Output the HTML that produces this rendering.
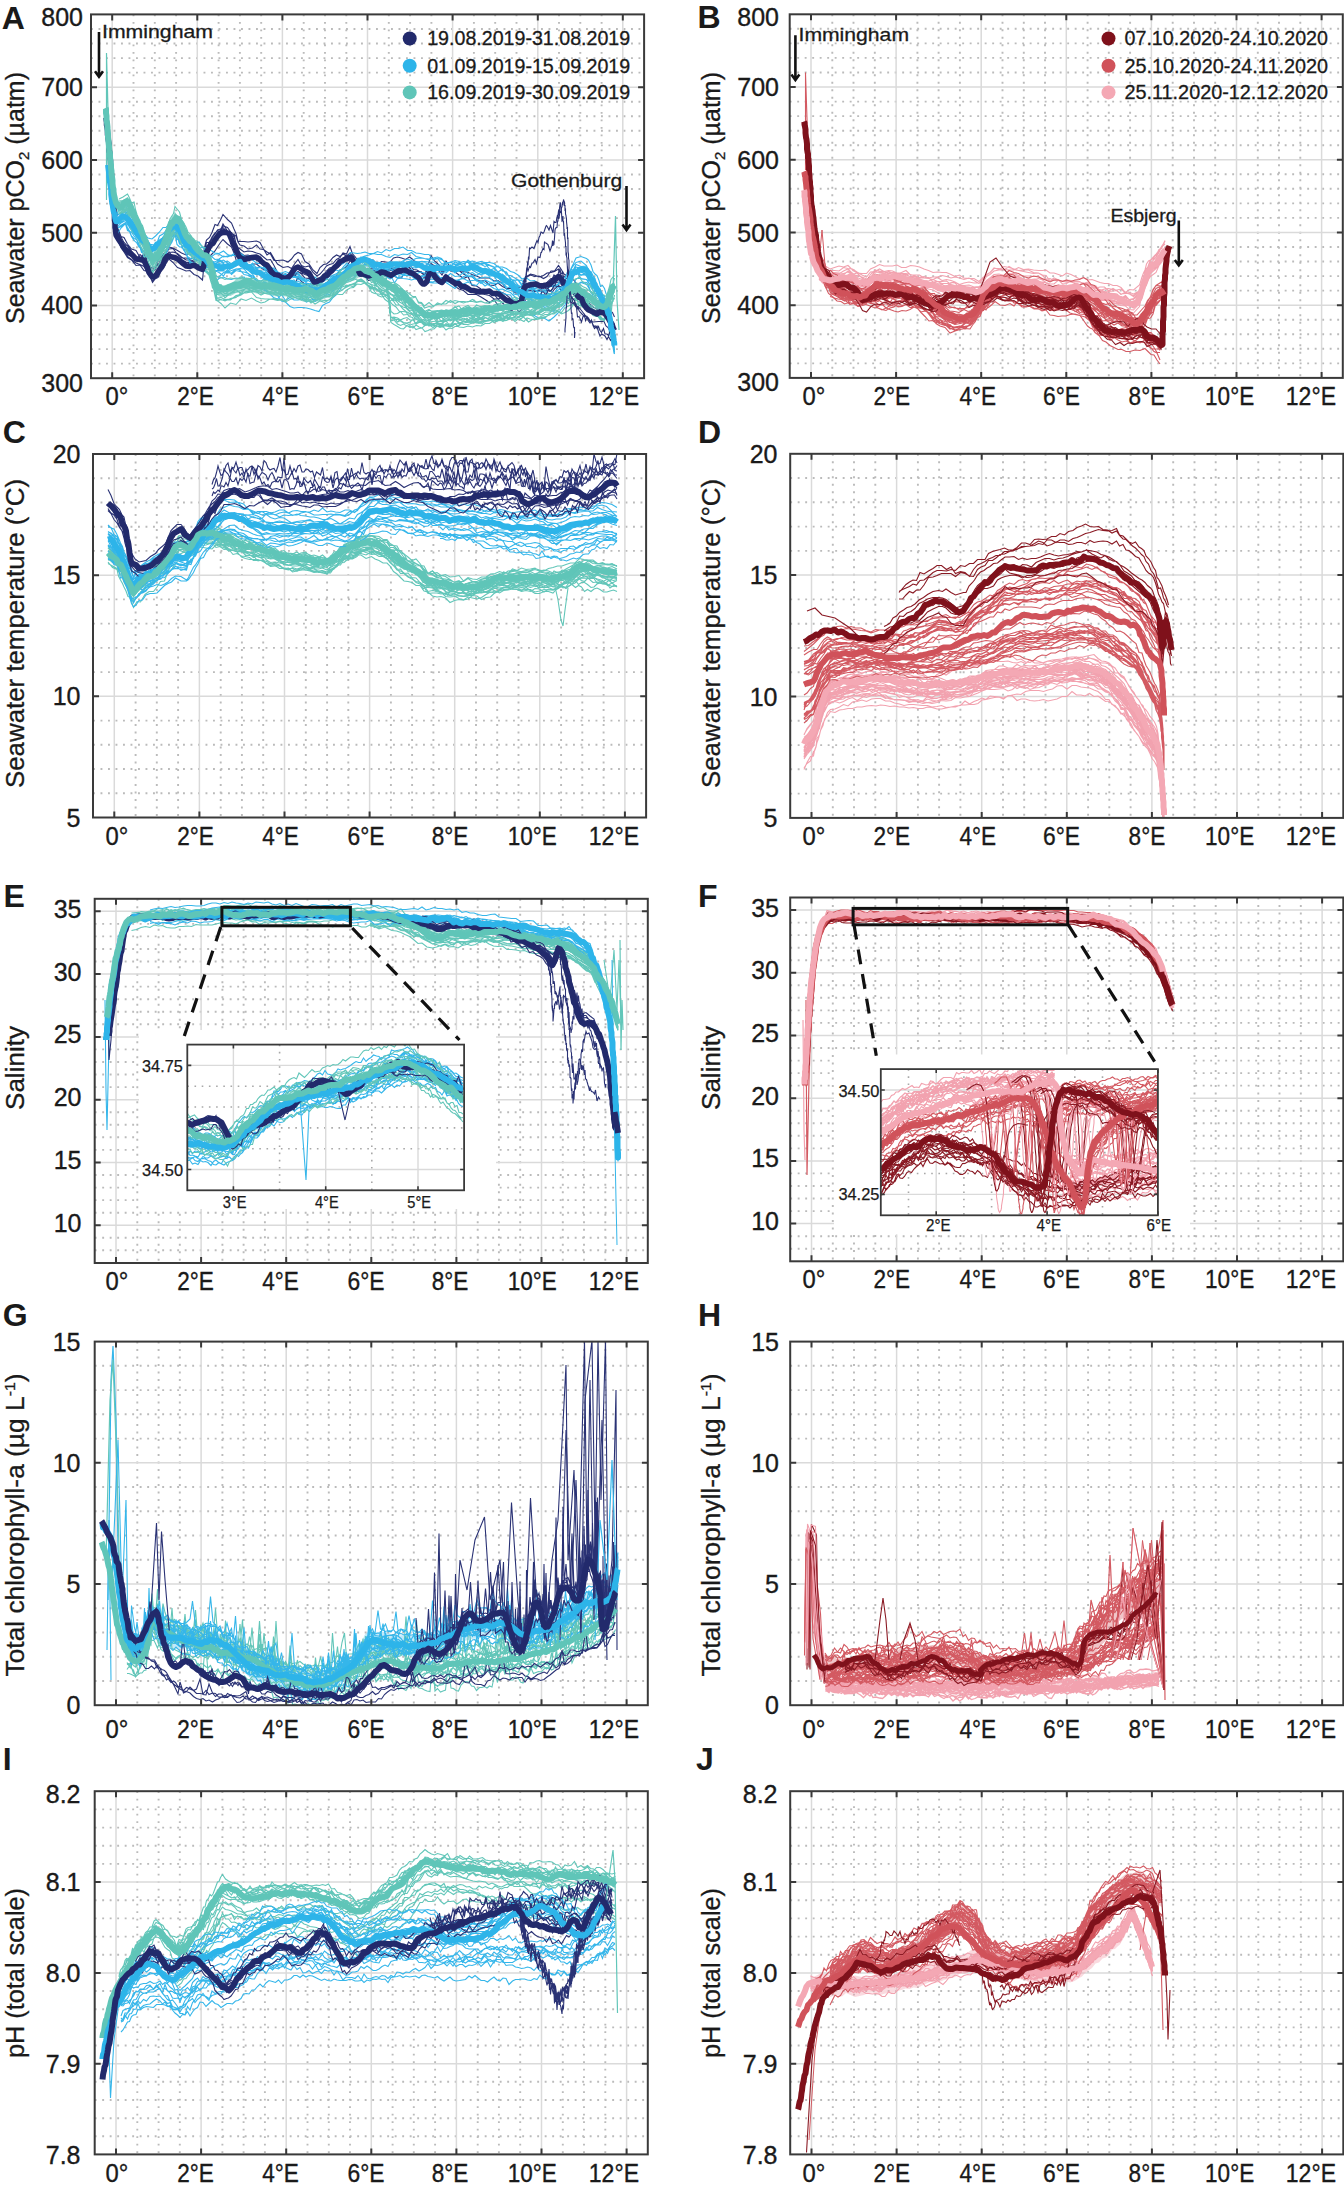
<!DOCTYPE html><html><head><meta charset="utf-8"><style>html,body{margin:0;padding:0;background:#fff;}svg{display:block;}</style></head><body>
<svg width="1344" height="2190" viewBox="0 0 1344 2190" font-family='"Liberation Sans", sans-serif' fill="#1a1a1a">
<rect width="1344" height="2190" fill="#fff"/>
<clipPath id="cA"><rect x="91" y="14.4" width="553.1" height="363.8"/></clipPath>
<g><path d="M133.5 14.4V378.2M154.8 14.4V378.2M176.1 14.4V378.2M218.6 14.4V378.2M239.9 14.4V378.2M261.2 14.4V378.2M303.7 14.4V378.2M325 14.4V378.2M346.3 14.4V378.2M388.8 14.4V378.2M410.1 14.4V378.2M431.4 14.4V378.2M473.9 14.4V378.2M495.2 14.4V378.2M516.5 14.4V378.2M559 14.4V378.2M580.3 14.4V378.2M601.6 14.4V378.2M91 363.6H644.1M91 349.1H644.1M91 334.5H644.1M91 320H644.1M91 290.9H644.1M91 276.3H644.1M91 261.8H644.1M91 247.2H644.1M91 218.1H644.1M91 203.6H644.1M91 189H644.1M91 174.5H644.1M91 145.4H644.1M91 130.8H644.1M91 116.3H644.1M91 101.7H644.1M91 72.6H644.1M91 58.1H644.1M91 43.5H644.1M91 29H644.1" stroke="#bbbbbb" stroke-width="1.9" stroke-dasharray="1.9 5.6" fill="none"/><path d="M112.2 14.4V378.2M197.3 14.4V378.2M282.4 14.4V378.2M367.5 14.4V378.2M452.6 14.4V378.2M537.8 14.4V378.2M622.8 14.4V378.2M91 305.4H644.1M91 232.7H644.1M91 159.9H644.1M91 87.2H644.1" stroke="#dadada" stroke-width="1.5" fill="none"/></g>
<g clip-path="url(#cA)"><path d="M232 471l5 14 5 5 6 13 7 6 8 3 9 4 8-2 8 4 4 8 4 4 5 10 4 3 6-11 5-13 6-6 5 2 6-7 5-3 8-1 9 3 8 7 9 6 8 0 8 4 8-7 9 7 2-12 2-11 2-6 2-10 6 0 5-11 6-8 5-4 6 0 5-7 9 9 8 13 5-8 4 18 4 10 4 11 8 4 8 8 9-7 8 8 7 1 7 9 7 3 7 11 7-1 7 12 11 6 10-1 7-9 6 2 7-10 7 2 7 3 8 3 8 6 8 5 6-8 7-6 6-7 6-6 7-2 7-2 7-10 6-3 7-3 7-6 5 8 5 6 5 12 5 5 9-3 8 7 9-3 9 0 8 4 8-5 8 1 8-3 8-2 8 1 8-4 8 2 8 10 7 11 8 5 7-8 5 2 4-9 4-12 7 8 8 11 7 8 8-11 9 9 8 7 9 3 9 5 9 2 8 3 9-1 9 8 8 2 9 2 9 7 8 0 9 8 8 7 9-4 9-3 8 4 4-9 3-8 3-4 3-7 9-1 8 3 9-4 9-3 7-5 8-2 7-4 8-2 5 4 6 5 8 2 8 10 8 3 5 0 6 5 6 7 6 9 5 5 6 11 11-6 11 9 4 7 4 1 5 13 4 3 4 7M232 456l5 9 5 9 6 11 7 7 8 13 9 13 8-9 8 7 4 6 4 4 5 8 4 2 6 0 5-15 6-4 5-6 6-13 5-4 8 2 9 5 8 5 9 4 8-5 8 0 8 1 9 2 2-2 2-10 2-9 2-7 6-5 5-10 6-16 5 2 6-11 5-11 9 10 8 7 5 12 4 9 4 16 4 0 8 0 8 1 9-1 8-1 7 3 7 13 7 12 7-5 7 12 7 11 11 7 10-2 7 4 6-9 7-9 7 12 7 3 8-2 8 13 8 7 6-4 7-8 6-8 6-3 7-2 7-8 7-4 6-9 7 2 7-15 5 15 5 5 5 7 5 6 9-5 8 2 9-3 9 10 8-7 8 1 8 1 8-9 8-2 8 2 8 3 8-5 8 6 7 10 8 3 7 5 5-9 4-4 4-14 7 11 8 7 7 9 8-16 9 12 8 5 9 2 9 7 9 5 8 0 9 8 9 1 8-1 9 9 9 1 8-5 9 7 8 4 9 0 9 9 8-1 4-7 3-3 3-8 3-12 9-5 8 3 9-1 9 5 7-4 8-11 7 0 8-11 5 7 6 10 8 5 8 3 8 10 5 5 6 10 6 7 6 8 5 0 6 7 11 0 11-6 4 16 4 0 5 9 4 3 4 9M232 471l5 11 5 13 6 9 7 11 8 5 9 11 8-1 8 11 4 1 4 6 5 7 4 7 6-8 5-9 6-9 5-10 6-4 5-12 8 2 9 1 8 6 9 6 8 3 8-1 8 2 9 1 2-14 2-9 2-3 2-10 6 0 5-9 6-1 5-9 6-8 5-8 9 4 8 13 5 6 4 10 4 7 4 6 8 6 8-1 9 4 8-1 7 8 7 10 7 7 7 0 7 12 7 6 11-1 10 6 7-8 6-3 7-7 7 5 7 8 8 1 8 8 8 6 6-6 7-7 6-3 6-11 7-1 7-7 7-5 6-5 7-12 7-2 5 10 5 4 5 4 5 10 9-1 8 9 9-1 9-2 8 3 8 4 8-3 8 2 8 5 8 0 8-14 8 0 8 13 7 3 8 3 7 10 5-14 4 0 4-8 7 3 8 14 7 3 8-13 9 9 8 4 9 3 9 6 9 0 8 4 9-4 9 1 8 2 9 0 9 8 8 9 9-4 8 5 9 4 9 1 8 6 4-9 3-6 3-11 3-8 9-1 8 7 9 0 9 0 7-1 8 1 7-9 8 0 5 0 6 7 8-3 8 9 8 7 5 3 6 8 6 0 6 7 5 0 6 11 11-3 11-6 4 8 4 11 5 6 4 5 4 6M232 475l5 7 5 10 6 2 7 19 8 6 9 7 8 3 8 4 4 8 4 5 5 9 4 10 6-8 5-2 6-12 5-6 6-12 5-7 8 7 9 10 8 3 9 4 8-1 8 8 8 3 9 8 2-20 2-4 2-10 2-1 6-12 5-5 6-6 5-8 6-9 5-6 9 9 8 6 5 12 4 13 4 10 4 1 8 2 8 4 9-8 8 0 7 6 7 5 7 2 7 9 7 11 7 9 11 2 10 3 7-6 6-1 7-13 7 8 7 5 8 2 8 13 8 6 6-9 7-8 6-5 6-8 7 3 7-11 7-10 6-4 7-3 7-12 5 2 5 12 5 7 5 10 9-2 8 10 9-2 9-3 8-6 8-1 8-4 8 4 8-3 8-8 8 3 8 4 8 2 7 10 8 6 7 0 5-9 4-7 4-2 7 8 8 9 7 7 8-12 9 4 8 11 9 6 9 3 9 8 8 0 9 0 9 5 8 5 9 6 9-6 8 12 9 1 8 3 9 7 9-6 8 8 4-5 3-4 3-12 3-5 9-4 8-3 9 3 9-1 7 0 8-5 7-10 8-7 5 10 6 11 8 3 8 11 8 6 5 2 6 7 6 8 6 8 5 5 6 2 11-1 11 0 4 9 4 3 5 9 4 1 4 6M232 458l5 11 5 11 6 10 7 1 8 11 9 12 8 4 8-11 4 16 4 8 5 6 4 7 6-6 5-16 6-6 5-8 6-4 5-6 8-1 9 12 8 7 9 0 8 2 8-4 8-3 9 6 2-7 2-4 2-11 2-2 6-6 5-8 6-5 5-8 6-5 5-13 9 14 8 3 5 9 4 12 4 9 4 3 8 6 8-2 9 1 8 3 7 2 7 6 7 6 7-1 7 12 7 14 11 3 10 1 7 1 6-10 7-6 7-1 7 7 8 7 8 11 8 5 6 1 7-12 6-10 6-2 7-3 7-4 7-8 6-9 7-4 7-2 5 9 5 7 5 7 5-2 9 8 8 1 9 0 9 4 8-2 8 2 8-2 8-4 8-5 8-1 8 1 8-3 8 9 7 1 8 5 7 6 5-9 4-7 4-6 7 2 8 4 7 10 8-11 9 8 8 1 9 7 9 7 9-4 8 18 9 1 9 6 8 1 9 3 9 3 8 0 9 0 8 5 9 8 9 7 8 6 4-12 3-8 3-11 3-11 9-1 8 0 9 4 9 1 7-8 8-8 7 0 8-6 5 11 6 9 8 5 8 8 8 3 5 8 6 2 6 8 6 8 5 4 6 10 11-7 11 7 4 3 4 4 5 6 4 9 4 5M232 452l5 8 5 13 6 2 7 13 8 10 9 3 8 14 8-1 4 0 4 15 5 3 4 11 6-10 5-3 6-10 5 0 6-7 5-9 8 10 9 2 8 3 9 5 8 1 8-6 8 1 9 3 2-12 2-7 2-6 2-2 6-13 5-7 6-8 5-8 6-2 5-6 9 3 8 11 5 4 4 2 4 12 4 6 8 2 8 6 9-2 8-6 7 8 7 1 7 5 7 4 7 13 7 0 11-1 10 4 7-6 6-8 7-5 7 3 7 15 8 5 8 12 8 7 6-12 7-6 6-1 6-5 7-8 7-5 7 3 6-5 7 4 7-6 5 6 5 9 5 13 5 6 9 1 8-4 9-1 9 3 8 5 8-3 8-3 8-2 8-2 8 4 8-8 8 5 8 9 7-1 8 0 7 7 5-13 4-3 4-7 7 5 8 9 7 9 8-14 9 4 8-3 9 3 9 3 9 2 8 4 9 3 9 4 8 0 9 0 9 6 8-1 9 6 8 11 9-5 9 5 8-3 4-1 3-8 3-9 3-3 9-6 8 2 9 4 9-3 7-5 8-1 7-2 8-5 5 13 6 2 8 6 8 9 8 8 5 4 6 8 6 6 6 12 5 2 6 6 11 5 11 1 4 11 4 7 5 4 4 0 4 10" stroke="#2a3275" stroke-width="2.2" fill="none" transform="scale(.5)"/><path d="M234 469l8-13 9-9 4 8 4 7 4 10 5 5 5 2 5 12 5 5 5 7 8 13 8 11 7-5 8-15 7 3 6-2 6-14 6-10 6-16 4 21 5 5 4 0 4 5 5 9 4 9 7 15 7-6 8 8 7 3 8 6 9 6 8 4 8 1 9-9 8 1 8 0 9-8 8 2 8 9 9 2 8 5 8 5 9 6 8 12 8 5 9 4 8 3 8 11 8 2 9 9 8 3 8-1 8 0 9 1 8 2 9 3 8 2 7-12 7-4 7-3 7-9 7-6 7-9 7-14 7-4 7-3 7-4 7-10 7-5 8 6 8-3 9 8 8 0 8 4 9 3 8-10 9 18 8-12 9 3 9 1 8 2 9-3 9 7 8-1 9 2 8 1 9 0 8-2 9 1 9 6 9 6 8-11 9 2 9-4 9 5 8 2 9-10 8 5 9 5 9 6 8 3 9 6 8 3 8 1 7 12 8 10 8 0 8 16 9 1 8 2 9 6 10-1 10 6 10-8 7-7 8-9 7-8 4-13 5-3 4-14 4 0 5-9 10-7 11 1 4 5 5 16 4 2 4-1 4 22 4 8 3 12 4-6 4 7 3 7 4 2 2 16 1 13 2 5 2 7 1 10 2 4 2 12 1 2M234 435l8 3 9-11 4 0 4 11 4 13 5 3 5 6 5 18 5 2 5 7 8 11 8-1 7-9 8 4 7-13 6-3 6 2 6-13 6-11 4 16 5 6 4 2 4 0 5 17 4-1 7-1 7-2 8 6 7 7 8 3 9 12 8 10 8-6 9-3 8 6 8 6 9-7 8 0 8 8 9 3 8 4 8 7 9-3 8 4 8 3 9-1 8 3 8 4 8-2 9-2 8-1 8 7 8-1 9 8 8 2 9-1 8 2 7-6 7-6 7-4 7-2 7-4 7 0 7 1 7-8 7-7 7-5 7 0 7-5 8-1 8-5 9 4 8 6 8-1 9 10 8-9 9 1 8-1 9-5 9 8 8-6 9 0 9-1 8 0 9 1 8 0 9 6 8 0 9 0 9 3 9 2 8 1 9 0 9-4 9 5 8 1 9 1 8 4 9-2 9 8 8-3 9 9 8 2 8 8 7-4 8-1 8 12 8 1 9 0 8 14 9 5 10-13 10 9 10 0 7-2 8-5 7-9 4-4 5 0 4-7 4-13 5-9 10 11 11-5 4 2 5 18 4 6 4 8 4 8 4 7 3 2 4 8 4 11 3 14 4 1 2 10 1 5 2 7 2 3 1 11 2 0 2 23 1-1M234 458l8-7 9-6 4 11 4 7 4 1 5 8 5 6 5 10 5 17 5-3 8 12 8 9 7-5 8-15 7-4 6-10 6-8 6-6 6-11 4 8 5 13 4 5 4 3 5 1 4 8 7 9 7 7 8 4 7 7 8 7 9-1 8 9 8-6 9 3 8 4 8-4 9-3 8-1 8 1 9 10 8 4 8 10 9 4 8-1 8 5 9 6 8-1 8 10 8-4 9 7 8-4 8 0 8 8 9 3 8-1 9 9 8-5 7-2 7-10 7 4 7-9 7-7 7-9 7-8 7-1 7-11 7-7 7-6 7-1 8-2 8 0 9 5 8 6 8-1 9 0 8-2 9 7 8 6 9-1 9-4 8 7 9 3 9-2 8-3 9 13 8 1 9-4 8-5 9 0 9 4 9 1 8 1 9-8 9-1 9-1 8 8 9-3 8-2 9 1 9 9 8-2 9 6 8 0 8 3 7 17 8 2 8 12 8-5 9-1 8 13 9 0 10 5 10 7 10 2 7-12 8-8 7-3 4-4 5 0 4-15 4-10 5 2 10-8 11 4 4 6 5 9 4 8 4 1 4 14 4-3 3 12 4 5 4 1 3 1 4 19 2 1 1 9 2 8 2 9 1 7 2 0 2 19 1 9M234 431l8-5 9-2 4 6 4 9 4 2 5 17 5 3 5 2 5 10 5 9 8 10 8 6 7-4 8-9 7-3 6-7 6-9 6-2 6-17 4 7 5 4 4 13 4 3 5 13 4 0 7 4 7 6 8 6 7 5 8 4 9 10 8 2 8-5 9 6 8-3 8 6 9-5 8-7 8 7 9 6 8 0 8 6 9-1 8 5 8 3 9 1 8 1 8 4 8 10 9 4 8 3 8-3 8 5 9 0 8 9 9-9 8-1 7 9 7-8 7 1 7-13 7 0 7-7 7 0 7 1 7-9 7-11 7-2 7 5 8 0 8 0 9 5 8 0 8-3 9 6 8-3 9-11 8 0 9 0 9 0 8 3 9 3 9-4 8-3 9 3 8 3 9 1 8 5 9-1 9-6 9 4 8-4 9-3 9 9 9-10 8 1 9 0 8 0 9 4 9 4 8-3 9 10 8 2 8 15 7 1 8 10 8 7 8 1 9 1 8 0 9 9 10 1 10 3 10 2 7-4 8-10 7-4 4-11 5-3 4-9 4-10 5-9 10 4 11 4 4 9 5 5 4 7 4 9 4 2 4 14 3 11 4 2 4 8 3 5 4 4 2 7 1 10 2 2 2 9 1 14 2 4 2 16 1 8M234 449l8-5 9-7 4 4 4 15 4 0 5 11 5 7 5 0 5 7 5 3 8 5 8 15 7-9 8-1 7-12 6 3 6-10 6-7 6-12 4 9 5-5 4 8 4 8 5 12 4 1 7 7 7 8 8 8 7 2 8 3 9 3 8 15 8-8 9 2 8 0 8 4 9-1 8-4 8 9 9-1 8 3 8 3 9 4 8 4 8 2 9 4 8 5 8-5 8 2 9-6 8 1 8-1 8 6 9 8 8 2 9 0 8-1 7 1 7 2 7-7 7-1 7-7 7 0 7-3 7 2 7-8 7 5 7-10 7-8 8 11 8-5 9 5 8 1 8-5 9 4 8-9 9 1 8-10 9-4 9-4 8 3 9-4 9-1 8 1 9 3 8-4 9-2 8 3 9 11 9-4 9 6 8-1 9-2 9-3 9 16 8-9 9 8 8-3 9 5 9-4 8 7 9 7 8 7 8 0 7 3 8-2 8 10 8-3 9 7 8 3 9 3 10 1 10-1 10 8 7-11 8-2 7 0 4-7 5-5 4-5 4-15 5-1 10 4 11 1 4 13 5 5 4 8 4 11 4-1 4 6 3 17 4 2 4 0 3 5 4 15 2 8 1 8 2 12 2 10 1 5 2 11 2 7 1 12M234 445l8-7 9 1 4 10 4 5 4 3 5 4 5 5 5 11 5 6 5 3 8 5 8 9 7-8 8-8 7-10 6-1 6-16 6 2 6-11 4 9 5 4 4 9 4 7 5 9 4 13 7 6 7-4 8 4 7 2 8 3 9 2 8 7 8-1 9-6 8 2 8-3 9-1 8-4 8 11 9 13 8 2 8 8 9 5 8 4 8 12 9 5 8 1 8 9 8-5 9 3 8 4 8-5 8 8 9-10 8-4 9 6 8 6 7-4 7 0 7-11 7-6 7-2 7-2 7-10 7-9 7 1 7 3 7-13 7-12 8 10 8 5 9 2 8 1 8 6 9 8 8-6 9-3 8-2 9-4 9 3 8-5 9 5 9-6 8-3 9 4 8 4 9-3 8 0 9 0 9 3 9-9 8 3 9-4 9 1 9 3 8 4 9-2 8-2 9 11 9 6 8 6 9-2 8 8 8 7 7 3 8 7 8-1 8 11 9-7 8 3 9 4 10 0 10 8 10-4 7-6 8-5 7-10 4-5 5-17 4-4 4-1 5-10 10 4 11-1 4 12 5-1 4 8 4 6 4 14 4 6 3 4 4 8 4 4 3 15 4 11 2 5 1 4 2 9 2 9 1 8 2 6 2 8 1 6M234 455l8-9 9-5 4 6 4 5 4 1 5 11 5 6 5 5 5 13 5 1 8 18 8 8 7-6 8-3 7-7 6-5 6-3 6-10 6-10 4 8 5-3 4 14 4 8 5 8 4 12 7 7 7 1 8 6 7 9 8 3 9 6 8 14 8-7 9-3 8 4 8 1 9-3 8 1 8-3 9 12 8-1 8 12 9 1 8 3 8 5 9 9 8 3 8-9 8 12 9-6 8 5 8 0 8-2 9 6 8-4 9-1 8-1 7-4 7-3 7-10 7 2 7-8 7-4 7-10 7-1 7-6 7-6 7-4 7-3 8-2 8 6 9-6 8 1 8 11 9 1 8 6 9-7 8-4 9-3 9-2 8-3 9 9 9-4 8 2 9-1 8 11 9-7 8 10 9-4 9-8 9 6 8-1 9-7 9 8 9 1 8 8 9 2 8 8 9-6 9 2 8 11 9-1 8 4 8 3 7 7 8 9 8 0 8 3 9-5 8 7 9 6 10-1 10 3 10 7 7-11 8-11 7-1 4-8 5-12 4 0 4-6 5-15 10 0 11 2 4 4 5 12 4 6 4 5 4 1 4 10 3 5 4 5 4 5 3 11 4 10 2 9 1 5 2 8 2 11 1 9 2 4 2 15 1 0M234 457l8-4 9-5 4 13 4 2 4 10 5 8 5 4 5 9 5 3 5 17 8-4 8 7 7-9 8 6 7-14 6-11 6-2 6-6 6-12 4 2 5 17 4 1 4 11 5-3 4 11 7 3 7 7 8-2 7 8 8 9 9 4 8 4 8 0 9-2 8-3 8-6 9 2 8-11 8 13 9 7 8 7 8 12 9 2 8-4 8 5 9 3 8 5 8 2 8 11 9-10 8 10 8-6 8 7 9 4 8-2 9 1 8-3 7-1 7-14 7 7 7-6 7-9 7-4 7-7 7-5 7 2 7-10 7 0 7-8 8 9 8 6 9-3 8 4 8 3 9 1 8 1 9 0 8 6 9-6 9 0 8 1 9 7 9-1 8-1 9 2 8-1 9 1 8-1 9 4 9 4 9-3 8-4 9-2 9 5 9-1 8-1 9 7 8-7 9 4 9 3 8-1 9 0 8 12 8 3 7-5 8 12 8 1 8 4 9 5 8 3 9-4 10 8 10-4 10 5 7-4 8-11 7 4 4-18 5-14 4-6 4-10 5-1 10 4 11 0 4 11 5-2 4 14 4 1 4 13 4 6 3-3 4 18 4-3 3 10 4 3 2 10 1 10 2 9 2 15 1 8 2 9 2 15 1 9M234 440l8 0 9-11 4 9 4 3 4 5 5 12 5 3 5 12 5 0 5 6 8 3 8 12 7-4 8-10 7-5 6 0 6-1 6-14 6-10 4 7 5-4 4 10 4 11 5 8 4 3 7 11 7 7 8 4 7 12 8-1 9 6 8 10 8 1 9 2 8-11 8 5 9-4 8 0 8 0 9 7 8 0 8 3 9-2 8 1 8 6 9-2 8 10 8-4 8-3 9 4 8-3 8 1 8 11 9 7 8-5 9 7 8 3 7-4 7-5 7-8 7-8 7-3 7 3 7-10 7-7 7 9 7-3 7-11 7-1 8 4 8 3 9 1 8 9 8 3 9-6 8-1 9-3 8 2 9-4 9 6 8-5 9-3 9 4 8 1 9-3 8 11 9-6 8 3 9 1 9-7 9 11 8-5 9 1 9-3 9 6 8 5 9 5 8-4 9 6 9 0 8 12 9 2 8 8 8 1 7 6 8 5 8 4 8-6 9 13 8-3 9 5 10 2 10-4 10 6 7-5 8 1 7-12 4-7 5-6 4-12 4-11 5-8 10 8 11-3 4-1 5 6 4 19 4 2 4 8 4 5 3-1 4 14 4 10 3-3 4 12 2 6 1 8 2 14 2 9 1 2 2 8 2 9 1 12M234 439l8-7 9-5 4 14 4 3 4 7 5 5 5 11 5 7 5 0 5 4 8 12 8-1 7 2 8-1 7-7 6-2 6-12 6-8 6-12 4 14 5 2 4 14 4 3 5 9 4 13 7 1 7 2 8 12 7 5 8 3 9 4 8-2 8-8 9 6 8 10 8-5 9-5 8-8 8 1 9 14 8-8 8 11 9 9 8-1 8 4 9 11 8 4 8 5 8 0 9 5 8 5 8 4 8-8 9 1 8 3 9 2 8 2 7-9 7 6 7-10 7-3 7-12 7-2 7 6 7-9 7-19 7 0 7-9 7-2 8 6 8 2 9-5 8 7 8-2 9-1 8-4 9 5 8 2 9-2 9 7 8-5 9 3 9-1 8 2 9 12 8 0 9-9 8 4 9-2 9-5 9 3 8-3 9-1 9 1 9 4 8 2 9 1 8-3 9 9 9 4 8 5 9 2 8 6 8 11 7 0 8 9 8 5 8 7 9 3 8 4 9 1 10-5 10 6 10 0 7-5 8-7 7-10 4-7 5-1 4-15 4-11 5-7 10-1 11 1 4 6 5 11 4-2 4 8 4 11 4 14 3 6 4 6 4 9 3 6 4 9 2 13 1 11 2 9 2 2 1 3 2 9 2 5 1 6M234 439l8-5 9 1 4 5 4 8 4-5 5 6 5 17 5-3 5 20 5 2 8 3 8 1 7 4 8-7 7-6 6-5 6-5 6-10 6-16 4 10 5 12 4 10 4 5 5 15 4 5 7 0 7 5 8 4 7 11 8 3 9 0 8 4 8 14 9 0 8 1 8-7 9-7 8-5 8 1 9 13 8-1 8 8 9-2 8-2 8 8 9 8 8 2 8-8 8 4 9 10 8-2 8 4 8-1 9 6 8 0 9 3 8-4 7-2 7-3 7-4 7 6 7-10 7-7 7-4 7-1 7-14 7-2 7-13 7 2 8 10 8 0 9 7 8-8 8 8 9-5 8 1 9 6 8-6 9-1 9-5 8 9 9 1 9-3 8 0 9-4 8 4 9 1 8 2 9-7 9 3 9 1 8-8 9-2 9 2 9 5 8-4 9-3 8 3 9 4 9 5 8-2 9 7 8 6 8 10 7 9 8 11 8-1 8 8 9 1 8 1 9 9 10 17 10-10 10-1 7 0 8-5 7-3 4-12 5-5 4-11 4-11 5-7 10-4 11 10 4 3 5 7 4 14 4-3 4 8 4 3 3 6 4 7 4 3 3 10 4 1 2 13 1 5 2 11 2 13 1 6 2 10 2 0 1 21M234 451l8-12 9-2 4 8 4 9 4 7 5 5 5 3 5 6 5 4 5 13 8 10 8-2 7 1 8-9 7-5 6-5 6-1 6-6 6-9 4 8 5 4 4 12 4 8 5 9 4 7 7 4 7-4 8 7 7 8 8 4 9-1 8 9 8 4 9 7 8-13 8 10 9-8 8 2 8 1 9 3 8 9 8 4 9 8 8-4 8 5 9 1 8-7 8 1 8-2 9 1 8-3 8 12 8-2 9 1 8-2 9 10 8-9 7 5 7-5 7 0 7 0 7-5 7-7 7-11 7 8 7-3 7-5 7 0 7-7 8-1 8 5 9 0 8-3 8 0 9 12 8-8 9 8 8-9 9 5 9 1 8 0 9-4 9 10 8-5 9-5 8-2 9 2 8-1 9 1 9-8 9 8 8-8 9-4 9 14 9-3 8 6 9-6 8 1 9 3 9 2 8 4 9 9 8 2 8 6 7 3 8 6 8 4 8 6 9-1 8 1 9-1 10 0 10 7 10-1 7-7 8-8 7-2 4-9 5-1 4-3 4-13 5-12 10 17 11 1 4 7 5 2 4 13 4 5 4 6 4 2 3 7 4 6 4 11 3 9 4 3 2 8 1 6 2 14 2 6 1 9 2 11 2 15 1 8M234 427l8-15 9-6 4 18 4 1 4 7 5 16 5 1 5 11 5 6 5 1 8 9 8 2 7-6 8-8 7-9 6 0 6-7 6-5 6-3 4 1 5 7 4 13 4 7 5 5 4 2 7 19 7-5 8 5 7 1 8 9 9 10 8-6 8 0 9 6 8-2 8-2 9 1 8 5 8-1 9-3 8 8 8 6 9 1 8 3 8 8 9-2 8 7 8 9 8-5 9 9 8-1 8-1 8 8 9-1 8-3 9-4 8 8 7-10 7-5 7-3 7-3 7-7 7-5 7-2 7-9 7-13 7 1 7 1 7-1 8-2 8 3 9 0 8 2 8 0 9 4 8 2 9-6 8 2 9-3 9 1 8-4 9 8 9 2 8 2 9 1 8-2 9 1 8 10 9 1 9-3 9 3 8-1 9-4 9 1 9-2 8 3 9-2 8 2 9 0 9 2 8 7 9 0 8 3 8 6 7 2 8 5 8 8 8-3 9 7 8-1 9 8 10 5 10-2 10 2 7-4 8-5 7-2 4-17 5 5 4-14 4-6 5-6 10-3 11 9 4 9 5 4 4 8 4 9 4 6 4 17 3-5 4 21 4 10 3 2 4 4 2 11 1 0 2 10 2 5 1 14 2 6 2-1 1 16M234 428l8 0 9-6 4 6 4 7 4 9 5 9 5 1 5 16 5 1 5 8 8 7 8 16 7-8 8-22 7-4 6-7 6-6 6-12 6-2 4 8 5 4 4 8 4 11 5 3 4 9 7-4 7 7 8-3 7 10 8 2 9 5 8 5 8 1 9-5 8 7 8 3 9-10 8 4 8 6 9 5 8 2 8 8 9-1 8 10 8 0 9 1 8 10 8 3 8 0 9-1 8-2 8 2 8 6 9 4 8 5 9-4 8 9 7-11 7 1 7-1 7-8 7-2 7-9 7-1 7-8 7-1 7-3 7-9 7-2 8-3 8-2 9-3 8-4 8 3 9-7 8 3 9-5 8 0 9-3 9 7 8 0 9 5 9 1 8 2 9 0 8 11 9-3 8 2 9 6 9 0 9-4 8 2 9 10 9-13 9 8 8 2 9-1 8 4 9-3 9 4 8 10 9-6 8 12 8 1 7 4 8 5 8 1 8 12 9-2 8 7 9-8 10 4 10 1 10-5 7-1 8-13 7-1 4-7 5-4 4-9 4-8 5-11 10-3 11 4 4 3 5 10 4 13 4 5 4 3 4 10 3 12 4-2 4 6 3 10 4 7 2 7 1 6 2 10 2 17 1 12 2 8 2 11 1 13" stroke="#35b6ea" stroke-width="2.2" fill="none" transform="scale(.5)"/><path d="M220 299l0 7 1 7 1 5 1 6 1 11 1 10 1 10 1 9 1 8 3 15 3 9 4 8 8-2 9-8 4 5 4 8 5 13 2 1 4 10 3 5 4 4 4 13 3 12 4 8 3 9 3 10 3 9 4 5 5-4 5-5 5-12 6-13 3-4 4-8 3-7 3-12 4-7 3-5 4 3 4 2 5 6 4 8 4 8 5 13 4 7 6 4 7 9 6 5 5 4 9 8 9 5 2 7 2 12 3 4 2 7 2 10 3 6 2 7 8 7 8-1 11-2 11-9 10-8 10 6 9 0 12 4 7-1 9 0 8 4 9 2 9 1 8-4 9 3 8 0 8 1 8 2 9 2 9-1 8 1 8-1 10-2 9-2 10-6 7-1 6-2 7-12 7-3 6-3 8-8 9 0 8 1 5-3 0 24-5 2-8 6-9 2-8 4-6 7-7 2-7 8-6 4-7 3-10 7-9 2-10-1-8-4-8 0-9 2-9 1-8-2-8 0-8-3-9-1-8 1-9-1-9-2-8-3-9-2-7 2-12-4-9 1-10 1-10 1-11 6-11 0-8 4-8-7-2-2-3-5-2-11-2-7-3-7-2-8-2-13-9-8-9-5-5-3-6-6-7-7-6-12-4-7-5-9-4-10-4-6-5-7-4-7-4 4-3 8-4 10-3 9-3 9-4 12-3 8-6 11-5 4-5 5-5 2-4-1-3-12-3-8-3-10-4-11-3-2-4-7-4-12-3-10-4-7-2-6-5-14-4-7-4 0-9 3-8 2-4-6-3-4-3-15-1-9-1-8-1-10-1-9-1-10-1-12-1-11-1-3 0-6z" fill="#62c6b9" opacity="0.6" transform="scale(.5)"/><path d="M238 427l8-3 9-4 4 10 4 5 5 5 3 14 3 12 4 10 3 7 4 6 3 10 3 5 4 12 3 10 4 9 3 10 5-12 6-1 5-10 5-8 3-8 4-9 3-13 4-1 3-17 4-2 3-8 4 5 5 7 4 4 4 6 5 8 4 9 6 11 6 6 6 2 6 1 9 14 9 6 2-1 2 11 3 9 2 11 2 9 3 6 2 3 8-3 8 8 11-8 11-6 10 0 10-2 11 3 10 5 9 2 8 5 8-3 9-3 8 6 8 2 8 1 9 3 8 1 8 4 8 3 9 2 9-2 8 7 10-6 9 3 10-6 7-8 6-4 7-4 6-3 7-7 8-4 7 1 7-8 8-4 7 5 7 9 7 6 6-4 7 6 7 9 7 1 7 3 8 5 7-5 7 9 7-5 6 3 6 10 7 6 6 11 6 4 6 7 6 11 9 0 8 6 9-6 8 0 9 1 9 0 9-13 8 8 9 4 9 0 9-3 8-3 9-5 8 4 9-1 9-5 8-1 9 3 8-3 9-9 9 3 8-5 9 1 9 0 8-3 9-6 8 3 9-3 8 1 9-1 7-3 8-5 7-5 7 4 7-11 8 5 6 2 7 10 7 4 7 7 7 0 7 5 8 11 7-3 4-8 3-2 4-12 3-9 4-5 3-4M238 420l8-1 9-2 4 9 4 3 5 11 3 1 3 10 4 8 3 6 4 12 3 10 3 0 4 12 3 5 4 10 3 3 5-1 6-1 5-9 5-6 3-7 4-5 3-17 4-5 3-7 4-7 3-13 4 11 5 8 4 4 4 7 5 9 4 6 6 2 6 7 6 8 6 8 9 5 9 10 2 6 2 5 3 5 2 6 2 15 3 4 2 7 8 3 8 8 11-5 11-8 10 5 10-4 11-2 10 8 9-4 8 3 8 8 9 4 8 3 8-3 8-3 9 5 8 4 8 4 8-3 9 8 9-5 8-3 10-4 9-3 10-4 7-7 6 0 7-1 6-9 7-9 8 0 7-1 7-7 8-5 7-1 7 6 7 7 6 4 7 5 7-4 7 11 7 1 8 1 7 8 7 9 7 7 6-5 6 2 7 16 6 1 6 5 6 7 6 5 9 1 8-4 9 2 8 1 9 2 9-6 9 2 8 5 9-2 9-5 9 7 8-5 9 1 8-1 9-2 9-9 8 2 9-1 8-6 9-1 9-3 8 4 9-1 9 1 8 2 9-10 8 2 9-3 8 0 9-6 7-4 8-5 7-8 7-7 7-5 8 2 6 5 7 13 7 1 7 3 7 11 7-3 8 13 7 5 4-4 3-11 4 2 3-19 4 3 3-11M238 405l8-2 9-5 4 1 4 8 5 11 3 5 3 13 4 10 3 7 4 5 3 9 3 3 4 10 3 7 4 9 3 2 5 2 6-6 5-11 5-3 3-7 4-13 3-8 4-14 3-5 4-6 3-14 4 5 5 6 4 15 4 6 5 9 4 10 6 7 6 10 6 1 6 7 9 7 9 11 2 5 2 6 3 6 2 3 2 8 3 15 2 3 8 2 8 4 11-3 11 2 10-2 10 2 11-1 10 0 9 10 8 4 8-6 9 1 8-8 8 12 8-4 9-2 8 5 8-2 8 1 9 2 9-2 8 2 10-2 9-9 10 1 7-4 6-1 7-12 6-5 7-1 8-5 7-12 7 3 8-3 7 5 7 4 7 14 6 0 7 4 7 6 7 6 7 11 8 3 7 13 7-6 7 15 6-2 6 2 7 1 6-2 6 10 6 1 6 7 9-7 8 7 9-3 8-1 9 0 9-7 9 6 8-4 9 3 9-3 9 0 8 2 9-2 8 3 9 1 9-7 8 2 9 3 8-4 9 3 9-6 8-1 9 0 9 3 8-6 9 5 8-8 9 1 8-5 9-1 7-2 8-2 7-6 7-12 7-6 8 1 6-5 7 9 7 5 7 1 7 12 7 10 8-2 7 1 4 3 3-7 4-13 3-14 4-5 3-3M238 422l8-5 9 1 4 0 4 11 5 5 3 5 3 8 4 7 3 13 4 10 3 8 3 10 4 3 3 7 4 6 3-1 5-4 6-3 5-10 5-9 3-8 4-4 3-12 4-9 3-5 4-6 3-8 4 5 5 8 4 8 4 8 5 4 4 6 6 3 6 6 6 6 6 9 9 12 9 11 2 14 2 3 3 6 2 13 2 4 3 12 2-3 8 4 8 7 11-1 11-4 10-2 10-1 11 7 10-6 9 7 8-4 8 1 9 7 8-1 8 1 8 3 9-6 8 1 8 6 8-4 9 3 9 2 8-1 10-13 9 5 10-6 7-4 6-1 7-10 6 2 7-4 8-4 7-2 7-3 8-8 7 4 7 5 7 6 6 4 7 7 7 7 7 2 7 4 8 3 7 5 7 6 7 3 6 8 6 1 7 9 6 0 6 8 6 0 6 3 9-4 8 6 9-2 8 1 9 0 9-2 9 6 8 1 9-5 9 2 9 1 8-6 9 8 8 0 9 1 9-3 8-1 9 1 8-4 9 1 9 3 8-1 9 0 9-4 8 5 9-9 8-4 9 6 8-4 9-6 7-11 8 3 7-8 7-5 7-3 8-6 6 2 7 2 7 8 7-2 7 15 7-1 8-3 7 17 4-8 3-5 4-8 3-6 4-9 3-6M238 407l8 3 9-8 4 9 4 10 5 8 3 5 3 10 4 12 3 3 4 4 3 11 3 5 4 12 3 4 4 4 3 13 5-9 6-9 5-8 5 4 3-12 4-10 3-7 4 0 3-10 4-4 3-6 4 12 5 1 4 7 4 16 5 2 4 8 6 8 6 7 6 11 6 8 9 5 9 10 2 4 2 7 3 7 2 8 2 11 3 9 2 7 8-2 8 5 11-5 11-3 10-3 10-4 11-2 10 2 9 1 8-2 8-1 9-4 8 7 8 1 8 8 9-1 8 0 8 2 8 1 9 3 9-4 8 9 10-4 9-5 10-3 7 1 6-8 7-12 6 5 7-6 8-2 7-4 7-9 8 0 7 5 7-3 7 13 6-2 7 11 7 5 7 3 7 6 8 1 7 8 7 2 7 1 6 12 6 2 7 4 6 3 6 15 6 5 6-3 9 4 8 1 9-1 8 1 9-12 9 9 9-9 8 1 9-3 9-2 9-8 8 3 9-4 8 0 9 6 9-14 8 12 9-2 8 4 9-6 9-1 8-1 9-2 9-3 8 4 9-1 8 1 9 2 8-3 9 6 7-12 8-7 7-8 7-4 7-1 8-4 6 9 7 6 7 5 7 8 7 6 7 5 8 7 7-5 4-11 3 0 4-12 3-5 4-10 3-3M238 411l8-1 9-2 4 6 4 10 5 14 3 8 3 0 4 10 3 8 4 11 3 8 3 13 4 9 3 9 4 4 3 8 5-7 6-11 5-4 5-5 3-7 4-13 3-4 4-10 3-2 4-15 3-1 4 4 5 6 4 3 4 9 5 6 4 3 6 4 6 7 6 11 6 7 9 7 9 8 2 8 2 6 3 9 2 8 2 8 3 6 2 12 8-4 8 4 11-2 11-2 10 2 10-4 11 9 10-8 9-1 8 0 8 3 9-5 8 1 8 8 8-9 9 0 8 2 8 10 8-11 9 10 9 2 8-2 10-2 9-5 10 2 7-11 6-5 7-2 6-1 7-11 8-6 7 3 7-3 8 0 7 2 7 6 7 8 6 9 7 2 7 7 7 4 7 5 8 6 7 0 7 6 7 3 6 3 6 7 7 5 6-1 6 11 6 4 6 2 9 10 8-3 9 0 8-6 9-2 9 4 9-4 8 2 9 2 9-2 9-4 8 0 9-3 8-4 9-6 9 3 8 1 9-6 8 1 9 5 9-4 8 2 9-1 9-1 8-2 9-2 8 2 9-5 8 4 9-6 7 1 8-3 7-2 7-7 7-13 8-2 6 7 7 10 7 5 7 8 7 4 7 4 8 4 7 5 4 1 3-10 4-17 3-1 4-11 3-6M238 445l8-8 9 4 4 6 4 14 5 6 3-2 3 11 4 6 3 9 4 9 3 11 3 8 4 11 3 2 4 9 3 6 5-10 6-1 5-12 5-9 3-4 4-11 3-4 4-10 3-11 4-8 3-10 4 8 5 11 4 5 4 7 5 6 4 12 6 1 6 12 6 12 6 6 9 4 9 9 2 7 2 7 3 8 2 6 2 9 3 14 2 0 8 6 8 9 11-10 11 3 10-11 10 3 11-5 10 6 9 4 8-2 8-5 9-2 8 2 8-1 8 4 9-14 8 6 8 4 8 0 9-1 9 9 8-5 10 1 9-1 10-1 7-6 6-6 7 1 6 0 7-8 8-5 7-1 7-7 8 1 7-3 7 5 7 13 6 3 7 1 7 1 7 10 7 5 8-5 7 11 7 0 7 4 6 2 6 6 7 5 6 3 6 7 6 6 6 1 9 0 8 6 9-5 8 7 9 0 9 2 9-7 8 7 9 1 9-3 9 2 8-3 9 1 8-5 9 0 9-6 8-2 9 0 8 2 9-12 9 1 8-5 9-2 9 1 8 1 9-1 8 1 9-6 8 0 9-5 7 1 8-2 7-8 7-4 7 1 8-8 6 17 7 2 7 1 7 5 7 6 7-1 8 12 7 6 4-8 3-13 4-11 3-6 4-1 3-13M238 427l8-6 9-2 4 4 4 12 5 7 3 9 3 0 4 11 3 5 4 8 3 7 3 13 4 1 3 8 4 10 3 7 5-7 6-8 5-4 5-6 3-17 4-4 3-8 4-6 3-12 4-4 3-8 4 7 5 3 4 6 4 15 5 6 4 6 6 4 6 1 6 12 6 9 9 7 9 6 2 11 2 8 3 5 2 10 2 10 3 7 2 4 8 9 8 0 11-5 11 0 10-3 10 0 11 2 10 1 9-5 8 4 8 7 9 2 8 1 8-1 8 3 9-7 8 1 8-2 8-2 9 10 9-3 8-7 10-1 9-6 10-1 7-6 6-7 7-1 6-9 7-4 8 2 7 1 7-2 8-3 7 7 7 17 7 3 6 2 7 3 7 15 7-6 7 4 8 4 7 10 7-6 7 11 6-2 6 0 7 9 6 1 6 4 6 8 6 9 9 1 8-3 9-2 8 2 9-6 9 4 9 2 8 0 9-3 9 1 9-5 8 4 9-1 8-2 9 1 9 4 8-2 9 7 8-6 9-3 9 2 8-2 9 4 9-3 8 2 9-6 8 5 9-6 8 0 9-7 7-3 8-6 7-3 7-5 7-5 8-8 6 5 7-5 7 7 7 3 7-4 7 11 8 7 7 0 4-3 3-5 4-6 3-4 4-15 3-1M238 398l8-4 9-6 4 8 4 10 5-2 3 15 3 10 4 9 3 8 4 5 3 10 3 11 4 7 3 9 4 10 3 4 5-5 6 1 5-10 5-3 3-12 4-2 3-7 4-12 3-6 4-7 3-12 4 13 5 1 4 14 4 8 5 9 4 6 6 4 6 9 6 9 6 1 9 10 9 10 2 2 2 9 3 4 2 9 2 10 3 12 2 4 8 3 8-1 11-2 11-5 10-4 10-3 11 2 10 1 9 5 8-6 8 1 9 0 8-2 8 4 8-1 9 6 8-5 8 4 8-2 9 9 9 3 8 0 10 2 9-11 10 0 7-6 6-7 7-2 6-2 7 2 8-7 7-5 7-3 8 0 7 7 7 1 7 5 6 1 7 0 7 7 7 3 7 1 8 1 7 2 7 5 7 8 6 3 6 4 7 6 6 0 6 13 6 1 6 9 9-3 8 1 9-8 8 3 9-8 9 4 9-4 8 2 9 0 9 1 9-5 8 5 9-2 8 4 9-3 9 0 8-3 9 5 8-2 9-5 9-4 8 4 9 0 9-1 8 1 9 5 8-5 9 0 8 4 9-5 7 0 8-8 7 1 7-9 7-4 8-4 6 3 7 3 7 1 7 1 7 4 7 16 8 1 7-1 4-5 3-6 4-2 3-13 4-6 3-13M238 417l8-1 9-8 4 9 4 13 5 8 3 5 3 12 4 6 3 2 4 8 3 11 3 5 4 8 3 9 4 12 3 14 5-11 6-10 5-12 5-3 3-3 4-10 3-16 4-13 3 1 4-12 3 1 4 4 5 4 4 7 4 8 5 7 4 4 6 10 6 12 6 0 6 3 9 8 9 14 2 1 2 10 3 9 2 9 2 4 3 8 2 12 8 4 8 3 11-1 11-6 10-2 10-5 11 0 10 7 9 2 8-2 8 2 9-1 8 10 8-3 8-4 9-2 8 6 8 2 8-2 9 4 9 5 8-3 10-7 9 4 10-10 7-1 6-10 7-2 6-9 7-3 8-2 7-3 7-5 8-12 7 8 7-2 7 7 6 3 7 7 7 4 7-1 7 16 8-3 7 5 7 4 7 9 6 7 6 4 7 4 6 12 6 4 6 1 6 7 9 0 8-2 9-2 8 1 9 5 9 3 9 0 8-1 9 2 9-1 9-1 8 10 9-2 8-7 9 1 9 3 8-2 9-6 8 1 9 2 9-5 8-5 9-1 9 5 8-6 9-3 8-1 9-4 8-5 9 1 7-5 8 0 7-3 7-7 7-7 8-13 6 3 7 12 7 2 7 3 7 10 7 4 8 6 7 10 4-12 3 1 4-9 3-13 4-7 3-3M238 413l8 1 9-11 4 14 4 7 5 3 3 10 3 3 4 11 3 9 4 6 3 4 3 10 4 10 3 8 4 1 3 18 5-14 6-8 5-1 5-8 3-11 4-6 3-9 4-7 3-5 4-7 3-5 4 5 5 5 4 6 4 6 5 12 4 6 6 2 6 8 6 5 6 8 9 8 9 7 2 12 2 11 3 8 2 8 2 3 3 8 2 7 8-2 8 9 11-7 11 9 10-15 10 1 11 3 10 5 9-4 8 1 8 8 9 1 8-2 8 0 8-1 9-2 8 0 8 0 8 2 9 1 9 1 8 1 10-5 9 1 10 1 7-10 6-10 7-2 6-3 7-9 8 6 7-4 7-9 8 0 7 1 7 10 7 1 6 7 7 1 7 8 7 2 7 4 8 4 7 7 7 6 7 5 6 5 6 4 7 6 6 7 6 0 6 1 6 7 9 6 8-1 9 4 8 0 9 2 9-3 9-2 8-3 9-2 9-2 9-4 8-6 9 2 8-2 9 3 9-3 8-1 9-6 8-1 9-2 9 0 8 0 9 5 9-2 8 5 9-12 8 5 9-4 8 3 9 0 7-5 8-5 7-6 7 4 7-7 8-3 6 6 7 6 7 1 7 12 7 4 7 5 8 4 7 9 4-4 3-17 4-11 3-7 4-9 3-9M238 413l8-4 9-2 4 4 4-3 5 23 3 9 3 6 4 5 3 9 4 5 3 11 3 9 4 6 3 7 4 6 3 13 5-10 6-4 5-4 5-7 3-6 4-16 3-2 4-11 3-11 4-5 3-9 4 4 5-1 4 10 4 9 5 7 4 8 6 10 6 2 6 6 6 9 9 10 9 7 2 5 2 17 3 3 2 6 2 8 3 9 2 10 8 8 8 2 11-6 11-5 10-5 10 3 11-3 10 13 9-3 8 2 8 1 9 1 8 1 8 1 8-4 9-1 8 6 8-7 8 10 9 2 9-4 8 5 10-5 9-4 10 0 7-3 6-4 7-3 6-1 7-12 8-2 7-3 7-7 8-3 7 0 7 9 7 5 6 8 7 2 7-1 7 7 7 8 8 1 7 11 7-1 7 6 6 4 6 11 7 3 6-1 6 9 6 2 6 3 9-6 8 1 9-1 8 1 9 0 9-2 9-5 8-3 9 11 9-8 9 2 8-2 9 1 8-4 9 7 9-9 8-3 9 4 8-3 9-2 9 3 8 3 9 4 9 0 8-3 9-7 8 5 9-2 8-5 9-1 7-3 8-9 7-7 7 4 7-3 8-3 6 4 7 2 7 10 7 5 7 6 7-1 8 8 7 7 4-8 3-14 4-4 3-9 4-5 3-13M238 402l8-1 9-5 4 6 4 8 5 17 3 3 3 12 4 6 3 6 4 5 3 16 3 3 4 16 3 4 4 6 3 9 5-2 6-12 5-10 5-4 3-5 4-9 3 0 4-14 3-9 4 0 3-21 4 4 5 13 4 7 4 7 5 13 4 7 6 6 6 6 6 1 6 18 9-1 9 7 2 13 2 8 3 10 2 12 2 5 3 8 2 4 8 5 8 1 11 0 11-12 10 7 10-13 11 2 10 3 9-5 8-6 8 6 9-1 8 1 8 3 8 0 9-1 8 4 8-2 8 8 9 3 9 5 8 1 10 0 9-6 10 0 7-11 6 0 7-6 6-3 7-9 8-1 7 0 7 1 8-15 7 11 7 6 7-1 6 10 7 4 7 1 7 0 7 10 8-1 7 4 7 5 7 1 6 10 6 8 7-1 6 9 6 2 6 10 6 0 9 8 8-2 9 2 8-6 9-4 9 2 9 4 8-5 9 5 9 0 9-3 8-5 9 0 8 3 9-4 9-1 8 1 9-3 8 0 9-2 9 6 8-4 9-2 9-3 8 0 9-3 8-2 9-1 8-4 9-4 7-7 8-5 7 0 7-7 7-9 8-1 6 1 7 6 7 3 7 6 7 6 7 7 8 10 7-4 4-3 3-5 4-16 3-7 4-2 3-2M238 411l8 2 9 3 4 0 4 6 5 6 3 11 3 18 4 0 3 10 4 10 3 5 3 5 4 15 3 2 4 9 3 6 5 3 6-7 5-12 5-2 3-8 4-17 3 0 4-6 3-6 4-12 3-6 4 9 5 7 4 9 4 5 5 8 4 8 6 4 6 15 6-1 6 9 9 4 9 14 2 5 2 4 3 6 2 5 2 11 3 7 2 7 8 0 8 5 11 1 11-9 10 8 10-11 11 6 10-6 9 3 8-2 8 1 9-1 8 3 8 3 8-3 9 2 8-1 8 3 8 2 9 2 9-11 8 13 10-12 9-2 10-6 7 2 6-9 7-6 6-2 7-6 8 2 7-7 7-3 8-5 7 4 7 7 7 5 6 3 7 3 7 13 7-3 7 5 8 6 7 4 7 4 7 7 6 10 6 4 7 5 6 4 6 5 6 8 6 6 9-2 8-1 9-1 8 3 9-5 9-2 9 1 8 0 9 2 9-2 9 4 8-5 9-3 8 2 9-4 9-3 8 3 9-7 8-2 9 3 9-3 8 0 9-7 9 4 8-8 9 1 8-6 9-2 8 3 9-6 7-3 8 5 7-13 7 0 7-4 8-3 6 2 7 10 7 1 7 11 7 2 7 8 8 10 7 2 4-12 3-6 4-8 3-2 4-7 3-11M238 414l8-6 9 5 4 2 4 5 5 15 3 13 3 7 4 10 3 7 4 4 3 11 3 5 4 16 3 5 4 5 3 6 5-5 6-4 5-8 5-7 3-8 4-11 3 1 4-11 3-5 4-10 3-12 4 16 5 7 4 2 4 5 5 9 4 1 6 10 6 9 6 5 6 9 9 8 9 4 2 11 2 9 3 5 2 5 2 13 3-2 2 10 8 3 8-1 11 0 11-9 10-1 10-4 11 0 10 2 9-2 8 8 8-6 9 6 8 2 8 2 8 2 9 5 8 1 8 1 8 2 9 5 9-11 8 9 10-6 9-4 10-3 7-3 6-3 7-7 6-3 7-9 8-3 7-7 7-4 8 7 7-1 7 1 7 1 6 7 7 4 7 8 7 2 7 7 8 5 7 5 7 6 7 0 6 12 6-5 7 4 6 8 6 1 6 4 6 7 9 3 8-2 9-4 8-2 9 2 9 0 9-9 8 8 9-6 9-4 9 8 8-9 9 4 8-1 9 10 9-9 8 0 9 4 8 0 9 0 9 2 8-3 9 0 9 2 8 4 9-6 8-5 9-2 8 5 9-6 7-7 8-4 7-5 7-3 7-2 8-7 6 2 7-2 7 10 7 6 7 3 7 1 8 4 7 6 4-4 3-9 4-4 3-10 4-3 3-11M238 414l8-3 9-4 4 9 4-6 5 11 3 9 3 4 4 8 3 13 4 8 3 7 3 2 4 12 3 9 4 9 3 10 5-9 6-9 5-9 5-1 3-6 4-8 3-6 4-10 3-9 4-7 3-9 4 2 5 7 4 10 4 6 5 6 4 9 6 4 6 5 6 9 6 10 9 9 9 10 2 3 2 11 3 8 2 9 2 6 3 9 2 6 8 7 8 3 11-9 11 0 10 1 10-1 11 2 10 1 9 0 8-3 8-3 9 8 8 4 8-2 8 1 9-5 8 2 8-2 8 6 9-3 9 0 8 4 10-6 9-4 10-5 7-2 6-3 7-14 6 0 7-5 8-4 7-10 7 2 8-4 7 8 7-2 7 14 6 0 7 9 7-4 7 12 7 5 8 4 7 4 7 5 7 9 6 5 6 8 7 8 6 3 6 2 6 9 6 1 9 6 8-4 9 1 8-2 9 1 9 1 9 2 8-4 9 6 9-9 9-2 8 4 9-7 8 3 9 3 9-11 8 2 9-2 8 2 9-2 9-3 8-2 9-1 9-2 8-2 9-4 8-1 9-6 8 4 9-5 7-2 8-6 7 0 7 1 7-2 8-1 6 2 7 2 7 9 7 2 7 8 7 3 8 10 7-2 4-3 3-12 4-6 3-7 4-6 3-6M238 423l8-11 9 0 4 10 4 6 5 5 3 14 3 5 4 14 3-4 4 12 3 7 3 5 4 9 3 7 4 14 3 3 5-3 6-5 5-12 5-4 3-5 4-5 3-9 4-6 3-9 4-4 3-16 4 11 5 4 4 12 4 8 5 6 4 3 6 7 6 5 6 7 6 8 9-1 9 15 2 10 2 5 3 5 2 13 2 4 3 12 2 10 8 0 8 11 11-10 11-8 10-2 10-4 11 0 10 11 9-2 8-5 8-1 9 0 8-3 8 5 8 6 9 0 8 2 8-4 8 5 9-1 9 3 8-6 10-2 9-10 10 6 7-1 6-9 7-7 6-5 7-4 8-3 7-5 7-3 8 3 7 3 7 10 7 3 6 10 7 5 7 8 7 1 7 1 8 8 7 0 7 6 7 3 6 9 6 7 7 3 6 10 6 2 6 0 6 6 9-2 8 1 9-3 8 10 9-6 9-2 9-2 8 3 9-5 9-5 9 0 8 7 9 3 8-7 9-5 9 2 8 1 9 2 8-7 9 1 9 4 8-1 9-3 9 7 8-6 9-6 8-3 9-6 8 2 9-7 7 1 8-1 7-8 7-6 7-5 8-8 6 11 7 3 7 3 7 1 7 8 7 9 8-6 7 10 4-14 3-2 4-9 3-9 4-3 3-11M238 434l8-2 9-6 4 8 4 9 5 15 3 0 3 11 4 4 3 11 4 8 3 7 3 12 4 5 3 12 4 10 3 10 5-18 6-7 5-9 5-11 3-2 4-3 3-12 4 3 3-10 4-2 3-11 4 4 5 9 4 11 4 1 5 11 4 5 6 5 6 7 6 4 6 6 9 8 9 2 2 17 2 5 3 4 2 9 2 6 3 7 2 14 8-2 8 3 11-5 11-3 10-4 10-7 11-2 10 3 9 6 8-4 8 2 9 0 8 2 8-1 8 1 9-4 8 3 8 5 8 0 9 6 9-7 8 1 10 6 9-8 10-1 7-2 6 0 7-14 6-1 7-3 8-1 7-3 7-3 8-4 7 5 7 1 7 4 6 10 7 0 7 3 7 8 7-1 8 11 7-2 7 5 7 4 6 6 6 6 7 1 6 11 6 3 6 8 6 2 9 7 8-5 9 0 8 3 9-10 9-2 9-3 8-2 9 0 9 0 9 5 8-9 9 11 8-5 9 4 9-4 8-5 9 2 8 4 9 1 9 2 8-7 9 3 9 9 8-5 9 0 8-2 9-2 8-7 9 0 7-5 8 5 7-3 7-4 7-7 8-17 6 7 7 10 7 3 7 0 7 12 7-2 8 11 7-1 4-3 3-12 4 0 3-10 4-11 3-5M238 427l8 0 9-9 4 5 4 8 5 12 3 11 3 5 4 6 3 8 4 14 3 3 3 17 4 0 3 6 4 10 3 11 5-11 6-7 5-4 5-9 3-13 4-1 3-9 4-14 3-1 4-8 3 1 4-3 5 14 4 6 4 11 5 5 4 3 6 12 6 4 6 4 6 7 9 2 9 14 2 4 2 16 3 3 2 7 2 15 3 2 2 12 8-1 8 4 11-1 11-3 10-9 10 0 11-2 10-2 9 4 8 1 8 1 9-3 8 1 8-7 8 6 9-3 8 4 8 2 8 0 9-3 9 7 8 4 10 0 9-4 10 0 7-13 6 0 7-4 6-6 7-7 8-4 7-1 7 3 8-1 7 7 7 6 7 5 6-1 7 6 7 4 7 2 7 5 8 5 7 4 7 8 7 8 6 5 6 3 7 3 6 9 6 3 6 4 6 6 9-4 8 1 9-2 8 1 9-7 9 2 9-5 8 3 9-2 9 3 9-1 8 2 9 1 8 1 9-6 9 7 8-5 9 2 8-1 9-4 9 1 8-4 9-5 9 0 8-3 9-2 8-3 9 0 8-2 9-4 7-7 8 3 7-13 7-5 7 1 8-5 6 0 7 11 7-1 7 6 7 1 7 9 8-1 7 7 4-4 3-8 4-10 3-4 4-11 3-2M238 438l8-3 9-10 4 13 4 4 5 9 3 7 3 2 4 10 3 7 4 4 3 5 3 13 4 6 3 9 4 14 3 4 5 3 6-13 5-4 5-6 3-2 4-12 3-6 4-14 3-7 4-9 3-12 4 7 5 16 4 12 4 1 5 2 4 10 6 2 6 10 6 7 6 9 9 7 9 15 2 6 2 7 3 15 2 1 2 9 3 11 2-1 8 4 8 0 11 0 11-9 10-2 10-6 11 1 10 11 9 2 8 1 8 0 9 1 8 2 8-1 8 4 9-5 8-3 8-4 8 1 9 0 9 10 8-3 10-3 9-3 10 0 7-6 6-4 7-7 6 2 7-4 8-4 7 3 7-11 8 0 7 2 7 5 7 4 6 9 7 8 7 3 7-2 7 7 8 10 7 5 7 9 7 0 6 1 6 9 7 2 6 12 6-5 6 3 6 6 9-1 8-1 9-5 8-3 9 1 9 11 9-14 8 8 9-5 9 2 9 0 8 2 9-1 8-3 9-3 9-2 8-6 9 6 8-1 9 2 9 0 8-6 9 0 9-3 8 3 9 7 8-4 9-2 8-3 9-5 7-3 8 3 7-10 7-3 7-3 8-3 6 4 7 3 7 0 7 6 7 12 7 2 8 0 7 7 4-12 3-7 4-11 3 1 4-11 3-9" stroke="#62c6b9" stroke-width="2.2" fill="none" transform="scale(.5)"/><path d="M740 552l6 7 7 2 6 2 7-3 6 9 1 2 1 5 2 9 1 7 1 5 1 5 0 12 1 4 1 5 0 8 1 4 6-1 7 2 6 4 6-3 7-2 6 5 6 0 6-5 6 6 6 3 6-3 6-1 6-3 6-3 6 5 6-9 6 8 6-6 6 1 6-3 6 7 6-1 6 5 6-1 6-4 6 8 6-6 6 5 6-6 6-1 6 7 6-1 6-1 6 0 6 2 6-6 6 6 6-9 6 1 6 1 6-3 6-8 6 4 6-2 6-1 6-1 6 0 6-1 6 2 6-7 6-1 6 0 6 4 6-13 6 3 6-2M740 559l6 1 7 3 6-3 7 4 6 8 1 10 1 0 2 9 1 0 1 12 1 7 0 13 1 3 1 7 0 9 1 3 6 4 7 4 6 4 6 1 7-7 6 4 6-3 6 7 6-2 6-1 6 7 6-2 6-3 6 0 6-6 6 3 6-2 6 7 6-4 6 1 6-4 6 0 6-5 6-2 6-3 6 2 6 1 6-2 6 3 6-3 6-9 6 2 6-5 6 0 6 0 6 3 6 3 6-6 6 4 6-7 6 5 6 0 6-4 6-2 6 2 6-2 6-1 6-1 6-4 6-6 6 5 6-5 6 2 6 4 6-1 6 3M740 554l6 8 7-3 6 4 7 11 6 0 1 4 1 10 2 7 1 4 1 11 1 2 0 13 1 3 1 1 0 10 1 3 6-2 7 8 6 3 6-3 7 4 6 0 6 4 6-6 6 4 6 2 6-5 6-3 6 3 6-1 6 2 6 1 6-3 6 1 6-3 6 0 6 0 6-1 6-2 6 1 6-1 6-8 6 2 6 0 6-5 6 4 6-3 6 3 6 2 6-3 6 5 6-1 6-5 6-1 6 3 6-1 6 6 6-5 6 2 6 3 6-7 6 2 6 1 6-2 6-2 6-3 6-3 6 0 6-5 6-6 6 3 6-3M740 544l6 0 7 11 6-3 7-1 6 2 1 5 1 11 2 10 1 10 1 1 1 3 0 8 1 4 1 8 0 5 1 5 6 5 7-1 6-4 6 7 7-1 6-2 6 3 6 3 6-4 6 2 6 2 6-5 6 1 6 0 6-1 6 0 6 4 6 2 6-5 6 4 6 5 6-3 6 0 6-3 6-3 6 1 6 7 6-7 6 1 6-2 6 1 6 0 6-2 6-2 6 1 6 1 6 0 6-1 6-1 6-2 6 3 6 0 6-4 6-5 6 1 6-6 6-4 6 3 6 0 6-4 6-1 6 3 6-2 6-2 6 2 6-3M740 547l6 5 7 4 6 11 7-8 6 5 1 7 1 8 2 3 1 10 1 3 1 8 0 10 1 6 1 1 0 10 1 4 6 1 7 9 6-3 6 4 7 1 6-2 6-5 6 9 6-3 6-1 6-4 6 7 6-8 6-2 6 7 6-2 6 1 6 0 6-3 6 0 6-4 6 1 6 1 6-2 6 5 6-3 6-4 6 4 6-5 6-4 6 1 6-1 6-1 6-1 6 2 6 0 6-6 6 3 6-2 6-1 6 0 6 3 6 1 6-3 6 0 6 1 6 2 6 1 6 1 6-8 6-4 6-1 6 1 6-3 6-2 6 2M740 550l6 4 7 4 6-2 7 7 6 3 1 6 1 5 2 6 1 5 1 8 1 6 0 2 1 12 1 6 0 10 1 3 6 3 7 1 6 3 6 4 7 1 6 3 6-2 6-1 6-3 6 1 6 2 6 2 6-2 6 5 6-3 6 2 6 3 6-7 6 5 6 1 6-5 6 4 6-7 6-3 6 3 6-1 6-1 6-1 6 3 6 3 6-7 6 1 6-6 6-3 6 4 6-3 6-4 6 6 6 0 6-1 6 0 6-2 6 5 6-6 6-5 6 4 6-2 6 0 6-7 6 1 6-3 6 1 6-6 6 3 6-2 6-4" stroke="#62c6b9" stroke-width="2.2" fill="none" transform="scale(.5)"/><path d="M1048 585l1 0 0-13 1-9 0 1 1-2 1 1 0-10 1-8 0-1 1-4 1-12 0-2 1-3 0 8 1-18 1 6 0-3 1-18 0-3 1 3 4-4 4 3 4-11 2-5 2 4 2-10 2-4 2-7 2 1 2 2 2-3 2-6 2-6 1-1 2 3 3 6 3-9 2 6 3 9 2-23 2 2 2 0 1-5 2-10 2 7 1-1 1-6 1-7 2 2 1-10 1-1 1-8 1 2 1-9 1 4 1 1 0 8 1-2 0 10 1-1 0 9 1 3 0 1 1 5 0 6 1 9 0 2 0 4 0-1 1-3 0 9 0 13 0-11 0 12 1 2 0-4 0 5 0 10 0 15 0-10 0 7 1 8 0-3 0 7 0 2 1 5 0 5 0 6 0 3 0 2 0-1-1 13 0-10 0 12-1-1 0 13 0 2 0 3 0 12-1-4 0-2 0 10-1 3 0 8 0 7 0 5 0-10-1 14 0 6 0-2-1 2 0 18 0 2 0-1 0-2-1 13 0 1-1 10 0 6 0 1" stroke="#2a3275" stroke-width="2.2" fill="none" transform="scale(.5)"/><path d="M1040 598l1 0 1-3 1-9 1-9 1-6 1 5 1-9 0 1 1-4 1-7 1 8 1-13 1 6 1-18 1-5 2 7 3-9 2 2 3-9 2 0 4-7 3 8 3-13 4 1 2-10 1 0 1-3 2-5 2 2 1-16 1 3 2 0 4 3 4 13 4-11 1-10 1 11 1-7 1 2 1-11 1-16 1-4 1 0 1-1 1 0 1-13 0-1 1 2 0-13 1-8 1-3 0 12 1-7 0-8 1-8 1-3 1 13 1 7 1 17 1-1 1-9 0 8 1 6 0-4 1 24 0-8 0 12 1 2 0-6 1 13 0-4 0 2 1 9 0 8 1-2 0 6 0 13 1-3 0-3 0 8 1 3 0 9 0-3 1 17 0 9 0-15 1 15 0 7 0-5 0 4 1 5 0-1 1 4 0 11 0-5 1 13 0 4 0 2 1 10 1 7 0-1 1 4 0 9 1 12 1-3 0 14 1-3 0 3 1 1 0-3 1 15 1 4 0-2 1 1 0 21 1-12" stroke="#2a3275" stroke-width="2.2" fill="none" transform="scale(.5)"/><path d="M1080 598l3-14 4 0 3 4 3 0 4-9 3 4 2-2 3-4 3-6 2 0 2-6 3-4 3-7 2 3 2-1 2-1 1 16 2-6 2 9 2-1 2-2 2 4 1 9 2 3 2 0 2 4 2 8 1 4 2 4 2-2 2 8 2 2 2 19 1 0 2-1 2 4 3 7 3-11 3-4 2 12 3-7 3 8 3 4 3-6 3 11 3 6 2-2 3-3 3 12 3 8 3-4 4 2 3 2 4 7 3-6 4 8 3-4M1080 570l3 7 4-3 3 2 3 2 4-2 3-11 2 9 3-17 3-7 2 2 2 0 3 0 3-10 2-4 2 10 2-1 1-5 2 16 2 3 2-1 2 6 2-2 1 20 2-5 2 1 2 13 2 2 1 1 2 3 2 2 2 6 2 3 2 9 1-6 2 8 2 3 3 3 3 3 3 4 2-2 3 1 3 3 3 6 3 2 3 5 3 4 2-1 3 5 3-4 3 8 3 4 4-8 3 11 4 0 3 3 4-10 3-1" stroke="#2a3275" stroke-width="2.2" fill="none" transform="scale(.5)"/><path d="M1220 660l6-80 5-148 3 168 4 60" stroke="#62c6b9" stroke-width="2.4" fill="none" transform="scale(.5)"/><path d="M213 400l0-294 3 114" stroke="#62c6b9" stroke-width="2.4" fill="none" transform="scale(.5)"/><path d="M212 236l0 1 1 7 0 6 1 4 1 7 0 8 1 7 1 6 1 6 0 7 1 8 1 6 0 6 1 6 0 8 1 9 0 6 1 3 0 9 1 3 0 9 1 10 0 4 1 4 0 8 1 12 0 3 1 6 0 8 1 5 0 4 0 8 1 6 0 9 1 4 0 3 1 8 3 5 3 5 4 6 4 7 4 5 5 4 5 4 6 5 6 7 8 1 8 2 3 7 4 7 3 10 4 6 3 3 4-1 4-4 4-7 5-7 4-6 4-11 4-5 4-1 6 2 5 1 6 3 6 5 5 4 6 5 8 1 8-3 9 6 8 3 2-5 2-11 1-6 1-8 2-4 4-8 4-7 5-3 4-7 4-6 4-5 4-3 4-1 6 0 6 2 5 12 3 9 3 4 3 9 3 5 2 5 3 4 8 4 8-2 8-2 9-1 5 3 5 6 6 5 5 2 5 7 5 8 6 5 5 0 7 4 7 3 7-2 5-5 5-8 5-6 5-2 5 3 6 4 5 2 6 3 5 9 5 9 6-1 4-3 3 0 4-1 4-7 5-1 5-6 5-4 5-6 5-4 6-8 6-2 5-3 5-1 4-2 4 1 3 6 3 8 2 3 4 7 4 8 5 0 5 1 6 3 7-2 6-1 7-1 7-4 6 1 6 3 7 3 7-5 6-3 7-1 6-3 6 3 5 3 7 2 6 5 5 3 5 9 4 4 3 0 5-5 2-9 3-8 3 0 4 1 5 8 5 5 4 3 4 2 4-5 4-6 4 4 5 2 5 4 6 3 6 0 5 6 6 0 7 4 6 4 6 0 5 2 7 1 7-1 6 0 6-1 6 5 6 0 7 1 7 6 7 6 7 2 8 5 7 1 5-3 4-4 2-9 1-5 2-9 4-6 6-2 7-1 7-1 8 4 7-1 6-1 7-2 7-7 5-4 5-4 7 7 4 10" stroke="#222a6c" stroke-width="11.0" fill="none" stroke-linejoin="round" transform="scale(.5)"/><path d="M1152 588l2 2 4 5 5 2 4 11 5 7 5 5 5 2 4 2 8 4 7-5 7 3 4 4 4 6 4 7 4 5 3 9 2 4" stroke="#222a6c" stroke-width="11.0" fill="none" stroke-linejoin="round" transform="scale(.5)"/><path d="M216 330l0 3 1 7 1 8 0 5 1 8 1 6 1 6 1 8 0 8 1 8 1 10 1 3 1 7 1 6 2 5 1 8 2 7 2 0 5-5 6-6 6 2 3 3 3 2 3 4 3 6 4 5 4 8 4 7 5 6 4 5 4 3 6 5 5 10 5 1 5-3 5-8 6-2 6-4 5-5 4-12 5-7 5-4 5-1 3 0 3 6 3 2 4 8 3 9 3 7 4 6 3 1 6 7 6 5 6 4 5 4 6 4 6 3 6 8 6 2 7 2 6 2 8 2 7-2 7 0 5-1 7-4 4-3 6-2 4 7 6 1 5 4 6 1 6 7 6 2 6 0 6 5 6 4 6 1 6 3 6 2 6 1 7 5 7-2 6 0 7 1 7 5 7 1 6 6 6-1 6 5 6-3 6 2 6 0 6 1 5-4 5-3 6-5 5 0 5-7 6-6 5 0 5-1 5-3 6-6 5-6 5-6 5-3 6-3 5-5 5-2 7-3 7 3 7 4 6 5 7-1 7 2 6 1 6 0 6-3 7-1 6 0 6 1 6 1 6-1 6-2 7 0 6 0 6 2 6 3 6 4 7 1 6-1 6 3 6-3 6 1 6 0 6 1 6-2 6 1 7 2 6-1 6-2 7 2 6 0 6-4 7 0 6 3 6 3 6 3 6-1 6 3 6 1 6 3 6 2 6 4 5 4 5 3 6 3 5 5 4 5 5 5 5 2 6 2 6 4 7 3 7 0 7 1 7 1 6 2 7 2 6-1 6 2 5-3 6-3 6 0 5-8 5-6 3-3 3-7 3-7 3-8 3-6 4-3 3 1 7-6 7-1 7 2 4 6 3 8 4 7 3 5 3 5 4 6 3 6 3 6 3 7 2 5 3 8 3 5 3 4 2 9 2-1 1 6 2 10 1 10 1 7 2 2 1 7 1 6 1 7 1 6 0 4" stroke="#2db4e9" stroke-width="11.0" fill="none" stroke-linejoin="round" transform="scale(.5)"/><path d="M211 216l1 2 0 5 0 3 1 6 0 7 1 6 1 9 0 6 1 8 0 6 1 9 1 9 0 3 1 7 1 6 0 6 1 9 1 7 0 6 1 6 0 6 1 6 1 7 0 6 1 9 1 2 0 5 1 7 2 8 2 7 3 6 3 3 5 1 6-10 6-1 3 3 3 5 3 9 4 10 2 4 2 4 3 6 2 5 3 5 3 9 3 6 2 7 3 5 2 7 2 9 3 7 2 3 2 5 3 4 4 0 4-1 4-8 5-10 4-6 3-8 2-5 3-8 2-8 3-8 3-9 2 2 3-5 3-5 3-1 3 0 4 7 3 4 3 9 4 11 3 6 3 3 5 6 5 3 5 9 5 6 4 3 6 6 6 1 6 8 1 5 2 5 2 8 2 11 2 7 2 6 1 1 2 5 2 5 8 6 8 0 7-4 8-3 7-2 7 1 6-4 7-5 6 1 7 5 8 3 6 2 7 0 7-1 7 1 8-1 7 2 7 2 7 3 7 0 7 0 7 2 6 0 7 0 7-2 7 2 7 2 6 5 6-1 6-4 5-2 6-1 6-4 5-2 6-2 6-5 5-6 6-6 5-2 6-6 6-3 5-5 6-2 7-1 5 3 4 4 6 2 5 1 5 5 6 3 5 6 5 2 5 5 6 0 5 4 5 4 6 0 5 7 6 0 5 6 5 4 5 9 4 2 5 6 5 5 5 4 5 5 5 3 4 5 7 0 6 1 6-2 6 4 6-3 6-3 6-2 6 1 6-1 7-1 6 3 6-5 7 0 6-3 6 2 6 1 6 0 7 2 6-3 6-4 6-1 6 4 6-2 6-2 7 0 6-2 6 0 6 1 6-2 6 0 7-4 6-1 6 2 6-4 6 2 7 3 6-4 7-3 6-2 6 2 6-2 5-4 7-3 5-3 5-4 5-1 5-8 5-3 5-4 7 0 4 4 5 6 5 1 5 6 6 3 5 4 4 4 6 5 6 5 5 3 5 1 3-2 3-4 3-8 3-10 3-8 2-5 3-6 1-1" stroke="#5fc5b8" stroke-width="12" fill="none" stroke-linejoin="round" transform="scale(.5)"/></g>
<g><path d="M112.2 14.4v6M112.2 378.2v-6M197.3 14.4v6M197.3 378.2v-6M282.4 14.4v6M282.4 378.2v-6M367.5 14.4v6M367.5 378.2v-6M452.6 14.4v6M452.6 378.2v-6M537.8 14.4v6M537.8 378.2v-6M622.8 14.4v6M622.8 378.2v-6M91 305.4h6M644.1 305.4h-6M91 232.7h6M644.1 232.7h-6M91 159.9h6M644.1 159.9h-6M91 87.2h6M644.1 87.2h-6" stroke="#3a3a3a" stroke-width="2" fill="none"/><rect x="91" y="14.4" width="553.1" height="363.8" fill="none" stroke="#3a3a3a" stroke-width="2"/><text x="83" y="391.7" text-anchor="end" font-size="25" stroke="#1a1a1a" stroke-width="0.35">300</text><text x="83" y="314.4" text-anchor="end" font-size="25" stroke="#1a1a1a" stroke-width="0.35">400</text><text x="83" y="241.7" text-anchor="end" font-size="25" stroke="#1a1a1a" stroke-width="0.35">500</text><text x="83" y="168.9" text-anchor="end" font-size="25" stroke="#1a1a1a" stroke-width="0.35">600</text><text x="83" y="96.2" text-anchor="end" font-size="25" stroke="#1a1a1a" stroke-width="0.35">700</text><text x="83" y="25.9" text-anchor="end" font-size="25" stroke="#1a1a1a" stroke-width="0.35">800</text><text x="105.4" y="405.2" font-size="25" textLength="22.8" lengthAdjust="spacingAndGlyphs" stroke="#1a1a1a" stroke-width="0.35">0°</text><text x="177.3" y="405.2" font-size="25" textLength="36.6" lengthAdjust="spacingAndGlyphs" stroke="#1a1a1a" stroke-width="0.35">2°E</text><text x="262.2" y="405.2" font-size="25" textLength="36.6" lengthAdjust="spacingAndGlyphs" stroke="#1a1a1a" stroke-width="0.35">4°E</text><text x="347.5" y="405.2" font-size="25" textLength="37" lengthAdjust="spacingAndGlyphs" stroke="#1a1a1a" stroke-width="0.35">6°E</text><text x="431.8" y="405.2" font-size="25" textLength="36.6" lengthAdjust="spacingAndGlyphs" stroke="#1a1a1a" stroke-width="0.35">8°E</text><text x="507.7" y="405.2" font-size="25" textLength="49.1" lengthAdjust="spacingAndGlyphs" stroke="#1a1a1a" stroke-width="0.35">10°E</text><text x="588.8" y="405.2" font-size="25" textLength="50.2" lengthAdjust="spacingAndGlyphs" stroke="#1a1a1a" stroke-width="0.35">12°E</text><text x="1.8" y="28.6" font-size="32" font-weight="bold">A</text><text transform="translate(23.7 198) rotate(-90)" x="-126" font-size="25" textLength="252" lengthAdjust="spacingAndGlyphs" stroke="#1a1a1a" stroke-width="0.3">Seawater pCO<tspan font-size="15" dy="5">2</tspan><tspan dy="-5"> (µatm)</tspan></text></g>
<clipPath id="cB"><rect x="789.7" y="14.3" width="553.1" height="363.6"/></clipPath>
<g><path d="M832.3 14.3V377.9M853.5 14.3V377.9M874.8 14.3V377.9M917.4 14.3V377.9M938.6 14.3V377.9M959.9 14.3V377.9M1002.5 14.3V377.9M1023.8 14.3V377.9M1045 14.3V377.9M1087.6 14.3V377.9M1108.8 14.3V377.9M1130.1 14.3V377.9M1172.7 14.3V377.9M1194 14.3V377.9M1215.2 14.3V377.9M1257.8 14.3V377.9M1279 14.3V377.9M1300.3 14.3V377.9M789.7 363.4H1342.9M789.7 348.8H1342.9M789.7 334.3H1342.9M789.7 319.7H1342.9M789.7 290.6H1342.9M789.7 276.1H1342.9M789.7 261.5H1342.9M789.7 247H1342.9M789.7 217.9H1342.9M789.7 203.4H1342.9M789.7 188.8H1342.9M789.7 174.3H1342.9M789.7 145.2H1342.9M789.7 130.7H1342.9M789.7 116.1H1342.9M789.7 101.6H1342.9M789.7 72.5H1342.9M789.7 57.9H1342.9M789.7 43.4H1342.9M789.7 28.8H1342.9" stroke="#bbbbbb" stroke-width="1.9" stroke-dasharray="1.9 5.6" fill="none"/><path d="M811 14.3V377.9M896.1 14.3V377.9M981.2 14.3V377.9M1066.3 14.3V377.9M1151.4 14.3V377.9M1236.5 14.3V377.9M1321.6 14.3V377.9M789.7 305.2H1342.9M789.7 232.5H1342.9M789.7 159.7H1342.9M789.7 87H1342.9" stroke="#dadada" stroke-width="1.5" fill="none"/></g>
<g clip-path="url(#cB)"><path d="M1638 558l7 7 7 0 8 8 9-6 9-1 9-4 9 1 9 4 9 3 10 0 9 6 8-8 9-5 9-3 9 2 9 3 8 0 9-1 9 4 9-2 9-4 9 6 9 3 9 4 9-4 9 3 9 7 9 1 9 0 9-5 8 2 9 4 9 1 10 4 10-1 10 5 8-3 7-2 7-9 8-9 10 2 10-12 10 10 10-1 9-4 10 4 10 2 10-1 10-2 8 2 7 4 8 6 8 4 9-7 8-1 8 2 9 5 8 2 9-1 8-4 8 7 9-1 8 4 8 1 9 4 8-2 9 2 8 0 8 11 9 3 8 4 8 4 12-11 2-11 3-8 3-7 3-11 3-4 4-8 4-9 11-10 6-7 5-10 7-10M1638 557l7 5 7 4 8 6 9-4 9-5 9 7 9-6 9 11 9 6 10 7 9-1 8-4 9-12 9 1 9-3 9-1 8 0 9 1 9 3 9-4 9 3 9 1 9-6 9 8 9-1 9 2 9 0 9 0 9 2 9 10 8-2 9-2 9 7 10 4 10 0 10 0 8-1 7-13 7 3 8-10 10 2 10-5 10 2 10 4 9 0 10 1 10-1 10-1 10 0 8 3 7 2 8 8 8 0 9 1 8 4 8 3 9-2 8 5 9 3 8-2 8 1 9-1 8 6 8 5 9-2 8 0 9 7 8 6 8 5 9-4 8 5 8-2 12-13 2-10 3-6 3-10 3-12 3-5 4-11 4-6 11-8 6-14 5-6 7-12M1638 539l7 3 7 3 8 7 9-2 9-1 9 1 9-8 9 7 9-3 10 10 9 6 8-13 9-9 9 2 9 1 9 3 8-1 9 1 9 1 9 0 9 2 9 3 9 4 9 0 9-1 9 9 9-1 9 4 9 0 9-1 8-2 9 5 9-3 10-2 10 2 10 0 8-1 7-12 7-4 8-7 10-2 10 0 10-7 10 6 9 2 10-1 10 0 10 5 10 1 8 5 7 7 8-1 8 4 9-1 8 2 8-2 9 1 8 3 9 0 8 2 8 1 9 7 8 3 8 5 9 5 8 1 9 4 8 1 8 2 9-2 8 7 8-3 12-12 2-7 3-13 3-6 3-4 3-11 4-9 4-4 11-9 6-9 5-8 7-11M1638 557l7 3 7 4 8 7 9-5 9 1 9-3 9-7 9 4 9 8 10 5 9 0 8-8 9-9 9 1 9 0 9 2 8-2 9 4 9-4 9 4 9 1 9 3 9-2 9 7 9 4 9-1 9 1 9-1 9-3 9 1 8 5 9 1 9 6 10-3 10 2 10 1 8-6 7-8 7-6 8-3 10-5 10 0 10 6 10-2 9-2 10-1 10 6 10 4 10 3 8 2 7 0 8 8 8-6 9 0 8 5 8 5 9-2 8 5 9 1 8 0 8 1 9 3 8 0 8 4 9 4 8 2 9-2 8 3 8 3 9-4 8 7 8 0 12-15 2-3 3-10 3-13 3-3 3-9 4-6 4-9 11-10 6-11 5-9 7-10M1638 545l7 3 7 12 8 1 9-3 9-3 9 5 9 2 9-3 9 10 10-2 9 8 8-10 9-13 9 6 9 4 9-1 8-1 9-1 9 6 9 0 9-3 9 1 9-1 9 6 9 2 9 3 9 0 9 1 9 1 9 5 8 1 9 0 9 1 10 4 10-7 10 4 8-9 7-8 7-6 8-6 10 6 10-1 10 0 10 0 9-1 10 3 10 3 10 3 10 2 8-1 7 3 8 9 8-3 9-1 8 4 8-2 9 2 8-2 9-1 8 2 8 0 9-4 8 6 8 0 9 4 8 1 9 1 8 1 8 8 9 6 8 2 8 5 12-12 2-10 3-12 3-7 3-10 3-7 4-8 4-11 11-4 6-4 5-7 7-12M1638 545l7 6 7 3 8 2 9 3 9 0 9-3 9-2 9 3 9 9 10 6 9 6 8-11 9-7 9-1 9-1 9 3 8 4 9-4 9 4 9-3 9 2 9 2 9-4 9 7 9-2 9 8 9 4 9 1 9-1 9-2 8 4 9-2 9 0 10 0 10 6 10 0 8-5 7-6 7-8 8-9 10-2 10 3 10 4 10 5 9-4 10 1 10 1 10 2 10-2 8 5 7 10 8-4 8 4 9-7 8 3 8 1 9 1 8 2 9 1 8 4 8 2 9 1 8 4 8-1 9 4 8 2 9 5 8-5 8 9 9 1 8-1 8-4 12-3 2-12 3-8 3-8 3-12 3 0 4-13 4-5 11-6 6-10 5-11 7-12M1638 557l7 9 7-1 8 5 9-2 9-2 9-4 9-1 9 3 9 1 10 4 9 4 8-6 9-9 9 4 9-9 9 4 8-1 9-4 9 7 9 0 9 2 9 0 9 2 9 0 9 8 9-5 9 4 9 6 9-3 9-8 8 1 9 10 9-3 10 1 10 2 10 7 8-6 7-6 7-4 8-5 10 3 10-2 10 1 10-2 9 5 10 5 10-4 10 6 10 2 8 2 7 2 8-1 8 2 9-3 8 5 8-2 9 0 8 3 9-2 8 2 8 0 9 12 8 0 8 5 9 0 8-1 9 4 8 0 8 4 9-1 8 1 8-2 12-8 2-14 3-11 3-4 3-8 3-3 4-9 4-6 11-11 6-7 5-13 7-10M1638 556l7 2 7 5 8 6 9-5 9-1 9-1 9-1 9-1 9 6 10 6 9 3 8-7 9-9 9 0 9 3 9-6 8 3 9 1 9 5 9 6 9-4 9 3 9 7 9-4 9 5 9 2 9 5 9 5 9-1 9 0 8 2 9 3 9-1 10 9 10-5 10-7 8-6 7-11 7-6 8-9 10 0 10-6 10-3 10 6 9-2 10 6 10 6 10 1 10 3 8-4 7 8 8 3 8-2 9 5 8-3 8 3 9 7 8 2 9 3 8-1 8 2 9 2 8 2 8-1 9 1 8 5 9 1 8 1 8 1 9 1 8 2 8 4 12-12 2-13 3-8 3-7 3-10 3-8 4-8 4-9 11-13 6 1 5-11 7-7M1638 551l7 5 7 3 8 4 9-2 9 4 9-7 9 0 9 6 9 10 10-8 9 7 8-14 9-7 9 1 9 5 9-4 8 2 9 0 9 2 9 5 9-4 9 0 9 1 9 4 9 2 9 3 9 3 9-3 9 4 9-4 8 6 9 6 9-2 10-1 10 3 10 1 8-11 7 3 7-7 8-3 10 0 10-2 10-4 10 8 9-2 10 0 10 1 10 2 10 1 8-2 7 8 8 4 8-2 9 5 8-3 8 2 9 4 8-5 9 5 8-3 8-2 9 5 8 4 8 1 9 0 8-1 9-1 8 8 8-2 9 3 8 3 8-2 12-8 2-1 3-13 3-4 3-14 3-7 4-7 4-10 11-6 6-8 5-15 7-7M1638 544l7 7 7 8 8 7 9-13 9 6 9-6 9 4 9 0 9 7 10 1 9 2 8-11 9-14 9 4 9 1 9-4 8 3 9 2 9-3 9-4 9 9 9 0 9 0 9 6 9 1 9 2 9 4 9 0 9-1 9 7 8 2 9 1 9 0 10 4 10 8 10-7 8-5 7-6 7-10 8-3 10 7 10-5 10-2 10-1 9 1 10 7 10-3 10 4 10 3 8 0 7 2 8 5 8 3 9 4 8-4 8 1 9 2 8 3 9 1 8-2 8 3 9 0 8 0 8-3 9 4 8 7 9 3 8-2 8 6 9-6 8 9 8-1 12-10 2-8 3-8 3-8 3-3 3-11 4-4 4-6 11-7 6-11 5-12 7-13M1638 526l7 4 7 3 8 5 9-3 9-3 9 2 9-3 9 9 9 6 10 1 9 0 8-9 9-4 9-5 9 3 9 0 8 0 9-2 9 5 9 0 9-4 9 1 9 2 9 4 9 3 9 4 9-1 9 1 9 0 9 4 8 4 9-3 9 6 10 1 10 0 10 6 8-8 7-5 7-5 8-8 10 0 10 2 10 1 10 0 9-5 10 4 10-1 10 2 10 1 8 0 7-1 8 6 8 0 9 3 8 3 8-6 9 3 8 4 9 5 8-3 8 5 9-1 8 3 8 3 9 2 8 0 9 4 8 0 8 4 9 10 8-6 8 1 12-10 2-6 3-10 3-8 3-6 3-12 4-6 4-2 11-12 6-7 5-8 7-10M1638 532l7 2 7 9 8 5 9-3 9 1 9 1 9-3 9 5 9 2 10 3 9 4 8-3 9-11 9 1 9 1 9 5 8 1 9-5 9 1 9 1 9 6 9-1 9 4 9 3 9 1 9-3 9-4 9 6 9-2 9 2 8 3 9 6 9 1 10-1 10 4 10-1 8-4 7-8 7-5 8-7 10 3 10 3 10-5 10 5 9-1 10 5 10 0 10 1 10-3 8 3 7 5 8 3 8 0 9-8 8 2 8 1 9 1 8 3 9 3 8-3 8 1 9 3 8 1 8 9 9-3 8-1 9 2 8 1 8-2 9 8 8 2 8 3 12-8 2-7 3-8 3-12 3-5 3-10 4-10 4-5 11-11 6-12 5-8 7-14M1638 528l7 10 7 6 8-3 9 0 9 1 9-7 9 2 9 1 9 6 10 6 9 4 8-10 9-1 9-5 9 5 9-2 8 1 9 4 9 0 9 6 9 1 9-1 9 3 9-2 9 3 9-2 9 0 9-3 9 2 9 3 8-2 9 2 9 3 10-3 10 5 10 6 8-9 7-9 7-4 8-9 10 3 10-6 10 2 10 3 9 3 10 2 10 2 10 2 10-1 8 4 7 1 8 11 8-6 9 4 8 8 8-1 9-5 8 0 9 1 8 5 8 3 9 1 8 4 8-2 9 0 8 8 9-5 8 5 8 6 9-1 8-2 8 3 12-6 2-11 3-6 3-6 3-15 3-7 4-4 4-13 11-9 6-12 5-2 7-15M1638 532l7 6 7 6 8 7 9-4 9 1 9-6 9-4 9 9 9 8 10 4 9 0 8-5 9-10 9 0 9-1 9 5 8-2 9 1 9 4 9-4 9 9 9 1 9 1 9 3 9 4 9-1 9 3 9 1 9 9 9-5 8 1 9 1 9 1 10 3 10-3 10 0 8-2 7-9 7-8 8-7 10-1 10 3 10-3 10-1 9 4 10 1 10 0 10 1 10-1 8 7 7 0 8 3 8-2 9 0 8 3 8 1 9-1 8 4 9 3 8-3 8-3 9 7 8 4 8 5 9 4 8-1 9-1 8-1 8 8 9-5 8 4 8 5 12-11 2-9 3-10 3-9 3-6 3-6 4-12 4-10 11-5 6-10 5-11 7-6M1638 560l7 1 7 15 8-1 9 1 9 0 9-2 9-6 9 9 9 1 10 4 9 1 8-10 9-4 9 1 9-5 9-1 8 4 9-10 9 3 9 0 9 5 9 1 9 2 9 5 9-1 9 2 9 2 9 6 9 4 9-2 8 1 9-4 9 8 10 4 10-3 10 0 8-1 7-11 7 1 8-12 10 9 10-2 10-5 10-2 9-3 10 5 10-1 10 4 10-5 8 8 7 1 8 0 8 6 9-2 8-2 8-3 9 0 8 1 9 7 8 3 8 3 9-1 8 3 8 5 9 2 8 0 9 7 8 2 8 3 9 1 8 7 8 1 12-13 2-4 3-15 3-7 3-7 3-12 4-11 4-11 11-7 6-8 5-10 7-8M1638 548l7 9 7 5 8 3 9 1 9-2 9 5 9-5 9 9 9 2 10 3 9 4 8-14 9-5 9 2 9 1 9-4 8-3 9 0 9 6 9 2 9 0 9 4 9-4 9 4 9 0 9 2 9 0 9 6 9 0 9 0 8-4 9 5 9 1 10 3 10 0 10 2 8-5 7-10 7-6 8-8 10-3 10 6 10 0 10 6 9-3 10 12 10-7 10-2 10 6 8 1 7 2 8 3 8 4 9 2 8 1 8 3 9-1 8 6 9-2 8 2 8-1 9 4 8 2 8 1 9 1 8 1 9-1 8 6 8 2 9 2 8 0 8-3 12-11 2-6 3-10 3-10 3-4 3-10 4-11 4-6 11-10 6-5 5-7 7-13" stroke="#f2a2af" stroke-width="2.2" fill="none" transform="scale(.5)"/><path d="M1660 577l7 2 7 5 8 3 7-4 9 1 9 0 9 4 9-3 6 0 7-5 6-7 6-10 10-1 10 5 10 8 9 1 10 1 10 4 9 6 9-6 9 2 9 9 8 2 8 10 8 7 7 7 8 12 7 0 8 5 10 11 9-4 10 3 8-9 8-5 8-2 5-12 5-6 5-8 7-11 7 2 7-9 10-9 10 6 10-10 10 6 9 5 10-6 10 7 10-1 10 4 12 1 11 11 8-5 9 2 8 3 8-2 9-2 8-2 9 8 8-6 7 4 8 6 7 3 8 11 7 3 8 7 7 2 8 5 7 0 11 1 11 4 9 7 9 1 8-8 8-13 5-11 6-4 5-12 6-2 11-6 5-3M1660 585l7 2 7 1 8 10 7 4 9-3 9 3 9 5 9 2 6-12 7 1 6-8 6-7 10 7 10-7 10 3 9 4 10-4 10 2 9-3 9 8 9-2 9 4 8 6 8 10 8 11 7 4 8 6 7 4 8 9 10-2 9-1 10-1 8-1 8 3 8-8 5-5 5-8 5-1 7-10 7-9 7-8 10 0 10-4 10-2 10 6 9-1 10 6 10 1 10 4 10-3 12-1 11-1 8 1 9 3 8-10 8 7 9-6 8-1 9-9 8 6 7 1 8 4 7 4 8 13 7 5 8 5 7-2 8 6 7 3 11 5 11 7 9 5 9 14 8-9 8-10 5-10 6-3 5-15 6-5 11-10 5 8M1660 568l7 7 7 6 8 7 7-5 9 5 9-1 9 7 9 5 6-6 7 1 6-2 6-7 10-7 10 7 10-9 9 8 10 1 10-2 9 6 9-1 9 10 9-4 8 10 8 9 8 4 7 9 8 0 7 9 8 5 10-1 9 0 10 2 8-5 8-6 8-9 5-10 5-11 5-11 7-1 7-10 7-5 10-2 10-2 10-1 10-5 9 7 10 7 10 2 10 2 10 6 12 1 11 5 8-2 9 1 8 7 8 1 9-5 8-5 9 8 8-7 7 1 8 8 7 5 8 7 7 8 8 4 7 1 8 5 7 1 11 5 11 3 9 5 9 11 8-12 8-2 5-16 6-7 5-7 6-12 11-3 5-3M1660 582l7 2 7 9 8 5 7 3 9-4 9-1 9 0 9 3 6-5 7-10 6-6 6-3 10-5 10 1 10-3 9-4 10 0 10 4 9-1 9 6 9 7 9 1 8 12 8 3 8 11 7 5 8 9 7 4 8 7 10 4 9 0 10 4 8-12 8 0 8 4 5-9 5-13 5-4 7-8 7-17 7 2 10 1 10-9 10 2 10 1 9-2 10-1 10 5 10-1 10 2 12 2 11-6 8 5 9 6 8-5 8 1 9-2 8-2 9 4 8-4 7 12 8 1 7 11 8 8 7 7 8 12 7 0 8-1 7 6 11 4 11 7 9 8 9 2 8-12 8-4 5-11 6-5 5-19 6-13 11-3 5 4M1660 569l7 4 7 1 8 7 7 4 9 4 9-2 9 0 9 3 6-4 7-8 6-7 6-3 10 3 10-1 10-2 9 9 10 6 10-5 9 0 9 10 9 3 9 1 8 5 8 4 8 9 7 11 8 7 7 0 8 9 10-2 9 7 10-6 8 1 8-11 8-8 5-1 5-13 5-10 7 1 7-7 7-13 10 3 10-6 10 0 10-1 9 5 10 2 10 1 10 3 10-2 12 1 11-3 8 5 9 1 8 0 8 7 9 0 8-4 9 1 8 2 7 2 8 3 7 7 8 2 7 12 8 8 7 6 8-1 7 5 11 13 11 3 9 5 9 9 8-6 8-7 5-14 6-1 5-8 6-22 11-8 5 3M1660 593l7 2 7 7 8 1 7 5 9-3 9 2 9 6 9-2 6-2 7-11 6 1 6-4 10-9 10 9 10-7 9 6 10-4 10 1 9-1 9 2 9 9 9 5 8-1 8 13 8 11 7 1 8 4 7 7 8 10 10 4 9-2 10 0 8-1 8-5 8-13 5-2 5-10 5-4 7-8 7-11 7-7 10 1 10-2 10-5 10 3 9 1 10 4 10-4 10 9 10 1 12-4 11 4 8-1 9 2 8-8 8 2 9 1 8-1 9 3 8-4 7 13 8 1 7 6 8 7 7 9 8-3 7 9 8 7 7-2 11 9 11 2 9 7 9 8 8-14 8-8 5-13 6-15 5-5 6-1 11-13 5 3M1660 588l7 1 7 4 8 3 7 2 9 1 9-1 9-1 9 8 6-9 7-7 6 0 6-9 10-5 10-3 10 1 9 7 10 1 10 5 9 2 9-4 9 5 9 4 8 8 8 3 8 10 7 8 8 7 7 10 8 2 10-1 9 3 10 0 8 3 8-8 8-12 5-8 5-7 5-7 7-7 7-7 7-3 10-1 10-5 10 0 10 3 9 10 10-6 10 8 10 4 10-1 12 0 11 4 8-1 9 6 8-3 8 0 9 0 8-4 9-1 8-4 7 6 8 13 7 6 8 6 7-1 8 9 7-5 8 4 7 1 11 6 11 2 9 12 9 9 8-13 8-10 5-12 6-13 5-6 6-8 11-14 5 9M1660 575l7 6 7 8 8 8 7 5 9-9 9 12 9 2 9 2 6-5 7-4 6-10 6-2 10 1 10 2 10-10 9 5 10-2 10 0 9 5 9 7 9-8 9 2 8 12 8 9 8 7 7 3 8 4 7 7 8 8 10 0 9-4 10 9 8-1 8-8 8-4 5-5 5-7 5-4 7-6 7-13 7-3 10-8 10-6 10-8 10 9 9 2 10 0 10 1 10 4 10 3 12-1 11 0 8 6 9 2 8 0 8 4 9 0 8-3 9-3 8 2 7 7 8 10 7 3 8 11 7 4 8 6 7-2 8 1 7-1 11 4 11 7 9 2 9 6 8-14 8-6 5-13 6-12 5-12 6-2 11-13 5 8M1660 574l7 5 7 1 8 9 7 1 9 0 9 4 9 3 9-4 6-7 7-7 6-7 6-7 10 1 10-1 10 0 9 1 10 4 10-2 9 13 9-5 9 5 9-2 8 6 8 6 8 10 7 9 8 11 7 4 8 1 10 5 9 5 10 0 8 0 8-2 8-2 5-10 5-8 5-6 7-10 7-10 7-6 10-2 10-5 10 0 10 5 9 0 10 3 10 6 10-7 10 8 12-6 11 3 8-2 9 8 8-5 8-5 9-3 8 2 9-4 8-2 7 7 8 9 7 5 8 9 7 2 8 9 7 7 8 3 7 2 11 0 11-1 9 7 9 1 8-2 8-9 5-8 6-7 5-10 6-8 11-10 5 11M1660 568l7 12 7 0 8 3 7 10 9-7 9 6 9 1 9 3 6-3 7-9 6-4 6-7 10 3 10 2 10-4 9 5 10 4 10 0 9-1 9 12 9-4 9 3 8 4 8 4 8 10 7 11 8 3 7 5 8 8 10-2 9 9 10-1 8-6 8 7 8-6 5-10 5-9 5-10 7-8 7-4 7-9 10-3 10-9 10-4 10 8 9 0 10-2 10 9 10 0 10-5 12 1 11-1 8-5 9 7 8 1 8-2 9-2 8-8 9 7 8 4 7-1 8 8 7 3 8 7 7 9 8 6 7 6 8 1 7-3 11 5 11 7 9 10 9 11 8-17 8-12 5-3 6-19 5-6 6-7 11-8 5 2M1660 569l7 3 7 0 8 10 7 3 9-6 9 7 9 6 9 6 6-6 7-5 6-3 6-3 10 3 10 0 10-9 9 3 10 7 10 6 9-5 9 5 9 0 9 8 8 6 8 9 8 2 7 4 8 7 7 6 8 4 10-1 9 2 10-2 8-4 8-3 8-6 5-10 5-8 5-7 7-5 7-5 7-2 10-5 10-7 10 1 10-8 9 10 10 8 10-8 10 4 10 5 12-2 11 4 8 2 9 1 8 0 8 2 9-1 8-6 9 2 8 4 7 4 8 8 7 5 8-1 7 14 8 9 7 4 8-2 7 7 11-1 11 11 9 0 9 12 8-8 8-16 5-8 6-5 5-12 6-12 11-8 5-1M1660 566l7 7 7-5 8 4 7 7 9-4 9 4 9 9 9-3 6-4 7 2 6-7 6 1 10-1 10-3 10 2 9-2 10 6 10-2 9 8 9-3 9 3 9 3 8 2 8 7 8 7 7 3 8 9 7 8 8 8 10-3 9-1 10 3 8 0 8-9 8-4 5-11 5-7 5-14 7-1 7-12 7-8 10 1 10-7 10-3 10 6 9 1 10 4 10 3 10-2 10 5 12 3 11 2 8-5 9 10 8-1 8 4 9 4 8-8 9 5 8-5 7-2 8 17 7 6 8 9 7 5 8 7 7 4 8-5 7 4 11 3 11 4 9 6 9 4 8-7 8-7 5-9 6-13 5-9 6-9 11-7 5 6M1660 571l7 2 7 15 8-4 7 4 9-2 9 5 9 4 9-1 6 8 7-8 6-11 6-9 10 6 10-4 10-2 9 5 10 4 10-6 9 3 9 1 9-1 9 1 8 10 8 4 8 9 7 9 8-2 7 4 8 7 10 1 9 2 10-6 8 4 8-2 8-10 5-5 5-10 5-11 7-5 7 1 7-7 10-5 10 4 10-5 10 8 9 1 10 1 10 4 10 0 10 3 12-1 11 6 8-4 9-1 8 4 8 4 9-2 8 1 9-1 8-2 7 6 8 5 7 3 8 11 7 4 8 7 7 5 8 6 7-8 11 3 11 3 9 3 9 6 8-14 8-6 5-2 6-11 5-9 6-10 11-10 5 4M1660 540l7 7 7 3 8 8 7 3 9 2 9 4 9-1 9 2 6 0 7-13 6 1 6-2 10-2 10 6 10 2 9-4 10 1 10 4 9-5 9 5 9 10 9-3 8 11 8 9 8 4 7 9 8 6 7 5 8 4 10-2 9 6 10-1 8-8 8-10 8-6 5-4 5-5 5-9 7-9 7-8 7-7 10-1 10-1 10-10 10 4 9 2 10 6 10 3 10-4 10 2 12 5 11 5 8-4 9 0 8 3 8-3 9 3 8-3 9-1 8-4 7 4 8 10 7 2 8 10 7 7 8 4 7 9 8 8 7 5 11 3 11 5 9 4 9 14 8-12 8-8 5-10 6-11 5-11 6-11 11-5 5 0M1660 548l7 5 7 4 8 2 7 0 9 5 9 0 9 8 9-2 6-7 7 2 6-11 6-6 10 3 10-1 10 1 9 10 10 1 10 5 9-3 9 11 9-5 9 1 8 10 8 6 8 7 7-1 8 7 7 7 8-2 10-2 9 1 10 3 8-1 8-4 8-4 5-6 5-13 5-3 7-10 7 4 7-13 10 1 10 0 10-1 10 4 9 6 10 3 10 1 10-3 10 9 12 0 11 5 8-10 9-2 8 2 8 1 9-1 8 0 9-2 8-3 7 9 8 4 7 13 8 5 7 8 8 3 7-3 8 11 7 5 11 2 11-2 9 13 9 3 8-6 8-14 5-14 6-11 5-12 6-10 11-7 5 5M1660 567l7 7 7 2 8 4 7 2 9 5 9 0 9 2 9 3 6-3 7-7 6-11 6-6 10-3 10 7 10 1 9 5 10 3 10 1 9 1 9 3 9 7 9-4 8 6 8 13 8 10 7 0 8 9 7 4 8 7 10-3 9 2 10-4 8-2 8-9 8-3 5-22 5 4 5-14 7-9 7-8 7-3 10-4 10-7 10 1 10 8 9 1 10 3 10 0 10 7 10 4 12 0 11 10 8 1 9 1 8-5 8 2 9-2 8 0 9 6 8-2 7 3 8 1 7 6 8 6 7 8 8 10 7-2 8 3 7-1 11 11 11 11 9-1 9 8 8-12 8-10 5-13 6-6 5-13 6-9 11-17 5 12M1660 583l7-5 7 3 8 5 7 4 9 3 9 0 9 3 9-5 6 0 7-8 6-6 6-1 10-2 10-1 10-2 9 8 10-1 10 6 9 1 9-1 9 6 9 2 8 10 8 8 8 12 7 8 8 2 7 6 8 6 10 4 9-5 10-3 8 5 8-7 8-11 5-7 5-8 5-4 7-14 7-6 7-6 10-6 10 2 10 3 10-2 9 6 10 1 10 4 10 0 10-1 12 6 11-1 8 4 9-5 8 4 8 1 9-5 8 0 9 1 8 2 7 8 8 5 7 7 8 6 7 3 8 16 7-1 8 5 7-3 11 4 11 11 9-3 9 13 8-9 8-17 5-4 6-9 5-4 6-24 11-9 5 10M1660 561l7 6 7 0 8 1 7 5 9 2 9-2 9 1 9 4 6-3 7-15 6-5 6 0 10-5 10 3 10 4 9 1 10 5 10-4 9 2 9 12 9 4 9-1 8 9 8 2 8 0 7 12 8 1 7 3 8 10 10 3 9 1 10 0 8-2 8-5 8-7 5-9 5-4 5-6 7-4 7-8 7-13 10-1 10-3 10-7 10 2 9 13 10 1 10 4 10 5 10 2 12-5 11 3 8 3 9 0 8-1 8 2 9-5 8-4 9 1 8-2 7 2 8 8 7 7 8 5 7 4 8 8 7 10 8 2 7 1 11 8 11-3 9 11 9 0 8-9 8-9 5-11 6-7 5-15 6-8 11 1 5 7" stroke="#d35a62" stroke-width="2.2" fill="none" transform="scale(.5)"/><path d="M1636 525l3 8 4 10 3 10 4 11 3 6 4 2 3 12 8 6 8-1 8 7 8 3 8-1 8 4 8 0 8 4 8 3 8 3 8 3 8 1 8 4 8-4 8 3 8 3 8 2 8-3 8 1 8-3 8-5 7 3 7 8 8 8 8 9 7-1 7 5 8-7 10 10 10 4 10 2 10-3 10 6 10-10 5-7 5-9 5-3 5-2 6-11 6 4 6-12 6-7 6-7 10 2 10 6 10-5 8 9 8 1 8 7 8 0 8-2 8 4 8 1 8 5 8-2 8 10 8 1 8 2 8-1 8 0 8-3 10-1 10 3 10 14 5 7 5 4 5 2 5 7 8 6 7 10 7 3 8 7 8 4 8 4 8 0 8 4 8 0 10-3 10 1 10-4 6 6 6 6 6 1 6 10 6 8M1636 522l3 8 4 19 3 2 4 11 3 13 4 1 3 2 8 5 8 4 8 7 8 3 8 5 8-4 8 2 8 4 8-7 8 10 8 1 8 5 8-5 8 8 8-5 8 1 8 0 8 1 8-5 8 2 8 4 7-1 7 1 8 8 8 3 7 1 7 12 8 6 10 2 10 5 10 5 10-2 10-8 10 1 5-10 5-11 5-8 5-3 6-3 6-6 6-12 6-4 6-3 10-2 10-2 10 1 8 5 8 0 8 6 8-4 8 7 8 6 8 11 8 0 8-1 8 7 8 0 8-8 8-2 8 10 8-3 10 4 10 6 10 1 5 9 5 4 5 8 5 7 8 13 7 1 7-4 8 4 8 2 8-5 8 3 8 0 8 6 10-11 10-1 10-3 6 3 6 0 6 7 6 14 6 1M1636 535l3 3 4 16 3 6 4 12 3 6 4 9 3 2 8 7 8 2 8 1 8 3 8 7 8-2 8-1 8 1 8-5 8 3 8 3 8 8 8 3 8 2 8-5 8-2 8-7 8 4 8-2 8-2 8 1 7 7 7 0 8 2 8 11 7 7 7 12 8 5 10 3 10 11 10-4 10-3 10-2 10 1 5-8 5-6 5-9 5-2 6-16 6-5 6-7 6-7 6-9 10 6 10 0 10 6 8 2 8 4 8 4 8 2 8 0 8 5 8 0 8 2 8 0 8-4 8 5 8-4 8-1 8-3 8-2 10 12 10-4 10 9 5 4 5 11 5 10 5 3 8 7 7 1 7 4 8 6 8 1 8 5 8 4 8-2 8 4 10-1 10-1 10 1 6 7 6 4 6 7 6 3 6 14M1636 512l3 8 4 8 3 11 4 9 3 8 4 6 3 7 8 3 8 8 8 5 8-4 8 9 8 2 8 2 8 1 8-5 8 2 8 4 8-3 8 3 8 6 8 4 8-2 8-2 8 0 8-2 8 2 8 8 7 5 7 2 8 2 8 10 7 9 7 4 8 6 10 3 10-2 10 11 10-4 10-9 10-2 5-2 5-1 5-11 5-11 6-3 6-12 6-12 6-6 6-7 10 3 10 2 10-2 8 4 8 4 8-4 8 4 8 3 8-1 8 2 8 6 8 4 8-1 8 6 8 1 8-2 8-3 8 4 10 2 10 5 10 4 5 4 5 6 5 7 5 7 8 3 7 4 7 7 8 2 8 6 8 4 8 2 8-1 8-1 10-7 10 2 10 0 6 8 6 0 6 13 6 4 6 10M1636 517l3 16 4-1 3 4 4 8 3 14 4 4 3 9 8 3 8 7 8 4 8 11 8-5 8 12 8 3 8-7 8 7 8-4 8 2 8-5 8 6 8-1 8 1 8 2 8-1 8-7 8 5 8-2 8 7 7 3 7 0 8 8 8 0 7 4 7 9 8 7 10 3 10 1 10 5 10-2 10-2 10-6 5-3 5-14 5-3 5-4 6-8 6-10 6-6 6-7 6-3 10-7 10 5 10 6 8 5 8 3 8 2 8 0 8 8 8-1 8 2 8 9 8 0 8-2 8 1 8 3 8 2 8 3 8 6 10 3 10 2 10 3 5 4 5 4 5 12 5 4 8 5 7 5 7 3 8 9 8-4 8-2 8 4 8 0 8 8 10-4 10 4 10-6 6 6 6 11 6 1 6 0 6 0M1636 505l3 8 4 15 3 6 4 9 3 12 4 3 3 9 8 4 8 1 8 4 8 3 8 10 8 2 8 1 8-2 8-1 8 5 8-6 8 1 8 3 8 2 8-4 8-6 8 5 8 1 8-4 8 2 8 8 7-3 7 8 8 5 8-5 7 12 7 11 8 8 10-3 10 6 10 1 10-2 10 0 10-4 5-10 5-2 5-13 5-9 6-1 6-5 6-10 6-3 6-4 10 6 10-3 10 2 8 9 8-1 8 5 8-3 8 3 8-4 8 6 8 1 8 8 8-6 8 2 8-3 8 0 8-3 8 1 10-3 10 6 10 4 5 5 5 7 5 9 5 11 8-1 7 11 7-1 8 4 8 5 8-4 8 6 8 0 8-5 10 5 10 3 10 3 6 8 6 3 6 7 6 5 6 7M1636 514l3 7 4 10 3 12 4 2 3 12 4 1 3 15 8 4 8 7 8 5 8 6 8 3 8-9 8 8 8-2 8 5 8 0 8 0 8 3 8-9 8 4 8 7 8-12 8 2 8 2 8 4 8-6 8 10 7-1 7 9 8 7 8 6 7 7 7 6 8 9 10 1 10 9 10-4 10-2 10 4 10-7 5-3 5-7 5-12 5-9 6-4 6-11 6-5 6-5 6-5 10-5 10 1 10 6 8-2 8-2 8 9 8-2 8 3 8-1 8-1 8-2 8 4 8 2 8 1 8 4 8 6 8 2 8-3 10 9 10 8 10-2 5 7 5 13 5 0 5 19 8-7 7 2 7 9 8 4 8 1 8-3 8-9 8 1 8 5 10-1 10-2 10-1 6 7 6 8 6 0 6-1 6 5M1636 497l3 11 4 11 3 8 4 6 3 9 4 9 3 6 8 9 8 2 8-6 8 11 8-2 8 1 8 1 8 8 8 6 8 7 8-1 8 0 8 1 8 6 8-5 8 4 8 5 8-1 8-2 8-5 8 4 7 5 7 3 8-3 8 8 7 4 7 0 8 15 10-2 10 2 10-3 10 1 10 1 10-6 5-3 5-8 5-6 5-9 6 0 6-9 6-8 6-3 6 2 10-6 10-4 10 7 8 4 8-6 8 0 8 0 8 3 8 1 8 5 8-2 8 3 8 5 8-6 8 0 8 2 8-2 8 1 10 4 10 4 10 3 5 14 5 7 5 6 5 13 8 2 7 7 7 6 8-3 8 12 8-1 8 5 8 2 8-3 10 6 10-7 10 2 6 6 6 1 6 4 6 6 6 2M1636 518l3 9 4 10 3 6 4 9 3 10 4 4 3 13 8 6 8 6 8 2 8 0 8 16 8-4 8 7 8-4 8-3 8 1 8-5 8 8 8 1 8-3 8 5 8-4 8 6 8-1 8-4 8 6 8-1 7 3 7 7 8-2 8 4 7 8 7 4 8 7 10 3 10 8 10 5 10-5 10-3 10-2 5-5 5-13 5-2 5-5 6-7 6-1 6-4 6-5 6-6 10 7 10 1 10-4 8 5 8-11 8 2 8-3 8 2 8 9 8-8 8 7 8 0 8 2 8 6 8 2 8-7 8-1 8 5 10 1 10 1 10 5 5-2 5 16 5 9 5 0 8 15 7 3 7 3 8 9 8-6 8 0 8 0 8 6 8-1 10 6 10-8 10 5 6 0 6 7 6 9 6 10 6 0M1636 494l3 16 4 4 3 5 4 9 3 12 4 10 3 7 8 4 8 4 8 8 8 2 8-3 8 9 8-3 8-1 8 2 8-2 8 9 8 2 8 6 8-6 8 8 8-5 8-2 8 5 8 5 8-1 8 1 7 4 7 1 8 5 8 5 7 12 7 8 8-1 10 7 10-1 10 8 10-6 10-8 10-8 5-6 5-3 5-9 5-4 6-14 6-8 6-3 6-5 6-5 10-3 10 3 10 4 8 0 8 3 8 4 8 4 8 1 8-3 8 7 8-1 8 3 8 1 8 4 8-2 8 2 8 2 8 3 10 8 10 8 10-7 5 10 5 7 5 14 5 7 8 4 7 1 7 0 8 11 8-5 8 7 8 4 8 0 8-4 10 2 10-2 10 4 6 3 6 3 6-4 6 10 6 7M1636 511l3-1 4 16 3 5 4 5 3 16 4 1 3 12 8 2 8 7 8-1 8 12 8 2 8 6 8-5 8 7 8-5 8-2 8 5 8-5 8 7 8 3 8-2 8 0 8-2 8-2 8-2 8-2 8 6 7-5 7 11 8 3 8 11 7 9 7 0 8 2 10 12 10 0 10 1 10 0 10-4 10-10 5-3 5-12 5-6 5-6 6-8 6-6 6-2 6-7 6-4 10 6 10 3 10 1 8 5 8 5 8 6 8 1 8-2 8 1 8 11 8 1 8 1 8 5 8-1 8-1 8 0 8 1 8-4 10-1 10 9 10 2 5 5 5 4 5 10 5 6 8-1 7 6 7 9 8 0 8 3 8-1 8-3 8-2 8 8 10-1 10 0 10 3 6 1 6 7 6 3 6 4 6 6M1636 515l3 7 4 8 3 6 4 17 3 3 4 9 3 1 8 2 8 7 8 3 8 6 8 1 8 4 8 3 8 1 8 6 8-2 8 0 8-1 8 0 8 0 8-4 8 7 8-2 8-1 8-4 8 3 8 4 7 0 7 4 8 7 8 0 7 0 7 13 8 1 10 6 10 7 10 3 10-2 10-5 10 4 5-10 5-7 5-4 5-3 6-10 6-6 6-5 6-3 6-5 10-1 10 1 10 5 8 0 8 5 8-2 8 4 8-1 8 2 8-2 8 2 8 2 8-2 8 3 8-5 8 5 8 0 8-5 10 7 10 3 10 7 5 4 5 10 5 6 5 11 8 4 7 5 7 3 8 5 8 5 8-3 8-2 8 3 8 2 10 8 10-3 10-3 6 7 6 9 6 4 6-6 6 10" stroke="#d35a62" stroke-width="2.2" fill="none" transform="scale(.5)"/><path d="M1652 541l6 13 6 8 7 8 9-6 9 9 7-3 7 9 8 0 7 18 7 6 8-6 9-4 8 3 10-10 10 6 10-4 9 4 10-6 10 0 10 1 10 4 10 0 8 10 8-6 8 13 10-9 11-3 7-1 7-3 8-10 7 2 9 0 8 4 8-1 8 0 11-2 10 13 9-13 9-11 9-4 12 4 12 2 10 9 9-3 10 2 10 5 10-2 10 3 12 5 11 0 8 3 9 3 8 1 8-1 8-7 7 2 8-2 11 2 4 15 5 4 4 7 5 7 4 9 6 3 5 5 8 1 7 9 8 0 8-1 9 7 8-1 8 7 9 0 9-1 9-3 5 4 6 9 9 3 9 1 11 15M1652 539l6 12 6 8 7 2 9 4 9 2 7 5 7 0 8 7 7 13 7 4 8-2 9-6 8-4 10-4 10 4 10 1 9 7 10-4 10 6 10-3 10 8 10 8 8 0 8 0 8 10 10-12 11-2 7-3 7-7 8-3 7-7 9 3 8 2 8 2 8 7 11 1 10 1 9-15 9 3 9-9 12 2 12-1 10 1 9 2 10 1 10 1 10 7 10 7 12-4 11 1 8-2 9 2 8 5 8 3 8-10 7 1 8-9 11 19 4 7 5-6 4 10 5 15 4 1 6 2 5 7 8 9 7 5 8-1 8 6 9 4 8-2 8 0 9-5 9 0 9 0 5 4 6 14 9 0 9 5 11 2M1652 553l6 9 6 7 7 10 9 6 9 1 7 1 7 8 8 2 7-4 7 8 8-5 9 1 8-5 10 3 10-6 10 2 9 0 10-2 10 9 10 8 10-4 10-5 8 10 8 5 8 11 10-18 11 5 7 1 7-5 8 2 7-9 9 2 8 5 8-3 8 1 11 6 10-4 9-3 9 1 9-8 12 5 12 1 10-1 9 6 10 0 10 5 10-2 10 5 12 4 11-4 8 7 9-3 8 2 8-2 8 0 7-7 8-5 11 14 4 8 5 5 4 1 5 8 4 8 6 4 5 0 8 7 7 2 8 4 8 3 9 3 8-1 8-3 9 7 9-7 9-1 5 5 6 10 9 5 9-3 11 11M1652 540l6 8 6 8 7 8 9 1 9 7 7 5 7 0 8 3 7 16 7 8 8-12 9-2 8 9 10-7 10 6 10-7 9-1 10 4 10-3 10 2 10 3 10 5 8-3 8 8 8-2 10-10 11-2 7-8 7 3 8-6 7-6 9 3 8 1 8 2 8 5 11 5 10 1 9-4 9 1 9-6 12 1 12 5 10-7 9 7 10 6 10-5 10 2 10 13 12-4 11 3 8-3 9 7 8-7 8 9 8-14 7-1 8-1 11 3 4 14 5 7 4 7 5 13 4 6 6 9 5 6 8 7 7 1 8 7 8 0 9-3 8-1 8 1 9-2 9-4 9 1 5 5 6 12 9-5 9 4 11 10M1652 556l6 8 6-2 7 10 9 2 9-3 7 4 7 5 8 6 7 4 7 10 8 0 9-1 8-10 10 0 10-2 10 2 9 4 10 1 10-3 10 2 10 5 10-3 8 12 8 6 8 0 10-5 11-4 7-7 7 6 8-7 7-1 9 2 8 0 8-1 8 0 11 2 10 1 9-3 9-7 9 4 12 1 12 3 10-8 9 9 10 7 10-1 10-1 10-1 12 5 11 0 8 4 9-3 8 2 8 0 8-9 7 6 8-4 11 10 4 6 5 8 4 2 5 5 4 11 6 4 5 13 8-9 7 12 8-4 8 10 9-2 8 6 8 3 9 1 9-9 9 5 5 0 6 11 9-2 9 4 11 6M1652 553l6 9 6 7 7 5 9 0 9-2 7 5 7 1 8 9 7 7 7 11 8-1 9-5 8 2 10-4 10 3 10 4 9 1 10 2 10-5 10 7 10-4 10 6 8 7 8 1 8 0 10-8 11-9 7-7 7 0 8 1 7-9 9 5 8 2 8 2 8-5 11-1 10 0 9-4 9-6 9-8 12-2 12 10 10 0 9 3 10 4 10 9 10 10 10 1 12 3 11-1 8 1 9 4 8-2 8 2 8-5 7-5 8-9 11 16 4 0 5 16 4 4 5 7 4 6 6 16 5-1 8 1 7 10 8-5 8-1 9 2 8 1 8 6 9-9 9 3 9-7 5 11 6 4 9 5 9 2 11 16M1652 559l6 5 6 5 7 8 9 1 9 0 7 7 7-1 8 3 7 6 7 13 8-4 9 1 8-10 10 1 10-1 10-6 9 1 10 3 10 1 10 3 10 8 10-2 8 5 8 5 8-2 10-5 11-4 7-6 7-3 8 2 7-5 9-1 8 2 8 8 8 3 11 4 10 0 9-14 9 0 9-7 12 5 12 0 10-1 9 15 10-7 10 12 10-3 10 9 12-1 11 4 8-3 9 4 8 0 8 2 8-3 7 1 8-6 11 7 4 4 5 4 4 12 5 11 4 3 6 5 5 11 8 4 7 1 8 2 8 0 9 2 8 0 8 3 9-4 9 1 9-8 5 9 6 3 9 0 9 4 11 11M1652 559l6 9 6 9 7 11 9-5 9 0 7 5 7 9 8 1 7 10 7 13 8 3 9-11 8-5 10 1 10-5 10 5 9-5 10-2 10 5 10 4 10-4 10 2 8 6 8 4 8 4 10-1 11-15 7 2 7-2 8-3 7-6 9 8 8 0 8 9 8-4 11-1 10-1 9-4 9-7 9-7 12 9 12 0 10-4 9 2 10 10 10-2 10 4 10 2 12 1 11-1 8 2 9 2 8 0 8-2 8-4 7 4 8-7 11 9 4 6 5 11 4 8 5 7 4 6 6 5 5 6 8 7 7 7 8 1 8 9 9-4 8 6 8-5 9 1 9-3 9-1 5 1 6 9 9-4 9-1 11 12M1652 538l6 3 6 15 7 7 9-1 9 0 7 11 7-1 8 1 7 12 7 6 8-2 9-9 8-1 10-8 10 3 10-5 9 3 10 0 10 13 10-5 10 13 10-8 8 3 8 5 8 5 10-8 11 2 7-6 7 2 8-7 7 8 9-4 8-1 8 4 8 1 11 1 10 2 9-8 9-11 9 3 12 4 12-7 10 2 9 1 10 7 10 2 10 5 10 2 12 3 11 5 8-1 9 4 8-6 8-1 8-4 7-3 8-2 11 10 4 5 5 2 4 5 5 26 4 0 6 6 5-3 8 11 7 1 8-4 8-2 9-1 8 1 8 9 9-11 9-5 9 4 5 8 6 5 9 4 9 0 11 13M1652 549l6 1 6 18 7 3 9 10 9-2 7 8 7-1 8 1 7 10 7 3 8-1 9-7 8-4 10-1 10-1 10-1 9 4 10 0 10 2 10 0 10 6 10-3 8 7 8 4 8 4 10-4 11-7 7-7 7-2 8 3 7-7 9 2 8 7 8 4 8 2 11 2 10-6 9-6 9 9 9-10 12-3 12 8 10-3 9 4 10 8 10 3 10 5 10 1 12 2 11 7 8-9 9 2 8-5 8 12 8-9 7 1 8-10 11 13 4 0 5 3 4 10 5 6 4 8 6 2 5 6 8 1 7 1 8 7 8 2 9 2 8 1 8 2 9-8 9-3 9-2 5 9 6 13 9 0 9-2 11 9" stroke="#8a1a24" stroke-width="2.2" fill="none" transform="scale(.5)"/><path d="M1611 340l0-195 5 155 4 160" stroke="#d35a62" stroke-width="2.2" fill="none" transform="scale(.5)"/><path d="M1636 544l8-84 6 70" stroke="#d35a62" stroke-width="2.0" fill="none" transform="scale(.5)"/><path d="M1960 580l20-56 12-8 14 20 14 16 30 12 30 4 40 8" stroke="#8a1a24" stroke-width="2.2" fill="none" transform="scale(.5)"/><path d="M1608 243l1 3 0 3 1 4 1 6 0 7 1 9 1 4 1 9 0 10 1 6 1 4 0 8 1 2 0 6 1 8 0 6 0 5 1 8 0 6 1 7 0 5 1 6 0 8 1 9 0 9 1 9 1 4 0 2 1 5 1 10 1 5 0 2 1 10 1 9 1 7 1 3 1 4 0 4 1 8 1 6 1 7 1 7 1 6 1 4 2 9 2 10 3 8 2 0 2 4 3 3 4 7 5 5 5 6 5 4 6 1 5-1 7-1 5 1 6 6 6 0 5 4 5 6 4 8 5 7 6-2 6-2 6-3 7-4 7-1 7-1 8 0 8 0 6 1 5 2 6-2 6 0 6 2 6 5 6-1 7 1 5 3 6 3 6 3 6 3 6 1 6 3 7 0 6-4 8-3 5-5 6-6 6-2 6-2 6 2 7-1 7 4 7 0 6 5 6-2 8-2 6 2 7-2 5-2 6-3 5-1 6-4 5-3 8-6 7 1 9 3 5-1 6 4 6 5 6 2 6 0 6 1 7 6 6 3 6 0 5-2 8 1 7 4 8 2 6 0 7 5 7 2 7-2 6 0 7-3 6-6 5-4 5-2 5 1 6 9 3 6 4 5 4 6 4 5 4 9 3 1 6 7 5 7 5 4 5 6 6 0 7 3 6-1 7 1 7 0 7 1 6-2 8-3 7 0 7-3 5 1 6 5 5 9 6 4 6-1 6 3 7 7 4 5 2-1 0-7 0-16 1-4 0-4 0-11 0-2 0-3 1-8 0-5 0-8 0-7 1-4 0-8 0-8 1-8 0-9 0-7 0-5 1-7 0-7 1-5 0-8 1-9 1-7 0-5 1-7 1-5 1-4 0-3 1-1 2-5" stroke="#7f111b" stroke-width="12" fill="none" stroke-linejoin="round" transform="scale(.5)"/><path d="M1608 343l1 2 0 1 1 6 1 1 0 6 1 7 1 11 1 5 0 8 1 6 1 11 1 8 1 4 1 6 1 7 1 7 0 5 1 7 1 6 1 7 1 8 1 3 2 9 1 5 1 6 1 5 1 10 1 4 2 4 1 5 2 10 2 4 3 4 3 7 3 9 4 3 3 6 4 5 5 2 5 7 6 2 6 4 7 1 6 0 6 5 6 1 7-1 6 3 5-3 6-1 5-8 4-3 5-4 5-4 7-2 7 0 8 1 8 2 5-1 6 1 6 3 6 1 6 2 6-1 6 3 6-4 7 3 6 5 5 2 5 3 5 8 4 2 5 4 5 5 4 2 5 2 5 4 5 7 6 3 5 2 7 2 8 5 7 1 7 1 7-7 6-1 6-3 5-6 4-6 4-7 3-9 4-10 5-6 5-5 5-1 6-3 5-4 6-5 6 3 7-2 6 3 6 2 6 3 5 2 6 0 6 0 6-3 7 3 6 2 6-1 5 2 8 2 7 1 8 1 6 0 7 3 7 0 7 1 6-1 7-2 7-3 7 2 7 0 6-1 6 1 6 4 5 8 5 2 6 5 5 9 6 5 6 2 5 5 6 4 5 0 6 1 8 3 7 4 7 3 7 3 5 6 6 1 6-5 5-7 5-9 4-4 3-7 4-6 4-6 3-3 4-11 6-6 5-2 5 8" stroke="#d0525a" stroke-width="12" fill="none" stroke-linejoin="round" transform="scale(.5)"/><path d="M1608 380l1 4 0 9 1 4 0 5 1 7 1 7 0 9 1 7 1 5 0 7 1 7 1 7 1 6 0 6 1 12 1 4 0 2 1 6 1 6 1 7 1-1 2 11 2 7 2 4 3 5 3 8 3 4 4 6 5 7 6 1 7 2 5-1 6-2 7-1 7-3 6 2 5-1 7-4 6 6 5 7 7 2 6-2 6 2 4-2 5-5 8-5 5 1 6 2 6-5 7 2 7 1 7-3 6 2 7 1 6 1 7 4 6 0 6 4 7 1 6 0 6 2 7 0 6 3 6 0 7 3 6 2 7 2 6 0 7-1 7 0 6 1 7-1 6 2 5 1 9 2 8 1 7 3 6-2 6-3 5-5 4-3 4-5 5-6 6 1 6-3 8-1 8 3 8 2 7 0 7-1 8-2 7 3 8 3 8-2 7-1 7 4 6 4 5 4 6 1 6 2 6 2 7-2 7-2 7-1 6 2 7-2 7-1 7-2 6 5 7 4 7-2 6 5 7 6 7-1 6 2 7 2 7-1 7 2 6-2 7 3 7 4 7 3 8 4 6 2 5 0 7-2 5-12 1-5 2-6 2-4 2-6 2-6 2-5 3-8 2-7 3-6 3-3 5-9 6-1 4-7 4-6 3-4 4-7 3-4" stroke="#f4a8b4" stroke-width="12" fill="none" stroke-linejoin="round" transform="scale(.5)"/></g>
<g><path d="M811 14.3v6M811 377.9v-6M896.1 14.3v6M896.1 377.9v-6M981.2 14.3v6M981.2 377.9v-6M1066.3 14.3v6M1066.3 377.9v-6M1151.4 14.3v6M1151.4 377.9v-6M1236.5 14.3v6M1236.5 377.9v-6M1321.6 14.3v6M1321.6 377.9v-6M789.7 305.2h6M1342.9 305.2h-6M789.7 232.5h6M1342.9 232.5h-6M789.7 159.7h6M1342.9 159.7h-6M789.7 87h6M1342.9 87h-6" stroke="#3a3a3a" stroke-width="2" fill="none"/><rect x="789.7" y="14.3" width="553.1" height="363.6" fill="none" stroke="#3a3a3a" stroke-width="2"/><text x="779" y="391.4" text-anchor="end" font-size="25" stroke="#1a1a1a" stroke-width="0.35">300</text><text x="779" y="314.2" text-anchor="end" font-size="25" stroke="#1a1a1a" stroke-width="0.35">400</text><text x="779" y="241.5" text-anchor="end" font-size="25" stroke="#1a1a1a" stroke-width="0.35">500</text><text x="779" y="168.7" text-anchor="end" font-size="25" stroke="#1a1a1a" stroke-width="0.35">600</text><text x="779" y="96" text-anchor="end" font-size="25" stroke="#1a1a1a" stroke-width="0.35">700</text><text x="779" y="25.8" text-anchor="end" font-size="25" stroke="#1a1a1a" stroke-width="0.35">800</text><text x="802.5" y="404.9" font-size="25" textLength="22.8" lengthAdjust="spacingAndGlyphs" stroke="#1a1a1a" stroke-width="0.35">0°</text><text x="873.4" y="404.9" font-size="25" textLength="36.6" lengthAdjust="spacingAndGlyphs" stroke="#1a1a1a" stroke-width="0.35">2°E</text><text x="959.4" y="404.9" font-size="25" textLength="36.6" lengthAdjust="spacingAndGlyphs" stroke="#1a1a1a" stroke-width="0.35">4°E</text><text x="1043" y="404.9" font-size="25" textLength="37" lengthAdjust="spacingAndGlyphs" stroke="#1a1a1a" stroke-width="0.35">6°E</text><text x="1128.6" y="404.9" font-size="25" textLength="36.6" lengthAdjust="spacingAndGlyphs" stroke="#1a1a1a" stroke-width="0.35">8°E</text><text x="1205.1" y="404.9" font-size="25" textLength="49.1" lengthAdjust="spacingAndGlyphs" stroke="#1a1a1a" stroke-width="0.35">10°E</text><text x="1285.8" y="404.9" font-size="25" textLength="50.2" lengthAdjust="spacingAndGlyphs" stroke="#1a1a1a" stroke-width="0.35">12°E</text><text x="697.4" y="28.3" font-size="32" font-weight="bold">B</text><text transform="translate(720 198) rotate(-90)" x="-126" font-size="25" textLength="252" lengthAdjust="spacingAndGlyphs" stroke="#1a1a1a" stroke-width="0.3">Seawater pCO<tspan font-size="15" dy="5">2</tspan><tspan dy="-5"> (µatm)</tspan></text></g>
<clipPath id="cC"><rect x="93" y="454" width="553.1" height="363.5"/></clipPath>
<g><path d="M135.6 454V817.5M156.8 454V817.5M178.1 454V817.5M220.7 454V817.5M241.9 454V817.5M263.2 454V817.5M305.8 454V817.5M327.1 454V817.5M348.3 454V817.5M390.9 454V817.5M412.1 454V817.5M433.4 454V817.5M476 454V817.5M497.2 454V817.5M518.5 454V817.5M561.1 454V817.5M582.3 454V817.5M603.6 454V817.5M93 793.3H646.2M93 769H646.2M93 744.8H646.2M93 720.6H646.2M93 672.1H646.2M93 647.9H646.2M93 623.6H646.2M93 599.4H646.2M93 550.9H646.2M93 526.7H646.2M93 502.5H646.2M93 478.2H646.2" stroke="#bbbbbb" stroke-width="1.9" stroke-dasharray="1.9 5.6" fill="none"/><path d="M114.3 454V817.5M199.4 454V817.5M284.5 454V817.5M369.6 454V817.5M454.7 454V817.5M539.8 454V817.5M624.9 454V817.5M93 696.3H646.2M93 575.2H646.2" stroke="#dadada" stroke-width="1.5" fill="none"/></g>
<g clip-path="url(#cC)"><path d="M216 1096l9 9 9 4 3 8 4 10 4 5 3 12 4 0 4 7 3 6 4 9 4 10 7-14 7-6 9-7 8-6 9 2 7-13 7-12 8-6 5-6 5-8 4-6 5-10 5-6 5-7 11 2 11 1 7-8 7-5 7-10 11 1 12 1 8-1 8 5 8 7 9 5 9 4 8 8 9-2 8 7 8 5 8 4 9 0 8 3 9 1 8 5 9 2 9 3 9 7 9-6 8 3 9 4 8-5 9 2 9-2 8 6 9-4 8 7 9-3 7-4 7-4 6-5 7-4 7-12 8-3 9-3 9-4 8-7 10 1 11-1 7 1 8 11 8-1 8 2 6 10 7 0 7 6 7 0 7 7 8 15 8 3 8 1 8 4 8 1 8 15 9-5 9 10 8-1 9 2 9 6 9 6 9-2 9 0 9-6 9 6 9 0 9-5 9-2 9-8 9-1 9-4 8 3 9 1 9-9 9 3 9 3 9 2 9-5 9-4 9 3 9 2 9-5 9-2 9-3 9 0 8-3 9-3 9 0 9-9 9 2 9 1 9 0 9 7 10 0 10 3 9 0 10 1M216 1095l9 7 9 6 3 9 4 5 4 10 3 2 4 5 4 10 3 5 4 9 4 11 7-15 7-4 9-8 8-3 9-7 7-10 7-8 8 1 5-7 5-10 4-4 5-11 5-2 5-12 11 4 11 2 7-8 7-4 7-9 11-3 12 1 8 6 8 4 8 6 9 4 9-3 8 5 9 7 8-1 8 11 8-1 9 1 8 0 9 3 8 4 9 3 9-2 9 2 9 0 8 4 9 4 8 1 9-4 9 3 8 5 9-2 8 1 9 4 7-10 7-4 6-4 7-5 7-6 8-8 9-3 9-6 8 0 10-6 11 1 7 5 8 1 8 7 8 8 6 9 7-1 7 10 7 3 7 4 8 5 8 5 8 5 8-1 8 12 8 5 9 1 9 5 8 3 9 1 9 2 9 5 9-1 9 7 9 5 9-6 9-1 9-6 9-3 9-7 9 4 9-7 8 3 9-3 9-1 9-4 9 1 9-2 9 3 9 4 9-8 9 3 9 2 9-1 9-2 9-3 8-1 9-3 9-12 9 0 9-5 9 0 9 2 9 5 10-3 10 5 9-3 10 6M216 1109l9 7 9 10 3 7 4 5 4 4 3 13 4 6 4 9 3 7 4 10 4 2 7-5 7-6 9-7 8-2 9-6 7-5 7-10 8-2 5-3 5-9 4-12 5-3 5-14 5-4 11 3 11-4 7-10 7-8 7-9 11-3 12 1 8 2 8 3 8 5 9-2 9 6 8 4 9 0 8 4 8-1 8 5 9 2 8 11 9-1 8 3 9 5 9 3 9 6 9-2 8 1 9 4 8 2 9-2 9 1 8-2 9-1 8 3 9-4 7-8 7-2 6-11 7 0 7-6 8-6 9-3 9-3 8-3 10 4 11 0 7 1 8 4 8 8 8 5 6 9 7 2 7 4 7 4 7 13 8-1 8 6 8 5 8 8 8 9 8 5 9 1 9 4 8 2 9-3 9 6 9-2 9-4 9 5 9-3 9-3 9-1 9-3 9-2 9-4 9-1 9 3 8-6 9 2 9 0 9-1 9 0 9-1 9-1 9-5 9 5 9-1 9 3 9-4 9 1 9-3 8 5 9-3 9-8 9-7 9-4 9 3 9 1 9 2 10 1 10 2 9 3 10 0M216 1120l9 1 9 0 3 8 4 13 4 4 3 7 4 13 4-1 3 11 4 8 4 1 7-3 7-7 9-8 8-12 9 1 7-4 7-7 8-8 5-2 5-9 4-7 5-5 5-7 5-7 11 5 11 2 7-9 7-2 7-10 11 1 12-2 8 3 8 3 8-2 9 1 9 8 8 2 9 2 8 9 8 0 8 0 9 3 8 1 9 1 8 2 9-1 9 5 9 1 9 2 8 2 9-4 8 6 9-3 9 5 8 2 9 0 8 2 9-1 7-8 7-2 6-7 7-5 7-5 8-6 9 1 9-2 8-3 10-3 11 0 7 10 8 2 8 6 8 6 6 5 7 1 7 15 7-1 7 9 8-1 8 9 8 1 8 9 8 9 8 1 9 1 9 4 8 4 9 9 9 1 9-1 9-2 9 1 9-1 9 0 9-5 9-6 9-1 9-5 9 0 9-3 8-5 9-2 9-3 9-1 9-1 9 3 9 0 9-4 9 0 9 0 9 0 9 5 9-7 9-2 8-2 9-2 9-11 9-4 9 4 9 4 9 6 9 0 10 5 10-1 9 3 10 0M216 1124l9 11 9 4 3 13 4 8 4 7 3 7 4 8 4 11 3 1 4 9 4 12 7-12 7 1 9-15 8-6 9 0 7-9 7-11 8-1 5-14 5-4 4-5 5-8 5-5 5-12 11-1 11-1 7-6 7-7 7-8 11-1 12-4 8 9 8-2 8 6 9-1 9 11 8-2 9 5 8 1 8 2 8 6 9 0 8 0 9 6 8 4 9-2 9 3 9 6 9-1 8 0 9 5 8-6 9 4 9 1 8 1 9 0 8-1 9 7 7-9 7-2 6-4 7-8 7-8 8 0 9 0 9-7 8 0 10 7 11-4 7 5 8 3 8 5 8 0 6 6 7 11 7 5 7 7 7 7 8 1 8 2 8 6 8 0 8 11 8 2 9 8 9 2 8-1 9 3 9 9 9-4 9-2 9 1 9-6 9 2 9 2 9-3 9-6 9-5 9 2 9-5 8-7 9 1 9 3 9 1 9 1 9-1 9 0 9 5 9-2 9-3 9 1 9 0 9-2 9-6 8 3 9-5 9-4 9-9 9-1 9 1 9 8 9-1 10 4 10 1 9 4 10-1M216 1102l9 3 9 4 3 11 4 9 4 4 3 6 4 10 4 6 3 9 4 3 4 10 7-13 7 0 9-15 8-2 9-5 7-7 7-5 8-6 5-8 5-7 4-4 5-8 5-6 5-4 11-2 11 4 7-6 7-6 7-5 11-3 12 2 8 3 8 3 8 6 9 4 9-6 8 8 9 2 8 0 8 3 8 4 9-2 8 3 9 6 8 1 9 1 9 4 9-1 9 4 8 0 9-3 8-2 9-3 9 4 8 4 9 1 8-5 9 8 7-1 7-9 6-5 7-8 7-1 8-4 9-4 9-2 8 2 10 1 11-2 7 11 8 0 8 6 8 0 6 6 7 5 7 9 7 1 7 6 8 2 8 5 8 10 8 1 8 8 8 1 9 5 9 0 8 2 9 5 9 7 9 1 9 2 9-1 9-3 9-5 9-2 9-6 9 2 9-9 9 1 9-6 8 1 9 1 9-1 9 0 9 0 9-1 9-1 9 5 9-1 9 2 9 1 9 4 9-7 9 2 8-7 9-3 9-2 9-11 9 9 9-4 9 5 9-1 10 3 10 1 9 1 10 0M216 1114l9 10 9-1 3 14 4 4 4 8 3 4 4 7 4 6 3 7 4 7 4 5 7-5 7-4 9-8 8-8 9-8 7-10 7-7 8-9 5-1 5-11 4-9 5-1 5-6 5 2 11-4 11 9 7-7 7-9 7-3 11-1 12 3 8-1 8 2 8-1 9 5 9-3 8 9 9 1 8-1 8 0 8 1 9 2 8 0 9 0 8 4 9-5 9 10 9 1 9-6 8 11 9 0 8 5 9 2 9-1 8 1 9 5 8-1 9 4 7-1 7-7 6 0 7-6 7-8 8 2 9-13 9-1 8-5 10 2 11-1 7-1 8 0 8 4 8 9 6 3 7 9 7 2 7 6 7 5 8 5 8 2 8 6 8 5 8 8 8 10 9 0 9 8 8 1 9 1 9 6 9-1 9 5 9-1 9 0 9 2 9-3 9 0 9-2 9-3 9-8 9-7 8-2 9-5 9 4 9 1 9-2 9 3 9-3 9 4 9-5 9 6 9 3 9-2 9 1 9 2 8-6 9-7 9-7 9-7 9 6 9-3 9 0 9-4 10-1 10-3 9 5 10 5M216 1112l9 11 9-1 3 13 4 1 4 14 3 9 4 9 4 10 3 4 4 12 4 7 7-6 7-8 9-9 8-7 9-5 7-5 7-12 8-6 5-7 5-4 4-7 5-10 5-3 5-3 11-5 11 8 7-10 7-5 7-19 11 4 12 0 8 7 8-1 8-6 9 7 9 0 8 3 9 0 8 4 8-1 8 2 9 5 8 4 9 0 8 4 9 3 9 1 9 1 9 6 8 2 9-4 8 5 9 1 9-3 8 7 9-3 8 5 9 4 7-8 7-3 6-1 7-1 7-9 8 0 9-9 9 3 8-2 10-7 11 0 7 5 8 3 8 1 8-3 6 10 7 4 7 5 7 6 7 6 8 2 8 9 8-2 8 8 8 9 8-3 9 7 9-3 8 9 9 0 9 2 9-4 9 5 9 3 9 1 9 1 9 0 9-1 9-6 9 0 9-4 9-3 8 2 9-2 9 4 9-5 9 5 9-1 9-3 9-7 9 3 9 2 9-1 9 5 9-4 9-6 8-2 9-2 9-7 9-8 9 5 9-2 9 0 9 4 10 1 10 4 9 4 10-4M216 1111l9 8 9 5 3 8 4 10 4 8 3-1 4 8 4 3 3 6 4 11 4 2 7-3 7-8 9-1 8-12 9-5 7-1 7-10 8-8 5-9 5-5 4-9 5-9 5-4 5-6 11 0 11-3 7-8 7-8 7-7 11 2 12-1 8 1 8 9 8 1 9 3 9 13 8 2 9 1 8-1 8-2 8 2 9 4 8-3 9 8 8 6 9-3 9 4 9-4 9 4 8-1 9 2 8-4 9-2 9 8 8-2 9 3 8 2 9 2 7-2 7-5 6-3 7-7 7-3 8-1 9 0 9-3 8-2 10-1 11 0 7 3 8-1 8 10 8 11 6-3 7 8 7 0 7 9 7 5 8 2 8 10 8 2 8 5 8 7 8 13 9-7 9 10 8 2 9 2 9 3 9-2 9-3 9 1 9 3 9-4 9-3 9 0 9-6 9-1 9-5 9-4 8-1 9 5 9-3 9-2 9 3 9-8 9 5 9 0 9 4 9 1 9 1 9 2 9-2 9-1 8-4 9-2 9-4 9-8 9-2 9-2 9 3 9 5 10-6 10 1 9 4 10 1M216 1090l9 7 9 4 3 8 4 9 4 13 3 6 4 3 4 6 3 10 4 11 4 2 7-1 7-10 9-4 8-5 9-7 7-7 7 1 8-13 5-12 5-6 4-4 5-11 5-4 5-9 11 7 11-2 7-9 7-6 7-8 11 5 12-3 8 2 8-6 8 6 9 7 9 9 8-1 9 8 8-7 8 7 8 2 9 2 8 1 9 2 8 2 9 6 9 4 9 2 9-1 8 1 9 5 8 4 9-7 9 8 8-2 9 4 8 4 9 2 7-10 7-1 6-10 7-7 7-2 8-5 9-5 9-4 8-5 10 0 11 1 7 2 8 2 8 0 8 0 6 10 7 0 7 7 7 7 7 10 8 7 8 0 8 5 8 5 8 10 8 5 9 3 9 6 8 0 9 8 9-3 9 3 9-3 9 8 9-3 9-3 9 0 9-4 9-2 9-4 9 0 9-6 8 2 9-7 9-1 9 0 9-5 9 3 9-1 9-2 9 6 9-2 9 2 9 4 9-1 9-2 8-5 9-5 9-5 9-5 9 5 9-6 9 5 9 1 10 0 10 0 9 2 10 2M216 1117l9 8 9 2 3 6 4 7 4 10 3 6 4 5 4 4 3 8 4 11 4 10 7-12 7-5 9-7 8-12 9-5 7-7 7-1 8-9 5-7 5-10 4-5 5-8 5-2 5-3 11-4 11 4 7-7 7-11 7-5 11 2 12-3 8 4 8 3 8 0 9 2 9 6 8 7 9 3 8 8 8 1 8 1 9 10 8-2 9 3 8 5 9-2 9 4 9 8 9 2 8-5 9 3 8-3 9 5 9 2 8 3 9-1 8 0 9-1 7-4 7-4 6-4 7-6 7-7 8-2 9-2 9-9 8-1 10-7 11-1 7 0 8 4 8 2 8 7 6 1 7 6 7 7 7 2 7 10 8-2 8 4 8 1 8 13 8 3 8 4 9 6 9-1 8 7 9 2 9 2 9 4 9 2 9-1 9-2 9 2 9 1 9 2 9-5 9-3 9-3 9 1 8-2 9 2 9-5 9 5 9 0 9 1 9-4 9 3 9-1 9 3 9-6 9 6 9-1 9-6 8-3 9-5 9-6 9-9 9-5 9 8 9 5 9-1 10 0 10 3 9 0 10-4M216 1101l9 6 9 5 3 9 4 8 4 1 3 13 4 2 4 7 3 12 4 10 4 7 7-10 7-12 9-6 8 2 9-6 7-8 7-7 8-6 5-8 5-5 4-5 5-7 5-5 5-8 11-2 11 5 7-13 7-8 7-10 11 0 12-1 8 3 8 1 8 2 9 1 9 1 8 5 9-1 8 0 8 9 8-1 9 12 8-6 9 7 8 3 9-1 9 8 9-3 9 8 8-1 9 1 8 1 9 4 9 2 8-1 9 8 8-1 9 2 7-6 7-4 6-4 7-1 7-12 8-5 9-4 9-5 8 0 10-1 11-4 7 4 8 0 8 11 8 1 6 5 7 1 7 1 7 11 7 7 8 2 8 2 8 5 8 3 8 8 8 7 9 1 9-2 8 6 9-2 9 5 9-1 9-2 9 11 9-7 9 3 9 1 9-5 9 0 9-6 9 3 9 0 8-5 9 0 9-3 9-1 9 1 9 1 9-1 9 5 9-4 9 2 9 2 9-1 9-3 9 1 8-4 9 3 9-7 9-10 9 2 9 6 9-1 9-3 10 3 10 2 9-3 10 5M216 1113l9 0 9 11 3 5 4 7 4 11 3 2 4 8 4 8 3 3 4 9 4 5 7-6 7-6 9-11 8-7 9-1 7-8 7-10 8-6 5-5 5-15 4-4 5-6 5-4 5-2 11-4 11 0 7-3 7-3 7-7 11-3 12 4 8 3 8 2 8 6 9 4 9 7 8 2 9 5 8-1 8 1 8 4 9 3 8 1 9-1 8 5 9-2 9 7 9 9 9 0 8 2 9 0 8-1 9 4 9 2 8-6 9-5 8 5 9-1 7-7 7-4 6-6 7-8 7-5 8-3 9-7 9-2 8-3 10 0 11-2 7 5 8 4 8 2 8 0 6 4 7 6 7 7 7 6 7 4 8 12 8 0 8 4 8 7 8 6 8 5 9 3 9 3 8 9 9 1 9 2 9 4 9-2 9 3 9-2 9 1 9-3 9 1 9-4 9 0 9 1 9-6 8-3 9 3 9 1 9-3 9 3 9-2 9 2 9-1 9 2 9-3 9 1 9 4 9-3 9-12 8-1 9-2 9-9 9-9 9 6 9-1 9 5 9 0 10-1 10 5 9-2 10-1M216 1127l9 5 9 5 3 6 4 5 4 8 3 8 4 8 4 7 3 7 4 7 4 8 7-7 7-10 9-6 8-9 9-7 7-4 7-8 8-9 5-10 5-6 4-9 5-10 5-1 5-7 11 2 11 4 7-13 7-4 7-10 11-4 12 3 8 9 8 1 8 4 9 7 9 4 8 3 9 10 8 3 8 2 8 0 9 0 8 3 9 5 8 6 9-1 9 0 9 4 9 2 8 4 9-4 8 2 9-5 9 5 8 3 9-1 8-1 9 3 7-9 7-4 6-2 7-8 7-5 8-2 9-3 9-2 8-8 10 4 11 4 7-1 8 5 8 0 8 4 6 7 7 7 7 6 7 10 7 0 8 7 8 4 8 5 8 2 8 6 8 12 9-2 9 2 8 3 9 1 9-4 9 1 9 1 9 2 9 3 9-7 9-1 9 0 9-5 9 1 9-4 9 2 8-1 9 1 9 1 9-6 9-1 9 2 9 3 9-3 9 3 9 0 9 0 9 4 9-4 9-6 8-2 9-2 9-10 9-7 9 3 9 5 9-3 9 7 10 4 10-6 9 8 10-5M216 1113l9 6 9 6 3 16 4 2 4 1 3 13 4 6 4 8 3 5 4 9 4 8 7-9 7-11 9-6 8-10 9-3 7-8 7-10 8-4 5-7 5-6 4-4 5-3 5 0 5-12 11-3 11 3 7-9 7-5 7-9 11 3 12-2 8 2 8 7 8 6 9 7 9 1 8 2 9 1 8 1 8 4 8 6 9-4 8-1 9 10 8 5 9-1 9 2 9 1 9 3 8-1 9-2 8 4 9 4 9 1 8-2 9 1 8-2 9 1 7-5 7-1 6-8 7-2 7-4 8-14 9 5 9-2 8-4 10 1 11-4 7 6 8 3 8 1 8 6 6 2 7 7 7 10 7 1 7 0 8 11 8 1 8 3 8 6 8 7 8 3 9 11 9 3 8-3 9 9 9 3 9 1 9 4 9 2 9-1 9-5 9-5 9 0 9-7 9-2 9-1 9-4 8 1 9-3 9-3 9 0 9-5 9 1 9-4 9 7 9-3 9 0 9 3 9-1 9 1 9-5 8-1 9-5 9-2 9-12 9 4 9 5 9 3 9-3 10 6 10 1 9 1 10 0M216 1107l9 5 9 5 3 7 4 5 4 7 3 10 4 4 4 3 3 10 4 11 4 6 7-11 7-9 9-7 8-5 9-2 7-8 7-2 8-12 5-2 5-8 4-6 5-7 5-9 5-10 11 1 11 1 7-8 7-4 7-18 11 0 12 0 8 5 8-2 8 12 9 0 9 6 8 3 9 5 8-2 8 3 8 1 9 1 8 1 9 8 8-1 9 6 9 6 9 1 9 0 8 1 9-4 8 7 9 4 9 2 8 0 9 6 8-2 9 4 7-8 7-8 6 0 7-11 7-8 8 2 9-5 9-1 8-5 10-2 11-1 7 3 8 14 8-4 8 7 6 2 7 9 7 6 7 1 7 2 8 3 8 7 8 13 8 1 8 6 8 9 9-1 9 4 8 2 9 4 9 1 9 1 9 3 9 5 9-6 9-2 9 1 9-5 9-3 9-2 9-7 9 1 8-9 9 3 9 1 9-2 9 3 9 0 9 2 9 1 9-3 9 7 9 1 9 0 9-8 9 0 8-2 9 1 9-5 9-6 9-3 9 1 9 1 9 4 10-5 10 3 9 1 10 2" stroke="#62c6b9" stroke-width="2.2" fill="none" transform="scale(.5)"/><path d="M401 1094l11 2 12 2 8-8 8 3 8 2 9 7 9-2 8 3 9 0 8 2 8 1 8-2 9 2 8 6 9-11 8 9 9 4 9 4 9 1 9 5 8 1 9-1 8 4 9 3 9 6 8 1 9 5 8 3 9 0 7 0 7-10 6-6 7 0 7-11 8 1 9-5 9-7 8-1 10 3 11-6 7 4 8 0 8 2 8 1 6 7 7 5 7 3 7 8 7 4 8 1 8 1 8 6 8 5 8 11 8 11 9 2 9 6 8 3 9 5 9 2 9 1 9 5 9 3 9-2 9-7 9 1 9 7 9-4 9-1 9-9 9-3 8-3 9-1 9-3 9 1 9-1 9 1 9-10 9-2 9 1 9 11 9-4 9 1 9-3 9-1 8-10 9 2 9-5 9-9 9 7 9-2 9 3 9 3 10 3 10 10 9-5 10 8M401 1072l11 3 12 4 8 1 8 3 8 2 9 2 9 8 8 2 9 2 8 7 8 0 8 3 9 4 8 4 9 11 8-1 9 4 9 6 9 0 9-1 8 8 9-2 8-2 9 0 9-3 8 1 9 0 8-2 9 4 7-6 7-7 6-3 7-9 7-5 8-6 9 1 9-1 8-3 10-3 11 9 7-4 8 6 8 3 8 5 6 8 7 6 7 9 7 2 7 4 8 7 8 3 8 9 8 3 8 6 8 13 9-1 9 0 8 2 9-2 9 4 9-2 9 4 9 1 9-2 9-3 9-7 9-3 9-5 9 0 9-9 9 7 8 0 9 2 9-1 9 3 9 6 9-6 9 6 9 6 9 0 9-4 9 0 9 3 9-10 9-4 8 5 9-7 9-8 9-6 9-2 9-2 9 4 9-7 10 7 10 0 9 0 10-1M401 1062l11 1 12 1 8-2 8 3 8 2 9 5 9 8 8 12 9-1 8 2 8 2 8-3 9 10 8-4 9 5 8 5 9-1 9 4 9-4 9 4 8 2 9-2 8-1 9-1 9 5 8 2 9-2 8 2 9 2 7-4 7-10 6-1 7-10 7 0 8-6 9-4 9-10 8 0 10 1 11-3 7 1 8 1 8 6 8 0 6 8 7 4 7 1 7 13 7 3 8 6 8 7 8-3 8 9 8 12 8 8 9-5 9 8 8 4 9 11 9 0 9 3 9 1 9 10 9-3 9-4 9 3 9 0 9-3 9 2 9-9 9-3 8 4 9 0 9-3 9 0 9 2 9 0 9-5 9 2 9-1 9-4 9 1 9 0 9-4 9-4 8-2 9-5 9-7 9-9 9 2 9-3 9 8 9-2 10-2 10-1 9-1 10 4M401 1067l11 0 12-1 8 10 8 2 8 2 9 0 9 9 8 4 9 4 8 7 8 1 8-2 9 4 8 6 9 1 8 2 9 1 9 3 9 6 9-2 8 2 9 0 8 4 9 2 9 4 8-1 9 10 8 0 9 3 7-6 7-4 6-9 7-3 7-1 8-7 9 0 9-5 8-10 10-1 11 0 7 2 8 4 8-7 8 11 6 3 7 6 7 2 7 8 7 5 8 2 8 1 8 3 8 7 8 6 8 6 9 6 9 1 8-1 9 6 9 5 9-3 9 4 9 3 9-4 9 0 9-5 9-1 9-2 9-4 9-1 9 4 8-1 9-4 9 0 9-5 9 2 9 3 9-3 9 0 9 0 9 0 9 5 9 0 9-2 9-6 8-4 9 0 9-4 9-6 9-1 9 7 9 1 9 0 10 2 10 1 9-2 10 3M401 1078l11-2 12-5 8 8 8 1 8 2 9 2 9 5 8 3 9 9 8 0 8 5 8 0 9 5 8-1 9 2 8 1 9 5 9 6 9 4 9 3 8-3 9 0 8 4 9 4 9 3 8 4 9 1 8 2 9 2 7-7 7-5 6-7 7-10 7 0 8-6 9-5 9-2 8-6 10 0 11-2 7 4 8 2 8 7 8 5 6 1 7 7 7 4 7 5 7 5 8 2 8 3 8 7 8-2 8 6 8 9 9 7 9 2 8 3 9 3 9-1 9 6 9 5 9-4 9 6 9-2 9-2 9 0 9-2 9 1 9-3 9 4 8-5 9-1 9-2 9 1 9 4 9-2 9 2 9-6 9 1 9 6 9-6 9 2 9-3 9-6 8-7 9-2 9-6 9-11 9-4 9-5 9 0 9 6 10-5 10 4 9 5 10-5M401 1068l11 3 12-1 8 3 8-1 8 3 9 8 9 4 8-1 9 5 8 1 8 2 8 2 9 2 8 2 9 9 8-5 9 4 9 3 9 3 9-2 8 2 9 2 8 4 9 0 9-2 8 4 9 1 8 0 9 0 7-5 7-7 6-6 7-11 7-1 8-2 9-6 9-3 8-4 10 0 11-1 7 4 8 3 8 6 8 8 6 2 7 2 7 8 7 10 7 6 8 11 8 2 8 7 8-1 8 12 8 4 9 0 9 6 8 0 9 6 9 2 9 2 9 2 9-4 9 6 9-6 9 4 9-6 9-5 9-3 9-4 9-1 8-1 9-10 9-1 9-2 9-3 9-2 9 1 9-3 9 3 9 2 9 1 9 3 9 2 9-10 8 2 9 2 9-8 9-7 9 4 9-2 9 8 9 3 10 4 10 3 9 0 10-1" stroke="#62c6b9" stroke-width="2.2" fill="none" transform="scale(.5)"/><path d="M216 1064l6 2 6 6 6 1 3 10 4 10 4 11 3 7 4 4 4 11 3 11 4 4 4 14 5-13 6-7 7-6 7-5 8-4 7-6 7-4 8-4 7-5 7-5 7-8 8-3 11 4 11 2 4-2 5-5 5-11 4-3 5-7 5 0 6-5 5-3 6-8 6-1 8-8 8-11 8-7 11 6 10-1 9 4 9 0 9 1 10-1 9 3 9 5 9-10 8-2 9 5 9-4 9-2 9 2 8 5 9-3 8 3 9 1 9 2 8 0 9 2 8 3 9 0 8-2 9 5 9 6 10-6 9-6 10 2 6-9 6-3 6-4 6-6 6-7 9-11 8 1 9-2 9 3 8-7 9 3 8-1 9-2 8 1 8 5 8-1 8 4 8 0 8 2 9-2 9 2 8 2 9 3 9 1 9 6 9 4 9 2 9 6 9 0 9 2 9 6 9-3 9 3 9-3 9 2 8-2 9 0 9-2 9 2 9-1 9-1 9-2 9-2 9-6 8 8 9 0 8 3 9-2 9-7 10-5 9-1 9 2 9-1 9 3 9 1 9 0 9-7 9 4 9 3 11 2 10 9M216 1090l6 5 6 8 6 4 3 14 4 5 4 6 3 7 4 8 4 9 3 11 4 7 4 12 5-7 6-2 7-4 7-8 8-2 7-3 7-5 8-4 7-2 7-15 7-1 8-6 11 5 11-6 4-11 5-7 5-7 4-14 5-2 5-7 6-3 5-14 6-4 6-8 8-9 8-3 8-9 11 5 10-2 9 8 9 5 9 9 10 4 9 7 9 6 9-2 8 0 9 0 9 3 9 1 9-2 8 2 9 0 8-3 9-2 9 1 8-4 9-4 8-1 9 3 8-3 9 2 9-1 10-4 9-7 10-1 6-3 6-4 6-6 6-9 6 1 9-5 8 0 9 1 9 3 8 2 9 5 8 0 9 2 8 6 8 1 8 3 8 3 8 5 8-1 9-7 9 5 8-2 9 4 9 0 9-1 9-3 9 2 9-3 9-2 9-1 9 0 9 4 9 0 9 4 9-4 8 1 9 3 9 3 9 4 9-1 9-4 9 7 9-3 9 4 8-1 9 5 8 6 9 3 9-2 10-4 9-2 9 3 9-7 9 3 9-8 9-6 9-5 9-2 9-4 11 4 10-1M216 1112l6 1 6 12 6 4 3 6 4 5 4 12 3 7 4 9 4 9 3 10 4 9 4 1 5-3 6-3 7-11 7-5 8-3 7-11 7 1 8-10 7-5 7-5 7-11 8-4 11 1 11 3 4-4 5-9 5-1 4-10 5-2 5-3 6-10 5-7 6-6 6-2 8-6 8-7 8-3 11-3 10 1 9 9 9 4 9 4 10 6 9 6 9 4 9 5 8-6 9 3 9-2 9-4 9 4 8-1 9-3 8-3 9-5 9 5 8-4 9-2 8 2 9-4 8 5 9-2 9 1 10 3 9-2 10-1 6-15 6-3 6 6 6-14 6-7 9-3 8 3 9 0 9 1 8 3 9 2 8-1 9 0 8 3 8-2 8 7 8-2 8 4 8 3 9-2 9 3 8 1 9 2 9 1 9-3 9 2 9 3 9-2 9 3 9-2 9-3 9-4 9 3 9-4 9 0 8 0 9 3 9 0 9 1 9-3 9 2 9 0 9 3 9 4 8 2 9 4 8 0 9 2 9-2 10 0 9 1 9-3 9 3 9-7 9-4 9 0 9-6 9-1 9 2 11-2 10 7M216 1102l6 9 6 6 6 4 3 12 4 5 4 11 3 8 4 1 4 11 3 16 4 15 4 4 5-8 6-6 7-6 7-4 8-6 7-2 7-3 8 2 7-3 7-4 7-7 8-5 11 1 11 7 4-5 5-11 5-10 4-4 5-8 5-8 6-10 5-5 6-4 6-8 8-8 8-3 8-10 11 0 10 1 9 2 9 4 9 5 10-1 9 0 9 5 9-3 8 1 9 3 9-1 9-2 9-1 8-2 9-3 8 0 9 6 9-4 8-5 9 8 8 1 9-4 8-3 9 0 9 5 10 4 9-3 10-8 6 5 6-3 6-12 6-3 6-4 9-6 8 5 9-5 9 4 8 0 9 8 8-2 9 4 8 5 8-1 8 6 8-2 8 1 8 2 9-3 9 0 8 3 9-2 9-1 9 1 9 5 9-4 9-1 9 0 9 0 9 0 9-2 9 1 9-3 9 3 8 3 9-3 9 10 9-6 9 3 9 2 9-7 9 0 9 4 8 0 9 4 8 7 9 0 9-5 10-3 9-8 9 0 9-1 9-3 9 3 9-3 9 0 9 1 9 1 11 0 10 7M216 1054l6 1 6 14 6 4 3 11 4 6 4 6 3 13 4 5 4 7 3 7 4 10 4 7 5-4 6-7 7-2 7-5 8-1 7-9 7-3 8-7 7-2 7-6 7-10 8 4 11-4 11-5 4-1 5-11 5-8 4-9 5-7 5-8 6-3 5-6 6-9 6-4 8-4 8-9 8-6 11 0 10 1 9 7 9 10 9 0 10 11 9-5 9 0 9 6 8-1 9 1 9 5 9-4 9 1 8-1 9 0 8-4 9-2 9 0 8-4 9 3 8-7 9 8 8-2 9 2 9 1 10-5 9 0 10 5 6-5 6-6 6-3 6-4 6-6 9 1 8-2 9 4 9-1 8 4 9-1 8-2 9 1 8 3 8-1 8 1 8 2 8 0 8-2 9 0 9 2 8-2 9 3 9 4 9-6 9 2 9-3 9 3 9-4 9 4 9 2 9 1 9 6 9 6 9-2 8 7 9 4 9-2 9 1 9 1 9 3 9-1 9-6 9 6 8-1 9 3 8 1 9-2 9 0 10-4 9-9 9 0 9-5 9 1 9-5 9 1 9-9 9-3 9 1 11 3 10 6M216 1081l6 12 6 7 6 4 3 10 4 12 4 7 3 8 4 9 4 7 3 13 4 13 4 6 5-6 6-10 7-4 7-2 8-6 7-2 7-3 8-9 7-5 7-9 7-8 8-4 11 1 11-2 4-8 5-11 5-5 4-7 5-12 5-10 6-2 5-13 6 2 6-7 8-7 8-5 8-4 11-3 10 3 9 11 9 0 9 7 10 7 9 4 9 8 9-3 8 3 9 0 9-1 9 1 9-1 8-1 9-4 8 1 9 0 9-9 8 2 9-1 8 0 9 0 8-2 9 0 9 0 10-2 9-1 10 6 6-6 6-5 6-5 6-5 6 0 9 5 8-3 9 2 9 4 8-3 9 3 8-2 9 1 8 1 8 2 8 3 8-5 8 3 8 1 9-5 9 3 8-4 9-6 9 3 9-3 9 4 9 1 9-1 9 4 9-3 9 0 9 6 9 0 9 5 9-1 8 5 9 4 9 5 9 0 9 6 9-3 9 2 9-1 9 0 8 3 9 1 8-1 9 4 9-7 10-5 9-7 9-1 9-4 9-6 9 1 9-10 9 3 9-1 9-3 11 4 10 7M216 1092l6 7 6 7 6 6 3 13 4 4 4 9 3 9 4 9 4 5 3 10 4 8 4 8 5-8 6-4 7-5 7-2 8-1 7-12 7 2 8-4 7-7 7 0 7-6 8-7 11 2 11 1 4-9 5-3 5-11 4-6 5-8 5-8 6-6 5-6 6-9 6-8 8-5 8-9 8-8 11-4 10-2 9 9 9-1 9 8 10 1 9 2 9-1 9 6 8 3 9-5 9 5 9 3 9-3 8 6 9 0 8 1 9-7 9 3 8 4 9-4 8 8 9-3 8-7 9 5 9-1 10-2 9 9 10-4 6-6 6-9 6 0 6-10 6-1 9-2 8-1 9-3 9 0 8 4 9 2 8-4 9 1 8 1 8 2 8-5 8 0 8 1 8 5 9 2 9-6 8 0 9-1 9 1 9 3 9-5 9-5 9-1 9 7 9 1 9-1 9 4 9-7 9 8 9 4 8 0 9 7 9 0 9 1 9 1 9-4 9 3 9 1 9 4 8 5 9 1 8 8 9 1 9-1 10-4 9-4 9 1 9 2 9-5 9 0 9 2 9-3 9-1 9-2 11 4 10 2M216 1118l6 3 6 4 6 7 3 6 4 18 4-1 3 8 4 8 4 11 3 11 4 14 4 7 5-4 6-9 7-1 7-10 8-3 7 0 7-1 8-8 7-7 7-4 7-3 8-8 11 6 11 0 4-3 5-7 5-7 4-9 5-8 5-11 6-2 5-10 6-7 6-6 8-13 8-11 8-7 11-2 10 3 9 3 9 2 9 7 10 3 9 1 9 1 9-1 8-2 9 1 9 7 9-1 9-4 8 3 9-2 8-2 9 5 9 2 8 2 9 4 8 0 9-5 8 2 9 4 9 2 10-2 9 7 10-3 6-6 6-9 6-2 6-5 6-7 9 0 8-2 9-3 9 1 8 5 9 1 8-9 9 0 8 6 8 2 8-4 8-4 8 10 8-4 9-2 9 3 8 0 9 0 9 4 9-2 9 1 9 0 9-1 9-1 9 1 9 4 9 0 9-1 9 2 9 6 8 1 9 2 9 0 9 7 9 3 9-5 9-1 9-2 9 2 8 7 9 0 8 4 9 2 9-3 10 0 9 0 9 2 9-8 9-1 9-2 9-3 9-8 9 1 9 1 11 1 10 4M216 1068l6 7 6 4 6 13 3 8 4 5 4 11 3 9 4 8 4 10 3 1 4 11 4 4 5-5 6-6 7-1 7-2 8-6 7 1 7-3 8-5 7-3 7-4 7-7 8-2 11-2 11 7 4-14 5-8 5-3 4-6 5-11 5-2 6-5 5-9 6-6 6-7 8-4 8-8 8-12 11 2 10-3 9 3 9 3 9-1 10 5 9 1 9 5 9 4 8 4 9-5 9-2 9 2 9 2 8-1 9-2 8-1 9-1 9-2 8 5 9-1 8 6 9-3 8 4 9-3 9 1 10 0 9-5 10 3 6-6 6-6 6-5 6 0 6-6 9-1 8 3 9 4 9 0 8-1 9 0 8-1 9 1 8 0 8 1 8-1 8 2 8 5 8-9 9 2 9 1 8-2 9-4 9 4 9 1 9-1 9-5 9-1 9 2 9 1 9 1 9-4 9-3 9 2 9 2 8 3 9-2 9 4 9 9 9-2 9 0 9 1 9-2 9 6 8 0 9 6 8 1 9 1 9 7 10-5 9 4 9-6 9 1 9-4 9 2 9-8 9-3 9 1 9-5 11 4 10 2M216 1063l6 4 6 7 6 7 3 6 4 9 4 2 3 12 4 5 4 11 3 9 4 6 4 15 5-9 6-4 7-5 7-7 8-7 7-7 7-3 8-6 7-6 7-5 7-7 8-6 11-1 11 2 4-10 5-6 5-9 4-2 5-15 5-6 6-3 5-3 6-7 6-8 8-2 8-12 8-2 11 5 10-1 9 1 9 3 9 10 10 4 9 4 9 4 9-1 8 6 9 3 9-3 9 1 9 6 8 5 9-3 8 2 9-4 9-1 8 3 9-1 8 0 9-5 8-5 9-5 9 1 10 2 9-8 10 1 6-3 6-10 6-7 6-2 6-8 9 0 8-4 9-2 9 0 8 1 9 0 8 2 9 2 8 0 8 5 8 1 8 2 8 4 8 3 9 4 9-1 8 3 9 0 9 1 9 6 9-2 9 2 9 2 9-2 9 4 9 2 9 0 9 2 9-5 9 3 8 3 9 3 9 3 9 4 9-4 9-7 9 0 9 3 9-3 8 5 9-4 8-1 9 0 9 0 10-5 9-5 9-3 9-2 9 1 9 3 9-6 9 0 9-2 9 3 11 10 10 1M216 1067l6 4 6 2 6 5 3 8 4 11 4 15 3 6 4 7 4 17 3 3 4 11 4 11 5-11 6-3 7-6 7 2 8-4 7-2 7-4 8-5 7 1 7-6 7-2 8-10 11 3 11-1 4-3 5-10 5-8 4-1 5-10 5-7 6-8 5-7 6-4 6-11 8-13 8-3 8-6 11 0 10-1 9 0 9 1 9 10 10-5 9 4 9 0 9 9 8 1 9 2 9 5 9 1 9 0 8 3 9-1 8 0 9 5 9-2 8 1 9-2 8 6 9-3 8 3 9-6 9 4 10-5 9-10 10 0 6-9 6-6 6-11 6-4 6-5 9 0 8-8 9 4 9 0 8 2 9-1 8 4 9 1 8 8 8-3 8 5 8 6 8 5 8 2 9 4 9-1 8 5 9-2 9-3 9 1 9 3 9-5 9-1 9 0 9 3 9-1 9-5 9 1 9 0 9 2 8 1 9-5 9 5 9 7 9-8 9 3 9-1 9-3 9 4 8 2 9 8 8-3 9 7 9 2 10-3 9-5 9-3 9 2 9-2 9-3 9-4 9-6 9 4 9-6 11 0 10 8M216 1069l6 4 6 4 6 9 3 14 4 2 4 12 3 7 4 6 4 14 3 4 4 10 4 10 5-4 6-11 7-2 7-6 8 3 7-5 7-2 8-8 7-4 7 0 7-3 8-3 11 4 11 4 4-10 5-6 5-3 4-8 5-11 5-8 6-2 5-10 6-8 6-6 8-10 8-13 8-4 11 1 10-1 9 9 9 0 9 1 10 3 9 3 9-2 9 1 8 1 9 0 9 0 9 0 9 2 8 0 9 3 8-1 9 0 9 6 8 0 9 0 8 5 9-7 8 1 9 5 9-6 10 0 9-4 10 3 6-4 6-5 6-12 6-3 6-6 9-4 8 6 9-6 9 1 8-3 9 5 8-6 9 3 8-3 8 2 8-3 8 9 8-2 8 1 9-2 9 5 8 3 9-4 9 5 9 4 9-1 9 4 9 1 9 4 9 7 9-2 9 1 9 6 9 6 9 1 8 0 9-2 9-2 9 2 9 0 9-2 9 0 9-8 9 2 8-1 9 1 8-3 9 0 9-2 10-4 9-6 9-2 9 1 9-3 9 1 9-6 9-2 9 3 9 3 11 9 10 4M216 1050l6 6 6 2 6 11 3 7 4 10 4 7 3 11 4 7 4 8 3 8 4 18 4 11 5-14 6-7 7 0 7-2 8-5 7-7 7 0 8-6 7-5 7-1 7-9 8-2 11-5 11 5 4 0 5-10 5-7 4-7 5-6 5-6 6-5 5-6 6-4 6-8 8-7 8-13 8-4 11-5 10 3 9 1 9 5 9-1 10 7 9 2 9-4 9 0 8 3 9-2 9-4 9 0 9 6 8-4 9-1 8 2 9 0 9 3 8 4 9 0 8-1 9 0 8-1 9 2 9 0 10 3 9-4 10-9 6-2 6-7 6-5 6-7 6-4 9 2 8 6 9-1 9-4 8-1 9 7 8 0 9 7 8 4 8-2 8 7 8 0 8 2 8-4 9 7 9-4 8 3 9-2 9-1 9 2 9-2 9 0 9 3 9-2 9 2 9-5 9 5 9-2 9 2 9-5 8 1 9 3 9 3 9-2 9-1 9 1 9-2 9-2 9 6 8 3 9 3 8 1 9 0 9-1 10-6 9-1 9 2 9-3 9-1 9-1 9 7 9-1 9-3 9 0 11 5 10 3M216 1081l6 3 6 9 6 10 3 10 4 7 4 9 3 8 4 6 4 9 3 11 4 7 4 6 5-3 6-8 7-7 7-2 8-6 7 0 7-4 8-2 7-10 7-1 7-5 8-4 11 6 11 3 4-10 5-3 5-6 4-12 5-7 5-7 6-3 5-6 6-6 6-3 8-4 8-4 8-4 11-7 10-1 9 8 9 3 9 2 10 5 9 3 9 1 9 9 8-8 9-2 9 4 9-3 9 2 8-6 9-5 8 2 9-2 9-1 8-1 9 1 8-5 9-1 8 7 9-5 9-4 10 0 9 1 10-2 6-5 6-3 6-8 6-3 6-5 9-1 8-4 9-2 9-2 8 3 9 3 8 4 9 5 8 0 8-2 8 6 8 3 8 3 8-4 9 10 9 0 8-1 9 2 9 4 9 1 9 1 9 3 9-2 9-4 9 11 9-3 9 1 9 1 9 0 9 0 8 2 9 2 9 1 9 1 9 3 9 0 9-8 9 2 9-5 8 4 9 3 8-4 9 5 9-7 10 0 9-5 9-7 9 2 9-3 9-5 9-4 9 5 9-6 9 2 11 5 10 3M216 1081l6 12 6 3 6 10 3 4 4 7 4 9 3 11 4 8 4 13 3 12 4 12 4 6 5-3 6-9 7 4 7-8 8-4 7-3 7-4 8-5 7-1 7-8 7-8 8-2 11 1 11 2 4-14 5-5 5-7 4-2 5-11 5-14 6-5 5-5 6-5 6-6 8-10 8-5 8-14 11 0 10 0 9 1 9 6 9 6 10 0 9 1 9 6 9 1 8-6 9 2 9 5 9 1 9-1 8-1 9 0 8 9 9 0 9 1 8-2 9 2 8-1 9-2 8 5 9 4 9-4 10-5 9 6 10 1 6-10 6-3 6-6 6-8 6-5 9 0 8-8 9 3 9 0 8-2 9-2 8-3 9-3 8-1 8 2 8 3 8 0 8 3 8 5 9-6 9 4 8 4 9-2 9 9 9-2 9 4 9-1 9 0 9 8 9 2 9-2 9 6 9 4 9-6 9 6 8-1 9 2 9 4 9 3 9-4 9-3 9 6 9-3 9 3 8 0 9 3 8 2 9 2 9-7 10-1 9-5 9-5 9 1 9-4 9-1 9 0 9-8 9-3 9-7 11 4 10-2M216 1117l6 3 6 9 6 2 3 4 4 7 4 5 3 12 4 8 4 7 3 13 4 10 4 9 5-10 6-9 7-1 7-4 8-10 7-4 7-8 8-2 7-9 7-4 7-6 8-7 11 9 11-4 4-9 5 1 5-14 4-8 5-9 5-4 6-8 5-6 6-4 6-3 8-1 8-5 8-6 11 1 10 6 9 8 9 2 9 0 10 4 9 4 9-3 9 8 8-5 9 1 9 2 9-2 9-3 8 1 9-3 8-2 9 1 9 1 8 2 9-2 8-2 9 0 8-1 9-5 9-4 10 4 9-8 10 3 6-3 6-7 6-3 6-4 6-7 9-2 8-1 9 1 9 2 8-1 9 7 8-2 9 4 8 3 8-3 8 9 8 3 8-1 8 2 9-3 9 2 8 8 9 2 9-8 9 7 9-3 9-1 9 5 9-1 9-5 9 5 9 1 9-7 9-1 9-3 8 3 9 6 9 3 9-2 9-4 9-9 9 11 9-5 9 2 8 5 9 7 8 0 9 9 9-8 10-3 9 2 9-4 9 0 9 1 9 2 9-3 9-3 9-2 9 0 11 4 10 6" stroke="#35b6ea" stroke-width="2.2" fill="none" transform="scale(.5)"/><path d="M424 978l3-2 3-8 3-11 3 15 3 0 3-8 3-9 3-17 4 6 4 4 4 8 4-21 4 6 4 5 4-10 4 15 4-5 4 9 4-17 4 13 4 1 4-19 4 16 4-10 4 19 4-7 4-6 4 2 4 3 4 10 4-10 4-5 4 8 4 10 4-9 4 1 4 0 4-39 4 40 4 3 4-7 4-8 4 14 4-1 4 8 4-2 4 8 4-15 4 6 4 4 5-5 4 11 4-14 4 7 4 7 4 3 4-21 4 5 5-3 4 3 4-2 4 19 4-16 4-4 4 3 4 2 5-7 4 7 4-24 4 18 4-3 5-3 4-3 4 9 4 3 4-2 4 2 4 0 4-5 4-8 4 16 4-19 4 3 4-1 4-1 4-6 4 11 4-8 4 0 4-1 4-1 4 17 4-4 4-7 4 7 4-13 4 6 4-21 4 15 4 3 4-6 4-5 4 8 4 13 4-19 4 3 4 2 4 1 4-2 4-6 4 8 4 3 4-20 4 9 4 1 4-13 4 13 4 8 4-6 4 2 4 10 4-17 4-7 4 15 4-10 4 1 4-9 4 26 4 0 4-21 4 3 4 1 4 6 4 5 4-10 4-3 4 7 4-14 4 8 4 11 4-7 4-6 4 19 4-11 4-8 4 12 4 1 4 3 4-8 4-3 4-4 4 6 4 15 4-1 4-12 3 11 3 6 3-11 2-3 3 10 3 15 3-9 3-1 3-11 3 16 2 15 3-11 3 21 3 8 4-3 4-3 4-19 4 3 4 14 4-10 4-6 4 5 4 8 4-4 4-1 4-10 4-2 4 5 4 5 4-16 4 1 4 15 4-16 4-2 4 15 4-8 4-3 4 2 4 2 4-12 4 8 4-21 4 15 4-4 4-4 4 2 5 3 4 5 4-14 5 5 4 6 4 0M424 992l3-8 3 3 3-3 3-4 3 3 3-11 3 0 3 2 4-9 4 7 4-16 4 7 4 0 4-7 4 13 4-12 4 4 4-5 4 8 4-18 4 21 4-2 4-1 4-16 4 4 4 4 4 12 4-4 4 8 4-3 4 5 4-9 4-2 4-1 4 2 4-5 4 17 4-16 4-1 4 5 4 15 4-2 4 1 4-8 4-19 4 22 4-1 4-7 4 14 4 9 5-13 4 0 4-6 4 14 4-10 4 8 4-7 4 0 5 13 4-7 4 9 4-7 4-1 4 2 4-8 4 3 5-11 4 5 4-16 4 15 4 6 5-5 4-3 4-3 4 4 4 10 4-14 4-10 4 4 4-12 4 22 4-21 4 8 4-6 4 0 4 18 4-17 4 3 4-7 4 0 4 8 4-8 4-4 4 11 4-13 4 13 4-4 4 1 4-9 4-8 4 8 4 8 4-8 4 7 4 3 4 5 4 0 4 5 4-5 4-15 4 0 4 5 4 6 4-2 4 3 4-17 4 17 4 11 4-20 4 15 4-5 4-13 4 30 4-39 4 31 4-8 4-21 4 13 4 19 4-10 4 3 4-2 4-28 4 30 4-13 4 0 4 1 4 4 4 4 4 1 4 0 4-2 4 7 4-5 4-5 4-9 4 7 4 8 4 6 4 13 4-42 4 20 4 9 4-9 4-2 3 18 3 1 3-15 2 12 3-14 3 2 3 23 3-18 3 21 3 5 2-13 3 4 3-3 3 15 4 2 4 8 4-14 4 5 4-4 4-13 4-1 4 9 4-11 4 6 4 0 4-25 4 24 4-12 4 1 4 4 4-2 4-12 4 16 4-12 4 11 4-5 4-1 4-6 4-3 4-15 4 3 4 5 4-3 4 1 4 2 4-11 5-5 4 4 4-4 5-8 4 15 4 1M424 969l3-10 3-3 3-11 3-13 3 10 3 9 3-2 3-6 4-12 4-5 4 18 4-9 4 1 4-12 4 14 4-3 4 0 4 12 4-5 4-3 4-5 4-2 4 4 4 12 4-17 4 3 4 8 4-21 4 4 4 11 4 4 4-2 4-1 4 7 4-12 4-17 4 26 4-1 4 10 4-2 4-16 4 15 4-10 4 7 4-12 4-2 4 14 4 0 4-6 4 1 5 5 4-2 4 13 4-11 4 3 4 3 4-15 4 26 5 4 4-1 4-12 4 14 4-21 4-2 4 25 4-11 5-5 4-6 4 13 4 0 4-23 5 22 4-8 4-7 4 5 4-23 4 20 4 3 4-3 4 1 4-7 4 8 4 2 4-13 4-5 4 12 4-3 4-1 4 5 4-13 4 15 4-7 4 5 4-14 4-10 4 5 4 5 4-6 4 18 4 1 4-14 4-3 4 18 4-16 4 6 4-3 4 5 4-18 4 20 4-17 4-9 4 15 4 0 4 8 4-7 4-5 4 10 4-2 4 12 4-21 4-7 4 0 4 13 4-2 4-5 4 0 4 15 4-22 4 16 4-8 4-4 4 18 4-9 4-2 4 12 4-2 4-8 4 12 4-12 4 3 4 10 4-22 4 11 4 13 4 2 4-11 4 9 4 2 4-12 4 13 4-2 4-5 4 14 4-14 4-3 3-4 3 9 3 2 2 12 3-11 3 5 3 5 3 13 3 2 3-8 2 13 3 5 3-7 3-3 4-4 4 13 4-44 4 23 4 16 4-4 4-7 4-1 4 4 4-11 4 2 4-14 4 4 4-4 4 14 4-17 4 7 4 1 4 6 4-6 4 7 4-13 4 4 4 2 4-13 4 11 4-36 4 15 4 5 4-1 4-13 4 17 5-3 4 4 4 1 5-4 4 0 4-22" stroke="#2a3275" stroke-width="2.2" fill="none" transform="scale(.5)"/><path d="M840 945l4 9 4-1 4-2 4 7 4 2 4-4 4 2 4-2 4 7 4-1 4 0 4 7 4-29 4 27 4-16 4 14 4-10 4 3 4-14 4 10 4 8 4 7 4-1 4-7 4-11 4 5 4-16 4 17 4 13 4-11 4 2 4 1 4-13 4 14 4-16 4 13 4 2 4-3 4-3 4 0 4-9 4 14 4-10 4 12 4-7 4-14 4 11 4-6 4 0 4 9 3-15 4-1 3 7 3 1 4 10 3 1 3-8 4 27 3 7 3-2 4-17 3 18 4-6 4-6 4 6 4 0 4 1 4-15 4 2 4-6 4 7 4 0 4-1 4-7 4 8 4-10 4 7 4-14 4-5 4 12 4-13 4-12 4 19 4-5 4-17 4 21 4-11 4-3 4 5 4-7 4-12 4 22 4-8 4 3 3-5 4-3 4-2 4 0 3-3 4-8 4 9M840 966l4 6 4 3 4-3 4-6 4 16 4-21 4 3 4 4 4 3 4-5 4 2 4 11 4-5 4-11 4 5 4 10 4-16 4 8 4-3 4 6 4 1 4 4 4-24 4 12 4-3 4 8 4 5 4-9 4 2 4 4 4-6 4-10 4 12 4-8 4 1 4 14 4-13 4 3 4-14 4 2 4 3 4 7 4 7 4-11 4-2 4-4 4 2 4 11 4-2 4-1 3-5 4 13 3 1 3-14 4 18 3 0 3-7 4 14 3-11 3 6 4-1 3 12 4-24 4 15 4-4 4 9 4-14 4-1 4 3 4 3 4-3 4 0 4 4 4-6 4 6 4-14 4-20 4 28 4 11 4-36 4 20 4 1 4-15 4 5 4-5 4 9 4-10 4 2 4-8 4-4 4 4 4-4 4 2 4-14 3 17 4-2 4 7 4-10 3-3 4-2 4-6" stroke="#2a3275" stroke-width="2.2" fill="none" transform="scale(.5)"/><path d="M940 987l5-4 5 7 5-4 5-4 5 12 5-24 5 28 5-5 5-4 5 4 5-13 5 7 5 13 5-25 5 24 5 1 5-3 5 3 5-14 5 5 5 10 5-15 5 5 5 4 5 6 5-6 5 10 5 1 5-10 5 5 5 11 5-11 5 4 5 3 5 12 5-10 5-10 5-3 5 13 5-12 5 1 5 2 5 0 5-3 5-8 5 0 5-2 5-8 5 3 5-4 5-3 5 6 5-4 5-8 5-2 4-10 5 12 5-5 5-1M940 1008l5 1 5-5 5-1 5 7 5 5 5-9 5 3 5-4 5-1 5 7 5-4 5 4 5 3 5 0 5 4 5-7 5 4 5-2 5 5 5-3 5 9 5-5 5-7 5 4 5 9 5 4 5-1 5-10 5 3 5 4 5 6 5-8 5-3 5 7 5-6 5 1 5 1 5-9 5 7 5 9 5-19 5 6 5-10 5-5 5 7 5 0 5 1 5-15 5 9 5 3 5-13 5 11 5-20 5 10 5-3 4-5 5-4 5-5 5 13M940 1018l5-11 5 13 5-4 5 4 5-11 5 5 5 2 5 5 5-4 5-7 5 14 5 7 5 2 5-11 5 5 5 11 5-12 5 1 5 9 5-10 5-3 5 8 5 3 5-12 5 4 5 7 5-7 5-8 5 9 5 11 5-8 5-9 5 11 5-2 5 3 5-4 5 1 5-7 5-1 5 1 5-3 5-7 5 11 5-19 5 8 5-10 5 13 5-6 5-9 5 4 5-2 5-1 5-7 5-4 5 5 4-5 5-1 5 0 5 8" stroke="#2a3275" stroke-width="2.2" fill="none" transform="scale(.5)"/><path d="M880 1077l6 0 6 3 6 0 6-2 6 3 6-6 6 1 6 0 6 5 6-5 7 9 6-3 7 0 7 0 6 4 7 5 7 1 6-1 7 1 7 1 6-1 7 8 7-3 6 0 7 8 7-1 6 1 7-1 6 3 6 1 6 3 6-9 6 10 6 3 6-1 6-2 6 1 6 7 7 0 6 2 7-3 7-3 6 2 7-3 6-6 5-1 6 0 6-8 6-2 5-6 6 5 7-2 7 2 6-8 7 1 7-9M880 1054l6 6 6-7 6 7 6-2 6 3 6-2 6 2 6-4 6 2 6 2 7 5 6 3 7 2 7-2 6 10 7-2 7 1 6 4 7-4 7 5 6 13 7-2 7-4 6-3 7-3 7 3 6 6 7 0 6 2 6 1 6-5 6 5 6 4 6-1 6-3 6 6 6 0 6 3 7-4 6-1 7-7 7-1 6 5 7-4 6-4 5-4 6 2 6 1 6 0 5-8 6 4 7-3 7-7 6 4 7-5 7-4M880 1065l6 4 6 1 6 7 6-7 6 4 6 2 6 1 6-3 6 0 6 4 7 1 6 6 7 3 7 7 6 2 7 0 7-1 6 0 7-3 7 5 6-1 7 7 7 0 6 2 7-2 7 6 6-2 7 2 6 0 6 7 6-1 6-2 6-1 6-1 6 5 6-3 6 2 6 1 7-2 6-2 7-5 7-1 6-3 7 1 6-4 5-7 6 1 6-4 6-1 5 0 6-5 7-4 7 0 6 0 7-2 7-2" stroke="#35b6ea" stroke-width="2.2" fill="none" transform="scale(.5)"/><path d="M840 1152l6 12 6 2 6 0 7 5 6-2 6 3 6 2 6-3 6 6 7 1 6-2 6-3 6 5 6-5 6-6 6 1 7-4 6 1 6 0 6-3 6 6 6-4 7 8 6-5 6 0 6 1 7-3 6 0 7 1 7-4 6 4 7-4 6 0 6-5 6 7 7-3 6 2 6-1 6-3 6 1 6-2 7 3 6-6 6 4 6-10 6 6 6 6 6-4 7 2 6 1 6-3 6 4 6 2 6-6 7 0 6 0 6 9 6-3 7 4 7-3 6-5 7 2 7-2M840 1165l6 5 6 1 6 1 7 0 6 7 6-5 6 2 6-6 6 0 7 2 6-2 6 12 6-4 6 5 6-4 6 5 7-4 6 4 6-6 6 6 6-1 6 0 7-5 6 3 6 3 6-6 7-3 6 0 7 0 7-6 6 5 7-2 6-3 6-3 6 6 7-1 6-3 6 8 6-8 6 3 6 1 7-1 6-11 6 7 6 5 6 4 6-2 6-9 7 5 6 5 6-4 6 3 6 9 6-4 7 4 6-5 6-2 6 3 7 5 7 0 6-2 7-2 7 3M840 1165l6 13 6-4 6-5 7 4 6 9 6-4 6-1 6 3 6 10 7-9 6 2 6 1 6 3 6-3 6 4 6-5 7 0 6 2 6 1 6-8 6 5 6 3 7-6 6-3 6 0 6 3 7-4 6-3 7-4 7 3 6-1 7-3 6-3 6 4 6-3 7-2 6 9 6-4 6-4 6-3 6 2 7 0 6-1 6-2 6 0 6 0 6 4 6 0 7-2 6-2 6 8 6-4 6 0 6 4 7 6 6-1 6-6 6-2 7 1 7 0 6 9 7-5 7 1M840 1155l6 10 6-4 6-3 7-1 6 7 6 1 6 3 6 5 6-4 7-5 6 10 6 0 6-4 6 6 6-7 6-3 7-2 6 0 6 2 6-1 6-2 6 5 7-9 6 1 6 2 6-5 7 6 6-3 7-2 7 6 6-7 7-2 6-2 6 3 6-6 7 9 6-10 6 7 6-7 6 7 6-10 7 5 6-9 6 3 6 3 6-5 6-1 6 6 7-1 6 5 6 3 6-5 6-1 6-2 7 2 6 2 6 0 6-1 7 5 7 4 6 3 7-8 7 4" stroke="#62c6b9" stroke-width="2.2" fill="none" transform="scale(.5)"/><path d="M1108 1164l8 36 6 40 4 12 4-32 6-44" stroke="#62c6b9" stroke-width="2.2" fill="none" transform="scale(.5)"/><path d="M216 1017l6 9 6 4 6 9 5 14 5 9 4 3 2 11 2 4 2 13 2 10 2 10 1 10 2 8 2 2 7 8 8 4 14 3 9-4 10-10 6-5 6-5 6-6 4-9 5-8 4-11 5-10 7-2 8-4 6 8 6 5 6 13 7-14 7-8 7-5 4-7 5-11 5-1 5-9 4-7 6-7 6-3 6-7 6-12 11 0 10-2 10 4 11 6 9-6 9 1 9-6 9-4 9 7 9-8 9 5 9 9 10-2 8 0 8-5 8 2 8 2 8 1 8 2 8-5 9 0 8 4 9-1 8 0 9 0 9-4 8-5 8-6 9 4 9 1 8-4 9 6 8-5 9-1 9-1 13 1 10 8 11-10 8 4 9 4 10 0 9-4 10 3 9 1 10 8 9 4 9 4 8 5 9-1 9-9 9 0 9 8 9 2 9-8 9-10 9-2 9 7 9-6 9-2 9 6 9-3 8 1 9-6 9 5 9-1 6 10 6 8 6 4 9-7 9-10 9-1 9 4 9-2 9-2 7-2 7-4 7-2 7 0 7-6 9 6 9 0 9 8 9 1 9-8 9-9 7 3 7-3 7-8 9-3 9 3M216 1021l6 6 6 12 6 7 5 9 5 7 4 14 2 10 2 7 2 4 2 6 2 7 1 19 2 5 2 8 7 4 8 8 14 5 9-18 10 1 6-6 6-4 6-10 4-12 5-5 4-10 5-8 7-1 8-5 6 4 6 6 6 7 7-8 7-14 7-6 4-6 5-7 5-6 5-18 4-12 6 6 6-18 6-5 6-9 11-5 10-2 10 4 11 5 9-1 9-6 9 0 9 11 9 1 9-2 9 2 9 0 10 3 8 6 8-4 8-9 8 8 8-2 8 2 8-2 9 3 8 0 9 2 8-3 9 2 9-1 8-3 8-2 9-2 9-4 8-2 9-4 8-1 9 1 9-2 13 12 10-11 11-5 8 7 9 6 10-8 9 6 10 7 9-3 10 0 9-3 9 5 8 5 9-2 9-2 9-1 9 11 9-3 9-3 9-3 9-6 9 2 9 0 9-1 9 4 9-3 8 0 9 1 9-5 9 3 6 17 6-3 6 12 9-13 9-4 9 1 9 2 9 0 9 10 7-9 7-2 7-3 7-3 7-3 9 2 9 3 9 9 9 5 9-11 9-7 7-8 7-9 7-4 9 3 9-6M216 979l6 12 6 16 6 7 5 5 5 11 4 4 2 10 2 8 2 3 2 13 2 10 1 14 2 10 2 4 7 12 8 6 14-3 9-8 10-6 6-8 6-5 6-5 4-6 5-12 4-10 5-5 7-7 8 0 6 7 6 10 6 5 7-11 7-9 7-10 4-8 5-5 5-9 5-8 4-9 6-5 6-9 6 1 6-8 11-4 10 3 10-3 11 7 9-3 9-4 9-4 9-1 9 0 9 7 9-2 9 3 10 3 8 3 8 0 8-2 8 7 8-9 8 2 8-6 9 5 8-4 9 3 8-1 9 0 9-14 8 2 8 5 9-4 9 2 8-2 9 1 8-7 9-1 9-2 13 10 10-1 11-7 8 5 9 7 10-5 9-4 10-1 9 9 10-2 9 6 9 1 8 0 9-1 9-1 9 3 9-1 9 2 9 6 9-5 9 6 9-10 9 2 9 5 9-3 9 1 8 2 9-2 9-1 9 1 6 0 6 11 6 1 9 3 9-8 9 2 9-1 9 1 9-1 7 0 7-5 7-2 7-8 7-4 9 2 9 6 9 10 9 1 9-10 9-8 7-8 7-7 7-10 9-2 9 11M216 1008l6 6 6 10 6 11 5-2 5 10 4 8 2 13 2 12 2 3 2 9 2 3 1 12 2 11 2 15 7 2 8 8 14-1 9-11 10-10 6-5 6-4 6-7 4-10 5-14 4-7 5-2 7-8 8 0 6 5 6 12 6-1 7-11 7-5 7-11 4-6 5-13 5-3 5-14 4-5 6-5 6-8 6-4 6-6 11-1 10-5 10 5 11 7 9 4 9 0 9-12 9 17 9 0 9-4 9 6 9 5 10 1 8 1 8 0 8-4 8-5 8-6 8 2 8-3 9-2 8-2 9-1 8-3 9-8 9 7 8 0 8-3 9 4 9-3 8-3 9 3 8-1 9 8 9-4 13 9 10-2 11-3 8 3 9 4 10-5 9 7 10 1 9-5 10-2 9 5 9 6 8-5 9 1 9-6 9 0 9-5 9 1 9-5 9 0 9-2 9-1 9 4 9-5 9 4 9 3 8-7 9 3 9-1 9 6 6 9 6 5 6 10 9-3 9-7 9 0 9-1 9-3 9 3 7-4 7-4 7-10 7-1 7-9 9 4 9 5 9 4 9 5 9-7 9-2 7-9 7-9 7-3 9 7 9 8" stroke="#2a3275" stroke-width="2.2" fill="none" transform="scale(.5)"/><path d="M216 1006l3 3 5 4 5 6 5 8 4 3 4 8 3 11 3 3 2 4 2 6 1 8 1 7 2 7 1 5 1 8 1 10 1 4 1 8 2 7 4 2 5 2 6 7 7 0 7-2 6-2 6-3 7-7 4-1 5-5 4-5 5-8 3-6 3-6 3-8 3-8 3-4 3-5 7-4 8-5 4 5 4 7 5 3 5 3 4-4 4-5 4-3 4-6 5-4 3-4 4-6 4-5 4-9 4-5 4-5 4-3 5-7 4-5 4-5 4-6 3-2 8-4 6-5 7-3 7 4 6 6 8 2 6 0 7-3 7-4 7-4 7 1 6 1 7 3 7 1 6 2 6 1 7 1 9 3 5 1 5 0 6 0 6-1 6 1 7-1 6 2 7-1 6-1 6 3 7 0 6-1 7 1 6-2 7-3 6-2 7 2 6 1 7 0 7-3 6-4 6 2 6 2 6-1 8-2 8-6 7 0 6 0 6 0 7 3 6 3 7-4 7-2 7-1 5 5 4 0 8 6 5 1 7 0 7-1 8 0 7 2 7-2 7 1 6 0 7 2 5 2 6 1 6 3 5 1 8-1 7 3 7-1 7-3 7-1 6 1 6-1 6-1 6-6 6 1 6-2 7-1 7 1 7-1 7 0 8-2 7 0 8-5 7 2 7 0 6 3 6 4 4 11 4 2 4 3 5 1 6-2 7-4 5-4 6-1 6 0 6 5 7 4 6-2 6-2 6-2 7-5 6-6 5-6 5-1 8 0 5 2 5 1 6 6 6 3 6 1 6-4 6-2 6-6 5-3 6-4 5-5 5-4 7-2 7 1 4 6" stroke="#222a6c" stroke-width="12" fill="none" stroke-linejoin="round" transform="scale(.5)"/><path d="M216 1079l3-1 5 3 5 9 5 6 2 4 3 4 3 4 2 9 3 5 3 8 2 7 3 9 2 7 3 5 2 8 2 4 3 3 3-1 3-7 5-6 4-2 5-3 6-4 7-3 5-2 6-4 6-1 6-7 6-3 6-7 5-1 5-6 6-2 7-1 7 4 8-3 3-5 3-4 4-4 3-6 4-3 4-6 3-5 4-3 5-6 4-7 5-2 5-7 4-4 5-9 5-4 5-1 5-6 4 1 7-1 7-1 7 2 5 2 5 3 6 0 6 5 5 2 7 6 6-2 7 1 8 3 5 3 6-2 6 2 7 2 6-1 7-1 7-2 6 1 6 1 7 1 6 2 7-4 7 3 6-2 7-4 6-1 7 1 6-1 7-3 7 1 6 5 6 1 6 3 7-1 7 2 6-1 6-3 6 1 6-2 5-4 5-4 5-6 5-5 5-6 5-6 7-1 7-1 7 2 7-2 7-1 6-2 7 2 6 1 7 4 8 2 5 1 6-4 6 3 7-1 6 1 6 1 6 5 6-1 8 1 7 2 7 2 6-1 7 0 8 6 7-3 7-1 7-1 7 2 7 1 7 1 8-4 7 6 7 2 7 1 7-1 7 0 7 2 8 1 6 4 5 1 6 0 6 3 6 0 6-2 6 0 6 1 6 1 5 0 7 0 6 0 6 0 6 1 7 3 6 0 6 2 6 0 6 0 6-4 6-1 5 0 5-4 6-3 6-1 6-1 6-1 6 0 6-2 6 1 6-4 7-1 6-1 6-1 6 1 5-1 9 0 7 1 5 4" stroke="#2db4e9" stroke-width="12" fill="none" stroke-linejoin="round" transform="scale(.5)"/><path d="M216 1106l4 4 7 4 7 6 2 7 3 1 3 2 3 7 3 7 3 6 3 7 2 5 3 5 3 6 2 8 3 5 4-5 4-7 6-7 5-3 5-7 5-5 6 1 5-2 4-7 5-2 4-7 4-2 5-6 3-4 4-5 4-4 3-5 4-8 4-7 4-3 3-2 8 2 7 4 7 1 4-5 4-8 4-5 4-8 5-3 7-1 8 1 8-2 6 4 6 1 6 2 6 4 5 1 6-1 5 6 6 4 6 1 7 3 5 3 6 0 6-2 6 4 6 3 6-1 6 3 6 1 6 2 6 0 6 2 7 6 6 2 7 1 6 1 7 2 7 1 6 0 7 0 7 0 6 2 6 0 8 4 7 3 6-3 6 1 7-2 5 0 5-3 5-3 4-6 5-2 5-5 5-4 6-1 6-5 6-2 6 0 5-3 5-2 8-1 6-2 7 4 5-2 6 3 7 3 6 3 7 5 4 3 5 3 5 5 5 0 5 7 5 4 5 4 6 5 5 3 6 2 6 4 5 3 4 3 6 2 4 6 6 6 5 1 5 1 6 1 7 3 6-1 6 0 6 4 6 3 6 1 6-2 6 1 6 2 6 1 6 0 6-2 6 1 6-1 6-2 6-3 6-1 6-3 6-6 6-3 6 0 7 2 7-1 7-1 7 0 7 1 6-2 6 0 6 0 6 0 6 2 6-2 7-1 7 1 8 1 7 3 7-3 6 0 6 0 7-2 6-3 5-1 5-3 7-7 5-5 6-2 5 0 6 1 6 1 6 2 7 4 6 0 7 1 7 2 8-1 7 1 6 2 4-1" stroke="#5fc5b8" stroke-width="12" fill="none" stroke-linejoin="round" transform="scale(.5)"/></g>
<g><path d="M114.3 454v6M114.3 817.5v-6M199.4 454v6M199.4 817.5v-6M284.5 454v6M284.5 817.5v-6M369.6 454v6M369.6 817.5v-6M454.7 454v6M454.7 817.5v-6M539.8 454v6M539.8 817.5v-6M624.9 454v6M624.9 817.5v-6M93 696.3h6M646.2 696.3h-6M93 575.2h6M646.2 575.2h-6" stroke="#3a3a3a" stroke-width="2" fill="none"/><rect x="93" y="454" width="553.1" height="363.5" fill="none" stroke="#3a3a3a" stroke-width="2"/><text x="80.5" y="826.5" text-anchor="end" font-size="25" stroke="#1a1a1a" stroke-width="0.35">5</text><text x="80.5" y="705.3" text-anchor="end" font-size="25" stroke="#1a1a1a" stroke-width="0.35">10</text><text x="80.5" y="584.2" text-anchor="end" font-size="25" stroke="#1a1a1a" stroke-width="0.35">15</text><text x="80.5" y="463" text-anchor="end" font-size="25" stroke="#1a1a1a" stroke-width="0.35">20</text><text x="105.4" y="844.5" font-size="25" textLength="22.8" lengthAdjust="spacingAndGlyphs" stroke="#1a1a1a" stroke-width="0.35">0°</text><text x="177.3" y="844.5" font-size="25" textLength="36.6" lengthAdjust="spacingAndGlyphs" stroke="#1a1a1a" stroke-width="0.35">2°E</text><text x="262.2" y="844.5" font-size="25" textLength="36.6" lengthAdjust="spacingAndGlyphs" stroke="#1a1a1a" stroke-width="0.35">4°E</text><text x="347.5" y="844.5" font-size="25" textLength="37" lengthAdjust="spacingAndGlyphs" stroke="#1a1a1a" stroke-width="0.35">6°E</text><text x="431.8" y="844.5" font-size="25" textLength="36.6" lengthAdjust="spacingAndGlyphs" stroke="#1a1a1a" stroke-width="0.35">8°E</text><text x="507.7" y="844.5" font-size="25" textLength="49.1" lengthAdjust="spacingAndGlyphs" stroke="#1a1a1a" stroke-width="0.35">10°E</text><text x="588.8" y="844.5" font-size="25" textLength="50.2" lengthAdjust="spacingAndGlyphs" stroke="#1a1a1a" stroke-width="0.35">12°E</text><text x="2.7" y="443" font-size="32" font-weight="bold">C</text><text transform="translate(23.7 633.5) rotate(-90)" x="-154.5" font-size="25" textLength="309" lengthAdjust="spacingAndGlyphs" stroke="#1a1a1a" stroke-width="0.3">Seawater temperature (°C)</text></g>
<clipPath id="cD"><rect x="790.2" y="453.8" width="553.1" height="364.1"/></clipPath>
<g><path d="M832.8 453.8V817.9M854 453.8V817.9M875.3 453.8V817.9M917.9 453.8V817.9M939.1 453.8V817.9M960.4 453.8V817.9M1003 453.8V817.9M1024.2 453.8V817.9M1045.5 453.8V817.9M1088.1 453.8V817.9M1109.3 453.8V817.9M1130.6 453.8V817.9M1173.2 453.8V817.9M1194.5 453.8V817.9M1215.7 453.8V817.9M1258.3 453.8V817.9M1279.5 453.8V817.9M1300.8 453.8V817.9M790.2 793.6H1343.4M790.2 769.3H1343.4M790.2 745.1H1343.4M790.2 720.8H1343.4M790.2 672.2H1343.4M790.2 648H1343.4M790.2 623.7H1343.4M790.2 599.4H1343.4M790.2 550.9H1343.4M790.2 526.6H1343.4M790.2 502.3H1343.4M790.2 478H1343.4" stroke="#bbbbbb" stroke-width="1.9" stroke-dasharray="1.9 5.6" fill="none"/><path d="M811.5 453.8V817.9M896.6 453.8V817.9M981.7 453.8V817.9M1066.8 453.8V817.9M1151.9 453.8V817.9M1237 453.8V817.9M1322.1 453.8V817.9M790.2 696.5H1343.4M790.2 575.1H1343.4" stroke="#dadada" stroke-width="1.5" fill="none"/></g>
<g clip-path="url(#cD)"><path d="M1608 1509l6-8 7-4 6-9 2-10 3-12 2 0 3-6 2-10 2-11 3-2 2-10 3-4 6-13 6-3 9-6 9-3 8-4 9 0 9-4 9 1 10-3 9-1 10 3 9-3 9-3 10 1 9 2 9 2 10 1 9 3 10 2 9-1 9-4 10 2 9 2 9 4 10-2 9-2 9 3 10-8 9 1 10-2 9-1 9-1 9-5 8-5 8-3 8-8 8-2 9 1 9 2 9 1 9-2 9 0 9 0 8 0 9 1 9-5 9 1 9 2 9 2 9-1 9-4 9 0 10 1 10 0 10-2 9 3 9 0 8 4 9 1 9 1 8 3 7 4 8 7 7 2 6 5 6 7 6 10 6 3 6 2 5 10 5 10 5 4 5 8 5 4 5 9 4 9 4 8 5 2 4 6 5 10 4 6 5 3 4 9 2 8 1 4 1 10 1 6 2 12 1 15 1 3 1 11 0 5 1 1 0 14 1 8 0 7 1 9 1 12 0 3 1 8 0 13M1608 1496l6-9 7-13 6-7 2-10 3-14 2-2 3-9 2-10 2-5 3-6 2-11 3-8 6-12 6-7 9-2 9-2 8-6 9-2 9-6 9 2 10 2 9-1 10 1 9 0 9-2 10 6 9-2 9 4 10-1 9 1 10 3 9 3 9 0 10 4 9 1 9 0 10-2 9-1 9 0 10 4 9-4 10 1 9-5 9-1 9-3 8-4 8-3 8-2 8-7 9-2 9 0 9-3 9-4 9-1 9 0 8 7 9-4 9 2 9-2 9 2 9 1 9-1 9 1 9-2 10-3 10 0 10 5 9-3 9 4 8 6 9-7 9 4 8-1 7 10 8 5 7 4 6 10 6 2 6 7 6 5 6 8 5 5 5 2 5 11 5 6 5 6 5-1 4 12 4 8 5 5 4 11 5 2 4 6 5 6 4 9 2 1 1 14 1 10 1 7 2 6 1 3 1 16 1 5 0 13 1 4 0 15 1 6 0 4 1 10 1 5 0 11 1 10 0 2M1608 1508l6-10 7-7 6-7 2-10 3-9 2-6 3-8 2-8 2-8 3-8 2-6 3-14 6-14 6-4 9 0 9-1 8-6 9 2 9-1 9-9 10 2 9 3 10-6 9 1 9 2 10 3 9 4 9-2 10 1 9 6 10 2 9-3 9 2 10-2 9 4 9 4 10-6 9-2 9 2 10-3 9-2 10-2 9 2 9 1 9-5 8-5 8-2 8-4 8 1 9 4 9 1 9 0 9-2 9-2 9 6 8-4 9 1 9 5 9-3 9-1 9-4 9-2 9-6 9-2 10-3 10-6 10-2 9-5 9 3 8 6 9 1 9 4 8 5 7 2 8 9 7 1 6 11 6 1 6 9 6 7 6 9 5 4 5 4 5 8 5 7 5 8 5 11 4 5 4 8 5 6 4 7 5 8 4 6 5 7 4 9 2 4 1 9 1 10 1 4 2 13 1 8 1 2 1 14 0 7 1 2 0 14 1 11 0 5 1 12 1 12 0 6 1 8 0 5M1608 1518l6-9 7-8 6-12 2-8 3-8 2-8 3-10 2-2 2-14 3-5 2-12 3-2 6-9 6-15 9 1 9-1 8-3 9 2 9-4 9-1 10 3 9 2 10-4 9 1 9-2 10 0 9 7 9 2 10 1 9 1 10-1 9-1 9 1 10 2 9-9 9 3 10 0 9-1 9-3 10-3 9 1 10-1 9-2 9 1 9-11 8 4 8 0 8-3 8 1 9 0 9-1 9-1 9 5 9-3 9-8 8 4 9 2 9-5 9 3 9-6 9 0 9-4 9-3 9-1 10-3 10-11 10 1 9-1 9 6 8 5 9 1 9 3 8 5 7 8 8 6 7 5 6 3 6 8 6 4 6 13 6 3 5 11 5 9 5 2 5 10 5 6 5 5 4 9 4 8 5 2 4 12 5 8 4 7 5 4 4 9 2 7 1 10 1 5 1 5 2 13 1 11 1 4 1 11 0 7 1 9 0 9 1 3 0 10 1 10 1 9 0 7 1 7 0 8M1608 1502l6-13 7-10 6-11 2-8 3-9 2-6 3-6 2-12 2-8 3-5 2-11 3-7 6-8 6-10 9 2 9-4 8-2 9-2 9-3 9 2 10-4 9 2 10 0 9-1 9-3 10 4 9 4 9 2 10 2 9 3 10 5 9 1 9 0 10-1 9 2 9-3 10 4 9-7 9 7 10 2 9-4 10-5 9-3 9-4 9-2 8-1 8-4 8-2 8-5 9 0 9-1 9-6 9 5 9-5 9 1 8-1 9-1 9 1 9-7 9 4 9-1 9-9 9-4 9 0 10 2 10 0 10-2 9 2 9-1 8 5 9 1 9-2 8 3 7 8 8 4 7 4 6 7 6 9 6 2 6 6 6 4 5 13 5 7 5 6 5 11 5 6 5 5 4 8 4 9 5 11 4 6 5 8 4 8 5 5 4 10 2 7 1 11 1 6 1 4 2 6 1 12 1 7 1 8 0 12 1 3 0 14 1 5 0 8 1 10 1 5 0 9 1 8 0 6M1608 1514l6-11 7-3 6-8 2-8 3-9 2-7 3-10 2-8 2-7 3-8 2-9 3-3 6-12 6-7 9-2 9-3 8-1 9-6 9 0 9 0 10-1 9-3 10-2 9-4 9 6 10 7 9 3 9 1 10 0 9 1 10 3 9-1 9-3 10 5 9 1 9-1 10-2 9-4 9-4 10-1 9 0 10 0 9-4 9 4 9-4 8-3 8-4 8-3 8-5 9-1 9-2 9 4 9-6 9 1 9 0 8-2 9-1 9-1 9-4 9 3 9-1 9 2 9-3 9-1 10 4 10-1 10-4 9-3 9 2 8 1 9 6 9-1 8 2 7 7 8 5 7 4 6 8 6 10 6 5 6 9 6 3 5 6 5 10 5 6 5 10 5 6 5 6 4 9 4 6 5 9 4 6 5 7 4 4 5 10 4 7 2 9 1 11 1 11 1 6 2 8 1 4 1 9 1 10 0 3 1 9 0 9 1 9 0 7 1 13 1 1 0 10 1 11 0 3M1608 1500l6-11 7-9 6-10 2-9 3-9 2-5 3-10 2-5 2-14 3-8 2-7 3-2 6-9 6-5 9-5 9-1 8-3 9-1 9-5 9 0 10 2 9-1 10 0 9-5 9 4 10-1 9 6 9 2 10 5 9 2 10-3 9 4 9 1 10 0 9-1 9 1 10 3 9-3 9 3 10-5 9 0 10-5 9 1 9-6 9-2 8-1 8 0 8-7 8-3 9-1 9-3 9-4 9-3 9-2 9 3 8-4 9 0 9-1 9 0 9-2 9-6 9 3 9-3 9 2 10-4 10-3 10-4 9-1 9 3 8 5 9-2 9 8 8 3 7 4 8 9 7 3 6 6 6 5 6 9 6 4 6 9 5 7 5 6 5 8 5 9 5 10 5 3 4 11 4 6 5 14 4 0 5 11 4 9 5 4 4 7 2 8 1 10 1 12 1 6 2 4 1 6 1 12 1 6 0 12 1 8 0 9 1 10 0 5 1 10 1 5 0 11 1 6 0 5M1608 1515l6-12 7-8 6-8 2-8 3-9 2 0 3-10 2-3 2-10 3-11 2-6 3-12 6-7 6-7 9-1 9 3 8-3 9-5 9-3 9 6 10-6 9-5 10 1 9-2 9 2 10 6 9-2 9 5 10-1 9 1 10 5 9-2 9 1 10 3 9-2 9 2 10-2 9-4 9 1 10-1 9-6 10 1 9-2 9-1 9-10 8-2 8 0 8-2 8-3 9-6 9 4 9-7 9 6 9-6 9 2 8 4 9-2 9-1 9-2 9-4 9 0 9-3 9 1 9 1 10 1 10-5 10 4 9 0 9 2 8 1 9 4 9 1 8 7 7 0 8 6 7 2 6 7 6 4 6 7 6 15 6 0 5 12 5 8 5 3 5 5 5 6 5 4 4 6 4 9 5 9 4 5 5 7 4 7 5 6 4 10 2 5 1 8 1 12 1 8 2 11 1 7 1 5 1 10 0 9 1 2 0 12 1 6 0 11 1 10 1 10 0 11 1 7 0 6M1608 1475l6-5 7-2 6-7 2-11 3-10 2-5 3-6 2-12 2-4 3-11 2-9 3-5 6-11 6-4 9 0 9-4 8-7 9-5 9-4 9-1 10-2 9 5 10-7 9 1 9-3 10 8 9 2 9-5 10 5 9 5 10-2 9 4 9 5 10 3 9-9 9 3 10 1 9-3 9 6 10-6 9-1 10-2 9-3 9 1 9-2 8 0 8-5 8-5 8 3 9-3 9-4 9-4 9 0 9-1 9 0 8-3 9 0 9 5 9-7 9 6 9 0 9-5 9 3 9-7 10 2 10-4 10-2 9-1 9 4 8-1 9 4 9 2 8 0 7 6 8 3 7 7 6 3 6 5 6 9 6 7 6 1 5 14 5 4 5 2 5 11 5 7 5 6 4 14 4 6 5 5 4 13 5 8 4 10 5 9 4 0 2 15 1 4 1 3 1 12 2 11 1 6 1 10 1 7 0 14 1 2 0 8 1 7 0 10 1 8 1 4 0 9 1 7 0 7M1608 1513l6-9 7-9 6-9 2-6 3-9 2-5 3-7 2-13 2-5 3-7 2-12 3-12 6-9 6-4 9-4 9 0 8-4 9-4 9-5 9-2 10-3 9 2 10 6 9-7 9 5 10 2 9 3 9 1 10 8 9-3 10 5 9 4 9 2 10 0 9-5 9 3 10 1 9-3 9 0 10-2 9-8 10 1 9-2 9-6 9 0 8-7 8 3 8-5 8-4 9 2 9-3 9-1 9 0 9-2 9 3 8-1 9 0 9 4 9-1 9-2 9 1 9-4 9 1 9 3 10-6 10-5 10 2 9-2 9 1 8-2 9 3 9-1 8 1 7 3 8 3 7 1 6 13 6 4 6 6 6 9 6 8 5 5 5 5 5 11 5 11 5 3 5 7 4 7 4 6 5 12 4 8 5 4 4 3 5 13 4 6 2 12 1 7 1 11 1 5 2 10 1 11 1 4 1 2 0 8 1 14 0 7 1 7 0 8 1 6 1 17 0 5 1 7 0 7M1608 1515l6-10 7-4 6-13 2-10 3-10 2-6 3-8 2-14 2-1 3-13 2-7 3-4 6-11 6-12 9 0 9 1 8-6 9 1 9-5 9-4 10-5 9-2 10-2 9 2 9-2 10 2 9-1 9 3 10-1 9 2 10 7 9 2 9-1 10 8 9 2 9 4 10 0 9-4 9-2 10 3 9-4 10-2 9 1 9-4 9-1 8-2 8-4 8-2 8 1 9-6 9 3 9-8 9-3 9 3 9-1 8-2 9 4 9-2 9-2 9 1 9-3 9-1 9-3 9 5 10-4 10 1 10-1 9-1 9 0 8 0 9 3 9-1 8 1 7 2 8 5 7 0 6 9 6 6 6 7 6 7 6 5 5 7 5 1 5 10 5 9 5 5 5 7 4 9 4 9 5 5 4 7 5 9 4 6 5 6 4 14 2 5 1 13 1 6 1 11 2 6 1 8 1 8 1 5 0 12 1 6 0 6 1 7 0 7 1 14 1 6 0 6 1 6 0 10M1608 1499l6-9 7-10 6-6 2-7 3-9 2-5 3-12 2-6 2-5 3-8 2-14 3-4 6-11 6-6 9-1 9-8 8 3 9-7 9 0 9 2 10-2 9-3 10 2 9 2 9 6 10 1 9-1 9-2 10 6 9-3 10 3 9 1 9-1 10 2 9 3 9-2 10-1 9 3 9-5 10 6 9-5 10-3 9-2 9-3 9-3 8-4 8-6 8-5 8 0 9-5 9 4 9-6 9 0 9 0 9-4 8 1 9 1 9 2 9-1 9 0 9-4 9-1 9 3 9 1 10 0 10-4 10-3 9 4 9 2 8 5 9-4 9 4 8 2 7 4 8 4 7 3 6 7 6 5 6 9 6 8 6 8 5 8 5 9 5 7 5 9 5 6 5 2 4 6 4 9 5 8 4 10 5 1 4 7 5 3 4 8 2 9 1 7 1 9 1 7 2 6 1 12 1 10 1 11 0 4 1 11 0 4 1 8 0 12 1 9 1 8 0 11 1 7 0 7M1608 1539l6-14 7-12 6-1 2-11 3-8 2-16 3-5 2-2 2-9 3-9 2-6 3-5 6-16 6-6 9-1 9-4 8-5 9 3 9-8 9-1 10-3 9 3 10-5 9-1 9 0 10 5 9 0 9 4 10 2 9 3 10-2 9 0 9 1 10 1 9 0 9 3 10-1 9-2 9 4 10-1 9 0 10-4 9 0 9-1 9 0 8-2 8-7 8-1 8-7 9 1 9 1 9 2 9-4 9-2 9-2 8 1 9-6 9-2 9 0 9 0 9 2 9-3 9-2 9-6 10-1 10 7 10-7 9 0 9 3 8 1 9 1 9 4 8 3 7 6 8 10 7 0 6 10 6 2 6 8 6 9 6-2 5 13 5 5 5 11 5 4 5 8 5 6 4 6 4 6 5 4 4 4 5 9 4 8 5 4 4 6 2 12 1 5 1 11 1 6 2 8 1 14 1 7 1 11 0 8 1 4 0 12 1 3 0 9 1 7 1 10 0 3 1 9 0 14M1608 1536l6-9 7-5 6-19 2-1 3-8 2-9 3-8 2-8 2-8 3-6 2-4 3-13 6-6 6-9 9 2 9-5 8-1 9-2 9 0 9-3 10 0 9-2 10-1 9 1 9-2 10 1 9 2 9-1 10 2 9 0 10 2 9-1 9 2 10 0 9-3 9 1 10 3 9 0 9-2 10-2 9-2 10-1 9-9 9 6 9-5 8-3 8-4 8 3 8-2 9-2 9-1 9 4 9-7 9 1 9 9 8-3 9 0 9 3 9 1 9-1 9-2 9 3 9-2 9-2 10-5 10 0 10-10 9 7 9 0 8 2 9-5 9 6 8-1 7 5 8 6 7-1 6 6 6 5 6 5 6 8 6 5 5 5 5 6 5 7 5 12 5 5 5 7 4 8 4 7 5 5 4 4 5 10 4 10 5 6 4 8 2 4 1 4 1 13 1 3 2 10 1 14 1 11 1 6 0 7 1 10 0 7 1 5 0 8 1 7 1 4 0 13 1 8 0 7M1608 1496l6-10 7-9 6-6 2-11 3-5 2-7 3-10 2-10 2-6 3-7 2-4 3-10 6-6 6-8 9-2 9 0 8-8 9 3 9 2 9-4 10 2 9-4 10-4 9-1 9 1 10-1 9 5 9-1 10 4 9 4 10 1 9 5 9-3 10-1 9 3 9-4 10 2 9-3 9-7 10-2 9-2 10 1 9-6 9 1 9-4 8-5 8-4 8 0 8-4 9 2 9-2 9-3 9 1 9-4 9-2 8-1 9 0 9-1 9 1 9-2 9 0 9 0 9 4 9-3 10 1 10-3 10-1 9 3 9-2 8 5 9-3 9 5 8 5 7 5 8 4 7 5 6 9 6 6 6 5 6 11 6 4 5 7 5 12 5 8 5 5 5 7 5 2 4 7 4 9 5 6 4 7 5 8 4 5 5 1 4 12 2 8 1 10 1 2 1 13 2 8 1 11 1 5 1 13 0 5 1 13 0 5 1 9 0 5 1 15 1 5 0 4 1 11 0 7M1608 1508l6-10 7-9 6-7 2-5 3-9 2-10 3-5 2-10 2-6 3-11 2-7 3-11 6-6 6-7 9 0 9-9 8 3 9-7 9-1 9-2 10 3 9-5 10-4 9 2 9 2 10-3 9 3 9 7 10-3 9-1 10 0 9 3 9 1 10 2 9-5 9 5 10 2 9-3 9-3 10 3 9-2 10 1 9-7 9 0 9-2 8-1 8-1 8-7 8-1 9 3 9 1 9-7 9 1 9-4 9-2 8 3 9 0 9 0 9-2 9 1 9-1 9 0 9-3 9 1 10-1 10-1 10-7 9 2 9 6 8-5 9 3 9 0 8 4 7 2 8 11 7-2 6 10 6 4 6 12 6 3 6 9 5 4 5 9 5 4 5 11 5 4 5 11 4 7 4 11 5 4 4 8 5 4 4 4 5 9 4 12 2 8 1 9 1 7 1 10 2 8 1 11 1 4 1 8 0 3 1 12 0 10 1 7 0 5 1 8 1 8 0 6 1 13 0 12" stroke="#f2a2af" stroke-width="2.2" fill="none" transform="scale(.5)"/><path d="M1608 1493l6-3 7-8 6-7 2-12 3-8 2-5 3-9 2-11 2-8 3-7 2-8 3-7 6-8 6-8 9 5 9-2 8-7 9-2 9-2 9-4 10 5 9-3 10-1 9 2 9 0 10 1 9 2 9 6 10-6 9-6 10 7 9-4 9 3 10 1 9 0 9-6 10 0 9 0 9 4 10-10 9 1 10 1 9-7 9-1 9-1 8-3 8-5 8-2 8 0 9-3 9 0 9 2 9-5 9-2 9 0 8 5 9-5 9-1 9 9 9-4 9 2 9 1 9 0 9-4 10-7 10 1 10 2 9 5 9-1 8 4 9 5 9-1 8 1 7 8 8 3 7 0 6 8 6 7 6 7 6 8 6 6 5 7 5 12 5 6 5 5 5 10 5 6 4 5 4 9 5 13 4 5 5 7 4 8 5 5 4 3 2 9 1 4 1 9 1 10 2 2 1 15 1 5 1 7 0 5 1 9 0 4 1 9 0 7 1 12 1 8 0 5 1 6 0 7M1608 1478l6-7 7-11 6-9 2-7 3-8 2-7 3-7 2-10 2-8 3-10 2-12 3-2 6-11 6-3 9-5 9 2 8-6 9 0 9-1 9-2 10 3 9-1 10-3 9 0 9 0 10 2 9 3 9 2 10 1 9 4 10 2 9 0 9 2 10 4 9 1 9 0 10-4 9 0 9-2 10 0 9-5 10-3 9-4 9-1 9-2 8-2 8-2 8-3 8-2 9-5 9 0 9-2 9 2 9 0 9 2 8-3 9 2 9-4 9 2 9 3 9-7 9 1 9 5 9 1 10 1 10-3 10 1 9-1 9-1 8-1 9 4 9-1 8 0 7 4 8-1 7 5 6 5 6 6 6 7 6 3 6 7 5 5 5 8 5 6 5 5 5 8 5 4 4 11 4 4 5 11 4-1 5 9 4 4 5 11 4 11 2 12 1 2 1 13 1 5 2 9 1 10 1 9 1 8 0 5 1 10 0 6 1 9 0 7 1 7 1 11 0 7 1 10 0 7M1608 1470l6-13 7-9 6-6 2-10 3-9 2-12 3-10 2-4 2-7 3-8 2-6 3-10 6-5 6-8 9-2 9-3 8-1 9-7 9 4 9-9 10-2 9-6 10 0 9-5 9 1 10-2 9 2 9-3 10 6 9 1 10 2 9-1 9 2 10 2 9 0 9 1 10 3 9 4 9-4 10-3 9 1 10-2 9 4 9-4 9 0 8-1 8-3 8-5 8 0 9-1 9 1 9 0 9-1 9 3 9 1 8-3 9 4 9-7 9 6 9 0 9-1 9-3 9-2 9-1 10-1 10-3 10-1 9 0 9 1 8-2 9-2 9-2 8 8 7 5 8 1 7 3 6 6 6 4 6 9 6 5 6 4 5 9 5 10 5 6 5 6 5 10 5 5 4 8 4 7 5 4 4 5 5 9 4 4 5 7 4 9 2 9 1 5 1 11 1 5 2 12 1 6 1 16 1 3 0 9 1 5 0 14 1 4 0 7 1 11 1 9 0 10 1 5 0 3M1608 1495l6-11 7-7 6-8 2-9 3-10 2-4 3-10 2-2 2-13 3-9 2-8 3-6 6-9 6-9 9 0 9-5 8 0 9-4 9-6 9-4 10-4 9 1 10 1 9-6 9 0 10 1 9-1 9-2 10 2 9 3 10-2 9 1 9 1 10 3 9 0 9 1 10 0 9 2 9 3 10 0 9 0 10 2 9 0 9 3 9-2 8 2 8-7 8-2 8-7 9 1 9-5 9 2 9-6 9-1 9 0 8-5 9-1 9 9 9-2 9-6 9 5 9-1 9-4 9 1 10-3 10 0 10-3 9-2 9 4 8 1 9 2 9 3 8 6 7 2 8 0 7 8 6 7 6 9 6 4 6 7 6 4 5 7 5 9 5 8 5 5 5 8 5 8 4 7 4 9 5 7 4 7 5 6 4 12 5 10 4 6 2 5 1 6 1 9 1 5 2 10 1 14 1 5 1 7 0 8 1 4 0 12 1 10 0 13 1 3 1 8 0 9 1 9 0 7M1608 1485l6-13 7-7 6-9 2-8 3-11 2-9 3-11 2-8 2-10 3-5 2-9 3-9 6-7 6-6 9-3 9-3 8-3 9 2 9-3 9 1 10-3 9 2 10-1 9-3 9 5 10 0 9-2 9 4 10 1 9 7 10-5 9 6 9-1 10 3 9-3 9-2 10 6 9-6 9 2 10 0 9-3 10 0 9-3 9-6 9 0 8 1 8-5 8-4 8-1 9 3 9-4 9-3 9 3 9 1 9-3 8-1 9 4 9-2 9 2 9-4 9 2 9-2 9-1 9 2 10 1 10-4 10 3 9-4 9 1 8 1 9 2 9 7 8 3 7 3 8 1 7 5 6 1 6 7 6 3 6 5 6 7 5 6 5 6 5 11 5 7 5 5 5 5 4 4 4 5 5 11 4 8 5 2 4 10 5 6 4 6 2 12 1 6 1 6 1 9 2 5 1 13 1 4 1 12 0 9 1 5 0 9 1 7 0 8 1 7 1 10 0 6 1 11 0 12M1608 1487l6-9 7-8 6-2 2-17 3 0 2-8 3-8 2-13 2-5 3-9 2-6 3-10 6-12 6-6 9-4 9-2 8-7 9-4 9 0 9-8 10-2 9-4 10-1 9 5 9-2 10 0 9 5 9 4 10 0 9 0 10 5 9 4 9 0 10 7 9 0 9-1 10 0 9 4 9-1 10 0 9 0 10-11 9 4 9-7 9-1 8-2 8-6 8-8 8-1 9-1 9-7 9 0 9 4 9 0 9-7 8 4 9-2 9 1 9-1 9 8 9-1 9 2 9-4 9 4 10-8 10-2 10 1 9-5 9 4 8 3 9 1 9 8 8-3 7 4 8 0 7 6 6 8 6-2 6 10 6 6 6 4 5 6 5 7 5 9 5 8 5 7 5 7 4 6 4 4 5 8 4 4 5 8 4 7 5 7 4 10 2 4 1 9 1 11 1 9 2 8 1 7 1 8 1 7 0 11 1 7 0 9 1 11 0 9 1 6 1 10 0 6 1 7 0 8M1608 1469l6-10 7-9 6-9 2-9 3-7 2-11 3-4 2-14 2-3 3-10 2-8 3-9 6-8 6-8 9-4 9-3 8-3 9-1 9-4 9-5 10 0 9-3 10-1 9-1 9 5 10 2 9 2 9-3 10 8 9 1 10 0 9 3 9 2 10 3 9 6 9 4 10-9 9-4 9 5 10-7 9-6 10 2 9-1 9-7 9-2 8-1 8-4 8 1 8-9 9-4 9 0 9 0 9-1 9 2 9 7 8-2 9 6 9 1 9-5 9 3 9 3 9-4 9 1 9-4 10 3 10-6 10 3 9-5 9 5 8-1 9-2 9 3 8 4 7 3 8 0 7 2 6 6 6 12 6 0 6 7 6 4 5 7 5 7 5 10 5 7 5 6 5 7 4 7 4 3 5 15 4 8 5 8 4 5 5 7 4 8 2 10 1 8 1 4 1 13 2 6 1 2 1 10 1 11 0 8 1 10 0 4 1 7 0 13 1 5 1 11 0 7 1 8 0 6M1608 1481l6-4 7-14 6-5 2-3 3-12 2-5 3-11 2-10 2-2 3-11 2-10 3-5 6-7 6-12 9-4 9-5 8-2 9-1 9-6 9-3 10 3 9-2 10-1 9 2 9-1 10 4 9 1 9 7 10 0 9 3 10-5 9 6 9 0 10 1 9 2 9-3 10 6 9 2 9-1 10-2 9-4 10-4 9 1 9 0 9-2 8-2 8-2 8-7 8-5 9-1 9-4 9-2 9-3 9 0 9 1 8 1 9-3 9 2 9 0 9 0 9-1 9-5 9 1 9-2 10-3 10-1 10-1 9-5 9 4 8 7 9 2 9-5 8 10 7 12 8-1 7 2 6 10 6 7 6 4 6 7 6 7 5 6 5 4 5 6 5 11 5 6 5 9 4 3 4 6 5 8 4 7 5 12 4 4 5 7 4 4 2 15 1 2 1 13 1 14 2 4 1 4 1 9 1 5 0 10 1 12 0 7 1 7 0 6 1 12 1 6 0 10 1 5 0 7M1608 1494l6-5 7-8 6-8 2-3 3-8 2-7 3-12 2-11 2-6 3-7 2-5 3-7 6-6 6-8 9-1 9-1 8-3 9-3 9-1 9 0 10 0 9-1 10-4 9-1 9-2 10 2 9 1 9 3 10-2 9-1 10 2 9 1 9-5 10 2 9-1 9-6 10 4 9 0 9 3 10-3 9 4 10-1 9-3 9-6 9-1 8 2 8-3 8 0 8-3 9 2 9-2 9-3 9-1 9-1 9 3 8-1 9 3 9 2 9 1 9-1 9 2 9-3 9-6 9-2 10 0 10 0 10 0 9 0 9 1 8-3 9 6 9-1 8 0 7 5 8 3 7 4 6 9 6 6 6 4 6 8 6 0 5 9 5 7 5 5 5 7 5 11 5-1 4 9 4 8 5 4 4 7 5 5 4 8 5 4 4 8 2 3 1 9 1 3 1 15 2 11 1 8 1 11 1 4 0 13 1 7 0 8 1 9 0 8 1 9 1 7 0 10 1 6 0 10M1608 1504l6-5 7-6 6-7 2-13 3-11 2-7 3-4 2-10 2-6 3-8 2-7 3-10 6-10 6-8 9-9 9 0 8-6 9-4 9-6 9 0 10-1 9-6 10 1 9-5 9 4 10 2 9 3 9 4 10 3 9 5 10 1 9 5 9 8 10-4 9 0 9 1 10-2 9 0 9-6 10-4 9-2 10-1 9-6 9 2 9-6 8-7 8 4 8-5 8-2 9-1 9 7 9-6 9 2 9-1 9 0 8 3 9 0 9 2 9 0 9 0 9-1 9-4 9-1 9-4 10 0 10 0 10-3 9-6 9 4 8-1 9-3 9 5 8 6 7 3 8 4 7 1 6 10 6 2 6 13 6 4 6 10 5 6 5 7 5 10 5 3 5 8 5 9 4 7 4 9 5 9 4 4 5 11 4 7 5 11 4 7 2 7 1 7 1 9 1 10 2 3 1 8 1 6 1 14 0 4 1 7 0 8 1 7 0 5 1 7 1 12 0 3 1 8 0 10M1608 1478l6-8 7-10 6-6 2-9 3-12 2-7 3-10 2-1 2-9 3-6 2-5 3-14 6-8 6-6 9-6 9-4 8-1 9-6 9-2 9 2 10 1 9 0 10-2 9 1 9-1 10 8 9-3 9 1 10 0 9 2 10 2 9 8 9-2 10 8 9-4 9 2 10-4 9 1 9 0 10 3 9 0 10-1 9-6 9-5 9 3 8 0 8-2 8-5 8-4 9 0 9-3 9-1 9-4 9 3 9-4 8-1 9-1 9 3 9-1 9-3 9-1 9-4 9-3 9-4 10-4 10-5 10-1 9 0 9-3 8 6 9-4 9 2 8 3 7 10 8 2 7 5 6 6 6 6 6 5 6 6 6 6 5 10 5 10 5 2 5 10 5 11 5 0 4 8 4 8 5 6 4 10 5 7 4 11 5 6 4 8 2 10 1 8 1 10 1 6 2 14 1 8 1 4 1 10 0 5 1 14 0 6 1 8 0 9 1 10 1 5 0 9 1 5 0 8M1608 1504l6-6 7-11 6-12 2-9 3-5 2-10 3-4 2-12 2-7 3-7 2-3 3-11 6-7 6-14 9 2 9-5 8-1 9-6 9-5 9 0 10-5 9 3 10-3 9-3 9 0 10 2 9-1 9 3 10 5 9-1 10 1 9 3 9 6 10 3 9-2 9 2 10-4 9 2 9 4 10-2 9-1 10 1 9 0 9-2 9-1 8-5 8 2 8-9 8-1 9 0 9-3 9 0 9-2 9-3 9 3 8-4 9-2 9 0 9-3 9 0 9-1 9-4 9-1 9-2 10-2 10 1 10-6 9 4 9-3 8 6 9 4 9-2 8 5 7 1 8 5 7 3 6 8 6 10 6 2 6 9 6 4 5 12 5 4 5 9 5 1 5 8 5 9 4 6 4 9 5 8 4 12 5 10 4 5 5 11 4 4 2 6 1 10 1 9 1 5 2 9 1 7 1 6 1 10 0 7 1 7 0 9 1 3 0 16 1 7 1 7 0 3 1 7 0 11M1608 1484l6-11 7-8 6-11 2-7 3-5 2-14 3-9 2-12 2-7 3-6 2-10 3-5 6-7 6-5 9-4 9-7 8-2 9-5 9-1 9-5 10 3 9-3 10 0 9-9 9 8 10 2 9 0 9-3 10 5 9 2 10 1 9 3 9 1 10-2 9 7 9 1 10-5 9 3 9 4 10 1 9 6 10-1 9-7 9 2 9-2 8 1 8-2 8-7 8-2 9 1 9-1 9-5 9-4 9-3 9 2 8 4 9-4 9 0 9-9 9-1 9-2 9 1 9-3 9-4 10 1 10-4 10-2 9 0 9 3 8 3 9 0 9 6 8-1 7 8 8 3 7 7 6 2 6 8 6 8 6 6 6 11 5 5 5 11 5 2 5 10 5 8 5 4 4 7 4 10 5 2 4 11 5 8 4 7 5 8 4 9 2 8 1 8 1 8 1 5 2 12 1 10 1 3 1 9 0 3 1 12 0 9 1 9 0 9 1 3 1 10 0 9 1 7 0 10M1608 1503l6-9 7-10 6-5 2-6 3-9 2-7 3-8 2-12 2-8 3-7 2-10 3-2 6-13 6-7 9-3 9-5 8-6 9-1 9-5 9-5 10-1 9 1 10-9 9 2 9 2 10-3 9 1 9 2 10 4 9-3 10 4 9 2 9-11 10 9 9 4 9-6 10 0 9 2 9 4 10 1 9 0 10-2 9 0 9-6 9-2 8 6 8-9 8 7 8-4 9 1 9 1 9-4 9 1 9-2 9 1 8-3 9 4 9-4 9 1 9-1 9-3 9-3 9-1 9 5 10-2 10-2 10-5 9 2 9 0 8 3 9 1 9 0 8 2 7 2 8 6 7 3 6 5 6 9 6 2 6 10 6 5 5 5 5 8 5 4 5 13 5 11 5 4 4 9 4 2 5 9 4 6 5 7 4 8 5 7 4 8 2 6 1 5 1 9 1 14 2 0 1 15 1 6 1 3 0 13 1 3 0 6 1 9 0 11 1 7 1 11 0 6 1 8 0 8M1608 1513l6-11 7-8 6-10 2-4 3-11 2-9 3-11 2-3 2-12 3-7 2-8 3-12 6-4 6-12 9-5 9-1 8 0 9-6 9-5 9-4 10-1 9-1 10 1 9 3 9-1 10 1 9 5 9-3 10 7 9 1 10-4 9 2 9 3 10-3 9-1 9 10 10-1 9 2 9 7 10-6 9 3 10-2 9-3 9-2 9-4 8-6 8 0 8-2 8-5 9-4 9-1 9-10 9 3 9-4 9-2 8-3 9 6 9-3 9-4 9 2 9-5 9 4 9-1 9 1 10-1 10 3 10-3 9-2 9 1 8 1 9 6 9 4 8 4 7 3 8 5 7 3 6 6 6 8 6 4 6 8 6 6 5 3 5 1 5 8 5 8 5 11 5 3 4 9 4 13 5 3 4 8 5 8 4 8 5 7 4 5 2 10 1 5 1 12 1 4 2 4 1 11 1 8 1 8 0 10 1 6 0 9 1 11 0 4 1 12 1 7 0 8 1 7 0 10M1608 1504l6-10 7-8 6-7 2-7 3-9 2-12 3-2 2-11 2-8 3-5 2-4 3-9 6-9 6-3 9-5 9 3 8-8 9-4 9-1 9 2 10-4 9-1 10-4 9 4 9-3 10-1 9-1 9 3 10 0 9-3 10 8 9 1 9-1 10-6 9 6 9-4 10-1 9 0 9 0 10-1 9-1 10-3 9-5 9 0 9 1 8-2 8-5 8-5 8-5 9 2 9-1 9 0 9 0 9-1 9 1 8 1 9 2 9 2 9 1 9 8 9-7 9 0 9-1 9 2 10-5 10 1 10-4 9 2 9-1 8-1 9 0 9-2 8 9 7 4 8 0 7 6 6 9 6 5 6 8 6 5 6 10 5 4 5 4 5 6 5 13 5 0 5 6 4 11 4 3 5 7 4 8 5 8 4 8 5 4 4 2 2 11 1 10 1 10 1 5 2 7 1 8 1 13 1 10 0 10 1 4 0 6 1 6 0 11 1 5 1 8 0 13 1 3 0 12" stroke="#f2a2af" stroke-width="2.2" fill="none" transform="scale(.5)"/><path d="M1608 1408l6-4 7-8 6-10 3-5 3-3 3-11 3-6 3-10 5-9 5 0 5-10 4-2 9-6 9 1 8-5 9-3 9 0 9-5 10 0 9 1 10-5 9-3 9 1 10 2 9 0 9 0 10-1 9-1 10 3 9-1 9 3 10 1 9-3 9 0 10 4 9-4 9 4 8-4 8-2 8-1 8 4 8-8 7-3 8 2 8 0 8-2 9-4 8 1 7-11 8 4 7-9 8-10 10-2 10-3 10-3 8-1 9 1 9 4 9-4 9-1 9-1 9-10 9 4 9-3 9-1 10-4 10-2 10 3 10 3 9-1 10 6 8 1 7 7 8 4 7 7 8 9 7 5 7 5 8 7 8 3 8 10 8 9 6 8 6 10 4 14 4 5 5 9 4 8 4 8 4 8 3 3 4 5 3 12 1 7 1 6 1 6 1 6 0 9 1 7 1 11 1 13 0 5 1 12 0 2 1 13 0 7M1608 1446l6-5 7-9 6-3 3-9 3-8 3-9 3-5 3-7 5-14 5-5 5-6 4-12 9-5 9-3 8-2 9-4 9-4 9-1 10-1 9 1 10-3 9 3 9 4 10 0 9 3 9 1 10 7 9 0 10 5 9-1 9 1 10 1 9-1 9-2 10 0 9-3 9-5 8-4 8-1 8-3 8 2 8-9 7 2 8-6 8-4 8-6 9-3 8-5 7-1 8-5 7-3 8-5 10 2 10 0 10-4 8 0 9 3 9 0 9 0 9 3 9 0 9-3 9 1 9 0 9-4 10-3 10-3 10-2 10 1 9 2 10 0 8 6 7 3 8 7 7 0 8 8 7 1 7 5 8 0 8 10 8 5 8 3 6 8 6 11 4 7 4 11 5 6 4 16 4 0 4 7 3 10 4 9 3 8 1 9 1 7 1 11 1 8 0 8 1 11 1 10 1 8 0 10 1 5 0 8 1 4 0 12M1608 1413l6-8 7-1 6-6 3-5 3-7 3-6 3-12 3-4 5-6 5-9 5-7 4-5 9-4 9 2 8-8 9 0 9-2 9 4 10-4 9-4 10 8 9-4 9 2 10-1 9 9 9 2 10-1 9-7 10 4 9 1 9-1 10-4 9 3 9 0 10-6 9-2 9-5 8-6 8 1 8-5 8-5 8 4 7-4 8-1 8-2 8-7 9 0 8-7 7-2 8-1 7-6 8-2 10-5 10 0 10-7 8 6 9-3 9 1 9 2 9-1 9-2 9 2 9-1 9-5 9 7 10-5 10-1 10-1 10 2 9 1 10 3 8 3 7 10 8 3 7 5 8 7 7 1 7 5 8 8 8 6 8 6 8 2 6 10 6 9 4 14 4 8 5 4 4 9 4 10 4 8 3 9 4 10 3 4 1 12 1 9 1 9 1 8 0 9 1 8 1 11 1 4 0 8 1 8 0 8 1 8 0 6M1608 1406l6-4 7-1 6-3 3-9 3-9 3-9 3-7 3-6 5-12 5-7 5 2 4-6 9-4 9-2 8 2 9-2 9 2 9-3 10-3 9 1 10-5 9-2 9 6 10 0 9 0 9 4 10-1 9 0 10-2 9-6 9 3 10-3 9-6 9 4 10-8 9-4 9 3 8-6 8 0 8-1 8-5 8-3 7 0 8-8 8-1 8-2 9-2 8 1 7 1 8-5 7-4 8-2 10-1 10 0 10-5 8-3 9 7 9-4 9 1 9 1 9-2 9 2 9-5 9-5 9 6 10-4 10 3 10 1 10-3 9 3 10-1 8 5 7 5 8 0 7 2 8 9 7-3 7 5 8 4 8 12 8 5 8 4 6 16 6 5 4 9 4 9 5 6 4 7 4 6 4 3 3 11 4 7 3 4 1 5 1 10 1 7 1 14 0 5 1 8 1 8 1 6 0 9 1 6 0 11 1 6 0 8M1608 1409l6-6 7-5 6-8 3-9 3-7 3-3 3-11 3-4 5-7 5-4 5-8 4-7 9-2 9-4 8-2 9-1 9-6 9 5 10-5 9 0 10 2 9 3 9-3 10-1 9 9 9 3 10-1 9 1 10 2 9-3 9 6 10 0 9-1 9-2 10-3 9-2 9-6 8 2 8-2 8-2 8-3 8 2 7-1 8-4 8-4 8 1 9-5 8 4 7-4 8-8 7-7 8-6 10 2 10-8 10-3 8-4 9-2 9-1 9-1 9-4 9 3 9-6 9-2 9-2 9 4 10-1 10-2 10-1 10-3 9 8 10 1 8 3 7 4 8 2 7 4 8 0 7 8 7 8 8 2 8 8 8 12 8 9 6 11 6 10 4 12 4 15 5 5 4 6 4 5 4 11 3 13 4 4 3 6 1 11 1 6 1 9 1 9 0 7 1 6 1 7 1 7 0 12 1 3 0 9 1 8 0 16M1608 1390l6-4 7-9 6-4 3-12 3-5 3-11 3-6 3-8 5-6 5-8 5-3 4-11 9-2 9-5 8-3 9 1 9-6 9-1 10-6 9-3 10 4 9-3 9 1 10 0 9-1 9 7 10-1 9 3 10 1 9 5 9 0 10 3 9-2 9-1 10-1 9 5 9-2 8-1 8 0 8 0 8-5 8-4 7-3 8-3 8 0 8-4 9-6 8-2 7-2 8-1 7-4 8-3 10 0 10-7 10-6 8 5 9-3 9-1 9 2 9 2 9-5 9 2 9-6 9-8 9-2 10-3 10-1 10 1 10-6 9 2 10 4 8 2 7 7 8 5 7 8 8 5 7 8 7-1 8 4 8 7 8 8 8 6 6 18 6 1 4 14 4 11 5 8 4 8 4 10 4 10 3 4 4 10 3 8 1 14 1 3 1 9 1 9 0 7 1 5 1 11 1 12 0 4 1 10 0 8 1 7 0 12M1608 1428l6 2 7-6 6-7 3-12 3-7 3-3 3-9 3-12 5-2 5-7 5-6 4-5 9 1 9-6 8-2 9-2 9 0 9-5 10-3 9 2 10 2 9-10 9-1 10 0 9 0 9 0 10 0 9 3 10 1 9 1 9-1 10 1 9-4 9-3 10 2 9-1 9-1 8-3 8 1 8 0 8-3 8 0 7-4 8 2 8 2 8-3 9 0 8-3 7-2 8-2 7-5 8-3 10-3 10-5 10 0 8 1 9-6 9 0 9 2 9-4 9-3 9-8 9-3 9-1 9-2 10-5 10 3 10-5 10 1 9-3 10 7 8 6 7 1 8 3 7 0 8 9 7 7 7 3 8 3 8 5 8 9 8 8 6 14 6 11 4 8 4 11 5 10 4 13 4 7 4 8 3 4 4 9 3 14 1 5 1 6 1 9 1 8 0 12 1 3 1 10 1 8 0 9 1 6 0 6 1 7 0 5M1608 1415l6-3 7-8 6-8 3-3 3-6 3-11 3-2 3-10 5-4 5-10 5-1 4-9 9 1 9 0 8 1 9-2 9-3 9 2 10 1 9-3 10-4 9 6 9-2 10-3 9 1 9-4 10 3 9-3 10-7 9 0 9-1 10 0 9-5 9 5 10-4 9 1 9 4 8-1 8-2 8 0 8 4 8 1 7-5 8 0 8-5 8 0 9-7 8-3 7-3 8-6 7-1 8-6 10-3 10-6 10-6 8 3 9 1 9-4 9 0 9-2 9-4 9 3 9-3 9 1 9 0 10-1 10 3 10-2 10 5 9 1 10 0 8 8 7 1 8 5 7 3 8 4 7 3 7 0 8 10 8 6 8-1 8 8 6 12 6 9 4 8 4 9 5 7 4 11 4 9 4 5 3 7 4 5 3 8 1 11 1-1 1 8 1 10 0 10 1 7 1 11 1 3 0 10 1 10 0 6 1 10 0 12M1608 1436l6-5 7-9 6-3 3-8 3-9 3-8 3-12 3-7 5-7 5-6 5-7 4-11 9 0 9 3 8-9 9-2 9 1 9-4 10 1 9-4 10-4 9 3 9-4 10 2 9 3 9 7 10-7 9 8 10-6 9 3 9 0 10-1 9 3 9 3 10-1 9-6 9 1 8-2 8-1 8-2 8-2 8 1 7-2 8-2 8-3 8 3 9-5 8 0 7-1 8-2 7-5 8 0 10-2 10-4 10-2 8 1 9-3 9-2 9 0 9-2 9 1 9 0 9-3 9-2 9-5 10-5 10-3 10 0 10 0 9-2 10-2 8 3 7 7 8 2 7 6 8 1 7 7 7 1 8 9 8 0 8 12 8 8 6 7 6 8 4 13 4 8 5 8 4 11 4 10 4 4 3 3 4 9 3 12 1 4 1 11 1 10 1 5 0 9 1 10 1 3 1 9 0 6 1 14 0 8 1 11 0 5M1608 1429l6-7 7 1 6-8 3-13 3-5 3-6 3-9 3-6 5-5 5-10 5-10 4-6 9 1 9-4 8-2 9-3 9-1 9-2 10 0 9-4 10-1 9-2 9 7 10 4 9 0 9 7 10-3 9 0 10 2 9-4 9 8 10-1 9-5 9 2 10 0 9-2 9 0 8-1 8 0 8-2 8-4 8 3 7-1 8-3 8 1 8-7 9-2 8-1 7-5 8 2 7-5 8-3 10-1 10-11 10-2 8 2 9-3 9-4 9 1 9-4 9-2 9 2 9-7 9-6 9 2 10-1 10 1 10-4 10 1 9 3 10-1 8 3 7 2 8 2 7 6 8 8 7 6 7 12 8 2 8 5 8 4 8 8 6 12 6 7 4 10 4 8 5 8 4 8 4 8 4 8 3 11 4 0 3 7 1 11 1 9 1 4 1 15 0 9 1 9 1 11 1 3 0 10 1 8 0 10 1 10 0 5M1608 1439l6-3 7-7 6-1 3-11 3-7 3-6 3-10 3-6 5-10 5-3 5-10 4-5 9-1 9 4 8-7 9 3 9-3 9-4 10 3 9-1 10-2 9-5 9 4 10-2 9 1 9-3 10 1 9-3 10 1 9-1 9-1 10 0 9 1 9-1 10-1 9 3 9-8 8-4 8-5 8 1 8-2 8-2 7-1 8 2 8-2 8 2 9 1 8-4 7 1 8-5 7-4 8-5 10 4 10-5 10 2 8 5 9 2 9 3 9-8 9-4 9 1 9-5 9 0 9-5 9 2 10-5 10-1 10-6 10 4 9-6 10 2 8-4 7 3 8 5 7 5 8 3 7 6 7 3 8 7 8 6 8 4 8 6 6 10 6 7 4 13 4 12 5 8 4 10 4 8 4 4 3 13 4 8 3 9 1 8 1 5 1 12 1 2 0 11 1 7 1 11 1 7 0 7 1 9 0 6 1 9 0 9M1608 1428l6-5 7 1 6-13 3-5 3-7 3-10 3-7 3-5 5-4 5-10 5-5 4-6 9-2 9 1 8-12 9-3 9-4 9-5 10-1 9 3 10-3 9-3 9-1 10 6 9-3 9 0 10 8 9-4 10 0 9 1 9 0 10 3 9 2 9-1 10 1 9-2 9 5 8 0 8 0 8-2 8-1 8-7 7 5 8-5 8 0 8-1 9-4 8-5 7-1 8-8 7-4 8-2 10-5 10-8 10-5 8 2 9-2 9-1 9-3 9-4 9 0 9 1 9-5 9-3 9 1 10 3 10 2 10 1 10-1 9 8 10 2 8 1 7 4 8 7 7 8 8 3 7 6 7 6 8 7 8 4 8 2 8 1 6 14 6 10 4 4 4 12 5 7 4 6 4 5 4 10 3 5 4 6 3 8 1 6 1 7 1 7 1 8 0 7 1 10 1 8 1 9 0 8 1 10 0 7 1 6 0 8M1608 1429l6-6 7-2 6-7 3-8 3-7 3-8 3-12 3-6 5-11 5-6 5-9 4-4 9-5 9-4 8-7 9-2 9-4 9 5 10-7 9-4 10 0 9-5 9 5 10 6 9 3 9 1 10 5 9-2 10 6 9-2 9 3 10 0 9 2 9-8 10 2 9 1 9-8 8-2 8-3 8-7 8 1 8-7 7-3 8 1 8-2 8-6 9-4 8 3 7-10 8 5 7-7 8-2 10 0 10 4 10-2 8 0 9 0 9 0 9 4 9-1 9 2 9-4 9 2 9-5 9-5 10-6 10-2 10-2 10-2 9-4 10 1 8 8 7-1 8 4 7 3 8 8 7 8 7 4 8 7 8 7 8 9 8 7 6 11 6 10 4 9 4 13 5 7 4 7 4 7 4 8 3 8 4 7 3 9 1 9 1 9 1 8 1 6 0 10 1 11 1 7 1 14 0 8 1 3 0 15 1 4 0 6M1608 1431l6-5 7-3 6-10 3-6 3-9 3-4 3-10 3-9 5-4 5-9 5-5 4-13 9 3 9-3 8-9 9 2 9 0 9-7 10 4 9-1 10-5 9-6 9-1 10 0 9 8 9 0 10-3 9 3 10-2 9 3 9 3 10-1 9 4 9-3 10 5 9-1 9 0 8 4 8-1 8-3 8-7 8-1 7-5 8 4 8-4 8 0 9 1 8-4 7-5 8-6 7-6 8-3 10-8 10-2 10-4 8 2 9 0 9-2 9-4 9-1 9-1 9-1 9-1 9-3 9 0 10-2 10 3 10-3 10 4 9 3 10 2 8 6 7 5 8 6 7 2 8 6 7 2 7 3 8-1 8 4 8 8 8 7 6 12 6 6 4 15 4 1 5 9 4 9 4 5 4 10 3 8 4 8 3 5 1 11 1 7 1 8 1 11 0 8 1 7 1 9 1 3 0 14 1 4 0 8 1 9 0 5M1608 1438l6-11 7-3 6-5 3-10 3-9 3-7 3-8 3-5 5-13 5-6 5-7 4-9 9-3 9 0 8-4 9-1 9-5 9-5 10 3 9 1 10-5 9 0 9-3 10 3 9 7 9 2 10 4 9 0 10 0 9 7 9-7 10 7 9-3 9-1 10-2 9-5 9 2 8-2 8 0 8 0 8-5 8-3 7-7 8-8 8 0 8-4 9-4 8-7 7 1 8-9 7-4 8-5 10-1 10-2 10-6 8 2 9 3 9-1 9 4 9-4 9-1 9 3 9-3 9 0 9 1 10 3 10-1 10-3 10 3 9 4 10 3 8-2 7 9 8 4 7 6 8 3 7 3 7 9 8 1 8 6 8 6 8 3 6 11 6 15 4 8 4 4 5 4 4 12 4 6 4 13 3 3 4 3 3 10 1 7 1 9 1 3 1 12 0 5 1 4 1 12 1 11 0 6 1 6 0 7 1 12 0 8M1608 1410l6-7 7-3 6-9 3-7 3-11 3-10 3-6 3-7 5-12 5-4 5-5 4-5 9-9 9-4 8-3 9-4 9-4 9 1 10-7 9 6 10-4 9 3 9 0 10-2 9 2 9 5 10 3 9 0 10 5 9-5 9 8 10 4 9-2 9-2 10-5 9-2 9-1 8 0 8-3 8 0 8 2 8-4 7 4 8-3 8 0 8-1 9-2 8-2 7-5 8-2 7-2 8-5 10 0 10-5 10-3 8 0 9-1 9 0 9 2 9-5 9 1 9-6 9-3 9-1 9-1 10-6 10-3 10 1 10 0 9-2 10 6 8 0 7 4 8 0 7 8 8 0 7 5 7 9 8 2 8 7 8 8 8 6 6 8 6 14 4 5 4 12 5 6 4 14 4 5 4 4 3 6 4 9 3 6 1 11 1 5 1 8 1 12 0 7 1 5 1 9 1 11 0 9 1 9 0 6 1 11 0 10M1608 1420l6-16 7 0 6-12 3-2 3-9 3-5 3-10 3-10 5-5 5-6 5-5 4-11 9-2 9 1 8-1 9-4 9 0 9 6 10-2 9-4 10-2 9 3 9-2 10 9 9-4 9 3 10 4 9 6 10-2 9-4 9 3 10-1 9-1 9-5 10 1 9-1 9 4 8-6 8 3 8-2 8-2 8-4 7-1 8-1 8-8 8 0 9-4 8 0 7-4 8-7 7-1 8-7 10-4 10 2 10-9 8 2 9-2 9 0 9-3 9-4 9-2 9-3 9 2 9-3 9 2 10-4 10 1 10-5 10 3 9 0 10 3 8 8 7 1 8 1 7 3 8 11 7 2 7 7 8 3 8 7 8 5 8 10 6 13 6 12 4 6 4 9 5 11 4 10 4 9 4 6 3 5 4 7 3 16 1 6 1 6 1 7 1 6 0 10 1 11 1 6 1 12 0 8 1 8 0 6 1 8 0 13M1608 1405l6-3 7-3 6-12 3-8 3-4 3-9 3-9 3-6 5-5 5-11 5-6 4-9 9-2 9 5 8-3 9-2 9 3 9 0 10 3 9 0 10 1 9 3 9 2 10-1 9-1 9 3 10-2 9 1 10-3 9-2 9-2 10 1 9 0 9 1 10-7 9 1 9-7 8 0 8-5 8-5 8-3 8 1 7-2 8-1 8-3 8 2 9-6 8-4 7 3 8-6 7-3 8 0 10-4 10 0 10-3 8 0 9-3 9 2 9-3 9 6 9-4 9 2 9 0 9-1 9-4 10-1 10-1 10 1 10-2 9 2 10-3 8 2 7 4 8 2 7 4 8 0 7 5 7 3 8 4 8 6 8 9 8 4 6 11 6 7 4 12 4 8 5 18 4 2 4 7 4 11 3 2 4 9 3 5 1 11 1 9 1 9 1 12 0 2 1 11 1 5 1 7 0 5 1 11 0 5 1 12 0 7" stroke="#d35a62" stroke-width="2.2" fill="none" transform="scale(.5)"/><path d="M1608 1303l9-7 10-8 7-7 7-7 7-4 7-9 9-1 10 3 9-3 10-3 9 1 9 1 11 2 10 1 10 4 9-3 8-3 9 0 7 3 8-3 8-2 8-3 8-7 7 2 8-1 8 1 8-2 9-5 8 0 11-9 11 0 15-5 10 6 9-1 8 1 8-5 7-4 7-2 7-6 7-6 8 1 9-11 8-2 7-3 8-2 7-15 8 0 9-6 9 2 9-3 8-3 9-3 9-8 9-2 9-1 9 1 9-1 9-1 9-7 9 3 9-9 9 1 10-3 9-2 10-4 11 5 10-5 8 8 8 2 8 10 15 4 7 7 8 1 7 5 8 7 7 7 8 7 4 8 5-1 5 8 5 13 4 10 5 13 5 2 5 10 2 6 1 9 2 9 1 10 2 13 1 12M1608 1310l9-6 10-5 7 0 7-11 7-9 7-5 9 5 10 5 9 1 10 0 9 3 9 7 11-3 10-1 10 1 9-4 8-1 9-5 7-3 8-1 8-10 8 4 8-10 7-2 8-4 8 1 8-2 9-2 8-5 11-3 11-5 15 2 10 5 9 1 8-5 8 4 7-4 7-5 7-4 7-8 8-3 9-4 8-3 7-11 8-4 7-6 8-6 9-3 9 1 9-7 8-4 9-2 9-3 9-2 9-3 9-1 9 2 9-6 9 6 9-4 9-3 9 7 10-5 9 2 10-3 11 5 10 2 8 3 8 1 8 2 15 5 7 7 8-3 7 10 8 3 7 1 8 6 4 9 5 7 5 2 5 12 4 6 5 5 5 12 5 3 2 13 1 3 2 13 1 8 2 12 1 6M1608 1347l9 3 10-7 7-5 7-8 7-10 7-2 9 0 10-1 9 0 10 3 9 3 9 1 11 3 10 2 10-3 9 0 8 3 9-4 7-6 8-3 8-1 8-3 8-8 7-1 8-6 8-3 8-4 9-4 8-2 11-10 11 6 15-6 10 0 9 6 8-8 8-8 7 3 7-10 7-5 7-7 8-3 9-4 8-4 7 0 8-10 7 2 8-8 9 3 9-5 9-2 8 0 9 0 9 0 9 1 9 2 9-7 9-2 9 1 9-5 9-3 9 0 9 0 10-4 9-1 10-1 11 1 10 3 8 0 8 2 8 1 15 5 7 0 8 6 7 9 8 1 7 8 8 7 4 3 5 8 5 12 5 2 4 14 5 8 5 12 5 2 2 12 1 5 2 14 1 3 2 14 1 15M1608 1292l9-1 10-8 7-5 7-10 7-8 7-4 9 3 10-6 9-1 10 4 9-3 9 3 11 0 10 5 10 3 9-5 8 1 9 0 7 1 8-4 8 3 8-5 8-2 7-4 8 1 8-4 8-2 9-1 8-2 11-4 11-1 15-1 10 0 9 2 8-7 8-4 7 0 7-8 7-9 7-5 8-2 9-6 8-6 7 2 8-11 7-4 8-6 9-5 9 3 9-8 8-2 9 3 9-3 9-1 9-6 9-1 9-3 9-4 9 3 9-6 9 1 9-10 10 2 9 2 10-8 11 3 10 5 8 5 8 5 8 3 15 6 7 7 8 4 7 6 8 10 7 2 8 5 4 6 5 10 5 3 5 12 4 10 5 6 5 6 5 10 2 7 1 10 2 12 1 5 2 17 1 9M1608 1327l9-4 10-5 7-3 7-9 7-5 7-4 9-6 10-2 9 0 10-2 9 0 9 2 11 1 10-3 10-3 9 2 8-4 9-2 7 1 8 0 8 3 8-7 8-2 7 0 8-3 8 1 8-4 9-8 8 2 11-8 11-2 15 3 10 6 9-3 8 0 8-3 7-7 7-5 7-9 7-6 8-8 9-1 8-10 7 0 8-11 7-7 8-8 9 3 9 1 9 1 8-2 9 3 9-5 9 2 9 0 9-3 9-4 9 3 9-1 9 0 9-3 9-2 10-2 9-4 10-4 11 6 10-1 8-3 8-3 8 9 15 0 7 4 8 8 7 5 8 3 7 14 8 3 4 1 5 17 5 8 5 5 4 14 5 6 5 10 5 8 2 7 1 7 2 7 1 12 2 4 1 15M1608 1339l9-4 10-9 7 2 7-11 7-9 7-11 9 6 10-3 9-2 10 1 9-1 9 4 11-2 10-6 10 4 9-2 8-1 9 1 7-4 8-4 8-1 8-6 8 1 7-8 8 2 8-10 8 0 9-3 8-5 11-7 11-6 15 0 10 5 9-3 8-4 8 0 7-5 7 3 7-6 7 1 8-4 9-6 8-7 7-6 8-2 7-10 8 1 9-2 9 0 9-1 8 0 9 1 9-2 9 2 9 1 9-4 9-1 9 1 9-1 9-6 9 0 9-2 10-6 9-9 10-1 11-1 10 3 8 5 8 3 8 4 15 6 7 4 8 5 7 5 8 1 7 5 8 6 4 4 5 11 5 5 5 11 4 8 5 5 5 6 5 7 2 6 1 13 2 6 1 12 2 11 1 10M1608 1347l9 0 10-11 7-2 7-6 7-10 7-12 9 0 10-4 9 5 10-3 9 1 9 2 11-3 10 2 10 6 9-5 8 1 9-7 7 1 8-4 8 0 8-10 8 1 7-3 8-5 8 0 8-5 9-2 8-8 11-4 11-7 15 5 10-3 9 7 8-4 8-5 7-2 7-5 7-9 7-2 8-5 9-3 8-6 7 0 8-9 7-3 8-3 9 2 9-5 9 2 8-3 9 0 9-1 9 2 9-7 9 0 9 1 9-1 9-3 9-5 9-4 9-2 10 3 9 0 10-4 11 2 10 3 8 3 8 6 8 3 15 0 7 6 8 5 7-2 8 8 7 4 8 6 4 12 5 5 5 11 5 8 4 5 5 10 5 6 5 5 2 10 1 4 2 12 1 11 2 12 1 8M1608 1348l9-8 10-4 7-4 7-7 7-6 7-5 9 3 10-3 9 1 10 3 9 3 9 7 11 0 10 0 10 2 9-6 8 0 9-4 7-3 8-1 8-1 8-7 8 0 7-4 8-2 8-5 8-4 9 1 8-9 11-1 11-13 15 1 10-2 9 1 8-1 8-3 7-7 7 1 7-14 7-3 8-10 9-7 8-4 7 1 8-7 7-9 8-1 9 2 9-4 9 5 8-7 9-2 9-2 9-2 9 4 9-4 9 4 9-4 9-1 9-7 9 0 9 6 10-3 9-4 10 6 11 2 10 3 8 3 8 6 8 3 15 3 7 1 8 9 7 4 8 10 7 3 8 10 4 6 5 6 5 11 5 6 4 7 5 8 5 4 5 6 2 5 1 6 2 12 1 9 2 13 1 6M1608 1340l9-6 10-4 7-13 7-9 7-4 7-12 9 4 10 0 9-3 10-1 9 1 9-1 11-2 10 3 10-1 9 1 8-2 9 1 7 0 8-4 8 4 8-2 8 1 7-5 8-2 8-2 8-3 9-8 8-2 11-5 11-8 15 1 10-1 9 0 8-2 8 0 7-8 7-7 7-6 7-6 8-3 9-1 8-6 7-4 8-3 7-10 8-4 9 1 9 1 9 3 8-1 9 2 9-4 9 1 9 2 9-5 9 2 9-2 9-6 9-1 9-7 9-1 10-4 9-6 10 0 11 4 10 2 8 4 8 3 8-3 15 6 7 7 8 8 7 2 8 6 7 11 8 3 4 10 5 8 5 8 5 7 4 4 5 7 5 8 5 14 2 8 1 9 2 8 1 10 2 7 1 14M1608 1324l9-2 10-9 7-9 7-6 7-14 7-6 9 2 10-3 9 0 10 3 9 0 9 0 11 0 10 1 10 6 9-1 8 1 9 1 7-5 8 3 8 0 8-6 8 3 7-7 8-7 8 4 8-3 9-6 8-5 11-7 11-3 15-1 10 0 9-1 8 0 8-8 7-8 7-5 7-7 7-4 8-8 9-6 8-2 7-5 8-4 7-4 8-8 9 1 9 4 9-1 8 2 9-2 9 3 9 1 9-6 9 2 9 3 9 0 9-1 9-8 9 2 9-8 10-4 9 3 10-7 11 0 10 1 8 2 8 5 8 1 15 7 7 7 8 6 7 3 8 5 7 8 8 10 4 9 5 4 5 9 5 2 4 6 5 9 5 8 5 5 2 11 1 8 2 14 1 3 2 14 1 17M1608 1332l9-1 10-8 7-9 7-7 7-7 7-7 9-4 10 1 9-2 10-2 9 0 9-6 11-2 10 4 10-2 9-1 8 2 9-4 7-2 8 2 8-8 8 5 8 0 7-4 8 2 8-7 8 1 9-3 8 4 11-3 11-4 15 2 10-2 9 5 8-2 8-1 7-6 7-9 7-7 7-6 8 1 9-11 8 3 7-5 8-9 7-5 8-8 9-4 9-3 9-7 8 0 9-1 9-9 9 7 9-2 9-6 9 2 9-4 9-1 9-1 9-3 9 0 10 0 9 0 10 0 11 3 10 3 8 4 8 6 8-2 15 9 7 9 8 4 7 5 8 6 7 6 8-2 4 13 5 10 5 6 5 9 4 3 5 7 5 7 5 9 2 7 1 14 2 11 1 7 2 15 1 5M1608 1329l9-4 10-5 7-13 7-7 7-9 7-6 9-5 10-1 9-4 10 1 9 3 9-2 11 3 10 0 10 7 9-2 8-4 9 4 7-2 8-2 8-2 8 2 8-3 7-1 8-3 8 1 8-7 9-1 8-7 11-7 11 1 15-4 10 3 9-1 8-5 8 0 7-8 7-8 7-7 7-12 8-7 9-4 8-2 7-9 8-4 7-5 8-5 9 3 9-1 9 5 8 0 9 0 9-1 9-2 9 4 9-2 9-3 9 0 9 3 9-9 9 4 9 0 10-5 9-5 10-1 11 4 10-4 8 8 8 0 8 4 15 1 7 7 8 3 7 7 8 3 7 5 8 6 4 2 5 15 5 3 5 10 4 3 5 12 5 9 5 8 2 10 1 12 2 8 1 13 2 7 1 9M1608 1324l9-4 10-12 7-5 7-5 7-4 7-7 9 2 10-4 9 3 10 0 9 0 9 6 11-1 10 3 10 7 9-10 8 4 9 6 7-6 8 0 8-5 8-1 8-4 7 1 8-1 8-5 8-9 9 3 8-5 11-9 11-3 15 2 10 0 9-2 8-5 8-2 7 0 7-12 7-5 7-4 8-5 9-2 8-10 7-6 8-5 7-9 8-3 9 0 9-3 9 0 8-2 9-1 9 4 9-3 9 0 9-2 9 5 9-6 9-1 9-1 9-1 9 1 10 0 9-2 10-2 11 3 10 6 8 3 8 0 8 5 15 4 7 1 8 6 7 4 8 7 7 6 8 9 4 5 5 6 5 3 5 1 4 14 5 2 5 11 5 3 2 13 1 7 2 13 1 10 2 11 1 12M1608 1323l9-3 10-8 7-5 7-3 7-12 7-7 9-3 10 6 9-2 10 0 9 0 9-1 11-1 10 0 10 1 9-6 8 5 9-9 7-1 8-1 8-5 8 1 8 1 7-4 8-7 8-2 8-3 9-2 8 0 11-3 11-7 15 2 10 3 9 1 8 4 8-9 7-3 7-3 7-7 7-5 8-6 9-6 8-4 7-7 8-8 7-8 8-6 9-4 9 2 9-1 8-1 9-5 9-5 9 0 9-3 9-1 9-4 9 0 9-8 9 1 9 0 9 0 10 0 9 1 10 1 11 4 10 7 8 3 8 2 8 4 15 8 7 3 8 13 7 0 8 7 7 5 8 0 4 8 5 8 5 8 5 8 4 4 5 8 5 6 5 8 2 12 1 6 2 11 1 12 2 5 1 12" stroke="#d35a62" stroke-width="2.2" fill="none" transform="scale(.5)"/><path d="M1768 1253l6-3 6-4 6-10 7-4 6-7 8-5 7-5 8-2 8-5 8-8 9-5 8-6 11-6 11-2 8 2 7-5 10 7 9 5 16-5 5 0 6-13 6-6 5-6 6-10 6-6 7-3 6-5 6-3 7-6 8-1 7-6 8-6 9 0 9-1 9 6 8-3 9 3 9-2 9 0 9-3 9-4 9-3 9 3 9 2 9-2 9-1 9-2 10-4 9 1 10-4 11 8 10 5 8 3 8-5 8 7 8 4 7 1 7 7 8 4 7 5 8 7 7 5 8 6 6 3 6 5 5 6 6 5 4 5 4 12 4 8 3 9 2 6 1 18 1 8 1 3 1 10 2 8 1 10 1-10 1-7 1-9 1-7 1-10 1-6 2 7 2 11 1 5 2 10 2 7 1 9 2 11M1768 1276l6 0 6-7 6-6 7-5 6-5 8-4 7-3 8 0 8-4 8 0 9-9 8-9 11-6 11-5 8 0 7 3 10 10 9 3 16-2 5-13 6-2 6-11 5-7 6-10 6 1 7-13 6-1 6-14 7 1 8-6 7-5 8-9 9 8 9 2 9 2 8 3 9 2 9-1 9-4 9 2 9-1 9-3 9-1 9-6 9-1 9-2 9-1 10-6 9-4 10-4 11-1 10 2 8-3 8 2 8 11 8-4 7 8 7 2 8 6 7 5 8 7 7 9 8 9 6 4 6 8 5 4 6 5 4 9 4 14 4 7 3 7 2 13 1 12 1 6 1 9 1 8 2 9 1 10 1-8 1-3 1-7 1-16 1-6 1-8 2 9 2 6 1 16 2 7 2 3 1 7 2 11M1768 1307l6-4 6-9 6-6 7-2 6-10 8-5 7-7 8-3 8-4 8-9 9-7 8-6 11-4 11-5 8 7 7 1 10 12 9 5 16 0 5-10 6-10 6-6 5-7 6-4 6-4 7-6 6 1 6-5 7-6 8-7 7-2 8-12 9 6 9-4 9 3 8-2 9 0 9-2 9-9 9-2 9 1 9-6 9-1 9-5 9-1 9-2 9 3 10 2 9-6 10-2 11 8 10 8 8 3 8 4 8 5 8 5 7-1 7 12 8 11 7 7 8 5 7 9 8 1 6 0 6 5 5 6 6 5 4 12 4 3 4 8 3 8 2 5 1 9 1 6 1 11 1 1 2 19 1 9 1-9 1-12 1-9 1-10 1-4 1-11 2 13 2 11 1 4 2 3 2 7 1 14 2 4M1768 1262l6-4 6-4 6-1 7-8 6-13 8 1 7-7 8-3 8-6 8-10 9-4 8-5 11-3 11 0 8 1 7 3 10 8 9 9 16-5 5-4 6-7 6-9 5-11 6-9 6-5 7 1 6-8 6-7 7-4 8-11 7-5 8-3 9 1 9-1 9 7 8-7 9 1 9 4 9-9 9-4 9-4 9 0 9 3 9-3 9-1 9-3 9-4 10-3 9-2 10-4 11 2 10 2 8 5 8 2 8 3 8 5 7 5 7 6 8 12 7 4 8 6 7 9 8 3 6 6 6 8 5 5 6 6 4 6 4 9 4 8 3 5 2 6 1 15 1 6 1 9 1 6 2 7 1 15 1-9 1-7 1-8 1-9 1-11 1-4 2 11 2 5 1 7 2 9 2 10 1 12 2 5M1768 1279l6-7 6-4 6-6 7-8 6-8 8-6 7 1 8-5 8-3 8-5 9-10 8-6 11-1 11-9 8 8 7 1 10 9 9 7 16-1 5-10 6-8 6-3 5-12 6-9 6 0 7-7 6 0 6-2 7-3 8-12 7-4 8-3 9-2 9-1 9 2 8 4 9-5 9 0 9-3 9-5 9-6 9-2 9 2 9-4 9 0 9-4 9-2 10-11 9-3 10 4 11 0 10 2 8 8 8 4 8 1 8 1 7 7 7 8 8 9 7 5 8 8 7 6 8 7 6 5 6 5 5 4 6 9 4 10 4 9 4 4 3 8 2 9 1 9 1 9 1 9 1 12 2 14 1 10 1-9 1-8 1-4 1-11 1-7 1-11 2 7 2 1 1 14 2 9 2 6 1 11 2 4" stroke="#8a1a24" stroke-width="2.2" fill="none" transform="scale(.5)"/><path d="M1798 1185l7-8 7-8 7-5 7-4 7 1 7-16 8 3 9-6 9-5 8-6 9 0 10 8 9-5 9 13 10-4 9 2 9 8 8-14 8-9 7-3 8-4 7-5 8-3 7-4 8 0 9-8 8 0 9-1 8-4 9-3 8-2 9-1 9-1 8-4 9 2 8-9 9 0 9 5 8-5 9 0 8 3 9-6 8-2 9-4 8-4 9-2 8-3 9-3 9 2 9 1 9-1 9-4 6 13 7 2 6 6 6 6 7 3 6-3 7 10 5 3 5 4 4 11 5 5 5 7 5 11 4 6 3 14 3 3 4 8 3 6 3 10 4 9 3 8 3 11M1798 1183l7-4 7-3 7-3 7-5 7 2 7-9 8-1 9-7 9-8 8-4 9 0 10 1 9-3 9 2 10-10 9 2 9-6 8 0 8-8 7 0 8 0 7-12 8-4 7-2 8-2 9-3 8 4 9 0 8-5 9-9 8 0 9 3 9-10 8-1 9 1 8-1 9-5 9 0 8-6 9 3 8-7 9-2 8-6 9-3 8-4 9 5 8 1 9-1 9 6 9 1 9 6 9-4 6 9 7 7 6 1 6 6 7 7 6 4 7 7 5 6 5 4 4 10 5 5 5 13 5 6 4 9 3 10 3 11 4-1 3 8 3 12 4 7 3 8 3 4M1798 1198l7 0 7-8 7-7 7 3 7-6 7 0 8-10 9-15 9-1 8-3 9-4 10 0 9 0 9 6 10-8 9 2 9 5 8 1 8-14 7-5 8-3 7-10 8 0 7-5 8-7 9-1 8-4 9-4 8-1 9-6 8 0 9-1 9-5 8-5 9 3 8 7 9-3 9-5 8 1 9 0 8 4 9-1 8-3 9 0 8 3 9-7 8 4 9-2 9-1 9 1 9 5 9-6 6 10 7-3 6 11 6 1 7 6 6 6 7 3 5 9 5 8 4 8 5 5 5 3 5 6 4 11 3 10 3 12 4 8 3 8 3 3 4 18 3 3 3 13" stroke="#8a1a24" stroke-width="2.2" fill="none" transform="scale(.5)"/><path d="M1614 1222l16-6 14 14 26 6 30 20 24 24" stroke="#8a1a24" stroke-width="2.2" fill="none" transform="scale(.5)"/><path d="M1608 1488l3-7 3-2 4-3 5-7 4-7 2-7 1-3 2-5 2-3 2-11 2-7 2-5 2-8 2-5 2-5 1-6 2-7 3-7 3-3 6-5 5-3 5-2 7-2 6-5 7 0 7 2 7-2 7 2 6-3 7-1 7-1 6-2 7-1 7 2 7-4 6 3 7 1 7-1 6 0 7 6 7 1 6 0 7 1 7 0 7-2 6 2 7 4 7 0 6 1 7 0 7-1 6-5 7 3 7 1 6 0 7-3 7-2 7 3 7-4 6 1 7-1 6-1 6-2 6 2 6-7 6 1 5-6 6 4 6-1 6-5 6 0 7-1 6-1 7-1 6-1 7 2 6-1 6 3 7 1 6-4 6-1 7 2 6-1 7 1 6-2 7-1 7 1 6-1 6-6 6-1 7 1 5-2 5 1 6 0 7-2 5-2 7-2 7 1 6 2 7 2 7 3 5 2 7 1 6 1 6 3 5 5 6 3 4 5 5 3 4 4 4 2 4 2 5 9 4 3 4 5 4 5 4 5 4 10 3 8 4 4 3 2 4 9 4 6 4 3 3 8 3 7 3 6 4 4 4 3 4 9 3 5 3 6 2 3 1 7 1 6 1 4 1 7 1 5 1 9 0 6 1 12 1 2 0 7 1 7 0 9 1 6 0 7 1 7 0 8 1 6 0 6 0 4 1 7 0 3 0 6" stroke="#f4a8b4" stroke-width="12" fill="none" stroke-linejoin="round" transform="scale(.5)"/><path d="M1608 1369l5-2 7-2 7-3 3-5 3-9 3-7 3-5 3-7 4-4 4-5 5-6 6-3 5-2 6 0 6 1 7-3 7-1 6 3 7-1 7 0 6-3 7-1 7-2 6 3 7 3 7 3 7 1 6 0 7 4 7 0 6 0 7 0 7 0 6-2 7 1 7 0 7 1 6-1 7-4 7-1 6-1 6-2 6-1 6-2 6-2 6-5 5-2 5 0 8 0 6-2 6-4 6-3 6-3 6-3 7-1 6-5 6-1 6-2 7 1 6-2 6 2 6-3 5-4 5 0 5-6 5-5 5-5 5-3 6-2 5 2 6-3 6-6 7-3 5-4 6 0 7 1 6 2 7-1 7 2 6 0 7-1 6 0 7-6 7-2 6-1 6 1 6 2 7-6 6 2 5-4 6-1 6-1 7-2 8 1 7 2 7-1 6 4 6 2 6 5 6 4 6 0 6 3 6 5 6 3 6 1 6-1 7 2 6 6 6-2 5 3 3 3 3 5 2 9 4 4 2 6 2 4 3 9 2 5 3 6 3 2 2 4 5 6 5 3 5 5 3 2 2 8 1 4 1 5 0 9 1 7 1 8 0 8 1 9 0 7 1 12 0 5 0 4 1 7 0 8 0 5" stroke="#d0525a" stroke-width="12" fill="none" stroke-linejoin="round" transform="scale(.5)"/><path d="M1608 1284l5-2 6-5 8-4 5-4 5 1 6-6 6-3 6 0 7 1 7-3 7 6 7-2 7 4 7 5 7 1 7 1 6 3 7-1 6 0 7 2 5 1 7-1 6-3 6-1 7 0 4-1 5-6 6-2 5-8 6-3 5-7 6-3 7-1 6-5 6-2 6 0 5-8 6-4 5-7 4-7 5-1 8-4 7-4 7 2 8 0 7 5 7 3 6 4 6 5 7 5 9-4 3-5 4-6 4-5 4-9 5-3 4-6 4-4 5-7 5-5 5-7 5 2 5-4 5-8 4-4 5-5 5-5 5-2 6-6 5 2 6 2 7-1 7 2 6 1 7 1 6 2 7 0 6 0 7-1 6-6 6-3 7 2 6-3 7 0 6-1 7 0 7-3 6-1 6 0 6-5 7 5 6-2 6-3 5-7 5 3 8 1 6 1 7 2 6 5 6 1 7 4 5 1 8 5 7 1 4 6 5 5 6 6 4 3 5 2 5 6 6 0 5 3 5 5 5 4 5 8 5 5 4 1 4 5 4 2 3 8 3 5 3 10 2 7 2 6 1 4 1 7 0 12 1 6 1 7 0 5 1 11 1 9 1-1 1-2 0-8 1-7 1-14 0-7 1-7 1-5 1-1 1-1 2 5 1 8 2 9 1 9 2 6 1 6 1 10 1 5" stroke="#7f111b" stroke-width="12" fill="none" stroke-linejoin="round" transform="scale(.5)"/></g>
<g><path d="M811.5 453.8v6M811.5 817.9v-6M896.6 453.8v6M896.6 817.9v-6M981.7 453.8v6M981.7 817.9v-6M1066.8 453.8v6M1066.8 817.9v-6M1151.9 453.8v6M1151.9 817.9v-6M1237 453.8v6M1237 817.9v-6M1322.1 453.8v6M1322.1 817.9v-6M790.2 696.5h6M1343.4 696.5h-6M790.2 575.1h6M1343.4 575.1h-6" stroke="#3a3a3a" stroke-width="2" fill="none"/><rect x="790.2" y="453.8" width="553.1" height="364.1" fill="none" stroke="#3a3a3a" stroke-width="2"/><text x="777.5" y="826.9" text-anchor="end" font-size="25" stroke="#1a1a1a" stroke-width="0.35">5</text><text x="777.5" y="705.5" text-anchor="end" font-size="25" stroke="#1a1a1a" stroke-width="0.35">10</text><text x="777.5" y="584.1" text-anchor="end" font-size="25" stroke="#1a1a1a" stroke-width="0.35">15</text><text x="777.5" y="462.8" text-anchor="end" font-size="25" stroke="#1a1a1a" stroke-width="0.35">20</text><text x="802.5" y="844.9" font-size="25" textLength="22.8" lengthAdjust="spacingAndGlyphs" stroke="#1a1a1a" stroke-width="0.35">0°</text><text x="873.4" y="844.9" font-size="25" textLength="36.6" lengthAdjust="spacingAndGlyphs" stroke="#1a1a1a" stroke-width="0.35">2°E</text><text x="959.4" y="844.9" font-size="25" textLength="36.6" lengthAdjust="spacingAndGlyphs" stroke="#1a1a1a" stroke-width="0.35">4°E</text><text x="1043" y="844.9" font-size="25" textLength="37" lengthAdjust="spacingAndGlyphs" stroke="#1a1a1a" stroke-width="0.35">6°E</text><text x="1128.6" y="844.9" font-size="25" textLength="36.6" lengthAdjust="spacingAndGlyphs" stroke="#1a1a1a" stroke-width="0.35">8°E</text><text x="1205.1" y="844.9" font-size="25" textLength="49.1" lengthAdjust="spacingAndGlyphs" stroke="#1a1a1a" stroke-width="0.35">10°E</text><text x="1285.8" y="844.9" font-size="25" textLength="50.2" lengthAdjust="spacingAndGlyphs" stroke="#1a1a1a" stroke-width="0.35">12°E</text><text x="698" y="443" font-size="32" font-weight="bold">D</text><text transform="translate(720 633.5) rotate(-90)" x="-154.5" font-size="25" textLength="309" lengthAdjust="spacingAndGlyphs" stroke="#1a1a1a" stroke-width="0.3">Seawater temperature (°C)</text></g>
<clipPath id="cE"><rect x="94.7" y="898.8" width="553.1" height="364.2"/></clipPath>
<g><path d="M137.3 898.8V1262.9M158.6 898.8V1262.9M179.8 898.8V1262.9M222.4 898.8V1262.9M243.6 898.8V1262.9M264.9 898.8V1262.9M307.5 898.8V1262.9M328.8 898.8V1262.9M350 898.8V1262.9M392.6 898.8V1262.9M413.8 898.8V1262.9M435.1 898.8V1262.9M477.7 898.8V1262.9M498.9 898.8V1262.9M520.2 898.8V1262.9M562.8 898.8V1262.9M584 898.8V1262.9M605.3 898.8V1262.9M94.7 1250.3H647.9M94.7 1237.8H647.9M94.7 1212.7H647.9M94.7 1200.1H647.9M94.7 1187.6H647.9M94.7 1175H647.9M94.7 1149.9H647.9M94.7 1137.3H647.9M94.7 1124.8H647.9M94.7 1112.2H647.9M94.7 1087.1H647.9M94.7 1074.5H647.9M94.7 1062H647.9M94.7 1049.4H647.9M94.7 1024.3H647.9M94.7 1011.8H647.9M94.7 999.2H647.9M94.7 986.6H647.9M94.7 961.5H647.9M94.7 949H647.9M94.7 936.4H647.9M94.7 923.9H647.9" stroke="#bbbbbb" stroke-width="1.9" stroke-dasharray="1.9 5.6" fill="none"/><path d="M116 898.8V1262.9M201.1 898.8V1262.9M286.2 898.8V1262.9M371.3 898.8V1262.9M456.4 898.8V1262.9M541.5 898.8V1262.9M626.6 898.8V1262.9M94.7 1225.2H647.9M94.7 1162.4H647.9M94.7 1099.7H647.9M94.7 1036.9H647.9M94.7 974.1H647.9M94.7 911.3H647.9" stroke="#dadada" stroke-width="1.5" fill="none"/></g>
<g clip-path="url(#cE)"><path d="M263 1835l10-1 9-1 9-2 9-3 8-1 9 0 8-2 8 2 9 2 8-2 8-2 9 0 8 2 8-3 9-1 8-2 8 1 8 2 8-1 8-2 8 1 8 2 8-4 8 1 8-1 8 1 8 0 8 2 8-1 8-2 8 2 8-2 8-2 8 2 8-5 8 2 8-3 8 3 8 0 8 1 8 1 8 2 8 4 8-2 8 1 8-1 8 0 9 3 8 1 8 5 9-2 8-1 8 4 9-3 8-3 8 1 9 0 8 0 9 2 9 0 9 0 8 2 9 2 9 0 9 3 8 2 9 5 8 3 9 5 8 5 10 8 11 7 8-2 9-2 8 0 8-2 9 1 9 2 8 0 9 0 9-2 9 1 9-4 9-1 9-3 9 0 9 1 9-3 9 2 9-1 9 4 9-4 8 5 9 4 9 2 9-1 9 1 9 0 9 5 9 2 8 4 9 2 9 2 7 8 7 3 7 5 7 3 7 7 7 2 5 11 5 4 4 9 5 9 5 8 5 12 4 7 3 5 3 9 3 8 3 11 3 12 3 3 2 9 3 14M263 1842l10-4 9-1 9-1 9 0 8 0 9 1 8-6 8 0 9 2 8-1 8 0 9-1 8 4 8 3 9-4 8-1 8 1 8-2 8 0 8 0 8 0 8-1 8-3 8 0 8-2 8 6 8-4 8-2 8-1 8-1 8-1 8-1 8 3 8 1 8 0 8-1 8-4 8 0 8 8 8-2 8-1 8 0 8 3 8-2 8 1 8-2 8 1 9 0 8-1 8 4 9 1 8-1 8 1 9 5 8 1 8 1 9 1 8-6 9 0 9-1 9 4 8 2 9 4 9 0 9 1 8 4 9 3 8 4 9 1 8 8 10 3 11 6 8 0 9-3 8 2 8-3 9-2 9-2 8 0 9 0 9-2 9-2 9 1 9 1 9-1 9 2 9 1 9 0 9 0 9 2 9 1 9 1 8-2 9 5 9 0 9 5 9 1 9 3 9 5 9-2 8 7 9 3 9 3 7 5 7 7 7 6 7 10 7 4 7 5 5 8 5 8 4 10 5 6 5 6 5 8 4 8 3 10 3 6 3 6 3 8 3 8 3 11 2 9 3 9M263 1832l10-1 9-3 9 1 9-3 8 2 9-3 8 0 8 3 9-3 8-1 8 5 9-6 8 3 8-2 9 0 8-3 8 6 8 1 8-4 8 1 8 0 8-2 8 2 8-2 8-6 8 3 8-2 8 0 8-2 8 1 8-2 8 2 8 3 8-4 8 1 8 3 8-2 8-2 8 5 8 1 8 3 8 1 8-2 8-1 8 1 8 2 8 1 9 2 8-2 8 2 9 0 8-1 8-1 9 0 8 4 8-4 9 0 8 1 9 1 9-2 9 3 8 2 9 1 9-2 9-1 8 2 9 4 8 9 9 1 8 7 10 7 11 4 8 0 9-2 8 1 8 1 9-1 9 0 8 0 9-4 9 2 9 3 9 1 9 1 9-1 9 4 9 0 9 1 9 1 9 5 9-1 9 0 8-1 9 1 9 1 9 0 9-1 9 1 9 4 9-1 8 1 9 6 9 1 7 3 7 10 7 2 7 8 7 3 7 7 5 9 5 3 4 10 5 7 5 7 5 8 4 12 3 5 3 9 3 11 3 6 3 9 3 12 2 10 3 7M263 1845l10-2 9-2 9 2 9-5 8 0 9 0 8-6 8 7 9 0 8 1 8 1 9-1 8 0 8-1 9-3 8 1 8-2 8 2 8 2 8 0 8 2 8-3 8-1 8 1 8 2 8-1 8 2 8-3 8 4 8-1 8 1 8 0 8 0 8 1 8 1 8-2 8 1 8-1 8 3 8-1 8 1 8 1 8-4 8 0 8 1 8 1 8-2 9 0 8-2 8-1 9-2 8 0 8 0 9 2 8 0 8-2 9-3 8 2 9 6 9-3 9 3 8-1 9-4 9 0 9 5 8 3 9 6 8 1 9 5 8 5 10 8 11 5 8 0 9 2 8-3 8 1 9 2 9 1 8-4 9 3 9 1 9 0 9 2 9 0 9-1 9 2 9 1 9-3 9 1 9-1 9 3 9-3 8 4 9-1 9 3 9 0 9 5 9 3 9 0 9 4 8 0 9 1 9 4 7 4 7 8 7 6 7 4 7 2 7 7 5 6 5 8 4 6 5 9 5 10 5 7 4 2 3 10 3 8 3 11 3 7 3 10 3 4 2 11 3 15M263 1832l10 1 9-6 9-1 9-1 8-3 9 0 8-1 8 4 9-6 8 3 8-4 9 0 8 1 8 2 9 1 8-2 8 0 8-1 8-2 8 3 8-1 8-8 8 0 8 1 8 0 8-2 8 0 8-2 8 5 8 0 8 3 8 0 8-2 8 1 8 2 8-3 8 6 8-1 8 1 8 3 8-2 8-2 8 0 8-2 8 6 8-5 8 0 9-2 8-1 8-1 9 2 8-2 8 7 9-4 8-1 8 2 9-2 8 0 9-4 9 5 9-2 8 5 9 2 9 0 9-4 8 10 9 5 8 5 9 5 8 4 10 11 11 2 8 3 9-2 8-2 8 0 9 5 9-2 8 0 9-3 9 3 9-3 9-3 9 2 9-5 9 1 9 0 9 0 9 2 9 0 9-1 9 3 8-1 9 2 9 1 9 0 9 2 9 6 9 3 9 2 8 2 9 3 9 2 7 9 7 4 7 5 7 2 7 10 7 3 5 8 5 12 4 9 5 6 5 7 5 7 4 12 3 8 3 12 3 6 3 9 3 7 3 11 2 7 3 12M263 1861l10-2 9-4 9-2 9 2 8-5 9 2 8-1 8 4 9 1 8 0 8-3 9 0 8-1 8 1 9-4 8 1 8 0 8 0 8 0 8-2 8-2 8-1 8 1 8 0 8 2 8-4 8-2 8-2 8 4 8 0 8 5 8-4 8 1 8-1 8 0 8-2 8 3 8 2 8 2 8-4 8 0 8 2 8-4 8 0 8 1 8 4 8 2 9-1 8 4 8-2 9 1 8-4 8 4 9-2 8 0 8 3 9 0 8-4 9 0 9 2 9 0 8 2 9-2 9-1 9 3 8 5 9 4 8 3 9 4 8 4 10 3 11 5 8-3 9 1 8 0 8-3 9 3 9 3 8 0 9 1 9 0 9-2 9 0 9 1 9-2 9 2 9 1 9 4 9 0 9 0 9 0 9 4 8 6 9-2 9 2 9 3 9 2 9-2 9 4 9 4 8 0 9 4 9 1 7 2 7 5 7 3 7 5 7 8 7 5 5 5 5 13 4 5 5 8 5 8 5 7 4 10 3 6 3 7 3 10 3 7 3 3 3 11 2 10 3 9M263 1844l10-6 9-1 9 2 9 0 8 0 9-2 8-2 8 5 9-4 8-5 8 3 9 1 8-4 8 1 9-3 8 3 8 1 8 0 8-2 8 0 8 1 8-6 8 1 8 1 8 2 8-1 8-2 8 3 8 1 8-1 8 0 8-5 8 3 8 0 8 1 8-1 8-1 8 6 8 0 8-1 8 0 8 4 8-2 8 1 8-1 8 0 8-4 9-2 8 1 8 0 9-2 8 4 8 0 9 3 8-2 8 0 9 1 8 1 9 1 9 2 9 2 8 3 9 1 9 4 9 1 8-1 9 6 8 2 9 4 8 5 10 3 11 7 8 0 9-6 8 2 8-2 9-2 9-2 8 2 9-6 9 1 9-3 9 2 9 4 9 2 9 1 9 1 9 1 9 2 9-1 9 2 9-1 8 3 9 7 9 3 9 0 9-1 9 1 9 2 9 2 8 6 9 2 9 4 7 6 7 3 7 3 7 2 7 8 7 6 5 8 5 6 4 10 5 7 5 7 5 7 4 8 3 9 3 10 3 9 3 4 3 6 3 9 2 11 3 10M263 1838l10 1 9 0 9-2 9 1 8-3 9-2 8 8 8-6 9 1 8 1 8 0 9-4 8 0 8 1 9 1 8-1 8 0 8-7 8 3 8-5 8 0 8-3 8 1 8-3 8 0 8 0 8 1 8 0 8 2 8-2 8 5 8-3 8-3 8 3 8 1 8 0 8-3 8 4 8 0 8-1 8 1 8 6 8 0 8-4 8 1 8-1 8 5 9-5 8 3 8-4 9 5 8-1 8-1 9 2 8 2 8-1 9-2 8 2 9 0 9-2 9 3 8 2 9 2 9 1 9 1 8 5 9 5 8 2 9 5 8 7 10 4 11 6 8-1 9 0 8-5 8 2 9-3 9-3 8 1 9-2 9-1 9-3 9 0 9 0 9 3 9-2 9-1 9 0 9-1 9 3 9 5 9-3 8 7 9 0 9-1 9 5 9-1 9 4 9 2 9 2 8 5 9 4 9 6 7 6 7 2 7 8 7 4 7 3 7 2 5 11 5 5 4 8 5 8 5 7 5 7 4 10 3 11 3 6 3 11 3 9 3 8 3 12 2 2 3 10M263 1826l10-1 9-1 9 0 9-1 8 0 9-1 8 1 8-4 9 3 8-2 8-1 9-3 8 4 8 2 9-2 8 0 8 0 8-1 8-1 8 2 8 0 8 2 8-2 8-5 8 0 8 2 8-2 8 1 8-1 8 4 8-2 8-3 8 0 8-2 8 3 8-4 8 2 8 0 8 3 8 2 8 1 8 3 8 1 8-1 8 0 8 3 8-2 9 0 8 0 8 3 9-2 8-3 8 5 9 0 8 1 8 5 9-5 8-1 9 1 9 1 9-2 8-2 9 1 9 2 9 2 8 4 9 2 8 6 9 4 8 6 10 6 11 9 8-4 9 2 8 0 8-1 9-1 9 3 8 4 9 1 9-4 9-3 9 2 9 0 9-3 9 3 9-3 9 1 9-3 9-1 9 3 9 0 8 2 9 7 9 1 9-2 9 2 9 1 9 2 9 3 8 1 9 5 9 3 7 6 7 5 7 6 7 6 7 4 7 6 5 9 5 9 4 8 5 8 5 8 5 7 4 7 3 5 3 9 3 7 3 6 3 9 3 11 2 11 3 5M263 1830l10-1 9-1 9-1 9 3 8 2 9-4 8 2 8 0 9-8 8 6 8 1 9 2 8-2 8 2 9-2 8-1 8 0 8-3 8 0 8-2 8-2 8-1 8 0 8 1 8-7 8 5 8-1 8-4 8 4 8-1 8 1 8 4 8-3 8 3 8 0 8 1 8 5 8-3 8-4 8 8 8-4 8-1 8 2 8-3 8 1 8-1 8 2 9-3 8-2 8 6 9-5 8 1 8 1 9-4 8 7 8-4 9 0 8 0 9 2 9 2 9-1 8 2 9 6 9-1 9 1 8 5 9 5 8 4 9 7 8 3 10 6 11 5 8 1 9 0 8-2 8-1 9-3 9-5 8 4 9-1 9-4 9-3 9 2 9-1 9 0 9 1 9 2 9 3 9-3 9 3 9 2 9 3 8 2 9 9 9 1 9-1 9 2 9 1 9 3 9 0 8 1 9 6 9 1 7 4 7 7 7 5 7 6 7 0 7 8 5 9 5 10 4 7 5 4 5 6 5 9 4 5 3 11 3 10 3 4 3 8 3 9 3 9 2 9 3 12M263 1839l10-2 9-1 9-4 9 3 8-4 9 0 8-4 8 1 9-6 8-1 8 1 9 0 8 1 8-2 9-2 8 0 8-2 8 2 8-1 8-2 8 2 8 0 8 1 8 4 8-2 8 2 8-2 8 4 8 0 8-6 8 3 8 2 8-4 8 2 8 1 8-2 8 2 8 1 8-3 8 1 8 2 8-1 8-1 8-3 8-2 8-2 8 4 9-5 8 1 8 2 9-3 8 2 8-3 9 6 8-2 8-1 9 4 8 4 9 0 9 1 9 0 8 1 9 4 9 1 9 1 8 5 9 7 8 1 9 6 8 3 10 7 11 6 8 0 9-1 8-3 8 2 9 0 9-4 8-2 9 3 9-2 9-4 9-1 9 3 9 1 9-1 9 0 9 2 9 1 9 2 9-1 9 1 8 4 9 4 9 4 9 1 9 2 9 3 9 5 9-2 8 4 9 3 9 4 7 9 7 6 7 4 7 3 7 1 7 9 5 5 5 12 4 4 5 13 5 9 5 5 4 5 3 7 3 5 3 6 3 10 3 10 3 7 2 8 3 11M263 1833l10-2 9-8 9 1 9-2 8-1 9-4 8 2 8-2 9 5 8-3 8 3 9 1 8 1 8 2 9-3 8-1 8 2 8-3 8-1 8 3 8-8 8 3 8-3 8 4 8-2 8-5 8 2 8-1 8 0 8-1 8 2 8 3 8-2 8 1 8 0 8 2 8 2 8 1 8 2 8-1 8-1 8 2 8-3 8 3 8 0 8 2 8-1 9 1 8 0 8 0 9-1 8 0 8-1 9 0 8 1 8-2 9 1 8 0 9-1 9 3 9 0 8 1 9 1 9 3 9 3 8 7 9 7 8 5 9 2 8 7 10 7 11 6 8-4 9 1 8-2 8 0 9-2 9-4 8 2 9 1 9-2 9-2 9 2 9-5 9 1 9 2 9-1 9 3 9-2 9 1 9-1 9 3 8 2 9 1 9 5 9 2 9-2 9 9 9-1 9 2 8 6 9 4 9 1 7 4 7 6 7 3 7 5 7 5 7 4 5 8 5 6 4 8 5 8 5 8 5 4 4 4 3 11 3 9 3 7 3 6 3 7 3 14 2 9 3 9" stroke="#62c6b9" stroke-width="2.2" fill="none" transform="scale(.5)"/><path d="M740 1838l9 0 9 1 9 3 8 6 9-1 9 3 9 4 8 5 9 1 8 8 9 3 8 6 10 3 11-3 8 2 9 4 8-2 8-4 9-1 9 1 8 0 9-3 9-3 9 0 9 2 9 0 9 1 9 4 9-6 9 4 9-3 9 0 9 4 9 6 8-1 9 4 9-1 9 3 9-1 9 4 9 7 9 2 8 5 9 3 9 3 7 6 7 7 7 4 7 1 7 4 7 10 5 2 5 14 4 4 5 11 5 1 5 10 4 7 3 6 3 7 3 11 3 7 3 2 3 14 2 5 3 12M740 1849l9 6 9-2 9-1 8 5 9 4 9 1 9 3 8 4 9 4 8 6 9 8 8-1 10 8 11 2 8-2 9-3 8-3 8 3 9-3 9-6 8 2 9-1 9-2 9 3 9-3 9 4 9-5 9-1 9 6 9 4 9 2 9 1 9 2 9 2 8 2 9-2 9 5 9 0 9 5 9 1 9 0 9 5 8-2 9 9 9-2 7 1 7 7 7 3 7 3 7 5 7 0 5 12 5 7 4 4 5 11 5 8 5 12 4 9 3 11 3 3 3 11 3 5 3 3 3 13 2 9 3 4M740 1846l9 3 9-2 9-4 8 6 9-2 9 7 9-4 8 4 9 2 8 9 9 4 8 3 10 3 11 4 8 7 9-3 8-2 8 2 9-6 9 7 8 5 9-6 9-1 9-4 9 7 9-4 9 0 9 4 9-3 9 2 9 3 9 1 9-2 9 8 8-2 9 3 9 0 9 1 9 1 9 1 9 1 9-1 8 1 9 6 9 9 7-3 7 7 7 2 7 5 7 4 7 9 5 6 5 8 4 11 5 10 5 6 5 3 4 12 3 4 3 10 3 6 3 5 3 14 3 10 2 7 3 10M740 1831l9 3 9-1 9 1 8 3 9-3 9 1 9-3 8 9 9 9 8-2 9 7 8-3 10-4 11 4 8 2 9-1 8 0 8 3 9 0 9 3 8-6 9 1 9 3 9 1 9-2 9 4 9-2 9 2 9 0 9 0 9-4 9 3 9 4 9 4 8-2 9 5 9-3 9 4 9 0 9 3 9-1 9 1 8 2 9 2 9 4 7 8 7 5 7 6 7 2 7 3 7 10 5 9 5 8 4 3 5 6 5 11 5 9 4 12 3 4 3 4 3 15 3 5 3 6 3 14 2 11 3 8M740 1839l9 2 9 2 9 1 8-2 9 2 9 5 9 1 8 1 9 4 8 3 9 1 8 7 10 5 11 10 8 5 9 0 8-5 8 3 9 2 9-1 8-1 9 4 9 3 9-2 9-6 9 1 9-4 9 5 9-1 9-3 9-1 9 2 9-2 9 0 8 3 9-2 9 4 9-2 9 7 9-2 9 3 9 3 8 1 9 6 9-1 7 6 7 4 7 0 7 9 7 8 7 3 5 9 5 7 4 6 5 10 5 7 5 6 4 5 3 7 3 15 3 5 3 8 3 6 3 10 2 10 3 13M740 1842l9-4 9-2 9 4 8-2 9 6 9-4 9 6 8 8 9 1 8 9 9 1 8 9 10 6 11 8 8 1 9 4 8-4 8 5 9-1 9 3 8-5 9-2 9-5 9-1 9-1 9-8 9 4 9 1 9-6 9 1 9 3 9-5 9 2 9-1 8 5 9-2 9 3 9-1 9 3 9 8 9-1 9 8 8 0 9 8 9 3 7 5 7 5 7 12 7 3 7 4 7 7 5 9 5 13 4 3 5 3 5 9 5-2 4 11 3 7 3 7 3 8 3 13 3 4 3 10 2 7 3 12M740 1830l9-4 9 4 9-4 8 2 9-1 9-4 9 6 8 6 9 7 8-2 9 7 8 3 10 8 11 11 8-8 9 1 8 2 8-3 9 2 9-2 8 5 9-3 9 3 9 3 9-3 9 5 9 1 9 6 9-1 9-2 9-1 9 3 9 0 9 4 8 0 9 0 9 4 9 1 9-3 9 2 9 3 9-5 8 5 9 4 9 0 7 4 7 2 7 1 7 5 7 3 7 9 5 7 5 12 4 3 5 8 5 12 5 7 4 7 3 4 3 11 3 11 3 3 3 9 3 4 2 17 3 5M740 1846l9 6 9 4 9-6 8 3 9-3 9 6 9 5 8 1 9 6 8 4 9-2 8 7 10 5 11 6 8-3 9 0 8 0 8 1 9 4 9-8 8 2 9 0 9-1 9-2 9 2 9-1 9 6 9 4 9 1 9-1 9 7 9 0 9 1 9 2 8-1 9 4 9 2 9 0 9-3 9 0 9 2 9 7 8 0 9-1 9 3 7 5 7 3 7 2 7 7 7 8 7 5 5 3 5 13 4-1 5 7 5 4 5 7 4 9 3 9 3 9 3 6 3 7 3 8 3 9 2 10 3 14M740 1852l9 1 9 5 9-3 8-3 9 1 9 1 9 5 8 1 9 5 8 9 9-2 8 1 10 9 11 0 8 0 9-1 8 1 8-4 9 0 9 0 8-4 9 0 9 4 9-3 9 1 9-1 9 0 9-1 9 3 9-1 9 2 9 0 9 0 9 7 8 1 9 3 9 8 9 0 9 2 9 2 9 3 9 2 8 6 9-4 9 4 7 6 7 4 7 7 7 7 7 6 7 2 5 7 5 10 4 11 5 10 5 8 5 5 4 5 3 8 3 5 3 9 3 8 3 6 3 3 2 12 3 9M740 1824l9 1 9 2 9 2 8 3 9 5 9-1 9 1 8 1 9 6 8 5 9 8 8 4 10 11 11 4 8-4 9 2 8-3 8 1 9 0 9-2 8-6 9 3 9-4 9-4 9 2 9 1 9 0 9 0 9 0 9-2 9 1 9-4 9 2 9 1 8 1 9 4 9 3 9 2 9 5 9 5 9 6 9 0 8 8 9 1 9 4 7 3 7 8 7 5 7 2 7 6 7 3 5 7 5 7 4 8 5 12 5 7 5 7 4 8 3 7 3 11 3 4 3 14 3 4 3 8 2 10 3 7" stroke="#62c6b9" stroke-width="2.2" fill="none" transform="scale(.5)"/><path d="M300 1847l8-2 9 4 8-4 8 2 9 0 8 3 8-4 9-2 8 2 8-4 9 1 8 3 8-2 8 0 8-1 8-4 8 1 8-3 8 1 8-4 8 3 8 1 8-2 8 1 8 2 8-1 8 0 8-4 8 2 8-2 8 2 8 1 8 2 8-1 8 4 8-2 8-1 8 0 8-5 8 0 8 4 8 0 8-1 9 1 8 1 8 3 9-2 8 1 8 3 9 2 8-1 8-1 9 0 8-3 8 7 8 1 8-2 8-2 8 6 8-6 8 3 8 0 8 0 8-1 8 0 8 0 8 2 8-2 8 2 8 0 8 2 8 4 8-1 8 0 8-2 8-1 8-1 8 4 8-5 8 1 8 0 9 4 8 2 8 1 9 4 8-1 9 1 8 2 8-1 9 0 9 3 8 3 9 4 9 3 9-1 9 4 9 0 9 4 9-1 8 6 9 1 9 2 7 6 7 5 7 4 7 6 7 0 7 9 2 9 3 3 2 9 3 5 2 8 2 7 3 8 2 7 2 11 3 4 2 10 3 10 2 7 2 3 2 12 1 9 1 11 2 5 1 10 1 10 2 8 1 11 0 2 1 8 1 9 0 10 0 5 1 7 1 7 0 11 0 4 1 10 1 11 0 3 0 12 1 9 0 9 1 6 0 6 0 11 1 8 0 8 1 8 0 6 0 10 1 9 0 10 0 8 1 11 0 8M300 1833l8 2 9 0 8 1 8 0 9 1 8 0 8 2 9-4 8-2 8-3 9 1 8-2 8-2 8 0 8-2 8 0 8-3 8 0 8-4 8 4 8-1 8 1 8-5 8 0 8-1 8-1 8 2 8 0 8-1 8 3 8-2 8-1 8 2 8 3 8-3 8 1 8 3 8 3 8 6 8-5 8 2 8 0 8 1 9-1 8 0 8 0 9-1 8 0 8 2 9 0 8 4 8-5 9 3 8 0 8-1 8-2 8 1 8-2 8 5 8-1 8 5 8-1 8 3 8-3 8-1 8 1 8 3 8-4 8 1 8 0 8 0 8 1 8 0 8 3 8-1 8-1 8-3 8 4 8-1 8 2 8-3 9 3 8 1 8 0 9 2 8 2 9-3 8 2 8 3 9 3 9-1 8 1 9 3 9 5 9 0 9 4 9 1 9-2 9 1 8 5 9-1 9 2 7 6 7 4 7 4 7 4 7 8 7 1 2 8 3 13 2 9 3 5 2 4 2 11 3 8 2 7 2 10 3 5 2 7 3 9 2 5 2 11 2 9 1 9 1 10 2 8 1 6 1 11 2 9 1 11 0 8 1 4 1 8 0 9 0 6 1 11 1 11 0 4 0 8 1 7 1 8 0 3 0 13 1 8 0 7 1 5 0 15 0 8 1 6 0 7 1 12 0 9 0 12 1 5 0 5 0 7 1 9 0 12M300 1838l8-1 9-2 8-4 8-1 9 1 8-1 8 0 9-2 8 1 8-2 9 0 8-4 8 3 8-3 8 2 8-3 8 2 8 3 8-4 8 2 8 0 8 0 8 2 8-2 8 2 8-3 8 3 8 3 8 0 8-4 8 2 8-1 8 4 8 3 8 2 8 0 8-1 8 1 8 2 8 0 8-2 8-1 8 1 9-3 8 5 8-6 9 5 8-6 8 2 9-6 8 3 8-4 9 5 8 1 8-2 8 1 8 2 8 1 8-1 8-1 8 0 8 2 8 0 8 2 8-5 8 2 8 2 8-2 8 2 8 0 8-1 8 2 8-1 8 2 8 0 8 1 8 4 8-4 8 4 8-2 8 5 9 2 8-4 8 1 9 1 8 2 9 2 8 1 8 2 9 2 9 2 8 2 9-3 9 6 9 3 9 1 9 2 9 1 9 2 8 2 9-3 9 4 7 5 7 8 7 3 7 6 7 3 7 7 2 7 3 12 2 5 3 8 2 7 2 6 3 8 2 6 2 9 3 5 2 7 3 10 2 7 2 8 2 10 1 9 1 10 2 8 1 13 1 4 2 11 1 10 0 2 1 10 1 8 0 4 0 11 1 8 1 7 0 5 0 9 1 10 1 12 0 2 0 10 1 11 0 7 1 10 0 10 0 6 1 8 0 9 1 11 0 5 0 12 1 12 0 6 0 9 1 11 0 9M300 1831l8 1 9 2 8-3 8-2 9-4 8 2 8-5 9 0 8 3 8-2 9-2 8 0 8 1 8-1 8-1 8 5 8-1 8-2 8 3 8 3 8 1 8 2 8-1 8 0 8-2 8 2 8-1 8 0 8-2 8 1 8 1 8 3 8 0 8-3 8 0 8-1 8-1 8-4 8 4 8-4 8-1 8 2 8 2 9 2 8-2 8 0 9 0 8 0 8-1 9-2 8 5 8-1 9-1 8 4 8 0 8 2 8 0 8 0 8 0 8 1 8 0 8 3 8 0 8 0 8 1 8-3 8 0 8 0 8 2 8-2 8 5 8-3 8-1 8-2 8-2 8 2 8 2 8 2 8-1 8 8 8-5 9 4 8 4 8 2 9-2 8 4 9 0 8 2 8-1 9 2 9 1 8 2 9-1 9 1 9 1 9-1 9 1 9-2 9 1 8 1 9-2 9 3 7 1 7 9 7 8 7 4 7 7 7 4 2 6 3 8 2 6 3 11 2 8 2 10 3 8 2 3 2 13 3 7 2 7 3 8 2 10 2 8 2 7 1 8 1 12 2 7 1 11 1 8 2 11 1 9 0 4 1 10 1 7 0 11 0 6 1 6 1 10 0 6 0 10 1 4 1 9 0 9 0 11 1 6 0 9 1 7 0 11 0 12 1 4 0 12 1 10 0 9 0 5 1 11 0 9 0 7 1 12 0 8M300 1838l8 1 9-3 8 1 8 2 9-4 8 2 8 0 9-7 8 2 8 1 9-6 8 2 8 1 8 2 8-8 8 3 8-4 8 3 8-4 8-1 8 4 8-2 8-2 8 3 8-4 8-3 8 5 8-3 8 5 8-1 8-1 8-1 8 0 8-2 8 3 8-4 8 2 8 4 8-3 8 2 8 5 8-4 8 1 9 2 8 0 8-2 9 2 8 2 8 1 9 1 8 0 8-1 9-2 8 3 8 2 8 2 8-2 8 4 8 3 8-1 8-3 8 4 8 0 8 2 8 0 8-3 8 0 8 4 8 2 8-3 8-4 8 1 8 2 8 1 8 0 8 0 8 0 8-2 8 2 8-1 8 0 9 4 8-3 8 3 9 1 8 4 9 1 8 3 8 3 9-3 9 6 8-2 9 1 9 0 9 4 9 4 9 0 9-1 9 0 8 4 9 2 9-1 7 7 7 9 7 1 7 7 7 2 7 7 2 7 3 6 2 9 3 8 2 9 2 9 3 7 2 9 2 5 3 6 2 12 3 10 2 7 2 7 2 8 1 6 1 9 2 12 1 9 1 1 2 13 1 8 0 6 1 11 1 11 0 5 0 8 1 12 1 8 0 13 0 1 1 13 1 3 0 9 0 4 1 12 0 7 1 8 0 12 0 7 1 5 0 10 1 5 0 8 0 12 1 8 0 8 0 10 1 8 0 9M300 1836l8-1 9 2 8 2 8-2 9-2 8 0 8 1 9-2 8-3 8 7 9-6 8-2 8 1 8 0 8-2 8 1 8 1 8 5 8 1 8-1 8 1 8-1 8 0 8 0 8 2 8 2 8 2 8-3 8 0 8 4 8-4 8-1 8 0 8-1 8-1 8 2 8-2 8 2 8 1 8-1 8 0 8-2 8 0 9 1 8 1 8 1 9 0 8-1 8 2 9-2 8 2 8-4 9 3 8-2 8 0 8-1 8-3 8 4 8-2 8 5 8-3 8 0 8 5 8 1 8 2 8-5 8 4 8-1 8 3 8-1 8 0 8 3 8 0 8-3 8 2 8 1 8 0 8 1 8-1 8 1 8 1 9 0 8 2 8 2 9 4 8-3 9 5 8-3 8 3 9 0 9 4 8-1 9 2 9 0 9 7 9 0 9 2 9 1 9 1 8 1 9 4 9 1 7 4 7 5 7 5 7 4 7 5 7 0 2 13 3 9 2 8 3 5 2 9 2 6 3 5 2 15 2 3 3 7 2 8 3 11 2 8 2 6 2 12 1 4 1 9 2 9 1 10 1 9 2 8 1 9 0 9 1 6 1 7 0 12 0 9 1 7 1 6 0 6 0 9 1 11 1 0 0 10 0 8 1 9 0 14 1 10 0 8 0 4 1 13 0 6 1 8 0 8 0 9 1 10 0 7 0 8 1 9 0 8M300 1820l8-2 9-2 8 1 8-2 9-2 8 2 8-1 9-2 8-1 8 0 9 1 8 0 8-1 8-3 8-2 8 0 8 2 8-3 8 2 8-3 8 2 8 1 8 2 8-3 8 2 8-4 8 1 8 1 8-2 8 4 8 2 8-3 8 4 8-3 8 3 8-4 8 3 8 3 8 0 8-4 8 1 8 2 8-1 9 0 8-2 8 5 9-5 8 3 8-2 9-2 8 0 8 3 9-1 8-1 8 3 8-1 8 3 8-1 8 1 8 1 8 3 8 1 8 0 8-1 8-1 8 2 8-5 8 6 8-2 8-3 8 2 8 0 8 2 8-1 8 2 8-2 8 7 8-2 8 3 8 0 8 3 9 2 8 0 8-2 9-1 8 6 9 1 8 1 8 1 9 0 9 6 8-1 9-1 9 1 9 9 9 0 9-1 9 8 9-1 8-1 9 4 9-7 7 9 7 5 7 8 7 5 7 5 7 2 2 6 3 8 2 10 3 3 2 13 2 9 3 3 2 9 2 8 3 6 2 11 3 7 2 6 2 8 2 9 1 6 1 8 2 12 1 6 1 10 2 9 1 10 0 9 1 6 1 12 0 7 0 8 1 9 1 6 0 9 0 8 1 8 1 7 0 10 0 6 1 9 0 9 1 8 0 11 0 6 1 8 0 7 1 7 0 11 0 4 1 10 0 7 0 9 1 9 0 8M300 1837l8-1 9-3 8 0 8 1 9-1 8 3 8 0 9-3 8-2 8-2 9 4 8 0 8 2 8 1 8-2 8-1 8 0 8 8 8-3 8-2 8-2 8 5 8-2 8 0 8 1 8-2 8 2 8-3 8 1 8 1 8 2 8-1 8 3 8 0 8-1 8 1 8-2 8 2 8-2 8-1 8-2 8 1 8-1 9 2 8-5 8 0 9 3 8-5 8 0 9 5 8-1 8-5 9 1 8-1 8 5 8-1 8-1 8 0 8 4 8 4 8-7 8 2 8 1 8 1 8-2 8 5 8-3 8 1 8 4 8-2 8 3 8 0 8-1 8-2 8 4 8-1 8 1 8-1 8 3 8-4 8 4 9 3 8 0 8 3 9-3 8 1 9 1 8 5 8-1 9 5 9-2 8 2 9 4 9 1 9 1 9 4 9 1 9 5 9-6 8 3 9 2 9 5 7 4 7 6 7 4 7 4 7 4 7 5 2 5 3 7 2 9 3 5 2 10 2 9 3 8 2 10 2 4 3 9 2 8 3 10 2 9 2 4 2 9 1 6 1 8 2 14 1 9 1 10 2 8 1 7 0 14 1 4 1 8 0 7 0 6 1 7 1 11 0 7 0 7 1 7 1 10 0 10 0 8 1 5 0 9 1 8 0 10 0 6 1 8 0 7 1 11 0 8 0 11 1 7 0 9 0 9 1 9 0 9M300 1843l8 2 9 1 8-1 8 0 9 0 8-2 8-2 9 2 8-2 8-5 9-3 8 0 8 2 8-5 8-3 8 3 8 4 8-5 8-4 8 4 8-3 8-2 8 2 8 2 8 1 8 4 8-5 8-2 8-1 8 4 8 2 8 3 8-1 8 0 8-2 8 1 8 4 8-2 8 0 8 0 8 1 8-1 8 1 9 1 8 2 8-1 9 0 8 1 8 3 9-1 8-1 8 0 9-3 8 2 8-3 8 4 8 3 8-1 8-2 8-1 8 6 8-3 8-1 8 4 8 1 8 1 8-3 8 2 8 1 8-2 8 0 8-2 8 0 8 1 8 3 8-2 8 3 8 2 8-1 8 1 8 1 9 1 8-2 8-1 9 0 8 3 9 1 8 0 8 4 9 1 9 4 8 2 9 3 9-1 9 5 9 1 9 1 9 2 9 3 8 3 9 1 9-1 7 4 7 9 7 8 7 5 7 9 7 5 2 9 3 8 2 3 3 5 2 9 2 6 3 7 2 12 2 5 3 10 2 4 3 6 2 10 2 7 2 10 1 10 1 8 2 4 1 11 1 6 2 13 1 6 0 5 1 10 1 4 0 10 0 10 1 10 1 9 0 4 0 10 1 4 1 12 0 5 0 10 1 5 0 11 1 5 0 6 0 8 1 11 0 8 1 7 0 8 0 12 1 8 0 7 0 9 1 8 0 14M300 1833l8 0 9-2 8-2 8 1 9-2 8 2 8-4 9 3 8-1 8-3 9 5 8-6 8-3 8-2 8-3 8-1 8-1 8 2 8 0 8 1 8 2 8-2 8-2 8 3 8 0 8 1 8-1 8-1 8 2 8-1 8-1 8 2 8 1 8 1 8 1 8-3 8 5 8-3 8-1 8 4 8 0 8-1 8 2 9 2 8-2 8-1 9-4 8 7 8 2 9 0 8 2 8 1 9-2 8-2 8 5 8 1 8-4 8 2 8 0 8 0 8-5 8 3 8 0 8 1 8-1 8 1 8 2 8-2 8 1 8-1 8-1 8 1 8 1 8-2 8 5 8-2 8 3 8-3 8 5 8 0 8 0 9 0 8 1 8 2 9 0 8 1 9 2 8-1 8 1 9 1 9 4 8 5 9 0 9 0 9 4 9 2 9 4 9 2 9-1 8 0 9-3 9 3 7 6 7 7 7 4 7 5 7 10 7 3 2 6 3 10 2 5 3 8 2 5 2 7 3 11 2 2 2 12 3 7 2 2 3 11 2 8 2 12 2 7 1 10 1 8 2 13 1 11 1 4 2 10 1 7 0 11 1 9 1 8 0 1 0 11 1 9 1 7 0 7 0 9 1 8 1 12 0 8 0 10 1 4 0 9 1 11 0 9 0 8 1 10 0 6 1 10 0 3 0 10 1 11 0 8 0 9 1 5 0 7" stroke="#35b6ea" stroke-width="2.2" fill="none" transform="scale(.5)"/><path d="M844 1832l10 2 11 4 8 4 9-5 8 3 8 4 8-3 9 2 8 2 8-5 9 4 8-6 9 9 8 4 9 0 9 0 8 2 9-2 8 5 7-4 7 5 8 6 7-3 7 10 7 3 8 8 7-3 7 6 7 1 6 3 6 11 7 5 6 5 6-6 5-6 6-14 2 12 2 8 3 11 2 10 2 1 2 15 2 3 2 10 3 7 2 10 2 5 3 14 3 10 3 6 3 4 2 12 3 7 9-3 8 7 8 6 3 9 3 15 4 8 3 7 3 8 3 5 3 18 3 9 1 4 1 9 2 3 1 8 1 11 1 6 1 13 1 8 1 10 1 4 1 11 1 13 1 2 1 5 1 11 1 13 4 7M844 1833l10 3 11 1 8-2 9 6 8 1 8-1 8-3 9 7 8-1 8 0 9 5 8 3 9 0 8 10 9-5 9 3 8 4 9 1 8 4 7 7 7 2 8-4 7 8 7-1 7 3 8 0 7-1 7 8 7 0 6 4 6 9 7 6 6 10 6-16 5-7 6-4 2 3 2 5 3 10 2 7 2 11 2 13 2 6 2 7 3 8 2 10 2 7 3 1 3 14 3 10 3 4 2 13 3 9 9 0 8 11 8 2 3 10 3 5 4 13 3 13 3 5 3 8 3 10 3 2 1 11 1 4 2 5 1 17 1 8 1 6 1 1 1 13 1 11 1 11 1 8 1 11 1 7 1 9 1 11 1 11 4 17M844 1846l10 5 11 6 8-3 9-2 8 0 8-4 8 9 9-5 8-1 8 4 9-3 8 3 9 0 8 6 9-7 9 2 8-1 9 6 8-3 7 10 7-2 8 6 7 1 7 2 7 2 8 5 7 5 7 5 7-2 6 8 6 6 7 11 6 4 6-3 5-7 6-9 2 7 2 8 3 11 2 9 2 5 2 13 2 3 2 20 3 0 2 12 2 3 3 9 3 8 3 1 3 8 2 13 3 15 9 2 8 5 8 7 3 4 3 4 4 14 3-3 3 15 3 2 3 10 3 4 1 6 1 11 2 6 1 5 1 17 1 6 1 13 1 12 1 8 1 12 1 7 1 17 1 3 1 9 1 6 1 6 4 13M844 1845l10 3 11 8 8-6 9 1 8-4 8 4 8 1 9 3 8 1 8-7 9 1 8 3 9 6 8-3 9 5 9 3 8 1 9 1 8 7 7-4 7 15 8-2 7 6 7 7 7-3 8 13 7-2 7 7 7 3 6 4 6 10 7 7 6 1 6-7 5-12 6-3 2 6 2 6 3 12 2 5 2 8 2 7 2 7 2 5 3 6 2 10 2 14 3 9 3 5 3 10 3 11 2 2 3 9 9 2 8 2 8-8 3 18 3 18 4 2 3 7 3 5 3 7 3 12 3 3 1 11 1 12 2 8 1-1 1 11 1 5 1 14 1 19 1-4 1 6 1 11 1 11 1 8 1 8 1 2 1 8 4 15M844 1840l10 4 11-1 8 6 9-3 8-1 8 3 8 1 9-3 8-1 8 3 9-1 8-2 9 1 8-4 9 3 9 3 8 2 9-2 8 2 7 7 7 3 8 4 7 1 7 5 7 9 8 5 7 1 7 7 7 1 6 2 6 5 7 8 6 9 6-1 5-13 6-13 2 15 2 7 3 11 2 7 2 6 2 7 2 9 2 4 3 12 2 9 2 2 3 15 3 12 3 5 3 10 2 5 3 10 9-1 8 5 8 2 3 8 3 4 4 10 3 9 3 7 3 12 3 12 3 8 1 10 1 3 2 14 1 2 1 7 1 6 1 13 1 4 1 16 1 5 1 8 1 12 1 14 1 7 1 3 1 4 4 12" stroke="#2a3275" stroke-width="2.2" fill="none" transform="scale(.5)"/><path d="M210 2000l2 180 2 80 4-180 6-120" stroke="#35b6ea" stroke-width="2.2" fill="none" transform="scale(.5)"/><path d="M216 2020l2 100 4-40 6-130" stroke="#2a3275" stroke-width="2.2" fill="none" transform="scale(.5)"/><path d="M1208 1920l12 80 8-100 6 120 4-100 4 120" stroke="#62c6b9" stroke-width="2.2" fill="none" transform="scale(.5)"/><path d="M1094 1908l1 3 0 1 1 18 0 3 1-3 0 9 1 2 0-5 1 7 0 5 1 1 0 3 1-6 0 15 0 9 1 0 0-2 0 17 1-13 0 18 0-6 0-2 1 19 0 6 0 6 1 9 0-11 0 6 1 10 0 16 1-11 1-15 1 0 0-10 1 2 1-5 1-1 2 7 1-10 2-7 1-7 2-13 0 20 1-3 0 6 1 2 0-4 0 6 1 12 0 3 1-2 0 8 0 6 1-11 0 10 1 12 0 5 0-6 1 10 0 1 1 0 0 1 1 19 0-3 1 10 0 3 1 4 0-12 1 20 0-1 1-1 0 10 1 4 0-6 1 6 0 19 1-6 0 12 1-7 0 1 1 13 0-5 1 2 0-2 1 14 0 12 1 1 0-1 1 2 0 8 1 17 0-2 1-3 0 20 1-9 0 8 1-2 0 13 1-13 0-12 1 11 0 6 1-23 0 2 1-13 0 6 1 8 0-23 1-6 1 2 1-3 0 12 1-19 1 8 1-25 1 4 0-10 1-1 1 1 1 2 2 19 1-10 2 11 1-10 2 19 1-10 1 18 2 1 1 4 2 7 1 3 2 9 1-6 3 7 3 1 3 4 2-8 3 22 3-8 3 5" stroke="#2a3275" stroke-width="2.2" fill="none" transform="scale(.5)"/><path d="M1120 1920l1-8 0 18 1-3 1 13 0 8 1 11 1 3 0-11 1 5 1 7 0 6 1-9 1 14 1 4 1 0 0 14 1 4 1 6 1-6 0 8 1 4 0 9 1-1 0 5 0 15 0-4 1 4 0 1 0 9 1 2 0 5 0 7 0-2 1-2 0 17 0-11 1 17 0 8 1 8 0-6 1 7 0 5 0 2 1 3 0 9 1-1 0 20 0-5 1 17 0-12 1 6 0-13 2 31 2 0 2-11 2 23 2-9 1-9 0-1 1-3 0-11 1 11 0-11 1 0 0-7 1-3 0-6 1-6 0-6 1-6 0-4 1 2 1 3 1-18 0-3 1-3 1 3 1-4 1-8 1-3 1-5 2 5 2-1 2-1 2 6 2 5 2 6 2 12 2 3 2 1 2-2 1-1 2 15 1 2 1 14 2 0 1 10 1-7 2 4 1 9 1-5 2-2 1 13 1 17 2 9 1-7" stroke="#2a3275" stroke-width="2.2" fill="none" transform="scale(.5)"/><path d="M1098 1905l1 16 0 1 1 0 1 1 1 23 0-13 1 2 1 11 0-4 1 5 1 10 0 10 1 0 1-5 1 5 0 1 1 20 1-6 1 6 1-1 1 6 1-1 1 7 1 2 1 9 1 9 1-3 2-17 3 20 2-28 3 3 2 10 1 3 0 1 1 3 1 2 0-2 1 3 1 15 0 6 1-11 1 27 0 1 1 2 1 3 0-2 1 11 1-6 1-2 0-15 1 5 1-16 1 6 1 0 0-19 1 8 1-5 1-5 1-10 0 6 1-20 1-8 1 21 2-15 1 12 2 6 1 7 1 11 2-10 1 18 2-9 1 22 2-3 2 4 2 2 2 5 2-5 2 9 2 2 2 10 1-1 1 4 2 16 1 2 1-11 1 11 2-7 1 21 1 7 1-12 2 16 1-5 1 17" stroke="#2a3275" stroke-width="2.2" fill="none" transform="scale(.5)"/><path d="M1224 1920l4 280 4 200 2 90" stroke="#35b6ea" stroke-width="2.0" fill="none" transform="scale(.5)"/><path d="M1240 1880l2 220 2-100 2 60" stroke="#62c6b9" stroke-width="2.4" fill="none" transform="scale(.5)"/><path d="M218 2072l0-4 1-5 0-8 1-3 1-9 1-6 1-6 1-7 1-7 1-7 1-4 1-7 0-6 1-8 1-5 1-5 1-5 1-7 1-8 0-4 1-8 1-3 1-8 1-5 1-5 1-9 1-6 2-5 1-9 1-7 1-7 1-6 1-7 2-5 1-1 2-7 3-7 3-5 4-4 4-3 4 0 5-1 6 0 8 0 10 2 4-1 5 0 6-1 5 1 6 0 6 2 6 1 7-1 6-3 7 1 7 0 7 0 7 1 7-2 7 1 7-2 6 1 5 2 6-3 6 2 6-2 6 1 6-4 6 0 6 0 6 4 6-3 6-3 6 2 6 2 7 1 6 1 6-3 6 1 6-1 6 0 6-1 6 0 6-1 6 6 6 0 7-4 6 3 6 1 6-2 6 1 6-1 6-2 6-1 6-1 6 1 6 0 6 0 6 1 5-2 6 3 7-2 6-3 7-1 6 1 7 0 6 0 6 4 6 0 6 0 6-3 6 1 6 2 6 1 6 0 7-1 6-2 6 2 7 0 6 0 7 3 7 0 7 2 7 3 7 2 6 2 7-1 6 3 6 0 6 4 6 2 5 1 4-4 4 0 11 2 1 2 9 2 4 2 6 3 6 0 6-1 7-4 7-2 7 1 8-1 7-1 7 1 6-1 6 2 6 3 8 1 8 2 7 0 6 0 6 2 6 4 6 1 5 0 7 1 6 4 5 2 5 1 7 5 5 4 5-1 6 1 6 3 6 4 6 3 6 3 5 2 5 4 7 7 5 4 5 6 4 9 4 3 5-10 4-14 3-10 5 5 1 1 2 4 1 7 2 4 2 8 1 10 2 5 2 8 2 6 1 10 2 6 2 7 1 6 2 6 1 5 2 11 3 4 2 8 2 8 2 7 2 4 2 4 2 4 6 4 6-2 7 1 6 4 2 3 3 6 2 6 3 2 2 6 2 6 3 8 2 7 2 5 2 10 2 7 1 4 1 4 1 5 1 6 1 6 1 4 1 7 1 12 0 10 1 5 1 10 1 4 1 7 0 7 1 6 1 10 0 3 1 5 0 6 1 7 1 3 0 6 4 6" stroke="#222a6c" stroke-width="12" fill="none" stroke-linejoin="round" transform="scale(.5)"/><path d="M212 2080l0-4 1-3 0-5 1-4 0-8 1-9 1-6 0-7 1-5 1-9 1-7 0-5 1-9 1-7 1-7 0-5 1-7 1-8 1-3 1-6 1-3 1-7 1-7 1-8 1-8 2-7 1-6 1-3 2-8 1-6 2-8 1-8 2-6 1-3 2-3 3-9 3-7 3-2 4-3 5-4 4-7 4 1 5-1 6 2 7 4 10-4 4-2 5-1 6-3 5 4 6 0 6-1 6 0 7-1 6-1 7 2 7 1 7-3 7 2 7 1 7 0 7-2 6 0 5-2 6 2 6 0 6 1 6-1 6-2 6 1 6 2 6-4 6 2 6-1 6 0 6-1 7 0 6 0 6-1 6-1 6 1 6 1 6 1 6 0 6 1 6-2 6 1 7 0 6 2 6-2 6-2 6 0 6-1 6 1 6 1 6 1 6-3 6 0 6 4 6-4 5 4 6-3 7 1 6 1 7 1 6 0 7 4 6 2 6-4 6-1 6 0 6-1 6-1 6 1 6-2 6 3 7-3 6 0 6-2 6 4 6-1 6 2 6-2 6 0 7 5 6 3 6-2 6 0 6-1 6 0 6 2 7 0 6-1 6 3 6 1 6 1 6 1 7-5 6-1 6 3 7 0 6-1 6-2 6 3 7 7 6-3 6 4 6 1 6-3 6 1 5 1 6-2 7 1 6 3 7 0 6 0 6 0 6 2 6-2 6-1 6 2 6-2 5 3 6 2 5 2 6-2 7 0 7-1 6 1 7 4 6 1 6 1 6 2 6 3 6 2 5 0 7 2 7-2 6 2 6-3 6 3 6 1 6 1 5 1 5 2 4 5 5 3 5 4 5 0 4 4 5 8 4 8 2 6 2 6 2 1 2 8 3 5 2 1 2 7 2 5 2 8 2 8 1 7 2 9 2 7 2 6 1 8 2 4 1 7 1 8 2 5 2 8 1 4 1 6 1 2 1 6 0 9 1 6 1 4 0 8 1 6 1 6 0 8 0 6 1 6 0 5 1 5 0 2 0 7 1 10 0 8 0 5 1 5 0 5 0 6 1 9 0 6 0 12 1 2 0 5 0 7 1 7 0 4 0 7 1 6 0 6 0 6 0 1 1 7 0 5 0 5 0 9 1 10 0 4 0 6 0 9 1 10 0 2 0 7 0-1" stroke="#2db4e9" stroke-width="12" fill="none" stroke-linejoin="round" transform="scale(.5)"/><path d="M213 2035l1-2 1-4 1-8 1-8 1-10 1-9 1-5 1-6 1-7 1-6 1-9 1-2 1-7 1-6 1-6 1-9 1-5 1-9 2-4 1-6 1-5 2-3 1-6 2-6 1-9 2-4 1-6 3-10 3-7 3-7 5-5 5-1 5 2 4-2 4-1 6-4 8-1 10-1 4 0 5 0 6 1 5 1 6-4 6 1 6-1 7 1 6 2 7-4 7-1 7 3 7 2 7-2 7-1 7-1 6-2 5 2 6-5 6 1 6 2 6-1 6-2 6-1 6 3 6 3 6 2 6 0 6 1 6 0 7-2 6-2 6-1 6 1 6-1 6 4 6-1 6 0 6 1 6-3 6-1 7-2 6 1 6 0 6 1 6-1 6-1 6-2 6 1 6 2 6 0 6 2 6 1 6-3 5-1 6 0 7 3 7-3 7-1 6 1 7 1 7-2 6 0 7 1 6-1 6 3 6 3 6-1 6 2 5 0 6 4 5 0 8-1 7-1 7-1 6 2 7-2 5 2 6 0 5 4 6 3 5 0 7 4 7 2 7 4 6 3 5 2 5 3 5 3 8 6 5 6 8 0 5 4 7-2 6 0 7-3 8-6 9 0 5 3 6 0 6 1 6 3 7-4 6 0 7-3 6 3 7-2 6-3 6 0 7 0 6 0 6 0 6-2 7 1 6 1 6 2 6 3 7 2 6 2 6 0 7-1 6 4 7 3 6-2 7 0 6 0 6 5 5 0 7 3 7 1 6-5 6 5 6 2 6 4 6 3 5 4 6 3 5 4 6 4 5 4 5 2 5 7 5 4 4 5 4 4 3 9 4 6 3 6 4 2 3 4 3 6 3 8 2 3 4 7 2 5 2 8 2 1 2 5 1 7 2 4 3 10 2 10 2 7 1 4" stroke="#5fc5b8" stroke-width="12" fill="none" stroke-linejoin="round" transform="scale(.5)"/><path d="M1229 2224l1 5 1 5 1 9 1 4 1 6 1 6 1 7" stroke="#222a6c" stroke-width="12" fill="none" stroke-linejoin="round" transform="scale(.5)"/></g>
<g><path d="M116 898.8v6M116 1262.9v-6M201.1 898.8v6M201.1 1262.9v-6M286.2 898.8v6M286.2 1262.9v-6M371.3 898.8v6M371.3 1262.9v-6M456.4 898.8v6M456.4 1262.9v-6M541.5 898.8v6M541.5 1262.9v-6M626.6 898.8v6M626.6 1262.9v-6M94.7 1225.2h6M647.9 1225.2h-6M94.7 1162.4h6M647.9 1162.4h-6M94.7 1099.7h6M647.9 1099.7h-6M94.7 1036.9h6M647.9 1036.9h-6M94.7 974.1h6M647.9 974.1h-6M94.7 911.3h6M647.9 911.3h-6" stroke="#3a3a3a" stroke-width="2" fill="none"/><rect x="94.7" y="898.8" width="553.1" height="364.2" fill="none" stroke="#3a3a3a" stroke-width="2"/><text x="81.5" y="1231.7" text-anchor="end" font-size="25" stroke="#1a1a1a" stroke-width="0.35">10</text><text x="81.5" y="1168.9" text-anchor="end" font-size="25" stroke="#1a1a1a" stroke-width="0.35">15</text><text x="81.5" y="1106.2" text-anchor="end" font-size="25" stroke="#1a1a1a" stroke-width="0.35">20</text><text x="81.5" y="1043.4" text-anchor="end" font-size="25" stroke="#1a1a1a" stroke-width="0.35">25</text><text x="81.5" y="980.6" text-anchor="end" font-size="25" stroke="#1a1a1a" stroke-width="0.35">30</text><text x="81.5" y="917.8" text-anchor="end" font-size="25" stroke="#1a1a1a" stroke-width="0.35">35</text><text x="105.4" y="1289.9" font-size="25" textLength="22.8" lengthAdjust="spacingAndGlyphs" stroke="#1a1a1a" stroke-width="0.35">0°</text><text x="177.3" y="1289.9" font-size="25" textLength="36.6" lengthAdjust="spacingAndGlyphs" stroke="#1a1a1a" stroke-width="0.35">2°E</text><text x="262.2" y="1289.9" font-size="25" textLength="36.6" lengthAdjust="spacingAndGlyphs" stroke="#1a1a1a" stroke-width="0.35">4°E</text><text x="347.5" y="1289.9" font-size="25" textLength="37" lengthAdjust="spacingAndGlyphs" stroke="#1a1a1a" stroke-width="0.35">6°E</text><text x="431.8" y="1289.9" font-size="25" textLength="36.6" lengthAdjust="spacingAndGlyphs" stroke="#1a1a1a" stroke-width="0.35">8°E</text><text x="507.7" y="1289.9" font-size="25" textLength="49.1" lengthAdjust="spacingAndGlyphs" stroke="#1a1a1a" stroke-width="0.35">10°E</text><text x="588.8" y="1289.9" font-size="25" textLength="50.2" lengthAdjust="spacingAndGlyphs" stroke="#1a1a1a" stroke-width="0.35">12°E</text><text x="3.6" y="906.5" font-size="32" font-weight="bold">E</text><text transform="translate(23.7 1068) rotate(-90)" x="-42" font-size="25" textLength="84" lengthAdjust="spacingAndGlyphs" stroke="#1a1a1a" stroke-width="0.3">Salinity</text></g>
<clipPath id="cF"><rect x="790.2" y="897.5" width="553.1" height="363.8"/></clipPath>
<g><path d="M832.8 897.5V1261.2M854 897.5V1261.2M875.3 897.5V1261.2M917.9 897.5V1261.2M939.1 897.5V1261.2M960.4 897.5V1261.2M1003 897.5V1261.2M1024.2 897.5V1261.2M1045.5 897.5V1261.2M1088.1 897.5V1261.2M1109.3 897.5V1261.2M1130.6 897.5V1261.2M1173.2 897.5V1261.2M1194.5 897.5V1261.2M1215.7 897.5V1261.2M1258.3 897.5V1261.2M1279.5 897.5V1261.2M1300.8 897.5V1261.2M790.2 1248.7H1343.4M790.2 1236.2H1343.4M790.2 1211.1H1343.4M790.2 1198.5H1343.4M790.2 1186H1343.4M790.2 1173.4H1343.4M790.2 1148.4H1343.4M790.2 1135.8H1343.4M790.2 1123.3H1343.4M790.2 1110.7H1343.4M790.2 1085.6H1343.4M790.2 1073.1H1343.4M790.2 1060.6H1343.4M790.2 1048H1343.4M790.2 1022.9H1343.4M790.2 1010.4H1343.4M790.2 997.8H1343.4M790.2 985.3H1343.4M790.2 960.2H1343.4M790.2 947.7H1343.4M790.2 935.1H1343.4M790.2 922.6H1343.4" stroke="#bbbbbb" stroke-width="1.9" stroke-dasharray="1.9 5.6" fill="none"/><path d="M811.5 897.5V1261.2M896.6 897.5V1261.2M981.7 897.5V1261.2M1066.8 897.5V1261.2M1151.9 897.5V1261.2M1237 897.5V1261.2M1322.1 897.5V1261.2M790.2 1223.6H1343.4M790.2 1160.9H1343.4M790.2 1098.2H1343.4M790.2 1035.5H1343.4M790.2 972.8H1343.4M790.2 910H1343.4" stroke="#dadada" stroke-width="1.5" fill="none"/></g>
<g clip-path="url(#cF)"><path d="M1625 1939l2-6 1-8 2-12 1-9 1-6 2-7 1-10 1-11 2-5 4-8 4-3 4-9 4-9 8 0 9 4 8-2 8-4 8 1 9-1 8-1 8 1 8 1 9-1 8 0 8 1 9 0 8-1 8-3 8-3 9 3 8-2 8-1 9 1 8-1 8 1 8-1 9 0 8 4 8-3 9 3 8-1 8-2 8 0 8 0 9-3 8 5 8-2 8-2 9 2 8-2 8-1 8 2 8-2 9 4 8-4 8 3 8 0 8 0 9-2 8 2 8 3 8 0 9-1 8 0 8 1 8 1 8 1 9-2 8-2 8 4 8 0 8 4 8 0 8-3 8 3 9-1 8 3 8-3 8 2 8 0 8 4 9 2 8 5 8-1 9 4 7 4 7 8 7 3 7 8 7 3 6 10 6 4 6 7 6 5 6 5 3 9 3 5 3 10 3 11 3 5 3 7 2 10 3 10 2 9 3 9 2 6 3 11M1625 1943l2-8 1-7 2-9 1-6 1-11 2-11 1-9 1-9 2-5 4-8 4-9 4-9 4-6 8-1 9-1 8 3 8-4 8-2 9 0 8 2 8-3 8 3 9 0 8 1 8-5 9 4 8 1 8-2 8 0 9-1 8 0 8-3 9 4 8 0 8 2 8-2 9 2 8 1 8 0 9-3 8-1 8 4 8-2 8 0 9 2 8-2 8 0 8 2 9 1 8-1 8 1 8-2 8-1 9 2 8-2 8 2 8-1 8-4 9 4 8 3 8-4 8 3 9-1 8 4 8-2 8-2 8 2 9-2 8 2 8-2 8 0 8-1 8 2 8-3 8 2 9 3 8 0 8 0 8-1 8 2 8 0 9 4 8 2 8 3 9 0 7 8 7 6 7 3 7 7 7 4 6 6 6 9 6 6 6 4 6 7 3 8 3 8 3 10 3 8 3 11 3 7 2 8 3 8 2 8 3 8 2 9 3 12M1625 1941l2-9 1-6 2-11 1-6 1-7 2-10 1-9 1-8 2-9 4-7 4-5 4-6 4-8 8 1 9 0 8-3 8-2 8 0 9 1 8-2 8 2 8-1 9 2 8 1 8 0 9-3 8 3 8 1 8-2 9 1 8 0 8-3 9 0 8 0 8-2 8 0 9 0 8 0 8 2 9 2 8-1 8-2 8-2 8 2 9-1 8-1 8-3 8 4 9-2 8 1 8 1 8-2 8-1 9 0 8 2 8 0 8-1 8 0 9-5 8 7 8 0 8-1 9-1 8 0 8 2 8 0 8 0 9 2 8-3 8 1 8 0 8 2 8 2 8-4 8 4 9 1 8-2 8 4 8-1 8 2 8 2 9 1 8 4 8 1 9 3 7 6 7 6 7 4 7 7 7 7 6 5 6 7 6 5 6 4 6 9 3 6 3 13 3 6 3 8 3 7 3 8 2 9 3 11 2 5 3 9 2 9 3 8M1625 1938l2-9 1-8 2-5 1-11 1-7 2-9 1-8 1-7 2-8 4-8 4-9 4-10 4-9 8 1 9 0 8-3 8-2 8 0 9 2 8 2 8 1 8-1 9-3 8 4 8 0 9-1 8 0 8 1 8 1 9-2 8 1 8 0 9-1 8-1 8 1 8 2 9-1 8-1 8 0 9-2 8 2 8 0 8 1 8 0 9 0 8-1 8 1 8-2 9 2 8-1 8 1 8 0 8-4 9 6 8-2 8 0 8 2 8 1 9 1 8 2 8-1 8 0 9-1 8-3 8 2 8 1 8 1 9-1 8 1 8-1 8-1 8 2 8-2 8 1 8 2 9 1 8 1 8-3 8 2 8-3 8 7 9 5 8 1 8 0 9 2 7 7 7 7 7 5 7 4 7 6 6 6 6 5 6 2 6 7 6 9 3 7 3 11 3 4 3 9 3 6 3 10 2 9 3 7 2 7 3 12 2 10 3 10M1625 1929l2-8 1-10 2-4 1-12 1-7 2-10 1-8 1-7 2-10 4-7 4-8 4-5 4-12 8 2 9 2 8-2 8 2 8-5 9 1 8-3 8 4 8 1 9 3 8 2 8 1 9 1 8-1 8-2 8-2 9 2 8-1 8-2 9-2 8 1 8 2 8-1 9 1 8-1 8 3 9 0 8-2 8-5 8 4 8-2 9 2 8 2 8 0 8-3 9 2 8-1 8 1 8-2 8 1 9 1 8-2 8 3 8-3 8-1 9 2 8 0 8-4 8 1 9 0 8-1 8 1 8 0 8 4 9-1 8-1 8 3 8 0 8 0 8 1 8 2 8-1 9 1 8 0 8 1 8 1 8 1 8 0 9 4 8 2 8 3 9 3 7 7 7 4 7 6 7 3 7 5 6 6 6 4 6 8 6 4 6 6 3 8 3 10 3 7 3 6 3 10 3 8 2 10 3 9 2 8 3 12 2 6 3 8M1625 1930l2-5 1-10 2-6 1-10 1-7 2-11 1-4 1-10 2-6 4-9 4-8 4-7 4-5 8 0 9 0 8-2 8 0 8 0 9-2 8 0 8-2 8-1 9 0 8-1 8-1 9 2 8-1 8-1 8 0 9 1 8 0 8-2 9 0 8 1 8 0 8 1 9 0 8-2 8 0 9 0 8 2 8-4 8 1 8 2 9 1 8-2 8 3 8-1 9-2 8 2 8 0 8 0 8 0 9-1 8 3 8 2 8 0 8 1 9-3 8 5 8-2 8 2 9 1 8 0 8-2 8 2 8 0 9-1 8-4 8 0 8 0 8 2 8-1 8 2 8-3 9 1 8 0 8-2 8 7 8-2 8 3 9 1 8 2 8 2 9 2 7 6 7 8 7 2 7 7 7 5 6 6 6 11 6 4 6 6 6 6 3 8 3 11 3 6 3 6 3 11 3 6 2 10 3 9 2 8 3 7 2 10 3 9M1625 1943l2-8 1-8 2-5 1-11 1-11 2-8 1-9 1-9 2-7 4-9 4-11 4-6 4-5 8-2 9-2 8 0 8-2 8 1 9 0 8-2 8 0 8 3 9-2 8 1 8-2 9 2 8-1 8 2 8 0 9 2 8-2 8 3 9-3 8 1 8-2 8 3 9 1 8 2 8-2 9 1 8-5 8 1 8 4 8-1 9 2 8 2 8-1 8-1 9-1 8 3 8-1 8-1 8 3 9 1 8-3 8-1 8-1 8 0 9-1 8 4 8-1 8-3 9 1 8-1 8 0 8 0 8-1 9 1 8-2 8 3 8 0 8-2 8 1 8 0 8 1 9 4 8-6 8 2 8 1 8-1 8 4 9 1 8 5 8 2 9 4 7 5 7 7 7 6 7 7 7 3 6 10 6 5 6 6 6 9 6 6 3 7 3 11 3 5 3 7 3 13 3 5 2 7 3 9 2 9 3 10 2 8 3 7M1625 1939l2-6 1-8 2-8 1-9 1-9 2-8 1-9 1-9 2-9 4-5 4-6 4-9 4-7 8 0 9-3 8 0 8-2 8 1 9 0 8-1 8 4 8-3 9 2 8 0 8 1 9 0 8 3 8-2 8 4 9 0 8 0 8-3 9 0 8-2 8 1 8 0 9 1 8 1 8 1 9 0 8 1 8-5 8-1 8 1 9-1 8-2 8 2 8 0 9-4 8 0 8 2 8-1 8 5 9-2 8-1 8 2 8 3 8 0 9-1 8-1 8 0 8 1 9 1 8 2 8 1 8 0 8-1 9 0 8 4 8 0 8 1 8-2 8 1 8-1 8 2 9-1 8-1 8-2 8 0 8 2 8 0 9 2 8 3 8 0 9 3 7 8 7 4 7 5 7 9 7 3 6 5 6 7 6 5 6 3 6 9 3 8 3 9 3 5 3 9 3 6 3 10 2 7 3 9 2 13 3 9 2 11 3 9M1625 1939l2-9 1-7 2-9 1-6 1-14 2-3 1-10 1-7 2-10 4-7 4-7 4-5 4-8 8-1 9-1 8-2 8-2 8 0 9 2 8 0 8 2 8 0 9 3 8-2 8-2 9-2 8 3 8 0 8 0 9 0 8-2 8 1 9-4 8 3 8 0 8 1 9-1 8-2 8-1 9 2 8-1 8 2 8-5 8 0 9 3 8-4 8 4 8-4 9 1 8 1 8-1 8 2 8 2 9-2 8 1 8-1 8 1 8-1 9 0 8 3 8-2 8 0 9-1 8 1 8-1 8 0 8 3 9-4 8 2 8 1 8 2 8 1 8 1 8 0 8-1 9 2 8 1 8-2 8 0 8 1 8 3 9 0 8 4 8 5 9 2 7 7 7 7 7 3 7 9 7 5 6 5 6 6 6 5 6 5 6 8 3 6 3 10 3 12 3 5 3 9 3 9 2 6 3 11 2 8 3 7 2 10 3 5M1625 1940l2-6 1-5 2-9 1-7 1-11 2-8 1-10 1-6 2-6 4-9 4-9 4-7 4-10 8 2 9-6 8 0 8-2 8 2 9-1 8-2 8 2 8-2 9-1 8-1 8 2 9 1 8-2 8 3 8 0 9 0 8-1 8 3 9 0 8 0 8 1 8 0 9 1 8-1 8 1 9 0 8-1 8 1 8 0 8-2 9-1 8 2 8 1 8 0 9-3 8 2 8-3 8 0 8 0 9 1 8-1 8 1 8 1 8-1 9 2 8 0 8-1 8 2 9-1 8 5 8 0 8 1 8-1 9 0 8 0 8-5 8 7 8-2 8 2 8-1 8-1 9-3 8 1 8 3 8-5 8 0 8 2 9 1 8 5 8 1 9 5 7 7 7 4 7 6 7 6 7 13 6 2 6 7 6 9 6 4 6 2 3 10 3 10 3 7 3 10 3 10 3 6 2 9 3 10 2 10 3 7 2 9 3 7" stroke="#f2a2af" stroke-width="2.2" fill="none" transform="scale(.5)"/><path d="M1627 1937l1-9 2-7 1-9 1-8 2-8 1-7 1-8 2-7 1-8 6-9 5-15 6-6 9-1 9-1 8 1 9-1 9-2 8 0 8 0 9 0 8 2 8 2 8 0 8 1 8 2 9 0 8 2 8-7 8 5 8-3 9-1 8-4 8 4 8 0 8 1 8-1 9-1 8 0 8-4 8 3 8 2 8-1 9-3 8-2 8 1 8 5 8-2 8 5 8-4 8 0 9 3 8 0 8 1 8 1 8 2 8-1 8-5 8-1 9 1 8-1 8 1 8-4 8 7 8 1 8 0 9-2 8 3 8-2 8 1 8 1 8 1 8 0 8-2 8 2 9 3 8-2 8 1 8-2 8 1 7 6 8 4 7 2 8 5 7 2 8 1 7 5 8-1 6 6 7 10 6 2 7 6 6 4 7 5 4 6 3 10 4 5 4 7 3 9 4 9 2 9 3 4 2 7 2 13 3 3 2 12M1627 1944l1-10 2-3 1-9 1-10 2-7 1-11 1-5 2-13 1-7 6-7 5-9 6-9 9-3 9-1 8 1 9 2 9-4 8 1 8 1 9-3 8 1 8 3 8 0 8-1 8 2 9-2 8 3 8 0 8 2 8-3 9 2 8-3 8 0 8 0 8-1 8-3 9 2 8-2 8-2 8 1 8 3 8-2 9 1 8 1 8 4 8-3 8 4 8 0 8-1 8-2 9-1 8 4 8-4 8 5 8-7 8 2 8 1 8-1 9 0 8-2 8 4 8 1 8 2 8-5 8 1 9 1 8-4 8 1 8-1 8 1 8-1 8 4 8 0 8 4 9 0 8-2 8 2 8 4 8-1 7 2 8 5 7 3 8 5 7-1 8 5 7 2 8 3 6 6 7 6 6 3 7 9 6 5 7 6 4 3 3 14 4 3 4 9 3 6 4 9 2 8 3 8 2 4 2 11 3 10 2 7M1627 1935l1-4 2-9 1-8 1-12 2-9 1-9 1-9 2-8 1-8 6-6 5-11 6-5 9 0 9-5 8-1 9-2 9 4 8-5 8 4 9-2 8 3 8 1 8-5 8-2 8 4 9-1 8-2 8 1 8 3 8-2 9 1 8 0 8-2 8-2 8 3 8-1 9-4 8 3 8 0 8 3 8-2 8-1 9-1 8 0 8 2 8 3 8 0 8-2 8-1 8 3 9 0 8-1 8-4 8 9 8-3 8 2 8 1 8-4 9 6 8-2 8 1 8 1 8 1 8-1 8-3 9-1 8 1 8-2 8-1 8-1 8 0 8 2 8 0 8 2 9 0 8-1 8-2 8 5 8 2 7 0 8 2 7 4 8 5 7 1 8 4 7 3 8 4 6 5 7 10 6 3 7 6 6 7 7 2 4 11 3 7 4 9 4 5 3 7 4 6 2 7 3 9 2 9 2 9 3 7 2 11M1627 1923l1-7 2-6 1-11 1-7 2-6 1-13 1-8 2-3 1-6 6-11 5-9 6-12 9 1 9-3 8-2 9 0 9 1 8 3 8-5 9 4 8 4 8-6 8 3 8 4 8-2 9 0 8 0 8-3 8 2 8-2 9-1 8 3 8-1 8 4 8-1 8-1 9 1 8-3 8-2 8 6 8-1 8 3 9-1 8 0 8-2 8 3 8 3 8-1 8-2 8 0 9 0 8-4 8-2 8-2 8 0 8 3 8-4 8 2 9 0 8 2 8-5 8-3 8 3 8 1 8 0 9-1 8 1 8 0 8 0 8-1 8 1 8 0 8 3 8 0 9 1 8 0 8 5 8-3 8 3 7 2 8 4 7 4 8 2 7 4 8 4 7 3 8 2 6 4 7 7 6 5 7 4 6 7 7 6 4 7 3 9 4 10 4 7 3 11 4 5 2 6 3 6 2 10 2 9 3 7 2 10M1627 1938l1-8 2-11 1-9 1-7 2-7 1-7 1-8 2-6 1-11 6-10 5-5 6-8 9-1 9 0 8-7 9 2 9-3 8 2 8 2 9 3 8-3 8 2 8-1 8-4 8 0 9 5 8-5 8 4 8-2 8 2 9-1 8-4 8-1 8 2 8 2 8-4 9 0 8-1 8 3 8-1 8-5 8 4 9 5 8-2 8 2 8-3 8 1 8-1 8-1 8 2 9-2 8-3 8 3 8-3 8 0 8 1 8 0 8 4 9-3 8 6 8-2 8 1 8-2 8 6 8-2 9-2 8-4 8 2 8-1 8 0 8 4 8-3 8 5 8 1 9-1 8 3 8 0 8-1 8 3 7 5 8-1 7 4 8 4 7 1 8 8 7 2 8 1 6 7 7 7 6 2 7 6 6 4 7 6 4 7 3 12 4 4 4 6 3 7 4 7 2 3 3 8 2 9 2 8 3 7 2 8M1627 1944l1-10 2-3 1-15 1-9 2-4 1-5 1-9 2-7 1-7 6-11 5-9 6-8 9 0 9-6 8-1 9 1 9-3 8 4 8-3 9 1 8-2 8-1 8 2 8 1 8-3 9 2 8-3 8 0 8 2 8-2 9-2 8-1 8-1 8-1 8 3 8 4 9-2 8 2 8 1 8-2 8 3 8-5 9 5 8 1 8 1 8-1 8 1 8-1 8 8 8-1 9-1 8-3 8 1 8 0 8-2 8 2 8 1 8-2 9 2 8-2 8 2 8-4 8 0 8 0 8-2 9 4 8-1 8 2 8-1 8 0 8 1 8 1 8-1 8 0 9 3 8-4 8 1 8 0 8 0 7 3 8 2 7 1 8 5 7 4 8 3 7 4 8 1 6 6 7 5 6 7 7 4 6 5 7 8 4 5 3 12 4 7 4 5 3 8 4 6 2 10 3 6 2 8 2 6 3 9 2 10M1627 1931l1-10 2-6 1-6 1-13 2-7 1-7 1-9 2-10 1-8 6-7 5-5 6-12 9 0 9-1 8-1 9 3 9-2 8 6 8-2 9 3 8-2 8 4 8 0 8-2 8-1 9 1 8-6 8-1 8 3 8-2 9 0 8-3 8 6 8-6 8-2 8 1 9-3 8 1 8 0 8 2 8 1 8 4 9-4 8 2 8 0 8 3 8 2 8 0 8 0 8-2 9 2 8 4 8-2 8-2 8 0 8 2 8-2 8-1 9-2 8-2 8 3 8-3 8 1 8-2 8 0 9 2 8 0 8 3 8 2 8 1 8 0 8 0 8 4 8-1 9 3 8 0 8 1 8-1 8 1 7 5 8 6 7-2 8 7 7 1 8 1 7 9 8 0 6 7 7 2 6 5 7 9 6 0 7 11 4 4 3 4 4 11 4 5 3 2 4 10 2 7 3 9 2 6 2 11 3 4 2 11M1627 1942l1-11 2-9 1-7 1-11 2-6 1-12 1-2 2-11 1-6 6-10 5-6 6-8 9-2 9-2 8 1 9-2 9 0 8 0 8 3 9-3 8 3 8-4 8 0 8-1 8-2 9-4 8 0 8-1 8 3 8-2 9-4 8 6 8 1 8-3 8-1 8 0 9 1 8 5 8 1 8-3 8 3 8-3 9 0 8 0 8 3 8-1 8 2 8-3 8 1 8-2 9 3 8-4 8 3 8-2 8 3 8-4 8 3 8-2 9-3 8 6 8 0 8 0 8-1 8 1 8 2 9-3 8 1 8 3 8 0 8 4 8 1 8-5 8 4 8-1 9 2 8-2 8 5 8-1 8-3 7 5 8 3 7 5 8 2 7 3 8 7 7-4 8 2 6 1 7 7 6 6 7 5 6 8 7 6 4 8 3 5 4 7 4 6 3 8 4 11 2 2 3 13 2 9 2 7 3 8 2 10M1627 1943l1-6 2-9 1-9 1-9 2-11 1-3 1-10 2-10 1-8 6-8 5-8 6-10 9 0 9-2 8-2 9 1 9-1 8-4 8 2 9-5 8 2 8 0 8 0 8 1 8 4 9-2 8-4 8 3 8-1 8 0 9-2 8 6 8 0 8-1 8 2 8-2 9 5 8 0 8 1 8-4 8 1 8 6 9-3 8 1 8 3 8-3 8 0 8 0 8 2 8 0 9-3 8 3 8 1 8-2 8 2 8 0 8-4 8 0 9 2 8-1 8 1 8-2 8 2 8 0 8-4 9-2 8 0 8-2 8 3 8-3 8 4 8-2 8 2 8-2 9 0 8 4 8-2 8 2 8-4 7 6 8 1 7 6 8 3 7-1 8 5 7 5 8-1 6 11 7 3 6 4 7 7 6 2 7 10 4 8 3 10 4 10 4 5 3 8 4 7 2 7 3 8 2 7 2 7 3 8 2 7M1627 1938l1-9 2-9 1-7 1-8 2-6 1-8 1-8 2-8 1-9 6-9 5-13 6-4 9-6 9-1 8 5 9-3 9-4 8 2 8 5 9-1 8-3 8 3 8 0 8 2 8-2 9-1 8 2 8-1 8 5 8-2 9 4 8-2 8-1 8-6 8 6 8-3 9 3 8 0 8-2 8 2 8 2 8-4 9 5 8-3 8-1 8-2 8 0 8 5 8-3 8 1 9-1 8-1 8-2 8 1 8 2 8 3 8-4 8 1 9 0 8-1 8 1 8 1 8 1 8-2 8 0 9 0 8-1 8-3 8 1 8 1 8 0 8 0 8 3 8 1 9-1 8 0 8 2 8-2 8 4 7 1 8 4 7 2 8 5 7 4 8 4 7 4 8 3 6 7 7 5 6 2 7 8 6 5 7 7 4 4 3 6 4 11 4 9 3 6 4 9 2 7 3 8 2 8 2 12 3 3 2 7" stroke="#d35a62" stroke-width="2.2" fill="none" transform="scale(.5)"/><path d="M1642 1845l6-9 6-7 6-4 8 1 8-1 8-2 8 2 8-1 8 1 8 3 9 0 8 0 8-1 8 2 8-5 8 3 9 3 8-1 8-2 8 1 8-2 9 2 8 3 8 0 8-1 8-2 8 3 9-2 8 0 8-2 8 2 8 0 8 0 9 2 8-1 8 0 8 0 8 1 8 0 8 3 8-2 9 0 8-3 8 1 8-4 8 2 8-4 8 1 8-4 9 0 8 3 8-5 8 1 8 1 8 1 8 3 9-1 8 0 8 0 8 1 8 6 8 1 8-4 8 2 8-1 9 2 8 3 8 1 8 0 8 1 7 1 8 3 7 7 8 3 7 5 8 4 7 3 8 3 5 6 6 7 6 2 6 6 6 6 6 6 5 11 5 8 4 7 5 12 5 4 3 13 3 5 3 7 3 9 3 8 3 9 3 5M1642 1861l6-8 6-7 6-8 8 1 8-4 8 3 8-1 8-4 8-1 8-4 9 1 8 1 8 1 8-1 8-1 8 2 9 0 8 2 8 1 8 1 8-1 9 1 8 1 8 0 8-1 8-1 8 3 9 0 8 1 8 5 8-5 8 3 8 2 9-1 8 1 8-2 8 0 8 1 8-1 8-1 8-1 9 3 8-1 8 0 8 0 8 0 8 1 8-2 8-1 9-2 8 1 8 0 8-3 8 3 8 1 8 2 9-3 8-1 8 2 8 0 8-1 8 1 8 6 8 0 8-4 9 2 8 2 8 1 8 0 8 1 7 2 8 4 7 5 8 3 7 5 8 3 7 4 8 2 5 8 6 3 6 8 6 9 6 8 6 0 5 13 5 8 4 10 5 8 5 6 3 9 3 9 3 8 3 7 3 9 3 8 3 6M1642 1858l6-7 6-4 6-8 8-2 8 1 8-2 8 2 8 0 8-4 8 0 9 0 8-4 8 1 8 3 8 2 8-4 9 1 8-2 8-1 8-1 8 0 9 3 8-2 8 2 8-1 8 1 8 2 9 2 8 0 8 3 8-2 8-1 8-4 9 3 8 5 8 1 8-5 8 0 8 4 8 1 8-5 9 1 8-3 8 1 8 1 8 0 8-3 8 4 8-2 9 1 8-2 8-3 8 0 8 3 8 0 8 3 9-4 8 2 8-6 8 2 8 0 8 3 8 0 8 2 8-1 9 3 8 0 8-2 8 4 8 2 7 1 8 6 7 9 8 4 7 1 8 6 7 3 8 2 5 8 6 3 6 11 6 1 6 11 6 5 5 5 5 13 4 9 5 7 5 4 3 11 3 1 3 12 3 13 3 5 3 13 3 7M1642 1863l6-6 6-8 6-5 8-4 8 0 8 5 8 1 8 0 8 0 8-1 9-1 8 0 8-2 8 0 8 2 8 2 9-5 8 2 8 5 8-1 8-3 9 0 8-1 8-3 8 1 8 0 8-1 9 1 8-2 8-1 8-3 8 2 8 2 9-1 8-2 8-1 8 2 8 0 8-2 8 2 8 1 9 0 8 1 8 1 8 3 8 1 8 0 8-2 8 6 9-3 8 0 8 0 8 0 8-1 8-2 8-1 9-1 8 3 8 0 8-4 8 2 8 1 8 1 8 5 8-3 9 0 8 4 8 0 8 0 8 7 7-1 8 5 7 2 8 5 7 7 8 0 7 6 8 3 5 9 6 3 6 7 6 8 6 4 6 7 5 6 5 11 4 10 5 5 5 9 3 9 3 12 3 10 3 3 3 7 3 11 3 6M1642 1853l6-6 6-9 6-8 8-2 8-1 8 1 8 1 8-1 8-5 8 6 9 2 8-1 8 1 8 0 8 0 8 0 9 0 8 3 8 0 8 0 8-2 9 1 8 1 8 2 8-5 8 2 8 1 9 1 8 1 8-1 8-1 8 2 8-3 9-3 8 1 8-2 8 0 8 2 8 1 8 2 8 1 9 0 8 2 8 0 8-3 8-1 8 5 8-4 8 0 9 2 8-2 8 1 8 1 8 1 8 3 8-1 9 3 8-2 8-2 8 2 8 1 8 2 8 2 8 0 8 2 9 0 8-2 8-1 8 3 8-3 7 4 8 3 7 4 8 6 7 4 8 3 7 6 8 3 5 3 6 5 6 8 6 9 6 7 6 4 5 8 5 8 4 8 5 9 5 8 3 6 3 10 3 8 3 10 3 8 3 7 3 7M1642 1865l6-8 6-7 6-8 8 2 8-1 8-2 8 0 8-1 8-4 8 1 9-1 8 0 8 0 8 1 8 0 8-2 9-2 8 2 8 2 8 4 8 0 9 4 8-2 8 5 8-4 8 4 8 1 9-5 8 1 8-3 8-4 8 3 8 0 9 3 8-7 8 6 8-4 8 1 8 0 8 0 8 2 9-5 8 1 8-2 8 0 8-1 8 0 8 4 8-2 9-1 8 3 8-3 8 0 8 0 8 7 8 1 9-3 8 1 8 4 8 1 8 2 8-1 8 1 8 2 8 3 9-2 8-1 8 3 8 1 8 2 7-4 8 7 7 2 8 5 7 3 8 5 7 5 8 6 5 7 6 2 6 6 6 7 6 2 6 11 5 8 5 8 4 5 5 13 5 2 3 12 3 10 3 10 3 7 3 9 3 10 3 7" stroke="#8a1a24" stroke-width="2.2" fill="none" transform="scale(.5)"/><path d="M1612 2000l1 200 1 150 4-190 6-180" stroke="#d35a62" stroke-width="2.4" fill="none" transform="scale(.5)"/><path d="M1606 2040l2 220 2 60" stroke="#f2a2af" stroke-width="2.4" fill="none" transform="scale(.5)"/><path d="M1612 2140l0-5 0-3 1-4 0-5 0-5 1-6 0-11 0-4 1-6 0-10 1-6 0-8 1-8 0-7 0-6 1-7 0-8 1 0 0-6 1-8 0-7 1-5 0-5 1-8 0-7 1-8 0-5 1-7 0-6 1-8 1-6 0-6 1-8 1-3 0-5 1-5 1-8 1-10 1-7 2-8 1-5 1-5 2-6 1-3 1-4 2-6 4-9 3-7 5-2 6-1 4-3 3-1 3-1 5 0 10 3 15 0 4 2 4 1 4-1 5-2 4-2 5 3 5-3 6-3 5 0 6 4 5 3 6-3 6-3 6 0 7 3 6 3 7-3 6-1 7 0 7 0 6-1 7-1 7 0 7 3 7-3 7 1 7 1 7 3 7-2 7 0 5-1 6 3 6-3 6 0 6 1 6 3 6 0 6-1 7 1 6-2 7-2 6 2 7 3 7-1 6-1 7-3 7 2 7 2 6-2 7 2 7 1 6-3 7-1 6-1 7-2 6 3 6 2 6 2 6-4 6-3 6 0 6 0 5 0 5 5 5-2 5 1 5-1 5-2 4 2 11 1 9-1 9 3 8-1 7 6 6-3 5-3 6 1 4 3 5 4 4 0 5 0 5 5 5-3 7-1 6 5 6 2 6 4 5 2 6 0 5 2 5 0 5 1 4 3 5 7 5 8 5 4 5 2 5 10 4 1 4 4 3 5 4 5 4 2 4 9 3 2 4 3 3 8 3 4 3 11 2 8 3 7 2 6 3 5 2 7 2 9 2 9 2 4 2 3 1 3" stroke="#7f111b" stroke-width="12" fill="none" stroke-linejoin="round" transform="scale(.5)"/><path d="M1610 2171l0-3 0-5 1-7 0-3 0-6 1-5 0-7 0-8 1-6 0-4 1-4 0-6 1-6 0-8 0-11 1-7 0-8 1-7 0-4 1-3 0-10 0-7 1-7 0-5 1-6 0-4 1-7 0-8 1-4 0-6 1-7 0-3 1-10 0-5 1-7 0-5 1-8 0-4 1-5 1-6 1-8 1-7 1-7 1-6 0-5 1-7 2-6 1-4 1-3 1-7 1-1 3-6 2-8 3-7 4-6 5-5 4-5 3 2 3-2 4 0 7 2 9 0 14-2 4 1 4 2 4 2 5-1 4-1 5 1 6-1 5-1 5-2 6-3 6 0 6 2 6 1 6 1 6 0 6 4 7-3 6 2 7 2 7-1 7-1 6 3 7-2 7 4 7-5 7 1 7 1 7-3 7 1 7 0 5-3 6 1 6 0 6-3 6 4 6 1 6 2 6-1 7 2 6-2 7-1 6 0 7-2 7-2 6 3 7-4 7 3 7-2 6 2 7 0 7 0 6 3 7 0 6 1 7 0 6 2 6-3 6 2 6-3 6-4 6 1 6 3 5 2 5-2 5-1 5 1 5 1 5 1 4-2 11 0 9-2 9 1 8-2 7 2 6 3 5-1 6 0 4 1 5 1 4 0 5 2 5-2 5 4 7 2 7 1 7 1 6 1 6 3 6 3 5 5 5 3 6 2 5 4 6 0 5 5 6 2 5 6 4 5 5 4 4 5 4 8 4 6 3 6 3 5 3 3 2 3 2 7 3 9 2 5 2 3 2 8 2 4 2 10 2 6 2 8 1 2 1 3" stroke="#d0525a" stroke-width="12" fill="none" stroke-linejoin="round" transform="scale(.5)"/><path d="M1609 2169l0-2 0-4 0-7 1 2 0-8 0-6 1-4 0-8 1-6 0-8 0-6 1-6 0-7 1-9 0-7 1-11 0-4 0-8 1-8 0-4 1-7 0-6 1-7 0-8 1-6 0-7 0-6 1-5 0-6 1-6 0-5 1-9 0-3 1-9 1-4 0-3 1-4 0-6 1-7 1-9 1-5 1-10 1-6 1-6 1-8 1-4 1-4 1-6 2-7 1-5 2-9 2-5 3-7 4-5 5-3 4-2 3-4 4 2 4 0 5-2 8-1 9-3 13 3 4 2 4-2 4 0 5 2 4 2 5-1 6 0 5-2 5 3 6-1 6-1 6-1 6-2 6 2 6 0 6 0 7-3 6 0 7-3 7 4 7 4 6 2 7-1 7 3 7-2 7 1 7 0 7 1 8-3 5 3 6-6 5 4 6 1 6-3 6 2 6-2 7 2 6 0 7 1 6-3 7 3 7-3 7 0 6 2 7 1 7-2 7 0 7-3 6 0 7 0 7-1 7 1 6 4 7 2 6-1 6-3 7 2 6 1 6 1 6-3 5 1 6 2 5 1 5-3 5-1 5 3 4-1 5-2 11 3 10 0 9-1 8-1 7 3 6-1 6 1 5-3 5-2 4-2 5 3 4 2 4 0 5 0 8 3 8 1 5 6 6 5 5 0 4 1 6 2 5 2 5 3 6 4 5 5 5 7 5 4 4 5 5 4 5 3 4 4 4 4 5 5 3 5 4 4 3 3 2 4 3 7 2 4 2 5 2 8 2 7 2 8 2 6 2 7 2 7 2 6 1 8 2 3 2 9 1 8 1-1" stroke="#f4a8b4" stroke-width="12" fill="none" stroke-linejoin="round" transform="scale(.5)"/><path d="M2322 1944l1 7 3 4 2 7 3 8 2 4 2 7 3 10 3 8 2 8 2 3" stroke="#7f111b" stroke-width="13.0" fill="none" stroke-linejoin="round" transform="scale(.5)"/></g>
<g><path d="M811.5 897.5v6M811.5 1261.2v-6M896.6 897.5v6M896.6 1261.2v-6M981.7 897.5v6M981.7 1261.2v-6M1066.8 897.5v6M1066.8 1261.2v-6M1151.9 897.5v6M1151.9 1261.2v-6M1237 897.5v6M1237 1261.2v-6M1322.1 897.5v6M1322.1 1261.2v-6M790.2 1223.6h6M1343.4 1223.6h-6M790.2 1160.9h6M1343.4 1160.9h-6M790.2 1098.2h6M1343.4 1098.2h-6M790.2 1035.5h6M1343.4 1035.5h-6M790.2 972.8h6M1343.4 972.8h-6M790.2 910h6M1343.4 910h-6" stroke="#3a3a3a" stroke-width="2" fill="none"/><rect x="790.2" y="897.5" width="553.1" height="363.8" fill="none" stroke="#3a3a3a" stroke-width="2"/><text x="779" y="1230.1" text-anchor="end" font-size="25" stroke="#1a1a1a" stroke-width="0.35">10</text><text x="779" y="1167.4" text-anchor="end" font-size="25" stroke="#1a1a1a" stroke-width="0.35">15</text><text x="779" y="1104.7" text-anchor="end" font-size="25" stroke="#1a1a1a" stroke-width="0.35">20</text><text x="779" y="1042" text-anchor="end" font-size="25" stroke="#1a1a1a" stroke-width="0.35">25</text><text x="779" y="979.3" text-anchor="end" font-size="25" stroke="#1a1a1a" stroke-width="0.35">30</text><text x="779" y="916.5" text-anchor="end" font-size="25" stroke="#1a1a1a" stroke-width="0.35">35</text><text x="802.5" y="1288.2" font-size="25" textLength="22.8" lengthAdjust="spacingAndGlyphs" stroke="#1a1a1a" stroke-width="0.35">0°</text><text x="873.4" y="1288.2" font-size="25" textLength="36.6" lengthAdjust="spacingAndGlyphs" stroke="#1a1a1a" stroke-width="0.35">2°E</text><text x="959.4" y="1288.2" font-size="25" textLength="36.6" lengthAdjust="spacingAndGlyphs" stroke="#1a1a1a" stroke-width="0.35">4°E</text><text x="1043" y="1288.2" font-size="25" textLength="37" lengthAdjust="spacingAndGlyphs" stroke="#1a1a1a" stroke-width="0.35">6°E</text><text x="1128.6" y="1288.2" font-size="25" textLength="36.6" lengthAdjust="spacingAndGlyphs" stroke="#1a1a1a" stroke-width="0.35">8°E</text><text x="1205.1" y="1288.2" font-size="25" textLength="49.1" lengthAdjust="spacingAndGlyphs" stroke="#1a1a1a" stroke-width="0.35">10°E</text><text x="1285.8" y="1288.2" font-size="25" textLength="50.2" lengthAdjust="spacingAndGlyphs" stroke="#1a1a1a" stroke-width="0.35">12°E</text><text x="698" y="906.8" font-size="32" font-weight="bold">F</text><text transform="translate(720 1068) rotate(-90)" x="-42" font-size="25" textLength="84" lengthAdjust="spacingAndGlyphs" stroke="#1a1a1a" stroke-width="0.3">Salinity</text></g>
<clipPath id="cG"><rect x="94.7" y="1341.6" width="553.1" height="363.6"/></clipPath>
<g><path d="M137.3 1341.6V1705.2M158.6 1341.6V1705.2M179.8 1341.6V1705.2M222.4 1341.6V1705.2M243.6 1341.6V1705.2M264.9 1341.6V1705.2M307.5 1341.6V1705.2M328.8 1341.6V1705.2M350 1341.6V1705.2M392.6 1341.6V1705.2M413.8 1341.6V1705.2M435.1 1341.6V1705.2M477.7 1341.6V1705.2M498.9 1341.6V1705.2M520.2 1341.6V1705.2M562.8 1341.6V1705.2M584 1341.6V1705.2M605.3 1341.6V1705.2M94.7 1681H647.9M94.7 1656.7H647.9M94.7 1632.5H647.9M94.7 1608.2H647.9M94.7 1559.8H647.9M94.7 1535.5H647.9M94.7 1511.3H647.9M94.7 1487H647.9M94.7 1438.6H647.9M94.7 1414.3H647.9M94.7 1390.1H647.9M94.7 1365.8H647.9" stroke="#bbbbbb" stroke-width="1.9" stroke-dasharray="1.9 5.6" fill="none"/><path d="M116 1341.6V1705.2M201.1 1341.6V1705.2M286.2 1341.6V1705.2M371.3 1341.6V1705.2M456.4 1341.6V1705.2M541.5 1341.6V1705.2M626.6 1341.6V1705.2M94.7 1584H647.9M94.7 1462.8H647.9" stroke="#dadada" stroke-width="1.5" fill="none"/></g>
<g clip-path="url(#cG)"><path d="M263 3269l7 4 10-2 3-5 3-8 4-10 3-10 4-7 4-9 4 0 6-3 6 12 6 10 7 4 7 6 9-3 8 6 9 0 9 2 8 3 9 1 7 7 9 1 7-4 9-2 7 3 7 1 8 2 8 2 8 5 7 7 6 9 7 6 7 5 8 6 6 5 9 2 8 2 8 2 9 3 8 2 8 1 9 0 8 4 8 7 9-2 8 2 8 2 9 2 8 3 9-3 8 3 8-3 9 1 8-6 8 2 7-2 7-3 8-8 7-4 6-8 7-7 5-6 6-5 4-11 5-13 5-5 6-2 8 0 8 1 8 0 9 0 9 4 8 1 8 2 9-1 8 3 8-2 9-1 8-1 8 6 8-1 9-6 8-1 8-5 8-3 9-7 8-1 9-6 9-2 9-2 10-1 9-1 9 0 8-5 10-1 8-2 9-3 7-1 8 2 7 1 7 5 6 8 9 10 8-1 9-3 9-2 10-3 9-4 9 0 9-11 9-5 8-4 8-2 8-5 7-3 7-10 7-3 7-4 7-7 7 2 8-3 9 4 9-2 8 0 7-7 4-5 3-10 2-8 2-8 2-12 2-5 1-10 1-3 0 44-1 7-1 7-2 9-2 9-2 8-2 7-3 6-4 7-7 5-8 2-9 0-9-2-8 2-7 2-7 2-7 7-7 8-7 6-7 4-8 4-8 3-8 3-9 2-9 3-9 6-9 0-10 0-9 8-9 1-8-1-9-5-6-1-7-7-7-3-8-3-7-1-9 2-8 1-10 2-8-3-9 7-9 1-10 3-9 2-9 8-9 3-8 2-9 3-8 6-8 4-8 5-9 1-8 0-8-1-8 1-9-1-8-4-8 1-9 3-8 2-8 1-9-7-9-2-8 1-8-2-8 2-6 9-5 1-5 12-4 5-6 6-5 5-7 8-6 3-7 5-8 3-7 6-7 5-8 4-8 3-9 3-8-2-8 0-9 4-8 0-9-2-8-1-8-3-9-1-8-2-8-4-9 2-8-3-8-3-9-4-8-5-8-1-9-7-6-5-8-10-7-5-7-11-6-3-7-5-8-4-8-5-8-3-7-2-7 1-9-1-7-1-9 3-7-2-9-2-8-5-9 3-9 0-8 1-9-5-7-3-7-9-6-8-6-11-6-2-4 4-4 11-4 8-3 10-4 8-3 4-3 10-10 9-7-1z" fill="#35b6ea" opacity="0.3" transform="scale(.5)"/><path d="M254 3280l4 7 5 8 4 2 4-1 5-3 4-7 4 6 4-10 4-5 1-3 1-5 1-8 1-41 1 26 2 0 1-9 1-6 1-1 1-3 1-18 4 12 3 1 4 5 3-3 4 9 4 10 4-4 5 0 4 7 5-5 5 12 4-2 6 0 5 5 6 3 5-3 5 12 6-5 5 7 5 2 5-5 5-7 5 5 5-4 5 6 5 5 5 5 5 9 5 1 5-3 5 3 4 3 5 4 5 6 5 3 5-3 5-52 5 61 4 0 5-1 5 3 5 9 5 0 5-5 5-24 5 16 4 9 5 7 5 2 5-6 4-1 5-4 5 10 5 4 4-5 5 6 5 4 4-8 5 2 5-1 5 0 5-3 6 5 5 2 5 6 5-5 5 1 5-4 5 5 5-2 5 1 5 2 5-7 5 9 4-70 5 66 5-39 4 40 5 0 5-2 4 0 5 2 5-2 4-29 5 30 5-4 4 2 5-1 5-1 5-6 5-1 6 2 5-2 5-2 5 12 5-1 5-3 5 1 5-7 5-8 5 11 5-6 5 5 5 0 5-1 5 4 5-3 6-5 5-1 5-4 6 1 5-1 5-3 6-9 5 12 5-5 5-7 6-2 5 0 5 1 5 0 6-38 5 32 5 6 5-6 5 4 6-6 5-4 5 8 5-4 5-1 5-2 6 5 5 3 5-11 5 5 5 1 5 0 6 6 5-42 5 36 5-6 5-2 5-19 6 24 5-1 5-2 5 2 5 6 5-4 6 3 5-1 5-9 5 10 5-3 5 4 6-4 5 0 5-3 5 1 5-4 4 2 5-1 4-4 5 10 5-48 4 32 5-5 5-2 4-9 5 0 4-4 5 4 5-9 4 3 5-6 4-1 5-4 4-7 4-63 4 52 5-16 4 6 4 0 4-8 4-4 4-1 4-40 4 29 5-6M254 3312l4 7 5-12 4 14 4 0 5-3 4-8 4-7 4-1 4-2 1 0 1-2 1-2 1-4 1-10 2 2 1-6 1-10 1-1 1-8 1-5 4 1 3 4 4-5 3 4 4-8 4 4 4 10 5 2 4 3 5 12 5-9 4 5 6 1 5 6 6 2 5 1 5 2 6 5 5 11 5 2 5 2 5 3 5-2 5 8 5-9 5 7 5-5 5 5 5-7 5 3 5-26 4 35 5 5 5 2 5 2 5-6 5-3 5 8 4 2 5-1 5 2 5 5 5 4 5-1 5 1 5-1 4 3 5-6 5 5 5-5 4 1 5 10 5 0 5-16 4 21 5 4 5-16 4 23 5-5 5-2 5 5 5 5 6 7 5-4 5 0 5-9 5 1 5 2 5-3 5-2 5 3 5 5 5-8 5 1 4-4 5 1 5-5 4-2 5-1 5 5 4-6 5-4 5 1 4-6 5 5 5-5 4-1 5 0 5-2 5-11 5 7 6 1 5-5 5-3 5-2 5 2 5-5 5 0 5 1 5 6 5 5 5-11 5 1 5 7 5 2 5-18 5 17 6 13 5-15 5 21 6 1 5-4 5 1 6-6 5 6 5 0 5-7 6 6 5 4 5-8 5 0 6 0 5 6 5-1 5-9 5 6 6-69 5 59 5-2 5 6 5-7 5-7 6 12 5-4 5 2 5 5 5 0 5-4 6-1 5 3 5 0 5 2 5-10 5 9 6-10 5 0 5 4 5-4 5-3 5-58 6 58 5-3 5 5 5-10 5 6 5-1 6-15 5-1 5-3 5 4 5-10 4 5 5-53 4 42 5 2 5-5 4 0 5-13 5-3 4-20 5 16 4-2 5 3 5-1 4-6 5 7 4 0 5-5 4-10 4-10 4 3 5-9 4-7 4 0 4-3 4-7 4-8 4-3 4 7 5-7M254 3308l4-11 5 10 4-2 4 5 5-9 4-16 4 12 4-2 4 1 1-8 1-35 1 27 1-9 1 1 2-6 1-6 1-6 1-5 1-6 1-15 4 2 3 12 4 13 3-2 4 6 4 1 4 4 5 2 4 7 5 8 5-2 4-3 6 6 5 1 6-55 5 55 5 3 6 3 5 3 5 0 5-9 5 8 5 8 5-40 5 50 5-16 5 14 5-1 5 3 5 1 5-2 4 10 5-6 5 4 5-8 5 0 5-5 5 6 4 3 5 5 5-7 5 9 5-10 5 2 5 0 5 11 4-5 5-1 5 7 5-28 4-5 5 49 5 4 5 0 4 3 5 3 5 11 4 6 5-14 5 10 5-3 5 8 6-4 5 5 5 0 5 3 5 2 5 1 5-4 5 1 5 3 5 2 5-24 5 19 4 0 5-1 5-7 4-6 5 5 5-5 4-17 5 23 5-32 4 24 5-4 5 3 4-9 5-1 5-6 5 1 5-7 6 0 5 2 5-9 5-41 5 37 5-2 5 3 5-1 5 7 5-4 5-1 5 3 5 5 5-4 5 4 5 3 6 1 5 2 5-3 6-19 5 20 5 9 6 2 5 3 5 2 5-5 6 5 5-6 5 1 5 6 6-14 5-2 5 5 5-36 5 39 6-4 5-3 5-3 5-6 5-14 5 15 6-5 5 4 5-3 5 3 5-15 5 0 6-3 5-3 5 6 5-42 5 39 5-17 6 15 5 0 5 0 5-7 5 3 5-5 6 1 5-1 5-4 5 1 5 4 5 4 6-3 5-10 5 7 5-18 5 22 4-5 5-36 4 4 5 33 5-5 4 2 5 1 5-8 4-8 5 0 4-3 5 6 5-2 4 0 5-4 4-6 5-16 4 8 4-8 4 4 5 1 4-6 4-15 4-2 4-3 4-4 4-6 4 1 5-10M254 3303l4 2 5-3 4 0 4 11 5-3 4-7 4-1 4-11 4 3 1-10 1-9 1-27 1 21 1-3 2-4 1-4 1-10 1-9 1-13 1 8 4-5 3 5 4 9 3-9 4 17 4-1 4 10 5-8 4 2 5-14 5 16 4-4 6 4 5 4 6-3 5 5 5-1 6-4 5 5 5-1 5 4 5 4 5 0 5-8 5 9 5 4 5 4 5 3 5-3 5 7 5 5 4-1 5 12 5 1 5-1 5 7 5-14 5-12 4 30 5 1 5-4 5-54 5 61 5 3 5-7 5 10 4-4 5 9 5-2 5 6 4-4 5 2 5 1 5-7 4 4 5-2 5 12 4-3 5 6 5-2 5 0 5-7 6 6 5-4 5-4 5 11 5-3 5 0 5-4 5 8 5-5 5-3 5 9 5 0 4-7 5 3 5 3 4 1 5-6 5 2 4-23 5 5 5 15 4-2 5-5 5 3 4-2 5-7 5-11 5 9 5-10 6 1 5 0 5-1 5-8 5 4 5-3 5-6 5-7 5 8 5 10 5-6 5 7 5-3 5-33 5 28 5 4 6 0 5 1 5 5 6 1 5 1 5-3 6-2 5 2 5 8 5-7 6 7 5-8 5-2 5 8 6-3 5-1 5-4 5-3 5-5 6 2 5 0 5-5 5 3 5 1 5 2 6 6 5-3 5 5 5-29 5-2 5 31 6-4 5 3 5-1 5-5 5-8 5 1 6 4 5-18 5 14 5-5 5 3 5-61 6 41 5 7 5 3 5-5 5-3 5-7 6 4 5-2 5 1 5 2 5-5 4-2 5 8 4-11 5 3 5-9 4-5 5 1 5-19 4 16 5 7 4-6 5 4 5-5 4-6 5 3 4-13 5 9 4-5 4-3 4 0 5-10 4 0 4-7 4-4 4-30 4 23 4 9 4-6 5-2M254 3325l4 5 5-5 4 6 4 3 5-18 4 15 4-8 4 1 4-15 1-2 1-5 1-15 1-2 1 2 2-39 1 23 1-10 1-37 1 32 1-3 4 6 3 1 4 1 3 10 4 3 4-2 4 11 5 6 4-3 5 2 5-2 4-2 6 9 5-3 6 1 5 7 5-28 6 0 5 18 5 5 5 12 5 2 5-4 5 6 5-3 5 6 5 3 5-5 5 1 5 5 5-75 4 84 5-1 5 0 5 1 5 7 5 3 5-1 4-3 5 9 5-6 5 14 5-3 5 5 5-11 5 7 4-8 5 18 5 1 5 10 4-3 5 3 5-4 5 2 4-2 5 9 5 3 4 5 5 7 5-2 5 0 5-2 6-1 5-27 5 30 5 4 5-28 5 27 5 2 5-2 5 5 5-1 5-4 5-4 4-5 5 7 5-4 4-12 5 6 5-2 4-15 5 7 5-12 4 5 5-6 5 0 4 0 5 0 5-4 5 9 5-12 6-4 5-2 5 2 5-3 5-3 5 2 5-2 5-2 5 2 5-52 5 52 5 2 5 0 5-35 5 40 5 7 6-2 5-2 5-4 6 14 5-6 5-5 6-2 5 0 5 6 5-2 6-5 5 3 5-1 5 5 6 1 5 4 5-4 5-17 5 17 6-3 5 2 5-4 5-4 5 7 5-1 6-14 5 1 5 8 5-2 5 6 5-8 6 2 5-3 5 7 5-4 5 1 5-2 6-14 5 14 5 3 5 3 5-9 5-1 6 4 5 2 5-9 5 2 5 4 5-9 6-6 5 2 5 4 5-6 5 1 4 0 5-12 4 7 5-3 5-10 4-4 5-1 5-4 4-5 5 2 4-6 5-18 5 19 4-7 5 0 4 0 5-6 4-7 4-4 4 3 5-8 4-3 4-4 4 1 4-1 4-5 4-4 4 3 5-26M254 3327l4 4 5 4 4 12 4 3 5-9 4-4 4-9 4-8 4-9 1-20 1 15 1-11 1-8 1 5 2-13 1-5 1-5 1-2 1 5 1-13 4 8 3 3 4-5 3 5 4 1 4 8 4-3 5 0 4 0 5 5 5 3 4-6 6 0 5-3 6 17 5-1 5 3 6-4 5-17 5 20 5 2 5-2 5 5 5 3 5-33 5 40 5-53 5 59 5 1 5 1 5 8 4-12 5 4 5 5 5 0 5-4 5-27 5 41 4-3 5 2 5 6 5 1 5-1 5 3 5-12 5 15 4 6 5 1 5 5 5 2 4-2 5 9 5-21 5 20 4-2 5 12 5-4 4 5 5 0 5-31 5 34 5 2 6 9 5-4 5 4 5 4 5-3 5-37 5 42 5 2 5 6 5-2 5-5 5-3 4-47 5 40 5-6 4 3 5 3 5-2 4-12 5-33 5 30 4 2 5-16 5 6 4-1 5 0 5-86 5 87 5 3 6-6 5-8 5-2 5 13 5-9 5 0 5 5 5-3 5 3 5-1 5 1 5-4 5 1 5-50 5 44 5 3 6-5 5 0 5-2 6-1 5-3 5-55 6 51 5 1 5 3 5 2 6 1 5 3 5 0 5 5 6-6 5-11 5-5 5 11 5-7 6 3 5-7 5 7 5-5 5 7 5-8 6-22 5-3 5-13 5 34 5 1 5-10 6 12 5 1 5 4 5-3 5-2 5 7 6-29 5 31 5-7 5-1 5-2 5-2 6 5 5 0 5-9 5 7 5-42 5 41 6 0 5-3 5 3 5-1 5 0 4-3 5-5 4-6 5-6 5 6 4-6 5 3 5-10 4-2 5 0 4 1 5-12 5 10 4-36 5 31 4-4 5-1 4-14 4 2 4-2 5-1 4-13 4-1 4-5 4 0 4-10 4-5 4 4 5-11M254 3339l4-6 5 4 4 3 4 14 5-5 4-20 4-2 4 2 4-2 1-10 1-4 1-11 1-31 1 27 2-27 1-10 1 19 1-9 1-3 1-5 4-10 3 23 4-4 3 14 4 0 4 0 4 2 5 0 4-36 5 45 5 2 4 2 6 3 5 3 6-1 5 3 5 9 6 0 5 2 5 13 5-6 5 1 5 5 5 3 5-5 5 11 5 1 5-5 5 9 5-3 5 2 4 4 5 2 5-1 5-40 5 43 5 0 5 0 4-2 5 6 5 2 5-7 5 1 5 0 5-2 5-22 4 41 5 0 5-9 5 6 4 4 5-1 5 4 5-4 4 5 5-6 5 1 4 6 5 11 5-3 5-1 5 4 6 7 5-21 5 21 5 2 5 1 5 0 5-3 5 4 5-5 5-2 5-16 5 20 4 0 5-7 5-14 4 6 5-5 5 2 4 2 5-1 5-5 4 3 5-3 5-4 4-3 5-4 5 4 5-3 5-5 6-19 5 24 5-5 5-7 5 8 5-3 5 4 5-14 5 23 5-8 5 17 5-5 5 4 5 3 5-8 5-1 6-1 5-1 5-1 6 4 5-8 5-1 6 1 5 0 5 3 5 5 6-6 5-1 5-9 5 8 6-1 5-13 5 6 5 0 5-3 6-4 5 2 5-3 5-10 5-1 5 8 6-7 5-2 5 6 5-1 5-5 5 5 6-4 5-4 5-14 5 15 5 7 5-4 6-4 5 8 5-13 5 6 5-5 5 4 6 2 5 7 5-7 5-4 5-1 5 0 6 6 5-4 5 5 5-5 5 7 4-2 5-7 4-2 5-5 5-1 4 0 5-11 5 1 4-2 5 1 4-7 5 4 5-4 4-7 5 0 4-3 5 1 4-2 4-6 4 2 5-10 4-2 4-11 4 7 4-15 4-4 4 1 4-10 5 1M254 3299l4 3 5 11 4 4 4 3 5-6 4 1 4-7 4-51 4 36 1-8 1 2 1-17 1 9 1-6 2-10 1 1 1-10 1-6 1-9 1 4 4 3 3 7 4 3 3 7 4 4 4 0 4 8 5-8 4 8 5-59 5 68 4-6 6 3 5 2 6 1 5 6 5-2 6 2 5-3 5 2 5 4 5-2 5-5 5 6 5 7 5-2 5 1 5 0 5 3 5 6 5 0 4-1 5-4 5 4 5-7 5 9 5 5 5 5 4 2 5 2 5-4 5 7 5-1 5 3 5-23 5-16 4 38 5 8 5-6 5 7 4-2 5-91 5 82 5 13 4 4 5-3 5 4 4-51 5 48 5 14 5 3 5-8 6-1 5 2 5-10 5 5 5 10 5-8 5 6 5-3 5 0 5 12 5-7 5-7 4-1 5-2 5-17 4 12 5 2 5-4 4-4 5-3 5 2 4 4 5-1 5 2 4 4 5 2 5-4 5 3 5-12 6 2 5-6 5 0 5-2 5-1 5 0 5 0 5 4 5-3 5 4 5 6 5-5 5 2 5-5 5-2 5 1 6 4 5-9 5 15 6-5 5-5 5 2 6-3 5-1 5 3 5-17 6 13 5 0 5-6 5 7 6-8 5 3 5 0 5-3 5 1 6 0 5-1 5 4 5-9 5 8 5-7 6-4 5-35 5 23 5 13 5 4 5-3 6-2 5 6 5 11 5-7 5-23 5 14 6-14 5 19 5 3 5-2 5-4 5-14 6 20 5-6 5-5 5 6 5-10 5 1 6 4 5-7 5 0 5 4 5-5 4-2 5 3 4 0 5-8 5-5 4-3 5-7 5 8 4-33 5 21 4 6 5-7 5-4 4-38 5 13 4 14 5 4 4-16 4 4 4 8 5-6 4-12 4 3 4-2 4-3 4-8 4-2 4-12 5-2M254 3329l4-2 5 5 4-31 4 21 5 21 4-9 4-7 4-7 4-11 1 5 1-2 1-8 1-3 1-3 2-4 1-5 1-2 1-8 1-2 1-6 4 3 3 0 4 7 3 9 4 5 4-1 4 9 5 2 4-6 5 13 5 10 4-7 6-4 5 5 6-1 5 1 5-5 6 4 5-3 5 4 5-6 5 2 5 3 5-9 5 6 5 0 5 5 5 3 5-3 5-2 5-1 4-7 5 10 5-1 5-3 5 1 5 2 5-3 4 5 5-2 5-25 5 25 5-4 5 8 5-52 5 58 4-3 5 1 5 4 5-33 4 33 5 13 5-13 5 16 4 6 5 2 5 4 4 5 5 0 5-1 5 0 5 4 6 5 5-3 5 12 5-7 5 5 5-2 5 2 5-27 5 22 5 12 5-4 5 2 4-7 5-3 5 4 4-7 5 3 5-3 4-28 5 34 5-1 4-9 5 7 5-3 4-1 5-44 5 39 5-13 5 6 6-4 5 4 5-8 5 3 5-1 5-1 5 0 5 4 5 0 5-5 5 7 5 5 5 2 5 0 5 4 5-2 6 0 5-17 5 18 6-1 5-3 5 1 6 4 5-4 5 10 5 0 6-1 5-1 5-5 5 0 6-1 5-9 5 4 5-6 5-3 6-5 5-10 5 11 5 7 5-14 5-4 6 8 5 7 5-3 5-50 5 31 5 14 6 2 5-3 5 5 5-6 5 5 5-2 6-3 5-2 5-7 5-5 5 6 5-9 6 6 5 0 5 1 5 4 5 1 5-9 6 6 5-3 5-1 5 5 5-27 4 30 5-31 4 12 5 4 5-18 4-6 5 9 5-2 4 2 5-6 4-62 5 61 5-5 4 2 5-8 4-1 5-2 4 0 4-13 4-3 5-9 4 8 4-8 4-5 4-2 4 3 4-3 4-2 5-5M254 3297l4 7 5 10 4-6 4-2 5-2 4-11 4 5 4-20 4 7 1-4 1-19 1-1 1 3 1-4 2-8 1-10 1 1 1-5 1-6 1-8 4 3 3 7 4-56 3 57 4 6 4-1 4-7 5 15 4 4 5 4 5 3 4 3 6-1 5 3 6-1 5 0 5 16 6-8 5-51 5 59 5 3 5-8 5 7 5 3 5-2 5 2 5 6 5 3 5-2 5-5 5 8 4 0 5 6 5-3 5-2 5 5 5 6 5 2 4 1 5-6 5 2 5 6 5-3 5 0 5 3 5 9 4 4 5 6 5-6 5-2 4-49 5 50 5-5 5 8 4 7 5 4 5-3 4-3 5 11 5-1 5 2 5 3 6-6 5 2 5 18 5-9 5-11 5 14 5-1 5 1 5-8 5 4 5-6 5 5 4-6 5 2 5-5 4 2 5-8 5 0 4-4 5 3 5-1 4-8 5-8 5 6 4-13 5 8 5-3 5 2 5-14 6 8 5-8 5 8 5-43 5 36 5-3 5 2 5 15 5-9 5 2 5 3 5-2 5-6 5 14 5-3 5 4 6-2 5 5 5-1 6 0 5 5 5-7 6 9 5 2 5-2 5 0 6-5 5-1 5-1 5-7 6-76 5 75 5 7 5 0 5-2 6-2 5-4 5-6 5 8 5 2 5-4 6 11 5-11 5-6 5 6 5 6 5-2 6 3 5-4 5-8 5-58 5 58 5-2 6-7 5 0 5 2 5-2 5-6 5-4 6 4 5-1 5-1 5-8 5 1 5-7 6 1 5-2 5-6 5-1 5 0 4-3 5-13 4 1 5 4 5-2 4 5 5 4 5-12 4-3 5-7 4 7 5 5 5 1 4-1 5-5 4-6 5-14 4 9 4-4 4-2 5 2 4-15 4 4 4-6 4 2 4-6 4-11 4 5 5-1M254 3289l4 4 5 2 4 9 4-2 5 0 4-4 4 0 4-2 4-10 1-4 1-3 1 0 1-4 1-12 2-3 1-16 1 7 1-3 1-44 1 30 4 3 3 9 4-4 3 16 4-6 4-12 4 28 5-5 4-1 5 1 5 6 4 5 6-21 5 21 6 3 5 7 5-3 6-3 5-19 5 23 5 3 5 0 5-2 5 4 5 2 5-2 5-4 5 4 5 5 5 3 5 6 4-11 5-1 5 1 5-3 5 15 5-7 5 3 4 5 5-3 5-27 5 26 5 4 5 7 5 2 5-1 4-5 5 5 5 7 5 6 4-1 5 1 5-4 5-4 4 18 5 3 5 1 4 8 5-10 5 4 5-20 5 37 6 7 5 2 5-4 5-3 5 1 5-3 5 3 5 7 5 1 5-8 5-28 5 20 4 5 5-28 5 11 4 13 5-8 5 2 4-2 5-6 5 2 4-19 5 7 5-3 4-7 5 0 5-1 5 3 5 4 6-3 5-4 5-10 5 3 5-9 5 9 5-38 5 36 5 3 5 8 5 3 5 3 5-1 5 1 5-1 5-4 6 1 5 1 5 3 6-36 5 33 5 8 6-6 5 2 5 0 5 2 6 1 5 4 5-27 5 22 6 0 5 2 5 2 5 4 5-2 6-4 5 2 5 3 5-3 5-2 5-10 6 7 5-4 5-5 5-11 5-1 5 7 6 1 5-36 5 4 5-19 5 40 5-3 6-6 5 0 5 0 5-10 5 3 5-4 6 5 5-2 5-3 5-2 5 2 5 1 6-3 5 5 5 6 5-3 5-13 4-4 5 8 4 0 5-22 5 17 4 1 5-8 5 0 4-3 5-1 4 0 5-19 5 7 4-5 5-4 4 2 5 4 4-12 4-2 4-10 5 8 4-3 4 0 4-6 4 1 4-6 4-5 4 2 5-11M254 3308l4-2 5 1 4-2 4 18 5-8 4-13 4 7 4-5 4-16 1 0 1 7 1-9 1-4 1-3 2-13 1 0 1-10 1-8 1-7 1-7 4 4 3 4 4 1 3 9 4-2 4 6 4-6 5 1 4 5 5 9 5 0 4-5 6 1 5 12 6-11 5 5 5 1 6 8 5-3 5 2 5-4 5 3 5 4 5 5 5-3 5 5 5 2 5-4 5 7 5-1 5-30 4 23 5-7 5 15 5 5 5 2 5-2 5-56 4 66 5 0 5-5 5 5 5-3 5 9 5-69 5 69 4 4 5 3 5-2 5 6 4 1 5 6 5 7 5-7 4 15 5 4 5-1 4-41 5 48 5 6 5-9 5-2 6 8 5-4 5 3 5 5 5-3 5-4 5 10 5 1 5-5 5 12 5-10 5 1 4-2 5-6 5-6 4 5 5-3 5 2 4-10 5-3 5 1 4-11 5-5 5-9 4-3 5-36 5 40 5-32 5 23 6-4 5 5 5-20 5 13 5 6 5-5 5-1 5-5 5 4 5-10 5 9 5 8 5-4 5-71 5 73 5-4 6-1 5-61 5 67 6-1 5 1 5-20 6 23 5 2 5 2 5-4 6-10 5 12 5-5 5 1 6-27 5 29 5-3 5 0 5 1 6 11 5 1 5-3 5 5 5-5 5-3 6 5 5-3 5-20 5 18 5-9 5 0 6-3 5 4 5-6 5 7 5-3 5-4 6 9 5 3 5-5 5 2 5-20 5 12 6-8 5-2 5 7 5-10 5 1 5-11 6 19 5-6 5-3 5 2 5-1 4-2 5-3 4-9 5-29 5 3 4 15 5-6 5 5 4-3 5 2 4-41 5 24 5 6 4 7 5-7 4-9 5-8 4-3 4-25 4 2 5 6 4-1 4-4 4-6 4 6 4-7 4 4 4-10 5-3M254 3284l4 2 5 12 4 8 4 6 5-5 4-6 4-5 4-3 4-11 1 2 1-6 1-2 1-9 1-6 2-7 1-4 1-5 1-1 1 0 1-8 4-3 3 9 4-8 3 15 4 6 4 0 4-5 5 8 4 1 5 3 5 4 4 8 6-1 5 0 6 3 5 1 5 13 6-2 5-5 5 5 5-6 5-28 5 37 5 3 5-4 5 6 5-1 5 4 5-31 5 28 5 1 4 6 5-2 5-6 5 7 5-3 5 3 5 4 4-2 5 1 5 3 5 0 5-4 5 11 5-2 5 11 4-4 5-4 5 12 5-1 4-3 5 7 5 7 5 6 4-17 5 21 5 7 4-6 5 10 5-4 5 4 5 5 6 0 5-6 5 4 5 5 5 4 5-56 5 51 5 12 5-3 5-4 5 2 5-9 4-1 5-12 5 4 4-11 5-2 5-2 4-15 5 2 5 1 4-2 5 2 5 5 4-13 5 5 5-2 5-11 5-6 6-29 5 42 5-9 5-3 5 8 5 3 5 0 5 3 5 6 5 2 5 4 5-1 5 1 5 3 5 0 5 6 6-5 5 12 5-1 6-6 5-5 5 4 6-11 5 19 5-6 5-6 6 2 5 1 5-5 5-2 6 0 5-4 5-3 5 0 5 1 6 0 5 1 5-5 5-1 5-24 5 24 6-1 5-7 5 4 5-5 5 1 5-6 6 2 5 1 5-1 5-4 5 2 5-24 6 25 5 2 5-1 5-3 5-2 5-39 6 37 5 2 5-37 5 41 5 1 5-7 6-3 5-17 5 22 5-4 5 0 4-7 5-4 4-1 5-28 5 19 4-34 5 30 5 7 4-5 5 3 4-7 5-5 5-20 4 8 5 8 4-4 5-8 4-9 4 0 4 3 5-9 4-7 4 5 4-7 4 0 4-3 4-5 4 4 5-7M254 3347l4 0 5 2 4 2 4 2 5-4 4-3 4 0 4-5 4-1 1-11 1-13 1-3 1-4 1-7 2-9 1-2 1-4 1 2 1-11 1 3 4 0 3 6 4 9 3-8 4 11 4 3 4 1 5 6 4 1 5-1 5 5 4 4 6-6 5-6 6 13 5-16 5 14 6 6 5 10 5-6 5 7 5 7 5-56 5 59 5 5 5-3 5 6 5-11 5 6 5 10 5-53 4 46 5-3 5 11 5-9 5-1 5 9 5 2 4-2 5 7 5 0 5-6 5 6 5 7 5-4 5 5 4-1 5 7 5 2 5 2 4 14 5-2 5 2 5-1 4 6 5 2 5 3 4-51 5 54 5-1 5 2 5 1 6-6 5 9 5-7 5 3 5-3 5 0 5-4 5 7 5-34 5 22 5 3 5-7 4-4 5-3 5 9 4-6 5-6 5 7 4-11 5 5 5-4 4-14 5 5 5-1 4-4 5-1 5-7 5-3 5-1 6-7 5 15 5-7 5 2 5-8 5 7 5-18 5 21 5 8 5 0 5 5 5-2 5 0 5 1 5-1 5 6 6-34 5 29 5 4 6 1 5 3 5 2 6 1 5-60 5 59 5-5 6 7 5-2 5-2 5-50 6 46 5 1 5 4 5 1 5-12 6-6 5-1 5 1 5 8 5 1 5 8 6-6 5 0 5-2 5 3 5-4 5 2 6-29 5 20 5-23 5-12 5 19 5-38 6 49 5 0 5-6 5 1 5 9 5 2 6-13 5-4 5-13 5 11 5-2 5-2 6 1 5-6 5-3 5 3 5-5 4-41 5-6 4 44 5 0 5-8 4-5 5-42 5 32 4 19 5-12 4-44 5 37 5-12 4 6 5-7 4-21 5 22 4-10 4 2 4-5 5 2 4-6 4 4 4-4 4 0 4-3 4-2 4-3 5-11M254 3280l4-18 5 39 4 6 4 3 5-9 4-5 4-7 4 0 4-5 1-7 1-7 1-2 1-10 1-11 2 2 1-7 1-10 1 1 1 0 1-46 4 44 3 2 4-26 3 31 4 1 4 6 4 3 5 3 4 0 5 6 5-2 4 6 6-6 5-3 6 9 5 7 5 8 6-10 5-27 5 28 5-15 5 22 5-1 5 1 5 1 5 10 5-8 5 2 5 7 5-16 5 27 4-2 5-3 5 5 5 2 5 0 5 5 5 1 4 5 5 7 5-6 5 4 5 0 5-3 5 3 5-3 4-46 5 50 5 21 5 2 4-49 5 46 5 9 5 0 4 8 5 1 5 5 4 3 5-31 5 26 5-1 5 3 6 0 5-1 5 3 5-4 5 6 5-7 5 2 5-2 5 5 5-1 5-8 5-1 4 8 5-29 5 16 4-5 5-1 5-6 4 2 5-7 5 4 4-7 5-8 5-1 4 1 5-8 5 9 5-4 5 3 6 0 5-9 5 1 5-3 5-2 5-2 5 8 5-4 5 0 5 1 5-5 5-2 5 1 5 5 5 1 5-20 6 6 5 16 5 5 6-4 5 0 5 0 6-2 5 2 5 2 5-1 6-5 5 3 5-1 5-1 6-1 5-1 5 4 5-4 5 3 6 6 5-1 5-64 5 54 5 0 5-2 6 4 5 3 5 1 5-29 5 24 5 4 6-1 5-6 5-49 5 45 5-5 5 2 6 4 5 1 5 2 5-2 5-7 5-9 6 7 5 2 5-1 5-2 5 5 5-5 6 6 5 3 5-7 5-4 5-4 4-2 5 3 4-1 5 0 5-2 4 0 5-7 5-8 4-5 5-1 4-63 5 59 5-9 4 3 5-9 4-3 5-7 4 8 4-8 4-4 5 2 4 1 4-3 4-7 4-7 4-38 4 38 4-12 5 3M254 3284l4-7 5-3 4 9 4 7 5-13 4-4 4 3 4-3 4-10 1-7 1-2 1-4 1-8 1-4 2-4 1-4 1 2 1-11 1-7 1-2 4 3 3 2 4 5 3 14 4 1 4-30 4 18 5 13 4 1 5 5 5-5 4 8 6 8 5 2 6-4 5 7 5 4 6-9 5 7 5-4 5 1 5-13 5 19 5 1 5-1 5 12 5-60 5 62 5-1 5 0 5 4 4 5 5-2 5-1 5 1 5 5 5-12 5 11 4 2 5-3 5 4 5-1 5 8 5-2 5 2 5 2 4-4 5-1 5 16 5-3 4 5 5 3 5 1 5 6 4 8 5-9 5 9 4 0 5-1 5 0 5 5 5 1 6 5 5-5 5 1 5-6 5 7 5 0 5-4 5-21 5 20 5-3 5-5 5-1 4 0 5-7 5-6 4 3 5-30 5-19 4 48 5-6 5 0 4-1 5-6 5-12 4 14 5-7 5 0 5 0 5-7 6-1 5 2 5 2 5-7 5 0 5 2 5 3 5-2 5-6 5 6 5 0 5-4 5 10 5 5 5-5 5-1 6-3 5 4 5-3 6-16 5 25 5-9 6 6 5 3 5-6 5 2 6-2 5-5 5-4 5 7 6-1 5 1 5-19 5 23 5-11 6 12 5-4 5-2 5 0 5 2 5-15 6 16 5 4 5-1 5 7 5 1 5 4 6 2 5-6 5-5 5-34 5 30 5 1 6 2 5 1 5-7 5 0 5 8 5-10 6-7 5-1 5 1 5-4 5 8 5-28 6 26 5-3 5-3 5 1 5-2 4-13 5-2 4 3 5-6 5 2 4-7 5-45 5 38 4-3 5 7 4-9 5-4 5-7 4-1 5-3 4 0 5-10 4 2 4-6 4-6 5-6 4-1 4-13 4-3 4 7 4-4 4 6 4-8 5-46" stroke="#62c6b9" stroke-width="2.2" fill="none" transform="scale(.5)"/><path d="M246 3246l2 10 1 9 2-1 1 7 2 10 1 1 2 6 1 10 2-3 1 13 2 5 6 0 5 2 6-15 2-5 2-3 2-5 3-5 2 0 2-12 3-7 2 3 2-4 2-5 3-7 3 9 4-2 3 0 4 3 3 13 4-36 4 36 5 6 6-9 5-4 6 6 5 2 6 2 6 0 5 2 6-4 5 4 6-3 5 1 5 6 5-2 5 4 5-5 5 3 5-5 5-22 4 31 5 7 5-2 4 6 5 3 5 1 4 0 4 6 4 4 4 9 5-1 4 7 4-3 4 5 4 4 4 2 6-4 5 9 5 4 5 3 5 6 6-38 5 45 5-3 5-7 5 11 6 0 5 0 5 3 5-4 6 1 5 5 5 2 5-7 5 4 6-24 5-11 5 29 5 7 6-2 5-19 5 14 5-8 5-23 6 25 5-47 5 47 5-6 4 1 5-3 4-9 4-4 4-7 4-16 4 17 4-2 5-4 4 2 3-7 4 1 3-6 4-26 3 19 4-24 3 11 4-1 3-4 5 4 5 2 6 2 5 4 5 4 5-4 5-1 6-16 5 31 5 5 5-8 5 1 6-11 5 7 5 6 5-13 6 11 5-6 5 3 5-3 5 2 6-6 5-4 5 1 5-1 4-4 5-7 4-3 5-5 4-13 5 14 4-4 5-3 4 5 5-2 5-8 5-41 5 0 5 27 5 4 5-6 4 3 5-9 5 0 5-4 5 3 5 1 6 0 5 4 5-2 5 0 5 2 6 8 5-9 4-6 4 5 4 3 4 3 5 8 4 4 4-22 5 21 5-2 5 2 5 4 5-42 4 43 5-3 5 6 5-6 5-6 5-13 5 10 4 4 5-6 5-3 4 6 5-7 5-5 4 2 5 4 4-7 4-3 4-29 5 20 4-5 4-36 4 34 4 2 4-5 5-4 5-8 5 4 5 5 5-11 6-3 5 12 5-32 5 29 1-5 2-7 1-1 1-13 2 0 1-6 1-1 2-10 1-6 1-6 1-2 2-8 1-5M246 3243l2 8 1-3 2 6 1-24 2 36 1 11 2 7 1-11 2 28 1 1 2 5 6 1 5-10 6 0 2-10 2-1 2-10 3 1 2-8 2-7 3-9 2-2 2-12 2-1 3-3 3 1 4 8 3 0 4 9 3 5 4 14 4-2 5 0 6-1 5 13 6-12 5 6 6 2 6 11 5-2 6-1 5 5 6-3 5-3 5-4 5 0 5 1 5-31 5 32 5-1 5 0 4 4 5 0 5-1 4 10 5-4 5 4 4 0 4 3 4 2 4 10 5-2 4-2 4 5 4 0 4-12 4 21 6 10 5-7 5-4 5 3 5 0 6 14 5-4 5 2 5 1 5-6 6 8 5 2 5-1 5-2 6-1 5 7 5-9 5 4 5 2 6-1 5 3 5 5 5 1 6 6 5 4 5-2 5 2 5 4 6-16 5-5 5 10 5 3 4-2 5-12 4-17 4 22 4-1 4-40 4 27 4-5 5 5 4-52 3 35 4 5 3-1 4-11 3-13 4 20 3-14 4 4 3-9 5 3 5-2 6 2 5-1 5-4 5 4 5-7 6 8 5 4 5-1 5-3 5 5 6 8 5-10 5 6 5-1 6-5 5 2 5-11 5 0 5-3 6-9 5 7 5-4 5 5 4-8 5-8 4-1 5-5 4-6 5-1 4-13 5 7 4-7 5 0 5-2 5-2 5-3 5-1 5-10 5 7 4-3 5 1 5-2 5 0 5-16 5 1 6 14 5-35 5 32 5 5 5-2 6 3 5-10 4 7 4 11 4-4 4 13 5 2 4 3 4 2 5-2 5 11 5-8 5-4 5-7 4 5 5-2 5 3 5-4 5 4 5 0 5-2 4 5 5-8 5-5 4-2 5 1 5-6 4-8 5-2 4 5 4-7 4-11 5 7 4 3 4-4 4 4 4-13 4-5 5 6 5-8 5-9 5 6 5-4 6-4 5 18 5-10 5 1 1-6 2 0 1-7 1-6 2-4 1-7 1-5 2-5 1-6 1-6 1-3 2-6 1-8M246 3235l2 17 1-2 2-14 1 30 2 3 1 6 2 0 1 2 2 11 1 3 2-52 6 55 5-2 6-8 2-3 2-5 2-11 3-2 2-10 2-3 3-3 2-8 2-4 2 2 3-18 3 11 4-1 3 8 4 8 3 1 4 3 4 15 5-6 6 9 5-5 6 7 5-1 6 6 6 4 5-6 6 4 5 6 6 5 5-6 5 0 5 4 5 4 5-3 5 2 5 0 5-2 4-17 5 18 5 6 4 0 5 6 5-4 4 3 4 7 4 3 4 4 5-2 4 4 4-2 4 6 4 4 4-2 6 3 5-7 5 12 5-4 5 4 6 1 5-45 5 40 5 6 5 9 6-4 5 2 5 1 5 3 6-4 5-5 5 3 5 2 5 1 6-2 5 3 5-3 5-2 6 5 5-9 5 10 5 5 5-8 6-2 5 6 5 1 5-41 4 44 5-4 4-2 4 2 4-6 4 4 4-32 4 29 5 3 4-9 3 2 4-11 3-7 4-4 3-5 4 1 3-5 4-3 3-7 5 6 5-3 6-2 5 3 5 0 5-1 5-3 6 2 5 6 5-24 5 15 5-7 6 4 5-20 5 6 5 9 6 4 5-10 5 1 5 3 5-2 6-8 5 6 5 0 5-3 4-7 5 7 4-26 5 20 4 2 5-3 4-7 5 3 4-10 5 0 5-9 5 3 5-2 5-5 5 12 5-11 4 7 5-9 5 1 5-1 5 3 5 2 6-13 5 9 5 0 5 1 5 7 6-5 5 1 4 6 4-39 4 53 4 2 5-3 4 11 4 3 5-11 5-7 5 5 5-9 5 7 4-2 5 0 5-2 5 2 5-8 5-4 5-5 4 1 5-6 5-42 4 39 5-9 5-2 4-41 5 45 4-16 4 5 4 3 5-9 4 4 4-6 4 0 4-1 4-5 5-20 5 10 5 3 5 2 5 6 6-4 5 1 5-5 5-19 1 20 2-1 1-13 1-6 2 0 1-6 1-21 2 10 1-8 1-2 1 0 2-10 1-4M246 3263l2 4 1-5 2 22 1 2 2-1 1 10 2 5 1 2 2 2 1 7 2 6 6-11 5-4 6 7 2-15 2-4 2-2 3 1 2-7 2-7 3-5 2 0 2-37 2-8 3 16 3 12 4-4 3 15 4-2 3 3 4 10 4-2 5 3 6 5 5-2 6-4 5 0 6-5 6 5 5-23 6 3 5 34 6 4 5-7 5 2 5 3 5-7 5 1 5 4 5-2 5 3 4 9 5 1 5 5 4-4 5 9 5 2 4 3 4-1 4 13 4-7 5 6 4 12 4 5 4-1 4 6 4-11 6 8 5 3 5-1 5-3 5 0 6 3 5 6 5-3 5-1 5-1 6 2 5 3 5 2 5-4 6 5 5-2 5-1 5 5 5-5 6 13 5-11 5-5 5 1 6 0 5 4 5-4 5 1 5-26 6 29 5-19 5 20 5-5 4 2 5-6 4 0 4 3 4-4 4-24 4 13 4 1 5-24 4-4 3 27 4-11 3 3 4-9 3-7 4 0 3-3 4 1 3-6 5-5 5 0 6-4 5 0 5 5 5-22 5 17 6-1 5 0 5-5 5 3 5-1 6-1 5-2 5 2 5 4 6 0 5 5 5-4 5 0 5-1 6 0 5-1 5-6 5-6 4 1 5 1 4-5 5 2 4-6 5 1 4 2 5-5 4-2 5-3 5 1 5 5 5 2 5-4 5-5 5 8 4-7 5 9 5-6 5 9 5-6 5 6 6-4 5 2 5 2 5-15 5 5 6-20 5 13 4 7 4-41 4 42 4 3 5 9 4 1 4-1 5-9 5-4 5-7 5 7 5-1 4-7 5-20 5 22 5-4 5-2 5-5 5 0 4-6 5-18 5 20 4-5 5-7 5 5 4-4 5-7 4-3 4 3 4-4 5 1 4 2 4-10 4 3 4-5 4-4 5-3 5 1 5 10 5-7 5 4 6-6 5 3 5-3 5 12 1-4 2-9 1-5 1-13 2 4 1-8 1-3 2-6 1-10 1-2 1 2 2-1 1-6M246 3270l2 7 1 8 2 3 1 2 2 8 1 1 2-1 1 1 2 13 1 11 2-5 6 7 5 2 6-11 2-19 2 17 2-28 3 16 2-6 2 1 3-8 2-4 2-36 2 6 3 16 3 8 4-3 3 0 4 3 3 12 4-2 4 6 5-4 6-8 5 3 6 1 5 4 6 4 6-5 5-3 6 13 5-2 6-1 5 0 5 4 5-1 5 0 5-5 5 6 5 0 5-5 4 0 5 4 5 5 4 3 5 1 5-2 4 7 4 10 4-31 4 32 5 2 4 0 4-1 4 8 4-17 4 34 6-5 5 8 5 8 5-2 5 12 6 0 5 3 5 1 5 5 5-6 6-7 5 19 5-5 5 1 6 1 5 0 5 4 5-4 5-6 6 3 5-5 5 7 5-2 6-36 5 43 5-5 5-3 5-9 6 2 5 5 5-2 5-34 4 26 5 6 4 0 4-8 4-41 4 31 4-2 4-1 5-5 4-2 3 0 4-11 3-5 4-1 3-1 4-1 3-13 4 7 3-5 5-6 5 9 6-12 5 7 5-6 5-2 5-3 6-15 5 10 5 13 5-1 5-19 6 16 5-5 5 6 5 0 6-6 5 2 5 6 5-2 5-7 6 3 5 0 5 0 5 3 4-9 5 0 4-1 5-3 4-5 5 9 4-16 5 6 4-18 5 11 5 3 5-1 5 10 5-1 5-6 5-6 4-1 5 5 5-12 5 1 5 2 5-2 6 0 5-6 5 7 5-6 5-1 6-4 5 4 4 4 4 5 4-5 4 8 5 3 4 9 4 8 5-3 5-4 5 2 5-3 5-26 4 21 5 2 5-18 5 15 5-39 5 42 5-9 4 3 5-7 5-25 4 18 5-9 5-9 4 4 5-10 4 0 4-2 4-7 5 4 4-6 4-1 4-16 4-13 4 7 5-1 5-4 5 1 5 4 5 5 6-41 5 33 5 7 5-5 1-9 2-10 1-27 1 20 2-8 1 0 1-53 2 47 1-49 1 30 1 10 2-3 1-5M246 3237l2 12 1 5 2 4 1-29 2 37 1 6 2 6 1-4 2 13 1 5 2 15 6-6 5 0 6-2 2-29 2 18 2-6 3 1 2-7 2-9 3-1 2-9 2-5 2-2 3 3 3 1 4 8 3-2 4 5 3 9 4 5 4-6 5 12 6-9 5 4 6 0 5-3 6 0 6 1 5 4 6-17 5-9 6 34 5 2 5-16 5 23 5-1 5-6 5 2 5 7 5-3 4 8 5 4 5-4 4 6 5-5 5-4 4 13 4-2 4 5 4 8 5-2 4-2 4 6 4 2 4 8 4-5 6 0 5 0 5 0 5 6 5 0 6 9 5 1 5-1 5 5 5 1 6 1 5-1 5 4 5 0 6 4 5 3 5-21 5 21 5 3 6 1 5-1 5 1 5 4 6 2 5 7 5-9 5-5 5 12 6-15 5 6 5-3 5-7 4 2 5-12 4 6 4-13 4 3 4 4 4-16 4-1 5 0 4 1 3-70 4 59 3-45 4 40 3-6 4-7 3-7 4-8 3-3 5-21 5 16 6 3 5 0 5 4 5 4 5-3 6 0 5-17 5 7 5 4 5 3 6-7 5-3 5 4 5 0 6 3 5 1 5 0 5 0 5-3 6 2 5 5 5-2 5-4 4 0 5-6 4 4 5 0 4-1 5-3 4-10 5-3 4 1 5 6 5-8 5 2 5-1 5 3 5-2 5 4 4-7 5-2 5 1 5-8 5 5 5-12 6 7 5 4 5-3 5 2 5-3 6 6 5-11 4 5 4-4 4 6 4 7 5 4 4 3 4 0 5-4 5-5 5 7 5-8 5-5 4 7 5-7 5 7 5 1 5-11 5-4 5-3 4-6 5 1 5-6 4-2 5-30 5 35 4-1 5-7 4 2 4-13 4-2 5-3 4 0 4-8 4-8 4 3 4 0 5-7 5-10 5 15 5 1 5 1 6-9 5 7 5 3 5 1 1 1 2-5 1 4 1-10 2-7 1-2 1-4 2-11 1-5 1-3 1 1 2-7 1 0M246 3240l2-2 1 4 2 12 1 1 2 5 1-4 2 1 1 8 2-2 1 10 2-62 6 45 5 17 6 0 2-4 2-4 2-12 3-8 2-1 2-5 3-18 2 11 2-6 2-5 3-4 3 2 4 4 3 6 4 8 3-3 4 1 4 2 5 3 6 0 5 2 6 2 5 0 6 3 6 0 5-3 6-6 5-36 6 49 5 8 5-4 5-3 5-5 5-1 5 2 5 3 5-2 4 8 5-5 5 15 4 7 5-9 5 6 4-6 4 10 4-43 4 58 5 5 4-3 4 11 4 2 4-4 4 3 6-2 5 9 5-3 5 3 5 3 6 10 5-42 5 48 5-2 5-1 6 1 5-23 5 29 5-2 6 4 5 7 5-14 5 12 5 8 6-8 5 6 5-1 5 2 6 7 5-6 5-8 5 7 5 4 6-11 5 5 5-3 5-5 4 2 5-7 4-2 4-10 4 6 4-7 4 3 4-2 5 3 4-8 3-5 4-9 3 1 4-6 3-2 4 0 3-14 4-8 3 0 5 0 5-7 6-45 5 37 5 2 5 3 5-2 6 1 5-3 5 7 5-5 5-3 6 2 5 2 5 7 5-10 6-22 5 27 5 0 5 3 5-6 6 16 5-10 5-66 5 62 4-5 5-22 4 18 5-3 4-8 5 6 4-1 5-5 4 1 5-3 5 6 5 9 5-6 5-2 5-40 5 36 4 5 5-6 5 5 5-8 5 3 5 9 6-12 5 8 5-7 5 5 5-3 6 5 5-4 4 7 4 8 4 4 4-3 5-1 4 10 4-7 5 3 5-5 5-3 5-5 5 6 4-7 5-6 5 3 5-4 5-6 5 5 5-3 4-9 5-4 5 2 4-6 5 1 5-8 4 7 5-12 4-7 4-6 4-27 5 24 4-2 4-10 4 1 4-1 4-7 5-4 5 2 5-2 5-18 5 17 6-21 5-4 5 25 5 7 1-8 2-4 1-2 1 1 2-16 1-22 1 12 2-5 1-5 1-2 1-3 2-13 1-6M246 3220l2 25 1 4 2 4 1 4 2-10 1 2 2 25 1-12 2 15 1 17 2-2 6-1 5 0 6-5 2-4 2-27 2 10 3-2 2-11 2-5 3-11 2 2 2-6 2-24 3 7 3 8 4 4 3 7 4-33 3 32 4 5 4-4 5-4 6 12 5 2 6 3 5-2 6 7 6 13 5-10 6 4 5 10 6 0 5-6 5 2 5 5 5-1 5-3 5-1 5 5 5 1 4-7 5-7 5 16 4 3 5 0 5 0 4 9 4 0 4 8 4 7 5 0 4 9 4 4 4 2 4 2 4 8 6 3 5 0 5-1 5 8 5 4 6 1 5 1 5 8 5 0 5-10 6-17 5 31 5-3 5-4 6 6 5-4 5 3 5 3 5 1 6 2 5 2 5 13 5-3 6 8 5-9 5-6 5 8 5 1 6-1 5-6 5-2 5-2 4-5 5-5 4-42 4 21 4-2 4 0 4-8 4-2 5-4 4 5 3-10 4-3 3 2 4-13 3-3 4-11 3-6 4-4 3-8 5 4 5 2 6-2 5 1 5-10 5-9 5 15 6 1 5-6 5-35 5 48 5-13 6 6 5-5 5-28 5 26 6 5 5 3 5-1 5-6 5 7 6 4 5 1 5-2 5-15 4 9 5-27 4 18 5 2 4 3 5-28 4 23 5 4 4-8 5 1 5 3 5 3 5 1 5-6 5-3 5 1 4-3 5-16 5 15 5 6 5-9 5-2 6 3 5 1 5 1 5 1 5-2 6 7 5-1 4-74 4 59 4 26 4-4 5 14 4-5 4 5 5-7 5 8 5-2 5-3 5 1 4-9 5 3 5 4 5-3 5-4 5-1 5-8 4-2 5-2 5-3 4-4 5-6 5-3 4-4 5-2 4-32 4 5 4 17 5-4 4-6 4-4 4-4 4-4 4-9 5 6 5-8 5-4 5 0 5 5 6 5 5-14 5-3 5 8 1-6 2-2 1-12 1 1 2 0 1-13 1-4 2-3 1-8 1 1 1-6 2-9 1-12M246 3251l2-1 1 1 2 7 1 3 2 4 1 2 2 3 1 12 2 0 1 14 2 6 6-4 5 0 6 0 2-9 2-8 2-28 3-8 2-21 2 29 3 3 2-7 2-5 2-4 3-8 3 3 4 8 3 8 4 6 3 3 4 7 4 4 5 0 6 0 5 3 6-17 5 10 6 8 6-14 5 22 6-3 5 3 6 11 5 7 5-10 5-2 5 14 5-10 5 8 5-3 5-5 4 8 5 2 5-4 4-2 5 6 5-4 4 11 4 7 4 1 4 6 5 3 4-34 4 35 4 2 4 6 4-25 6 36 5-7 5 14 5 0 5-5 6 0 5 5 5 2 5 2 5 5 6-5 5 5 5 9 5 5 6-1 5-11 5 9 5-2 5 4 6-4 5 11 5-30 5 33 6 9 5-5 5-4 5-10 5 6 6-14 5 8 5 3 5-7 4-3 5-6 4-1 4-9 4-3 4 0 4 0 4-9 5 0 4-4 3-9 4-3 3-22 4 12 3-3 4-11 3 5 4-54 3 40 5-10 5 6 6-5 5 1 5-11 5 4 5 0 6 5 5-8 5 6 5-1 5 4 6 8 5-4 5 14 5-12 6 5 5 0 5-9 5 1 5 0 6-21 5 23 5 3 5 0 4-7 5 0 4 5 5-9 4 3 5 0 4-12 5-1 4 6 5-4 5-1 5-19 5 20 5-6 5 0 5 5 4-6 5-1 5-4 5-2 5-7 5 4 6-4 5 5 5 3 5 5 5-4 6 0 5 3 4-4 4 10 4-3 4 5 5-6 4 11 4 7 5 0 5 0 5-7 5-6 5 5 4-9 5 0 5-9 5 7 5 2 5-3 5 9 4-3 5-14 5 10 4 0 5-22 5 19 4 1 5-3 4-5 4 0 4-8 5-6 4-4 4-2 4 3 4-17 4 0 5-9 5 0 5-1 5-1 5-7 6 6 5-8 5 0 5-3 1 4 2-27 1-26 1 34 2-2 1-4 1-2 2-22 1-3 1-4 1-6 2-4 1 3M246 3244l2 16 1-2 2 4 1-27 2 38 1 0 2 8 1 6 2 4 1 4 2 2 6 7 5-6 6-21 2 20 2-12 2-7 3-2 2-5 2 4 3-6 2-6 2-4 2-4 3-9 3 4 4 9 3-49 4 62 3 12 4 5 4-1 5 8 6 0 5 5 6-7 5 5 6 8 6 1 5 1 6 0 5-43 6 46 5-3 5-1 5 4 5-2 5 2 5-16 5-14 5 29 4 4 5 0 5-6 4 5 5-5 5 2 4 9 4 1 4-50 4 55 5-2 4-2 4 12 4 2 4 0 4 5 6 0 5 2 5 4 5 6 5-3 6-2 5 2 5 0 5 0 5-34 6 37 5-4 5-1 5 2 6-7 5 6 5 2 5 2 5-5 6 3 5 11 5 5 5 4 6-5 5 4 5-2 5 1 5-7 6 3 5 7 5-5 5 5 4 1 5-8 4-4 4-1 4-7 4-1 4-4 4-9 5-2 4 3 3-2 4-28 3 27 4-2 3-7 4-5 3-1 4-4 3-1 5-1 5-3 6 3 5-6 5-32 5 26 5 4 6-2 5-12 5-1 5 4 5 6 6-10 5 4 5 0 5 4 6-11 5-5 5 3 5-3 5 4 6-5 5 8 5 1 5-8 4 0 5 8 4-6 5-4 4-1 5-1 4 0 5-6 4-4 5 0 5-19 5 16 5 2 5 2 5-29 5 22 4-2 5 7 5-6 5-2 5 2 5-1 6-4 5 3 5-5 5 5 5-4 6-1 5 1 4 9 4 2 4 1 4 2 5 8 4-26 4 32 5 0 5 1 5 1 5-5 5 4 4-7 5-8 5 3 5-5 5-3 5 5 5-8 4-7 5 1 5 2 4-9 5-5 5 0 4-8 5 10 4-3 4-12 4 3 5-8 4-8 4 1 4-4 4 1 4-8 5-5 5-3 5 6 5-9 5-2 6-6 5 8 5-7 5 7 1-23 2 15 1-18 1 5 2-10 1-2 1-7 2-15 1 2 1 1 1 0 2-22 1 10M246 3275l2 5 1 1 2 7 1 3 2 0 1 9 2 12 1 4 2 1 1 10 2 2 6-63 5 58 6 8 2-13 2-6 2-7 3-4 2-9 2 0 3-12 2-26 2 18 2-6 3-5 3-44 4 48 3 7 4-1 3 2 4-60 4 75 5 2 6 1 5-34 6 29 5 2 6 6 6-54 5 60 6-1 5 1 6-2 5 4 5 4 5-5 5 2 5 5 5-1 5 8 5-10 4 18 5 2 5 0 4 7 5-4 5 2 4 5 4 3 4-2 4 3 5 8 4 6 4 8 4 0 4 5 4-2 6 11 5-2 5 5 5 2 5-6 6 3 5-3 5-1 5 2 5 3 6 5 5 2 5 6 5 6 6-22 5 24 5-5 5-14 5 16 6 2 5-17 5 16 5 5 6-5 5 2 5-2 5-2 5-9 6 7 5 0 5 0 5-2 4-8 5-7 4 5 4 0 4-14 4 2 4 4 4-5 5-7 4 0 3-3 4-11 3-19 4 10 3 2 4-3 3-38 4 28 3 1 5-2 5 0 6 1 5 4 5-8 5 6 5-4 6-7 5 4 5 0 5 6 5-5 6 6 5-2 5-1 5-1 6 1 5-4 5 8 5 3 5-9 6 3 5 1 5-8 5 1 4 3 5-9 4 6 5-9 4 5 5-4 4 1 5-2 4-10 5 4 5-3 5-65 5 64 5-9 5-13 5 18 4-1 5-27 5 19 5-9 5-4 5 2 6 6 5 3 5-4 5 2 5-10 6 1 5-2 4 4 4 3 4 5 4 4 5-8 4 10 4 0 5-21 5 27 5-4 5 6 5-6 4-2 5 3 5 0 5 0 5 11 5-12 5 6 4-28 5-9 5 26 4-1 5-14 5 1 4 8 5-11 4 6 4-14 4 9 5-5 4-4 4-2 4 0 4-12 4 3 5-2 5-10 5 8 5-6 5-5 6 1 5-6 5-2 5 3 1 1 2-11 1 0 1-24 2 13 1-5 1-4 2-29 1 20 1-3 1-7 2-8 1-8M246 3228l2-12 1 21 2 8 1 6 2 0 1 8 2-1 1 13 2 8 1-29 2 37 6 0 5-43 6 49 2-11 2-3 2-2 3-13 2-4 2-10 3-6 2 0 2-8 2-10 3-5 3 6 4 3 3-3 4 7 3 4 4 8 4 4 5-3 6 2 5 3 6-6 5-5 6 9 6 4 5-5 6 9 5 7 6-11 5-1 5 5 5-7 5 3 5-2 5-59 5 51 5 6 4 8 5 4 5 4 4-3 5-17 5 20 4 7 4 1 4 10 4 0 5-1 4 7 4 6 4-4 4 5 4 6 6-1 5 3 5 5 5 1 5 7 6-3 5-4 5 4 5-20 5-9 6 45 5 3 5-1 5 6 6-6 5-67 5 69 5-1 5 2 6 5 5-1 5-8 5-2 6 9 5 3 5 2 5 8 5-11 6 4 5-5 5-1 5-3 4-6 5-9 4 8 4-15 4 4 4 0 4-3 4 1 5 0 4 5 3-17 4 6 3-6 4-13 3 9 4-9 3-4 4-6 3 1 5-1 5-1 6-4 5 3 5-6 5-2 5 0 6 0 5-2 5 1 5 3 5 4 6 8 5-8 5 3 5-31 6 27 5-4 5-2 5 2 5-5 6 10 5-10 5 6 5-4 4-11 5 8 4-13 5 2 4-5 5 2 4-12 5 0 4-30 5 21 5 4 5-2 5 6 5-6 5 3 5-5 4-11 5-21 5 16 5 1 5-1 5 2 6 4 5-36 5 17 5 6 5 3 6 7 5 0 4 7 4 9 4-3 4 4 5 8 4-7 4 4 5-1 5-2 5 0 5 9 5-3 4-1 5 2 5-6 5-3 5 2 5 5 5-5 4-2 5-4 5 0 4-24 5 11 5-3 4 3 5-2 4 2 4-12 4 3 5-3 4-5 4 6 4-7 4-4 4 5 5-6 5-7 5 6 5-6 5 1 6-1 5 1 5 4 5-13 1-2 2-6 1 3 1-8 2-3 1-7 1-3 2 3 1-15 1-3 1-22 2 22 1-11M246 3231l2 3 1 11 2-1 1 6 2 4 1 3 2 7 1 8 2 4 1-14 2-13 6 37 5-5 6 4 2-14 2 6 2-9 3-8 2-3 2-2 3-1 2-7 2-10 2-2 3-1 3-2 4 5 3 6 4 14 3-1 4 8 4-3 5 10 6-2 5 1 6 8 5-5 6-1 6-1 5-4 6-4 5 0 6-4 5 6 5-4 5-6 5 0 5-5 5 3 5 0 5 0 4 4 5 2 5 11 4-1 5 4 5-9 4-7 4 30 4 4 4 3 5 1 4-3 4-37 4 50 4-2 4 4 6 6 5-3 5 6 5-2 5-13 6 18 5 8 5-34 5 38 5 8 6 9 5 1 5-5 5 0 6-1 5 2 5 0 5 3 5-1 6 3 5 6 5 2 5 2 6 4 5 6 5-36 5 26 5 0 6-7 5-2 5 5 5-3 4-11 5-3 4-1 4-17 4-20 4 26 4 0 4 2 5-8 4 1 3-7 4-10 3-6 4-2 3-7 4 0 3-15 4 1 3-11 5-7 5 13 6 1 5-1 5-24 5 27 5-3 6-1 5 3 5-9 5 4 5-1 6 3 5-2 5 3 5-1 6-1 5 0 5 6 5-10 5 1 6 2 5-1 5-2 5 10 4 2 5-9 4 0 5-10 4-1 5 1 4-12 5 5 4 8 5-2 5 3 5-3 5 1 5-5 5 3 5-4 4-1 5 6 5-11 5 5 5-20 5 22 6 8 5-19 5 13 5-4 5-3 6 1 5-5 4 3 4 4 4 0 4-1 5 4 4 3 4 5 5-3 5-7 5-3 5-1 5 2 4-4 5-5 5-1 5-2 5-8 5 8 5-11 4-5 5-3 5 2 4-5 5 6 5-12 4-3 5-5 4-2 4 2 4 3 5-11 4-2 4 6 4-11 4 0 4-3 5-1 5 6 5-1 5-11 5 10 6-3 5 2 5 0 5 1 1-7 2 3 1-13 1-7 2 1 1-20 1 13 2-14 1-4 1 0 1-7 2-5 1-14M246 3241l2 6 1 5 2 4 1 5 2 7 1-21 2 35 1 1 2-40 1 55 2 4 6-1 5-10 6 5 2-10 2-7 2-14 3-18 2 14 2-8 3-3 2-74 2 61 2 2 3-7 3 11 4 0 3-2 4 3 3 6 4 9 4 0 5-1 6 1 5-2 6-15 5 14 6 3 6 7 5 6 6 7 5 6 6-7 5 5 5-7 5-5 5 11 5-2 5-38 5 39 5-19 4 26 5 7 5-5 4 1 5-3 5 18 4 4 4-7 4 4 4 6 5 2 4 1 4-8 4 10 4-3 4 2 6-11 5 12 5 4 5 4 5 10 6 1 5-1 5 4 5-4 5 2 6 3 5 0 5 10 5-10 6 1 5 2 5 1 5 5 5-1 6 7 5 3 5-6 5 16 6-6 5-1 5 6 5-3 5 0 6-1 5-52 5 53 5-12 4 7 5-11 4-8 4 7 4-6 4-1 4-14 4-4 5 1 4-66 3 62 4-13 3 2 4-11 3-12 4 2 3-4 4-3 3 3 5 0 5 2 6 1 5-25 5 21 5 2 5 1 6 2 5-5 5 2 5-2 5 3 6 4 5-4 5 11 5-4 6 2 5 0 5 3 5 1 5 3 6 0 5-5 5-5 5-1 4-4 5 1 4-4 5-5 4-38 5 24 4 3 5-1 4 1 5-5 5-3 5-1 5-11 5-1 5-3 5-4 4-6 5 10 5-1 5 0 5-11 5 5 6-3 5 0 5-9 5 5 5 1 6-27 5 22 4 5 4 8 4-39 4 46 5 10 4 1 4-29 5 32 5-11 5 6 5-4 5 1 4 3 5-70 5 68 5 2 5 2 5 9 5-8 4-2 5 1 5-3 4-4 5-41 5 36 4-6 5-2 4 2 4-5 4 3 5-3 4-8 4-12 4 5 4-4 4-10 5-3 5-4 5-8 5 2 5 1 6-12 5-18 5 9 5 6 1-4 2-4 1-5 1-1 2-9 1-14 1-51 2 51 1 6 1-33 1 28 2-8 1 1M246 3245l2 2 1 7 2 7 1-5 2 14 1-10 2-16 1 43 2 2 1 1 2 9 6-5 5-27 6 27 2-10 2-1 2-9 3-58 2 51 2-9 3-3 2-3 2 3 2 0 3-11 3-26 4 32 3 4 4-39 3 44 4 9 4 6 5-2 6 10 5-7 6 5 5 7 6-26 6 30 5 2 6-1 5 14 6 2 5-4 5-2 5 3 5-1 5-4 5 2 5 5 5 5 4 9 5-10 5-1 4 14 5-25 5 23 4 8 4 8 4 0 4 4 5-12 4 10 4-22 4 28 4 2 4 1 6 1 5 4 5-4 5 2 5 4 6-2 5 3 5-33 5-9 5 46 6-2 5-6 5 1 5 3 6-3 5-5 5 3 5 7 5 5 6-9 5 9 5 4 5 2 6-3 5-10 5 1 5-2 5-43 6 45 5 0 5-2 5 0 4-6 5-24 4 21 4 4 4-53 4 37 4 1 4-8 5 11 4-4 3-7 4-15 3 3 4-3 3-3 4-8 3 0 4 2 3-1 5-4 5 2 6 3 5-6 5-4 5 7 5 1 6-4 5 8 5-36 5 34 5-3 6-4 5 13 5-6 5 2 6-1 5-1 5 4 5 3 5-4 6-6 5-5 5-1 5 4 4 0 5-4 4-7 5 1 4-59 5 48 4-13 5 8 4-10 5 8 5-4 5 6 5-5 5-3 5 6 5-1 4 1 5-8 5-4 5-11 5 0 5 7 6-2 5-2 5 1 5 1 5-3 6-7 5 8 4-10 4 11 4 11 4 9 5-3 4 1 4 9 5-1 5-1 5-22 5 13 5-1 4 1 5-1 5-11 5 6 5-1 5 2 5-8 4-1 5-6 5-5 4-3 5 3 5-2 4-4 5-1 4 2 4-5 4-2 5-1 4-7 4-20 4 17 4-15 4 5 5 3 5-12 5 9 5-2 5 0 6 4 5-1 5 1 5 0 1-4 2-3 1-7 1-3 2-11 1-5 1-8 2 3 1-17 1 13 1-68 2 50 1-5M246 3244l2-17 1 26 2-43 1 3 2-2 1 72 2-1 1 12 2 5 1 1 2-3 6 6 5-7 6 2 2-3 2-20 2 8 3-5 2-8 2 4 3-8 2-7 2 5 2-12 3-1 3 6 4-6 3 7 4 4 3-3 4 9 4 3 5-1 6-21 5 24 6-34 5 21 6 17 6-1 5 2 6 1 5 6 6-23 5 0 5 28 5 0 5-40 5 38 5 0 5 2 5 6 4 0 5 8 5 3 4-5 5-17 5-24 4 53 4 6 4 1 4 5 5 3 4 3 4-5 4 1 4 6 4 2 6 2 5 7 5-1 5 3 5 1 6 6 5-15 5 6 5-34 5 42 6-1 5-2 5 3 5-5 6 12 5-4 5 4 5-1 5-1 6 4 5 4 5 2 5 2 6 0 5 3 5 2 5-2 5-1 6-5 5-4 5-5 5-2 4 0 5-1 4-12 4-1 4-29 4 27 4-11 4-2 5-3 4-9 3-2 4 0 3-12 4-5 3 6 4-5 3-3 4-2 3-42 5 37 5 1 6 7 5 1 5-4 5-27 5 28 6 1 5-1 5-1 5 0 5 0 6 1 5-2 5 2 5-15 6-10 5 27 5 0 5-5 5 0 6-1 5-15 5 16 5-5 4-2 5-1 4-1 5-68 4 70 5-6 4 1 5 2 4-6 5 2 5-9 5-1 5-4 5-4 5-1 5 1 4 7 5 3 5-4 5-3 5 0 5-15 6 16 5-6 5 7 5-3 5 1 6 2 5-1 4-1 4 10 4 5 4 12 5-8 4 5 4-19 5 25 5 1 5-12 5 7 5-5 4-3 5-1 5-3 5 3 5-5 5 5 5-13 4 4 5-7 5-22 4 21 5-2 5-10 4-3 5-5 4-8 4-25 4 30 5-9 4 5 4 0 4-5 4-7 4 1 5-7 5 2 5-7 5 0 5 2 6-5 5 0 5-3 5 0 1-7 2-2 1 0 1-13 2-19 1 16 1-12 2-5 1-10 1 3 1-6 2-4 1-26" stroke="#35b6ea" stroke-width="2.2" fill="none" transform="scale(.5)"/><path d="M832 3236l4 53 4-6 4-2 4 8 4-8 5 7 4-10 4 6 4-139 4 131 5-4 4 1 4-1 4-6 4 1 4-6 4-6 5 2 2-9 2-73 3 73 2-1 3-5 2-2 3-7 2 8 2-8 3 2 2-1 3 1 5-71 5 71 5-6 5 10 5 4 5-5 5-61 5 58 5-8 5 3 5-6 5 3 6-6 5 0 2 3 2 7 2-6 3 11 2 10 2-2 2 6 2 7 3 0 2 16 2-48 2 47 3 9 2 3 2 9 2-6 1 2 2-11 2-4 1-12 2 0 2 3 1-3 2-7 2-8 1 7 2-16 2 7 1-9 2 3 2-6 1-2 2-5 2-10 1-10 2 5 3 2 2-3 2 13 2 1 2 0 2-21 2-32 2 65 2 4 2-18 2-38 2 33 2-6 2 11 2-9 2 4 2-15 2 1 2-4 2 3 2-7 2-10 2-9 2 4 2-104 2 83 4 1 4 12 4-1 4 4 4 2 4-8 5 17 1-3 1-99 2 78 1-2 1 4 1-15 2 1 1 0 1-14 2 0 1-11 1-1 2-12 1 2 1-15 2-12 1 13 2 12 2 6 2 8 2 7 2 3 2-135 2 134 2 13 1 8 2 7 1-3 0 5 1 10 0-2 1 6 0-38 1 34 0 22 1 0 1 10 0 3 1 12 0 2 1 9 0-1 1 3 1 3 2-18 2-1 1 5 2-6 2-4 1-5 2-6 2-7 1-7 2-3 2-102 1 95 2-7 2-1M832 3336l4 2 4-5 4-10 4 7 4-8 5-5 4-8 4-44 4 56 4 4 5-2 4 0 4-7 4-8 4 3 4-120 4 121 5-7 2-5 2-10 3-2 2-3 3-14 2-15 3 1 2-4 2 2 3-6 2 2 3-9 5 16 5-10 5 10 5-97 5 111 5-2 5 1 5-5 5-5 5-63 5 69 5-4 6-4 5 7 2 6 2 12 2 0 3 0 2 8 2 11 2 1 2 4 3-4 2-3 2 18 2-6 3 0 2 6 2-103 2 91 1-2 2 0 2-2 1-9 2 8 2-12 1-1 2-4 2-6 1-2 2-14 2 4 1 0 2-5 2-6 1-2 2-10 2-5 1-1 2 6 3-7 2 3 2 2 2 19 2-2 2 4 2 7 2 3 2 10 2-2 2-16 2-1 2-4 2 4 2-20 2 4 2-4 2-3 2-8 2-6 2-6 2-3 2 3 2 2 2-12 2-11 4 12 4-9 4 8 4 10 4 2 4 5 5 3 1-9 1-102 2 93 1-4 1 1 1-8 2 0 1-7 1-8 2-8 1-10 1-8 2-1 1-29 1 12 2 0 1-3 2 10 2 4 2 6 2 6 2-30 2 32 2-52 2 64 1 5 2 8 1 2 0 6 1 10 0 7 1-30 0 49 1-3 0 7 1 9 1 5 0-6 1 15 0-24 1 19 0 11 1 13 1-18 2 3 2 2 1-2 2-14 2 5 1-9 2-78 2 71 1-5 2-3 2 1 1-12 2-5 2-13M832 3323l4-7 4 8 4-8 4-14 4 3 5-2 4 10 4 5 4-3 4 3 5 0 4-4 4-6 4-6 4-30 4 29 4-109 5 106 2 9 2-23 3 4 2-16 3 1 2-6 3-6 2-1 2-19 3 16 2-14 3 2 5 0 5-4 5 5 5-8 5 15 5-11 5 9 5 1 5-34 5 24 5 3 5 6 6-6 5-10 2 4 2 4 2 4 3 8 2 4 2 20 2-10 2 12 3 11 2-8 2-66 2 74 3 1 2 14 2 3 2-10 1 4 2-7 2 3 1-71 2 55 2-1 1-3 2-10 2-12 1-2 2-3 2-15 1 5 2-16 2 2 1-2 2 3 2-10 1-16 2-4 3 13 2-22 2 24 2 8 2 10 2 3 2 12 2 10 2-2 2-2 2-1 2-10 2-5 2-11 2-2 2-12 2 7 2-10 2-37 2 24 2 1 2-28 2 14 2-5 2-15 2 2 4-38 4 55 4 5 4-1 4 4 4-28 5 39 1-16 1 6 2-11 1 2 1-6 1-18 2-4 1-2 1-6 2-5 1-42 1 24 2-11 1 9 1-100 2 89 1 2 2 1 2 9 2 10 2 14 2 1 2 10 2-154 2 161 1 4 2 9 1 10 0-4 1 13 0-4 1 10 0-12 1 9 0 5 1 11 1 4 0 3 1 12 0-5 1-30 0-88 1 137 1-10 2 3 2 7 1-5 2-6 2-3 1-32 2 14 2-8 1-12 2-49 2 55 1 0 2-19 2 2M832 3314l4 5 4-8 4-11 4 8 4-7 5-83 4 73 4 3 4 6 4-2 5-6 4-7 4-4 4-100 4 108 4-13 4-2 5 4 2-22 2 0 3-3 2-8 3 5 2-12 3-15 2 4 2-3 3-2 2-1 3-3 5 7 5 0 5 2 5-57 5 56 5 2 5-2 5 2 5-84 5 79 5 2 5-20 6 0 5-81 2 87 2 5 2 4 3 8 2 9 2 13 2 0 2-86 3 89 2 10 2-1 2-2 3 15 2 4 2-116 2 106 1 6 2-6 2-7 1-3 2 0 2-7 1-8 2 2 2-11 1-9 2 2 2-5 1-15 2-5 2-79 1 74 2-8 2 4 1-4 2 2 3 8 2-5 2 9 2 3 2 17 2-77 2 78 2-79 2 84 2-6 2 2 2-26 2 15 2-1 2 7 2-14 2-4 2-168 2 160 2-40 2 19 2 0 2-5 2 3 2-158 2 141 4 2 4-2 4 11 4-99 4 107 4 0 5 26 1 5 1-22 2-2 1-4 1-12 1 3 2-4 1-13 1-8 2-7 1-2 1-4 2-2 1-9 1 4 2 0 1-2 2 9 2 4 2-1 2 8 2-25 2-58 2 107 2 2 1 2 2 6 1 3 0-33 1 42 0-27 1 30 0 6 1-5 0 2 1 19 1 8 0 2 1-3 0 2 1 19 0-98 1 98 1-44 2 34 2-18 1-85 2 88 2 8 1-11 2-1 2-35 1 5 2-48 2 64 1-14 2-93 2 76M832 3305l4 3 4 11 4-16 4 3 4 0 5-2 4-10 4 14 4 8 4-7 5 6 4-12 4 0 4-2 4-1 4-15 4-72 5 81 2-22 2-1 3 0 2-6 3 1 2-4 3-2 2-5 2-3 3-14 2-3 3-7 5 1 5 14 5 13 5 4 5-15 5-9 5 6 5 5 5-17 5-59 5 60 5-101 6 95 5-6 2 3 2-3 2-6 3 10 2 13 2-1 2 8 2 4 3 6 2 10 2 6 2 2 3 4 2 10 2 9 2-5 1-14 2 2 2-5 1-11 2-10 2-7 1-6 2 7 2-16 1-1 2-34 2 19 1-7 2-1 2-8 1-30 2 21 2 3 1-12 2 15 3-8 2 12 2 4 2 8 2-22 2 36 2-2 2 2 2 16 2-9 2-44 2 32 2-19 2 15 2 1 2-3 2-12 2-88 2 84 2 4 2-11 2-8 2-7 2-2 2-13 2 7 4-3 4 6 4 0 4 3 4 5 4 8 5 11 1-10 1-8 2-64 1 45 1 5 1-20 2-3 1 2 1-92 2 73 1-2 1-8 2-2 1 2 1-135 2 116 1 16 2-5 2 17 2-78 2 78 2-31 2 39 2 17 2-154 1 169 2 1 1 8 0-3 1 7 0-1 1 19 0-18 1 12 0 8 1 12 1-50 0 63 1 3 0 13 1 0 0 3 1-3 1 3 2-3 2 1 1-7 2-4 2-12 1-65 2 51 2-6 1 2 2-1 2-8 1-8 2-4 2 0M832 3306l4-11 4-2 4-35 4 24 4-5 5-1 4 3 4-3 4 2 4 16 5-227 4 217 4-4 4 6 4-15 4 8 4 0 5-31 2 19 2-119 3 112 2 0 3-13 2 8 3-39 2 39 2 1 3-18 2 7 3-13 5-2 5 15 5-4 5 13 5-39 5 30 5-1 5-2 5 6 5 12 5-19 5 2 6-9 5 12 2 6 2-2 2 11 3-59 2 64 2-47 2 67 2 5 3-7 2 11 2 3 2-10 3-73 2 84 2 21 2-12 1-62 2 59 2-13 1 4 2-14 2-5 1-137 2 120 2-13 1 11 2-12 2-9 1 8 2-6 2-3 1-22 2-55 2 51 1 1 2 1 3 9 2 4 2 6 2 5 2 9 2-117 2 120 2-55 2 72 2-8 2-1 2-5 2-7 2-1 2-18 2 7 2-12 2-19 2-22 2-20 2 34 2 3 2-11 2 4 2-9 2-12 4 5 4 0 4 5 4-83 4 95 4 15 5-21 1 13 1-8 2-14 1 1 1-9 1-66 2 54 1-10 1 1 2-14 1-43 1 22 2 6 1 6 1-16 2 14 1-8 2-30 2 30 2 12 2 1 2 1 2-5 2 16 2 6 1 8 2 4 1 1 0 9 1 8 0 7 1 0 0 8 1 7 0 12 1-29 1-19 0 60 1 2 0 1 1 7 0 13 1 6 1-101 2 85 2-3 1-68 2 59 2-12 1-1 2-23 2 9 1 2 2-17 2 4 1-8 2 0 2 2" stroke="#2a3275" stroke-width="2.2" fill="none" transform="scale(.5)"/><path d="M296 3241l4-38 3 30 3-4 4-10 3-3 1 3 1 8 1 5 2 2 1 6 1 7 1 9 1 3 1 10 1 6 2 7 2 1 2 8 2 1 2 3 2-4 2 17 2 5 2 1 2 6 2 4 5-2 5 6 5-6 5-3 5-1 5 6 4 1 4 0 4 7 4 8 4-1 5 0 5 8 4-5 5 9 5-9 4 1 5 5 4 8 5 5 5-6 6-12 5 1 5-5 6 8 5-5 6 1 3 6 4 3 3 11 4-2 3 1 4 6 3 7 6 0 6 5 6-10 6-1 6-2 5-5 6 15 5-4 6-4 5 9 6-3 5 1 5 7 6-6 5-21 5 21 5 1 5 5 6 2 5 4 5 0 5 3 6 1 5 4 5-5 5 10 5-9 6-3 5 0 5 1 5 0 5 1 6-17 5 10 5-4 5-28 5 5 5 16 5-8 5-6 4 8 4-11 4 0 3-7 4-5 4-6 4-4M296 3251l4-21 3 11 3-6 4-3 3-5 1-5 1 11 1 7 2 4 1 4 1 6 1 9 1 1 1 8 1 8 2 5 2 0 2 0 2 14 2 0 2 3 2 1 2 5 2 5 2 11 2 2 5 1 5 3 5-5 5-51 5 47 5 6 4-3 4 7 4-3 4 9 4 1 5 3 5-3 4 7 5 0 5 0 4 4 5 9 4 2 5 11 5-5 6-2 5 3 5 5 6-7 5 3 6-3 3 3 4 6 3 0 4-2 3-2 4 18 3-25 6 17 6 2 6-2 6 8 6 0 5-5 6 2 5-2 6 7 5 3 6 4 5-5 5 3 6 7 5-3 5-2 5 8 5-3 6 8 5-9 5 1 5-1 6 3 5 0 5-5 5-4 5 3 6 0 5 0 5-5 5 4 5-2 6 3 5 6 5-9 5-1 5-13 5 15 5-8 5 0 4-6 4-3 4-7 3 4 4-8 4-7 4 2M296 3238l4-5 3 4 3 1 4-11 3-8 1 15 1 3 1 5 2 2 1-1 1 4 1 12 1-1 1 4 1 13 2 6 2 2 2 5 2 6 2 7 2 6 2 1 2 5 2 14 2 1 2 6 5-5 5 1 5-2 5-3 5 1 5 4 4 1 4 5 4-1 4 6 4 3 5 8 5 0 4-7 5 3 5 5 4-16 5 25 4 4 5 3 5-2 6-6 5 3 5 0 6 9 5-9 6 7 3-5 4 6 3 2 4-1 3-1 4-2 3 4 6-1 6 2 6 4 6-3 6 3 5-25 6 18 5 9 6-9 5 10 6-3 5 6 5-2 6 3 5 0 5-2 5 3 5 0 6-3 5-1 5-1 5 1 6-3 5-6 5 20 5-3 5-6 6 1 5 3 5 1 5 0 5 5 6-2 5 2 5-1 5-7 5 4 5-4 5 1 5-15 4 10 4-4 4-1 3 0 4-20 4 11 4-2" stroke="#2a3275" stroke-width="2.2" fill="none" transform="scale(.5)"/><path d="M250 3273l4-1 4 1 3 2 4-9 4 7 3 18 4 6 4 6 6 2 5 11 6 2 6 2 6 0 5 9 6 7 4 11 5 4 4-1 5 10 4 5 5-3 4 3 5 8 4 0 7 8 6-6 7 3 7 3 6 6 7 0 6 1 6-7 6 8 7-3 6 1 6 7 6 0 6-3 6 2 7-3 6 3 6 2 6 1 6-4 6 6 6 0 7 6 6 1 6-8 6-3 6 7 6 2 7-2 6-1 6-2 6 2 6-8 6 4 6-1 7 0 6-2 6 1 6 2 6-2 6 1 7 6 6-13 6 1 6-20 6 19 6 0 6 2 7 5 6-2 6-2 6 0 6 1 6-5 7-1 6 2 6-12 6 10 6-7 6-6 6-16 7 18 6-1 6 5 6-4 6 0 6-2 7-3 6 6 6-13 6 6 6-4 6 1 7 4 6 2 6-8 7 9 6-7 6 2 6-5 6 3 7-6 6-2 6-2 7 3 6 5 6-8 6-1 6-1 7 1 6 2 6-3 7-4 6-7 6-9 6 18 6 3 7-6 6-7 6-2 7 4 6-1 6-8 6 2 6-2 7 5 6-2 6-3 7 3 6-6 6 3 6-3 6 2 7-7 6 4 6 3 7-5 6-5 6 5 6-5 6-7 6-2 6-13 5 9 6-1 6-10 6 0 6 3 6 0 6-4 6 4 5-4 6-3 6-4 6-4 6 1 5-8 5-11 5-3 5-7 5-1 5-15M250 3274l4 2 4 8 3 6 4 7 4-1 3 4 4 4 4 1 6 8 5 1 6 2 6 6 6 2 5 12 6 0 4 3 5 2 4 4 5 9 4 6 5 8 4 3 5 4 4 3 7 4 6 1 7-9 7 7 6-3 7-20 6 31 6 1 6-22 7 18 6 7 6-5 6 0 6 7 6-8 7 4 6 0 6 1 6-1 6-4 6-4 6 17 7-2 6-3 6 5 6-7 6 2 6-1 7 3 6 2 6 2 6 1 6-3 6 4 6 0 7-2 6 1 6-4 6 8 6-2 6 6 7-1 6-3 6 2 6-1 6-1 6 7 6-3 7-6 6 3 6 4 6-3 6 2 6-5 7 5 6-10 6-1 6 3 6-2 6 5 6-1 7 0 6 0 6-7 6 1 6-9 6-5 7-5 6 2 6-4 6 0 6 0 6-1 7-4 6-28 6 28 7-8 6 4 6-7 6 4 6-3 7-6 6 9 6 1 7 0 6 1 6-2 6-4 6 6 7 2 6-9 6 5 7 1 6-13 6 6 6-7 6-1 7-2 6-30 6 31 7-1 6-5 6-15 6-10 6 28 7 1 6-2 6 1 7 3 6-4 6 6 6 1 6 5 7-4 6-5 6-2 7-3 6 3 6-9 6-10 6 8 6-5 6-31 5 29 6-10 6-4 6-5 6 2 6-5 6-1 6-46 5 40 6-3 6 0 6-1 6-7 5-7 5-27 5 21 5-2 5-3 5 0M250 3284l4-6 4 16 3 1 4 2 4 8 3 3 4 14 4 4 6 3 5 8 6 0 6-5 6 6 5-7 6 13 4 6 5 3 4 7 5-4 4 6 5 7 4 8 5 11 4-24 7 22 6-3 7 3 7 7 6 4 7 2 6-2 6 5 6-2 7 4 6-4 6-2 6-4 6 1 6 0 7-6 6 9 6 7 6-1 6-4 6-8 6 6 7-6 6 4 6 5 6-3 6-1 6 1 7 4 6 3 6-2 6-3 6 3 6 0 6 2 7-1 6-3 6-4 6 4 6 8 6 6 7-1 6 1 6 0 6 6 6 2 6-14 6 9 7 4 6 7 6-11 6-9 6 6 6-10 7-4 6-33 6 25 6 2 6 0 6-4 6-2 7-6 6 6 6-3 6-8 6 1 6-3 7-4 6-2 6 3 6-4 6-3 6-3 7-25 6 25 6-10 7-6 6 8 6 2 6-1 6-4 7-1 6 3 6-4 7 5 6-6 6-1 6 4 6-1 7 7 6 2 6-38 7 22 6 19 6 5 6 1 6 0 7 3 6-10 6-2 7-9 6 5 6 4 6-4 6 1 7 3 6-5 6 2 7-2 6 0 6 9 6-8 6 4 7-3 6 1 6 3 7-2 6-5 6-4 6-5 6-5 6-3 6-13 5 5 6-2 6-5 6-10 6-2 6 2 6-11 6-1 5-3 6 1 6-3 6 0 6-9 5-17 5 24 5-4 5-11 5-9 5-2" stroke="#2a3275" stroke-width="2.2" fill="none" transform="scale(.5)"/><path d="M216 3200l6-440 4-68 6 148 4 260 6 100" stroke="#35b6ea" stroke-width="2.4" fill="none" transform="scale(.5)"/><path d="M212 3120l8-320 6-80 8 220 6 240" stroke="#62c6b9" stroke-width="2.4" fill="none" transform="scale(.5)"/><path d="M224 3160l12-280 8 320 8-200 4 280" stroke="#35b6ea" stroke-width="2.2" fill="none" transform="scale(.5)"/><path d="M214 3300l4-260 4 320" stroke="#35b6ea" stroke-width="2.2" fill="none" transform="scale(.5)"/><path d="M300 3250l13-204 5 154 5-137 7 97 10 120" stroke="#2a3275" stroke-width="2.2" fill="none" transform="scale(.5)"/><path d="M910 3300l10-180 14 60 16-100 19-46 11 166 20-80 10 160 13-275 13 195 12 120 13-324 11 184 18 100 14-160 12-80 16-310 4 390 12-180 8 260 13-520 5 440 6-360 8 480 8-560 6 320 9-320 5 520 8-80 8-340 2 520" stroke="#2a3275" stroke-width="2.2" fill="none" transform="scale(.5)"/><path d="M1120 3280l12-420 10 340 10-240 10 320 8-480 14-120 8 520 12-360 10 480" stroke="#2a3275" stroke-width="2.2" fill="none" transform="scale(.5)"/><path d="M1190 3280l10-240 14 120 10-240 10 280" stroke="#35b6ea" stroke-width="2.4" fill="none" transform="scale(.5)"/><path d="M203 3084l1 2 1 4 2 6 2 3 2 7 2 6 2 9 2 10 1 3 1 3 1 8 1 6 1 7 1 5 0 6 1 7 1 7 1 9 1 8 1 4 1 10 1 6 1 6 1 7 1 7 1 9 2 4 2 8 1 6 2 5 2 6 2 8 2 2 2 8 2 1 1 4 2 1 6 14 6 5 5 2 6-2 5-5 5-8 5-8 2-5 1-8 1-6 1-9 1-9 2-3 1-7 1-4 2-2 4-4 4 2 4 9 5 8 5 3 4 2 5-1 6 2 6 4 6 3 6 3 6 4 6-1 6 2 7 2 6 2 6 4 7 3 7 0 6 1 7-1 6 5 7 2 6 6 6-1 7-1 6 3 6-1 7 3 6 2 6 3 6 1 6 0 6 2 7 3 8 6 5 3 4 5 6 0 5 5 6 2 5 5 6 4 6 3 6 1 6 3 6-2 5 4 6 6 6 0 6-1 6 5 6 1 6-2 6 1 6-1 6 0 6 1 6-2 6-2 6-4 6-4 6-1 6-3 6-5 6-1 6-1 6-2 6-2 5-2 5-4 5 1 8-3 6-3 6-2 5-2 5-1 5-3 6-2 6-1 6 0 6 2 7 4 6 1 6 4 7-1 6 2 6 2 5 1 6 1 6-2 6 0 6 1 6 0 7 0 5 0 6 1 6-1 6-3 6-5 6 0 6-1 7 1 6-1 7 0 7-3 6 1 6-2 6 0 6 0 6-2 7 2 6 2 7-2 6 2 7-3 7 0 6-3 6 1 6-3 6 1 6 0 6 0 6-3 6-2 6-3 6-2 5 0 6-3 6 1 6-4 6 2 6-4 6-2 5 0 6-6 6-2 6-1 6-6 6 0 5-3 6-5 6-1 5 0 6-4 5-5 4-4 5 0 7-5 6-7 6-2 6-3 5-2 5-5 4-7 4-6 4-1 3-5" stroke="#5fc5b8" stroke-width="12" fill="none" stroke-linejoin="round" transform="scale(.5)"/><path d="M205 3047l1 8 3 0 3 7 3 2 4 7 2 8 2 1 1 7 1 7 1 6 1 9 2 6 1 4 1 8 1 7 1 8 1 6 1 8 1 5 0 5 1 7 1 7 0 4 1 5 1 5 1 6 0 9 1 5 1 6 1 9 1 7 1 3 0 2 2 10 2 7 2 10 1 8 2 5 2 2 2 3 2 4 2 4 8 4 9-7 2-5 3-5 2-6 3-6 3-9 3-8 3-7 3-6 3-3 4 0 4 3 4 10 4 8 4 6 5 6 6 5 6 1 7 0 7 1 7 0 7 4 7 2 7 0 6 3 6 2 7 1 6-5 5 1 7-5 6 2 6 0 6 2 7 6 6 1 7 5 5 5 5 5 5 5 5 5 6 5 5 5 5 4 5 6 6 0 6 2 6 1 6 2 6 1 6 1 6 4 6 3 6 1 6 1 6-1 6-1 6 4 6 1 6 2 6 0 6 1 6 1 6 5 6 0 6 2 5-1 6-1 6 0 6-2 6-3 6 0 6-3 5-3 6-4 5-2 6-4 5-3 5-3 5-5 5-4 4-6 4-6 4-5 3-5 4-7 4-4 4-8 4-2 6-5 7 1 7 3 7 3 8 1 7 0 6 5 6-2 6 0 5-3 6 4 6 3 6-3 7 2 7-2 7-1 7-1 7-1 7-2 5 0 5-2 6-6 5-2 6-2 6-3 5 0 6-4 6-4 6-1 6-3 6 0 6-2 7-3 6-1 6-2 6 0 5-1 8 1 7 3 8-5 6-4 7 2 6 0 6 2 5 3 5 4 6 5 7 6 5 2 6 1 6-2 6-3 6-3 7 0 6-1 6-1 6-1 7-4 6-1 6-4 6-6 5-3 6-3 6-4 5-4 5-2 6-5 5-6 5-6 5-1 5-6 6 2 7 0 7-4 8 3 7-1 7-3 5-4 3-2 2-7 3-2 2-12 1-6 2-8 1-8 1-5 1-8 1-1" stroke="#2db4e9" stroke-width="12" fill="none" stroke-linejoin="round" transform="scale(.5)"/><path d="M203 3042l2 3 3 6 3 5 4 10 3 5 3 4 2 7 2 4 2 7 1 11 2 6 2 4 1 9 2 2 2 4 1 9 1 8 1 6 1 5 1 8 1 2 1 7 1 4 0 6 1 7 1 10 1 7 1 7 1 3 0 3 2 8 1 6 2 7 1 6 1 10 2 7 1 1 1 9 2-2 8 9 9-3 2-1 3-7 3-6 3-5 3-9 2-5 5-7 4-10 4-3 4-2 2 4 1 5 1 3 1 9 2 5 1 10 1 8 2 7 2 1 1 9 3 6 2 8 2 4 2 10 3 7 2 5 3 4 2 2 6 3 7-3 6-6 6-3 5 1 5 2 4 7 5 3 6 5 6 2 5 7 6 4 7 4 6 2 6 1 6 4 7 0 6-1 7-4 6-4 6-4 6 2 5 2 5 3 5 9 4 9 5-1 7 0 8 3 7-2 8-6 6 4 6 2 7 0 7 5 7 2 6 1 7-1 7 0 7 3 8 0 7 2 7 2 7-1 7-2 6 0 7 3 7 0 8-1 7-1 7 3 7 6 7-1 6 0 7-4 6-3 6-1 6-7 4-4 5-4 4-3 5-6 4-5 5-5 5-3 6-8 5-4 6-7 7-2 6 4 7 6 7 1 8 2 7 4 6 1 5-2 4-5 3-4 3-5 2-5 2-7 3-5 4-5 5-6 6-3 5 0 5-4 5 3 5 3 6 4 5 1 5-1 6-4 6-6 6-7 6-9 3-4 3-5 3-7 3-6 3-9 3-9 2-4 3-3 3-3 3-3 6-1 5 6 6 8 8 1 5-1 7-3 7-5 7-5 7-1 7-2 6 2 3 2 2 8 3 7 3 9 2 8 3 7 2 7 3 6 2 6 3 7 2 4 2 3 3-1 2 2 2-7 2-3 3-6 2-6 2-10 2-6 3-12 2-7 2-12 2-7 2-5 2-6 2-9 2 0 1-1 3 1 3 10 2 4 2 7 2 12 2 7 2 5 2 3 3-2 2 1 2-4 2-7 3-5 2-6 3-5 2-8 3-12 2-8 3-10 2-7 3-1 2-4 3 1 5-2 5 4 5 6 5 13 4 3 5 0 1-3 2-5 2-5 2-8 1-9 2-10 1-7 2-8 1-9 2-1 1-10 2-7 2 1 2 1 2 2 3 6 2 9 3 8 2 4 3 12 2 9 1 7 1 5 1 4 1 5 0 12 1 12 0 9 0 5 1 10 0 4 1 8 1 3 0 3 2-1 1 1 2-1 2-5 2-7 2-6 2-11 3-9 2-8 2-9 2-5 2-6 1-5 2-2" stroke="#222a6c" stroke-width="12" fill="none" stroke-linejoin="round" transform="scale(.5)"/></g>
<g><path d="M116 1341.6v6M116 1705.2v-6M201.1 1341.6v6M201.1 1705.2v-6M286.2 1341.6v6M286.2 1705.2v-6M371.3 1341.6v6M371.3 1705.2v-6M456.4 1341.6v6M456.4 1705.2v-6M541.5 1341.6v6M541.5 1705.2v-6M626.6 1341.6v6M626.6 1705.2v-6M94.7 1584h6M647.9 1584h-6M94.7 1462.8h6M647.9 1462.8h-6" stroke="#3a3a3a" stroke-width="2" fill="none"/><rect x="94.7" y="1341.6" width="553.1" height="363.6" fill="none" stroke="#3a3a3a" stroke-width="2"/><text x="80.5" y="1714.2" text-anchor="end" font-size="25" stroke="#1a1a1a" stroke-width="0.35">0</text><text x="80.5" y="1593" text-anchor="end" font-size="25" stroke="#1a1a1a" stroke-width="0.35">5</text><text x="80.5" y="1471.8" text-anchor="end" font-size="25" stroke="#1a1a1a" stroke-width="0.35">10</text><text x="80.5" y="1350.6" text-anchor="end" font-size="25" stroke="#1a1a1a" stroke-width="0.35">15</text><text x="105.4" y="1737.7" font-size="25" textLength="22.8" lengthAdjust="spacingAndGlyphs" stroke="#1a1a1a" stroke-width="0.35">0°</text><text x="177.3" y="1737.7" font-size="25" textLength="36.6" lengthAdjust="spacingAndGlyphs" stroke="#1a1a1a" stroke-width="0.35">2°E</text><text x="262.2" y="1737.7" font-size="25" textLength="36.6" lengthAdjust="spacingAndGlyphs" stroke="#1a1a1a" stroke-width="0.35">4°E</text><text x="347.5" y="1737.7" font-size="25" textLength="37" lengthAdjust="spacingAndGlyphs" stroke="#1a1a1a" stroke-width="0.35">6°E</text><text x="431.8" y="1737.7" font-size="25" textLength="36.6" lengthAdjust="spacingAndGlyphs" stroke="#1a1a1a" stroke-width="0.35">8°E</text><text x="507.7" y="1737.7" font-size="25" textLength="49.1" lengthAdjust="spacingAndGlyphs" stroke="#1a1a1a" stroke-width="0.35">10°E</text><text x="588.8" y="1737.7" font-size="25" textLength="50.2" lengthAdjust="spacingAndGlyphs" stroke="#1a1a1a" stroke-width="0.35">12°E</text><text x="2.7" y="1325.9" font-size="32" font-weight="bold">G</text><text transform="translate(24 1525) rotate(-90)" x="-151.5" font-size="25" textLength="303" lengthAdjust="spacingAndGlyphs" stroke="#1a1a1a" stroke-width="0.3">Total chlorophyll-a (µg L<tspan font-size="15" dy="-9">-1</tspan><tspan dy="9">)</tspan></text></g>
<clipPath id="cH"><rect x="790.2" y="1341.6" width="553.1" height="363.6"/></clipPath>
<g><path d="M832.8 1341.6V1705.2M854 1341.6V1705.2M875.3 1341.6V1705.2M917.9 1341.6V1705.2M939.1 1341.6V1705.2M960.4 1341.6V1705.2M1003 1341.6V1705.2M1024.2 1341.6V1705.2M1045.5 1341.6V1705.2M1088.1 1341.6V1705.2M1109.3 1341.6V1705.2M1130.6 1341.6V1705.2M1173.2 1341.6V1705.2M1194.5 1341.6V1705.2M1215.7 1341.6V1705.2M1258.3 1341.6V1705.2M1279.5 1341.6V1705.2M1300.8 1341.6V1705.2M790.2 1681H1343.4M790.2 1656.7H1343.4M790.2 1632.5H1343.4M790.2 1608.2H1343.4M790.2 1559.8H1343.4M790.2 1535.5H1343.4M790.2 1511.3H1343.4M790.2 1487H1343.4M790.2 1438.6H1343.4M790.2 1414.3H1343.4M790.2 1390.1H1343.4M790.2 1365.8H1343.4" stroke="#bbbbbb" stroke-width="1.9" stroke-dasharray="1.9 5.6" fill="none"/><path d="M811.5 1341.6V1705.2M896.6 1341.6V1705.2M981.7 1341.6V1705.2M1066.8 1341.6V1705.2M1151.9 1341.6V1705.2M1237 1341.6V1705.2M1322.1 1341.6V1705.2M790.2 1584H1343.4M790.2 1462.8H1343.4" stroke="#dadada" stroke-width="1.5" fill="none"/></g>
<g clip-path="url(#cH)"><path d="M1651 3356l5 0 5-3 6 3 7 1 8-2 8 5 8-1 9 0 10 0 10 2 10 4 11 2 11 3 6 0 7-1 7-8 8 1 7 3 8 1 8 1 8 0 9-4 8 4 8-3 9-3 9-2 8 1 9 4 9 2 8-4 9 0 8 5 9-3 8 1 8-4 8 1 9 2 8-3 8 0 9 5 9 1 8-2 9-3 8-3 9 2 8 1 9-1 8 5 8-3 8 0 8 2 8-1 8 0 7 1 8-1 7 2 7-1 10-1 10-4 10-1 9-1 9-1 9 1 8-6 8-3 8 3 8 4 8 0 7 2 8 0 7-3 10-6 10 0 10 1 10 4 9-1 8 0 8-6 7-3 6 0 5-1 0 27-5-2-6 3-7 4-8 1-8-1-9-1-10-1-10-3-10 4-10-3-7 3-8-2-7-2-8 7-8 0-8-1-8 3-8-1-9 0-9 3-9 1-10-3-10 0-10 4-7-1-7 0-8 1-7-4-8 2-8 0-8 0-8-1-8 6-8 1-9 4-8-2-9 0-8-3-9-1-8-4-9 0-9 2-8 0-8 0-9 2-8 1-8-1-8 0-9 0-8 4-9-1-8-3-9 1-9 0-8 0-9-4-9-1-8 2-8-5-9 3-8-4-8 4-8-1-7 1-8 3-7 2-7 2-6-3-11-4-11-1-10 1-10 2-10 4-9-1-8-1-8-4-8-3-7 0-6 0-5 0-5 2z" fill="#f2a2af" opacity="0.45" transform="scale(.5)"/><path d="M1650 3318l5-2 6-3 7 0 7 5 9-1 9-1 9-1 10-1 10 2 10-6 9 0 10 1 9 0 8-4 7 2 8-1 8-6 8-4 8-2 8 1 8-1 9-3 8-1 8-1 8 1 8-2 8 0 8 5 8 1 8-2 8-1 8 1 8 2 8 0 8 5 8 2 8 1 8 3 8 5 8 0 8-4 8 3 8 0 8 3 9-3 8 3 9 3 8 0 9-4 9 0 8 1 9-1 8 0 8-2 7 2 7-1 7 0 6-1 11-3 9-1 8-5 7 3 6-7 6-1 7-4 5-11 6-8 5-7 5-10 5-4 5-5 5-6 5-6 5-8 6-7 6-5 6-4 6-4 7-6 6-7 7-9 6-5 8-5 9-9 9-6 8-2 8-1 7-4 5-5 0 39-5 0-7 5-8 1-8 5-9 1-9 7-8 8-6 4-7 7-6 8-7 4-6 4-6 7-6 11-6 4-5 8-5 11-5 5-5 3-5 10-5 8-5 10-6 5-5 3-7 2-6-1-6 3-7 3-8 3-9 6-11-3-6 5-7 4-7 1-7 2-8-1-8 2-9 0-8-1-9-3-9-2-8 6-9 1-8 1-9-4-8-2-8 1-8 7-8-4-8-3-8-4-8-11-8 6-8-4-8-1-8-5-8-1-8-3-8 2-8 1-8-4-8 4-8 1-8-2-8 0-8 3-8-2-9 3-8 4-8 4-8-1-8 1-8 0-8-3-7 2-8 3-9 0-10-1-9 1-10 2-10 0-10 4-9-1-9 1-9 2-7 4-7-3-6-3-5 3z" fill="#d35a62" opacity="0.35" transform="scale(.5)"/><path d="M1651 3373l7-11 6 4 6 3 7-6 6 6 6 0 7 4 6-3 6 3 6 3 7-10 6 1 6 1 7-3 6 0 6 5 7-2 6-1 6 5 6-2 6 0 6-1 7 6 6-5 6-1 6-2 6-5 6 1 7 3 6 6 6-12 6 6 6 0 6 2 6 3 7-5 6-4 6-1 6 4 6 2 6-2 7 2 6 0 6-5 6 5 6-7 6 0 7 5 6-2 6 0 6-4 6 8 6-3 6 4 7 8 6-6 6 4 6 1 6-9 6 0 7 2 6 2 6 4 6-5 6 3 6-3 7 3 6-1 6 0 6-7 6-1 6 6 6-2 7-2 6 0 6-5 6 8 7 0 6 0 6-7 6-4 7 8 6-1 6-6 6-1 7 0 6 2 6 1 6 1 7 3 6-8 6 4 7-4 6 7 6-2 7-7 6-1 6 2 7-3 6-3 7-1 6 9 6-7 7-3 6 9 7-4 6 0M1651 3381l7 0 6 0 6-1 7 4 6 3 6-7 7-2 6 2 6-5 6 7 7-7 6 9 6-4 7-1 6-3 6 2 7-4 6 2 6-2 6 9 6-5 6 2 7-3 6 5 6-1 6 5 6-7 6 3 7 5 6 0 6-2 6 1 6 3 6-6 6 6 7 1 6 4 6 3 6-4 6 2 6 7 7-6 6 6 6-4 6-8 6 5 6 4 7-2 6-3 6 1 6-6 6 5 6-3 6 5 7-9 6 6 6-7 6 6 6-6 6-1 7-1 6 2 6-13 6 2 6 8 6-5 7 0 6 5 6-3 6-3 6 1 6-3 6 4 7 0 6 0 6-7 6 12 7-4 6 6 6-2 6-1 7-2 6 5 6 2 6 0 7-3 6-10 6-1 6 3 7-4 6 5 6-8 7 3 6-1 6-5 7 2 6-4 6 3 7 0 6-7 7 2 6-5 6-4 7-3 6 1 7 6 6-5M1651 3380l7 5 6-8 6 1 7 2 6 3 6 0 7 1 6-1 6 0 6 2 7-4 6-5 6 2 7-2 6-1 6-4 7-1 6 3 6 3 6 1 6-1 6 3 7-6 6 6 6 0 6-1 6-2 6 2 7 2 6 4 6-7 6 3 6 0 6-6 6 6 7-7 6-1 6 5 6 0 6 2 6 5 7-4 6 4 6-3 6 4 6-6 6 2 7-2 6 0 6-2 6 1 6-4 6 3 6-3 7 5 6 3 6-7 6 0 6 3 6 1 7-4 6 4 6-8 6 0 6-2 6 9 7-2 6 4 6-4 6-1 6 4 6-5 6 3 7 8 6-5 6-2 6 2 7 2 6-1 6 1 6 0 7 2 6-1 6 0 6-2 7-2 6-2 6 1 6 2 7-7 6 5 6-8 7 7 6 2 6-4 7-5 6-3 6 1 7-4 6-2 7 1 6-5 6 7 7 2 6-11 7 5 6-1M1651 3365l7 1 6 1 6-5 7-5 6 3 6-2 7 2 6 0 6-3 6 7 7-1 6-1 6-5 7-5 6 9 6-6 7 8 6 1 6-4 6 5 6-1 6-4 7-3 6 3 6-1 6-1 6 1 6-2 7 2 6-2 6 1 6 0 6-4 6-1 6-1 7 11 6-2 6 1 6 6 6-6 6 1 7 1 6-1 6 7 6-3 6 3 6-4 7 0 6-2 6 2 6 8 6-4 6-3 6 7 7 0 6-5 6-4 6 10 6-7 6 12 7-7 6-2 6-2 6 3 6-1 6 3 7 3 6-6 6 3 6-2 6 1 6 7 6-10 7 1 6 4 6-4 6-3 7-7 6-1 6 0 6-2 7-1 6 4 6-4 6 3 7-2 6 8 6-7 6 6 7-2 6 1 6-4 7 0 6-5 6-3 7 1 6-8 6 1 7 4 6 4 7-2 6-1 6 5 7-5 6 6 7-6 6 1M1651 3363l7-3 6-1 6 4 7-1 6-3 6 0 7 4 6-4 6 0 6-2 7-1 6 2 6 2 7-1 6-4 6 2 7 1 6-9 6 9 6 3 6-5 6 1 7-7 6 4 6 8 6 0 6-4 6 0 7-2 6 2 6-6 6 0 6 7 6-5 6 0 7-3 6 4 6-1 6-1 6 6 6-2 7 2 6 2 6-6 6 11 6-9 6 5 7-1 6-2 6 3 6-3 6 3 6-5 6 2 7-5 6 8 6-6 6 4 6-1 6-4 7 7 6-3 6 5 6-1 6 2 6 0 7-4 6 0 6-1 6-2 6 5 6-3 6 3 7-1 6 4 6-2 6 1 7-7 6-2 6 4 6-3 7 6 6-3 6-1 6 4 7-3 6 1 6 0 6 0 7-3 6-4 6 3 7 2 6-7 6-5 7-1 6-5 6-1 7 6 6-2 7-5 6 0 6-1 7 1 6 3 7-1 6-4M1651 3358l7 2 6-1 6 1 7 4 6 0 6 3 7-1 6-5 6 5 6 0 7 4 6-5 6-2 7 0 6 1 6-7 7 6 6-2 6 7 6-8 6 4 6 6 7 1 6-5 6 9 6-8 6-5 6 5 7 6 6-5 6 3 6-7 6 1 6 2 6 1 7-5 6-2 6-5 6 2 6-1 6 1 7 0 6 0 6 6 6-2 6-1 6-8 7 14 6-4 6 2 6-6 6 1 6 2 6 3 7 3 6 0 6 0 6-3 6 3 6-3 7 1 6-1 6 1 6 0 6 2 6 5 7 0 6 7 6-5 6-2 6 2 6 1 6 0 7-1 6 0 6 0 6 3 7-8 6 2 6-1 6-5 7-8 6 4 6-4 6 2 7-1 6 3 6-4 6 5 7-8 6 3 6-1 7 2 6-1 6 3 7-2 6-3 6 2 7-2 6-1 7-1 6 3 6-2 7 6 6-10 7-2 6 1M1651 3376l7-5 6 1 6 5 7-6 6 4 6-3 7 4 6-2 6 5 6 3 7 1 6 1 6-3 7 1 6 0 6 2 7 4 6 1 6-5 6 3 6 1 6-3 7-1 6 1 6 5 6 3 6-5 6-5 7 4 6-1 6 4 6-1 6-7 6-3 6 0 7-8 6 0 6 1 6 1 6-1 6 1 7 0 6 2 6 1 6 4 6-7 6-3 7-1 6 1 6 4 6 0 6-7 6 6 6 2 7 1 6-7 6 4 6-1 6 0 6 3 7 4 6 0 6-2 6-1 6 3 6-11 7 10 6 6 6-10 6 1 6-2 6-1 6 1 7 2 6-3 6 5 6 5 7-2 6-5 6 3 6-1 7-6 6 5 6-9 6 9 7-4 6 2 6 2 6 3 7-7 6 2 6-2 7 5 6-6 6 2 7 3 6-2 6-5 7 9 6-2 7-2 6-4 6-1 7 3 6-1 7-1 6-1M1651 3362l7 2 6 4 6-11 7 7 6-1 6 0 7 8 6-9 6 4 6 1 7 1 6-1 6 3 7-4 6-2 6 5 7-5 6 2 6-2 6 2 6-1 6 4 7 2 6-2 6-2 6-1 6 3 6-6 7 5 6-7 6 6 6-1 6 0 6 3 6 0 7 1 6-2 6 3 6 2 6 0 6-2 7 1 6-1 6-2 6 3 6-7 6 11 7-9 6-1 6 6 6-1 6 2 6-3 6-2 7 5 6-10 6 0 6 5 6-8 6 8 7-4 6 2 6 3 6-8 6-1 6-1 7 3 6-5 6 0 6 5 6-1 6 4 6 0 7-6 6-1 6-1 6 5 7 5 6-6 6 5 6 0 7-3 6 2 6-4 6-1 7-4 6 2 6-3 6 6 7 0 6 5 6-1 7-5 6 1 6-4 7 6 6-12 6 9 7-1 6-5 7 1 6 0 6-1 7 7 6-6 7-2 6-10M1651 3379l7-3 6 8 6 1 7-1 6-2 6 1 7-1 6 5 6-5 6 1 7-2 6 4 6-8 7 3 6-2 6 6 7 4 6-3 6 6 6-5 6 1 6-6 7-7 6 3 6-4 6-7 6 7 6 1 7-3 6 6 6 0 6-4 6 1 6 9 6 1 7 1 6-1 6 2 6 6 6-3 6 3 7 1 6-3 6-1 6 2 6-2 6 1 7-2 6-3 6-3 6 0 6-3 6 9 6-3 7 2 6 1 6-4 6-2 6 3 6-5 7 4 6-3 6 3 6-1 6 6 6-3 7 2 6 2 6-6 6-4 6 7 6 1 6-7 7-1 6-2 6 3 6 2 7-4 6-5 6 1 6-2 7 0 6-10 6 4 6 2 7 2 6 7 6-2 6-2 7 3 6-9 6 7 7 3 6-2 6 3 7-2 6-2 6-2 7-4 6-6 7 7 6 1 6-1 7-1 6-3 7 1 6-6M1651 3379l7 3 6-5 6 2 7-2 6 5 6-8 7-1 6 5 6-2 6 2 7-5 6 2 6 2 7-5 6-1 6-3 7 2 6 2 6 4 6-2 6 2 6-1 7-1 6-3 6 4 6 0 6 3 6-5 7-1 6 4 6-11 6 9 6 2 6 3 6 2 7 0 6-1 6 2 6-1 6 5 6 1 7 1 6-3 6 2 6-2 6 1 6-1 7 3 6-3 6 1 6-3 6 8 6-3 6-2 7-8 6 6 6 6 6 2 6-4 6 1 7-3 6-7 6 2 6 7 6-6 6 6 7-5 6-1 6 2 6 1 6-5 6 1 6-4 7 5 6 0 6-6 6 0 7 1 6-2 6-5 6 5 7-4 6 3 6-8 6 4 7-4 6-2 6 2 6-2 7-3 6 1 6 0 7 5 6-1 6 4 7-4 6-3 6-4 7 8 6-1 7-1 6 5 6 3 7-8 6 4 7-2 6-2M1651 3365l7-3 6-2 6-6 7 3 6-4 6 2 7 3 6-2 6 1 6 2 7 0 6-4 6 6 7 0 6-2 6 4 7 1 6-2 6-8 6 2 6 10 6-2 7 2 6 6 6-4 6-3 6-2 6 6 7-3 6 0 6-1 6 0 6-2 6 1 6-3 7-3 6 5 6 0 6 4 6-4 6 0 7 1 6 2 6 1 6-9 6 12 6-6 7 1 6-1 6 0 6-2 6-6 6 2 6-5 7 11 6-5 6-2 6 2 6 0 6 0 7 9 6-5 6-6 6 4 6 3 6-2 7-5 6 9 6-5 6-2 6 2 6 0 6-4 7 0 6 2 6-3 6 3 7 2 6-5 6-7 6 4 7-2 6 0 6 0 6-5 7 5 6 1 6 2 6-8 7 1 6 9 6-2 7 0 6 6 6 0 7 0 6-3 6-2 7 1 6 3 7-6 6-5 6 4 7 2 6 3 7-2 6 8M1651 3365l7-2 6 6 6 2 7-12 6 4 6-1 7 1 6-4 6 2 6-1 7 1 6 1 6 6 7 5 6-2 6 4 7 1 6-4 6 5 6-5 6 4 6-4 7-4 6 4 6-8 6-3 6 4 6 1 7 2 6 4 6-1 6-5 6 4 6 0 6 0 7 4 6-5 6-2 6-1 6 11 6-4 7 3 6 0 6-1 6 3 6-4 6 6 7-3 6-2 6 5 6 0 6 0 6-5 6-3 7-4 6 2 6 8 6-10 6 8 6-7 7 3 6-9 6 7 6-7 6 3 6 7 7 1 6 12 6-5 6-4 6-2 6 0 6-4 7 5 6-2 6 5 6-3 7-2 6 6 6-6 6 2 7-1 6 1 6-4 6-3 7 0 6-6 6 5 6-3 7-2 6 6 6-6 7 2 6-8 6-1 7 5 6-2 6-5 7 2 6-4 7 1 6-1 6 2 7 0 6-4 7-4 6 6M1651 3372l7 0 6-1 6 1 7 3 6 1 6 0 7 2 6-8 6 5 6 3 7-5 6 7 6-3 7-4 6 3 6 1 7-4 6 2 6-6 6 2 6 1 6 6 7 11 6-8 6-1 6 0 6 0 6 2 7 4 6-5 6 6 6-3 6 1 6 1 6-1 7 2 6-7 6 2 6-2 6 2 6 2 7-7 6 4 6-3 6-2 6-5 6 11 7 4 6-5 6 1 6-2 6 3 6-7 6-3 7 6 6 4 6-8 6-1 6 0 6 5 7-3 6-1 6 0 6-4 6 9 6-7 7-2 6 2 6-2 6-1 6-5 6 5 6 8 7-2 6 3 6 8 6-2 7 3 6-4 6-8 6 4 7-2 6-5 6 0 6 1 7 3 6 0 6-7 6-6 7 5 6-1 6-2 7-5 6 7 6-9 7-2 6 1 6 1 7-8 6 3 7 6 6-3 6 8 7 4 6-9 7 0 6-3M1651 3383l7-3 6 1 6 2 7 2 6-7 6 7 7-3 6 0 6 0 6 2 7-4 6 8 6-4 7-3 6 2 6 3 7 1 6-3 6 4 6-3 6 1 6-2 7 2 6 1 6 0 6-7 6-1 6-5 7 3 6 4 6-4 6 5 6-5 6-5 6-1 7-1 6 8 6 1 6-6 6-1 6 7 7 1 6 4 6-6 6 11 6-8 6 7 7 3 6-3 6 8 6-1 6 1 6-6 6 6 7-4 6-1 6-2 6 0 6 1 6-9 7 2 6 1 6-4 6 0 6-6 6 4 7-3 6-2 6 1 6 3 6-1 6 5 6-5 7 0 6-1 6 1 6 1 7 3 6-1 6 0 6-1 7 6 6 3 6-8 6-1 7-2 6 3 6-6 6 1 7 1 6-8 6 8 7 0 6-6 6 0 7-3 6 1 6-7 7-4 6 2 7-2 6 0 6 5 7-6 6-6 7 6 6-2M1651 3364l7 1 6-4 6 2 7 1 6-4 6 5 7-9 6 4 6-3 6 6 7 0 6-4 6 8 7-3 6 3 6 1 7 1 6 3 6 0 6 3 6 0 6-5 7-1 6 1 6-4 6 3 6-2 6 2 7 3 6 3 6 1 6 0 6-1 6 5 6-2 7-6 6 7 6-1 6-3 6 0 6-3 7 1 6-2 6 1 6 3 6-2 6-2 7-2 6 4 6-4 6 2 6 2 6 8 6-9 7-2 6-6 6 8 6-1 6-1 6 4 7-3 6-2 6-1 6-4 6 7 6-2 7 1 6 0 6-4 6 1 6 6 6 0 6-1 7 3 6-3 6 10 6-10 7 3 6-2 6-5 6-1 7 1 6-3 6-5 6-2 7-1 6 2 6 2 6-3 7 2 6-6 6 2 7 4 6-6 6 2 7-3 6-1 6-1 7 5 6-2 7-5 6 1 6 0 7 1 6 5 7-2 6 2M1651 3365l7 6 6 3 6-1 7 9 6-11 6 5 7-3 6 4 6-2 6-4 7 4 6-2 6 6 7-6 6 5 6-4 7-4 6-2 6 3 6-3 6 12 6 0 7-1 6 5 6-7 6 4 6-3 6-4 7 2 6 7 6-11 6 5 6-7 6 6 6 0 7-7 6 2 6-1 6 4 6 0 6-3 7 3 6 0 6-3 6 4 6 2 6 2 7-4 6 3 6 4 6-3 6 3 6-3 6 4 7 2 6-1 6 1 6 5 6-3 6-1 7-6 6 2 6-1 6 2 6 3 6-6 7-5 6-2 6 4 6-5 6-2 6 5 6 5 7-9 6 1 6 1 6-4 7 2 6-8 6 1 6-1 7 2 6 4 6-4 6 8 7-7 6-1 6 5 6 0 7-2 6 3 6-1 7 0 6 2 6 0 7-6 6 1 6 2 7 0 6 0 7-2 6-5 6 1 7-4 6-1 7 4 6 0M1651 3360l7 5 6-4 6 6 7-3 6 1 6-3 7 8 6-4 6-1 6 2 7 0 6 1 6 1 7 0 6 0 6-3 7-5 6-3 6 2 6 2 6-1 6-1 7 4 6-1 6 7 6-1 6 6 6 2 7-3 6 5 6-8 6-4 6 1 6 1 6-1 7 2 6-1 6-1 6-7 6 7 6 0 7 2 6 0 6-7 6 5 6 4 6 0 7-2 6 5 6 1 6-2 6-1 6 1 6 2 7-4 6-2 6-2 6-3 6 4 6-2 7-2 6 3 6 1 6 0 6 4 6-1 7-2 6 2 6 0 6 1 6-4 6-2 6-2 7 2 6-6 6-2 6 1 7-4 6 11 6 2 6 1 7-3 6 5 6-4 6 3 7-2 6-10 6 3 6 6 7-2 6 0 6-5 7 7 6-3 6 2 7-2 6-1 6-3 7-5 6-2 7 1 6 3 6-3 7 1 6-1 7-3 6 1M1651 3381l7-1 6 1 6 4 7 1 6-5 6 7 7-1 6 0 6 0 6-3 7-3 6 0 6 6 7 5 6-8 6 2 7 3 6-11 6 3 6 3 6 4 6-1 7 0 6 3 6 0 6-4 6 2 6 6 7-5 6-4 6-2 6-3 6 2 6 5 6-1 7-1 6 0 6 2 6-8 6 6 6 2 7-2 6 1 6 6 6-4 6 8 6-4 7-5 6 6 6-5 6-2 6-1 6 3 6-4 7-1 6 5 6 2 6 3 6 1 6 0 7-2 6 5 6-10 6 0 6 3 6-7 7 10 6-3 6-3 6-1 6 4 6 6 6 1 7-11 6 0 6-3 6 0 7-2 6-2 6 6 6-6 7-2 6-7 6 5 6 0 7-5 6-7 6 4 6-5 7 2 6-1 6 1 7 1 6 6 6-11 7 9 6-5 6-4 7-2 6 0 7-1 6 1 6 4 7 3 6 2 7-6 6 0M1651 3371l7 6 6 0 6 5 7 0 6-5 6 9 7-1 6-4 6 1 6 4 7 4 6 5 6-6 7-7 6 4 6-2 7-3 6 7 6-3 6-3 6 0 6-6 7 1 6-1 6 3 6 3 6-1 6 5 7-6 6-2 6-5 6 1 6 4 6-4 6-2 7 1 6-8 6 6 6 8 6-2 6-5 7 3 6 1 6-1 6-1 6-2 6-2 7 4 6-4 6 3 6-7 6 0 6 2 6-5 7 4 6-2 6 0 6-3 6 7 6 0 7-3 6 3 6 1 6 3 6-4 6 0 7-4 6 1 6-3 6 4 6 7 6-6 6 9 7 8 6 0 6-1 6-7 7 2 6-5 6-1 6-3 7-2 6 2 6-1 6 9 7-3 6-3 6 1 6-6 7 4 6-7 6 2 7 3 6-3 6-4 7 3 6 1 6-5 7 5 6 4 7-7 6 2 6-1 7-8 6-1 7-6 6 8M1651 3380l7-2 6 5 6-5 7-2 6 6 6-1 7 0 6 0 6 3 6-4 7 3 6 2 6 4 7-4 6 10 6-1 7 2 6 1 6-5 6-6 6 5 6-3 7 4 6-5 6 7 6-5 6-1 6 3 7-1 6 1 6-1 6 1 6 3 6-8 6 7 7-3 6 1 6 1 6 3 6-2 6-2 7 7 6-4 6 1 6-4 6 7 6-8 7-5 6 1 6 4 6-6 6 6 6 4 6-4 7-4 6-3 6 1 6 2 6 3 6-6 7 2 6-5 6 2 6 4 6-4 6 2 7-2 6 1 6 4 6-5 6-1 6 2 6 3 7-4 6 2 6-4 6 0 7-1 6 4 6 0 6-6 7 8 6-3 6 6 6-1 7-8 6-4 6 5 6-4 7-3 6-1 6-3 7 4 6-2 6-8 7 3 6 2 6 8 7-3 6 0 7-2 6 6 6-6 7 1 6-9 7 7 6-3M1651 3371l7-1 6-7 6 7 7 4 6 1 6-5 7 2 6 2 6-4 6 2 7 2 6-2 6 2 7 3 6 2 6-4 7-3 6-2 6 6 6 4 6-3 6 3 7-1 6 1 6-2 6 3 6 0 6 0 7-1 6-2 6 5 6 2 6-2 6-4 6-1 7 1 6-4 6 4 6-11 6 8 6 1 7 2 6-3 6 3 6 8 6-3 6-3 7 3 6-2 6 0 6-5 6 0 6 3 6 3 7 5 6-1 6-4 6 3 6 0 6 1 7-3 6 0 6 3 6-5 6 3 6-6 7 7 6-1 6-4 6-2 6 0 6-2 6 2 7-6 6 0 6 1 6-12 7 10 6-6 6 4 6-1 7 6 6-4 6-3 6 4 7-4 6 2 6-2 6 1 7 0 6 1 6 4 7-4 6 4 6-3 7-5 6-1 6-1 7-3 6-8 7 8 6-6 6 4 7-5 6 5 7-1 6-4M1651 3372l7 0 6-1 6-2 7-1 6 6 6-6 7-4 6 7 6-5 6 0 7 9 6-7 6 4 7-1 6 5 6-3 7-3 6 4 6 10 6-8 6-2 6 2 7-1 6 2 6 2 6 4 6 0 6 2 7 3 6 1 6 1 6-7 6 3 6 0 6-2 7 2 6-2 6 0 6-3 6-3 6-1 7 1 6-3 6 1 6 5 6-9 6 0 7 7 6-4 6 6 6-4 6 2 6 3 6-4 7-1 6 2 6-7 6-2 6 0 6-5 7 3 6 3 6 1 6-3 6 2 6 0 7 0 6-1 6 3 6 4 6-6 6 10 6-8 7 0 6 2 6-2 6 12 7-3 6-2 6-3 6 9 7-6 6-1 6 3 6 0 7 8 6-3 6-7 6-5 7-5 6 5 6-3 7 2 6-7 6 3 7-1 6-4 6 4 7-6 6-1 7-4 6-1 6-1 7 2 6 2 7-4 6 2M1651 3374l7-4 6 1 6 0 7-6 6 1 6 6 7 2 6-1 6 4 6 0 7 0 6-4 6 6 7-6 6-2 6 10 7-4 6 1 6 5 6 0 6-4 6 2 7-2 6-1 6-4 6 1 6 5 6-9 7 4 6-5 6 5 6-6 6 10 6-6 6-5 7 2 6-3 6 10 6-13 6 5 6-1 7-2 6 4 6 0 6-5 6-1 6-1 7 3 6-5 6 0 6 2 6 0 6 9 6 0 7-4 6 2 6 3 6-1 6 2 6 2 7-1 6 3 6-2 6-6 6 5 6 5 7-2 6-3 6 5 6 1 6-6 6 6 6 3 7-1 6-2 6-4 6-5 7 3 6-3 6 3 6-2 7-4 6 3 6-4 6-2 7 4 6-1 6-3 6 2 7-4 6 1 6 3 7 5 6 2 6-6 7-1 6-11 6 0 7 5 6 4 7-5 6 2 6 3 7 2 6-2 7 5 6 2M1651 3377l7-5 6 7 6 2 7-3 6 0 6-5 7 4 6 2 6-5 6 10 7-5 6 2 6-5 7 8 6-6 6 8 7-8 6 2 6-4 6-3 6-1 6 2 7-2 6 1 6 1 6-4 6 7 6-2 7-3 6 0 6 1 6-9 6 5 6 4 6-4 7 1 6-2 6 2 6-2 6 6 6 4 7-7 6 5 6 1 6 2 6-9 6 5 7-1 6-3 6-1 6 3 6 1 6 2 6 1 7-2 6 5 6-5 6-6 6 6 6-7 7 10 6-4 6 5 6-2 6 1 6 4 7-3 6-2 6 3 6 3 6 0 6-3 6-1 7 3 6-2 6-1 6-2 7 2 6-4 6 0 6 0 7 6 6-5 6 1 6-8 7 3 6-2 6-1 6 6 7 1 6-8 6-5 7 8 6-10 6 4 7 3 6-5 6-1 7 1 6-3 7-2 6 1 6 1 7-4 6 2 7-3 6 5" stroke="#f2a2af" stroke-width="2.6" fill="none" transform="scale(.5)"/><path d="M1651 3355l7 1 6-11 6 2 7-4 6 5 6 1 7-3 6-1 6-1 6 3 7 6 6-7 6 8 7 6 6-1 6 1 7-2 6 3 6 0 6 2 7-10 6 7 6-2 6-4 7-10 6 12 6-3 6 4 7-2 6-3 6 4 7 1 6-5 6-1 6 1 7 1 6-1 6 4 6-10 7 6 6-4 6 6 6-7 7 5 6 3 6-5 6-4 7 8 6-2 6-4 7 6 6-6 6 4 6-3 7 1 6 3 6-4 6-4 7 8 6-7 6 4 7-4 6 10 6-3 6 0 7 4 6-5 6 1 6-9 7-3 6-1 6 9 7-4 6 0 6-1 6-3 6 10 6-3 6 0 5 5 6 3 6-12 6-4 6 3 6-5 5-5 5-6 6-1 5-6 6-2 5-8 6 3 5 2 5-6 6 4 5-18 6 2 5-6 5-8 6 5 5-6 5-1 6-1 5-5 6-4 5 3 6-4 6-13 6-2 6 0M1651 3357l7 0 6-6 6 1 7-1 6-7 6 18 7-6 6-2 6 5 6-3 7-1 6-9 6 3 7 4 6-2 6 6 7 2 6 8 6-9 6 6 7-2 6-1 6 0 6 3 7-8 6 5 6-9 6-2 7 1 6-2 6 3 7-3 6 1 6 3 6-2 7-1 6-3 6 3 6 2 7 1 6 1 6-5 6 7 7 2 6 3 6 2 6-14 7 3 6 1 6 7 7-1 6-5 6 10 6-3 7 2 6-3 6 6 6-8 7-3 6 3 6-1 7-4 6 3 6 6 6-3 7 5 6-10 6 2 6-1 7 0 6-2 6 2 7-7 6 0 6 6 6-8 6 0 6 3 6-10 5-1 6-3 6 5 6-3 6-6 6 4 5-9 5 3 6-2 5-16 6 0 5-4 6-5 5 4 5 1 6 5 5-12 6-11 5 1 5 0 6-2 5 0 5 1 6-7 5-7 6 10 5-2 6-4 6-16 6-6 6 0M1651 3366l7-3 6 0 6 0 7 4 6-6 6 3 7-2 6-7 6 9 6-6 7 10 6-4 6-2 7 5 6 2 6-7 7-2 6 2 6 3 6-5 7 5 6-7 6 8 6 2 7-2 6-3 6-8 6-3 7 5 6 6 6-6 7 6 6 2 6-2 6 0 7 5 6-1 6-8 6-2 7 4 6-2 6 2 6-5 7 4 6 2 6 2 6 1 7-1 6 3 6-2 7-8 6 3 6 3 6 1 7 1 6 1 6-1 6-1 7-8 6 8 6-2 7-2 6 2 6 5 6-8 7-6 6 8 6 0 6-9 7 5 6 2 6 4 7-11 6 6 6 0 6-7 6 2 6-10 6 6 5-7 6-2 6-2 6 0 6-4 6-7 5 9 5-8 6-6 5-3 6-13 5-1 6-4 5 5 5-1 6 3 5-12 6-7 5-2 5 9 6-13 5-4 5 1 6 7 5-7 6 4 5-11 6-3 6-1 6 0 6-7M1651 3351l7 5 6-4 6-10 7 14 6-10 6-2 7 4 6-1 6 9 6-11 7 8 6 3 6-5 7 8 6-4 6-10 7 0 6-6 6 3 6 2 7-1 6-5 6-8 6 2 7-4 6 1 6-4 6 5 7-8 6-2 6-2 7 3 6 2 6-3 6-2 7 2 6 2 6 3 6 0 7 0 6-1 6 0 6 3 7-2 6 3 6 0 6 2 7-1 6 3 6 3 7-8 6-1 6 6 6 5 7-3 6 5 6-2 6 3 7-5 6 1 6-3 7 0 6 7 6-4 6 5 7 5 6-8 6-4 6-3 7 11 6-6 6-2 7-3 6-4 6-3 6 0 6-1 6-2 6-6 5 3 6-2 6 2 6 2 6-10 6-1 5 0 5 1 6-4 5-5 6-7 5-8 6 1 5-1 5-2 6 0 5 0 6 3 5-13 5 7 6-12 5 1 5-2 6-10 5 6 6-4 5-1 6-4 6 1 6-6 6 1M1651 3348l7-9 6-4 6 8 7 3 6 1 6-2 7 8 6-7 6-9 6 4 7 5 6-3 6 1 7-1 6 1 6-1 7 6 6 7 6-7 6 0 7 9 6-10 6 7 6-13 7 6 6-13 6 2 6 7 7-3 6-2 6-3 7-3 6-7 6 5 6-9 7-10 6 5 6 1 6 9 7 1 6 1 6-5 6-6 7 3 6 0 6 0 6 3 7 0 6 1 6-8 7 1 6 1 6-1 6 5 7 13 6-7 6 7 6-2 7-7 6 6 6 8 7-1 6-1 6 12 6-8 7-8 6 18 6-10 6 0 7 6 6-3 6 0 7 5 6-5 6-3 6-2 6-3 6-4 6-5 5 4 6-10 6 6 6-6 6-7 6-1 5-3 5-3 6-2 5-1 6-2 5-6 6-8 5 0 5-7 6-4 5-3 6 2 5-5 5-4 6-1 5-12 5 6 6-1 5-6 6-5 5-5 6 2 6-4 6 4 6-10M1651 3361l7 3 6 2 6 4 7-3 6-8 6 4 7-6 6 10 6-5 6-1 7 2 6 1 6-7 7 1 6 2 6-8 7-3 6 7 6-1 6-4 7-2 6-1 6 5 6-5 7 8 6-4 6-1 6 4 7 1 6-7 6-5 7 3 6-6 6 2 6-1 7-7 6 2 6 5 6 5 7 0 6 7 6-1 6 2 7-4 6 5 6 6 6-5 7 6 6-8 6-6 7 9 6-4 6 2 6 5 7-4 6-1 6-1 6 6 7 1 6 1 6 1 7-8 6 7 6 5 6 1 7 0 6-4 6 1 6-9 7-4 6-5 6 4 7-2 6-7 6 6 6-3 6-8 6 6 6-7 5 0 6-4 6-1 6 0 6 9 6-11 5-1 5-5 6 8 5-6 6-4 5 2 6-5 5-11 5 8 6-5 5-3 6 8 5-10 5-1 6-17 5 9 5 4 6-7 5-3 6-8 5-3 6-4 6-5 6-3 6 0M1651 3356l7 7 6 5 6-11 7 5 6-1 6-5 7-3 6 5 6-2 6-1 7 1 6-1 6-1 7 2 6 2 6 0 7 6 6-9 6 0 6-2 7-6 6 2 6-3 6 5 7-9 6 7 6-3 6-4 7-1 6-5 6 1 7-1 6-1 6-1 6 2 7 0 6-1 6-3 6 3 7 1 6-6 6 4 6 5 7 3 6 4 6-4 6 8 7-6 6-3 6 4 7 1 6-2 6 3 6 1 7 6 6-2 6 3 6-11 7-8 6 18 6-9 7 7 6 1 6-3 6-2 7-3 6 2 6-7 6 6 7-3 6 9 6-5 7-3 6 1 6-1 6-4 6 1 6-4 6 4 5 5 6-7 6-2 6-6 6 3 6 4 5-5 5-6 6-1 5 2 6-10 5-4 6 0 5 1 5-11 6 2 5-3 6-7 5 1 5-8 6-2 5 2 5-7 6-1 5-6 6-8 5-2 6-2 6-2 6 0 6 1M1651 3346l7-12 6 13 6 1 7-2 6-6 6 4 7-5 6-5 6 4 6-5 7-1 6 2 6-2 7-1 6 4 6 1 7 2 6 2 6-4 6 1 7-2 6-2 6 2 6-2 7-6 6 4 6-5 6 3 7 3 6-2 6 3 7 2 6 4 6-2 6-2 7 1 6 6 6 4 6 6 7-9 6-2 6 1 6 8 7-3 6-7 6-5 6 0 7 1 6 3 6 2 7-6 6 2 6-4 6-1 7-1 6 0 6 4 6-4 7-5 6 3 6 0 7-1 6 5 6-7 6 5 7-4 6-7 6-6 6-3 7 4 6 14 6-5 7 5 6 0 6 1 6 4 6-3 6-15 6 4 5 4 6 4 6-4 6-3 6-3 6-2 5-5 5-5 6-3 5-3 6-4 5-5 6-2 5-5 5 5 6-4 5 0 6 3 5-7 5 3 6-5 5-8 5-5 6 0 5-6 6-1 5 4 6-6 6 3 6-8 6-2M1651 3348l7 1 6 1 6 0 7 5 6 3 6-3 7-3 6 1 6-1 6 0 7-2 6 8 6-9 7 0 6 3 6-1 7-3 6 2 6-3 6 0 7-7 6 2 6-3 6-1 7 1 6-4 6 5 6-2 7-2 6 1 6-2 7 2 6-5 6 5 6-10 7 6 6 0 6 3 6-4 7 1 6 1 6-1 6 3 7-3 6 0 6 1 6 1 7 3 6-8 6-6 7 12 6 1 6-1 6 4 7 2 6 0 6-4 6-3 7 6 6-4 6 5 7-5 6-2 6 0 6 6 7 0 6-4 6 8 6-3 7-3 6-3 6-4 7 6 6-10 6 6 6-6 6 4 6-4 6 2 5 0 6 3 6-5 6 2 6 0 6 5 5-5 5-5 6-9 5 8 6-5 5-5 6-7 5-10 5-6 6 4 5-11 6 2 5-6 5-4 6-2 5 1 5-5 6-1 5 1 6-4 5-4 6-5 6-6 6-7 6 0M1651 3355l7 1 6-3 6 7 7-3 6 2 6 1 7-9 6 8 6 3 6-1 7 6 6-8 6 5 7-1 6 0 6-7 7 3 6-4 6 8 6 1 7-7 6-2 6-3 6 1 7-7 6-1 6-11 6 5 7 2 6-11 6 10 7-3 6-12 6-1 6 8 7 7 6-3 6-2 6 0 7 0 6-5 6 8 6 6 7-8 6 12 6-6 6 4 7 2 6 4 6-3 7 5 6 4 6-5 6 3 7 7 6-7 6-6 6 6 7-3 6 8 6-8 7-3 6 0 6 1 6 0 7-7 6 1 6-9 6 2 7 4 6 6 6-7 7-1 6-9 6 2 6 0 6-7 6 8 6 0 5-2 6 4 6-2 6 1 6-6 6 1 5 2 5-4 6-6 5-2 6-7 5-8 6 0 5-8 5 2 6-5 5-2 6 6 5-3 5-7 6 3 5-14 5-4 6 1 5 6 6-4 5-6 6-11 6 3 6-17 6 2M1651 3351l7 0 6 0 6 6 7-2 6 6 6-5 7-1 6 4 6 2 6-6 7-2 6-4 6-5 7 3 6-10 6 1 7 6 6-8 6-1 6 1 7 1 6-5 6-3 6 8 7-4 6-2 6 2 6-3 7 0 6 4 6-3 7-6 6 4 6 5 6-4 7 3 6-1 6 7 6-10 7 11 6 2 6 0 6-1 7-1 6-2 6 14 6-13 7 8 6-2 6 4 7-4 6 3 6 4 6-4 7 6 6 2 6-6 6 4 7-6 6 1 6 0 7-2 6-1 6-4 6-6 7 3 6-7 6-1 6 3 7-5 6 2 6 5 7-6 6 4 6-4 6-3 6 13 6-10 6-1 5-1 6 2 6-10 6 3 6 0 6 3 5-6 5-11 6-6 5-2 6-3 5-3 6 0 5-8 5 11 6-5 5-4 6-2 5-3 5-3 6 1 5-12 5-3 6 5 5-13 6 7 5 4 6-4 6-8 6 2 6-10M1651 3350l7-1 6-4 6 1 7 1 6-5 6-5 7-1 6-3 6 9 6-7 7 1 6 0 6-2 7 7 6 3 6-3 7-3 6 6 6 1 6-1 7 1 6 2 6-6 6 1 7 0 6-4 6 7 6-4 7-3 6-2 6 0 7-1 6-3 6 6 6-1 7-8 6 5 6 0 6 2 7 2 6-3 6 2 6 4 7-3 6 9 6-9 6 4 7-2 6-1 6 3 7-1 6 9 6-10 6 5 7 2 6 6 6-2 6-6 7-1 6-3 6 1 7 5 6-2 6 0 6-5 7 4 6-4 6-2 6 1 7 14 6-6 6 4 7-8 6 10 6-2 6-4 6 1 6-8 6 2 5 0 6-1 6-11 6 11 6-4 6-13 5 3 5-15 6 5 5-11 6-5 5 2 6 0 5-10 5-3 6-9 5-1 6 0 5-2 5 0 6 4 5-8 5 2 6-9 5-6 6-4 5-3 6 1 6-6 6-1 6-12M1651 3334l7 0 6 1 6 0 7 0 6-2 6 0 7 4 6-3 6 0 6 6 7-7 6 0 6 6 7 1 6 0 6-3 7 4 6-6 6 6 6-9 7-9 6-2 6 2 6 1 7-1 6 2 6-9 6 1 7 5 6 0 6-7 7 11 6-8 6 0 6-3 7-6 6-7 6 9 6-5 7-3 6 6 6 9 6 1 7-3 6 2 6 0 6 3 7-4 6 4 6-8 7-2 6 6 6 2 6 2 7 0 6 5 6 1 6 3 7-1 6-6 6 5 7 7 6-10 6 10 6-10 7-6 6 5 6-4 6 1 7-4 6 6 6-1 7 3 6-2 6 3 6 1 6-7 6 3 6 0 5 0 6-7 6 2 6-4 6-10 6-3 5 1 5-6 6 1 5-7 6 4 5-8 6 0 5 1 5 1 6-3 5-12 6-2 5 3 5 1 6-4 5-15 5 6 6-11 5-2 6-1 5-2 6-13 6 3 6-6 6 0M1651 3373l7-2 6-8 6 8 7-6 6 7 6 1 7 0 6-5 6-6 6-4 7 7 6-6 6 7 7-5 6 8 6-7 7 7 6 2 6-1 6-3 7 4 6 1 6-5 6 3 7-3 6-7 6 8 6-6 7-1 6-4 6 7 7-11 6 3 6-7 6-3 7 0 6-8 6-5 6 0 7 13 6 0 6 4 6 4 7-2 6 3 6-2 6 2 7 11 6-5 6-2 7 9 6 0 6-4 6 2 7 4 6-5 6-5 6 7 7 1 6 0 6-2 7-4 6 4 6-8 6-1 7 2 6 0 6 1 6-11 7 3 6-6 6 1 7-2 6 3 6-6 6 0 6 7 6-2 6 0 5 2 6 2 6 4 6-4 6-3 6 6 5-7 5-4 6 8 5-11 6 1 5-10 6-1 5-2 5-5 6-6 5 0 6-6 5 4 5 3 6-14 5 2 5 3 6-8 5-2 6-4 5-1 6-9 6-6 6-3 6-3M1651 3345l7 6 6-7 6 0 7 5 6-2 6-1 7 2 6-7 6 2 6-11 7 6 6 1 6 5 7-3 6-1 6 3 7-3 6-1 6-1 6-6 7 0 6 0 6 0 6 3 7-4 6 4 6 4 6-3 7 3 6-7 6 2 7 0 6 6 6-1 6 2 7-10 6 12 6-11 6-3 7-5 6 13 6-3 6 6 7-2 6-2 6 3 6 3 7-1 6 2 6 5 7 2 6 5 6-11 6 7 7 3 6-4 6-4 6 6 7-3 6 3 6-1 7 3 6-7 6-7 6-3 7 7 6-6 6-4 6-4 7-1 6 6 6-4 7 1 6-6 6 4 6-5 6 7 6-7 6 4 5-3 6 1 6 3 6-8 6 3 6-7 5-4 5-2 6-10 5-2 6 4 5-7 6-12 5 10 5-4 6-1 5-14 6-2 5 9 5-8 6-3 5 0 5 0 6-6 5-4 6 2 5-8 6-2 6 3 6 2 6-5M1651 3350l7 0 6-2 6 8 7-5 6-4 6-4 7 4 6-2 6-4 6-2 7-3 6 9 6-9 7 2 6-3 6 10 7 4 6-7 6-6 6-1 7 4 6 0 6 2 6 6 7-8 6 6 6-5 6 5 7 7 6-5 6 4 7-6 6-9 6 2 6 5 7 6 6-4 6 4 6-9 7 7 6-4 6 7 6 8 7-2 6-3 6 0 6-8 7 4 6 4 6-5 7-5 6 0 6 2 6-5 7 5 6-5 6 0 6-6 7 15 6-3 6-4 7 2 6 4 6-1 6-1 7-3 6 0 6 4 6 1 7-12 6 3 6 1 7 5 6-3 6 4 6-6 6-2 6-2 6-2 5 10 6 3 6-9 6 1 6 0 6 2 5-11 5-3 6-4 5 1 6 0 5-3 6 2 5 0 5-2 6-6 5-2 6-4 5-9 5 4 6-9 5 1 5-10 6 3 5-13 6-2 5 2 6-11 6-1 6 0 6-5M1651 3359l7 11 6-10 6-5 7 3 6 3 6-3 7-2 6 2 6-4 6 4 7-4 6 5 6-3 7-2 6 3 6-10 7 5 6-2 6 0 6 0 7-6 6 6 6 6 6-4 7 0 6 2 6 4 6-7 7 3 6-1 6 10 7-12 6 3 6-5 6 0 7-6 6 2 6-1 6 3 7-6 6 3 6-3 6 3 7 2 6 1 6 0 6-4 7-4 6 0 6 3 7-3 6 3 6 4 6 0 7 1 6-5 6-6 6 7 7-1 6 1 6 4 7-1 6 4 6-2 6 1 7-3 6-5 6-8 6 4 7-5 6 6 6-3 7 7 6-7 6 3 6-1 6 1 6 0 6-5 5 3 6 2 6 2 6-2 6-7 6 3 5-2 5-11 6 4 5-6 6-3 5-7 6 6 5-7 5-2 6 1 5-13 6 3 5-1 5 1 6-3 5-7 5-1 6 0 5-4 6 1 5-2 6-8 6 0 6-13 6-2M1651 3343l7-11 6-1 6 2 7 4 6-5 6-1 7 7 6-11 6 8 6 4 7-4 6 2 6-1 7-5 6 1 6 3 7 5 6-4 6-11 6 5 7-13 6 6 6-11 6 8 7-9 6 12 6-8 6-2 7-6 6 5 6 5 7-2 6 0 6-3 6 0 7-2 6 0 6 7 6-1 7 6 6-3 6-1 6 5 7-3 6 0 6 2 6 5 7-9 6 7 6 2 7 7 6 3 6 4 6-5 7-4 6 2 6 5 6-6 7 6 6-12 6 9 7-3 6-4 6 4 6-2 7-6 6-1 6 6 6 0 7-2 6 2 6-6 7 4 6-1 6 5 6-7 6-9 6-2 6-3 5 3 6 6 6 3 6-2 6-5 6 0 5 0 5-5 6-7 5-8 6-4 5-10 6 5 5-4 5-4 6-7 5 2 6-14 5 3 5 4 6-6 5-3 5-4 6 0 5-1 6-14 5-4 6-5 6 4 6-3 6-11M1651 3366l7-10 6 7 6 0 7-3 6 3 6 1 7 1 6-4 6 3 6-8 7 3 6 0 6 3 7-13 6 2 6 8 7-6 6 3 6 7 6-9 7-3 6 6 6-5 6-2 7 1 6 2 6-10 6 6 7 3 6-12 6 1 7-2 6-4 6 4 6-5 7 2 6 3 6-2 6-2 7 6 6 1 6 7 6-3 7 3 6 1 6-1 6-5 7 10 6-4 6-5 7 1 6 7 6 0 6 0 7-4 6 4 6-6 6 2 7-5 6 5 6-8 7 0 6-1 6-3 6 3 7 5 6-6 6 0 6 6 7 3 6-3 6 7 7-1 6-6 6 2 6-8 6-1 6 1 6-4 5-3 6-2 6-7 6-4 6 3 6-9 5-1 5 4 6 1 5-11 6 4 5-6 6-4 5-6 5-5 6 1 5-3 6-2 5 4 5 2 6-13 5-2 5-1 6 2 5-6 6-5 5-1 6-1 6-8 6-4 6 6M1651 3352l7 1 6 0 6 6 7-2 6 4 6 3 7-11 6 1 6 2 6-7 7 6 6 2 6 1 7-5 6 2 6-2 7-2 6-8 6 4 6-6 7-2 6 6 6 5 6-4 7 2 6 7 6-3 6-3 7-2 6 3 6 1 7 1 6-9 6-6 6-2 7 2 6 6 6-1 6-2 7-3 6 0 6 10 6-3 7 1 6-3 6-1 6 1 7 2 6 6 6-1 7 4 6 4 6-4 6-9 7 8 6-6 6 3 6 0 7 2 6 0 6-3 7 3 6 3 6-1 6 3 7-3 6 4 6-4 6-2 7 4 6 1 6-6 7 4 6-1 6-12 6 9 6-5 6 4 6-4 5-7 6 9 6-9 6-1 6-4 6-6 5 2 5-10 6-2 5 3 6-7 5 1 6-5 5 1 5-8 6 1 5-4 6-1 5-2 5-1 6-6 5 0 5-7 6 1 5-3 6-9 5-10 6 0 6-1 6-4 6 10" stroke="#d35a62" stroke-width="2.2" fill="none" transform="scale(.5)"/><path d="M1650 3336l6 0 6-2 7-7 6 9 6-11 7-4 6 7 6-5 6 2 6-3 6 0 6-1 6-1 6-5 6 0 6 12 6-8 6 8 6-5 6-1 6 1 6 0 6-11 6 9 6-12 6-2 6-3 6 4 6 5 6-6 6-3 6-3 6-1 6-2 6 0 6-4 6-6 6-5 7 0 6 3 7 0 7 1 6 6 7-2 6 7 5 5 6 0 6 8 6-4 5 8 6 1 7-3 6 3 7 2 7 6 6-2 7 7 6 3 6-4 6 0 7 2 6-9 6 6 6 1 6 8 6-6 7-64 6 59 6-8 6-2 6-2 6 8 6-5 6-6 6 5 6-9 6-7 6-57 6 60 6-2 4-6 4-10 4 5 4-6 4 0 4-3 4-11 4-11 4 9 4-8 4-8 4 1 4-8 4-6 4-7 4 3 4-14 4 0 4 0 4-8 5-4 5 1 5-10 5 5 5-2 5-1 5-11 5-4 5-2 5-11 5-7 5-4 5 5 5-13 5-6 5 0 5 2 5 3 4-12 5-12 5-1M1650 3310l6 5 6-4 7-15 6 8 6 2 7-17 6 5 6 10 6-4 6 8 6-13 6 8 6 10 6-3 6-2 6 1 6 1 6-4 6-1 6-7 6 4 6-6 6-4 6-8 6 10 6-2 6-2 6 2 6-6 6 0 6 6 6-11 6-6 6-3 6 2 6 1 6 1 6 1 7-3 6-4 7 6 7-2 6 1 7 10 6 5 5-3 6 1 6 4 6-8 5 2 6-6 7 8 6-1 7-2 7 11 6-6 7 8 6-1 6 1 6-2 7 2 6-1 6 6 6-1 6-1 6 3 7-19 6 24 6 5 6 0 6-5 6 9 6-9 6-5 6 10 6-5 6-3 6-9 6 4 6 0 4-6 4-17 4-8 4-10 4-4 4 2 4-10 4-1 4-2 4-7 4-15 4-1 4-2 4-8 4-8 4 0 4-12 4 1 4-10 4-3 5-2 5-3 5-2 5-5 5-6 5-14 5-2 5 4 5-8 5-3 5-12 5 5 5-8 5-3 5 2 5 2 5-9 5-2 4-3 5-7 5-3M1650 3306l6 9 6 3 7-8 6 0 6 6 7-8 6-4 6 4 6-7 6-4 6 2 6-3 6-1 6-5 6 4 6-2 6-1 6-1 6 2 6 1 6-8 6 10 6-7 6 3 6-3 6-9 6-6 6-22 6 13 6 9 6-3 6-7 6 13 6-5 6-2 6-6 6 3 6-4 7 7 6-3 7-3 7-1 6 1 7-5 6 15 5-4 6 12 6-5 6 1 5 9 6-3 7 1 6 9 7-1 7 19 6-5 7 0 6-5 6 0 6-7 7 14 6-5 6 3 6 2 6-42 6 44 7-3 6-10 6 5 6 5 6 1 6-3 6-2 6-2 6-4 6 4 6 4 6-13 6-3 6-1 4 4 4-12 4-12 4-11 4-5 4 1 4 1 4-2 4-7 4-2 4-11 4 2 4-3 4-6 4-5 4-10 4 2 4 1 4-7 4-14 5-10 5-1 5-5 5-5 5 4 5-1 5-3 5-11 5 6 5-6 5-10 5-10 5-13 5-1 5-3 5 2 5-7 5 5 4 0 5-11 5 3M1650 3313l6 6 6-4 7-10 6-1 6-8 7 7 6 6 6-5 6-1 6-4 6 9 6 4 6-2 6 0 6-8 6 10 6-3 6 4 6-4 6-1 6 9 6 3 6-10 6 1 6-6 6 12 6-5 6-2 6 3 6-4 6-3 6-2 6-16 6 15 6-4 6-4 6 3 6-9 7-2 6 1 7 8 7-1 6-12 7 6 6 10 5 1 6-2 6 1 6 7 5 1 6-2 7 9 6 1 7-1 7-1 6 5 7-7 6 8 6-1 6-6 7-2 6-8 6 6 6 3 6-9 6 5 7 0 6 4 6 1 6-14 6 9 6 1 6-1 6 4 6-5 6-1 6-4 6 1 6-3 6 4 4-16 4-6 4-9 4 2 4-7 4 5 4-26 4 5 4-5 4 5 4-4 4-12 4-2 4-7 4 1 4-9 4-1 4 0 4-2 4-11 5 5 5-4 5-15 5-6 5 2 5-13 5 2 5-6 5-13 5 2 5 5 5-12 5-14 5 5 5-4 5-4 5-8 5-3 4 6 5-8 5-13M1650 3317l6 14 6 7 7 7 6-10 6-7 7 0 6-7 6 3 6 2 6 4 6 0 6 2 6-2 6 5 6 0 6-3 6 0 6-1 6 4 6 3 6-4 6-8 6-1 6 1 6-9 6 3 6 2 6-5 6-2 6 7 6-4 6-6 6-3 6-6 6 5 6-4 6 4 6-8 7-4 6-4 7 6 7 2 6-5 7 12 6 2 5-1 6 8 6 4 6 6 5 6 6 3 7 1 6 4 7-2 7-2 6 7 7 10 6-7 6-11 6 3 7-1 6 2 6-4 6 6 6-2 6-4 7-6 6 8 6-9 6 2 6-3 6-8 6-3 6 2 6-2 6-10 6 13 6 1 6-12 6-4 4-4 4 4 4-3 4-2 4-6 4 0 4-9 4-4 4-7 4-9 4 12 4-38 4 14 4-9 4-3 4 3 4-11 4-6 4-14 4-2 5-5 5-8 5 6 5-7 5-1 5 0 5-12 5-8 5 1 5 1 5-11 5-3 5-4 5-3 5-5 5 4 5-5 5-1 4-16 5 4 5-4M1650 3342l6-10 6 3 7-8 6 3 6 5 7-9 6 2 6 9 6-5 6 5 6 1 6-2 6-2 6-9 6 4 6 9 6-7 6-2 6 0 6-4 6-1 6 7 6-1 6-7 6 4 6 2 6-8 6 8 6-7 6-2 6-6 6-1 6 4 6-4 6-5 6 4 6 2 6-9 7 3 6-6 7 2 7 8 6-8 7 17 6-6 5 3 6 7 6-9 6 10 5 8 6 4 7-1 6-1 7 3 7 0 6-5 7 3 6-8 6-3 6-4 7 1 6 1 6-1 6 0 6 2 6 2 7-6 6 7 6-4 6 8 6-6 6 4 6-10 6 2 6 2 6-18 6 17 6 3 6-10 6-23 4 25 4-7 4-6 4 0 4-14 4-2 4-14 4 11 4 0 4-8 4-4 4-17 4 8 4-9 4-13 4 4 4-16 4-4 4-7 4-11 5-2 5 2 5-1 5-4 5-2 5-3 5-2 5-12 5 0 5-10 5-1 5-4 5-4 5-5 5-5 5-16 5 2 5 1 4-6 5-1 5-15M1650 3329l6 1 6-1 7-3 6-2 6 4 7-9 6-1 6 3 6-4 6 4 6-4 6-8 6 0 6-1 6 9 6-11 6 15 6-5 6 4 6-3 6-3 6-11 6 6 6 4 6-10 6-2 6 0 6 1 6 0 6 2 6 7 6-5 6-10 6 10 6-7 6-3 6-2 6 1 7-7 6 8 7-2 7 2 6 6 7-1 6 10 5 9 6 4 6-11 6 9 5-1 6 2 7 4 6-2 7 3 7 5 6 1 7-1 6-11 6 14 6-1 7 4 6-3 6-7 6 4 6-17 6 16 7-6 6 3 6 1 6 1 6-6 6-1 6 0 6 3 6-4 6-10 6 9 6-10 6 7 6-7 4-6 4 1 4-15 4 0 4-1 4-5 4-7 4-9 4 3 4-15 4-8 4 2 4-12 4-3 4-2 4-41 4 23 4 3 4-13 4-9 5 0 5-4 5-2 5 0 5-8 5-14 5-16 5 19 5 5 5-13 5-2 5-5 5-9 5 4 5-1 5-1 5-17 5 0 4 1 5-8 5-24M1650 3343l6-2 6 1 7 1 6-25 6 12 7-1 6 3 6 11 6-21 6 14 6-4 6 0 6-6 6 8 6-3 6-9 6 6 6-7 6 3 6-2 6 5 6-14 6-1 6-3 6 1 6 1 6-3 6 1 6 2 6 9 6-5 6 2 6-7 6-4 6-3 6-5 6-2 6-3 7 7 6-7 7 13 7 3 6-14 7-3 6 16 5-2 6 4 6 11 6 3 5 4 6 0 7 5 6-1 7-5 7 17 6 1 7-5 6 3 6 2 6 1 7-10 6 4 6-5 6-8 6 0 6 2 7 0 6 7 6 5 6-17 6-15 6 6 6 8 6 5 6 6 6-15 6-8 6 2 6 3 6-6 4-6 4 3 4-4 4 0 4-4 4-8 4 3 4-5 4-10 4-10 4-1 4 0 4-4 4-13 4-29 4 18 4-4 4-6 4-6 4 0 5-3 5-15 5-1 5 2 5 9 5-18 5 2 5-6 5-7 5 7 5-1 5-6 5-4 5-4 5-3 5-2 5-3 5-8 4 0 5-4 5-15M1650 3363l6-6 6-5 7-4 6 6 6 6 7-8 6-4 6 3 6-7 6 3 6-3 6 12 6-2 6-29 6 18 6 4 6 5 6-1 6-4 6 4 6-2 6-9 6-7 6 3 6 3 6-6 6 3 6-4 6 0 6 13 6 1 6-6 6 0 6-4 6-3 6-2 6-3 6 3 7 1 6-2 7 4 7-2 6 3 7 1 6 1 5 10 6 7 6-3 6 3 5 1 6 4 7 4 6-10 7 8 7 1 6-1 7-4 6 8 6-11 6-1 7 4 6-3 6-3 6-2 6 10 6-8 7 1 6-2 6 1 6-2 6-6 6 4 6 6 6-17 6 15 6-4 6-3 6 1 6-1 6 6 4 0 4-9 4-3 4 1 4-12 4-5 4-16 4 7 4-9 4-7 4 4 4-21 4 2 4-2 4-23 4 10 4-11 4-5 4-8 4 1 5-8 5 8 5-10 5-5 5-7 5-7 5 5 5-7 5 1 5-12 5 5 5-10 5-17 5 19 5-5 5-11 5-4 5 1 4-5 5-6 5-6M1650 3352l6 4 6-3 7-11 6 8 6-5 7-1 6-8 6 0 6-1 6-6 6-2 6 3 6 3 6 4 6-2 6 11 6-16 6 7 6 5 6 5 6 2 6-5 6-14 6 5 6-9 6 2 6 1 6 4 6-7 6 5 6-2 6-6 6-3 6 1 6-1 6 1 6-16 6 2 7 4 6 2 7-4 7 4 6 4 7-4 6 13 5-8 6 1 6-40 6 42 5 9 6-6 7 16 6-5 7-1 7-2 6 4 7-5 6 1 6-4 6-16 7 23 6 0 6 0 6 6 6 5 6-10 7 8 6-3 6-1 6 3 6 1 6-10 6 4 6 3 6-11 6 2 6-3 6 3 6-13 6 2 4-7 4 3 4-3 4 1 4-15 4 1 4-4 4-6 4-4 4-7 4-5 4 6 4-15 4-7 4-4 4 0 4-6 4-9 4-6 4-5 5 8 5-23 5 4 5-3 5-4 5-11 5 6 5-15 5 3 5 1 5-10 5-8 5-6 5-2 5-11 5-1 5 2 5-4 4-10 5 5 5-14M1650 3318l6 4 6 0 7-11 6 5 6-1 7-2 6-12 6-2 6-2 6 1 6 1 6 3 6 1 6 1 6-3 6-1 6-4 6-2 6 8 6-9 6-1 6-1 6 13 6-8 6-1 6 4 6-6 6 5 6-1 6-3 6 5 6-25 6 7 6 14 6-1 6 2 6 0 6-1 7-22 6 27 7-10 7 4 6-7 7 0 6 0 5 16 6-8 6 8 6 13 5 1 6-1 7-6 6 3 7 3 7 4 6 4 7-8 6 1 6 1 6-6 7 3 6 0 6 0 6-3 6-5 6-2 7 12 6 0 6-6 6-7 6-3 6 11 6-8 6-1 6 0 6 6 6 2 6-10 6 0 6 0 4-7 4-2 4-18 4 4 4-6 4 0 4-6 4-3 4-7 4-4 4-9 4-5 4-3 4-10 4-3 4-7 4 2 4-13 4-3 4-3 5-9 5 3 5 1 5-4 5-2 5-12 5 2 5-15 5 0 5-8 5 11 5-9 5 3 5-16 5 7 5 2 5-9 5-4 4-4 5-13 5-7M1650 3337l6-6 6-3 7 4 6-9 6 4 7 4 6-6 6-5 6 6 6 4 6-6 6 6 6-1 6-23 6 15 6-3 6 3 6-10 6-20 6 30 6-4 6 3 6-3 6 4 6 3 6 5 6-4 6 1 6-5 6 10 6-11 6 0 6-10 6 19 6 0 6 6 6-4 6-6 7 2 6-4 7 2 7-6 6 0 7-5 6 1 5 2 6 6 6 5 6-5 5 8 6-2 7 5 6-5 7 1 7 4 6-1 7 10 6 2 6 7 6-13 7-5 6-6 6-1 6 4 6-1 6-3 7 1 6-8 6 7 6-8 6 3 6-2 6-3 6-2 6 2 6 2 6 4 6 0 6-3 6 1 4-6 4-11 4-17 4 17 4-8 4-7 4 0 4-9 4-13 4 2 4 6 4-6 4-7 4-7 4-6 4-8 4-6 4-4 4 1 4-11 5-1 5-10 5 6 5-9 5-1 5 2 5 1 5-10 5 4 5-15 5-1 5-12 5 0 5-10 5-5 5 2 5-8 5-5 4-4 5-7 5-13M1650 3357l6-3 6 0 7-1 6-4 6-7 7-7 6 1 6 0 6-2 6 1 6 3 6 1 6-7 6 6 6-6 6-4 6-3 6 1 6 2 6-5 6-1 6 4 6-1 6-2 6 3 6-5 6-5 6-5 6 11 6-10 6 2 6-4 6-2 6 1 6-5 6 2 6 4 6-2 7-15 6 23 7 1 7-7 6 9 7 9 6 7 5-5 6 0 6 10 6-10 5 17 6 7 7 7 6-13 7 2 7-9 6-31 7 35 6 1 6 3 6-10 7 6 6 6 6-8 6 9 6 4 6-15 7 20 6-9 6-3 6 1 6 0 6-8 6 2 6-11 6 4 6-2 6-3 6 0 6-11 6 2 4 0 4-9 4 4 4-2 4-6 4-10 4 4 4-8 4-3 4-6 4-2 4-8 4-29 4 17 4-5 4-5 4-5 4-23 4 13 4-12 5-7 5 4 5-9 5-2 5-3 5 2 5-5 5-10 5 0 5 1 5-19 5 4 5-14 5 10 5-3 5-4 5-7 5-5 4-7 5-8 5-3M1650 3336l6-5 6 4 7-1 6 11 6-9 7-32 6 35 6-12 6-8 6 0 6 1 6-3 6-5 6-2 6 2 6 2 6 1 6-2 6 0 6 2 6 0 6-19 6 2 6 8 6 2 6-10 6-3 6 7 6-2 6-6 6-9 6 8 6-6 6 0 6-3 6-2 6 3 6-8 7 8 6-1 7-2 7 7 6-4 7 5 6 3 5 4 6 8 6 2 6-5 5 1 6 9 7 2 6 6 7-13 7 4 6 3 7 2 6-4 6-5 6 6 7-5 6-5 6 3 6 0 6-3 6-3 7 9 6 3 6-11 6 1 6 6 6-3 6 0 6 2 6-3 6-12 6 8 6-3 6 2 6-4 4-6 4-10 4-4 4-2 4-9 4-1 4 0 4-12 4 0 4 0 4-3 4-7 4-5 4 2 4-8 4 2 4-11 4-20 4 5 4-8 5 0 5-6 5-5 5-10 5 3 5-6 5 0 5-4 5-13 5 8 5-5 5-3 5-19 5 18 5-8 5-1 5-8 5-2 4 1 5-1 5-2M1650 3331l6 1 6 2 7-4 6-1 6-2 7-5 6-1 6 2 6-7 6-4 6 1 6-5 6-9 6 19 6-5 6 0 6 2 6 7 6-2 6-2 6-3 6-12 6 4 6 3 6-4 6 1 6 4 6 9 6-5 6-3 6 4 6-3 6-10 6 1 6-3 6-2 6 3 6 4 7-4 6 9 7-5 7 8 6-2 7-2 6-2 5 4 6 14 6-19 6 19 5-9 6 15 7 1 6 5 7-13 7 11 6-7 7-1 6 5 6-13 6 2 7 1 6-3 6-9 6 3 6-7 6 1 7 3 6 0 6 7 6-6 6 1 6 0 6-7 6 1 6-3 6 0 6-4 6 4 6 1 6-3 4-4 4 1 4-8 4-29 4 19 4 3 4-3 4 0 4-11 4-4 4-2 4-4 4-3 4-13 4 4 4-13 4-6 4-2 4-4 4-16 5-13 5 8 5-6 5-8 5 0 5-6 5-6 5-1 5-7 5-11 5 1 5-4 5-11 5 5 5-5 5-4 5 0 5-3 4-9 5-1 5-4M1650 3328l6 10 6 0 7-2 6-3 6-4 7 9 6-2 6-1 6-6 6 5 6-4 6 2 6-3 6 0 6 5 6-10 6-25 6 34 6 0 6-4 6 1 6 2 6-17 6 15 6 2 6-3 6-3 6-2 6-7 6 1 6-1 6-4 6 3 6 3 6-5 6-9 6-2 6-12 7 0 6 7 7 7 7 7 6-2 7 1 6-6 5 7 6 0 6 6 6 2 5 3 6-7 7 8 6-1 7 3 7-4 6 0 7 5 6 3 6-7 6 5 7-6 6-1 6 6 6-4 6 4 6 4 7-8 6-2 6-8 6 0 6-4 6 3 6-7 6 16 6-15 6-9 6 3 6-1 6 0 6 4 4-17 4 0 4-3 4 1 4-11 4-3 4 0 4-4 4-8 4 10 4-5 4-7 4-5 4-6 4-11 4 3 4-5 4-7 4-1 4-4 5 6 5-23 5 19 5-11 5-7 5-10 5-1 5 0 5-14 5-3 5 0 5-5 5-1 5-2 5-4 5-7 5-3 5 0 4-13 5 4 5-11M1650 3327l6 3 6 3 7-3 6-2 6-3 7 3 6-12 6 9 6-6 6-6 6-2 6-5 6-1 6-6 6 6 6 3 6 0 6 3 6 0 6-10 6 1 6-2 6 15 6-5 6-1 6 1 6-6 6 5 6 5 6-9 6-5 6 3 6 7 6-5 6 0 6 6 6-9 6-5 7-8 6 9 7 7 7-5 6 1 7 8 6-6 5 0 6 11 6-2 6 5 5 4 6 8 7 0 6-8 7 2 7 2 6-5 7 1 6 3 6 5 6-3 7-8 6 3 6 0 6-5 6-5 6 0 7 0 6-1 6-6 6-26 6 24 6-8 6 7 6-17 6-19 6 27 6 14 6-15 6 13 6-1 4-5 4-2 4-10 4 1 4-15 4 2 4-5 4-3 4-9 4-6 4-2 4-6 4 5 4-11 4-10 4-11 4 1 4-6 4-2 4-4 5-7 5-10 5 1 5-8 5-3 5-6 5-2 5 1 5-4 5 1 5 1 5-6 5-8 5 0 5-6 5 5 5-8 5-1 4-6 5-1 5-5M1650 3351l6 6 6-3 7 0 6-2 6-6 7-1 6-3 6 1 6 7 6 0 6 0 6-4 6 0 6 6 6-3 6-3 6 8 6-6 6-5 6-3 6 5 6-1 6-1 6-3 6 7 6-39 6 32 6 0 6-4 6 7 6-1 6 2 6 1 6-6 6-3 6 2 6-4 6-9 7-1 6 3 7-8 7 3 6-11 7 8 6 3 5 5 6-12 6 15 6 6 5 1 6 3 7 9 6-8 7-3 7 4 6 4 7-1 6 6 6 5 6-4 7-7 6-1 6 0 6 10 6-2 6 17 7-6 6-1 6 0 6-2 6-18 6 11 6 1 6-3 6-9 6-5 6 0 6-2 6 4 6-2 4-5 4-6 4-16 4-3 4-8 4 2 4-18 4-2 4-12 4 1 4-10 4-1 4-5 4-1 4 1 4-8 4-7 4-13 4 1 4-11 5-1 5-2 5-4 5 2 5-2 5-7 5-3 5-2 5-9 5-7 5 8 5-8 5 0 5-4 5 2 5-9 5 0 5-4 4-9 5 4 5-5" stroke="#d35a62" stroke-width="2.2" fill="none" transform="scale(.5)"/><path d="M1690 3336l6 7 7-9 6 5 7-8 6 5 6-3 6-5 5 8 6 11 5 4 6-3 5-12 6 5 5 5 6 0 6-6 6-7 7-1 6-3 6 0 6-1 6-2 6 3 6-1 6-3 6-3 6-3 6-1 6-2 6 1 5 2 5 5 5 0 5 7 5 4 6 6 5-4 5 7 6 5 6-3 6 2 7-2 6 6 6-8 6 5 6 0 3-10 3-7 2 3 7-9 6-3 6-3 6 3 6 1 6 0 7 5 6-2 6-4 6 0 6 2 7-2 6-7 6 11 6-11 6 2 6-5 6 4 6 3 6-4 6-6 6 2 6-6 5-1 6 3 5-3 6 15 5 6 6 7 5-7 6 3 5 0 2 2 2-14 2-6 1-6 2-3 2-4 2-1 2-9 2-10 6 0 6 0 6-7 6-1 6-5 6 7 6-7 6 1 6 9 6-5 6 3 4-9 5-5 5-2 4-12 5 3 5-10 5-2 5-5 5-9 5-4 5-2 5-7 6-3 5-8 5-2M1690 3338l6-11 7 13 6-19 7 0 6 2 6-7 6 3 5 9 6 4 5-2 6 5 5 0 6 6 5 6 6 2 6 0 6-1 7-5 6 0 6-1 6 7 6-10 6 2 6 0 6 3 6-6 6-9 6 8 6-4 6-5 5 2 5 3 5 3 5 2 5-4 6 6 5 8 5-7 6 6 6 9 6-3 7 5 6-9 6 5 6 6 6-3 3-3 3-2 2-13 7 4 6 0 6 2 6-1 6 4 6-4 7 2 6-3 6-8 6-1 6-5 7 8 6-6 6 4 6-11 6 13 6 1 6-13 6 4 6-8 6 2 6 2 6-2 5 0 6 11 5 2 6-4 5 3 6 0 5 4 6 0 5 2 2-8 2-9 2-9 1-1 2-12 2-7 2-2 2-3 2-10 6-1 6-5 6 0 6 2 6-7 6 8 6-2 6-7 6 0 6-8 6 9 4 0 5-7 5-7 4 4 5-10 5-11 5-4 5-5 5 0 5-6 5-2 5 4 6-8 5-6 5-7M1690 3340l6-3 7 0 6 3 7-10 6-8 6-1 6 9 5 6 6 1 5-1 6 3 5 1 6 2 5 2 6 16 6-10 6-1 7-1 6 1 6-7 6 2 6-2 6 1 6 1 6-2 6-8 6 7 6 5 6-11 6-3 5 6 5 5 5-2 5 6 5 0 6 12 5-4 5 7 6 5 6-3 6 7 7-4 6-1 6-1 6-1 6-5 3 4 3-9 2-6 7-12 6 13 6-9 6-1 6 0 6 3 7-1 6-3 6 4 6-11 6-2 7-2 6 0 6-1 6-2 6 8 6-7 6 1 6 0 6 0 6-4 6-5 6-4 5 11 6 2 5-3 6 3 5 9 6 0 5 6 6 9 5-6 2-1 2-2 2-5 1-11 2-17 2-2 2 1 2-7 2-9 6 0 6-3 6-2 6-4 6-6 6-5 6 3 6 5 6 1 6 0 6 0 4-1 5-5 5-12 4 0 5-15 5-3 5 2 5-8 5-16 5 6 5-7 5-3 6 3 5-10 5-8M1690 3345l6-4 7-2 6-13 7 1 6 0 6-2 6 10 5 3 6-1 5 6 6 7 5-3 6 7 5 4 6 2 6 1 6-3 7-5 6-3 6 3 6-10 6 4 6-12 6-1 6-4 6 3 6-9 6-2 6-10 6-1 5 8 5 6 5-2 5 5 5 5 6-6 5 12 5-3 6 7 6-3 6 11 7-7 6 10 6-4 6-3 6 6 3-10 3-2 2-2 7-5 6-1 6 9 6-5 6 1 6-8 7 0 6 9 6 0 6-9 6 1 7 6 6-2 6 4 6-7 6-3 6 9 6-16 6 4 6 4 6-1 6-7 6 3 5 1 6 1 5 5 6 3 5-5 6 6 5 7 6-8 5-2 2-4 2-2 2-14 1-11 2 1 2-4 2-3 2-9 2-3 6-2 6-7 6 4 6-7 6-3 6-8 6 1 6-8 6 5 6-10 6 5 4-4 5 1 5-12 4-1 5-10 5 4 5-4 5 0 5-4 5-1 5-11 5 7 6-17 5 1 5-12M1690 3331l6 5 7-2 6-8 7 4 6-3 6 0 6-3 5 6 6 1 5 7 6 0 5-2 6 11 5 2 6 0 6 7 6 3 7-9 6 7 6-15 6 4 6-8 6-5 6-6 6 7 6 0 6-7 6 0 6-4 6-7 5 6 5 6 5 4 5 1 5 1 6 7 5-2 5-1 6 9 6-6 6-2 7 0 6-3 6 6 6 0 6 13 3-8 3-4 2-8 7-7 6 1 6-7 6-1 6 1 6 4 7-7 6 4 6-8 6 3 6-7 7 1 6-5 6 3 6-2 6 2 6-1 6-2 6-8 6 5 6 8 6 0 6 1 5 1 6 2 5-3 6 4 5 4 6 8 5-1 6 4 5 7 2-9 2 0 2-10 1-4 2 1 2-11 2-12 2-5 2 2 6-3 6-4 6 2 6-2 6-5 6-4 6 4 6 0 6-6 6-10 6 7 4-10 5-4 5-6 4-3 5-6 5-2 5-4 5-9 5-5 5 4 5-7 5-7 6 3 5-7 5-5M1690 3335l6-6 7-6 6 0 7-2 6-4 6-1 6 6 5-4 6 12 5 0 6 1 5 4 6 1 5 10 6 6 6-3 6-10 7 0 6-5 6 6 6-8 6-1 6-2 6 3 6 3 6 0 6-3 6 4 6-3 6-1 5 11 5-2 5 4 5 2 5 3 6 1 5 4 5 4 6-7 6 3 6 7 7 2 6-6 6-4 6 4 6 1 3-11 3-9 2-5 7-3 6-10 6 11 6-4 6-4 6-3 7 6 6 2 6-14 6-1 6-4 7 8 6 2 6-4 6 3 6-3 6-4 6 7 6 1 6-4 6 7 6-4 6-6 5 1 6 5 5 0 6 5 5-6 6 6 5 10 6-12 5 18 2-21 2 2 2-16 1-9 2 0 2-5 2-11 2 5 2-13 6 0 6 1 6-5 6-2 6-6 6 5 6 5 6-9 6-3 6-7 6 5 4-7 5-12 5-4 4-3 5-7 5 8 5-11 5 3 5-3 5-3 5-1 5-3 6-5 5-11 5 4" stroke="#8a1a24" stroke-width="2.2" fill="none" transform="scale(.5)"/><path d="M1618 3294l3-232 10 3 6 188 13 100" stroke="#f2a2af" stroke-width="2.2" fill="none" transform="scale(.5)"/><path d="M1616 3331l3-259 5 29 9 168 15 98" stroke="#d35a62" stroke-width="2.2" fill="none" transform="scale(.5)"/><path d="M1610 3285l3-224 10 16 5 155 11 122" stroke="#f2a2af" stroke-width="2.2" fill="none" transform="scale(.5)"/><path d="M1615 3322l3-254 5 25 16 171 10 103" stroke="#8a1a24" stroke-width="2.2" fill="none" transform="scale(.5)"/><path d="M1609 3285l3-215 10 16 4 161 17 114" stroke="#f2a2af" stroke-width="2.2" fill="none" transform="scale(.5)"/><path d="M1609 3283l3-185 11 29 8 150 11 77" stroke="#d35a62" stroke-width="2.2" fill="none" transform="scale(.5)"/><path d="M1614 3326l3-240 7 29 6 135 12 107" stroke="#f2a2af" stroke-width="2.2" fill="none" transform="scale(.5)"/><path d="M1620 3339l3-290 10 21 3 178 17 104" stroke="#8a1a24" stroke-width="2.2" fill="none" transform="scale(.5)"/><path d="M1612 3331l3-283 10 27 9 180 6 105" stroke="#f2a2af" stroke-width="2.2" fill="none" transform="scale(.5)"/><path d="M1617 3282l3-195 5 3 16 137 7 133" stroke="#d35a62" stroke-width="2.2" fill="none" transform="scale(.5)"/><path d="M1619 3296l3-246 9 3 5 169 18 133" stroke="#f2a2af" stroke-width="2.2" fill="none" transform="scale(.5)"/><path d="M1614 3339l3-274 9 18 8 153 15 116" stroke="#8a1a24" stroke-width="2.2" fill="none" transform="scale(.5)"/><path d="M1615 3297l3-237 8 5 10 159 8 129" stroke="#f2a2af" stroke-width="2.2" fill="none" transform="scale(.5)"/><path d="M1609 3311l3-216 9 23 5 159 14 82" stroke="#d35a62" stroke-width="2.2" fill="none" transform="scale(.5)"/><path d="M1614 3326l3-242 6 25 10 126 16 132" stroke="#f2a2af" stroke-width="2.2" fill="none" transform="scale(.5)"/><path d="M1618 3335l3-274 10 30 9 189 10 85" stroke="#8a1a24" stroke-width="2.2" fill="none" transform="scale(.5)"/><path d="M2278 3320l12-59 12-80 8 51 12-43 6 191" stroke="#d35a62" stroke-width="2.0" fill="none" transform="scale(.5)"/><path d="M2246 3320l12-50 12-83 8 70 12-158 38 281" stroke="#d35a62" stroke-width="2.0" fill="none" transform="scale(.5)"/><path d="M2222 3320l12-53 12-130 8 92 12-54 62 205" stroke="#8a1a24" stroke-width="2.0" fill="none" transform="scale(.5)"/><path d="M2220 3320l12-44 12-85 8 54 12-87 64 222" stroke="#f2a2af" stroke-width="2.0" fill="none" transform="scale(.5)"/><path d="M2221 3320l12-79 12-35 8 41 12-95 63 228" stroke="#d35a62" stroke-width="2.0" fill="none" transform="scale(.5)"/><path d="M2282 3320l12-69 12-112 8 139 12-218 2 320" stroke="#d35a62" stroke-width="2.0" fill="none" transform="scale(.5)"/><path d="M2257 3320l12-55 12-30 8-28 12-45 27 218" stroke="#8a1a24" stroke-width="2.0" fill="none" transform="scale(.5)"/><path d="M2222 3320l12-62 12-64 8 74 12-210 62 322" stroke="#f2a2af" stroke-width="2.0" fill="none" transform="scale(.5)"/><path d="M2276 3320l12-74 12-77 8 109 12-92 8 194" stroke="#d35a62" stroke-width="2.0" fill="none" transform="scale(.5)"/><path d="M2222 3320l12-80 12-116 8 138 12-206 62 324" stroke="#d35a62" stroke-width="2.0" fill="none" transform="scale(.5)"/><path d="M2279 3320l12-48 12-54 8 57 12-124 5 229" stroke="#8a1a24" stroke-width="2.0" fill="none" transform="scale(.5)"/><path d="M2282 3320l12-58 12-62 8 6 12-68 2 242" stroke="#f2a2af" stroke-width="2.0" fill="none" transform="scale(.5)"/><path d="M2295 3320l12-64 12-50 8 8 1-87 0 253" stroke="#d35a62" stroke-width="2.0" fill="none" transform="scale(.5)"/><path d="M2259 3320l12-49 12-112 8 79 12-158 25 300" stroke="#d35a62" stroke-width="2.0" fill="none" transform="scale(.5)"/><path d="M2262 3320l12-42 12-112 8 87 12-114 22 241" stroke="#8a1a24" stroke-width="2.0" fill="none" transform="scale(.5)"/><path d="M2232 3320l12-52 12-123 8 104 12-40 52 171" stroke="#f2a2af" stroke-width="2.0" fill="none" transform="scale(.5)"/><path d="M2241 3320l12-53 12-106 8 91 12-171 43 299" stroke="#d35a62" stroke-width="2.0" fill="none" transform="scale(.5)"/><path d="M2256 3320l12-49 12-125 8 82 12-142 28 294" stroke="#d35a62" stroke-width="2.0" fill="none" transform="scale(.5)"/><path d="M1750 3320l10-80 6-44 6 44 6 80" stroke="#8a1a24" stroke-width="2.2" fill="none" transform="scale(.5)"/><path d="M1800 3320l8-40 12-34 10 34 6 40" stroke="#8a1a24" stroke-width="2.2" fill="none" transform="scale(.5)"/><path d="M2174 3300l8-100 10 40 8-30 12 70 8-170 8 170 22-140 20 80 20-120 14 60 16-80 6-40 4 360" stroke="#d35a62" stroke-width="2.4" fill="none" transform="scale(.5)"/><path d="M2280 3220l16-90 10 70 8-120 6 80 4-116 4 336" stroke="#8a1a24" stroke-width="2.2" fill="none" transform="scale(.5)"/><path d="M1628 3310l2 3 3 4 4 10 3 6 6 5 8-3 5 1 5-1 6-4 7-5 7 4 6-3 6-6 6-1 6-3 7-1 6 0 7-1 5-2 6 1 5 9 6 3 5 3 6 7 6 3 5 3 6 0 6-3 7 2 6-4 6-2 6-1 7-1 6-6 5 1 7-1 6-3 6-2 5-1 6-6 6-2 6 1 5 2 5 5 5-1 5 5 5 8 5 3 5 4 6-1 6 3 7-1 7 1 7-1 6 5 7 3 5-1 4 2 4-3-2-7 6-6 4-3 5-3 6 1 6-2 6-3 7 0 7-5 7-1 7-2 7 1 6 0 7-4 6 0 6-4 7 1 6 1 6-1 6-3 6-1 6 0 6 2 5-3 6 4 6-1 6 4 7 5 5 1 6 4 6 4 5 1 4 2 4 1 3-3 2-3 1-5 1-7 1-8 1-8 1-9 3-7 4-4 4-5 5-3 6-2 6-2 7 0 7 0 7 0 7-1 6-4 6-2 5-3 6-4 5-1 5-4 4-4 4-9 4-3 5-5 5-2 5-6 6-3 6-7 6-5 5-7 5-5 3 2" stroke="#7f111b" stroke-width="10" fill="none" stroke-linejoin="round" transform="scale(.5)"/></g>
<g><path d="M811.5 1341.6v6M811.5 1705.2v-6M896.6 1341.6v6M896.6 1705.2v-6M981.7 1341.6v6M981.7 1705.2v-6M1066.8 1341.6v6M1066.8 1705.2v-6M1151.9 1341.6v6M1151.9 1705.2v-6M1237 1341.6v6M1237 1705.2v-6M1322.1 1341.6v6M1322.1 1705.2v-6M790.2 1584h6M1343.4 1584h-6M790.2 1462.8h6M1343.4 1462.8h-6" stroke="#3a3a3a" stroke-width="2" fill="none"/><rect x="790.2" y="1341.6" width="553.1" height="363.6" fill="none" stroke="#3a3a3a" stroke-width="2"/><text x="779" y="1714.2" text-anchor="end" font-size="25" stroke="#1a1a1a" stroke-width="0.35">0</text><text x="779" y="1593" text-anchor="end" font-size="25" stroke="#1a1a1a" stroke-width="0.35">5</text><text x="779" y="1471.8" text-anchor="end" font-size="25" stroke="#1a1a1a" stroke-width="0.35">10</text><text x="779" y="1350.6" text-anchor="end" font-size="25" stroke="#1a1a1a" stroke-width="0.35">15</text><text x="802.5" y="1737.7" font-size="25" textLength="22.8" lengthAdjust="spacingAndGlyphs" stroke="#1a1a1a" stroke-width="0.35">0°</text><text x="873.4" y="1737.7" font-size="25" textLength="36.6" lengthAdjust="spacingAndGlyphs" stroke="#1a1a1a" stroke-width="0.35">2°E</text><text x="959.4" y="1737.7" font-size="25" textLength="36.6" lengthAdjust="spacingAndGlyphs" stroke="#1a1a1a" stroke-width="0.35">4°E</text><text x="1043" y="1737.7" font-size="25" textLength="37" lengthAdjust="spacingAndGlyphs" stroke="#1a1a1a" stroke-width="0.35">6°E</text><text x="1128.6" y="1737.7" font-size="25" textLength="36.6" lengthAdjust="spacingAndGlyphs" stroke="#1a1a1a" stroke-width="0.35">8°E</text><text x="1205.1" y="1737.7" font-size="25" textLength="49.1" lengthAdjust="spacingAndGlyphs" stroke="#1a1a1a" stroke-width="0.35">10°E</text><text x="1285.8" y="1737.7" font-size="25" textLength="50.2" lengthAdjust="spacingAndGlyphs" stroke="#1a1a1a" stroke-width="0.35">12°E</text><text x="698" y="1325.9" font-size="32" font-weight="bold">H</text><text transform="translate(720.3 1525) rotate(-90)" x="-151.5" font-size="25" textLength="303" lengthAdjust="spacingAndGlyphs" stroke="#1a1a1a" stroke-width="0.3">Total chlorophyll-a (µg L<tspan font-size="15" dy="-9">-1</tspan><tspan dy="9">)</tspan></text></g>
<clipPath id="cI"><rect x="94.7" y="1791.2" width="553.1" height="363.2"/></clipPath>
<g><path d="M137.3 1791.2V2154.5M158.6 1791.2V2154.5M179.8 1791.2V2154.5M222.4 1791.2V2154.5M243.6 1791.2V2154.5M264.9 1791.2V2154.5M307.5 1791.2V2154.5M328.8 1791.2V2154.5M350 1791.2V2154.5M392.6 1791.2V2154.5M413.8 1791.2V2154.5M435.1 1791.2V2154.5M477.7 1791.2V2154.5M498.9 1791.2V2154.5M520.2 1791.2V2154.5M562.8 1791.2V2154.5M584 1791.2V2154.5M605.3 1791.2V2154.5M94.7 2136.3H647.9M94.7 2118.2H647.9M94.7 2100H647.9M94.7 2081.8H647.9M94.7 2045.5H647.9M94.7 2027.4H647.9M94.7 2009.2H647.9M94.7 1991H647.9M94.7 1954.7H647.9M94.7 1936.6H647.9M94.7 1918.4H647.9M94.7 1900.2H647.9M94.7 1863.9H647.9M94.7 1845.7H647.9M94.7 1827.6H647.9M94.7 1809.4H647.9" stroke="#bbbbbb" stroke-width="1.9" stroke-dasharray="1.9 5.6" fill="none"/><path d="M116 1791.2V2154.5M201.1 1791.2V2154.5M286.2 1791.2V2154.5M371.3 1791.2V2154.5M456.4 1791.2V2154.5M541.5 1791.2V2154.5M626.6 1791.2V2154.5M94.7 2063.7H647.9M94.7 1972.9H647.9M94.7 1882.1H647.9" stroke="#dadada" stroke-width="1.5" fill="none"/></g>
<g clip-path="url(#cI)"><path d="M238 3952l3-12 3-4 3-5 3-3 3-2 3-8 3 6 3-15 3-12 3 2 3-2 4-10 4-2 4-11 4 0 4-9 5-4 4-7 4 0 4-12 4-3 5 5 4 4 5 3 4 7 5 3 5 8 4 5 5 7 4 12 5-14 5 2 4-7 5-9 4-6 5 1 5-10 4 1 5-12 3 3 3-8 3-4 3 4 3-13 3-5 4-4 3-8 3-4 3-2 3-2 3-10 3 1 3-2 3-3 4-10 6 5 6 6 6 7 6-11 6 9 7-2 6 3 6-2 6-3 6 0 7-1 6-4 6 3 7 6 6-4 6-6 6 4 7-1 6-3 7 0 6 4 7-10 6 0 6 4 7-3 6 0 6 5 6-2 7 1 6-1 6 1 6 4 6 2 6 0 6 3 6 4 6-1 6 9 7 3 6 0 6 6 6-6 6 8 6-3 5 2 5-4 5-4 5-1 5-8 5 6 5-10 5-5 5 2 6-9 5-1 5-13 5 2 5-1 5 2 5-12 5-7 5-1 5 2 5-8 6-1 5 1 5-9 5-7 5-1 5-4 6 6 7 1 6 0 6-5 7-2 6-4 7-6 6 11 6 1 7-1 6-7 6 4 7 4 6-7 7 6 6 0 6-1 7-2 6 5 6 1 7 1 6-1 6 1 7-1 6 8 6-6 7 6 6 0 6-4 7 7 6-2 7 1 6 9 6-3 7 0 6-2 6 1 7 6 6 3 6-5 7 7 6-4 7 3 6 1 6-2 7-1 6-3 6 5 7 1 6-3 7 0 6-3 6 8 6-5 7 10 6-8 6 1 6 3 6 6 7 2M238 3948l3-2 3 1 3-14 3 1 3-14 3 1 3-7 3-5 3-8 3-1 3-10 4 1 4-6 4-4 4-5 4-1 5-4 4-10 4 0 4-1 4-8 5 10 4-1 5 9 4 3 5 8 5 6 4 5 5 5 4 2 5 1 5-8 4-4 5-11 4-4 5-3 5-6 4-8 5-4 3-6 3 3 3-6 3-6 3-7 3-5 4-1 3-5 3-17 3-3 3-5 3-2 3-9 3-6 3-5 4-4 6 3 6 10 6-1 6 2 6 5 7 4 6 0 6-6 6 6 6-6 7 3 6-3 6 2 7-7 6 5 6-4 6-1 7-3 6-5 7-2 6 5 7-5 6 9 6-5 7 4 6-1 6 0 6 8 7-9 6 4 6-3 6 3 6 4 6 5 6-8 6 7 6 7 6 2 7 6 6 0 6 7 6 2 6 5 6 0 5-1 5-3 5-12 5 5 5-10 5 1 5 1 5-6 5-6 6 0 5-4 5-5 5-3 5-2 5-5 5-6 5-1 5-10 5 1 5-5 6-1 5-14 5-1 5-2 5-6 5-1 6-4 7 4 6-5 6 1 7 7 6-1 7 1 6 0 6-2 7 5 6-3 6 0 7-2 6 2 7 2 6-2 6-3 7 3 6 1 6 5 7-6 6 6 6 1 7-2 6 4 6-2 7 3 6 2 6 1 7-5 6 6 7 4 6-1 6 3 7 1 6-5 6 6 7 3 6-1 6 1 7 2 6 1 7-4 6 0 6-1 7 9 6-7 6-1 7 4 6-6 7 3 6-8 6 5 6 3 7 3 6-1 6 8 6-1 6-1 7 2M238 3973l3-6 3-9 3 1 3-3 3 0 3-7 3-11 3-7 3-5 3-9 3-6 4 2 4-6 4-7 4 3 4-5 5-10 4-6 4-3 4-2 4-7 5-1 4 7 5 2 4 8 5-6 5 5 4 8 5 0 4 11 5-12 5-1 4-5 5-10 4-1 5-3 5-5 4-4 5-6 3-1 3-6 3-5 3-5 3-4 3-5 4-1 3-4 3-11 3-2 3-1 3-7 3-7 3-12 3-4 4-2 6-4 6 3 6 1 6 1 6-3 7 4 6-3 6 7 6-2 6 6 7-2 6-8 6 0 7 6 6-4 6 2 6-2 7 0 6 2 7-2 6 4 7 1 6 5 6-2 7 7 6-2 6-5 6 10 7 0 6 5 6-4 6 1 6 2 6-5 6 6 6-1 6 6 6-3 7 1 6 9 6 5 6 1 6 5 6-2 5-8 5-4 5-6 5-4 5 1 5-7 5 1 5-1 5-5 6-3 5-7 5-1 5-8 5 0 5-10 5 2 5-11 5-11 5 6 5-1 6-6 5-9 5-4 5-6 5-3 5-6 6 5 7 4 6 0 6-4 7 4 6 3 7 0 6 12 6 1 7-3 6 2 6 1 7 0 6 3 7 1 6-1 6-3 7 8 6-4 6 8 7-8 6-1 6-1 7-2 6 4 6 1 7 3 6 0 6-4 7 9 6 0 7-5 6 2 6 4 7-3 6 1 6 1 7 1 6-5 6 4 7-4 6 1 7-3 6-6 6 2 7 6 6-4 6 3 7 3 6-8 7 0 6 2 6-1 6 7 7-3 6-1 6 4 6 8 6-3 7-3M238 3961l3-7 3 2 3-11 3 3 3-9 3-8 3-1 3-8 3-11 3 1 3-11 4-7 4-9 4-4 4-4 4-2 5-8 4-1 4-1 4-7 4-6 5 6 4 6 5-2 4 7 5 4 5 5 4 3 5 6 4 13 5-8 5-8 4 2 5-10 4 1 5-3 5-8 4-7 5-2 3-8 3-7 3 0 3-6 3 2 3-13 4-2 3-10 3-3 3-8 3-7 3 1 3-5 3-5 3-6 4-6 6-1 6 2 6 5 6 0 6 11 7-2 6 3 6-2 6-1 6-1 7 4 6 3 6-8 7 3 6 0 6 0 6-8 7 3 6 0 7-5 6 3 7-4 6-2 6-1 7-7 6 9 6 3 6 1 7-7 6 6 6 4 6-4 6-1 6 5 6-2 6 8 6-1 6-2 7 1 6 4 6 3 6 2 6 5 6 1 5 2 5-3 5-3 5-1 5-4 5-1 5-1 5-4 5-1 6 2 5-6 5 3 5-9 5-3 5-1 5-7 5 0 5-3 5-4 5-8 6 1 5-5 5-6 5-4 5-1 5-3 6-1 7 7 6-7 6 11 7-9 6-1 7 1 6 5 6-6 7 2 6-3 6 5 7-1 6 0 7 1 6-2 6-2 7 7 6-2 6-1 7 2 6-1 6 1 7 3 6 0 6 0 7-4 6-6 6 3 7 3 6-1 7-2 6 4 6-2 7 4 6 4 6-1 7-1 6 3 6-6 7-4 6 2 7-1 6 2 6 0 7-1 6 4 6-3 7 6 6 3 7-5 6 6 6 3 6 2 7-1 6 6 6-2 6 12 6 0 7 5M238 3961l3-4 3-9 3-1 3-4 3-8 3-8 3-5 3 2 3-11 3-12 3-8 4-1 4 3 4-6 4 1 4-6 5-8 4-4 4-4 4-1 4-7 5 9 4 2 5 6 4 2 5 11 5 4 4 2 5 0 4 9 5 2 5-3 4-10 5-3 4-1 5-8 5-4 4-7 5-7 3-2 3-4 3-13 3-7 3-11 3 2 4-12 3 1 3-6 3-4 3-9 3-9 3-6 3 0 3-10 4 3 6-1 6 3 6-1 6 4 6-5 7 10 6 2 6-3 6 0 6 0 7-4 6-11 6 4 7 1 6-3 6 0 6 4 7-4 6 0 7-3 6 2 7 4 6 1 6 5 7 0 6 2 6 5 6 5 7-5 6 12 6-2 6 1 6-2 6 8 6 1 6 3 6 3 6 2 7 7 6 2 6-4 6 6 6-7 6 7 5-6 5-7 5-10 5 6 5-13 5-2 5-7 5-3 5-4 6 0 5-8 5-5 5 3 5-7 5-2 5-6 5-2 5-7 5-5 5-5 6 3 5-2 5-4 5 0 5-6 5 0 6-8 7 9 6-6 6 6 7-4 6 5 7-1 6-3 6 6 7 3 6-5 6 4 7 5 6-5 7 3 6 3 6-2 7 8 6-1 6 4 7-4 6 6 6-9 7 3 6 0 6 1 7 5 6 0 6 0 7-8 6 5 7 0 6 1 6-2 7 1 6-3 6 1 7 0 6-3 6 6 7 2 6 1 7-4 6-2 6-1 7 0 6 2 6-2 7 3 6-4 7 6 6 2 6-1 6 10 7-1 6 0 6 7 6-2 6-3 7 2M238 3965l3-6 3-4 3-12 3 1 3-6 3-10 3-7 3-5 3-3 3-8 3 3 4-8 4-7 4-4 4-3 4-4 5 3 4-12 4-10 4-2 4-5 5 11 4-1 5 5 4 6 5 1 5 1 4 10 5 7 4 3 5-13 5-2 4-6 5 0 4-10 5-2 5-6 4 2 5-5 3-5 3-14 3 0 3-4 3-2 3-3 4-4 3-3 3-10 3 6 3-9 3-7 3 1 3-8 3-2 4-7 6 3 6 3 6 4 6-2 6 8 7 2 6 4 6-3 6-7 6 6 7 0 6-1 6-2 7-8 6 6 6-6 6-1 7 4 6 1 7-5 6 3 7-6 6-3 6 3 7 4 6-4 6 5 6 5 7 0 6-3 6 0 6 3 6-5 6 4 6-1 6 2 6 4 6 2 7 3 6 10 6 0 6 5 6 0 6 0 5-8 5-6 5-4 5 7 5-5 5-7 5-2 5-6 5 1 6-4 5-4 5-4 5-5 5-2 5-7 5-1 5-5 5-7 5 1 5-6 6-5 5-6 5-2 5-2 5-4 5-3 6-2 7-4 6-5 6 2 7 12 6-5 7 2 6 2 6 3 7-2 6 0 6-6 7 7 6-3 7 8 6 2 6 0 7 9 6-4 6 0 7 3 6 2 6-8 7 11 6 6 6 0 7 4 6-1 6-7 7 8 6-6 7 3 6-1 6-1 7 9 6-7 6-6 7 1 6 2 6 2 7 0 6 1 7 7 6-4 6-2 7 0 6 0 6 3 7 0 6 3 7-1 6 1 6 3 6-7 7-2 6 6 6 2 6-3 6-2 7 4M238 3966l3-8 3-2 3-7 3-6 3-5 3 1 3-9 3-2 3-5 3-2 3-10 4-3 4 2 4-10 4-4 4-4 5-6 4-7 4-7 4-7 4-6 5 4 4 1 5 10 4 8 5 3 5 7 4 8 5 6 4 3 5-11 5 2 4-7 5-5 4-6 5-1 5-12 4-5 5 6 3-4 3-15 3-3 3-1 3-10 3-2 4-8 3-3 3-6 3-14 3 2 3-1 3-10 3-9 3 1 4 0 6-6 6-2 6 4 6 3 6-8 7 4 6-5 6 7 6 0 6-5 7 2 6-8 6 5 7-6 6-2 6 3 6-4 7 3 6 4 7 1 6-4 7-4 6-4 6 5 7 0 6 0 6 2 6-1 7 4 6 0 6 9 6-2 6 0 6 3 6 3 6 8 6 5 6 4 7-2 6 4 6 0 6 2 6-4 6 10 5-6 5-3 5-4 5 1 5-3 5-6 5 4 5-11 5-4 6 2 5-4 5 0 5-2 5-7 5 1 5-6 5 4 5-3 5 0 5-17 6 8 5-9 5-8 5 1 5-5 5-6 6 1 7-3 6 1 6-1 7-2 6-2 7 0 6 5 6-4 7 1 6 4 6 2 7 1 6-7 7 5 6-2 6 4 7 3 6-1 6 0 7 0 6 2 6-1 7 1 6 2 6 3 7 0 6-3 6 2 7 2 6-4 7-2 6 4 6-1 7-5 6-4 6 4 7 0 6 7 6-3 7 1 6 1 7 0 6-5 6 10 7-2 6 2 6 3 7 2 6-3 7 0 6-2 6 4 6 0 7 7 6 3 6 7 6 0 6 0 7-2M238 3954l3-13 3-5 3-3 3-12 3-4 3 1 3-3 3-4 3-6 3-5 3-5 4-11 4-4 4-1 4-5 4 0 5-2 4-6 4-9 4-3 4-3 5 5 4 6 5 6 4 4 5 4 5 6 4 2 5 9 4 7 5-4 5-7 4-4 5-8 4-5 5-4 5-1 4-11 5-2 3-8 3-4 3-6 3-5 3-5 3 0 4-5 3-8 3-7 3-8 3-6 3-4 3-8 3 1 3-9 4-5 6 4 6-4 6 2 6-4 6 3 7 4 6 9 6-2 6-3 6 2 7-3 6-2 6 1 7 1 6-3 6-2 6 2 7-1 6 1 7-4 6 3 7 4 6-2 6 0 7 0 6-4 6 0 6 3 7-1 6-1 6 1 6-2 6 2 6-3 6 10 6-1 6 8 6 1 7 4 6 1 6-2 6 6 6 9 6-3 5-2 5-2 5 0 5 0 5-8 5-5 5 4 5-8 5 0 6-12 5 2 5 0 5-6 5 0 5-6 5-1 5-2 5-13 5-1 5-2 6-4 5 6 5-9 5-8 5 0 5-10 6 1 7 5 6 3 6-1 7-2 6-5 7 2 6 1 6 0 7-5 6 3 6 3 7-2 6 0 7 4 6 0 6 4 7-5 6 4 6 3 7-3 6-1 6-2 7 5 6 0 6 3 7-3 6 3 6-3 7 0 6 5 7 6 6-12 6 1 7-4 6-1 6 3 7 0 6-1 6 1 7 5 6 1 7 8 6-8 6 2 7-2 6-7 6 12 7-4 6 5 7-5 6 6 6 1 6 4 7 7 6-3 6 3 6 10 6-1 7 3M238 3961l3-5 3 4 3-7 3-7 3-1 3-10 3-8 3-4 3-7 3-8 3 8 4-6 4-11 4-4 4-3 4-3 5-10 4-1 4-4 4-13 4 4 5 5 4 1 5 10 4 4 5 8 5 3 4 2 5 5 4 0 5 1 5-5 4-6 5-4 4-3 5-4 5-7 4-10 5 4 3-6 3-1 3-5 3 2 3-16 3-2 4-5 3-12 3-8 3-6 3-6 3 0 3-6 3-4 3-14 4 2 6 0 6 10 6 3 6 1 6-3 7 7 6-4 6 1 6-1 6-2 7 4 6-2 6 3 7-7 6 0 6-5 6-5 7 6 6-4 7-4 6 9 7 3 6-8 6 6 7 1 6 0 6-1 6 2 7-1 6 2 6 2 6 3 6 4 6 3 6 6 6-1 6 0 6 9 7-3 6 3 6 0 6 1 6-2 6 6 5-6 5 0 5-6 5 1 5-2 5-8 5 0 5-9 5 2 6-2 5-5 5-3 5-9 5-2 5-8 5 3 5 1 5-7 5-2 5-13 6-5 5-10 5 3 5-10 5 2 5-10 6 8 7-7 6 13 6 0 7-10 6 5 7 0 6-2 6 3 7 3 6-5 6 6 7 3 6-1 7-6 6 4 6 1 7 2 6 4 6-2 7 4 6 4 6-12 7 6 6 6 6-1 7 4 6 6 6-4 7 2 6-1 7 2 6 1 6 5 7-3 6 1 6-1 7 2 6 1 6 6 7-4 6-1 7-2 6 4 6-1 7 2 6 3 6-1 7 2 6-7 7 2 6-5 6-2 6 3 7-5 6 4 6 5 6 4 6 2 7 0M238 3984l3-2 3-10 3-5 3-10 3-5 3-7 3-11 3-1 3-8 3-4 3 1 4-7 4-6 4-9 4-9 4 1 5-8 4-2 4-11 4-7 4 1 5-4 4 11 5 1 4 7 5 3 5 8 4 3 5 5 4 2 5 1 5-7 4-5 5-4 4-7 5-3 5-5 4 2 5 1 3-10 3-11 3 5 3-9 3 5 3-8 4-2 3-9 3-8 3 3 3-6 3-5 3-9 3-8 3-6 4-5 6 5 6 3 6 0 6 0 6 1 7-1 6 7 6 0 6-1 6-7 7-1 6 6 6-2 7-2 6-4 6-1 6-6 7 3 6 2 7-1 6-1 7-2 6 3 6-5 7 4 6-9 6 9 6-5 7 7 6 7 6 0 6-1 6 0 6 7 6 1 6 1 6 3 6 2 7-3 6 7 6 9 6-1 6 0 6-2 5 0 5 3 5-5 5 2 5-7 5 0 5-7 5-3 5-1 6-3 5 3 5-3 5-1 5-4 5-3 5-5 5-9 5 9 5-15 5-1 6 0 5-8 5-2 5-3 5-8 5-9 6 8 7 3 6-5 6 2 7-12 6 11 7-6 6 2 6-6 7 4 6 0 6 4 7-4 6 6 7-5 6 4 6 0 7 3 6 2 6-4 7 2 6 3 6 2 7-2 6 6 6 1 7 2 6 0 6 5 7-5 6-1 7 5 6 4 6-6 7 3 6 8 6-8 7 3 6 5 6-1 7 0 6-7 7 8 6-8 6 3 7-6 6 0 6 1 7-2 6-3 7-1 6 7 6 1 6 2 7-5 6 0 6 6 6 1 6 5 7 7M238 3959l3-7 3-8 3-3 3-1 3-4 3-5 3 1 3-13 3-7 3-5 3-7 4-10 4 1 4-11 4-3 4-7 5-7 4-1 4-4 4-7 4-6 5 2 4 2 5 11 4-2 5 4 5 9 4 1 5 1 4 2 5-3 5-1 4 2 5-15 4-3 5-1 5-2 4-8 5-3 3-1 3-9 3-8 3-9 3 0 3-13 4-4 3-8 3 3 3-4 3-8 3-8 3-8 3-1 3-8 4-6 6 9 6 4 6 3 6 2 6-1 7 10 6 1 6 4 6-9 6 9 7-3 6 0 6 2 7-9 6 5 6-12 6 7 7 1 6 3 7 3 6 3 7-1 6 4 6 0 7 0 6-2 6 6 6 4 7-2 6 4 6-3 6 1 6 0 6-6 6 12 6 0 6 3 6 3 7-5 6 6 6 2 6 4 6-1 6 2 5-5 5-6 5-1 5-4 5-7 5-1 5-4 5-7 5-6 6-3 5-3 5-10 5 0 5-2 5-3 5-10 5-5 5-2 5-4 5-6 6 1 5-6 5-2 5-8 5-4 5-5 6 5 7 4 6 2 6-3 7 2 6 2 7 9 6-2 6 0 7 2 6 7 6 0 7-5 6 1 7 0 6 5 6 0 7 5 6 0 6 5 7-2 6 1 6 2 7-5 6 3 6 3 7-5 6 5 6 4 7-5 6 2 7 1 6-5 6-1 7 4 6-1 6 8 7-3 6 6 6-1 7-15 6 11 7-2 6-2 6 5 7-8 6 3 6 0 7 0 6-2 7-5 6 8 6 0 6-7 7 0 6 4 6 6 6 2 6 1 7-2M238 3981l3-8 3-1 3-7 3-9 3-7 3-5 3-2 3-7 3 5 3-12 3 2 4-7 4-1 4-7 4-6 4-14 5-2 4-3 4-2 4-13 4-1 5 1 4 3 5 10 4 7 5 4 5 3 4 14 5 3 4 8 5-16 5-7 4 2 5-3 4-7 5-7 5-5 4-10 5-5 3-3 3-3 3-7 3-3 3-10 3-4 4-9 3-9 3 0 3-3 3-5 3-1 3-3 3-2 3-1 4 1 6-3 6 5 6-3 6 5 6 3 7 3 6 9 6-3 6-1 6-1 7-5 6 6 6-5 7-6 6 1 6 1 6 5 7 0 6-6 7 7 6-4 7 1 6-3 6 8 7-4 6-4 6 6 6-2 7-5 6 1 6-2 6 7 6 6 6-2 6 3 6 2 6 0 6-2 7 4 6-5 6 6 6-1 6 2 6 6 5-1 5-2 5-6 5-2 5-9 5-8 5 6 5-8 5 1 6-1 5-6 5 2 5-5 5-1 5-9 5-3 5-2 5-1 5-12 5 1 6-9 5-4 5-8 5 0 5-4 5-3 6-3 7 9 6-6 6 5 7-3 6 2 7 4 6 3 6-1 7 0 6 1 6 1 7 2 6-10 7-1 6 6 6-3 7 4 6-2 6 4 7 0 6 2 6 2 7-6 6 4 6 8 7 6 6-6 6-2 7-1 6 7 7-1 6 2 6 2 7 1 6 3 6-13 7 11 6-5 6 5 7 2 6-6 7-2 6-1 6 11 7-6 6-1 6-4 7 0 6 2 7-3 6 4 6-3 6 3 7 4 6 0 6 2 6 7 6-2 7 2" stroke="#62c6b9" stroke-width="2.2" fill="none" transform="scale(.5)"/><path d="M353 3961l5-11 5-2 4-9 5-6 4 2 5-6 5-4 4-2 5-6 3-6 3-4 3-9 3 2 3-7 3-1 4-13 3-2 3 0 3-7 3-2 3-14 3-6 3 1 3-11 4-12 6 12 6 0 6 7 6-1 6 3 7 6 6-2 6 9 6-6 6-3 7 5 6-1 6 4 7-8 6 1 6 4 6 3 7-3 6-4 7 0 6 4 7 2 6-8 6 4 7 2 6 2 6 3 6 2 7 3 6-5 6 9 6-7 6 0 6 8 6 3 6 3 6 2 6 7 7-3 6-3 6-10 6 10 6 4 6-5 5 0 5-2 5-3 5-14 5 0 5 4 5-3 5-3 5 4 6-10 5 3 5-3 5-5 5-2 5-4 5-4 5-7 5-12 5 5 5-8 6-2 5-7 5-7 5-3 5-3 5-2 6 0 7 2 6-6 6 2 7-3 6 4 7-8 6 3 6 4 7-5 6 0 6 0 7 1 6-5 7 2 6 3 6 1 7 7 6 2 6-3 7 8 6 1 6 2 7 3 6 1 6 1 7 1 6-3 6 3 7-6 6 9 7 5 6-4 6-2 7-2 6 3 6 4 7-6 6 3 6 8 7-1 6-8 7 6 6 3 6-3 7 3 6-1 6-5 7 5 6 0 7-1 6 6 6-5 6 12 7-10 6 3 6 2 6 3 6-1 7 5M353 3939l5-7 5-7 4 4 5-12 4-5 5-1 5-7 4-1 5-11 3-1 3-3 3-9 3-1 3-9 3-4 4 1 3-4 3-6 3-4 3-10 3-4 3-8 3-5 3-5 4-6 6 5 6 1 6 2 6 3 6 3 7 0 6 2 6 2 6 8 6-1 7-4 6-3 6-5 7-3 6 0 6 9 6 0 7-4 6 1 7 3 6-4 7 2 6-1 6 1 7 0 6 0 6 3 6-1 7-1 6 0 6 6 6-1 6-2 6-4 6 4 6 2 6 4 6-2 7 6 6 4 6 4 6 3 6-1 6 2 5-5 5 2 5-5 5-1 5-5 5-2 5-5 5 4 5-9 6-1 5-8 5 5 5-6 5-4 5-5 5-5 5 0 5-12 5 0 5 1 6-9 5-6 5 2 5-4 5-5 5-5 6-1 7-2 6 0 6 3 7 6 6-1 7 2 6-1 6 0 7-4 6-2 6 1 7 4 6-1 7 5 6 0 6-6 7 4 6-3 6 3 7 2 6-6 6 3 7 3 6-3 6 0 7-7 6 5 6 0 7 0 6-1 7 6 6 6 6 4 7-1 6-3 6 6 7 4 6-3 6-1 7 2 6 4 7-1 6 0 6 3 7-3 6 5 6-1 7 1 6 1 7-2 6 1 6-3 6 8 7 2 6 5 6-2 6 6 6-1 7 4M353 3929l5-5 5-7 4-7 5-2 4-6 5-1 5-2 4-7 5-1 3-10 3-3 3-1 3-4 3-7 3-1 4-13 3-7 3-9 3-2 3-2 3-9 3-4 3 1 3-8 4-9 6 4 6 3 6-1 6 5 6 7 7 2 6 3 6 5 6-1 6 0 7-6 6 3 6 0 7-1 6-1 6-3 6 2 7-9 6 1 7 4 6-7 7 2 6-2 6 2 7-3 6 0 6-3 6-1 7 5 6-1 6 1 6-2 6 14 6-3 6 4 6 3 6 3 6 7 7 4 6 2 6-2 6 0 6 5 6 8 5-3 5-2 5-1 5-7 5-3 5-2 5-3 5-4 5-5 6-5 5 0 5-5 5-3 5-5 5-3 5-9 5-6 5-3 5 0 5-8 6-12 5-5 5-1 5-7 5-7 5-5 6 2 7-4 6 1 6 5 7-4 6 6 7-1 6 2 6-4 7 4 6 3 6 4 7 2 6 2 7 2 6 1 6-1 7 1 6 1 6 5 7-3 6 3 6 3 7 2 6-3 6-3 7 3 6-3 6-5 7 10 6 0 7-3 6 1 6-3 7-1 6 0 6-2 7 1 6 8 6-2 7-1 6-4 7 5 6-1 6 6 7 0 6 4 6 3 7-4 6 3 7 1 6 3 6 2 6 7 7-4 6 11 6 2 6 1 6 2 7 6M353 3973l5-3 5-4 4-8 5-1 4-6 5-5 5-6 4-12 5 2 3 0 3-4 3-2 3-14 3 3 3-12 4 3 3-7 3-4 3-4 3-7 3-3 3-10 3-8 3-9 4-7 6 4 6 6 6 3 6 6 6 1 7 9 6-2 6 3 6 0 6-1 7 1 6 1 6 0 7-6 6-1 6 2 6-7 7 4 6-1 7 1 6 0 7-1 6-3 6 10 7-7 6-5 6 2 6-4 7 0 6 4 6 3 6-3 6 2 6 3 6 5 6 7 6-2 6 7 7 2 6 4 6 7 6 6 6 4 6 6 5-8 5-1 5 0 5-8 5-9 5-1 5 1 5-3 5-8 6-11 5 1 5 2 5-7 5 3 5-10 5-2 5-1 5-6 5-6 5-1 6-10 5-6 5-10 5-9 5 0 5-7 6 5 7 0 6-1 6-8 7 9 6 5 7-5 6 0 6-1 7 6 6-4 6-5 7-1 6 6 7-3 6 3 6 0 7 1 6 2 6-1 7-1 6 8 6-2 7 6 6-1 6 5 7 0 6-2 6 8 7 2 6-2 7 3 6 6 6-4 7-4 6 3 6 7 7-1 6-5 6 1 7 6 6-1 7 4 6 1 6-2 7-6 6 0 6-5 7 1 6-9 7 5 6-8 6 6 6 1 7 3 6 6 6 1 6 0 6-1 7 5M353 3967l5-6 5-2 4-7 5-6 4-13 5-6 5-1 4-8 5-2 3-5 3-7 3 2 3-3 3-6 3-8 4-9 3-2 3-6 3-4 3-9 3-8 3 1 3-12 3-5 4-1 6-4 6 0 6-2 6 6 6-1 7 0 6 6 6 1 6-3 6-4 7 7 6-1 6 4 7-3 6-3 6-1 6 0 7-2 6 4 7 4 6 1 7 0 6 10 6-9 7-1 6 5 6 2 6 3 7 1 6 1 6 3 6 1 6-3 6 6 6 3 6-2 6 0 6 3 7 1 6 5 6-8 6 8 6 0 6-1 5-2 5-3 5-2 5-7 5-3 5 2 5-5 5 0 5-4 6 3 5-14 5-2 5-7 5-3 5-5 5-7 5 0 5-10 5-3 5-4 6-4 5-1 5-10 5 0 5-7 5-2 6-2 7 0 6 2 6-2 7 3 6-5 7 15 6-6 6 6 7-3 6 5 6 3 7-3 6 2 7 0 6 1 6 5 7-2 6 3 6 8 7 3 6-7 6-3 7-3 6 6 6 3 7 2 6 1 6 0 7-7 6 5 7 1 6 2 6 0 7 2 6 1 6-5 7 8 6-4 6-6 7 7 6-1 7 0 6 0 6-8 7 6 6-6 6-1 7 7 6-7 7 4 6-3 6 1 6 4 7-1 6 8 6-6 6 11 6-6 7 1M353 3956l5-5 5-4 4-7 5-2 4-7 5-4 5-5 4-7 5-7 3-6 3-4 3 0 3-5 3-6 3-12 4-10 3 3 3-5 3-3 3-10 3 0 3-13 3 3 3-4 4-3 6-1 6-2 6-3 6 12 6-7 7 4 6 2 6-1 6-1 6-1 7 2 6-4 6 6 7 1 6 4 6 4 6-2 7-6 6-2 7 3 6 0 7-2 6 1 6-6 7 4 6 2 6-8 6 5 7 2 6 1 6-5 6 9 6-1 6 5 6 4 6 1 6 7 6-5 7 4 6-2 6 1 6-2 6 8 6 6 5-8 5-4 5 2 5-6 5 5 5 1 5-12 5 1 5-1 6-11 5 2 5-3 5-1 5-3 5-2 5-8 5 3 5-7 5-6 5-3 6-3 5-2 5-8 5-9 5 3 5-4 6-3 7 3 6-4 6 1 7-5 6 6 7-11 6 2 6-4 7 5 6 3 6 0 7 2 6 4 7-2 6 4 6 3 7 0 6 6 6-1 7-3 6 3 6 9 7 0 6 4 6 1 7-1 6 4 6 1 7-1 6 0 7 4 6 0 6-11 7 1 6 4 6-4 7-3 6 3 6-4 7-3 6-1 7 0 6 0 6-9 7 1 6 9 6-2 7-1 6-3 7 4 6 5 6-4 6 18 7-8 6 5 6-4 6 9 6-2 7 1" stroke="#62c6b9" stroke-width="2.2" fill="none" transform="scale(.5)"/><path d="M238 3978l3-7 4-4 4-5 3-4 4-12 4-5 3-1 4 0 4-11 5 2 6-4 5 2 6-10 5 0 6-12 5 4 5-1 5 8 6 1 5 1 5 7 5 1 5 7 5-5 5-4 5-2 5-3 5 0 5-10 5-4 5 2 5-11 5-5 6-7 6-1 6-3 5-6 6 5 6-8 6 0 6-6 6-1 6 1 6-4 6-11 6 3 6-5 5 1 5-7 5 1 6-4 5-13 5 3 6-5 5-2 5-12 5 3 6-2 6-1 6 3 6 5 6 1 7 1 6-11 6-3 6 2 7 7 6 5 6-4 7 0 6 0 7 4 6-11 7 5 6-4 5 4 5 2 5 9 5-8 6 16 5-2 5 6 5 2 5 2 5 4 5-1 5 1 5 12 6-6 6-4 6-12 6 1 5-3 6-2 6-3 6-4 5-4 6-1 7-1 6-2 6 4 7-3 6 5 6 3 7-3 6-5 7 7 6-6 6 2 7 4 6-5 6 5 6 3 7-1 6 13 6-4 6 10 6 5 7 2 6 7 6-2 6-6 6 0 7 2 6-1 6-7 6 2 6-2 7-1 6 0 6-1 5 2 6-8 5-8 5-2 5-1 6-8 5-8 5-1 5-4 6-1 5-7 6-1 6 2 6-2 6-1 6-3 6-4 6-1 6-6 6 1 6-7 6 3 5-3 5 9 4 1 5 7 5 1 5 8 5 5 5 0 5-1 4 13 5-6 5 11 5 4 5-6 5-5 5 5 5-14 4-1 3 0 4-13 4 1 3-2 4-11 4-8 3-3 4-2M238 3981l3-8 4-1 4-7 3-7 4-9 4-3 3-5 4-5 4-3 5-8 6-5 5-7 6-8 5 3 6-2 5 6 5 1 5-1 6 7 5 0 5 2 5 8 5 5 5-17 5 0 5-2 5 3 5-3 5-4 5-9 5-6 5-8 5 7 6-8 6 1 6-1 5-4 6 0 6-9 6-4 6 1 6 0 6 4 6-12 6-1 6-1 6 6 5 3 5-10 5-1 6-5 5-2 5 0 6-7 5 2 5-5 5-3 6-3 6-6 6 9 6 3 6-5 7-2 6-4 6-1 6 3 7-2 6-5 6-4 7 0 6 0 7-5 6 1 7 2 6 1 5-3 5 5 5 0 5 0 6 5 5 7 5-2 5 8 5 2 5-1 5 8 5-2 5 1 6-2 6 0 6 3 6-7 5 8 6-3 6-3 6-4 5-1 6-3 7 0 6 1 6 2 7 0 6-8 6 7 7 2 6-2 7 0 6 3 6-3 7 6 6 4 6 1 6 6 7 1 6-4 6-1 6 6 6-1 7 4 6-1 6-7 6 3 6-1 7-2 6-1 6-6 6 2 6 1 7 1 6 1 6 1 5-9 6-5 5-6 5-1 5 0 6-10 5-7 5-2 5 0 6-3 5-5 6-4 6-2 6 1 6-2 6-1 6 0 6-7 6 3 6 0 6 0 6 3 5-1 5 7 4 8 5 4 5 0 5 4 5 4 5-1 5 7 4 8 5 2 5 6 5-7 5 2 5-8 5 3 5-3 4-13 3 1 4 4 4-13 3-3 4 0 4-5 3-7 4-5M238 3995l3-4 4-8 4-4 3-7 4-4 4-2 3-7 4-5 4-10 5-9 6 7 5-10 6-5 5-5 6 3 5 3 5 6 5 7 6 3 5 0 5 6 5 8 5 0 5-1 5-3 5-2 5-2 5-6 5-4 5-6 5-4 5-2 5 2 6-7 6-1 6-4 5 0 6 1 6-9 6-5 6-3 6-5 6 3 6-6 6-1 6-3 6 5 5-10 5-6 5-4 6-4 5-6 5-1 6-2 5-8 5-6 5-1 6-1 6 1 6-4 6-1 6 2 7-5 6-1 6-1 6 1 7-2 6 1 6-2 7 0 6 3 7-1 6-7 7 3 6 3 5 3 5 7 5-4 5 7 6 0 5 3 5 3 5 2 5 3 5 3 5 12 5 6 5 3 6 4 6 1 6-5 6-2 5 3 6 3 6-4 6 0 5 3 6-4 7-7 6 2 6 8 7-9 6-3 6-4 7 1 6-4 7-3 6-5 6-2 7 0 6-3 6 0 6 2 7 1 6 3 6 2 6 5 6 5 7-7 6 3 6-4 6 2 6-7 7 0 6 7 6-4 6-3 6-1 7 0 6-1 6-6 5-3 6-7 5 1 5 2 5-7 6-8 5 1 5 4 5-4 6-5 5 3 6-1 6 3 6 0 6-2 6 2 6-5 6 7 6-5 6 10 6-7 6-1 5 2 5 8 4 8 5 0 5 3 5 5 5 2 5 5 5 2 4 6 5 4 5 3 5-5 5-6 5-10 5-6 5-1 4-8 3-1 4-5 4-5 3-9 4-4 4-6 3-6 4-8M238 3971l3-3 4-4 4-10 3 1 4-8 4-7 3-6 4-2 4-5 5-3 6-1 5-7 6-2 5-3 6-4 5 5 5 9 5 2 6 1 5 7 5 6 5 8 5 1 5-9 5 9 5-3 5-6 5-11 5-4 5-8 5-8 5 5 5-7 6-1 6-8 6-7 5-7 6 0 6-6 6 2 6-13 6 1 6 1 6-8 6 0 6 1 6-13 5 3 5-1 5-7 6-8 5 5 5-4 6 2 5-8 5 1 5-2 6-6 6 2 6 1 6 1 6-2 7 5 6-3 6-1 6-1 7 1 6 4 6-1 7-7 6 7 7-2 6-5 7 4 6 2 5 6 5-2 5 7 5-3 6 11 5 4 5-3 5 6 5 3 5 0 5 5 5-4 5 8 6-3 6-3 6-5 6 1 5 2 6 1 6-6 6-3 5-2 6-2 7-3 6-1 6-1 7-2 6 4 6-2 7 0 6 8 7-5 6 6 6-1 7-7 6 2 6-3 6 5 7 3 6 5 6 6 6 1 6 3 7 0 6 0 6-4 6 0 6 4 7 3 6-9 6 4 6 2 6 1 7-8 6 0 6-1 5-1 6-6 5-8 5-1 5-1 6-11 5-9 5-2 5-12 6-7 5 1 6 0 6 5 6-1 6 0 6-6 6 4 6 0 6-3 6-3 6-2 6 7 5-2 5 3 4 5 5 6 5 11 5 4 5 0 5-1 5 9 4-1 5 8 5 6 5-5 5-5 5-3 5 5 5-9 4-4 3-7 4-3 4-11 3-5 4-2 4-15 3-3 4-8M238 3986l3-8 4 0 4-7 3-10 4-3 4 3 3-8 4-7 4-4 5-1 6-3 5-13 6 5 5-12 6-3 5 3 5 2 5 2 6 9 5 9 5 1 5 9 5 2 5-1 5-2 5-9 5-4 5 2 5-8 5-3 5-7 5-5 5 3 6-2 6 7 6-4 5-6 6-8 6 2 6-3 6 0 6-4 6-4 6 1 6-13 6 2 6-5 5 0 5-9 5 4 6-6 5-5 5 0 6-1 5-2 5-3 5-8 6 2 6-3 6-1 6-6 6-3 7 3 6-7 6 1 6 0 7 1 6-4 6-7 7-1 6-1 7 3 6-4 7-2 6-5 5 6 5 7 5-2 5 11 6 2 5 7 5 0 5 6 5 8 5 6 5 0 5 2 5 10 6-2 6 1 6-3 6-4 5-2 6-5 6 1 6 2 5-10 6 1 7 2 6 5 6 2 7-2 6-2 6-1 7 4 6-7 7 7 6-4 6 1 7 2 6 0 6 4 6-4 7 2 6 2 6 5 6-3 6 2 7 0 6-1 6 3 6-2 6 3 7-4 6-2 6-6 6 1 6-2 7-1 6 0 6 2 5-11 6-3 5 0 5-10 5-1 6-7 5-2 5 4 5-8 6-6 5-1 6-4 6 0 6-6 6 0 6 2 6-12 6 5 6-3 6 4 6 2 6 3 5-2 5 5 4 6 5 9 5 3 5 9 5 4 5 7 5 12 4-2 5 11 5 1 5-12 5-2 5 4 5-5 5-8 4-5 3-6 4-8 4 4 3-13 4-4 4-7 3-6 4-3M238 3985l3-7 4-8 4-7 3-2 4-9 4 3 3-7 4-2 4-8 5 3 6-6 5-12 6-5 5-2 6-9 5 3 5 3 5 1 6 8 5 3 5 9 5 4 5-1 5-6 5 2 5-9 5-2 5-4 5 1 5-9 5-7 5 0 5-11 6 2 6-8 6 6 5-3 6-3 6-1 6-2 6 1 6-7 6-3 6 1 6-3 6-6 6 8 5-8 5-4 5 4 6-4 5-1 5-11 6-3 5-4 5-11 5 7 6-2 6 3 6 0 6 0 6 0 7-1 6-2 6 1 6 2 7-2 6-2 6-4 7 0 6 4 7-7 6 1 7-2 6-4 5 6 5 8 5-1 5 5 6 6 5-3 5 6 5 5 5 4 5-2 5 8 5 5 5 5 6-3 6-2 6-3 6-1 5-5 6 2 6-5 6-1 5-4 6 5 7 2 6-3 6-4 7-1 6 4 6-8 7-3 6-2 7-3 6 5 6-9 7 1 6 3 6 8 6-1 7-2 6 1 6-3 6 6 6-5 7 0 6 4 6 7 6-2 6 2 7-3 6-3 6 4 6 1 6-5 7 6 6 0 6-3 5-5 6-4 5-2 5 0 5-6 6-10 5 2 5-4 5-5 6-14 5 0 6-2 6-3 6 0 6 5 6 1 6-3 6-1 6 3 6-9 6 2 6 5 5 0 5 11 4 2 5 6 5 8 5-2 5 5 5 5 5 5 4 7 5 3 5 4 5-4 5-4 5 3 5 1 5-8 4-11 3 0 4-2 4-8 3-4 4-11 4-4 3-6 4-7M238 3999l3-3 4-6 4-9 3-6 4-9 4-8 3-2 4-9 4-10 5-5 6 0 5-3 6-9 5 4 6-7 5 6 5 3 5 10 6-4 5 4 5 5 5 6 5-1 5 3 5-7 5-2 5-4 5-6 5-8 5 1 5-9 5-2 5 1 6-7 6 2 6-4 5 5 6-5 6-4 6 5 6 2 6-4 6-4 6-5 6-2 6-4 6 0 5-11 5 5 5-3 6-8 5 3 5-3 6-5 5-1 5-2 5 0 6-6 6-3 6 3 6-5 6-6 7 1 6-2 6-5 6 2 7-10 6 6 6-4 7 7 6-3 7-3 6-3 7-5 6 3 5 3 5 3 5 1 5 1 6 5 5 4 5 0 5 6 5 0 5 7 5 5 5 3 5-3 6 4 6 3 6-6 6 6 5-8 6-3 6 1 6 0 5 2 6-4 7 5 6-2 6 2 7-3 6-1 6-2 7-2 6 1 7-1 6 4 6 0 7-1 6 2 6-1 6 0 7 7 6-1 6-3 6 7 6-1 7-1 6 5 6-6 6 2 6 0 7-2 6 5 6-5 6-1 6 0 7 0 6-3 6-2 5-5 6 1 5-9 5-2 5-4 6-1 5-3 5-9 5 1 6-9 5-4 6 0 6 6 6 1 6-3 6-2 6-3 6-3 6-7 6 7 6 6 6-4 5 5 5 9 4 6 5 4 5-1 5 3 5 3 5 12 5 0 4 10 5 3 5 7 5-2 5-7 5-7 5-2 5-2 4-2 3-11 4-4 4-4 3-4 4-2 4-7 3-7 4-4M238 4011l3-6 4-9 4-1 3-6 4-13 4 0 3-12 4-5 4-8 5 1 6-3 5-10 6 5 5-4 6-7 5-2 5 13 5 1 6 2 5 6 5 7 5 2 5 1 5-6 5-1 5-6 5 0 5-8 5 3 5-3 5-4 5-9 5 3 6-3 6-3 6-6 5-2 6 4 6-7 6-5 6 6 6-6 6 4 6-6 6-4 6-5 6 2 5 3 5-10 5-2 6-2 5 1 5-8 6-3 5-4 5 3 5 1 6-6 6-10 6 5 6-5 6-3 7 0 6-1 6-2 6 8 7-10 6-8 6-7 7 1 6 3 7-7 6 1 7 2 6 1 5 5 5-6 5 4 5 5 6 8 5 5 5 2 5 6 5 5 5 2 5 3 5 4 5 7 6-1 6-3 6-5 6 0 5 0 6-2 6 4 6-3 5-5 6 0 7-4 6 2 6-4 7 9 6-2 6-5 7 3 6 1 7 0 6-8 6-1 7 8 6-4 6 7 6-1 7 4 6 7 6-3 6 3 6-2 7 0 6 2 6-6 6-1 6-2 7-3 6-2 6 4 6 0 6-4 7-2 6 0 6-10 5 1 6 0 5 1 5-12 5 6 6-4 5-5 5-6 5-10 6-1 5-3 6 6 6-5 6-5 6 4 6-1 6 8 6-1 6 1 6-1 6 2 6-1 5 7 5 9 4 1 5 1 5-1 5 9 5 2 5 3 5 0 4 3 5 10 5-1 5-5 5 7 5-9 5-3 5-3 4-9 3-5 4-3 4-5 3-5 4-10 4-6 3 1 4-5M238 3999l3-4 4-5 4-8 3-3 4-7 4-1 3-4 4-5 4-14 5 0 6-7 5-5 6-5 5-5 6-2 5 4 5 3 5 9 6 4 5 0 5 6 5 3 5 7 5 4 5-4 5-6 5 2 5-4 5-5 5-6 5 0 5-7 5 3 6-8 6-1 6-2 5-2 6-8 6-3 6-4 6 1 6-1 6-15 6-1 6 1 6-10 6-1 5-7 5 6 5-3 6-11 5-2 5 3 6-3 5-4 5-2 5-3 6-15 6 5 6-6 6-2 6 0 7-4 6 9 6-2 6-1 7-1 6-3 6 0 7 0 6-2 7-4 6-1 7 3 6 6 5 6 5 0 5 16 5-7 6 7 5 3 5 3 5 8 5 3 5 6 5 5 5 0 5 5 6 0 6 0 6-5 6-1 5-5 6 0 6-3 6-1 5 2 6-5 7-3 6-5 6-4 7 0 6-1 6 2 7-2 6 5 7 3 6-3 6-5 7 0 6-9 6 8 6-1 7 4 6 2 6 0 6-3 6 8 7 6 6-4 6-4 6 5 6 1 7-3 6 3 6 7 6-7 6 2 7-2 6 5 6-2 5-6 6-3 5-3 5-5 5-3 6-3 5 0 5-6 5-4 6-1 5 0 6-3 6-3 6-3 6-3 6-4 6 5 6-1 6-5 6 1 6-3 6-1 5 4 5 4 4 6 5-3 5-1 5 9 5 6 5 4 5-1 4 9 5-1 5 4 5 0 5-10 5 5 5-7 5 3 4-11 3-3 4-4 4-6 3-5 4 3 4-11 3-7 4-2M238 3967l3-3 4-3 4-9 3-2 4-5 4-5 3 0 4-9 4-8 5 0 6-12 5-1 6 1 5-14 6-3 5 7 5 6 5 5 6 0 5 3 5 3 5 0 5 7 5-3 5-2 5-8 5-6 5-4 5-1 5-8 5 0 5-10 5-3 6-2 6-7 6-2 5-1 6 2 6-6 6 1 6 2 6-2 6-8 6 1 6 1 6-2 6 5 5-9 5 2 5-6 6 4 5-10 5 5 6-4 5 3 5-15 5 0 6-12 6 3 6-5 6 4 6 3 7-5 6-2 6-3 6-1 7-1 6-3 6 1 7-2 6-1 7-3 6-2 7-1 6 4 5-1 5 7 5 2 5 2 6 0 5 0 5 6 5 1 5 10 5-2 5 6 5 1 5 10 6-8 6 2 6 2 6 0 5 0 6-1 6 5 6-8 5 4 6-7 7-4 6 6 6-5 7-2 6-6 6 0 7-4 6-2 7-1 6 2 6-1 7 0 6 0 6-1 6 2 7-1 6 7 6 7 6 0 6 4 7 11 6-3 6-2 6-2 6 9 7-4 6 0 6 2 6-4 6 9 7-9 6-3 6-3 5-1 6-2 5-10 5-4 5 3 6-11 5 5 5-3 5-5 6-3 5-10 6-2 6 0 6 6 6 2 6-2 6-4 6 2 6-5 6 0 6 3 6-5 5-3 5 1 4 4 5-1 5 2 5 11 5 0 5 11 5 0 4-2 5 12 5 6 5-4 5-5 5-3 5-7 5-1 4-1 3-4 4-10 4-5 3-8 4-6 4-5 3-7 4-1" stroke="#35b6ea" stroke-width="2.2" fill="none" transform="scale(.5)"/><path d="M242 4006l4-6 4-7 5-5 4-3 4-12 4 3 5-2 4 1 4-6 7-2 6 0 7-4 7 4 6-1 7-4 5 7 5-4 5 3 5 6 5 4 5 6 5 6 5 14 5-12 5 4 5-5 5-2 5-15 5-2 5-9 5-2 6 1 6 1 6 7 6-15 6-2 6 3 6-2 6-14 6 2 6-5 5-5 6 4 5-9 6-10 5 8 6-6 5 2 6-3 5 2 6-7 5 6 6-5 6-5 6 5 7 4 6-6 6 1 6 7 6-6 6 5 7-8 6 7 6-11 6 3 6-4 6 4 6-1 7 8 6-4 6 5 6-7 6-9 6 5 7 4 6-2 6-7 6-2 6-2 6 0 6 6 6-2 6 2 6 8 6 9 6-2 6-3 6-4 6 7 6-4 6-1 6-5 6 3 6-2 6-5 6 2 6-1 6 2 6-4 6-1 7 6 6 1 6 2 7-3 6 2 6 3 6-4 6-6 7-1 6-10 6 11 7-11 6-6 6 2 6 0 6-1 7-2 6-1 6 5 7-8 6 0 6 4 6-3 6 3 7 1 6 9 6-4 7 2 6 6 6-6 6-1 6 3 6 2 7 1 6 2 6 4 6-1 6 0 6 1 7 3 6 4 6 1 6-5 6-8 6 1 6 3 6 5 6-2 6-2 6-1 6-13 6 4 6 3 5-2 6 8 5-1 6-9 5-4 6-4 5-2 6-6 5-7 6 2 5-1 5-15 5 9 5-1 5-9 5-2 5 1M242 4032l4-11 4-2 5-2 4-1 4-8 4-8 5-1 4-7 4-9 7 4 6-2 7-1 7 0 6-4 7-3 5 9 5-17 5 13 5 1 5 0 5 4 5-1 5 6 5-4 5-3 5 1 5 3 5-10 5-4 5-4 5-4 6-8 6 2 6-2 6 5 6 6 6-4 6-10 6-3 6-1 6-3 5 0 6-1 5-1 6 5 5-7 6-3 5 4 6-3 5-4 6-3 5 1 6-12 6 5 6 0 7 5 6-6 6 6 6-1 6-5 6-8 7-4 6 6 6 0 6 1 6-5 6 2 6-6 7 2 6 2 6 1 6-1 6 4 6-1 7-1 6 4 6-9 6 2 6-4 6 2 6 7 6-10 6 7 6-5 6 2 6-1 6 4 6 0 6-9 6 11 6-7 6-1 6-3 6 1 6-2 6 0 6 10 6-13 6-7 6 4 7 3 6 8 6 1 7-3 6 0 6 5 6 1 6 1 7 4 6-3 6 3 7 1 6-4 6 2 6 0 6-3 7-1 6-4 6-3 7 3 6 0 6-5 6-5 6 4 7-1 6 6 6-1 7-9 6 5 6-6 6 1 6 4 6 2 7 0 6-7 6 6 6-7 6 0 6-2 7-1 6-3 6-2 6-2 6 2 6 5 6 7 6-1 6-7 6 7 6 1 6 4 6-3 6 1 5 1 6-6 5 3 6 3 5-3 6-7 5 2 6-8 5-5 6 2 5 0 5-7 5 1 5 7 5-9 5-10 5 3M242 4004l4-1 4-9 5-8 4-8 4-4 4-5 5-10 4 3 4-6 7-3 6-1 7-7 7 2 6 0 7-2 5 3 5 6 5 3 5 4 5 5 5 0 5 9 5 6 5-5 5-4 5-5 5-5 5-5 5-12 5-5 5 1 6-2 6-2 6 4 6-6 6-3 6-3 6-2 6 3 6-4 6-10 5 2 6 0 5-10 6 7 5-8 6-4 5-3 6-1 5 4 6-9 5-2 6-2 6 2 6-2 7 5 6 1 6-2 6 2 6-9 6-4 7-5 6-4 6 2 6-3 6 1 6 6 6 0 7-2 6-5 6 8 6 3 6-2 6-6 7 6 6 2 6-4 6-4 6 8 6 3 6 1 6-4 6 5 6 4 6-5 6 0 6 0 6 3 6 6 6-8 6-6 6 2 6-4 6-5 6 4 6 0 6-3 6 5 6-9 6 0 7 2 6 2 6 9 7-5 6 10 6-5 6 3 6-10 7 5 6 1 6-2 7 6 6-6 6 6 6-4 6 2 7-5 6 1 6 0 7 10 6-1 6-8 6-2 6 8 7-4 6-2 6-7 7 0 6 4 6-4 6 2 6-3 6-5 7 10 6-5 6 9 6 1 6-4 6 2 7-2 6 1 6 1 6-3 6 2 6-5 6 2 6-3 6 3 6 6 6 0 6 9 6-7 6 2 5-10 6 3 5-5 6-1 5-4 6-3 5-1 6 4 5-8 6 0 5-5 5 6 5-8 5-6 5 4 5-11 5-3M242 4011l4 1 4-5 5-1 4-5 4-3 4-12 5-2 4-1 4-4 7 0 6-1 7-6 7 6 6-8 7 9 5 8 5 6 5 6 5 3 5 11 5 2 5 2 5 0 5-5 5-3 5-4 5-11 5-1 5-9 5-2 5-4 6-2 6 0 6-8 6 0 6 4 6 3 6-11 6-4 6-7 6 1 5-4 6-13 5 4 6 0 5-3 6-3 5-2 6-4 5-9 6 6 5-10 6 5 6-7 6-3 7-9 6 4 6 0 6 3 6 2 6 5 7 0 6-2 6 0 6-2 6 2 6-1 6 5 7-2 6 8 6 2 6 3 6-3 6 4 7 2 6 1 6 2 6-6 6 4 6-5 6-5 6 7 6-9 6-6 6-4 6 3 6 2 6-5 6 3 6-4 6 1 6-5 6-2 6 3 6-7 6-4 6 7 6-4 6-2 6 1 7-2 6 4 6 2 7 3 6 8 6 0 6-1 6-1 7 6 6 2 6-2 7-7 6 5 6-3 6-1 6-2 7-8 6 6 6 4 7-3 6-5 6-5 6 9 6-5 7-4 6-4 6 2 7 3 6-6 6 10 6-7 6-6 6 8 7-1 6 6 6-10 6 5 6-5 6 5 7 4 6-3 6-1 6 3 6 7 6-6 6 3 6 2 6 2 6 3 6 3 6 4 6-6 6 3 5-3 6-1 5-1 6-6 5 0 6-10 5 5 6-2 5-6 6-4 5-5 5-5 5 1 5-12 5-1 5-5 5-12M242 4042l4-4 4-12 5 0 4-9 4-2 4-10 5 5 4-10 4-8 7-6 6 1 7-7 7-1 6-6 7 6 5 7 5 6 5-1 5 11 5-2 5 6 5 7 5 11 5-8 5-3 5-9 5-3 5-4 5 8 5-6 5-4 6-8 6 8 6 6 6-19 6 5 6-3 6-1 6 1 6-1 6-5 5-8 6 5 5 0 6-4 5-2 6-12 5-4 6-2 5-10 6-5 5 3 6-3 6-6 6 3 7 7 6-6 6-4 6 0 6-1 6-5 7 2 6-1 6 1 6-9 6 4 6 3 6-3 7 1 6 8 6 10 6-2 6-5 6 2 7 4 6 3 6 0 6 2 6 2 6 5 6-2 6-5 6 0 6-2 6-9 6 4 6-5 6 4 6 5 6 0 6-3 6-5 6-3 6 3 6-10 6-2 6-1 6-10 6 10 6 1 7-3 6 1 6-3 7 9 6 0 6 1 6-4 6 8 7-1 6-8 6 3 7 1 6 1 6-4 6 3 6 8 7-4 6 0 6 5 7-4 6 1 6-2 6-4 6 8 7-7 6-3 6 11 7-11 6-4 6 0 6 2 6-8 6 1 7 2 6 3 6-10 6 10 6-6 6 0 7-5 6 12 6-15 6 0 6 1 6-5 6 12 6 0 6 7 6-4 6 8 6 0 6 4 6-5 5 14 6-7 5 0 6-1 5-1 6-4 5-2 6-7 5 0 6-7 5-2 5 2 5-12 5 4 5-8 5-7 5 2M242 4044l4-2 4-8 5-8 4-4 4-7 4-3 5-7 4-4 4 6 7-8 6 3 7-9 7-1 6 1 7-1 5 6 5 4 5 5 5-2 5 13 5 0 5-1 5 10 5 0 5 3 5-17 5 7 5-15 5-5 5-10 5-2 6 3 6 2 6 4 6-6 6-2 6-2 6 1 6-9 6 2 6-2 5-7 6 2 5-6 6-1 5-1 6-2 5-8 6 2 5 0 6-11 5-5 6-2 6 7 6-10 7-1 6 0 6 2 6-5 6 1 6 3 7 3 6-9 6 8 6-4 6 11 6-1 6-4 7 6 6-3 6-2 6 5 6-7 6 2 7-1 6 9 6-8 6 8 6 10 6-6 6 1 6 0 6 2 6-6 6 8 6 6 6-5 6 2 6-4 6 1 6-2 6 2 6-1 6 7 6-10 6-1 6-10 6 1 6 3 6-4 7 1 6-5 6-3 7 5 6-3 6-4 6-8 6 10 7-7 6 1 6-2 7-3 6 6 6-7 6 7 6-9 7 1 6-2 6-9 7 10 6-1 6 3 6-2 6 3 7-2 6-4 6 3 7-3 6 3 6 2 6-3 6 9 6-1 7 0 6 4 6 1 6 2 6-1 6-2 7 2 6 5 6-7 6 8 6-2 6 7 6-1 6 1 6 3 6-10 6 3 6-1 6 7 6 2 5-6 6-4 5-5 6-5 5-4 6-4 5 4 6-5 5-2 6 1 5-16 5 12 5-16 5 6 5-12 5-3 5-5M242 4036l4 4 4-10 5 8 4-10 4-1 4-8 5-1 4-11 4 10 7-6 6-2 7-1 7-6 6-4 7 4 5 6 5-4 5 8 5 2 5 4 5 2 5-1 5-6 5-1 5-11 5-6 5-5 5-8 5 0 5-8 5 7 6-7 6-11 6-2 6 5 6-1 6-10 6 7 6 2 6-10 6 0 5-6 6-2 5-8 6-2 5 6 6-6 5 1 6-2 5-5 6-9 5 9 6-6 6 3 6-2 7 6 6-1 6-2 6-2 6 10 6-10 7 0 6 5 6-4 6-1 6 0 6 2 6 1 7 9 6-8 6-4 6 8 6-7 6-2 7-2 6-5 6-3 6-1 6 9 6-10 6 7 6 0 6-3 6 0 6 1 6 9 6-3 6-3 6 3 6 1 6 1 6-11 6 0 6-1 6-5 6 6 6-2 6 6 6-8 6 7 7-1 6-4 6 5 7-2 6-4 6 1 6 10 6-3 7 0 6 0 6 2 7-4 6-3 6 7 6-7 6 7 7-7 6 8 6 3 7-5 6-2 6 0 6 4 6-1 7-10 6 6 6 1 7 7 6-12 6-1 6 12 6 0 6 0 7 0 6-4 6-3 6-2 6 3 6 0 7 4 6-6 6-12 6 7 6 4 6-3 6-4 6 9 6-4 6 0 6 2 6-2 6 2 6-1 5 1 6-10 5-4 6-3 5-1 6 2 5-9 6 2 5-3 6 0 5-6 5-4 5-7 5 3 5 0 5-9 5-4M242 4064l4-4 4-7 5-9 4-1 4-10 4-3 5-1 4-10 4 1 7-5 6-2 7 1 7 1 6-6 7 0 5 0 5 1 5 3 5-2 5 9 5 6 5 4 5 5 5-6 5 1 5-7 5 9 5-8 5-6 5-3 5-11 6 1 6 8 6-6 6-6 6 6 6 2 6 6 6-4 6-4 6 0 5 1 6-6 5-1 6-4 5-9 6-1 5 1 6-8 5 0 6-7 5-5 6 6 6-8 6-5 7 2 6 2 6-5 6 7 6-7 6 0 7-3 6-6 6 0 6 4 6-5 6 4 6-3 7 1 6 3 6 3 6 3 6-3 6 3 7 1 6-4 6 2 6 1 6 0 6 0 6-2 6 0 6 3 6 0 6-1 6-13 6 8 6 2 6-3 6-2 6 2 6-4 6 1 6 5 6-6 6 3 6-1 6-2 6 4 6-3 7 2 6-1 6-1 7 4 6-5 6-1 6 3 6 1 7 2 6-3 6 5 7 4 6-4 6-4 6 6 6 2 7-1 6-1 6-1 7-7 6 4 6-5 6 5 6 5 7 0 6 3 6-5 7-5 6 6 6 2 6-6 6 1 6 12 7-7 6-3 6 0 6-1 6 0 6 2 7 1 6-4 6 2 6-9 6 6 6 2 6-14 6 6 6 0 6-5 6 7 6-8 6 7 6-4 5-2 6-4 5 4 6-9 5-9 6 4 5-9 6 5 5-8 6-8 5-2 5-5 5 6 5-10 5-1 5-3 5 5M242 4011l4-3 4-5 5-2 4 6 4-10 4-5 5-10 4 2 4-6 7 0 6-7 7-1 7 8 6-5 7-6 5 11 5-1 5 4 5 5 5 10 5 1 5-1 5 2 5-5 5 1 5-2 5-6 5 0 5-8 5-7 5-5 6-5 6 2 6-1 6 6 6-7 6-7 6 9 6 1 6-6 6 0 5-7 6-1 5 2 6-9 5-2 6 2 5-2 6 0 5-3 6-3 5-2 6 5 6-12 6 3 7-2 6-5 6 2 6-6 6-5 6-4 7 8 6 0 6-5 6-3 6-1 6 3 6-9 7 6 6 2 6-1 6-3 6 9 6 4 7-2 6 9 6-9 6 2 6-1 6 2 6 2 6-4 6-3 6 4 6 2 6-4 6-4 6-5 6 4 6-1 6-10 6 7 6-5 6 4 6 5 6 2 6-2 6-1 6-5 6 6 7 5 6-3 6-6 7 3 6-3 6-9 6 4 6 6 7-5 6 1 6 10 7-3 6 1 6 1 6-1 6-8 7 7 6 13 6-7 7-5 6 2 6 4 6-4 6 3 7-9 6-3 6 4 7 2 6 1 6-5 6 7 6 1 6 0 7 1 6 0 6-9 6 12 6-5 6 5 7-9 6-6 6 2 6 0 6-10 6 2 6 4 6 1 6 1 6-11 6 2 6 9 6 0 6-1 5 0 6-7 5-4 6-9 5 4 6 1 5-3 6-8 5-3 6-1 5-11 5-3 5 2 5-3 5-4 5 3 5-4M242 4009l4-6 4-2 5-4 4-8 4-13 4-9 5 2 4-10 4-6 7-3 6 1 7-3 7-1 6 4 7-5 5 0 5 10 5 10 5-5 5 7 5 12 5-1 5 12 5-11 5 0 5-5 5 6 5-16 5-5 5-4 5 7 6-10 6 5 6-4 6 2 6-6 6-2 6 6 6-6 6-5 6 9 5-12 6-3 5 2 6-6 5 0 6-8 5 1 6 2 5-5 6-6 5 3 6-7 6 3 6-11 7 5 6-7 6-3 6 1 6-16 6 7 7 1 6-15 6 4 6 5 6-9 6 8 6 3 7-7 6 9 6-4 6 5 6-5 6 9 7 2 6 1 6 3 6 1 6 0 6-6 6-6 6 15 6-8 6 5 6 10 6-9 6 6 6-3 6-15 6 0 6 6 6 6 6-3 6-4 6 1 6 1 6 2 6-6 6-3 6 1 7 0 6-1 6 0 7-3 6 5 6-10 6 11 6-8 7 0 6 0 6 2 7 8 6-1 6-3 6-2 6-5 7 3 6 1 6 6 7 2 6 0 6 0 6 0 6 7 7-8 6 0 6 3 7-4 6-2 6 6 6-1 6 5 6-8 7 7 6-9 6 2 6 3 6-1 6-4 7 0 6 0 6-1 6 1 6 2 6-5 6 2 6-1 6-3 6 6 6 0 6 0 6-1 6 6 5-12 6-8 5 9 6-7 5-4 6-6 5-7 6 2 5-8 6-4 5-1 5-4 5 0 5-2 5 3 5-9 5 6" stroke="#35b6ea" stroke-width="2.2" fill="none" transform="scale(.5)"/><path d="M271 3947l4-3 5-14 5-7 4 2 5-5 5-3 4-7 5-4 4 10 4-2 4-1 5 13 4 5 4 9 4 1 5-2 6 1 6-5 5 1 5-9 6-1 7 1 6-1 7-1 7 3 6 6 5 0 4 6 5 4 4 10 5 2 4 6 5 4 4 5 5-2 4 3 5 12 4-9 5-5 5-4 4 0 5-5 4-1 5-5 4-8 5-5 5-3 5-3 5-3 5-3 6 2 5-13 5-6 5 1 5-2 5-9 5-1 5-1 5 0 6-2 6-2 6 7 6 4 6 0 6 11 6-5 5-1 5-4 5-5 5-6 5-8 5-11 5 1 5-6 5 0 4 0 4 6 4-2 3 8 4 8 4 7 4 2 4 4 3 10 4 6 4 8 4 1 5 2 5-11 6-2 5 1 5-5 5-2 6-7 5 0 5-5 5-4 6 2 6-9 6 6 6-4 6 2 6-1 6 4 6 1 6 2 6 1 6 1 6 6 5-4 6-10 5-4 6-1 5-2 6-5 6-11 6 4 6-7 6 10 6-15 5-1 6-8 6 11 6-4 6-5 6-2 6-1 6 5 6 3 6-11 6 9 6-7 6-8 6 0 6-3 6-9 6 0 6 0 6-1 7-12 6 4 6-4 6-1 6-8 5 5 4 8 5 2 5 9 4 1 5 9 5-2 6 2 6 1 6 7 6 0 6 5 6-6 6 3 6 10 6-8 6 9 6-4 5-8 5 1 5-2 5-6 5-5 5 7 6-4 5 15 3-4 3-13 3 0 3-9 3-6 4-1 3 0 3-10 3-5 3-7 3-7 4 4 4 13 4 6 4-3 4 8 4 12M271 3934l4-9 5-9 5 2 4-6 5-8 5-8 4 5 5-6 4 5 4 6 4 5 5 5 4 4 4 8 4 7 5-14 6 6 6-1 5-2 5-3 6-6 7 9 6-1 7 6 7-4 6 5 5 0 4 7 5 8 4 5 5 5 4 3 5-8 4 15 5 1 4 0 5 7 4-9 5-3 5 2 4-7 5 3 4-4 5-10 4-1 5-2 5-4 5-1 5-9 5-9 6-1 5-4 5-9 5 4 5-6 5-2 5-12 5-7 5 7 6 3 6 0 6 4 6-7 6 6 6-3 6 7 5-3 5-6 5-3 5-9 5-4 5-13 5 2 5 0 5-9 4 1 4 7 4 9 3 16 4 0 4 0 4 17 4-1 3 6 4 3 4 10 4 4 5-4 5-4 6-12 5-3 5 1 5-4 6 2 5-7 5-5 5 1 6-7 6 6 6-1 6-5 6 0 6 6 6-1 6-1 6 4 6 3 6 5 6-16 5 4 6-3 5-6 6 5 5-18 6 0 6-3 6-2 6-1 6-10 6 2 5 0 6 4 6-7 6 6 6-5 6-2 6 3 6-1 6-9 6 1 6 2 6-10 6-3 6-2 6-2 6 2 6-5 6-6 6-1 7 0 6-1 6-7 6-1 6 4 5 4 4-1 5 3 5 4 4 13 5-2 5 5 6 6 6 1 6-4 6-4 6 0 6 4 6 8 6-3 6 5 6-3 6 10 5-8 5-1 5-13 5-7 5-2 5 2 6 5 5 10 3-5 3-13 3-1 3 7 3-12 4-1 3-7 3-5 3-5 3-7 3-7 4 16 4-2 4 5 4 1 4 12 4 6M271 3950l4-8 5-8 5 0 4-10 5 4 5-10 4-9 5 4 4 3 4 10 4-8 5 5 4 0 4 9 4 2 5 2 6 0 6-4 5-5 5-12 6 3 7 8 6-2 7 2 7 1 6 4 5-4 4 5 5 3 4 12 5 0 4 10 5-7 4 9 5 7 4 2 5-1 4 2 5-4 5 2 4-7 5-12 4-4 5-9 4 11 5-10 5-1 5-7 5-10 5 1 6 1 5-11 5 1 5 3 5 2 5-6 5-5 5-5 5 1 6 1 6 1 6 9 6-7 6 1 6 7 6-1 5-2 5-10 5 1 5-6 5-7 5 1 5-5 5-9 5-3 4 6 4 11 4 5 3 4 4-5 4 4 4 4 4 3 3 6 4 7 4 9 4 6 5 5 5-9 6-6 5-7 5 4 5-10 6 3 5-13 5 4 5-4 6-3 6 10 6-8 6-4 6 4 6-2 6 5 6 7 6-1 6-5 6-5 6 3 5-6 6-11 5 1 6 4 5-10 6-5 6-12 6 2 6 3 6-5 6-6 5-1 6 3 6-2 6 0 6 8 6-7 6-2 6 0 6-8 6-2 6 1 6-7 6-1 6-1 6-4 6-6 6 2 6 1 6-7 7-4 6-1 6-4 6 5 6-7 5 6 4 6 5 2 5 7 4 6 5 3 5 13 6-5 6-2 6 6 6-2 6 7 6-8 6 3 6 3 6 1 6 2 6 5 5-6 5-11 5-2 5-8 5-1 5 7 6 6 5 8 3-12 3-1 3-2 3-7 3-9 4-1 3-13 3-4 3 1 3-8 3-6 4 4 4 6 4 9 4 4 4 4 4 1M271 3960l4-7 5-15 5 7 4-10 5 0 5-9 4-4 5 1 4 2 4 2 4 11 5-4 4 1 4 4 4 9 5-9 6-3 6-4 5 1 5-1 6 2 7 3 6-1 7 12 7-3 6-4 5 8 4 4 5 2 4 5 5 7 4 14 5 5 4 4 5 4 4 5 5-2 4-1 5-4 5-7 4-6 5-1 4-10 5-1 4-8 5-13 5 4 5-4 5-1 5-7 6 3 5-3 5-7 5 0 5-1 5-3 5-4 5-5 5 1 6-8 6 5 6 8 6 8 6-3 6 2 6-1 5-4 5-8 5-10 5 2 5-8 5 2 5-6 5-11 5-7 4 4 4 7 4 4 3 15 4 10 4-4 4 3 4 4 3 10 4 11 4-3 4 7 5-5 5-7 6-3 5-3 5-4 5-5 6-8 5-5 5-2 5-5 6 4 6 4 6 2 6-4 6 3 6 3 6-3 6 7 6-12 6 5 6 1 6 4 5-12 6 5 5 0 6-10 5-5 6 3 6-9 6 0 6-1 6 4 6-13 5-2 6 6 6-10 6 10 6-8 6-5 6 3 6-5 6-2 6 0 6-1 6 0 6-4 6-2 6-3 6 1 6-4 6 1 6-4 7-1 6-8 6-1 6-5 6-7 5 20 4-6 5 12 5 0 4 7 5 1 5 8 6-5 6 6 6 4 6 2 6 1 6 8 6-10 6 13 6-2 6-5 6 8 5-9 5-8 5 3 5-6 5-9 5 2 6 7 5 11 3-9 3-12 3-3 3 3 3-9 4-4 3-7 3-4 3 0 3-8 3-6 4 1 4-1 4 11 4 1 4 7 4 5M271 3923l4-9 5-3 5-1 4-3 5-6 5-8 4 1 5-4 4 9 4 1 4 12 5 0 4 5 4 5 4-2 5 0 6 1 6 3 5-7 5-2 6-12 7 8 6-8 7 2 7-3 6 6 5 5 4 8 5-2 4 12 5 0 4 9 5 1 4 5 5 3 4 8 5 11 4-7 5-3 5-12 4-1 5-9 4 1 5-9 4-8 5-3 5-10 5 3 5-13 5 5 6-1 5-6 5-4 5 2 5-9 5 0 5-2 5-3 5-4 6-1 6-8 6 8 6-1 6 3 6 3 6 3 5-5 5 0 5-6 5-4 5-6 5 5 5-9 5 0 5-9 4 16 4 4 4-3 3 6 4 9 4 5 4-1 4 10 3 4 4-1 4 5 4 10 5-9 5 6 6-8 5-4 5-5 5-4 6-1 5-5 5 0 5-4 6-7 6 4 6-2 6 1 6-7 6 5 6 0 6 4 6-6 6-1 6 8 6-1 5-4 6-6 5-1 6-2 5-3 6-15 6 4 6 4 6 4 6 2 6-10 5-1 6 1 6-6 6 5 6-7 6-1 6-1 6 0 6 0 6-1 6-1 6-6 6 1 6-3 6 1 6-4 6-5 6-7 6 7 7-6 6-7 6-2 6-3 6 2 5 0 4 4 5 1 5 2 4 3 5 2 5 6 6 6 6-3 6 3 6 3 6 9 6-3 6-5 6-2 6 11 6 2 6-5 5 9 5-15 5-1 5-1 5-5 5 1 6 9 5 2 3-5 3-6 3-3 3-5 3-1 4-12 3-1 3-9 3-4 3-1 3-10 4 5 4 6 4 9 4 6 4 10 4 1" stroke="#2a3275" stroke-width="2.2" fill="none" transform="scale(.5)"/><path d="M216 4040l5 156 7-116 8-60" stroke="#35b6ea" stroke-width="2.2" fill="none" transform="scale(.5)"/><path d="M1040 3853l2-14 1 26 2 8 1 6 2-22 1 18 2 20 1-9 2 10 1-8 2 20 1-24 2 18 2 14 2-11 2 1 3 0 2-9 2 29 2 2 2 11 2-17 2 9 3 10 2 16 2-4 2-3 2-2 2 4 2 0 2-10 1 16 2 8 2-9 2 13 2-2 2 28 2-23 1 7 2 15 2 8 2 0 2 4 2 8 2 13 1-16 2 4 2-43 2 22 2 1 2-6 1 8 2-22 2-13 1 8 1-25 1 22 1-43 2 32 1-12 1 5 1-1 1-6 1 6 1-18 1-18 1 10 2-14 1 2 1 2 1-27 1 1 2 16 2-16 2 4 3-6 2-12 2 0 2 8 2-19 2 9 2-8 3-22 2 18 2-21 2 25 3-22 3 9 3-7 3-18 3 2 4-4 3 4 3 11 3 2 3-4 3-11M1040 3822l2 23 1 1 2 3 1 10 2 2 1 23 2-18 1 13 2 3 1 20 2-3 1-13 2 7 2-3 2 10 2-3 3 11 2 7 2-5 2-1 2 9 2-11 2 18 3-4 2 24 2-1 2-19 2 13 2 6 2 24 2-30 1 17 2 34 2-18 2-1 2 7 2-4 2 31 1-18 2 6 2-8 2 26 2-18 2-15 2 27 1-28 2 5 2-6 2 5 2 7 2-15 1 5 2-3 2-6 1-10 1 17 1-35 1 23 2-19 1 2 1-9 1 18 1-16 1-6 1-12 1-19 1 23 2-23 1 0 1-5 1 6 1-12 2-39 2 36 2 12 3-11 2-10 2-6 2 7 2-10 2 4 2-1 3-18 2-8 2 9 2-2 3-9 3 6 3-19 3-3 3 13 4-16 3-5 3 6 3 3 3-30 3 18M1040 3837l2 4 1-3 2-8 1 33 2-24 1 27 2-9 1 26 2 4 1-12 2 1 1 7 2 9 2 5 2 0 2-2 3-8 2 21 2 2 2-1 2-8 2 14 2 21 3-8 2-6 2 3 2 14 2 22 2 10 2-9 2-9 1 20 2-15 2 3 2 6 2 2 2 38 2-15 1 0 2-3 2 2 2-7 2 5 2-3 2 17 1-29 2 4 2 5 2-5 2-8 2 19 1-15 2 3 2-29 1 7 1-23 1 10 1-7 2 12 1-19 1 17 1-3 1-19 1-17 1 15 1-34 1 10 2-7 1 19 1-15 1 13 1 1 2-18 2 1 2-9 3-3 2 3 2-17 2 4 2 1 2-4 2-6 3 8 2-14 2-22 2 21 3-6 3-6 3-32 3-3 3 3 4 11 3 9 3-24 3 16 3-15 3 10M1040 3839l2 22 1-24 2 28 1-4 2 3 1-10 2 21 1-1 2 7 1-13 2 8 1 19 2 7 2 21 2-37 2 13 3 12 2 12 2-9 2 21 2 0 2-19 2 3 3 12 2 0 2 13 2 11 2-11 2 7 2 7 2 0 1 22 2-14 2 1 2 14 2 7 2-19 2 4 1 14 2 33 2-28 2-3 2 21 2-11 2-8 1 5 2 6 2-14 2-16 2-4 2-1 1-8 2 4 2-12 1 19 1-26 1 3 1-11 2 17 1-19 1-24 1-4 1-3 1 6 1 2 1 16 1-13 2 12 1-30 1-20 1 7 1 4 2-5 2-3 2-19 3 3 2-12 2-2 2 1 2-8 2 7 2-9 3-3 2 4 2-3 2-4 3 4 3-9 3 10 3-10 3 10 4-29 3-18 3 11 3 2 3-6 3 8" stroke="#2a3275" stroke-width="2.2" fill="none" transform="scale(.5)"/><path d="M860 3854l4-6 4 4 3-7 4 5 4-24 4 26 4-11 3-3 4 7 4-17 4 8 4-18 4 11 3-10 4-4 4-1 4 8 4 10 3-16 4 4 4 9 4-12 4 1 4 11 4-14 4 9 4-9 4-4 4-9 4 6 4-3 4 3 4-7 4 8 4-7 4 0 4-1 4 16 4-11 4 10 4-2 4-9 4 0 4 2 4-6 4 2 4 8 3-2 4-6 4 0 3 0 4 11 3 4 4-10 4 17 3-2 4-4 4 9 4-2 4-5 4 2 4-5 4 7 4-13 4 8 4-3 4-8 4-6 3 12 4-15 4 1 3-31 4 27 3-6 4-5 4 4 3-14 4 12 4-2 4-11 4 8 4 9 4-10 4-14 4-8 4 6 4-1 4 12 3-1 4 2 3 13 4 17 3-10 4-21 3 18M860 3835l4 15 4-3 3-2 4-13 4 15 4-5 4-3 3-8 4 7 4-3 4 11 4-4 4-23 3 5 4-1 4 3 4 11 4-25 3 8 4 2 4-26 4 5 4 1 4-5 4 4 4-1 4 9 4 0 4-15 4 22 4-1 4 5 4-17 4 11 4-3 4-28 4 31 4-16 4 1 4-14 4 3 4 2 4 12 4-2 4 16 4-23 4-4 3-6 4 4 4 3 3 8 4-9 3 0 4 17 4-9 3 5 4 15 4-25 4 26 4-9 4-1 4-10 4 8 4 3 4-16 4 2 4 7 4-30 3 13 4 3 4-4 3 0 4-7 3 1 4 7 4-10 3 7 4-11 4-2 4 11 4-12 4 7 4-6 4-11 4 10 4-1 4 7 4 0 3-9 4 11 3-7 4 0 3 17 4-4 3 1M860 3869l4-7 4 8 3-1 4-5 4-15 4 18 4-9 3-11 4 12 4-9 4-2 4 3 4-6 3-4 4-2 4 5 4 1 4-2 3 0 4 3 4-15 4-3 4 6 4 0 4 7 4-18 4 10 4 1 4-2 4 2 4-1 4-7 4 8 4-3 4-10 4 4 4-7 4 7 4-10 4 1 4-4 4-2 4 13 4-9 4 2 4-13 4 22 3 12 4-18 4 11 3-2 4 2 3-8 4 27 4-1 3-22 4 9 4 1 4 0 4-1 4 1 4 6 4-3 4 4 4 10 4-12 4-16 4 2 3 17 4-19 4-1 3 3 4-3 3-11 4 5 4-17 3-14 4 5 4 8 4-21 4 8 4-4 4-8 4 1 4 7 4-4 4-10 4 13 3-3 4 14 3 3 4-16 3-6 4 23 3 5M860 3851l4-3 4 13 3-21 4 11 4-12 4 5 4-5 3-4 4-4 4-2 4 15 4 6 4-27 3 4 4-12 4 13 4-9 4 7 3-11 4 9 4-10 4 19 4-12 4 0 4 2 4-1 4 5 4-6 4-1 4 11 4-23 4-8 4 8 4 11 4-12 4 0 4-11 4 12 4 3 4-10 4-6 4 0 4 8 4 2 4 4 4 3 4 8 3-4 4-7 4 9 3 15 4-27 3 13 4-10 4 13 3-5 4-12 4 10 4-10 4 8 4-7 4 4 4-15 4 1 4 4 4 0 4-4 4 1 3-10 4 3 4 4 3-6 4 8 3-17 4 19 4-12 3-23 4 6 4 0 4-3 4-4 4-2 4 13 4-3 4 3 4-5 4 9 4-27 3 13 4 17 3-9 4 20 3-1 4-2 3-11" stroke="#2a3275" stroke-width="2.2" fill="none" transform="scale(.5)"/><path d="M1212 3800l8-60 6-40 4 60 5 266" stroke="#62c6b9" stroke-width="2.4" fill="none" transform="scale(.5)"/><path d="M205 4076l0-3 1-5 2-5 1-7 1-8 2-8 2-3 1-7 2-6 1-6 2-6 2-9 2-7 3-6 2-5 2-5 3-6 4-6 2-4 3-5 2-5 3-7 3-2 3-7 3-4 4-7 3-8 3-4 4-7 4-3 4-6 4-6 4-6 4-6 4-7 4-2 5-5 4-3 4-4 5 1 4 3 5 6 4 9 5 5 5 4 4 7 5 5 4 2 5 4 4-3 5-1 4-6 5-6 4-7 5-9 5-7 5-9 3 0 3-8 3-6 3-4 3-4 3-5 3-12 3-3 3-7 4-5 3-1 3-9 3-3 3-3 3-6 4-4 6-4 6-1 6 5 6 1 6 3 7 7 6 5 6 1 6 1 6 1 6-1 6-2 7 0 6-1 6 0 7-5 6 0 6-2 7 3 7-1 6-2 7-1 6 0 7 5 6 0 6-2 6 1 6-1 6 3 6-1 6 3 6 3 7 1 6 1 5 5 6-2 6 2 6 5 7 2 6 3 6 4 6 3 7 3 6 0 5 0 5-2 5-3 5-4 5-6 5-4 5-4 5-4 5-1 6-1 5-2 5-8 5-7 5-2 5-2 5-2 5-3 5-7 4-6 5-4 5-6 5-7 6-2 5-4 5-6 6-3 6 1 6-1 6 6 6-1 7 2 6 0 7 3 6 1 7 1 6 3 7-2 6 1 7 1 6-2 7 0 6 1 6 1 7 0 6 5 6-1 7 0 6 0 6-1 7 3 6-1 6 5 7 2 6-4 6 2 7-1 6 0 7 2 6 1 6-1 7 1 6 2 6 3 7 4 6 0 6-2 7-6 7-2 7 1 6 2 7 1 7 1 6 0 7-1 6-1 6 1 6-2 5 4 8-2 8 4 7 2 7-2 6 6 5 1 5 3 4 3" stroke="#5fc5b8" stroke-width="12" fill="none" stroke-linejoin="round" transform="scale(.5)"/><path d="M205 4118l0-2 1-7 2-4 1-9 1-7 2-7 2-8 1-9 2-6 1-3 2-4 2-9 2-3 2-8 2-9 2-5 2-5 3-3 3-6 3-5 3-8 4-6 3-7 4-6 4-5 4-6 4-4 4-2 5-9 6-7 5-4 5-6 6-1 6 2 5 2 5 2 4 8 6 5 5 6 5 3 6 2 5 2 5-1 4-5 4-4 5-2 4-3 5-3 5-5 6-4 5-6 7-7 5-3 5-4 6 2 6-2 6-4 6-4 7-3 6 0 6-2 7-4 6-3 6-2 5 0 6-3 6-2 6-4 5-3 6-5 5-4 5-4 5-2 5-3 5-4 5-1 5-2 6-6 6 2 6-1 6-3 6-4 6 0 7 0 6-2 6-1 6-4 7-2 6 2 6 2 7-4 6-1 7 3 7 0 5 3 5 2 5 4 5 4 5 6 6 6 5 8 5 6 5 2 5 2 6 4 5 1 4 3 6 2 6-5 6 0 5-2 5 0 6 0 5-5 6-5 6 2 7-3 6 0 6-1 6-1 7-3 7 1 7-1 7 0 6-3 7-4 7 2 6 1 6-4 5 4 8 2 6 0 6 5 5 2 6 3 5 4 6 3 8 0 5 0 6 0 6-2 6 1 7 1 6-2 7 0 6 0 7-2 6-1 6-4 6-5 6 3 5-5 6-4 5-9 5-3 5-3 5-4 5-5 5-4 5-3 6-1 6-3 6-1 6 3 6 0 6-3 6-3 6-6 6-3 6 1 6 4 6 3 5 2 6 3 5 6 5 7 5 8 6 3 5 5 4 3 5 4 4 7 4 0 4 0 7 3 5-1 4-1 4-4 5-6 3-3 4-11 5-8 4-8 4-8 4-6 4-5 3-5 2-2" stroke="#2db4e9" stroke-width="12" fill="none" stroke-linejoin="round" transform="scale(.5)"/><path d="M205 4159l1-9 1-5 1-4 1-7 2-4 1-7 1-8 2-10 1-6 1-7 2-6 1-7 1-7 1-6 1-4 1-9 1-6 0-5 1-7 1-6 1-6 1-7 1-9 1-7 1-3 2-4 1-7 1-6 2-5 3-7 4-8 4-4 4-5 4-4 5-3 4-6 5-3 4-5 5-1 5-8 5-6 4-5 5-6 5-1 4 3 5 0 4 1 4 9 4 6 4 6 4 7 4 0 5 4 6-3 5-2 6-10 5-4 6-2 6-2 6 1 7 0 7 4 7 8 4 4 4 5 5 5 4 4 5 6 5 5 5 5 4 4 5 7 5 0 4 3 5 4 4-4 4-5 4-7 4-8 5-5 4-5 5-3 6-7 4-3 5-4 5-7 5-1 6 0 5-7 6-3 6-2 5-4 5-4 5-5 5-4 4-1 8 1 6 3 6-2 5 5 5 3 6 3 6 0 5-6 5-2 5-6 5-5 5-8 5-2 5-9 5-3 5 4 4-1 4 5 3 5 4 6 4 6 3 7 4 7 4 6 4 7 3 8 5 3 4-1 5-1 4-2 5 2 6-3 5-3 5-7 5-8 6 0 5-7 6-4 6-3 5-2 7-1 6 0 6 1 7 0 6-1 7 2 6 3 6 1 5 2 5 1 7 0 4-3 4-9 4-6 6-3 8-5 4-1 5-2 5 0 6-1 6-3 6-3 6-4 6 0 7-3 6 2 7-4 6-6 7 1 6-2 6-4 6-1 6-2 7 0 7-2 6-3 7-3 7-1 6-2 6-2 6-5 6-2 6 1 4-1 5-3 7 0 5 4 4 6 3 3 4 9 4 7 6 1 5 5 5 1 7-1 6 4 7-1 7 5 7 2 6 0 6 1 5 1 5 2 8-4 5-6 4-8 4-3 4-2 5 2 5 13 6 1 3-2 3-7 2-6 4-6 3-9 3-4 3-6 4-8 3-4 3-6 3-3 5 3 4 5 5 7 4 10 4 3 2 5" stroke="#222a6c" stroke-width="12" fill="none" stroke-linejoin="round" transform="scale(.5)"/></g>
<g><path d="M116 1791.2v6M116 2154.5v-6M201.1 1791.2v6M201.1 2154.5v-6M286.2 1791.2v6M286.2 2154.5v-6M371.3 1791.2v6M371.3 2154.5v-6M456.4 1791.2v6M456.4 2154.5v-6M541.5 1791.2v6M541.5 2154.5v-6M626.6 1791.2v6M626.6 2154.5v-6M94.7 2063.7h6M647.9 2063.7h-6M94.7 1972.9h6M647.9 1972.9h-6M94.7 1882.1h6M647.9 1882.1h-6" stroke="#3a3a3a" stroke-width="2" fill="none"/><rect x="94.7" y="1791.2" width="553.1" height="363.2" fill="none" stroke="#3a3a3a" stroke-width="2"/><text x="80.5" y="2163.5" text-anchor="end" font-size="25" stroke="#1a1a1a" stroke-width="0.35">7.8</text><text x="80.5" y="2072.7" text-anchor="end" font-size="25" stroke="#1a1a1a" stroke-width="0.35">7.9</text><text x="80.5" y="1981.9" text-anchor="end" font-size="25" stroke="#1a1a1a" stroke-width="0.35">8.0</text><text x="80.5" y="1891.1" text-anchor="end" font-size="25" stroke="#1a1a1a" stroke-width="0.35">8.1</text><text x="80.5" y="1803.2" text-anchor="end" font-size="25" stroke="#1a1a1a" stroke-width="0.35">8.2</text><text x="105.4" y="2181.5" font-size="25" textLength="22.8" lengthAdjust="spacingAndGlyphs" stroke="#1a1a1a" stroke-width="0.35">0°</text><text x="177.3" y="2181.5" font-size="25" textLength="36.6" lengthAdjust="spacingAndGlyphs" stroke="#1a1a1a" stroke-width="0.35">2°E</text><text x="262.2" y="2181.5" font-size="25" textLength="36.6" lengthAdjust="spacingAndGlyphs" stroke="#1a1a1a" stroke-width="0.35">4°E</text><text x="347.5" y="2181.5" font-size="25" textLength="37" lengthAdjust="spacingAndGlyphs" stroke="#1a1a1a" stroke-width="0.35">6°E</text><text x="431.8" y="2181.5" font-size="25" textLength="36.6" lengthAdjust="spacingAndGlyphs" stroke="#1a1a1a" stroke-width="0.35">8°E</text><text x="507.7" y="2181.5" font-size="25" textLength="49.1" lengthAdjust="spacingAndGlyphs" stroke="#1a1a1a" stroke-width="0.35">10°E</text><text x="588.8" y="2181.5" font-size="25" textLength="50.2" lengthAdjust="spacingAndGlyphs" stroke="#1a1a1a" stroke-width="0.35">12°E</text><text x="2.7" y="1769.8" font-size="32" font-weight="bold">I</text><text transform="translate(23.7 1973) rotate(-90)" x="-85" font-size="25" textLength="170" lengthAdjust="spacingAndGlyphs" stroke="#1a1a1a" stroke-width="0.3">pH (total scale)</text></g>
<clipPath id="cJ"><rect x="790.2" y="1791.2" width="553.1" height="363.2"/></clipPath>
<g><path d="M832.8 1791.2V2154.5M854 1791.2V2154.5M875.3 1791.2V2154.5M917.9 1791.2V2154.5M939.1 1791.2V2154.5M960.4 1791.2V2154.5M1003 1791.2V2154.5M1024.2 1791.2V2154.5M1045.5 1791.2V2154.5M1088.1 1791.2V2154.5M1109.3 1791.2V2154.5M1130.6 1791.2V2154.5M1173.2 1791.2V2154.5M1194.5 1791.2V2154.5M1215.7 1791.2V2154.5M1258.3 1791.2V2154.5M1279.5 1791.2V2154.5M1300.8 1791.2V2154.5M790.2 2136.3H1343.4M790.2 2118.2H1343.4M790.2 2100H1343.4M790.2 2081.8H1343.4M790.2 2045.5H1343.4M790.2 2027.4H1343.4M790.2 2009.2H1343.4M790.2 1991H1343.4M790.2 1954.7H1343.4M790.2 1936.6H1343.4M790.2 1918.4H1343.4M790.2 1900.2H1343.4M790.2 1863.9H1343.4M790.2 1845.7H1343.4M790.2 1827.6H1343.4M790.2 1809.4H1343.4" stroke="#bbbbbb" stroke-width="1.9" stroke-dasharray="1.9 5.6" fill="none"/><path d="M811.5 1791.2V2154.5M896.6 1791.2V2154.5M981.7 1791.2V2154.5M1066.8 1791.2V2154.5M1151.9 1791.2V2154.5M1237 1791.2V2154.5M1322.1 1791.2V2154.5M790.2 2063.7H1343.4M790.2 1972.9H1343.4M790.2 1882.1H1343.4" stroke="#dadada" stroke-width="1.5" fill="none"/></g>
<g clip-path="url(#cJ)"><path d="M1621 3949l5 5 7-3 8-4 10 1 11 1 7 3 7 0 8 2 8 3 9-2 9-4 9 2 9 2 8 1 9-5 8 1 8-2 9 2 8-2 8 0 8-2 9-5 8 3 8-11 8 1 9-6 8 2 9-4 9-2 9-4 8 1 9 0 8-4 7-5 7 1 10-4 9-3 8-4 8-6 7 0 7 2 8 0 8-2 7 7 8 1 10 2 7 3 7 4 8 4 8 1 9 4 9 3 9-2 9 2 9 0 8-3 8 4 8 1 8-2 8 7 9 2 8-2 8 3 9-5 8-3 7-7 6-5 7-4 7-8 7-7 7-3 7-6 7-7 6-1 6-10 6-8 5-4 5-7 8-10 6-4 4-16 3-8 3 1 4 2 4 7 4 10 3 11 2 8 0 42-2-5-3-17-4-11-4-17-4-2-3 3-3 9-4 8-6 12-8 14-5 4-5 5-6 1-6 11-6 5-7 2-7 8-7 2-7 9-7 5-7 5-6 7-7 4-8 5-9 3-8-2-8-2-9 0-8 3-8 6-8-1-8-2-8-1-9 0-9-2-9-4-9-2-9-3-8-3-8 3-7-4-7-2-10-6-8-2-7-6-8-1-8 1-7 4-7 4-8 1-8 4-9-1-10 7-7 2-7 2-8 2-9 4-8 2-9-3-9 4-9 4-8 5-9-1-8 3-8-1-8 3-9 2-8 4-8 0-8 1-9 3-8-1-8-4-9 1-8 4-9 2-9 2-9-4-9-4-8 7-8-2-7-2-7 5-11-4-10-4-8 0-7-4-5 0z" fill="#f2a2af" opacity="0.4" transform="scale(.5)"/><path d="M1660 3936l4 0 6-4 6-9 8-4 7-10 8-4 8-9 8-3 7-4 8 3 9 1 8 3 8 2 8 6 9 2 8 0 7-2 8-2 8-4 7-4 8-3 8-5 7-8 7-2 7-6 7-1 6-1 7-3 6-9 6-6 6-4 5-9 9-13 7-7 7-6 7-4 8 0 7 9 7 7 8 6 4 4 3 10 4 4 3 10 4 9 4 9 4 7 4 4 7 5 7 6 8 5 9 1 9-4 7-1 8 3 9-2 9-1 9 4 9-1 9-1 9-3 9-2 9-3 10-4 9-3 9 0 8-1 7-3 6-8 4-7 4-7 3-5 3-11 3-9 3-8 4-4 5-8 6-10 5-5 6-7 6-7 6-3 6-4 8-9 8-8 8-7 8-6 8-1 8-1 9-6 8 4 8 6 7 2 8 7 6 6 6 8 4 4 0 37-4-2-6-5-6-7-8-4-7-4-8-6-8 1-9-1-8 7-8 3-8 2-8 3-8 5-8 5-6 4-6 3-6 9-6 9-5 1-6 8-5 8-4 3-3 8-3 12-3 6-3 12-4 10-4 4-6 7-7 7-8-2-9 2-9 3-10 3-9-2-9 4-9-1-9 1-9 4-9 2-9 6-9 0-8 0-7 0-9 3-9-3-8-3-7-8-7-4-4-3-4-8-4-9-4-10-3-6-4-8-3-2-4-8-8-10-7-3-7-8-8-1-7 4-7 5-7 6-9 10-5 3-6 2-6 3-6 7-7 5-6 8-7 3-7 3-7 7-7 6-8 6-8 3-7 4-8 3-8 3-7 3-8-5-9 2-8-8-8-3-8-1-9-4-8 3-7 3-8 2-8 7-8 4-7 4-8 12-6 8-6 0-4-1z" fill="#d35a62" opacity="0.3" transform="scale(.5)"/><path d="M1621 3974l7-6 7-1 7-4 7-5 7 9 6 3 7 3 6-5 6-3 7 3 6 7 6-5 7-2 6 1 6 9 7-2 6 2 6-2 7 5 6-2 7 5 6-3 6-9 7 3 6-9 6 8 7-10 6-3 6 5 7-2 6-3 6-3 6 0 6 3 6-6 6-1 6-3 6-3 6 1 6-6 5-5 6 8 6 1 6-8 6 4 6-6 6-2 6 2 6-1 7-9 6 2 6-1 6 1 6-7 7 6 7 5 7 2 6-12 7 11 7 5 6 6 6 1 7-3 6 5 6-6 6 3 7 1 6 3 6-2 6 9 6 2 7-1 6-7 6 1 7-1 6 1 6-5 7-1 6-2 6-6 7 0 6 2 6-6 7-1 6-2 5-2 5-4 5-2 4-8 5-4 5-11 5 3 5-8 5-2 5-5 4 0 5 4 5-2 5-2 5-5 5-1 5-10 3-5 4-6 3-6 4-6 3-8 4-6 3-1 3 2 2 7 2 7 3 4 2 11 2 11 3 3 2-1 2 8 3 10 2 7 2 3 2 8 2 0 3 13 2 4 2 10 2 3M1621 3975l7 0 7-6 7-3 7 5 7 2 6-1 7 6 6-4 6-4 7-4 6 3 6-4 7 2 6 5 6 4 7 2 6-2 6-3 7-3 6 10 7 2 6-7 6-1 7-1 6-2 6 1 7-5 6 1 6 4 7-5 6 3 6-7 6 3 6 2 6-3 6 8 6-3 6-3 6-2 6-4 5 4 6 4 6-6 6-8 6 0 6-5 6 2 6 3 6-4 7-2 6 1 6-6 6-2 6-5 7 1 7 1 7-3 6 4 7 1 7 3 6-1 6 5 7-5 6-1 6 4 6-2 7 2 6 1 6 6 6-5 6 1 7 6 6-8 6 4 7-4 6 3 6-2 7-6 6 2 6 4 7-4 6 3 6-4 7 2 6-1 5-5 5-7 5-6 4-2 5 0 5 1 5-11 5-1 5-6 5 1 4-1 5-5 5-6 5 0 5-10 5-2 5-2 3-7 4-1 3-11 4 1 3-10 4-11 3-1 3 5 2 3 2 10 3 3 2 8 2 2 3 6 2 2 2 5 3 13 2 5 2 13 2 2 2 3 3 11 2 4 2 9 2 6M1621 3976l7 1 7-3 7-1 7 3 7-1 6-6 7 6 6-8 6 1 7-4 6 5 6 1 7 0 6-2 6 2 7 1 6-6 6 8 7 0 6-1 7-6 6 2 6-1 7-4 6 9 6-2 7-1 6-8 6 1 7-5 6-1 6-4 6 3 6-1 6-4 6-4 6-1 6-4 6-4 6-1 5-4 6 2 6 2 6 2 6-4 6-1 6 3 6-2 6-1 7-5 6-1 6-6 6 1 6-1 7 7 7-1 7 5 6 2 7-3 7-2 6 7 6 2 7 3 6-1 6 2 6-2 7 2 6-5 6 4 6-3 6 2 7 5 6 1 6-6 7-3 6-1 6 3 7-3 6 2 6-6 7-1 6 2 6-8 7-2 6-1 5-1 5-3 5 6 4-9 5-6 5-3 5-3 5-2 5-8 5-12 4 4 5-6 5-7 5-10 5-2 5-2 5 4 3-11 4-8 3-1 4-4 3-7 4-5 3-10 3 10 2 5 2 4 3 7 2 6 2 5 3 13 2 1 2 6 3 0 2 9 2 0 2 12 2 8 3 12 2 0 2 15 2 5M1621 3965l7 0 7 3 7 0 7-5 7 9 6-3 7 3 6-5 6 0 7 0 6 4 6 2 7-1 6 7 6-7 7-2 6 5 6-3 7 6 6 1 7-2 6 4 6-8 7 0 6-2 6-3 7-1 6 0 6 0 7 0 6 2 6-4 6-1 6-3 6-2 6-1 6 4 6 0 6-1 6-3 5-6 6-3 6 1 6-7 6-7 6 2 6-4 6 0 6-4 7 2 6-7 6-5 6 7 6 1 7-1 7-2 7 2 6 3 7 3 7 0 6 3 6-3 7 3 6 3 6-3 6 0 7 4 6 3 6 2 6 4 6 1 7 2 6 2 6-5 7-1 6-4 6 2 7-4 6 5 6-3 7-3 6 3 6-1 7-2 6 0 5-8 5 0 5-4 4-7 5-7 5-5 5 0 5-6 5-4 5-4 4-1 5-11 5 4 5-9 5-7 5-3 5 2 3-8 4-5 3-6 4-14 3-3 4 0 3-9 3 6 2 6 2 8 3 5 2 1 2 13 3 4 2 4 2 3 3 7 2 8 2 8 2 5 2 2 3 8 2 10 2 6 2 5M1621 3963l7 3 7-2 7-3 7 2 7-3 6 1 7 4 6-3 6 0 7 2 6-7 6 4 7 5 6-6 6 1 7-7 6-2 6 1 7 0 6-3 7 1 6 4 6-4 7-2 6 3 6 1 7-6 6-2 6-8 7 9 6 2 6-7 6 2 6 0 6-6 6-5 6-2 6 0 6 2 6-12 5 5 6 2 6-9 6 9 6-5 6 3 6 1 6-7 6-1 7 1 6-1 6-8 6 0 6-4 7 3 7 2 7 2 6 6 7 2 7-1 6 6 6 7 7 1 6 2 6-1 6 1 7-4 6 6 6 3 6-6 6 0 7 1 6 0 6 0 7-5 6 0 6 1 7 0 6-4 6-4 7 0 6 1 6 2 7-3 6-1 5-10 5 1 5-5 4-6 5 0 5-6 5-1 5-6 5-3 5-4 4-7 5-2 5 2 5-14 5 0 5-10 5 1 3-9 4-6 3-6 4-9 3-3 4-6 3-1 3 7 2-2 2 11 3 2 2 10 2 6 3 0 2 6 2 5 3 6 2 5 2 5 2 10 2 4 3 5 2 5 2 10 2 0M1621 3982l7-1 7-4 7-1 7 2 7 0 6-1 7-3 6 0 6 2 7 1 6-4 6 6 7 6 6-6 6 1 7 3 6 4 6 0 7 1 6-1 7 1 6 5 6 0 7-9 6 3 6 0 7-7 6-7 6-3 7 5 6-6 6-2 6 3 6-8 6-6 6-2 6 2 6-2 6 3 6-4 5-2 6 0 6-1 6 1 6-11 6 4 6-1 6-4 6 5 7 0 6-3 6-6 6-2 6 0 7-1 7 0 7-1 6 2 7 0 7 1 6 7 6-1 7 3 6 1 6 4 6 2 7 3 6 3 6-9 6 12 6-2 7-1 6 0 6-3 7-1 6 4 6-7 7-5 6 5 6-5 7 5 6-7 6-2 7 1 6 5 5-8 5-3 5-5 4-4 5-10 5-1 5-8 5 3 5-2 5-7 4-5 5 0 5-12 5 5 5-3 5-10 5-2 3-10 4 0 3-5 4-1 3-12 4-8 3-8 3 13 2 11 2-3 3 1 2 6 2 10 3 8 2 8 2 10 3-3 2 15 2 6 2 7 2 2 3 5 2 7 2 14 2 5M1621 3966l7-1 7 1 7 7 7-5 7 5 6-6 7 6 6 2 6-1 7-2 6-1 6-6 7 1 6-2 6 3 7 4 6-7 6 2 7 3 6 5 7-8 6-2 6 1 7-7 6-2 6 6 7-2 6-4 6 1 7 4 6-5 6-3 6-2 6 2 6 1 6-7 6 1 6 2 6-6 6-2 5 3 6 0 6-7 6 2 6-1 6-1 6 6 6-1 6-2 7-3 6-4 6-2 6-1 6 0 7 3 7-5 7-3 6 6 7-4 7 0 6-3 6 3 7-3 6-2 6 0 6 3 7-6 6 9 6-1 6 1 6-4 7 2 6-6 6 6 7-2 6 3 6-2 7 3 6-1 6-4 7 8 6-7 6-4 7 7 6-1 5-1 5-8 5 7 4-9 5 2 5-11 5-3 5-10 5-2 5 5 4-7 5-3 5-4 5-4 5-11 5 6 5-7 3-13 4-2 3-13 4 0 3-12 4-2 3-5 3 4 2 3 2 9 3 10 2 2 2 9 3 4 2 5 2 4 3 7 2 5 2 4 2 5 2 7 3 2 2 7 2 9 2 5M1621 3972l7 1 7-3 7-2 7 4 7-5 6-5 7 7 6-5 6-2 7 1 6 1 6-4 7-1 6 2 6 10 7-7 6 4 6-5 7 3 6-4 7-1 6 2 6 0 7 3 6-3 6-4 7-2 6 2 6 2 7-4 6 6 6 4 6-2 6-4 6 0 6-5 6-7 6 1 6 1 6 0 5-5 6-4 6-9 6 8 6-6 6 1 6-8 6 0 6 0 7 1 6-11 6 0 6 1 6-5 7-1 7-1 7 3 6-1 7 7 7-2 6 1 6 0 7-3 6-2 6 4 6 7 7-3 6 3 6 9 6 0 6 2 7 4 6 8 6-6 7 0 6 10 6-4 7 1 6-4 6 1 7 0 6-5 6 2 7 0 6-9 5 2 5-3 5-7 4-5 5 2 5-4 5-2 5-7 5-7 5-2 4-7 5-7 5-4 5-2 5-8 5 3 5-5 3-8 4-7 3-7 4-3 3-8 4-15 3-1 3 4 2-3 2 15 3-3 2 9 2 8 3 9 2 0 2 12 3 8 2 1 2 9 2 8 2 7 3 2 2 11 2 6 2 8M1621 3972l7 5 7-1 7 0 7-3 7-4 6 1 7 4 6-2 6 7 7-8 6 9 6 1 7-2 6 6 6-12 7 4 6 4 6-3 7 2 6-2 7-3 6 5 6-4 7-10 6-1 6 1 7-6 6-1 6-4 7-1 6 2 6-7 6 0 6 0 6-3 6 6 6-7 6 0 6 0 6 1 5-6 6 3 6 2 6-8 6 3 6-3 6-2 6 0 6 3 7-3 6 2 6-10 6 8 6-6 7-4 7 4 7 8 6 1 7 0 7 4 6 2 6-5 7 1 6 6 6-1 6 3 7 2 6-1 6-2 6 4 6 0 7 0 6-5 6-4 7 8 6-2 6-2 7 3 6-4 6-2 7 0 6 5 6-8 7 3 6 1 5-6 5 0 5-12 4-4 5-5 5-8 5-2 5-4 5-4 5 7 4-9 5-4 5-4 5-3 5-3 5-3 5-10 3-7 4-6 3-1 4-8 3-1 4-4 3-4 3-1 2 5 2 8 3 3 2 10 2 7 3 0 2 7 2 2 3 9 2 4 2 6 2 7 2 3 3 10 2 5 2 8 2 2M1621 3963l7-1 7-4 7 0 7 4 7 5 6 1 7 3 6-4 6 4 7 0 6-1 6 3 7-3 6-6 6 5 7 1 6 1 6-9 7-2 6 5 7-9 6 8 6-9 7 4 6-2 6 4 7-2 6-2 6-2 7 1 6-3 6-3 6 1 6-5 6-1 6-8 6 0 6 4 6-6 6-1 5-3 6 0 6 1 6 1 6-1 6-5 6 8 6-10 6 2 7 2 6-5 6-3 6-10 6-3 7 12 7-10 7 9 6 2 7 2 7-2 6 1 6 1 7 5 6 1 6 2 6-1 7 6 6-4 6 0 6-3 6 3 7 1 6-5 6 1 7-3 6-2 6 9 7 1 6-7 6 2 7-5 6 6 6 3 7 5 6 0 5-6 5-12 5 1 4-6 5-3 5-5 5-6 5-5 5-2 5-5 4-5 5-4 5-3 5-3 5-2 5-3 5-8 3-6 4-4 3-6 4-6 3-15 4-3 3-5 3-1 2 4 2 7 3 6 2 6 2 7 3 14 2-1 2 6 3 7 2 3 2 11 2 4 2 9 3 8 2 2 2 7 2 7M1621 3952l7 3 7 0 7 4 7 0 7 4 6 0 7 7 6-3 6 5 7-3 6 6 6 1 7-7 6 0 6 6 7-1 6-4 6-5 7-2 6 0 7 1 6-7 6 5 7 0 6-7 6 1 7-8 6 1 6-1 7-3 6-2 6 5 6-2 6-6 6-4 6-5 6 0 6-7 6 2 6-5 5 5 6-3 6-9 6 4 6-5 6 2 6-3 6 0 6-1 7-5 6 2 6 1 6-2 6 3 7 11 7-3 7-3 6 0 7 6 7-3 6 7 6 1 7-2 6 1 6 2 6 6 7-8 6 7 6 2 6 1 6 0 7 0 6 6 6-1 7 2 6-5 6-2 7 5 6-5 6-1 7-4 6-2 6-1 7-1 6-4 5-2 5-5 5 3 4-6 5-4 5-5 5-4 5-4 5-2 5 1 4-5 5-8 5-3 5 0 5-3 5-8 5-1 3-7 4-9 3-5 4-11 3 3 4-17 3-4 3 2 2 15 2 5 3 6 2 4 2 12 3 3 2 2 2 9 3 6 2 9 2 11 2 4 2 3 3 10 2 4 2 10 2 6M1621 3965l7 1 7 5 7-3 7 4 7-5 6 0 7 1 6-3 6-2 7 3 6-1 6-2 7 5 6-5 6-4 7 5 6-7 6-1 7 7 6 9 7-6 6-3 6 4 7-5 6 5 6-8 7-3 6-6 6 3 7 2 6-5 6-8 6 7 6-5 6 3 6 0 6-7 6 0 6-4 6-3 5 4 6 1 6-3 6-5 6 3 6 2 6-6 6-2 6-4 7 8 6-6 6 1 6 2 6-6 7-1 7-5 7 8 6-2 7 10 7 3 6 6 6-1 7-1 6-1 6 2 6-1 7 6 6 0 6 0 6-2 6 1 7-4 6 2 6-7 7 9 6-3 6-8 7 8 6-10 6-8 7 7 6-4 6-3 7 4 6 7 5-4 5-2 5-1 4 0 5-8 5 1 5-3 5-4 5-6 5-3 4-1 5-1 5-12 5-4 5-2 5-4 5 0 3-7 4-12 3-3 4-5 3-9 4-2 3-9 3 5 2 8 2 11 3 9 2 1 2 0 3 11 2 2 2 13 3-2 2 12 2 6 2 2 2 9 3-3 2 11 2 1 2 1M1621 3971l7-1 7-10 7 8 7 1 7 3 6 0 7 0 6-7 6 1 7-1 6 1 6 2 7-6 6 2 6-3 7 7 6-2 6-1 7-2 6 4 7-5 6 7 6-9 7-4 6 0 6-3 7 5 6-6 6-3 7-4 6 4 6-4 6 0 6 9 6-5 6-2 6 4 6 7 6-12 6-2 5 3 6 0 6-8 6 5 6-3 6-4 6-7 6 4 6 1 7-3 6 0 6-1 6-4 6-1 7 0 7 4 7-6 6 1 7 1 7-1 6 7 6-6 7 7 6-2 6 4 6 3 7 6 6-1 6 5 6 1 6-6 7 0 6 2 6-1 7 2 6-3 6 2 7 9 6-4 6-7 7-3 6-6 6 2 7-2 6-4 5-1 5 2 5-8 4-1 5-1 5-7 5-2 5-3 5-7 5-3 4-8 5-5 5-9 5-4 5-4 5 5 5-4 3-5 4-8 3-2 4-2 3-14 4 2 3-4 3 6 2 5 2 6 3 3 2 8 2 8 3 5 2 0 2 8 3 14 2 0 2 2 2 11 2 1 3-1 2 8 2 10 2 11M1621 3975l7 4 7 1 7-5 7-4 7 4 6-4 7 3 6 0 6 2 7 2 6 0 6 2 7 5 6-3 6 4 7-13 6 5 6-7 7 7 6-3 7 0 6-7 6 1 7-2 6 0 6 2 7-1 6-4 6-1 7-1 6-2 6 1 6 0 6 0 6-4 6 2 6-3 6 6 6-5 6-1 5-5 6-2 6-3 6-2 6-3 6-9 6 6 6 3 6-10 7 6 6 0 6-9 6 0 6-9 7 2 7 2 7 1 6 9 7 0 7 5 6-5 6 5 7 5 6-7 6 7 6 3 7-4 6 6 6 4 6-8 6 4 7-2 6 0 6 5 7 0 6-5 6 3 7-1 6-8 6 6 7-3 6-5 6 10 7-6 6 4 5-5 5-6 5-3 4-4 5-1 5-5 5-6 5-3 5-8 5-7 4 5 5-8 5-7 5-4 5-6 5-5 5-3 3-3 4-6 3-6 4-11 3 0 4-17 3 2 3 7 2-4 2 6 3 11 2 1 2 6 3 7 2 8 2 2 3 6 2 8 2 1 2 10 2 10 3 5 2 8 2 7 2 9M1621 3976l7 9 7-6 7-5 7-2 7-2 6 7 7 1 6-1 6-2 7-4 6 5 6-9 7 4 6-4 6 5 7-1 6 3 6 4 7 1 6 0 7-5 6 4 6-6 7 3 6-7 6 2 7 5 6-6 6 3 7-5 6 7 6-6 6-1 6-1 6-3 6-1 6-2 6-4 6-6 6-2 5-7 6 2 6 3 6-6 6-4 6 1 6-1 6-3 6 1 7-10 6 2 6 3 6 6 6-9 7 2 7 3 7-1 6 5 7-6 7 7 6-4 6 6 7 6 6 2 6 4 6-2 7 9 6-4 6 7 6-7 6 7 7 0 6 7 6-1 7-5 6 1 6 1 7 4 6-2 6-6 7 2 6-7 6 8 7-10 6 2 5-9 5-12 5 4 4-10 5 1 5-7 5-8 5-2 5-5 5-7 4-4 5 5 5-3 5-4 5-8 5 0 5-3 3-2 4-13 3-11 4-3 3-12 4-3 3-4 3-2 2 15 2 3 3 6 2 7 2 5 3 1 2 12 2 11 3 6 2 1 2 11 2 0 2 9 3-5 2 8 2 9 2 6M1621 3962l7 0 7-2 7 0 7-5 7 10 6-2 7-1 6 10 6-4 7 5 6 0 6 2 7-1 6-2 6 5 7 3 6 1 6-3 7 0 6-2 7 3 6 0 6-5 7-1 6 1 6-1 7-6 6-3 6 7 7-5 6-2 6 0 6-6 6-5 6-2 6 3 6 2 6-6 6-2 6-7 5 6 6-7 6 0 6-1 6-4 6-6 6 1 6-7 6 5 7-12 6 1 6 0 6-2 6-6 7 1 7-1 7 5 6-7 7 10 7-3 6-4 6 3 7 4 6 7 6-2 6 7 7 0 6 0 6 3 6 8 6-1 7-5 6-4 6 11 7-4 6 5 6-6 7 6 6-5 6 1 7 4 6-6 6 13 7-12 6-3 5-2 5-3 5 1 4-7 5-5 5-1 5-5 5-2 5-7 5-11 4 1 5-7 5-5 5-1 5-12 5-3 5 0 3-10 4-5 3-8 4-10 3-8 4 0 3-6 3 6 2 9 2 2 3 10 2 0 2 10 3 0 2 9 2 6 3 10 2 12 2 8 2-3 2 9 3 5 2 0 2 5 2 11M1621 3964l7 3 7-5 7-6 7 12 7-9 6 5 7-4 6-7 6 1 7-3 6 8 6 2 7-8 6 6 6 1 7-4 6 1 6 0 7 1 6-6 7 4 6 1 6 4 7-4 6-1 6-7 7 1 6-2 6 3 7-1 6 1 6 2 6-7 6 2 6-2 6-2 6 2 6 5 6-11 6-3 5-8 6 7 6-1 6-5 6-1 6-3 6 1 6-1 6-8 7 5 6-5 6-4 6-6 6 6 7-2 7 3 7-4 6 9 7 0 7 1 6 1 6 2 7 9 6-7 6 3 6 5 7-1 6 3 6 7 6 0 6-4 7 9 6 5 6-3 7-3 6-2 6-5 7-4 6 2 6-5 7-1 6-2 6 2 7-3 6-4 5-8 5-3 5-5 4-1 5-7 5-9 5-8 5 2 5-5 5-3 4-3 5-2 5-2 5-5 5 1 5-10 5-4 3-7 4-7 3-1 4-3 3-10 4-2 3 2 3 5 2 7 2 7 3 3 2 4 2 8 3 11 2-3 2 12 3 1 2 12 2 12 2 1 2 6 3 2 2 10 2 1 2 6M1621 3974l7 0 7 5 7-2 7-7 7 4 6 3 7 0 6-6 6 7 7-2 6 1 6-3 7 6 6-1 6 1 7-5 6 5 6-2 7 3 6-1 7-10 6 6 6-6 7 0 6 1 6 2 7-3 6-4 6 4 7 2 6-7 6 2 6 1 6-2 6-4 6-2 6 1 6-5 6-4 6 2 5 5 6-4 6 1 6-9 6-1 6-3 6 3 6-1 6-7 7-7 6 0 6 1 6 0 6 0 7 1 7-2 7 4 6-2 7 5 7 2 6 2 6-3 7 5 6-4 6 4 6 3 7-1 6 3 6-3 6 4 6 4 7 3 6-4 6 6 7 4 6-7 6 4 7 0 6 0 6-5 7-4 6 7 6-14 7 3 6 1 5-11 5 2 5-2 4-4 5-4 5-8 5-2 5-5 5-1 5-8 4 1 5 1 5-10 5 0 5-8 5-8 5 3 3-14 4-10 3 1 4-7 3-10 4-6 3-1 3 3 2 6 2-2 3 9 2 6 2 3 3 8 2 2 2 8 3 3 2 9 2 4 2 7 2 7 3 11 2 9 2 7 2-6M1621 3963l7 2 7 1 7-1 7-2 7 0 6 5 7-2 6 4 6-9 7-5 6 10 6 0 7-3 6 0 6 0 7 0 6 1 6-2 7 6 6-8 7-1 6 0 6-2 7 9 6-1 6 1 7-6 6 0 6-1 7 3 6-2 6-6 6-4 6 2 6 1 6 0 6-1 6-10 6 6 6-2 5 0 6-6 6-2 6-5 6-1 6 1 6-7 6-3 6-1 7-2 6-3 6-5 6 1 6-13 7 2 7 3 7 6 6 4 7 1 7 0 6-1 6 7 7 4 6 0 6 10 6 3 7 5 6-3 6-3 6 9 6 3 7-8 6-1 6 6 7-6 6-2 6 1 7-2 6 2 6-3 7-4 6 5 6-7 7 1 6 1 5-8 5-6 5 2 4-4 5 0 5-5 5 2 5-10 5-5 5-2 4-7 5-8 5 3 5-7 5-1 5-8 5-6 3-11 4 0 3-13 4-1 3-4 4-7 3-6 3 6 2 7 2 9 3 10 2-4 2 8 3 10 2-1 2 7 3 16 2 0 2 9 2-3 2 9 3 2 2 8 2 3 2 6M1621 3961l7 7 7-4 7 0 7-6 7 3 6 4 7 0 6-3 6-3 7 0 6 4 6 1 7 0 6-4 6 7 7-4 6-4 6 3 7 2 6 3 7-2 6-1 6-5 7 2 6-1 6-11 7 12 6-12 6 0 7-2 6-2 6 4 6-4 6-2 6 0 6 1 6-2 6-1 6-6 6 3 5 1 6-3 6-6 6 3 6 0 6-6 6 0 6-5 6-4 7 3 6-9 6 3 6-3 6-4 7 1 7 5 7-3 6 11 7 0 7-3 6 5 6 4 7 4 6 0 6-1 6-1 7-2 6-4 6 7 6-6 6 10 7-2 6 4 6 2 7-5 6 2 6-2 7 0 6 0 6 1 7 2 6 0 6-2 7-6 6 4 5-3 5 0 5-10 4 0 5-1 5-11 5-1 5-1 5-6 5 0 4-3 5-11 5-2 5 4 5-9 5-5 5-1 3 2 4-13 3-2 4-5 3-18 4-11 3 2 3-1 2 6 2 4 3 4 2 6 2 6 3 4 2 7 2 6 3 16 2 9 2 10 2-1 2 4 3 13 2 10 2 10 2 0" stroke="#f2a2af" stroke-width="2.2" fill="none" transform="scale(.5)"/><path d="M1660 3938l5-14 5-7 6 4 5-18 5 6 5-8 5 0 5-3 5-6 6 5 5-11 5-4 6 2 7 8 6-2 7 5 6 5 7 1 6 0 7 18 6-3 6-5 6-9 6-1 6 4 6-6 6-7 6 2 6-9 6 5 6-5 5 2 4-7 5-2 4-7 5-5 4-16 5 1 4-8 5-1 4-4 5-10 5-2 5 4 5-20 5 0 5-1 5-3 5 1 5 6 5-1 5 2 5 8 5-3 3 1 2 15 3 4 3 8 3 5 2 10 3 2 3 8 3 7 2 0 3 5 6 2 5 9 6 3 6 3 6-1 5-8 6 5 6 7 6-3 6 5 6 1 6 2 6-8 6 3 6-3 6-1 6 0 6-4 7 4 6-3 6-5 7 1 6-4 7-4 6 6 6-4 7-4 6 7 3-6 2-4 3-6 3-12 3-4 2-2 3-10 3-3 3-9 2 1 3-8 4-7 5-6 4-8 5-4 4-7 5 1 4-12 5-5 4 1 6-11 5 3 6 0 6-11 6 8 5-17 6 3 7-7 6 0 7 5 7-5 6 9 7-10 5 13 5 0 4 4 5 12 5 1M1660 3942l5 0 5-11 6 3 5-7 5 0 5-12 5 2 5-5 5-8 6-4 5-11 5-4 6-3 7 4 6 9 7 3 6-2 7-1 6-1 7 6 6 4 6 0 6-6 6 4 6-3 6 0 6 0 6-2 6 2 6-9 6-4 5 0 4-4 5-2 4-12 5 5 4-9 5-10 4 2 5-7 4-2 5-5 5 2 5-6 5-7 5-2 5-2 5-2 5 4 5 5 5 2 5 4 5 6 5 1 3 7 2 0 3-2 3 14 3 10 2 5 3 2 3-1 3 9 2 9 3 6 6 5 5 6 6 3 6-3 6 11 5-7 6 0 6 10 6-1 6-5 6-6 6-4 6 7 6-6 6-1 6 2 6-9 6 6 7-1 6 0 6-5 7 5 6-11 7 6 6-13 6-4 7-5 6 2 3-13 2-1 3-9 3-13 3 10 2-9 3-6 3-4 3-12 2 2 3-16 4-6 5-5 4 0 5-5 4 1 5-9 4-4 5 1 4-14 6-7 5 3 6-12 6 0 6 0 5 1 6-9 7-3 6 0 7 0 7 7 6 6 7 2 5 6 5 6 4 9 5 4 5 11M1660 3962l5-12 5-1 6-11 5-5 5 3 5-6 5-1 5 0 5-11 6 1 5-8 5-7 6 16 7 8 6-3 7-1 6 7 7-3 6 2 7 2 6 9 6-1 6-12 6 2 6-4 6-3 6-1 6-1 6-2 6-2 6 1 5-13 4-3 5-2 4-5 5-2 4-2 5-7 4-5 5-12 4 3 5-9 5-7 5-5 5-1 5-6 5-6 5-7 5-3 5 6 5 0 5 6 5 1 5 3 3 3 2 5 3 4 3 5 3 9 2 6 3 4 3 3 3 15 2 1 3 15 6-5 5 9 6 3 6-3 6 1 5 10 6-9 6 8 6 2 6-11 6 5 6 2 6 1 6 4 6-5 6-2 6 2 6 0 7-2 6 0 6 2 7-2 6 5 7-7 6-3 6-2 7 0 6-8 3 4 2-13 3-8 3-3 3-4 2-11 3-8 3-4 3-4 2-11 3-14 4 2 5 1 4-16 5 1 4-6 5-1 4-9 5-5 4-7 6-3 5-4 6-3 6 0 6-4 5-6 6-2 7 0 6-4 7 4 7 6 6-2 7 4 5 9 5 8 4 4 5 7 5-2M1660 3950l5 1 5-7 6-2 5-7 5-9 5-3 5 2 5-3 5-5 6 3 5-6 5-2 6-4 7 9 6 2 7-6 6 1 7 4 6-4 7 7 6 4 6 1 6-9 6-6 6-1 6-1 6-7 6-2 6-6 6 0 6-3 5-6 4-2 5 0 4-2 5-11 4 4 5 0 4-10 5-5 4 0 5-10 5-11 5-2 5-4 5-3 5-10 5-3 5 0 5 4 5 5 5 0 5 1 5 7 3 12 2 10 3 8 3-4 3 4 2 15 3 3 3 8 3 9 2 5 3 7 6 6 5-5 6 11 6 5 6-7 5 6 6 3 6-7 6 0 6 1 6 6 6-5 6 7 6-9 6 5 6-8 6 6 6-2 7 0 6-4 6-1 7 2 6-13 7 0 6 6 6-4 7 0 6-4 3-9 2-7 3-11 3 2 3-8 2-6 3-17 3 1 3-15 2-5 3-9 4-4 5-7 4-8 5-7 4 0 5 1 4-9 5-7 4-6 6 0 5 1 6 3 6-4 6-2 5-5 6-1 7-2 6 9 7 2 7-1 6 4 7-8 5 10 5 5 4 6 5 0 5 5M1660 3947l5-13 5 3 6-5 5-9 5-3 5 2 5 1 5-7 5 1 6 0 5-2 5-9 6 10 7-7 6 9 7-8 6 0 7 1 6 0 7-4 6 11 6-5 6 1 6-14 6 2 6-6 6 8 6 6 6-5 6-6 6-2 5 0 4-11 5 1 4-3 5-14 4-3 5-2 4-2 5-6 4-6 5-3 5-11 5 1 5-4 5-5 5-4 5-6 5 0 5 3 5 6 5-7 5 10 5-1 3 8 2 8 3 12 3-6 3 18 2 6 3 4 3 1 3-1 2 0 3 9 6 8 5 8 6-5 6 6 6-6 5 6 6 3 6-3 6-5 6 3 6-1 6-6 6 6 6-4 6-5 6 3 6-8 6 8 7 0 6 9 6-6 7-6 6 3 7-1 6 8 6-3 7-5 6 7 3-7 2-7 3-2 3-6 3-10 2-5 3-6 3-7 3-2 2-5 3-2 4-11 5-2 4-10 5-3 4-3 5-10 4 1 5-8 4-2 6-5 5 4 6 0 6-6 6-12 5-3 6-4 7-3 6-3 7 6 7 3 6-6 7 5 5 2 5-1 4 10 5-2 5 9M1660 3958l5-7 5-5 6-6 5 1 5-2 5-8 5-7 5 1 5-6 6-4 5-6 5-6 6-4 7 13 6-4 7 1 6 6 7-4 6-4 7 0 6 10 6-5 6-3 6-4 6-1 6-5 6-3 6 3 6 0 6-1 6-10 5-6 4-6 5-8 4-9 5 6 4-5 5-8 4-6 5-9 4 4 5 5 5-11 5-1 5-1 5-3 5-1 5-6 5 2 5 3 5 11 5 6 5 6 5-7 3 9 2 5 3 2 3 7 3 5 2 6 3 0 3 4 3 12 2 3 3 10 6 2 5 3 6 4 6 2 6 0 5 8 6 6 6-9 6 0 6-1 6-2 6 2 6-3 6 1 6-1 6-5 6-9 6 0 7 1 6-6 6 2 7-8 6-2 7 6 6-12 6-4 7-7 6-2 3-2 2-2 3-6 3-6 3 2 2-9 3 1 3-7 3-6 2-6 3-6 4-7 5-6 4-6 5 2 4-10 5-7 4 1 5-8 4-9 6 0 5-10 6-2 6 5 6-9 5 7 6-8 7-1 6 3 7 3 7 1 6 9 7-3 5 10 5-1 4 10 5 11 5 2M1660 3936l5-5 5-1 6 1 5-10 5 1 5-7 5-3 5-2 5-6 6-1 5 2 5-11 6 0 7-7 6 2 7 5 6 11 7-5 6 6 7-1 6 4 6-10 6 10 6-13 6 1 6 0 6-1 6-5 6-11 6 1 6-9 5-6 4 4 5-12 4 4 5 9 4-11 5-6 4-4 5 3 4-10 5-3 5-5 5-1 5-6 5-8 5-11 5-8 5 3 5 8 5 2 5 11 5 3 5 0 3 6 2 1 3 12 3 6 3 3 2 8 3 2 3 8 3 5 2 10 3 8 6-1 5-8 6 13 6 0 6 4 5 5 6 1 6-4 6-5 6 4 6 0 6-6 6-6 6 7 6-10 6 2 6 0 6 0 7-4 6-2 6-4 7-1 6 3 7-9 6 3 6 4 7-6 6-1 3 0 2-5 3-5 3-4 3-2 2-12 3-3 3-9 3-9 2-7 3 2 4-8 5-4 4-6 5-3 4 1 5-8 4 2 5-11 4-4 6-2 5-2 6-4 6-9 6-2 5 2 6-10 7-1 6 2 7-5 7 6 6 2 7-3 5 5 5 2 4 8 5 3 5 2M1660 3987l5 1 5-6 6-7 5-4 5-4 5 1 5-8 5-3 5-11 6-2 5-1 5-7 6 3 7 6 6-5 7-1 6 1 7 2 6 7 7-5 6 5 6-5 6-2 6-4 6-1 6 2 6-11 6-1 6-5 6-1 6 1 5-4 4 0 5-4 4-4 5 3 4-14 5-3 4-9 5-4 4 1 5-5 5-1 5-3 5-8 5-6 5-6 5-2 5 7 5 2 5 4 5 14 5-5 5 9 3 1 2 7 3 7 3 9 3 4 2 5 3 3 3 15 3-5 2 18 3-2 6 4 5 13 6-6 6 7 6 0 5-1 6 3 6-8 6-2 6 0 6-10 6 12 6-2 6-12 6 5 6-7 6 0 6-5 7-3 6 0 6-13 7 12 6-11 7 6 6 1 6-9 7-1 6 2 3-9 2-1 3-21 3 3 3-6 2-6 3-2 3-7 3-2 2-8 3-4 4-5 5-12 4-1 5-8 4-6 5 0 4-9 5 5 4-3 6 3 5-17 6 4 6-2 6-1 5-7 6-2 7-8 6 8 7 5 7 3 6 5 7 0 5 5 5 6 4-1 5 6 5 7M1660 3948l5-3 5-10 6-6 5-9 5-1 5-1 5 5 5-11 5-5 6-2 5 0 5-14 6 11 7-2 6-5 7 9 6 3 7 5 6 2 7-1 6 3 6-12 6-3 6-1 6-6 6 3 6-2 6 1 6-5 6 4 6-9 5-14 4 2 5 5 4-9 5-4 4-3 5-8 4 6 5 1 4-6 5 5 5-10 5-1 5-11 5-3 5-2 5 0 5-2 5 1 5 1 5 1 5 8 5 9 3 3 2 2 3 5 3-1 3 5 2 9 3 4 3 7 3 4 2 10 3-5 6 14 5 1 6 5 6-2 6 4 5 7 6-2 6-2 6-12 6 6 6-4 6-4 6 2 6-2 6 5 6-1 6-2 6 3 7-8 6 7 6-3 7-5 6-3 7-6 6-2 6-4 7-5 6-15 3 4 2-7 3-4 3-2 3-7 2 2 3-5 3-12 3-7 2-1 3-1 4-4 5-6 4-3 5-2 4-9 5-6 4-7 5-1 4-2 6 1 5-12 6-10 6 9 6-7 5-8 6 3 7-4 6 9 7-8 7 12 6-2 7-5 5 6 5 1 4 3 5 13 5 5M1660 3939l5-6 5-4 6-5 5-6 5-6 5 0 5-10 5-4 5-7 6-3 5 2 5-6 6-2 7 4 6-1 7 7 6 3 7-1 6-4 7 0 6 5 6-9 6 1 6-3 6-5 6-12 6 6 6-1 6-2 6 1 6-5 5-5 4-13 5-2 4-1 5-1 4-1 5-11 4-3 5 1 4-3 5-5 5 2 5 0 5-10 5 1 5-1 5-5 5-1 5 7 5 5 5 1 5-2 5 6 3 8 2 5 3-1 3 8 3 3 2 8 3 9 3 14 3 3 2 4 3 1 6 1 5 13 6 5 6-5 6 4 5-1 6 6 6-14 6 11 6-4 6 1 6 2 6-8 6-3 6-2 6-5 6-2 6-2 7 6 6-4 6-4 7 1 6 0 7-4 6-8 6 4 7 3 6 0 3-5 2-17 3-1 3-3 3-8 2 6 3-15 3-2 3-8 2-8 3-16 4 2 5-11 4 0 5-10 4-7 5-7 4-5 5 2 4-6 6-8 5 9 6-12 6-4 6-4 5-5 6 5 7-1 6 4 7 3 7-2 6-4 7 3 5 4 5 15 4 1 5 6 5 8M1660 3939l5-3 5-4 6-11 5 1 5-11 5 3 5-6 5-12 5-3 6-1 5-1 5-11 6-1 7 7 6-11 7 7 6 5 7-3 6 3 7 0 6 2 6 2 6-7 6-2 6 3 6 1 6-4 6 3 6-5 6-8 6 1 5-9 4 6 5-4 4-9 5-4 4-1 5-4 4-7 5-6 4-2 5-5 5-5 5-2 5-6 5-3 5 3 5-12 5 7 5 4 5 2 5 4 5 5 5 5 3 2 2 10 3-1 3 12 3 7 2-6 3 16 3 2 3 2 2 1 3 11 6 3 5-2 6 8 6 4 6 7 5 5 6 0 6 2 6-5 6 3 6-5 6-2 6-5 6 2 6-6 6-5 6 0 6-5 7-2 6 0 6 5 7 0 6 5 7-17 6 0 6 6 7-1 6-5 3-7 2-4 3-8 3-3 3-11 2 0 3-6 3-8 3-7 2-4 3-4 4-8 5-5 4-15 5-1 4-9 5-1 4-7 5 0 4-2 6-6 5-4 6-2 6-8 6-4 5 4 6-14 7 3 6-1 7 2 7-4 6 5 7 1 5-3 5 11 4 3 5 8 5 6M1660 3942l5-15 5 5 6-5 5-5 5-2 5-6 5-3 5 0 5-14 6 3 5-8 5 4 6 0 7 2 6 5 7 0 6-1 7 2 6 1 7 0 6 7 6-11 6 7 6-1 6 1 6-1 6-6 6 1 6-2 6-3 6 1 5-11 4 3 5-5 4-10 5-5 4 0 5-9 4-5 5-4 4-3 5-4 5-6 5-1 5-8 5-2 5-9 5-10 5 20 5-7 5 4 5 7 5 0 5 1 3 12 2 5 3 9 3 2 3 10 2-1 3 12 3 1 3 10 2-4 3 1 6-4 5 7 6 0 6-7 6 0 5 6 6 5 6 1 6-6 6 5 6 1 6 2 6 6 6 7 6-9 6-1 6 0 6-2 7-10 6-6 6 2 7 1 6-2 7 1 6-11 6-1 7 4 6-1 3-11 2-3 3-7 3-4 3 1 2-11 3-3 3-3 3-4 2-8 3-9 4-3 5-3 4-3 5-7 4-4 5 0 4-5 5-8 4-5 6-3 5-7 6 3 6 0 6-8 5-1 6 1 7-6 6-4 7 10 7 3 6 0 7 4 5 0 5 11 4 4 5 8 5 0M1660 4010l5-10 5-10 6 4 5-3 5-9 5-4 5 6 5-7 5 1 6-5 5 3 5-9 6 2 7 5 6-5 7-3 6 5 7-4 6-3 7 6 6 1 6-3 6-9 6-12 6-7 6 4 6-3 6-8 6-2 6 0 6 3 5-6 4 3 5-12 4-8 5-2 4-2 5-7 4-2 5-3 4-7 5 1 5-6 5-4 5-1 5-14 5 6 5-8 5 10 5 5 5 3 5 1 5 8 5-2 3 8 2 9 3-1 3 7 3 8 2-1 3 10 3 1 3 8 2 10 3 1 6 12 5 3 6-5 6 5 6 3 5 5 6-2 6 6 6-2 6 5 6-8 6 0 6 7 6-9 6 0 6 0 6 1 6-6 7 4 6-2 6 4 7-9 6 5 7-7 6 1 6-4 7-3 6-5 3 3 2-16 3-8 3-5 3-5 2-4 3-4 3-9 3-14 2-4 3-7 4-7 5-3 4-10 5 4 4-6 5 0 4-12 5-1 4-6 6-3 5-3 6-10 6-4 6 4 5-13 6 6 7 0 6 0 7 3 7 2 6 4 7 8 5 2 5 4 4 4 5 3 5 8M1660 3987l5-11 5-8 6 0 5-13 5 1 5 0 5-6 5-5 5-3 6 3 5 1 5-8 6 0 7 5 6-3 7 5 6 3 7-3 6 7 7 6 6 0 6 10 6-3 6-5 6-3 6 2 6-1 6-3 6-8 6-4 6-4 5-6 4-5 5 1 4-13 5 0 4-7 5-6 4 3 5-3 4 1 5-8 5-9 5 1 5 5 5-12 5-2 5-15 5 9 5-2 5-1 5 10 5 3 5-2 3 8 2 8 3-1 3 8 3-1 2 14 3 4 3 2 3 12 2 5 3 1 6 1 5 7 6-5 6 8 6-3 5 1 6 5 6-1 6-4 6 0 6 1 6-14 6 4 6 6 6-2 6-6 6 1 6-5 7-3 6 0 6-10 7 7 6-1 7 1 6 6 6-5 7 3 6-7 3-2 2-17 3-2 3-1 3-5 2-9 3-4 3 0 3-11 2-4 3-2 4-9 5-1 4-4 5-5 4 1 5-17 4 5 5-8 4-7 6-4 5-2 6-2 6-4 6-4 5-2 6-7 7 4 6-3 7 3 7 1 6-8 7 9 5 5 5 4 4 3 5 9 5 4M1660 3938l5-12 5-2 6-6 5 0 5-4 5 0 5-1 5-2 5-9 6 3 5-5 5 2 6 4 7-1 6-9 7 4 6-2 7 6 6 1 7 7 6-3 6 4 6 6 6-10 6 2 6-8 6-4 6-9 6 4 6-1 6-3 5-3 4-2 5 0 4-3 5 1 4-6 5 2 4-5 5-2 4-10 5-1 5-5 5-8 5 3 5-9 5-6 5-8 5 10 5 3 5-7 5 12 5-1 5 3 3 8 2 1 3 4 3 8 3 1 2 13 3 2 3 5 3 6 2 7 3 1 6 3 5-1 6 0 6 3 6-2 5 4 6 2 6 2 6-11 6 3 6 3 6 0 6-4 6 1 6 0 6-1 6-4 6 8 7-8 6 6 6 5 7-5 6-10 7-4 6-1 6 1 7 4 6-12 3 6 2-8 3-16 3 0 3-12 2-4 3-2 3-3 3-11 2-9 3-9 4-3 5-6 4-2 5-5 4-2 5-8 4-1 5-7 4-4 6 0 5-5 6-4 6-4 6-9 5-3 6 8 7 0 6 1 7-2 7 7 6-9 7 4 5-2 5 12 4 2 5 5 5 1M1660 3958l5 0 5-5 6-8 5-2 5-3 5-8 5-6 5-10 5-8 6-1 5 3 5-1 6 0 7-1 6 3 7 0 6 2 7-6 6 1 7 2 6 8 6-1 6-1 6-4 6-3 6-8 6-1 6-3 6-8 6 4 6-2 5-5 4-4 5-4 4-8 5-8 4 1 5-8 4-3 5-3 4-1 5-3 5-6 5-5 5-9 5 11 5-9 5 1 5 6 5 8 5 2 5 5 5 0 5 0 3 9 2 6 3 4 3 16 3-3 2 12 3-6 3 9 3-1 2 6 3 3 6 5 5 6 6 1 6-2 6 1 5 13 6-1 6 7 6-8 6 3 6-3 6 1 6 3 6 0 6-5 6-1 6 2 6-2 7 0 6-1 6-15 7 0 6-5 7-9 6 7 6-5 7-2 6-9 3-1 2-4 3-11 3-2 3-5 2-10 3-4 3-11 3-3 2-8 3-3 4-5 5 1 4-8 5-7 4 0 5-1 4-10 5-7 4-2 6 2 5-5 6 2 6-1 6-5 5-4 6-3 7 4 6-7 7-5 7 12 6-7 7 5 5-6 5 6 4 4 5 5 5 10M1660 3956l5-9 5-4 6 0 5-5 5-3 5-1 5-13 5-9 5-3 6 2 5-5 5-11 6 5 7 5 6 4 7 2 6-4 7 3 6 1 7-1 6-1 6-3 6-8 6 5 6 3 6-10 6 2 6 0 6 2 6-4 6-3 5-6 4 5 5-2 4-1 5-7 4-5 5-7 4-8 5 2 4-5 5-4 5-9 5-3 5-2 5-8 5 5 5-1 5 5 5 9 5 2 5-3 5 6 5-4 3 11 2 6 3 5 3 8 3 11 2 1 3 5 3 14 3 2 2 3 3-1 6 3 5-2 6 0 6 6 6-3 5 5 6 5 6-3 6-2 6 9 6-11 6 1 6 0 6 6 6-3 6-1 6-8 6 2 7-5 6-4 6 0 7-9 6 2 7-8 6-3 6 7 7-5 6-6 3-3 2-4 3-16 3-5 3-9 2 1 3-10 3 0 3-13 2-2 3-11 4 1 5-4 4-11 5 2 4-12 5-4 4-2 5-2 4-4 6-5 5 2 6-11 6 7 6-4 5-11 6 0 7 6 6 2 7 10 7-4 6-2 7 11 5 0 5 2 4 11 5 0 5 7M1660 3959l5-15 5-1 6-8 5-16 5 4 5 4 5-10 5 3 5-12 6-3 5-6 5 1 6 2 7-1 6 3 7-1 6 0 7 11 6 9 7-8 6 10 6-6 6-1 6-4 6 5 6 3 6-10 6-3 6 2 6-2 6-7 5 3 4-7 5-8 4 3 5-2 4-8 5-4 4-14 5 2 4 5 5-7 5-9 5 1 5-3 5-11 5 8 5-17 5 1 5 6 5 2 5 15 5 2 5 3 3 4 2-1 3 13 3 9 3-2 2 4 3 6 3-5 3 12 2 0 3 13 6 8 5 6 6-5 6 10 6-12 5 10 6-4 6-4 6 6 6-7 6 2 6 1 6-8 6-2 6-6 6 10 6-16 6-1 7 1 6-9 6 0 7 1 6 5 7-10 6-8 6 8 7-6 6 4 3-1 2-14 3-8 3 1 3-9 2-6 3-1 3-16 3-10 2-1 3 0 4-7 5 0 4-3 5-6 4 0 5-16 4 3 5-1 4 2 6-11 5-6 6 0 6-5 6-1 5-6 6-2 7-2 6 3 7-1 7 6 6 1 7-4 5 10 5 3 4 8 5 9 5 7M1660 3966l5-6 5-2 6-9 5 1 5 1 5-9 5 1 5-4 5-7 6-6 5 1 5-12 6 2 7-3 6 2 7 3 6 2 7 0 6 2 7 0 6 5 6-4 6-1 6 1 6-4 6 4 6-3 6 0 6 0 6-10 6 11 5-11 4-7 5-4 4-4 5 2 4-7 5-4 4-2 5-8 4 0 5-7 5 0 5-3 5-5 5-5 5 0 5-7 5 4 5 2 5 4 5 4 5 1 5 4 3 7 2 1 3 8 3-1 3 2 2 9 3 8 3 1 3 14 2 3 3 7 6-4 5 2 6 4 6 2 6 3 5-3 6 8 6 3 6-16 6 6 6 1 6-5 6-6 6 0 6-6 6-5 6 7 6-6 7 7 6 2 6-6 7 4 6 2 7-6 6 1 6 0 7-7 6 0 3-2 2-14 3-7 3-4 3 2 2-20 3-2 3-9 3-5 2-3 3 0 4-6 5-1 4-5 5-8 4-11 5 1 4-6 5-5 4 1 6-9 5 1 6-3 6-8 6-6 5 1 6-9 7 0 6 7 7 1 7-3 6 5 7 2 5 1 5 0 4 8 5 4 5 8M1660 3955l5-5 5-5 6-11 5 8 5-3 5-12 5 1 5-6 5-4 6 0 5 0 5-5 6 2 7-8 6 8 7-8 6 7 7 3 6 0 7 0 6-1 6 2 6 0 6-8 6 1 6-12 6 1 6-2 6 2 6-12 6-2 5-5 4-4 5 2 4-17 5-2 4-3 5-3 4 0 5-3 4-5 5-4 5 2 5-9 5-12 5 6 5 6 5-12 5 1 5 2 5 1 5 2 5 7 5 1 3 8 2 4 3 9 3 2 3 9 2 2 3 8 3 5 3 6 2 9 3 8 6 1 5 3 6 3 6 2 6-1 5 3 6 6 6 0 6 0 6-7 6-2 6-1 6 0 6 1 6 4 6-3 6-1 6-3 7 0 6-3 6 0 7 3 6-3 7 5 6-2 6-11 7 3 6-4 3-2 2-7 3-8 3-7 3-3 2-4 3-7 3-16 3 1 2-6 3-5 4-1 5-6 4 2 5-7 4-11 5-13 4 2 5-3 4-6 6 1 5-2 6-6 6-4 6 3 5-8 6 2 7 1 6-3 7-2 7 3 6-2 7-3 5 1 5 9 4 3 5-1 5 10" stroke="#d35a62" stroke-width="2.2" fill="none" transform="scale(.5)"/><path d="M1629 4000l5-4 5-4 5-6 4-5 5-1 5-8 4-8 6-6 5-4 5 0 5 1 6-1 5-1 5-3 5-2 6-6 5-5 5 8 6-11 6 6 6-1 6 4 6 4 5-6 6 1 6 4 6 3 5-7 6-7 6 7 5-7 6 5 6-3 5-2 6-4 5-4 5-5 6-7 5-1 5-5 5-3 5-7 6 2 5-15 5-6 6 4 5-2 6-6 6-6 6-5 5-6 6-1 4 6 5 6 4-1 5 9 4 0 5 6 4 5 5 0 4 7 5 4 5 8 5 2 5 10 5-2 5 4 5 3 5 3 5 6 5 2 6 2 6 2 6-3 7 3 6-3 6 0 6 3 6 3 6 2 6-8 7 3 6-3 6 0 6 7 6 2 6 4 6-3 6-6 6 1 6-10 6-6 6 2 6-12 5-1 6-5 5-2 4-3 4-1 4-4 4-8 4-6 4-8 4 0 5-7 4-2 4-5 4-8 4-1 4-10 5-7 4 1 4-9 4 3 4-10 5-7 4-7 4-4 5-5 4 1 4-10 6 7 6 1 7-2 6 7 3-5 3 13 3 12 3 9 3-2 2 2 3 6 3 11 3 1 3 0 3 11 3 5 3 6 3 6M1629 3993l5-3 5-6 5-10 4 1 5-15 5 2 4-7 6-6 5-1 5 1 5-14 6-4 5 3 5-11 5-4 6-8 5 1 5-6 6 2 6 3 6 3 6 7 6 8 5 2 6 5 6-8 6-2 5-5 6 2 6-7 5 7 6-5 6-6 5 4 6-5 5-2 5 1 6-13 5 1 5 0 5-6 5-14 6-2 5-8 5-9 6 3 5-5 6 5 6-9 6-13 5 1 6-11 4 8 5 9 4 0 5 8 4 2 5 1 4 10 5 1 4 8 5-4 5 6 5 8 5 9 5 4 5 7 5 3 5 11 5-4 5-2 6 1 6 2 6 2 7-7 6 2 6-1 6 0 6 7 6 1 6-2 7-2 6 2 6 2 6-5 6 0 6-1 6 0 6-3 6 1 6-3 6-5 6-6 6 3 5-5 6-7 5-5 4-5 4-8 4-2 4-7 4-5 4-12 4 2 5 1 4 1 4-2 4-11 4-3 4-11 5-8 4 3 4 1 4-9 4-8 5-4 4 0 4-8 5-1 4 2 4-6 6-5 6 6 7 5 6 5 3 7 3 8 3 4 3 8 3 5 2 2 3 9 3 8 3-4 3 13 3-1 3 8 3 7 3 2M1629 3980l5-4 5-10 5-1 4-3 5-3 5-4 4-6 6-10 5-2 5-3 5-3 6 3 5-5 5 1 5-8 6-4 5 4 5-11 6-4 6 9 6-10 6 6 6-8 5 12 6-6 6-7 6 7 5-7 6-4 6 0 5 1 6-4 6-4 5 1 6-3 5-5 5-4 6-6 5-8 5-1 5-4 5-6 6-9 5 0 5-2 6-3 5-1 6-1 6-5 6-7 5-2 6-1 4-1 5 17 4 0 5 7 4-1 5 10 4 2 5 6 4 9 5 0 5 3 5 3 5 11 5 1 5 4 5 2 5 3 5-1 5 3 6 3 6-1 6 5 7-6 6 8 6 0 6-1 6 4 6-5 6 1 7-1 6-2 6 0 6 1 6 2 6-5 6 4 6-9 6-3 6 6 6-6 6-9 6-3 5-2 6 4 5-5 4-3 4-1 4-8 4-6 4-9 4-4 4-10 5-1 4-6 4-4 4-6 4-9 4-1 5-6 4-5 4-1 4-7 4-5 5-1 4-6 4 3 5-10 4-1 4-7 6 3 6-3 7 11 6 2 3 0 3 12 3-1 3 1 3 8 2 8 3 9 3 6 3 3 3 2 3 7 3 4 3 8 3-4M1629 4004l5-5 5-3 5-1 4-15 5-2 5-7 4-2 6-1 5-1 5-11 5-4 6-3 5-5 5-5 5-7 6-2 5-10 5 0 6-1 6 5 6 5 6-2 6 2 5 5 6 1 6 0 6-3 5-1 6 1 6-4 5 2 6-10 6 4 5-1 6 0 5-7 5 5 6-7 5-1 5-8 5-6 5-3 6 2 5-6 5-9 6-5 5-4 6-2 6-5 6-4 5-5 6-1 4 7 5 4 4 3 5 0 4 7 5-1 4 10 5 4 4 7 5 3 5 8 5 0 5 8 5-4 5 5 5-1 5 8 5-11 5 5 6 10 6-5 6-2 7 0 6-8 6 4 6 3 6-6 6 4 6 7 7 0 6 3 6 6 6-6 6 6 6-4 6-6 6-2 6-1 6 1 6-3 6 1 6-4 5-2 6-3 5-6 4 3 4-8 4-7 4-3 4-11 4-12 4 0 5-1 4-10 4-6 4-4 4-3 4-2 5-9 4-6 4 1 4-9 4-6 5-5 4-2 4-9 5-1 4-9 4-4 6 2 6 4 7 5 6-3 3 11 3 5 3 4 3 9 3 4 2 3 3 10 3 3 3 8 3 1 3 3 3 5 3 8 3 9M1629 3967l5-3 5-6 5-9 4-13 5 6 5-15 4-6 6-3 5-5 5 0 5-5 6 1 5-10 5-7 5-1 6-2 5-3 5 2 6 1 6-4 6 5 6 0 6 6 5 4 6 1 6-3 6-2 5-6 6 5 6-9 5-4 6 1 6-7 5 4 6-9 5 1 5-1 6-4 5-8 5-12 5 2 5-4 6 5 5-9 5-2 6-7 5 2 6 0 6-5 6 1 5-12 6-1 4 9 5 3 4 5 5 9 4 0 5 1 4 2 5 5 4 8 5 5 5 3 5 7 5-1 5 3 5 2 5 10 5-7 5 6 5 9 6-5 6 2 6 2 7 0 6 1 6 0 6 7 6-8 6 10 6-3 7-5 6 8 6-4 6-1 6-4 6-4 6-3 6 3 6-3 6-8 6-4 6-1 6-3 5 3 6 4 5-10 4-6 4 2 4-13 4-3 4-4 4-6 4-7 5-9 4-7 4-5 4 3 4-10 4-2 5-7 4-1 4-2 4-7 4-2 5-3 4-5 4-2 5-11 4-3 4-2 6 1 6 3 7 3 6 4 3-4 3 9 3 3 3 2 3 8 2 5 3 0 3 4 3 11 3 7 3 4 3 8 3 4 3 8M1629 3959l5-2 5-3 5-7 4-8 5 1 5-4 4-5 6-7 5-6 5 2 5 5 6-5 5-6 5 1 5-12 6-9 5-1 5-3 6-2 6 7 6-5 6 3 6 5 5 3 6-9 6 2 6-1 5-2 6-7 6-10 5 5 6-2 6-4 5-1 6-3 5-5 5-8 6 3 5-3 5-9 5-1 5-3 6 1 5-6 5 0 6 0 5-10 6 1 6-7 6 0 5 0 6-3 4 7 5 6 4 2 5 1 4 5 5 10 4 2 5 1 4 5 5 6 5 9 5-4 5-3 5 8 5 10 5 2 5-2 5 6 5-4 6 0 6-4 6 7 7 7 6-3 6-2 6 2 6-5 6 3 6-3 7-2 6-2 6 3 6-6 6-3 6 7 6-8 6 4 6-11 6 0 6 4 6-8 6 0 5-1 6-2 5-6 4-4 4-3 4-10 4 1 4-5 4 0 4-3 5-9 4-18 4-1 4-10 4-8 4-2 5-4 4 3 4-7 4-3 4-5 5 0 4-3 4-2 5-7 4-5 4-3 6 9 6-4 7 4 6 0 3 3 3 3 3 8 3 11 3 7 2 3 3 4 3 3 3 4 3 8 3 11 3 2 3 12 3 2M1629 3984l5-14 5-4 5-6 4-6 5-5 5-5 4-1 6-2 5-11 5 1 5-2 6-10 5 6 5-9 5-2 6-4 5-4 5-2 6-2 6 7 6-1 6 0 6 6 5 6 6 1 6 1 6-6 5 0 6-6 6-9 5 7 6-4 6-5 5 0 6-2 5 0 5-1 6-4 5-6 5 4 5-9 5-2 6-4 5-5 5-6 6 1 5 2 6-8 6-1 6-7 5-5 6-2 4 3 5 5 4 4 5 2 4 12 5-4 4 6 5 7 4 10 5-1 5-5 5 7 5 7 5-5 5 5 5 6 5 6 5 8 5 0 6-4 6-4 6 4 7 2 6-2 6 2 6-2 6 3 6 0 6-5 7-4 6-2 6 3 6 3 6-7 6-3 6 1 6-2 6-6 6 2 6 0 6-6 6-5 5-5 6-3 5-3 4-5 4-2 4-4 4 0 4-8 4-2 4-1 5-11 4 5 4-8 4-1 4-2 4-4 5-9 4-7 4 1 4-2 4-8 5 11 4-14 4-10 5-6 4-3 4-1 6-3 6 9 7-2 6 8 3 2 3 7 3 7 3-2 3 5 2 14 3 4 3 4 3 1 3 5 3 10 3 0 3 12 3 0M1629 4001l5-9 5-1 5-12 4-3 5 0 5-5 4-10 6-3 5 7 5-16 5-7 6 2 5-6 5-8 5-6 6-4 5-2 5 0 6 3 6 5 6-2 6 10 6 2 5-7 6 9 6-7 6-8 5 2 6-3 6-2 5 3 6-3 6 1 5-2 6-3 5-9 5-6 6 0 5-5 5-5 5-2 5-4 6 1 5-6 5-3 6-5 5-1 6-5 6-4 6-4 5-3 6 2 4 9 5 5 4-1 5 5 4-1 5 4 4 10 5 0 4 10 5 7 5 2 5 4 5 7 5 2 5 5 5 4 5-1 5 6 5 4 6 1 6-7 6 6 7-9 6 8 6-3 6-2 6 0 6 0 6 8 7 3 6-1 6-3 6-3 6 1 6 1 6-7 6 1 6-4 6 3 6-16 6 0 6-3 5 2 6-1 5-11 4-1 4-5 4-5 4 0 4-3 4-8 4-5 5-7 4-8 4-5 4-4 4-8 4 0 5-9 4 2 4-3 4-3 4-7 5-7 4 1 4-10 5-4 4-3 4-6 6-2 6 6 7 1 6 7 3 4 3 10 3-3 3 7 3 2 2 12 3 0 3 8 3 2 3 7 3 1 3 9 3-3 3 12M1629 4000l5-6 5-6 5-10 4-1 5-10 5-8 4-5 6-3 5-8 5-3 5 0 6-2 5-4 5-4 5-5 6 0 5-5 5-6 6 5 6-4 6 9 6 1 6-1 5 1 6-1 6-1 6 6 5-8 6 1 6 1 5-3 6-4 6-1 5 5 6-3 5 2 5-8 6-8 5-7 5-1 5-4 5-7 6-6 5 2 5-5 6-1 5-2 6-13 6 11 6-14 5 0 6-4 4 7 5 5 4 5 5 1 4 3 5 8 4 4 5 6 4 7 5 3 5 2 5 13 5 2 5-2 5 6 5-4 5 5 5 5 5 4 6 4 6-6 6 0 7 1 6 2 6-8 6-5 6 6 6 9 6-4 7 1 6-8 6-2 6 3 6 1 6-3 6 0 6-2 6-15 6 0 6-3 6-1 6-2 5 2 6-3 5-7 4 4 4-4 4-7 4-3 4-9 4-3 4-7 5-4 4-1 4-1 4 1 4 0 4-8 5-7 4 3 4-5 4-9 4-13 5 1 4-10 4 0 5-9 4 0 4-11 6 1 6 9 7-1 6 0 3 5 3 10 3 5 3 13 3 2 2 3 3 5 3 7 3 6 3-1 3 9 3 14 3-3 3 8M1629 4002l5-5 5-3 5-9 4 0 5-6 5-8 4 0 6-4 5 0 5-7 5-2 6-1 5-10 5-1 5-1 6-6 5-5 5-5 6 1 6 4 6 5 6 0 6-5 5 1 6 3 6 3 6-2 5-8 6 3 6-9 5-8 6 2 6-6 5 0 6 2 5 1 5-12 6 1 5 1 5-5 5-5 5 0 6-4 5-7 5-13 6 6 5-6 6-10 6 0 6 3 5-12 6 2 4-8 5 14 4 1 5 8 4 1 5 5 4 0 5 10 4 1 5 3 5 9 5 5 5-3 5 4 5 9 5-6 5 6 5 6 5 6 6 5 6-2 6 5 7-1 6 0 6-3 6 8 6-2 6 1 6-2 7-3 6 6 6 0 6 6 6-6 6-3 6-6 6-1 6 4 6-1 6 0 6-7 6 5 5-11 6 6 5-10 4-7 4-5 4 0 4-5 4-5 4-6 4-8 5-4 4-6 4-4 4-8 4-1 4-8 5-7 4 1 4-6 4-12 4-3 5-8 4 0 4-5 5-5 4-5 4 0 6-2 6 4 7 0 6 3 3 2 3 8 3 6 3 2 3 8 2 10 3 6 3 2 3 3 3 5 3 6 3 9 3 7 3 4M1629 3993l5 1 5-5 5 1 4-10 5-3 5-6 4-8 6 1 5-2 5-11 5 4 6-1 5-13 5-4 5-11 6 1 5-13 5-2 6 2 6 7 6 3 6-4 6 10 5 3 6 3 6-1 6-6 5-5 6 3 6-2 5 3 6 0 6-6 5 5 6-4 5-6 5-8 6 1 5-6 5-5 5-5 5-5 6 0 5 0 5-7 6 0 5-10 6-2 6-5 6-6 5 8 6-8 4-5 5 12 4 2 5 1 4 10 5 3 4 7 5 11 4-1 5 6 5-2 5 0 5 3 5 9 5-2 5 6 5 4 5 2 5 8 6 0 6 0 6-5 7 5 6-11 6 2 6 6 6-10 6-1 6 0 7-2 6 7 6-4 6 1 6-5 6 8 6-5 6-1 6-3 6 5 6-1 6-11 6 3 5-6 6 1 5-1 4-5 4-10 4-2 4-2 4-3 4-1 4-9 5-3 4-1 4-8 4-4 4-8 4-2 5-5 4-3 4-6 4-6 4-8 5 1 4-11 4-2 5-6 4-4 4-2 6 3 6 6 7-7 6 5 3 4 3 4 3 5 3 4 3 8 2 8 3 6 3 7 3 10 3 0 3 3 3 12 3 7 3 1M1629 4001l5-7 5-3 5-2 4-4 5-5 5-3 4-11 6-4 5-3 5 0 5-7 6-3 5-7 5-1 5-5 6 3 5-6 5-5 6 11 6-5 6-2 6 4 6 4 5-3 6 1 6 2 6-12 5-4 6-2 6-4 5-5 6-6 6 1 5-2 6-5 5 3 5-6 6-3 5-3 5-7 5-5 5-2 6-9 5-1 5-1 6-8 5-4 6 1 6 0 6-9 5 0 6-1 4 1 5-2 4 10 5 6 4 7 5 4 4 7 5 2 4 1 5 8 5 6 5 3 5 2 5 1 5 10 5 3 5 6 5-2 5 7 6 1 6 6 6 0 7-1 6 4 6-7 6 5 6 5 6-3 6-6 7 1 6-1 6 4 6-2 6-1 6-2 6-4 6-7 6 3 6-2 6-3 6 3 6-10 5-4 6 9 5-7 4-5 4 2 4-9 4-7 4-5 4-4 4-12 5-9 4-1 4-3 4-5 4-4 4-8 5 1 4-10 4-1 4-9 4-3 5-3 4-2 4-8 5-4 4-4 4-3 6-5 6-1 7 5 6-2 3 9 3 7 3 6 3 7 3 1 2 10 3 0 3 14 3 7 3-1 3 9 3 4 3 1 3 3" stroke="#d35a62" stroke-width="2.2" fill="none" transform="scale(.5)"/><path d="M1646 3998l5-5 5-4 5-12 5-10 5 0 5 0 5-8 4 0 5-5 5-6 5-3 5-6 5-11 5-2 5 3 6 0 6 5 6 1 6 4 6 2 5-7 6 8 7-4 6-7 7-3 6 1 6 1 7-9 6 0 7-3 6-1 6-4 6 0 7-7 6 7 6-9 6-5 6-2 7 3 5-3 4 5 5 5 5 6 5 0 7 3 7 1 7-1 7 9 7-3 6-1 6 6 6-2 6 1 5-1 6 3 6 3 6 7 5-3 6 4 6-1 6-5 6 5 7-9 6 2 6-1 6 7 6-7 7 6 5-4 6-1 6-1 6-5 5 4 6-5 6-1 6-3 6 2 5 0 7-3 7-6 7 2 7 1 7-3 7 7 5 0 6-8 5-10 3-4 3-2 3-15 3-9 3-1 3-2 3-7 3-6 3-9 3-7 3-5 6-3 5-3 6-5 5-4 6-4 5 3 6-6 5-4 6-5 5-6 6 0 6 2 6-7 6-8 6-1 6 1 6 3 6 3 6 0 6 1 2 14 1 1 2 7 1 14 2 12 1-10 2 13 1 2 2 2 1 9 2 5 1 5 0 10 1 7 1 4 0 13 1 2 0 6 1-1 1 5 0 13 1 4 1 3 0 8M1646 3981l5-6 5-2 5-2 5-6 5-5 5 0 5-10 4-2 5-1 5-14 5-3 5-6 5-5 5-9 5-11 6 11 6-1 6 7 6-2 6 4 5 1 6 3 7 0 6-6 7 4 6-6 6-7 7 2 6 0 7-9 6-2 6-4 6-4 7 8 6 1 6-3 6-3 6 1 7-4 5 5 4 9 5 3 5 10 5 6 7-3 7 2 7-10 7 8 7-1 6-1 6 5 6 0 6 7 5-6 6 2 6 6 6 0 5-3 6 2 6 7 6-4 6-11 7 1 6-2 6 0 6-10 6 5 7 2 5 3 6-6 6-4 6-7 5 4 6-2 6 5 6 0 6-4 5-3 7 1 7 4 7-3 7 2 7 0 7-6 5-6 6 2 5-4 3-13 3-3 3-5 3-1 3-6 3-7 3-1 3-8 3-6 3-2 3-13 6-3 5-4 6-6 5-2 6-11 5-3 6 0 5-7 6-5 5 3 6-6 6-7 6-4 6-5 6-1 6 1 6 1 6 9 6 3 6 3 2-1 1 8 2 9 1 6 2 8 1 6 2 6 1-3 2 3 1 13 2 3 1 6 0 5 1 3 1 11 0 2 1 8 0 10 1 13 1 3 0 11 1 10 1 1 0 6M1646 3992l5-5 5-3 5-5 5-10 5-2 5-9 5-7 4-4 5-8 5-3 5-6 5-1 5-5 5-8 5-2 6 4 6 4 6 9 6-1 6 3 5 4 6 4 7-3 6-5 7 0 6 1 6-9 7-5 6-2 7-4 6 6 6-3 6 3 7-6 6 3 6-8 6-1 6 1 7-3 5 5 4 2 5 10 5-4 5 5 7 1 7-2 7-6 7 6 7-1 6 1 6 7 6-2 6 7 5 0 6 7 6 1 6 5 5-3 6 4 6 3 6-7 6-1 7 7 6-3 6-3 6-6 6-6 7 1 5-2 6-7 6 1 6-3 5-3 6 2 6-11 6 5 6-7 5 0 7-1 7 5 7-7 7 1 7-7 7 1 5 2 6-7 5 1 3-5 3-10 3-3 3 2 3-7 3-7 3 0 3-6 3-9 3-3 3-7 6-1 5-4 6-7 5-1 6-10 5 1 6-4 5-9 6-2 5 1 6-6 6-3 6-2 6 4 6-6 6-6 6 0 6 1 6 2 6 2 2 4 1 4 2 5 1 9 2 7 1 4 2 13 1 3 2 9 1 3 2 7 1 8 0 2 1 4 1 9 0 5 1 8 0 3 1 8 1 3 0 3 1 13 1 2 0 3M1646 3984l5-9 5 0 5 1 5-14 5-1 5 3 5-9 4-2 5 2 5-7 5-8 5-3 5-10 5-6 5-3 6-2 6 5 6 1 6 12 6-3 5 0 6 9 7-4 6-5 7-1 6-1 6 1 7-10 6 7 7-1 6 2 6-4 6 0 7-10 6-7 6 3 6-6 6 4 7-3 5 7 4-2 5 7 5 3 5 5 7-3 7-2 7-2 7 5 7 2 6-2 6 1 6-2 6 9 5 0 6 4 6 4 6 2 5-9 6 6 6 1 6 1 6-9 7 7 6-3 6-3 6-3 6-4 7 2 5-9 6 5 6-1 6 3 5 0 6-5 6 1 6-6 6 4 5-4 7-2 7-2 7 4 7-1 7-1 7-2 5-1 6-3 5-9 3-2 3-9 3-5 3-14 3 4 3-8 3 0 3-10 3-11 3-8 3-6 6-2 5-7 6 0 5-2 6-4 5-1 6-3 5-9 6-4 5-1 6-2 6-4 6-6 6-2 6 1 6-4 6 9 6 2 6 5 6-5 2 15 1 2 2 4 1 9 2 2 1 10 2 9 1 2 2 7 1 2 2 1 1 3 0 3 1 9 1 2 0 5 1 15 0 1 1 15 1 4 0 1 1 11 1 6 0 4M1646 4002l5-7 5 0 5-10 5-4 5-3 5-4 5-11 4-4 5 3 5-4 5-5 5-5 5-7 5-1 5-8 6 2 6 1 6 9 6-1 6 2 5-3 6 10 7-5 6 5 7 0 6-10 6-1 7-2 6 5 7-12 6 1 6 4 6-7 7-7 6 1 6-2 6 1 6 2 7-3 5 8 4 0 5-1 5 3 5 9 7-3 7 0 7-4 7 2 7 4 6 1 6 1 6 0 6 3 5 0 6 0 6 3 6 1 5-3 6 4 6 2 6 2 6 2 7-6 6-4 6-3 6 3 6 0 7-2 5-6 6 3 6 2 6-4 5-8 6-1 6-5 6-6 6 2 5-7 7 8 7-2 7-1 7 0 7 4 7-6 5-3 6 5 5-10 3-1 3-4 3-12 3-4 3 0 3-17 3 1 3-5 3-8 3 0 3-3 6-7 5-2 6-10 5-1 6-1 5-5 6-2 5 1 6-1 5-8 6-1 6-3 6 2 6-4 6-2 6 3 6 3 6-8 6 9 6-6 2 5 1 6 2 4 1 8 2 5 1 4 2 9 1-3 2 10 1 5 2 5 1 0 0 8 1 6 1 11 0 3 1 4 0 13 1-3 1 11 0 3 1 3 1 10 0 3" stroke="#8a1a24" stroke-width="2.2" fill="none" transform="scale(.5)"/><path d="M1613 4305l11-185 12-100 16-40" stroke="#8a1a24" stroke-width="2.2" fill="none" transform="scale(.5)"/><path d="M1618 4280l12-180 14-100" stroke="#d35a62" stroke-width="2.0" fill="none" transform="scale(.5)"/><path d="M1740 3925l3 3 3-5 3 11 2-15 3-2 3-2 3-7 1-3 1-14 1 0 1-7 1 1 2 2 1-8 1 3 1-8 1 0 1-11 4 3 4 5 4 0 4-9 4 4 4 6 4-9 3 12 4 3 3 9 3-9 3 2 3-10 3-1 3-6 3 6 3-3 3 1 3-13 3 3 4 0 4-6 4-1 4-4 4-6 4-2 4 1 4 6 4-5 4 10 3-9 4 1 3-4 3 4 4 6 3 6 2 4 2-3 1 9 2 2 2-5 2 13 2 0 2 7 1-3 2 11 2 2" stroke="#8a1a24" stroke-width="2.2" fill="none" transform="scale(.5)"/><path d="M1950 3931l2-2 3 8 2 1 2-1 3 11 2-2 1 8 1 12 2-4 1 2 1 13 1-3 1 4 2 1 1 5 1 4 1 10 2 10 1-2 1 5 1-5 2 11 1 2 4-5 3-13 4 4 4 9 4-12 4 1 4 2 4-5 4 3 4-4 5 0 4-8 4 2 4-1 5-8 4 3 4-2 5-7 4 11 4-5 4-12 5-1 4 12 4 2 5-4 4-3 4-4 4 1 5 0 4-10 4 5 3-12 4 12 4-12 3 15 4-17 4 2 4-2 1-4 2-4 1-6 2-6 1-1 2 2 1-14" stroke="#8a1a24" stroke-width="2.2" fill="none" transform="scale(.5)"/><path d="M1970 3945l1-1 2 1 1 8 2 5 1 13 2 3 1-5 2 3 1 19 2-6 2 10 1 2 2 7 4-4 4-1 4-3 4-8 4 2 4-2 4 0 3-11 4 6 4-8 3-1 4 9 4-12 4-2 4 4 4-5 5 3 4-8 4 7 4-5 4 0 5-1 4 2 4-6 4 5 4-2 4 2 4-10 4 0 4-2 4 8 4-4 4-8 4 2 4-3 3-8 3-4 3 2 2 1 3-8 3-1 3 3" stroke="#8a1a24" stroke-width="2.2" fill="none" transform="scale(.5)"/><path d="M2000 3974l4-4 4 9 4-9 4-4 4 11 4-3 4 0 4 7 4-4 4 3 4 4 4 0 4-8 4 1 4 2 4-10 4 8 4-6 4 14 4-15 4-2 4-2 4 6 4-7 4-12 4 15 4-13 4 0 4 5 4-10 3 0 4 12 3-15 3-3 4-14 3 12 3 0 4 2 3-3" stroke="#8a1a24" stroke-width="2.2" fill="none" transform="scale(.5)"/><path d="M2300 3800l20-60 6 100 8 160 2 79 4-99" stroke="#8a1a24" stroke-width="2.2" fill="none" transform="scale(.5)"/><path d="M2280 3900l20-120 16 20 6 120 4 140" stroke="#d35a62" stroke-width="2.2" fill="none" transform="scale(.5)"/><path d="M1596 4013l2-5 2-6 3-7 3-4 4-9 3-9 4-5 4-2 6-2 5 0 6-2 7 6 8-2 9 3 5-1 6 0 6 1 6-2 6 4 7 0 6-1 7-1 7-1 7-3 7 1 6 1 7-1 6-2 6 2 7 0 6 0 7-3 6 0 6-1 7-4 6 1 6-1 7-1 6 1 6-2 6-1 6-1 7-2 6-1 6-2 7-2 6-3 6-1 6 0 6-6 6 0 5 1 5-1 5-3 8-2 7-3 6-1 6-3 6-4 5 1 6-3 5 3 7-1 6 3 6 3 6 1 7-3 9 3 5 2 5-2 6 3 6 4 6 0 7 1 6 2 7 2 7 2 6 2 7-1 7 2 6 3 6-1 6-2 6 1 7-2 6 1 7-1 6-2 6-1 7 0 6-4 7 0 6-3 5 0 5-6 5-3 6-4 5-4 5-5 6-5 5-4 6-1 5-4 5-5 5-4 4-7 4-4 5-1 3-4 4-1 6-9 5-12 4-6 2-5 2-4 3-6 2-1 3 1 2 5 2 4 3 5 2 7 2 9 3 10 2 5 2 7 3 6 2 7 3 6 2 7 3 7 2 7 2 4 2 8 1 1" stroke="#f4a8b4" stroke-width="12" fill="none" stroke-linejoin="round" transform="scale(.5)"/><path d="M1596 4054l2-6 2-7 3-4 3-8 3-5 4-4 3-10 4-4 3-4 3-3 3-9 5-6 4-3 4-5 5-6 4-8 5-2 6 1 5-5 5-3 5-3 5-2 6-7 6-5 5-5 6-2 5-7 5-4 5-2 7 0 6 3 5 4 5 4 6 7 6 3 6-4 5 2 6 1 5-4 6-2 6-6 6 1 6-7 6-1 5-5 6 0 5-5 6-2 5-4 6-3 5-5 5-5 5-3 5-7 5-5 5-1 6-5 6-8 6-2 5-2 6-2 5 0 6 0 4 1 5 3 4 4 4 4 5 6 4 5 4 3 5 3 5 7 4 5 5 5 4 5 5 4 4 4 5 1 5 3 6 3 5 3 7 0 5 5 6 1 5 3 7-3 6 1 6 1 7 1 7-2 6 2 7-3 6-1 6 0 6 4 6-4 7-3 6 0 7-3 6 0 6-4 6 1 5-4 6-1 6-1 5-5 5-6 5-2 4-6 5-3 4-4 4-4 4-8 4-4 4-4 4-6 4-5 4-5 4-4 4-4 4-7 5-4 5-6 4-5 5-5 4-3 5-4 4-6 4-5 4-7 4-2 3-3 8-5 5 2 5 3 7 9 2 6 3 4 3 3 4 5 3 7 3 8 4 5 3 8 4 9 3 5 3 8 2 5 2 4 2-1" stroke="#d0525a" stroke-width="12" fill="none" stroke-linejoin="round" transform="scale(.5)"/><path d="M1596 4219l1-3 1-6 1-5 1-3 1-1 1-6 1-9 1-5 1-10 2-8 1-6 1-6 2-4 1-8 1-8 2-7 1-9 1-6 2-8 1-6 1-7 2-7 2-7 1-6 2-8 1-6 2-7 2-7 1-3 2-7 2-5 1-5 2-11 2-3 1-5 2-5 5-5 5-5 5-4 5-3 5-4 5-1 5-8 4-7 5-3 5-6 5-5 4-4 5-7 5-9 6 2 5 1 5 1 6 2 6 1 6 5 6 4 7 4 6-2 6-3 7 1 6-1 7-4 7-2 6-5 7-3 6 0 7-2 7-3 6-1 7 0 6-4 6-4 6 2 5-1 6 2 4 8 4 4 5 5 5 5 6 1 6 0 7-3 7 1 7 0 8 1 6 0 5 1 6-1 6 3 6 6 6 2 6 2 6 4 5 4 6-2 7 1 6 3 6-2 6-6 6 1 6-3 6 0 7-5 5-6 6-3 6-1 6-1 6-3 6-1 6-2 6-3 5 0 5-2 9-4 7-3 8 1 6 3 6 1 6-6 6-2 4-2 6-7 2-2 3-7 2-10 3-5 3-4 3-3 3-8 3-3 4-11 3-5 4-2 5-2 5-6 6-3 5-7 6-1 6-5 6-3 5-1 6-3 6-6 6-2 7-3 6 1 5-4 6-5 5-2 7 4 7 0 5 1 5 8 2-1 2 6 2 5 1 8 2 7 1 5 2 8 1 7 2 4 1 6 1 10 1 10 1 6 1 2 0 6 1 9 1 6 0 9 1 6 1 7 0 2 0 6 1 5 0 7" stroke="#7f111b" stroke-width="12" fill="none" stroke-linejoin="round" transform="scale(.5)"/></g>
<g><path d="M811.5 1791.2v6M811.5 2154.5v-6M896.6 1791.2v6M896.6 2154.5v-6M981.7 1791.2v6M981.7 2154.5v-6M1066.8 1791.2v6M1066.8 2154.5v-6M1151.9 1791.2v6M1151.9 2154.5v-6M1237 1791.2v6M1237 2154.5v-6M1322.1 1791.2v6M1322.1 2154.5v-6M790.2 2063.7h6M1343.4 2063.7h-6M790.2 1972.9h6M1343.4 1972.9h-6M790.2 1882.1h6M1343.4 1882.1h-6" stroke="#3a3a3a" stroke-width="2" fill="none"/><rect x="790.2" y="1791.2" width="553.1" height="363.2" fill="none" stroke="#3a3a3a" stroke-width="2"/><text x="777.5" y="2163.5" text-anchor="end" font-size="25" stroke="#1a1a1a" stroke-width="0.35">7.8</text><text x="777.5" y="2072.7" text-anchor="end" font-size="25" stroke="#1a1a1a" stroke-width="0.35">7.9</text><text x="777.5" y="1981.9" text-anchor="end" font-size="25" stroke="#1a1a1a" stroke-width="0.35">8.0</text><text x="777.5" y="1891.1" text-anchor="end" font-size="25" stroke="#1a1a1a" stroke-width="0.35">8.1</text><text x="777.5" y="1803.2" text-anchor="end" font-size="25" stroke="#1a1a1a" stroke-width="0.35">8.2</text><text x="802.5" y="2181.5" font-size="25" textLength="22.8" lengthAdjust="spacingAndGlyphs" stroke="#1a1a1a" stroke-width="0.35">0°</text><text x="873.4" y="2181.5" font-size="25" textLength="36.6" lengthAdjust="spacingAndGlyphs" stroke="#1a1a1a" stroke-width="0.35">2°E</text><text x="959.4" y="2181.5" font-size="25" textLength="36.6" lengthAdjust="spacingAndGlyphs" stroke="#1a1a1a" stroke-width="0.35">4°E</text><text x="1043" y="2181.5" font-size="25" textLength="37" lengthAdjust="spacingAndGlyphs" stroke="#1a1a1a" stroke-width="0.35">6°E</text><text x="1128.6" y="2181.5" font-size="25" textLength="36.6" lengthAdjust="spacingAndGlyphs" stroke="#1a1a1a" stroke-width="0.35">8°E</text><text x="1205.1" y="2181.5" font-size="25" textLength="49.1" lengthAdjust="spacingAndGlyphs" stroke="#1a1a1a" stroke-width="0.35">10°E</text><text x="1285.8" y="2181.5" font-size="25" textLength="50.2" lengthAdjust="spacingAndGlyphs" stroke="#1a1a1a" stroke-width="0.35">12°E</text><text x="696" y="1769.8" font-size="32" font-weight="bold">J</text><text transform="translate(720 1973) rotate(-90)" x="-85" font-size="25" textLength="170" lengthAdjust="spacingAndGlyphs" stroke="#1a1a1a" stroke-width="0.3">pH (total scale)</text></g>
<rect x="139" y="1030" width="357" height="179" fill="#fff"/>
<path d="M279.6 1044.6V1190.3M371.8 1044.6V1190.3M187.3 1148.7H464.1M187.3 1127.9H464.1M187.3 1107H464.1M187.3 1086.2H464.1" stroke="#a8a8a8" stroke-width="1.6" stroke-dasharray="1.6 5.6" fill="none"/>
<path d="M233.4 1044.6V1190.3M325.7 1044.6V1190.3M418 1044.6V1190.3M187.3 1169.5H464.1M187.3 1065.4H464.1" stroke="#dadada" stroke-width="1.4" fill="none"/>
<clipPath id="ie"><rect x="187.3" y="1044.6" width="276.8" height="145.7"/></clipPath>
<g clip-path="url(#ie)"><path d="M375 2277l5 6 5 0 5 7 6 5 5 3 5-4 5 2 5 2 6 0 5 5 5-3 6-1 5-7 5-1 6 7 5-7 6 4 4-4 4-7 4-4 4-2 4-4 4-8 4-9 4-1 4 0 5-4 4-3 4-1 4-9 4-7 5-4 4-7 4-2 4-6 4-5 5 0 4-8 5-4 4 0 5-1 5 7 4-4 5 4 5-3 4-3 5-4 4-7 6-5 5 3 5-4 5-2 5-2 6 4 5 4 5-4 5-2 5-1 5-5 5 0 6-4 5-4 5 0 5-3 5 3 5-7 5 1 5 6 5-8 6-6 5-4 5-5 5 2 5-6 5-4 5 0 5-2 6-2 5-3 5-1 5-3 5-4 5-2 5-3 6 2 5 3 5-1 6-1 5-7 5-3 5 5 5 3 5-3 5 0 5 2 5 13 5-3 5 4 6 0 5 7 5 1 4 2 5 3 4 8 5 2 5 3 4 10 5 7 5-1 4 2 5 3 4-1 5 5M375 2301l5 10 5-1 5 2 6 2 5-8 5 0 5-3 5-4 6 5 5-1 5-2 6 1 5-1 5 0 6 8 5-9 6 8 4-11 4 5 4-15 4 1 4-9 4-5 4-5 4-3 4-4 5-6 4-5 4 7 4-7 4-5 5 2 4-2 4-6 4-5 4 2 5-8 4 1 5-5 4-6 5 2 5-5 4 3 5-5 5-2 4-6 5 3 4-3 6 5 5-4 5 4 5-2 5 1 6-4 5-1 5 4 5-2 5 1 5-3 5-6 6 10 5-4 5-7 5 0 5 4 5-3 5-2 5 8 5-8 6 2 5-5 5 4 5-5 5 1 5-11 5 2 5 0 6-7 5-1 5-5 5 6 5-9 5 0 5 1 6-5 5-2 5-3 6 5 5-3 5-9 5 10 5-3 5-3 5 3 5-3 5 1 5 0 5-1 6 5 5 5 5 4 4-6 5 0 4 5 5 3 5 5 4 1 5-4 5 3 4 0 5 5 4 3 5 2M375 2317l5 2 5-3 5-3 6 4 5 2 5-6 5 3 5 0 6-4 5 3 5 2 6-2 5-1 5-2 6 5 5-14 6 6 4 0 4-8 4-5 4-5 4-2 4-5 4-1 4-2 4-6 5 1 4-9 4 1 4-5 4 2 5-5 4-8 4-7 4-2 4 5 5-7 4 0 5 3 4 1 5-1 5-6 4-2 5-5 5 4 4-5 5-5 4 4 6 1 5-8 5-4 5 0 5-4 6-4 5-6 5 3 5-10 5-7 5 5 5 0 6-3 5-1 5-2 5 3 5-2 5-5 5 4 5-2 5-6 6 2 5-2 5-4 5-6 5 1 5-2 5 1 5 0 6-2 5-1 5-3 5-2 5-2 5 7 5-6 6-3 5 2 5-3 6-4 5-1 5-1 5-1 5 4 5-1 5-2 5 2 5 0 5 6 5 3 6 2 5 1 5 1 4-2 5 10 4 2 5 2 5 9 4-7 5 12 5 2 4 6 5-9 4 7 5-5M375 2285l5 1 5 2 5 4 6-4 5 5 5-2 5-5 5 8 6-2 5 3 5-8 6-4 5 10 5-4 6-12 5 2 6 0 4-7 4 0 4-6 4-1 4-9 4-2 4 0 4-1 4-5 5-2 4-4 4-10 4 5 4-6 5 0 4-8 4-4 4 1 4-5 5-3 4 3 5-4 4 8 5-13 5-3 4 2 5 0 5-5 4 3 5-3 4-1 6-12 5 6 5-3 5-8 5 3 6 5 5-2 5 1 5-6 5 6 5 3 5-3 6 6 5-5 5 3 5-4 5-3 5 1 5-5 5 1 5 2 6-1 5-3 5 2 5-5 5-5 5 6 5 0 5-3 6-3 5-11 5-4 5-2 5-3 5-1 5 4 6-9 5 4 5-1 6-7 5 1 5-3 5 4 5-3 5 3 5 5 5 5 5 4 5-4 5 3 6-7 5 7 5-3 4 5 5-3 4-3 5 1 5 8 4 7 5 7 5-5 4 5 5 0 4 8 5 2M375 2257l5-5 5 2 5 5 6 6 5 4 5 0 5 1 5-1 6 2 5 1 5 4 6 3 5 0 5 1 6-9 5 2 6 4 4-18 4 11 4-7 4-7 4 0 4 0 4-3 4-3 4-7 5 1 4-1 4-10 4 2 4-10 5-5 4 2 4-11 4 2 4-10 5-2 4-4 5-2 4-3 5-3 5-7 4 5 5-10 5-2 4-1 5-8 4-1 6-1 5-3 5 1 5 2 5-5 6-5 5-6 5-2 5 4 5-9 5 7 5 1 6 2 5-6 5-7 5 2 5-2 5-1 5-3 5-3 5-4 6-4 5 2 5 0 5-9 5 7 5-5 5-3 5-5 6 2 5 1 5 6 5-7 5-1 5 0 5-4 6 2 5 0 5 4 6-6 5-4 5 1 5 5 5 1 5 0 5 4 5-2 5 0 5 6 5 8 6-4 5-1 5 2 4 15 5 1 4 0 5-2 5-3 4 11 5-2 5 6 4 4 5 0 4 6 5 2M375 2321l5 0 5 7 5-2 6 3 5-8 5 3 5-1 5 2 6 6 5-8 5-3 6 6 5 1 5-9 6-2 5-2 6 6 4-7 4-4 4 4 4-5 4-3 4-6 4-4 4 1 4-9 5-10 4-7 4 2 4-2 4-6 5 0 4-7 4-5 4-4 4-3 5-13 4 0 5-6 4 3 5-3 5-7 4 1 5-2 5 2 4 1 5-3 4-3 6-2 5-3 5 0 5 5 5-5 6 0 5-1 5 3 5-4 5 0 5-2 5-1 6 1 5 1 5-5 5 2 5 0 5-6 5-4 5 6 5-5 6 1 5-3 5-5 5 1 5-2 5-7 5 1 5 2 6-1 5 0 5 4 5-5 5-5 5-3 5-3 6 5 5-5 5 2 6-7 5-1 5-2 5-4 5 1 5 5 5 2 5 0 5 5 5-1 5-3 6 3 5 7 5-2 4 8 5 2 4 5 5-9 5 11 4-2 5 1 5 4 4 1 5 11 4 4 5 2M375 2289l5 5 5 0 5 0 6 1 5-4 5 2 5 1 5 0 6 1 5-2 5 3 6-1 5-1 5 3 6-12 5 7 6-2 4-3 4-12 4-2 4-2 4-3 4-6 4-3 4-2 4-4 5-10 4 4 4-5 4 0 4-13 5-5 4 0 4 0 4-2 4-3 5-1 4-1 5-9 4 4 5 2 5-2 4-13 5-2 5-3 4 4 5 2 4-2 6-2 5 3 5 1 5-2 5-4 6 0 5-7 5 8 5-3 5 0 5 0 5-4 6 3 5 3 5 1 5 0 5-3 5-1 5 0 5-4 5-2 6-4 5 2 5-5 5 1 5-1 5-5 5-2 5 3 6-6 5-1 5-1 5-5 5-2 5-8 5 2 6-4 5 2 5-3 6-4 5-7 5 2 5-3 5-1 5-2 5 5 5 1 5 4 5 6 5-2 6 1 5 0 5 3 4 3 5 2 4-2 5 6 5-4 4-6 5 8 5 3 4 6 5-7 4 9 5-3M375 2274l5 2 5 3 5-2 6 5 5 6 5-3 5 0 5 1 6 7 5 1 5-6 6 2 5-2 5 0 6-8 5 2 6 2 4-5 4-10 4 4 4-10 4-1 4-9 4-7 4-3 4 2 5-9 4-4 4 2 4-4 4-6 5-10 4-2 4-9 4 1 4-7 5-6 4-8 5 0 4-4 5-8 5 1 4 1 5 4 5-7 4 1 5-2 4 5 6-5 5-4 5 8 5-7 5 0 6-1 5-2 5-4 5 5 5 1 5-3 5-2 6 1 5 2 5 3 5-2 5 3 5 5 5-6 5-6 5 1 6 4 5-6 5-1 5-2 5-3 5 4 5-7 5 5 6-4 5-1 5-6 5-4 5-2 5 1 5-4 6-6 5 6 5-3 6-6 5-13 5 0 5 1 5 0 5 0 5 8 5-1 5 4 5-1 5-5 6 10 5-2 5 6 4 2 5 3 4-4 5-2 5 1 4 5 5 4 5 5 4-1 5 4 4 4 5 2M375 2314l5 2 5-1 5 6 6 2 5-5 5-1 5 1 5 3 6 2 5 6 5 1 6-5 5 3 5 2 6-5 5-2 6-2 4-3 4-5 4-8 4-5 4 2 4-7 4-2 4-7 4-6 5-6 4-6 4 1 4-5 4-6 5-8 4-3 4-4 4-4 4-6 5-2 4-2 5-2 4-5 5 2 5 1 4-5 5 2 5-5 4 6 5-6 4-2 6 2 5-1 5 0 5-4 5-1 6 2 5 0 5 1 5-1 5 2 5 0 5-2 6 1 5 2 5 1 5 0 5-7 5 0 5-9 5-2 5 5 6-3 5-5 5 0 5 0 5-2 5-4 5 0 5-9 6-5 5-1 5-3 5-4 5 1 5-7 5 0 6-8 5-2 5-9 6-4 5-2 5-1 5 5 5 7 5-7 5 1 5 1 5 7 5-1 5 4 6 0 5 6 5-5 4 12 5 1 4 9 5-4 5 1 4 4 5 3 5 5 4 12 5 0 4 2 5 1M375 2275l5 4 5-1 5 3 6-8 5 4 5 2 5 6 5-1 6-3 5-2 5 6 6-7 5-5 5-1 6 8 5-2 6-3 4 6 4-8 4 2 4-6 4-7 4-4 4-6 4 0 4-1 5-5 4-2 4-2 4 0 4-6 5-4 4-3 4 5 4-6 4 2 5-9 4-4 5 2 4-6 5-1 5-3 4-1 5-3 5-3 4-1 5-3 4-5 6 5 5-2 5 4 5-7 5 2 6-10 5 3 5 5 5 2 5 2 5 1 5-2 6-3 5-12 5 5 5-1 5 1 5 2 5-4 5-2 5-4 6-8 5-3 5 0 5-5 5 0 5-13 5 1 5 0 6-1 5-9 5-4 5 3 5-7 5 3 5-8 6-2 5-1 5 0 6-6 5 1 5-4 5 2 5-1 5-7 5 5 5 4 5 1 5 6 5-1 6 7 5-8 5 9 4 5 5 3 4 5 5 6 5-5 4 7 5 1 5 7 4 0 5 1 4 4 5 2M375 2276l5 1 5 3 5 3 6 2 5 1 5 7 5-1 5-2 6 4 5 6 5-8 6 7 5-3 5-3 6-2 5 1 6 0 4-6 4-5 4-1 4-1 4-9 4-3 4-6 4 4 4-8 5 0 4-7 4-1 4-6 4-5 5 0 4-7 4 0 4-1 4-1 5-1 4-7 5-5 4 8 5-6 5-3 4 4 5-5 5-5 4-1 5-7 4 2 6 1 5-5 5 0 5-9 5 0 6 3 5 3 5-3 5-3 5-3 5-8 5-1 6 2 5-3 5-3 5-5 5 0 5-9 5 2 5-3 5-4 6 2 5-1 5-9 5 4 5-5 5-1 5-12 5 4 6-1 5 0 5 0 5-9 5 0 5-7 5 5 6 3 5-10 5-2 6-6 5-5 5 5 5 2 5 2 5 3 5-2 5 0 5 8 5 2 5 3 6 2 5 3 5 0 4 4 5-2 4 5 5 6 5 5 4 2 5-3 5 5 4 4 5 2 4 0 5 8M375 2284l5-2 5-3 5 2 6-1 5 0 5 0 5-1 5 6 6 0 5 6 5-3 6-4 5-3 5 0 6-4 5-2 6 7 4-8 4-4 4-5 4 2 4-2 4-6 4 2 4-4 4-8 5 2 4-6 4 0 4 1 4 0 5-4 4-8 4 7 4-4 4-4 5-6 4-5 5 4 4-7 5 1 5-3 4-5 5-2 5-4 4 2 5-2 4-7 6 2 5 2 5 1 5-9 5 5 6 3 5-1 5 1 5-5 5-6 5 3 5-4 6-4 5-4 5-2 5 0 5-2 5-2 5-2 5-6 5 4 6-9 5 6 5 0 5-1 5-6 5-3 5-1 5-4 6-2 5-3 5-6 5 0 5-5 5 0 5-1 6 1 5-9 5 0 6 1 5-3 5-7 5-4 5 4 5-1 5 10 5 3 5 8 5-1 5-1 6 5 5 1 5 0 4 2 5 2 4 4 5-1 5 0 4 12 5 1 5 1 4 2 5 0 4 8 5 8M375 2275l5-1 5 3 5-14 6 7 5-4 5 4 5-4 5 0 6 3 5 5 5-3 6 0 5 0 5-1 6 0 5-7 6 3 4-7 4-7 4-7 4-4 4-5 4-3 4 3 4-4 4-8 5 1 4-3 4-4 4-5 4-2 5 2 4-6 4-5 4 1 4-7 5-14 4 0 5 7 4-5 5 0 5-3 4 4 5-3 5-3 4-2 5-5 4 5 6-7 5 2 5 1 5-2 5 4 6-2 5-1 5 1 5-3 5-1 5 0 5-2 6-1 5-6 5 0 5 0 5-3 5-5 5 0 5-4 5-1 6 1 5-6 5 1 5-3 5-7 5-6 5-1 5 1 6-3 5-6 5-3 5 1 5 1 5-3 5-14 6 2 5-1 5-1 6-1 5-2 5-3 5 4 5 1 5 9 5 0 5 3 5 2 5-1 5 7 6-2 5 1 5 4 4 6 5-1 4 8 5 3 5 5 4 3 5 2 5 9 4-1 5 3 4 6 5 3M375 2296l5-11 5 8 5 1 6 0 5-3 5 1 5 6 5-2 6-5 5 9 5 0 6 0 5-4 5-1 6 3 5-1 6 6 4-4 4-5 4-2 4-1 4-5 4-2 4-3 4-7 4-2 5 4 4-12 4 2 4-3 4-10 5-3 4-1 4-7 4-7 4-3 5 1 4-3 5-5 4-3 5 0 5 1 4-1 5-11 5 1 4-7 5 1 4-5 6 3 5-10 5 3 5-7 5 7 6-5 5-5 5 5 5-6 5 2 5-3 5 7 6-1 5-5 5-1 5 2 5-5 5 4 5 1 5-11 5-2 6 3 5-3 5-7 5 1 5 1 5-11 5 4 5 4 6-8 5 1 5-5 5 3 5-1 5-2 5-3 6-10 5-4 5 3 6-1 5-1 5-8 5 10 5-5 5 2 5 4 5-2 5-3 5 1 5 5 6-2 5 3 5 2 4 6 5 1 4 4 5 7 5 0 4 8 5 2 5-6 4 9 5 8 4-4 5 9M375 2292l5 1 5-3 5 4 6 0 5 0 5 0 5 0 5 2 6 2 5 0 5-1 6 12 5-5 5-3 6 2 5 0 6-2 4-3 4-1 4-9 4 0 4 5 4-13 4-8 4-5 4 6 5-6 4-3 4 1 4-7 4-5 5-2 4 1 4-13 4-2 4-5 5 0 4 1 5 2 4-7 5-3 5-3 4-2 5-2 5-5 4-2 5-4 4-9 6-4 5-2 5 5 5-9 5 2 6 1 5 0 5 0 5-8 5 9 5-9 5 0 6-4 5 9 5-5 5 1 5-4 5 0 5-6 5 9 5-7 6 2 5-1 5 0 5-5 5-5 5-1 5 3 5-5 6 3 5-9 5 6 5-4 5 1 5 0 5-3 6 1 5-4 5-1 6-3 5 0 5-4 5 7 5 1 5-1 5 2 5-2 5 1 5 4 5 0 6-2 5 0 5 1 4 0 5-3 4 7 5 5 5-3 4 8 5-5 5 3 4 0 5 8 4-1 5 11M375 2311l5-9 5 5 5-5 6 1 5 5 5 0 5 1 5 1 6 1 5 2 5-3 6-4 5 7 5 0 6 0 5-13 6 5 4-5 4 2 4-15 4 4 4 4 4-3 4-6 4-3 4 2 5-12 4 3 4 0 4-4 4-8 5-4 4-7 4 2 4-2 4-5 5 4 4-6 5-7 4-1 5 0 5-1 4-3 5-4 5 5 4-5 5-5 4 2 6-4 5-4 5-6 5 0 5-6 6 4 5-12 5 5 5-2 5 0 5-3 5-2 6-3 5 4 5-4 5-1 5-1 5-2 5-1 5-5 5-3 6-4 5 0 5-2 5-2 5-1 5 0 5-4 5-3 6 0 5-4 5-9 5 2 5-2 5 4 5-8 6 9 5-4 5-2 6-3 5-7 5-1 5 4 5 1 5 5 5 7 5 2 5 0 5 0 5 2 6-6 5 5 5 3 4-1 5 7 4 2 5 9 5 4 4-5 5 10 5 3 4 2 5 0 4-1 5 13" stroke="#35b6ea" stroke-width="2.2" fill="none" transform="scale(.5)"/><path d="M375 2272l5 0 4 5 5-3 5 5 5-5 5 7 5 0 5-3 5 5 6 5 5-2 5 1 5-1 5 1 5 2 5 5 4-5 4-3 4-7 3-4 4-3 4-13 4 0 4 4 3-11 4-2 4-4 4 1 4-10 4 6 3 0 4-4 4-6 4 2 4-9 4 2 4 0 4-3 4-4 4 0 5-4 5 0 5-3 5-2 5 3 5 1 5-12 5 3 5-1 5-1 6 0 5-7 5-2 5-1 5 0 6-5 5-5 5 1 5-2 5-3 5 1 5 4 6-3 5 4 5-9 5 3 5-4 5 3 5-5 5 5 5-4 6-2 5-5 5-5 5-1 5-1 5 7 5-5 5-2 6-1 5-4 5-2 5 0 5 0 5 2 5-4 6 2 5-6 5 3 6-4 5 1 5 1 5-1 4-6 5 15 5-15 4 11 5 1 5-3 4 2 5 10 4-2 5 7 5-4 4 3 4-1 3 8 4-1 4 0 4 0 4 5 4 3 4 4 4 6 4-8 4 11 4 2 4 1M375 2281l5 5 4 2 5 1 5 5 5 4 5 1 5-1 5 5 5-3 6-2 5 7 5 0 5 1 5 4 5 3 5-3 4-5 4-4 4-1 3 0 4-10 4 0 4-7 4-3 3-4 4-1 4-4 4-4 4-6 4-3 3-8 4 1 4-4 4-10 4 1 4-6 4-7 4 5 4-8 4 2 5-4 5-6 5-6 5-3 5-5 5-1 5 0 5 3 5-7 5 1 6-3 5-8 5 2 5-3 5 3 6 3 5-4 5-3 5-1 5-2 5 1 5-4 6 3 5-10 5-2 5 2 5 4 5-2 5 8 5-5 5-7 6 0 5-5 5 9 5-6 5-5 5 3 5 4 5-2 6-2 5 4 5-4 5 4 5-7 5-1 5-6 6 7 5-7 5 8 6-3 5-1 5 0 5 0 4 12 5-3 5 0 4 2 5 7 5-4 4 0 5 9 4-7 5 2 5 2 4 9 4 5 3 6 4-4 4 5 4 7 4 3 4-4 4 0 4 8 4-2 4 14 4 0 4 3M375 2300l5-2 4 8 5-1 5 0 5-1 5-5 5 12 5-4 5 2 6-3 5 7 5-5 5 6 5-8 5 3 5 2 4-8 4-2 4-2 3-5 4-6 4-2 4 0 4-3 3-3 4-6 4-2 4-9 4-1 4-1 3-3 4-9 4-5 4-1 4-10 4 7 4-4 4 0 4-1 4-3 5 4 5-10 5 0 5-4 5-4 5-1 5 2 5-4 5 0 5-9 6 2 5-2 5-2 5 6 5 0 6-1 5 4 5-3 5-1 5-2 5-1 5-4 6-5 5 5 5-1 5-2 5-8 5 4 5-5 5-5 5-2 6 5 5-2 5-4 5-3 5 3 5-9 5 3 5-5 6-8 5-4 5-1 5-7 5 0 5 2 5-2 6-3 5 8 5-3 6 2 5 3 5 2 5 1 4 3 5 4 5 1 4 3 5 9 5 0 4 5 5 1 4 7 5-5 5 2 4 3 4 3 3 0 4 1 4-2 4 10 4 2 4 8 4 4 4 1 4 5 4 6 4 4 4-1M375 2288l5-1 4 6 5 5 5 0 5 6 5 0 5 6 5-1 5-5 6 10 5 4 5-2 5 3 5 0 5 5 5 8 4-9 4-3 4-5 3 1 4-6 4-3 4-4 4-8 3 4 4-6 4 0 4-4 4 0 4-15 3-4 4-1 4-9 4 0 4-5 4-4 4 1 4-1 4-10 4-8 5 7 5-6 5 3 5 6 5-6 5-4 5-4 5 4 5-5 5-4 6-2 5 3 5-6 5 4 5-6 6-5 5 4 5-3 5-2 5 1 5-6 5 1 6-2 5-3 5-9 5 4 5-1 5 4 5-9 5-7 5 2 6 0 5-7 5 6 5-4 5-8 5-2 5-2 5-6 6 0 5-2 5-4 5-11 5 10 5-7 5 2 6 1 5 4 5-2 6 4 5 1 5-6 5 7 4-3 5 3 5 2 4 6 5 3 5 1 4 6 5-1 4 4 5 14 5-2 4 2 4 8 3 4 4-3 4 6 4 6 4 2 4 5 4 3 4 1 4 4 4 4 4 4 4 5M375 2259l5-2 4 3 5 2 5-5 5 5 5-5 5-3 5 5 5 0 6-2 5 4 5 11 5-2 5 2 5 6 5-2 4-7 4-2 4-6 3-2 4-3 4-2 4-4 4 1 3-2 4-5 4-5 4-10 4-1 4 4 3-8 4-4 4 4 4-11 4-3 4-8 4 7 4-5 4-8 4 3 5-13 5 6 5 0 5-3 5 1 5-7 5 1 5 0 5-4 5-5 6 5 5-3 5-1 5-3 5 2 6-2 5 5 5 4 5-1 5-4 5-4 5-4 6 4 5-2 5 2 5 4 5-7 5-1 5-7 5 4 5-2 6 8 5-7 5-4 5 2 5-7 5-4 5-7 5 1 6-5 5 1 5-8 5-10 5 1 5-4 5-2 6 8 5 1 5-5 6-1 5-5 5 0 5-4 4 3 5 0 5 2 4 1 5 4 5 6 4-2 5 2 4 7 5-1 5 9 4-2 4 10 3 8 4 1 4 1 4 6 4 5 4 5 4 4 4 3 4 4 4-4 4 8 4 4M375 2235l5 0 4 5 5 2 5 7 5 2 5 3 5-1 5 2 5 6 6 1 5 7 5-4 5 1 5-3 5 5 5 1 4-11 4-4 4-5 3-4 4-5 4 5 4 0 4-5 3-5 4 0 4-4 4-7 4-10 4 2 3 0 4-5 4-8 4 3 4 4 4-10 4-8 4-2 4-2 4-2 5-5 5-1 5-8 5-1 5 6 5-4 5 3 5-7 5-4 5 4 6-5 5 0 5 0 5-2 5 1 6-5 5-1 5-2 5 1 5 2 5-1 5-4 6-4 5-4 5-1 5 0 5 0 5-4 5 6 5-6 5-5 6 1 5 1 5 3 5-9 5 0 5 4 5-4 5-5 6 1 5-7 5-2 5-4 5-3 5-2 5-1 6-5 5 1 5-2 6-3 5 5 5 2 5-5 4 3 5 4 5 4 4 0 5 6 5-5 4 1 5 3 4 3 5 4 5 13 4-6 4 4 3 3 4 7 4 9 4 1 4 2 4 2 4 2 4 9 4 1 4 4 4 7 4 5M375 2256l5 0 4 9 5 7 5 0 5 3 5-5 5 6 5 3 5 1 6 1 5-3 5 0 5 3 5 2 5 1 5 8 4-7 4-2 4-9 3 3 4 0 4-11 4-2 4-6 3-1 4-10 4 3 4-8 4-5 4-2 3-7 4 2 4-4 4-7 4 0 4-6 4-4 4-1 4-1 4-6 5-5 5 3 5-8 5 3 5-9 5 4 5-5 5-4 5 5 5-1 6-5 5-1 5-8 5 10 5-8 6-2 5-5 5 2 5 2 5-7 5 1 5-1 6-4 5-8 5-3 5 1 5-5 5 1 5 2 5-6 5 1 6-2 5 2 5 3 5-11 5 4 5-5 5 6 5-7 6-6 5 9 5-9 5-1 5-4 5 2 5 0 6-1 5-5 5-3 6 1 5-1 5 0 5 11 4-2 5 4 5 7 4 6 5 4 5 1 4 5 5 0 4-2 5 1 5 0 4 9 4-4 3 11 4 3 4 10 4-6 4 12 4-7 4 4 4 5 4 6 4 0 4 3 4 5M375 2261l5-5 4 4 5 4 5-3 5 5 5 5 5-3 5 0 5 3 6-7 5 4 5-2 5 2 5 9 5-2 5 1 4-1 4-5 4 6 3-4 4-4 4-2 4-3 4-4 3-4 4-3 4-3 4-3 4-1 4-7 3-4 4-1 4-3 4-2 4-2 4-4 4 0 4-8 4-3 4 1 5 2 5-9 5 1 5-3 5-1 5-5 5 2 5 0 5-1 5-7 6 2 5-6 5 8 5-6 5-8 6 5 5-4 5-1 5 0 5 0 5-3 5-1 6-7 5 2 5-5 5 1 5-10 5 5 5-6 5 2 5 6 6 3 5-5 5-1 5-1 5-1 5-6 5-1 5 1 6 1 5-6 5 2 5-4 5-3 5 1 5 1 6-5 5-3 5 2 6 0 5-4 5 1 5 0 4 2 5 2 5 5 4 4 5-1 5 3 4 1 5 4 4 1 5 1 5 1 4 6 4 6 3 2 4 5 4 5 4-1 4 2 4 6 4-3 4 3 4 4 4 1 4-1 4 3M375 2261l5 2 4 3 5 1 5 0 5 3 5-2 5 12 5 4 5 1 6-1 5 3 5-2 5 0 5 3 5 3 5-1 4-1 4-4 4-6 3 0 4-3 4-3 4-6 4-1 3-9 4 4 4-8 4-1 4-5 4-8 3 0 4-3 4-4 4-5 4 6 4-3 4-15 4-2 4-6 4-5 5-7 5 0 5 5 5-2 5-5 5-1 5-4 5 0 5-5 5-3 6 1 5-2 5-5 5 0 5-5 6-6 5 8 5 1 5-12 5 1 5-1 5-1 6 2 5-4 5 3 5-9 5 5 5-6 5 7 5-4 5 7 6-12 5 3 5 2 5 2 5-7 5-6 5 1 5 3 6-3 5-1 5-9 5-4 5-1 5-1 5-3 6 4 5 1 5-2 6-8 5 1 5 1 5 3 4 6 5 0 5 6 4 5 5 6 5 2 4-4 5 8 4 2 5 3 5 1 4 10 4-5 3 6 4 4 4 3 4 6 4 5 4-1 4 11 4-2 4-3 4 5 4 5 4 0M375 2246l5 2 4 1 5-7 5 0 5 11 5 1 5-8 5 2 5 6 6 4 5-5 5 6 5 1 5 2 5 12 5-3 4-3 4-2 4 0 3-5 4-10 4 7 4-8 4-7 3 2 4-3 4-2 4-6 4-4 4-1 3-4 4-6 4 1 4-5 4 1 4-6 4-6 4-5 4-2 4 1 5-5 5-2 5 2 5 2 5-12 5-6 5-3 5 2 5-5 5-5 6 5 5-6 5 7 5 3 5-5 6-1 5-7 5 3 5-7 5 3 5-2 5 3 6-9 5-4 5 3 5-1 5-4 5-1 5 3 5-4 5-2 6 4 5 6 5-6 5-3 5 1 5-2 5-7 5 1 6-3 5 0 5-1 5-9 5 0 5 6 5-7 6 1 5 0 5-4 6 3 5 2 5 3 5-2 4 3 5 1 5 2 4 2 5 1 5 4 4 5 5 0 4-1 5 4 5 1 4 1 4 6 3 3 4 1 4 1 4 7 4-2 4 7 4-2 4 6 4 6 4 8 4-3 4 2M375 2227l5 7 4-2 5-2 5 6 5 4 5-1 5 4 5-2 5 9 6-1 5 1 5 2 5 0 5 6 5-1 5 4 4-2 4-2 4-7 3-7 4 0 4-5 4-5 4-2 3-4 4-10 4 0 4-8 4 0 4-4 3-1 4-7 4-4 4-3 4 1 4-5 4-6 4 0 4-3 4-3 5 6 5-4 5-4 5 2 5-9 5-5 5-3 5-2 5 3 5-12 6 5 5 4 5-5 5-6 5-5 6 5 5-1 5-1 5-6 5-2 5-3 5 2 6-4 5 1 5-1 5-4 5-6 5 3 5-4 5-4 5 0 6 1 5 0 5-7 5-6 5-2 5 1 5-6 5 4 6-3 5-2 5 5 5-6 5 2 5-6 5 2 6 3 5-7 5 2 6-2 5 5 5-7 5 8 4 6 5-1 5 8 4 3 5 3 5 4 4-3 5 8 4-3 5 4 5 7 4-1 4-4 3 13 4 4 4 3 4-3 4 5 4 4 4 12 4-4 4 8 4 9 4 1 4-5M375 2257l5 1 4 4 5 1 5 6 5 1 5 11 5-9 5 7 5 1 6-3 5 6 5 2 5-1 5 4 5 5 5 1 4-2 4-4 4-7 3-4 4-5 4-4 4-3 4-2 3 2 4-8 4-1 4-2 4-10 4 0 3 2 4-6 4-1 4-3 4-9 4 0 4-3 4-2 4-7 4 3 5-3 5-7 5 1 5-6 5-1 5-6 5 1 5-7 5 4 5-8 6 2 5-1 5-7 5 4 5-5 6 1 5-5 5 4 5-5 5-3 5 1 5-5 6 2 5-1 5 1 5 3 5-3 5-6 5-5 5-1 5-5 6 6 5-7 5 4 5 2 5-8 5 1 5 9 5-4 6-3 5-2 5-2 5 0 5-5 5 7 5-7 6 0 5 3 5 1 6-6 5-3 5-10 5 2 4-1 5 3 5 3 4 0 5 4 5 0 4 6 5 0 4 6 5-1 5 2 4 4 4-2 3 0 4 8 4 9 4-1 4-1 4 3 4 5 4 5 4 8 4 3 4 2 4 0" stroke="#62c6b9" stroke-width="2.2" fill="none" transform="scale(.5)"/><path d="M375 2263l5-2 5-4 5 6 6-1 5-2 5-2 5 2 5-1 6-1 5-9 5 0 3 7 3 0 3 5 4 5 3 7 3 13 3-7 3 6 3 9 5 4 4-2 4-3 4-5 5 3 4-15 4-1 5-7 4-4 4 0 4 4 5-1 4-3 4-11 5 0 4-4 5-3 4-1 5 1 4-6 5-11 5 1 4 5 5-2 5-8 4 2 5-8 5-1 3 2 4-10 3-5 3 0 4-7 3-7 4-4 3-3 4-2 3-4 4 0 3-13 5 4 6 0 5 0 5-1 5 6 6 7 5-8 5 1 4 6 5 3 4-2 5 0 5 2 4 5 5-8 4 1 5-1 4-5 4-6 4-5 4 1 5-1 4-6 4-4 4-1 4-3 5-6 6 1 5 5 5-3 6 1 5-4 5 0 6 6 5 2 5-4 5 2 6-2 5 2 5-2 5 1 5 2 5 0 5 0 5 1 5-2 5 3 5 6 6 4 5-3 4 6 5 4 4-2 5 0 5 0 4 10 5 5 5 4 4 2 5 2 4-4 5 2M375 2246l5 6 5-3 5-3 6 4 5-9 5-1 5 0 5 1 6-2 5-1 5-7 3 13 3 5 3 7 4 3 3 6 3 0 3 3 3 6 3 5 5 4 4-4 4-7 4-2 5-2 4 3 4-7 5 6 4-10 4 0 4-1 5-6 4-5 4-7 5-2 4 2 5-3 4 7 5-9 4 8 5-13 5-1 4-7 5-1 5-4 4-2 5-5 5-6 3-3 4 4 3-9 3 0 4-4 3-6 4-6 3-7 4 0 3 1 4-11 3 4 5 0 6 0 5-4 5 4 5 1 6-4 5 7 5-6 4-2 5 16 4-2 5 3 5 3 4 1 5-5 4 3 5-5 4-1 4-6 4 1 4-7 5-4 4-5 4-1 4 3 4-3 5-4 6 5 5-4 5 1 6-7 5-3 5 1 6 2 5-7 5 4 5 1 6 0 5-5 5-6 5 2 5-2 5 7 5 2 5-6 5 3 5 2 5 6 6 2 5-4 4 7 5 7 4-2 5 2 5 3 4-2 5 7 5-3 4 10 5 1 4 8 5 0M375 2242l5-2 5-3 5 5 6-1 5 0 5-3 5-4 5-3 6 2 5 1 5 3 3 5 3 0 3 10 4-4 3 10 3 2 3 9 3 4 3 1 5 7 4 7 4-7 4-8 5-2 4-1 4 1 5-5 4-4 4-3 4-5 5-6 4-2 4 2 5-5 4-6 5 4 4-2 5-4 4-8 5 3 5-7 4 5 5-6 5-8 4 0 5-1 5-4 3-5 4-9 3-4 3-5 4-1 3-5 4 0 3-8 4-6 3-3 4-1 3-6 5 1 6 0 5 1 5-1 5 2 6 0 5-5 5 10 4 6 5 0 4 5 5-1 5 8 4-5 5-5 4-2 5-4 4-1 4-5 4 6 4-7 5-4 4-2 4-8 4-5 4 2 5-4 6-1 5-1 5-4 6-3 5-3 5-2 6 2 5-7 5 0 5 6 6-2 5-2 5 1 5-1 5 5 5-3 5 1 5 2 5 1 5-1 5 2 6 2 5 7 4 6 5 0 4 4 5 3 5 1 4 8 5 5 5 2 4-1 5-12 4 12 5 15" stroke="#2a3275" stroke-width="2.2" fill="none" transform="scale(.5)"/><path d="M600 2200l12 160 6-140" stroke="#35b6ea" stroke-width="2.2" fill="none" transform="scale(.5)"/><path d="M676 2180l14 60 10-44" stroke="#2a3275" stroke-width="2.2" fill="none" transform="scale(.5)"/><path d="M375 2251l4-4 5 3 7-4 7-2 7-2 8-2 7-3 7 1 5 0 6 4 5 3 4 8 4 8 4 8 3 5 2 5 5 4 3-4 5-3 5 0 6-3 6-5 6-8 7-4 6-5 6-1 5-2 5-1 7-3 6-6 4-1 5-4 5-1 5-3 5-3 5-4 6-3 6-2 6-5 3-1 4-5 5-6 4-3 4-8 4-6 5-4 4-6 4-3 4 0 7-4 6-3 6-2 7 2 5 1 6 2 6 1 6 5 6 6 5 6 5 4 6-1 5-5 7-4 4-3 4-2 5-2 5-10 5-5 5-4 4-3 5-2 7-2 6-2 6-4 6 2 7-2 6-1 5-2 6-3 6-3 6 3 6 1 7 1 6-1 6-2 6 3 6 2 7 1 6 4 7 2 7 5 5-2 6 8 7 5 6 0 6 7 7-1 5 8 5 6 5 0 3 1" stroke="#222a6c" stroke-width="12" fill="none" stroke-linejoin="round" transform="scale(.5)"/><path d="M375 2287l4 1 5 1 6-1 8-2 7 3 8 3 7 1 7 0 5 1 8 1 7 0 6-1 5-3 7-1 4-6 4-2 5-5 4-4 5-3 4-8 5-2 5-4 5-2 5-5 5-4 5-4 5-8 6-2 5-8 5-4 6-4 5 0 6-4 6 0 5-3 6-1 6-3 6-5 5 0 5-2 7 0 6-2 6-1 5-5 6 3 6-3 6-3 6 1 7 1 6-5 7-1 7-4 6 0 7 0 6-3 5 0 6 0 6-6 6 0 5-3 6-5 6-1 6-1 6-6 6-2 6-2 6-2 5-5 6 0 5-3 7-2 6 0 5-5 6-3 6-5 7 2 6 1 5-3 6 5 7 2 6 0 6 5 7 4 6 6 7 2 5 0 7 5 6 4 6 3 7 5 6 4 5 5 5 1 5 2 3 0" stroke="#2db4e9" stroke-width="12" fill="none" stroke-linejoin="round" transform="scale(.5)"/><path d="M375 2260l3 2 5 1 6 7 7 2 6 1 7 1 6 1 7 1 6 4 7 3 7 0 7 2 6-4 5 1 5-3 4-2 5-4 4-7 4-5 5-9 5 0 5-6 4-3 5-3 5-7 5-6 6-4 5 0 5-5 5-6 5-1 6-7 5-4 6-4 6 0 6 0 5-1 6 0 6-3 5-4 5 0 7-1 6-3 6-3 5 2 6-1 6-1 6-5 6 0 5-3 6-2 6-1 6 0 5-1 6 1 6-7 6-3 5-1 6 0 6-2 6-2 5-3 6 2 6-5 6 1 6-6 6-4 6 1 6-1 5-4 6-2 5-2 7 0 6-5 5-1 6-1 6 1 7 0 5 2 5 3 5 2 6 4 6 4 6 0 5 3 6 4 6 5 6 7 4 4 5 3 6 3 5 4 5 2 6-1 5 6 5 5 4 6 4 0 3 6 3 6" stroke="#5fc5b8" stroke-width="12" fill="none" stroke-linejoin="round" transform="scale(.5)"/></g>
<path d="M233.4 1044.6v4M233.4 1190.3v-4M325.7 1044.6v4M325.7 1190.3v-4M418 1044.6v4M418 1190.3v-4M187.3 1169.5h4M464.1 1169.5h-4M187.3 1065.4h4M464.1 1065.4h-4" stroke="#3a3a3a" stroke-width="1.6" fill="none"/>
<rect x="187.3" y="1044.6" width="276.8" height="145.7" fill="none" stroke="#3a3a3a" stroke-width="1.8"/>
<text x="222.8" y="1207.7" font-size="16" stroke="#1a1a1a" stroke-width="0.25" textLength="23.7" lengthAdjust="spacingAndGlyphs">3°E</text>
<text x="315" y="1207.7" font-size="16" stroke="#1a1a1a" stroke-width="0.25" textLength="23.7" lengthAdjust="spacingAndGlyphs">4°E</text>
<text x="407.3" y="1207.7" font-size="16" stroke="#1a1a1a" stroke-width="0.25" textLength="23.7" lengthAdjust="spacingAndGlyphs">5°E</text>
<text x="142.1" y="1072.4" font-size="16" stroke="#1a1a1a" stroke-width="0.25" textLength="40.6" lengthAdjust="spacingAndGlyphs">34.75</text>
<text x="142.1" y="1175.8" font-size="16" stroke="#1a1a1a" stroke-width="0.25" textLength="41" lengthAdjust="spacingAndGlyphs">34.50</text>
<rect x="221.9" y="907.3" width="128.5" height="18.5" fill="none" stroke="#111" stroke-width="3"/><path d="M220.75 927L183.8 1037.6M352.2 928L459.5 1040" stroke="#111" stroke-width="3.2" stroke-dasharray="15 10" fill="none"/>
<rect x="834" y="1054.5" width="356" height="179.8" fill="#fff"/>
<path d="M908.5 1069.1V1215.3M963.9 1069.1V1215.3M991.6 1069.1V1215.3M1019.4 1069.1V1215.3M1074.8 1069.1V1215.3M1102.5 1069.1V1215.3M1130.2 1069.1V1215.3M880.8 1173.5H1157.9M880.8 1152.6H1157.9M880.8 1131.8H1157.9M880.8 1110.9H1157.9" stroke="#a8a8a8" stroke-width="1.6" stroke-dasharray="1.6 5.6" fill="none"/>
<path d="M936.2 1069.1V1215.3M1047.1 1069.1V1215.3M880.8 1194.4H1157.9M880.8 1090H1157.9" stroke="#dadada" stroke-width="1.4" fill="none"/>
<clipPath id="if"><rect x="880.8" y="1069.1" width="277.1" height="146.2"/></clipPath>
<g clip-path="url(#if)"><path d="M1762 2236l4 3 4-5 5-2 4-5 4 0 5 1 4-5 5-5 4-7 4 1 5-7 4-3 5 1 5 4 4 1 5 0 5-10 5-6 4 3 5-4 5 0 4 2 5 1 5-9 5 1 6-1 5 0 5-3 5-2 5 1 5 3 6 2 5-4 5 0 5 2 5-1 5-6 5-1 5 1 6-6 5 6 5 3 5 4 5 1 5-1 5-3 5 0 6-4 5 0 5-4 5-1 5-3 5-2 6 0 5-4 5-3 5 8 5-6 6 1 5 0 5 0 5 4 6-4 5-7 5 2 5-1 6 3 5-1 5-5 5-8M1762 2250l4-2 4-5 5-3 4-4 4-3 5-10 4 6 5 3 4-3 4-12 5-5 4 2 5-7 5 1 4-1 5 0 5-5 5 3 4-6 5-7 5 3 4-9 5 1 5-5 5-2 6 3 5-5 5 0 5-7 5 1 5 0 6 2 5-2 5 2 5-2 5 3 5 1 5-5 5 2 6-3 5-2 5 0 5 2 5-4 5-1 5 0 5 2 6 4 5-1 5-7 5 2 5 0 5 3 6-3 5 3 5 4 5-4 5 4 6 2 5-2 5-6 5 4 6-2 5 0 5 5 5-6 6 5 5-4 5 0 5-1M1762 2277l4-1 4-5 5 5 4-9 4 0 5-4 4 0 5-15 4 4 4-5 5-1 4 4 5-4 5-3 4 1 5-5 5-5 5 0 4-3 5 5 5-7 4-4 5 3 5-6 5-3 6-1 5-6 5-1 5 3 5 1 5-10 6 2 5-7 5-1 5-1 5 6 5 0 5-2 5 4 6 0 5-7 5 2 5-4 5 1 5-7 5 7 5-3 6-2 5 2 5-2 5 2 5-6 5-1 6 2 5 0 5 2 5 0 5-1 6 2 5-4 5 8 5-3 6-1 5-1 5-1 5 9 6-9 5 3 5-7 5 2M1762 2252l4-1 4-6 5-2 4-1 4-14 5 1 4-1 5-3 4-2 4-12 5 8 4-6 5-9 5 7 4-8 5 2 5 5 5-12 4 2 5-4 5 8 4-1 5-2 5-3 5-3 6-1 5 0 5-7 5 0 5-2 5 5 6-3 5-2 5-1 5 1 5 0 5 0 5 1 5-2 6-1 5-3 5 0 5-1 5-4 5-4 5-5 5 3 6 4 5-4 5 0 5 7 5-3 5 1 6-6 5-5 5 3 5 9 5-11 6 3 5 5 5 1 5 0 6-1 5-2 5-4 5 5 6 4 5-5 5 2 5-1M1762 2204l4-5 4 0 5-1 4-1 4-6 5-2 4-5 5 0 4-4 4-3 5 2 4-2 5-3 5-3 4 4 5-1 5 1 5-8 4 1 5 2 5-1 4-7 5 1 5 5 5-3 6-6 5-4 5 0 5 0 5 0 5 3 6-13 5 3 5-3 5 0 5 1 5 0 5-5 5 6 6-3 5-5 5 9 5-10 5-3 5-2 5-4 5-2 6-5 5 4 5 1 5-4 5 0 5 2 6 6 5 2 5-3 5 0 5-6 6 0 5-2 5 3 5-2 6-2 5-2 5-3 5 3 6 5 5 1 5-6 5 3M1762 2256l4 0 4-2 5-14 4-2 4-5 5-4 4-2 5 2 4-1 4-7 5 6 4-5 5 10 5-10 4 0 5-9 5 7 5-7 4 3 5-8 5 2 4 1 5 1 5-4 5 0 6 1 5-6 5 3 5 4 5 0 5-3 6-2 5 0 5 3 5-2 5 3 5 1 5 3 5-5 6 0 5-5 5 4 5-6 5 4 5-5 5 0 5-1 6 4 5-3 5 0 5 0 5-1 5-5 6-4 5-1 5-4 5 1 5-4 6-2 5 0 5-7 5 5 6 0 5-2 5 1 5 0 6 2 5 0 5 4 5 0M1762 2231l4-4 4-2 5-5 4 3 4-8 5-3 4 2 5-6 4 5 4-11 5-1 4 1 5 1 5-5 4 1 5-5 5 0 5 3 4-5 5 2 5-7 4-1 5 0 5 0 5 1 6 6 5-8 5-3 5 1 5-1 5-1 6-4 5-5 5-4 5-5 5-2 5 5 5 3 5-10 6 2 5 2 5-7 5 0 5 2 5 4 5-9 5 3 6-8 5 2 5-2 5-6 5 1 5-10 6 7 5-5 5 2 5 4 5 9 6 2 5-8 5 3 5-3 6-3 5 3 5 5 5-4 6 3 5 5 5 3 5-8M1762 2234l4 0 4-2 5-1 4 3 4-5 5-5 4-2 5 0 4-7 4-6 5-1 4-7 5 0 5 1 4-3 5-2 5 5 5-10 4 3 5-4 5-5 4-1 5-1 5-6 5 3 6-9 5 3 5-13 5 3 5 0 5 0 6-5 5-3 5-1 5 4 5-2 5-3 5 9 5-1 6 1 5-1 5-4 5 0 5 2 5-1 5-2 5 3 6-6 5 0 5 3 5-6 5 3 5 1 6 1 5-10 5-2 5-3 5-3 6 8 5-5 5-1 5 1 6 3 5 0 5 0 5 0 6 0 5 4 5-5 5 8M1762 2225l4-9 4 2 5 0 4-4 4-6 5-6 4 4 5-4 4-1 4-4 5-1 4-8 5 7 5-3 4 1 5-4 5 3 5-3 4 1 5-6 5-1 4 3 5-7 5-6 5 3 6 2 5 0 5 1 5-12 5-2 5 1 6-2 5-4 5 9 5-2 5-4 5 1 5-6 5-1 6-2 5 2 5-1 5-9 5 0 5-5 5 3 5 2 6-5 5-5 5 0 5 0 5 0 5-4 6-3 5 4 5 2 5-4 5-1 6 2 5 6 5-6 5-4 6 4 5-1 5 0 5-3 6 5 5-1 5-5 5 4M1762 2231l4 0 4-5 5-2 4-2 4-3 5-1 4-7 5-5 4 0 4-10 5 1 4-2 5-2 5 7 4-7 5-8 5 0 5-2 4-2 5 1 5-3 4 0 5 0 5-5 5 7 6-4 5-2 5 1 5-5 5 1 5-8 6 5 5 2 5-4 5 3 5 1 5-4 5 1 5-4 6-1 5 0 5-1 5-6 5 7 5-2 5 0 5-5 6 4 5-3 5-1 5-5 5 3 5-2 6-5 5 4 5-9 5 5 5-3 6-4 5 1 5 2 5 3 6 0 5 8 5-4 5-3 6 5 5 0 5-4 5 1M1762 2244l4 5 4-6 5 2 4-5 4-3 5-7 4-5 5-3 4-4 4-5 5 3 4-4 5-5 5 6 4-2 5-9 5-2 5 4 4-7 5 4 5-5 4-4 5 1 5 1 5-2 6-1 5-7 5-1 5-4 5-1 5 5 6-3 5-5 5 0 5 0 5-2 5 5 5-1 5-3 6 0 5-6 5-2 5 1 5 1 5-7 5 2 5 1 6 7 5-4 5 4 5 2 5-1 5-5 6-5 5 2 5 0 5-7 5 4 6 3 5 2 5-7 5 4 6 0 5-3 5 1 5 1 6 1 5-8 5 0 5-2M1762 2260l4-2 4 1 5-5 4-2 4-9 5-7 4 0 5-5 4-2 4-2 5 2 4-8 5 0 5 1 4 2 5-8 5-6 5-1 4 2 5-4 5-9 4 5 5-2 5 0 5-2 6 0 5-3 5 6 5 2 5-4 5-3 6 2 5-4 5 5 5 4 5-8 5 1 5 3 5-9 6 0 5 4 5 2 5 3 5-5 5-1 5 0 5-2 6 1 5-4 5 4 5-4 5 0 5 4 6-5 5 0 5-8 5-1 5 7 6-8 5 0 5-1 5 2 6 2 5-2 5-4 5 5 6-11 5 3 5 5 5 2M1762 2224l4-6 4-2 5 0 4-5 4-1 5-8 4 3 5-6 4-5 4-3 5-5 4 2 5-2 5 1 4-4 5 0 5 0 5 0 4-2 5-3 5-2 4 0 5-5 5 5 5-6 6 1 5-1 5-3 5-2 5-3 5-2 6-3 5 3 5 5 5-4 5-7 5 3 5 1 5 4 6-1 5-1 5 4 5-2 5-9 5 7 5 6 5-4 6-4 5 4 5-1 5 0 5-3 5-5 6 3 5-4 5-2 5-3 5-1 6 0 5-6 5-2 5-4 6 3 5 6 5-1 5-1 6 1 5-3 5 2 5-7M1762 2239l4-4 4-2 5-5 4-6 4 3 5-9 4 3 5-11 4-2 4-12 5 0 4-5 5 5 5-4 4-5 5-2 5 1 5 1 4-7 5-2 5-2 4-7 5-2 5 2 5 0 6-1 5 0 5-3 5 5 5-3 5-4 6 0 5 0 5 1 5-2 5-5 5 6 5-4 5 0 6-3 5 1 5-2 5 7 5-3 5 5 5-7 5 6 6-6 5-2 5 3 5-2 5-5 5 2 6 1 5-6 5 3 5-7 5 3 6 4 5 0 5 2 5-1 6 4 5-2 5-5 5-7 6 2 5-1 5 0 5 0M1762 2240l4 0 4-9 5-2 4 2 4-4 5 3 4-7 5 8 4-11 4 3 5-10 4-2 5-5 5 2 4-8 5-4 5-2 5-3 4 5 5-4 5 3 4-8 5-1 5-3 5 0 6-4 5 0 5-1 5-6 5 1 5 0 6 0 5 2 5-5 5-3 5 2 5-1 5 4 5-7 6 3 5 2 5 5 5-1 5 2 5-2 5-1 5-1 6-7 5-3 5-2 5-2 5 3 5 1 6-3 5 1 5 2 5-6 5 5 6 5 5 0 5-4 5 2 6-8 5 1 5-5 5 4 6-2 5-4 5 0 5 5M1762 2246l4 0 4-2 5-5 4-7 4 1 5-5 4-5 5-6 4-6 4 3 5-4 4 2 5 5 5-2 4-8 5 2 5 1 5-7 4 1 5-8 5 7 4 2 5-11 5 0 5-4 6 2 5-2 5-2 5-7 5-3 5-5 6-4 5 4 5-6 5 2 5-5 5-5 5-1 5 4 6 3 5-5 5 1 5 2 5 0 5-1 5 0 5 3 6-8 5 3 5-3 5-1 5 0 5 8 6-2 5-2 5 4 5 0 5-1 6 2 5-4 5-2 5 5 6 3 5 0 5 1 5-3 6 2 5-2 5-1 5 2M1762 2242l4 2 4-6 5-6 4 0 4-4 5-14 4-5 5-1 4-3 4 2 5-2 4-6 5-1 5 0 4-5 5-4 5-1 5 1 4-1 5-7 5 2 4-5 5-6 5 7 5-6 6-9 5 7 5 5 5 0 5 1 5-2 6-2 5 4 5-3 5-5 5 5 5-4 5-2 5 1 6 3 5-5 5 5 5-3 5-1 5 0 5-5 5 3 6-2 5-3 5 3 5 0 5 2 5-1 6-7 5 4 5-1 5 4 5 4 6-2 5-3 5 4 5 0 6 0 5-2 5-1 5-4 6-2 5-9 5 4 5 6M1762 2258l4-4 4 3 5 4 4-4 4-11 5 4 4-2 5 2 4-5 4 1 5-2 4-4 5-1 5-1 4-9 5-6 5 7 5-4 4 1 5 0 5-9 4-4 5 0 5 4 5-7 6-1 5-5 5 1 5-9 5 0 5-4 6-2 5 4 5-4 5-3 5-2 5 1 5 0 5-13 6 6 5-3 5-1 5 1 5-2 5-5 5 3 5-1 6-5 5 5 5 5 5-2 5 0 5 0 6 3 5-2 5-5 5 2 5 4 6-6 5-2 5 3 5 4 6-7 5 4 5-4 5 5 6 3 5 2 5 0 5-6M1762 2273l4-4 4-11 5-8 4 6 4-8 5 0 4-10 5 1 4-4 4-6 5-2 4 1 5-1 5-2 4 1 5-5 5 6 5-7 4 1 5-6 5 3 4-7 5-7 5 3 5-1 6-5 5 3 5-4 5 7 5-7 5-9 6-4 5 5 5-2 5-1 5 4 5-10 5 4 5-8 6 0 5 4 5-2 5-3 5 6 5 1 5-3 5 1 6-1 5 0 5-4 5 7 5-9 5-6 6 1 5 8 5 0 5-3 5 2 6 6 5-2 5 6 5-4 6-6 5-1 5 2 5-3 6 8 5-2 5-2 5 1M1762 2238l4-2 4-5 5-4 4-5 4-4 5-3 4-5 5 1 4-5 4 3 5-10 4 0 5 0 5-1 4 5 5-10 5-7 5-2 4 10 5-6 5 2 4-4 5-1 5-2 5-4 6-4 5 0 5-2 5 0 5-2 5-3 6-2 5 6 5-3 5 7 5-6 5 6 5 0 5-1 6-3 5 1 5-2 5 1 5-2 5-7 5 2 5-3 6 3 5 2 5-5 5-3 5 0 5-6 6 0 5-4 5 6 5-7 5 3 6 3 5-5 5 8 5 0 6-1 5-4 5 3 5 0 6 5 5-4 5-4 5 2M1762 2255l4-13 4-1 5-7 4 1 4-8 5-3 4 0 5-11 4 1 4-13 5 9 4-3 5 0 5-8 4-5 5 8 5-6 5 7 4-5 5 3 5-10 4 2 5-3 5-3 5-3 6-6 5 0 5 0 5-6 5-2 5 5 6-3 5-7 5 5 5-2 5-1 5-4 5 4 5-1 6-5 5 3 5 3 5-4 5 5 5-7 5 3 5-1 6-7 5 3 5-6 5-5 5 8 5 4 6 1 5-1 5-6 5-2 5-1 6 1 5 4 5 3 5 8 6-2 5-6 5 0 5-2 6 4 5 1 5-3 5 4M1762 2243l4-3 4-7 5 5 4 0 4-11 5 0 4 1 5-10 4-3 4-6 5-2 4-3 5-3 5-4 4-7 5 1 5 0 5-11 4 3 5 3 5 5 4-6 5-4 5-1 5-3 6 5 5 1 5-2 5-9 5-3 5 1 6 5 5-3 5-2 5 1 5-5 5 1 5 0 5-8 6 8 5-9 5-1 5 3 5 1 5 0 5 0 5-1 6 5 5-2 5-4 5-1 5 0 5-2 6 1 5-2 5 3 5-2 5-5 6 0 5 4 5 7 5 1 6-3 5-3 5-2 5-4 6 0 5 2 5-2 5 0" stroke="#f2a2af" stroke-width="2.4" fill="none" transform="scale(.5)"/><path d="M2120 2175l5-6 5-3 5 5 5-8 5 1 5 2 5-5 5-1 5 5 5-3 5 7 5 0 5-4 5-2 5 5 5-5 5-2 5 0 5-3 5-1 5-3 5 4 5 0 5 4 5-5 5 0 5-2 5 2 5 4 5-3 5 0 6-4 5-1 5 5 5-5 5 2 5 0 5-4 5 2M2120 2212l5-5 5-5 5 2 5-3 5-3 5 0 5 0 5 3 5-5 5 4 5-3 5 10 5-5 5 0 5 1 5 7 5-5 5 3 5-2 5-3 5 3 5-7 5-3 5 8 5-3 5 2 5 5 5 1 5-7 5 0 5 6 6-4 5 9 5-4 5-4 5-4 5 0 5 2 5-10M2120 2194l5-7 5 3 5-7 5-1 5-2 5-13 5 4 5 4 5-4 5-1 5 4 5 3 5 5 5-3 5-3 5 2 5 0 5 3 5-6 5 2 5-1 5 3 5 0 5-2 5 4 5 1 5-7 5 2 5 0 5 4 5-8 6 3 5-7 5 4 5 6 5-1 5-2 5-6 5 2M2120 2182l5-1 5 2 5-3 5-6 5 6 5-9 5 10 5-5 5-6 5 3 5 7 5-8 5-3 5 5 5-2 5 5 5 0 5-2 5-3 5 2 5 1 5-7 5 3 5 0 5-3 5-2 5-5 5 3 5-3 5 2 5 0 6-1 5-1 5-2 5 1 5-4 5 0 5-3 5 6M2120 2206l5-2 5 5 5-2 5-3 5-4 5-1 5 5 5-8 5 6 5-6 5 5 5 2 5 9 5-7 5 1 5-1 5-1 5 0 5-1 5-2 5 3 5-3 5 2 5 0 5-10 5 8 5 1 5 5 5-3 5 5 5-5 6-7 5 8 5-2 5-5 5 0 5 2 5-2 5-10M2120 2190l5-4 5 6 5-6 5 4 5-2 5-3 5 3 5-6 5 8 5-5 5 7 5-1 5-2 5-1 5 5 5-3 5 2 5-2 5-2 5 1 5-4 5-4 5 7 5 0 5 3 5-6 5 0 5-7 5-4 5-1 5 3 6 0 5-4 5-2 5-9 5 12 5-6 5-6 5 0M2120 2177l5 1 5 0 5-2 5-1 5-6 5 0 5-2 5-1 5 4 5-2 5-1 5-2 5 5 5 2 5-3 5 5 5 2 5-5 5 8 5-6 5-1 5-1 5-4 5-2 5-2 5-2 5 6 5-6 5 9 5 0 5-6 6 5 5 0 5 3 5-5 5-4 5 3 5 2 5-3M2120 2211l5 2 5-5 5 9 5-7 5 4 5-6 5 5 5-3 5 5 5 2 5-3 5 6 5 4 5 2 5-3 5-4 5-1 5-2 5-3 5-1 5 4 5 0 5-8 5 7 5-3 5-1 5 4 5-1 5-5 5-4 5-5 6 8 5 3 5-5 5-2 5-5 5 4 5-4 5-1M2120 2216l5 1 5-1 5-4 5-2 5 6 5-5 5-5 5-2 5 1 5-3 5 1 5 1 5 4 5 3 5-5 5 4 5-5 5-1 5 5 5-4 5 3 5-4 5 1 5-5 5 5 5-5 5 0 5-5 5-1 5-5 5 0 6-1 5-1 5-1 5-5 5 6 5-1 5-1 5-1M2120 2191l5 9 5-6 5 2 5-1 5 5 5-7 5 7 5-1 5 0 5-4 5 2 5 2 5 5 5 4 5-3 5-3 5-4 5-6 5 4 5-1 5-6 5 7 5-9 5 6 5-3 5 0 5-2 5 6 5-2 5-5 5 6 6 3 5-8 5 6 5-8 5-2 5-2 5-2 5 4M2120 2211l5-1 5-2 5-2 5 5 5-3 5-4 5 4 5-1 5-2 5 1 5 1 5 1 5-1 5 4 5 5 5 1 5-1 5-1 5 2 5-4 5-5 5 4 5-3 5-1 5-2 5 3 5 0 5 3 5-2 5 2 5 4 6-3 5 1 5-1 5 3 5-4 5-7 5-4 5-5M2120 2184l5 0 5-1 5-3 5-4 5-1 5-7 5-1 5 1 5 2 5 5 5 0 5 1 5-3 5 6 5 0 5 6 5 5 5 0 5-9 5 10 5 3 5-1 5 5 5-1 5 0 5 1 5-8 5 0 5-2 5-3 5 8 6-1 5-2 5-2 5-5 5 4 5-9 5-1 5-1M2120 2205l5 3 5-4 5-2 5 5 5-6 5 1 5 0 5 3 5-9 5 7 5-2 5-3 5 0 5 3 5 5 5-3 5 1 5-3 5-8 5 6 5 3 5-4 5 6 5-7 5-3 5 6 5-5 5 4 5-3 5 0 5-1 6-2 5-8 5 4 5-3 5-1 5 5 5-5 5 5M2120 2218l5-1 5-2 5 4 5-1 5-3 5 1 5-7 5 0 5-4 5 3 5 5 5 0 5 1 5 1 5 2 5 5 5-6 5 9 5-3 5-1 5 3 5 4 5-8 5 4 5 2 5 0 5-6 5 0 5-6 5 5 5-8 6 0 5-5 5 2 5 4 5 1 5-13 5 12 5-4M2120 2223l5-1 5-4 5 5 5-4 5 3 5-2 5-3 5 2 5-3 5-1 5-2 5 0 5 0 5-2 5 8 5 0 5-5 5-2 5-2 5 2 5-3 5 0 5-6 5-1 5 1 5 3 5-2 5-2 5 5 5-2 5 1 6-4 5-7 5-1 5 9 5-7 5-1 5-2 5 0M2120 2228l5-2 5 4 5 1 5-4 5 5 5-1 5-11 5 9 5-4 5 4 5-2 5 5 5-4 5 1 5-2 5 1 5 1 5-5 5-1 5-3 5 5 5-4 5-1 5 3 5-6 5-3 5 2 5-10 5-1 5 1 5-1 6-4 5-3 5 1 5 2 5 4 5-10 5 7 5-4" stroke="#d35a62" stroke-width="2.2" fill="none" transform="scale(.5)"/><path d="M2140 2373l5 6 5-6 5 3 5 1 5-1 5 9 5-2 5 10 5-5 5 1 5 1 5 2 5 1 5 4 5 0 5-3 5 3 5 2 5-3 5 0 5-3 5 3 5 5 5-4 5 0 5-2 5 5 5-8 5-7 6 1 5-1 5-5 5-2 5 3 5-1M2140 2366l5-4 5 0 5 0 5 0 5 7 5 2 5-6 5 3 5-9 5 4 5-4 5 0 5 3 5-1 5 3 5-7 5-2 5 2 5-8 5 5 5-5 5 5 5 0 5 0 5 6 5-7 5 2 5 5 5-3 6 0 5 1 5 0 5 4 5 0 5-1M2140 2390l5 4 5-9 5 0 5 2 5 0 5 0 5 10 5-6 5 3 5 3 5-7 5-3 5-10 5 9 5-3 5 3 5 4 5-5 5-1 5 1 5 0 5 1 5-5 5-1 5 5 5 1 5-7 5 0 5-3 6 2 5 1 5-3 5 1 5 8 5-2M2140 2374l5-4 5 2 5 3 5 4 5 4 5-3 5 3 5 0 5 1 5-4 5 1 5 1 5-4 5-1 5 3 5-5 5 1 5 3 5-4 5-4 5 5 5-1 5-6 5-6 5 2 5-3 5-2 5 5 5 6 6-2 5-4 5-3 5 1 5 0 5 4M2140 2316l5-5 5 1 5-2 5 8 5 1 5-2 5 5 5 1 5-6 5 2 5 0 5-2 5-2 5-6 5 2 5 0 5 3 5 1 5-3 5-2 5 0 5 3 5 0 5-12 5 2 5-1 5-3 5 6 5-2 6-5 5-1 5 1 5 4 5-2 5-2M2140 2324l5-1 5-4 5-1 5 6 5 0 5 1 5 0 5-4 5 0 5-1 5 2 5-6 5-2 5-4 5 2 5 1 5-4 5 3 5-1 5-2 5-1 5 1 5-4 5 4 5-3 5 0 5 2 5-5 5 8 6-2 5 2 5-6 5 2 5 3 5 7M2140 2353l5 2 5-4 5 2 5 12 5-7 5 3 5 5 5-10 5 9 5 0 5-7 5 9 5-9 5-6 5 0 5 3 5-9 5 2 5-2 5-3 5-5 5-2 5 2 5-5 5-7 5 3 5 4 5-1 5 0 6 1 5-7 5-1 5 4 5-3 5-3M2140 2358l5-7 5 11 5 1 5 1 5-1 5 0 5 5 5 0 5 0 5-3 5 1 5-12 5 1 5 1 5 4 5 3 5-6 5-2 5 6 5-4 5 0 5-5 5 0 5 3 5-3 5-7 5 9 5-7 5-2 6-1 5 2 5-1 5-4 5-1 5-4M2140 2323l5 8 5-5 5 1 5 2 5 10 5-4 5-1 5 8 5-9 5 5 5 2 5-2 5-4 5-1 5-2 5 2 5 1 5-1 5 0 5-1 5-3 5 0 5 3 5-6 5 0 5 1 5 1 5-2 5 0 6-6 5-6 5 7 5-9 5 2 5-1M2140 2330l5 1 5-6 5 4 5 1 5 4 5 1 5 9 5 0 5 3 5-4 5 4 5-1 5 1 5-1 5 2 5-3 5 1 5-6 5-2 5 1 5-5 5-4 5 4 5 0 5-6 5 2 5-3 5-5 5 10 6-15 5 1 5 1 5 0 5-6 5 5M2140 2317l5 8 5 1 5-3 5 8 5 1 5 6 5 3 5-3 5-6 5-6 5 9 5-2 5 1 5 0 5-6 5-3 5 1 5 6 5 1 5-9 5-2 5 5 5-6 5-1 5 0 5-4 5 0 5 0 5 0 6 1 5-1 5-4 5-1 5-3 5-1M2140 2318l5 2 5 4 5 3 5-5 5 4 5 2 5 2 5-2 5-2 5 2 5 5 5-5 5-9 5-1 5 5 5 2 5-4 5-1 5-5 5-1 5 4 5-4 5 3 5 4 5-5 5 3 5-5 5-1 5 2 6 1 5-4 5-3 5-3 5 0 5-5M2140 2344l5 4 5 1 5-3 5-1 5 6 5-4 5 5 5 0 5-6 5 1 5-2 5-1 5 6 5-2 5 1 5-10 5 6 5-1 5 0 5 3 5-1 5 3 5-12 5 2 5-8 5 0 5-2 5-6 5-1 6-1 5 4 5 0 5-2 5 4 5 0M2140 2345l5-4 5 3 5-2 5-2 5-2 5 6 5 3 5 4 5-3 5-5 5 1 5 5 5-5 5 0 5-6 5 1 5 6 5 2 5-4 5-8 5 11 5-8 5-1 5-1 5-7 5-1 5 1 5-3 5-4 6 10 5-7 5 2 5-1 5 0 5 5M2140 2346l5 0 5-2 5 7 5 1 5-1 5 2 5 7 5 1 5 2 5 0 5-1 5 1 5-9 5 1 5 0 5 3 5 1 5 1 5-1 5 0 5 2 5-6 5 6 5-6 5 0 5-2 5 0 5 7 5-10 6-2 5 0 5 1 5 2 5-1 5-6M2140 2366l5 0 5 4 5-8 5 7 5-3 5-4 5 1 5-3 5 2 5 1 5-1 5 1 5-1 5-6 5 3 5 2 5-2 5-1 5-4 5 3 5 2 5-7 5 1 5 2 5 0 5-2 5-1 5-1 5 3 6-3 5 1 5 6 5-2 5 3 5-6M2140 2364l5-2 5 5 5 2 5 6 5 2 5-3 5 0 5-1 5-8 5 5 5-13 5 10 5-5 5 2 5 5 5-2 5 2 5-6 5 1 5 1 5-4 5 3 5 0 5-2 5 3 5 5 5-4 5 4 5 2 6-9 5 5 5-3 5-2 5 3 5 0M2140 2351l5-1 5 2 5 5 5 1 5 6 5-1 5 1 5 4 5-1 5 2 5 2 5-4 5 1 5-2 5 3 5-3 5 4 5-7 5 1 5 0 5 0 5-3 5-3 5 2 5 0 5 2 5-7 5 2 5-9 6 5 5-6 5 0 5-3 5 3 5-5M2140 2373l5-2 5 6 5-5 5 1 5 6 5 0 5-1 5 1 5 4 5-4 5-6 5 6 5-5 5-2 5-4 5-1 5 4 5-3 5-1 5-2 5-2 5 3 5 7 5-16 5 6 5-7 5 6 5-5 5-5 6 5 5-2 5 0 5-1 5 4 5-6M2140 2319l5 0 5 6 5-9 5 13 5-1 5 0 5 3 5 7 5-3 5-3 5 6 5-8 5-1 5 1 5-2 5-5 5 0 5 3 5-4 5 0 5-8 5 4 5 11 5-6 5-1 5 4 5-4 5-5 5 3 6 0 5-8 5-6 5 3 5-3 5 6M2140 2319l5-1 5 2 5 3 5 4 5 3 5 0 5 4 5-3 5 1 5 0 5 5 5 3 5 0 5 3 5-4 5 1 5-8 5-4 5 6 5-4 5 3 5 0 5 1 5-4 5-2 5-1 5 0 5 1 5-7 6-2 5 4 5-1 5-7 5-3 5 5M2140 2344l5-1 5 2 5 6 5-1 5-1 5 5 5-6 5 8 5-1 5 4 5 1 5-3 5-1 5-10 5 7 5 1 5 0 5-4 5-1 5 2 5 2 5-2 5 3 5 3 5-1 5 0 5 2 5 1 5 10 6-1 5 2 5-4 5-2 5-3 5 3" stroke="#f2a2af" stroke-width="2.4" fill="none" transform="scale(.5)"/><path d="M1762 2298l4 0 4-8 4 0 4-11 4 3 4-10 4-2 4-10 4 2 4-5 4-7 4 3 5-8 5 7 5-7 5 1 5-1 5-7 6 4 5 1 5-2 5 3 5-2 5 2 5-2 6-2 5 0 5-2 5 6 5-1 5 1 6-8 5 1 5 0 5 5 4 1 5-11 5 7 5-4 5 2 5-6 5-3 4 1 5-3 5 0 5-2 5 1 5-11 5 0 5-2 5-1 5 3 5-4 5-1 5 0 5-5 5-1 5-4 5 8 4-2 5 4 5-5 5 3 5 1 2 14 1-2 2 6 2 3 2 6 2 4 1 8 2 2 2 6 2 7 2-1 1 0 2 12 2 2 2 13 2 4 1 3 2-2 2 11 2 1 2 7 1 3 3 11 3-2 3 1 3 5 3 8 2 0 3 3 3 6 3 5 3 4 2 8 3 6 2 2 3 6 3 3 2 2 3 9 2-2 3 1 2 7 3-3 1 5 1-2 0-7 1 1 1-11 1-10 0-1 1-5 1-7 1-2 0-5 1 2 1-3 1-8 0-4 1-5 1-7 1-2 1-8 0-8 1-2 1-7 3-5 3-4 3 0 4-9 3-4 3-2 3-4 4-2 3-6 3-11 3 2 4-1 3-6 3-3 5-11 4 1 5-2 4-4 5-1 4 3 5-5 4-1 5 1 4-2 5-2 5 4 4-1 5-1 5-4 5 2 4-3 5-1 5-4M1762 2282l4 2 4-3 4-3 4-5 4-3 4-2 4-4 4 0 4-9 4 0 4-5 4-2 5 5 5-7 5-4 5 3 5-1 5 8 6-1 5-1 5 2 5-1 5 1 5-8 5 4 6-1 5-4 5-6 5 2 5 2 5 2 6-12 5 2 5 0 5 4 4-3 5-4 5-4 5 1 5-6 5-2 5 2 4-1 5-6 5-7 5 4 5-4 5 0 5-9 5 5 5-9 5-3 5-3 5 0 5-5 5 5 5-7 5 5 5 7 4 1 5 2 5 1 5 5 5-1 2-2 1 18 2 2 2 2 2 4 2 11 1 1 2 7 2 11 2 4 2 14 1-2 2 8 2 5 2 6 2 9 1 2 2-1 2 6 2 9 2-1 1 8 3-2 3 9 3 13 3 6 3 5 2 2 3 9 3 0 3 8 3 2 2 6 3 0 2 2 3 5 3 0 2 0 3 10 2 2 3 13 2 3 3 0 1-1 1-12 0-2 1-6 1-8 1-5 0-5 1-3 1-10 1-5 0-2 1-3 1-9 1-2 0-3 1-4 1-4 1-3 1-5 0-8 1 1 1-9 3 0 3-6 3-6 4-13 3 3 3-12 3-4 4 2 3-8 3-2 3-6 4-9 3 4 3-3 5-5 4-7 5 4 4-4 5-3 4-3 5-2 4-4 5-7 4-4 5-3 5-2 4-4 5 1 5-5 5-5 4 1 5-3 5-3M1762 2304l4 1 4-5 4-3 4-2 4-5 4-5 4-9 4-7 4 3 4-7 4-15 4 5 5-1 5-7 5-5 5-1 5 0 5 0 6-2 5 6 5-5 5 2 5-1 5-6 5 4 6 2 5 2 5-6 5-4 5 3 5-6 6 2 5-2 5 1 5-2 4 2 5-3 5-5 5 9 5 6 5-10 5 9 4-1 5-4 5 4 5 3 5-5 5-2 5 0 5-2 5 3 5-12 5-1 5 0 5-6 5 2 5-7 5 5 5-1 4 0 5 8 5-9 5 3 5 7 2-2 1 9 2 4 2 0 2 8 2 0 1 7 2 5 2 9 2-5 2 1 1 8 2 4 2 8 2 2 2 15 1-11 2 5 2 8 2 8 2 5 1 5 3 12 3 4 3-5 3 10 3-4 2 6 3 13 3 3 3 6 3 8 2 9 3 5 2 3 3 6 3 6 2 5 3 6 2 2 3 2 2 6 3 15 1-8 1-14 0-1 1-3 1-7 1-3 0-2 1-5 1-3 1-9 1-8 1-7 1-8 0-9 1-2 1 0 1-12 1-5 0-11 1 2 1-13 3-4 3-2 3-1 4-1 3 1 3-11 3 1 4-6 3-1 3-9 3-3 4-3 3-5 3-7 5 0 4 0 5-8 4 4 5-5 4-1 5-8 4-5 5 0 4 0 5-6 5-2 4-2 5-2 5 1 5-6 4-5 5 1 5-3M1762 2303l4-7 4-5 4-2 4-2 4-5 4-1 4-2 4 0 4-4 4-6 4-3 4 0 5-4 5 3 5 6 5-5 5-4 5-3 6-2 5 0 5-4 5 4 5-1 5 4 5-6 6-5 5 6 5-2 5 1 5-4 5 4 6-2 5 1 5-2 5-5 4-1 5-2 5-10 5-1 5-6 5 1 5 4 4-5 5-9 5-9 5 7 5 0 5-9 5 3 5-1 5-7 5 2 5-3 5 6 5-7 5 1 5-3 5 2 5 5 4 8 5-2 5-2 5-4 5 11 2-5 1 13 2-5 2 10 2 1 2 9 1 3 2 6 2 4 2 9 2 1 1 10 2 8 2 5 2 3 2-3 1 10 2 3 2 5 2 9 2-1 1 9 3 2 3 8 3 1 3 1 3 6 2 8 3 9 3-5 3 8 3 3 2 11 3 4 2 5 3 1 3 8 2 11 3 4 2 7 3-1 2 4 3 5 1-3 1-7 0-5 1-2 1-11 1 1 0-7 1-2 1-8 1-7 0-13 1-1 1-12 1-3 0-8 1-2 1-7 1-2 1-7 0-1 1-6 1-8 3-2 3 0 3-4 4-5 3-6 3 0 3-6 4-1 3-1 3-11 3-4 4-7 3 0 3 2 5-7 4-4 5-1 4-5 5 5 4-4 5-8 4 1 5-3 4-5 5 1 5-8 4 6 5-2 5 2 5-8 4 6 5-8 5 6M1762 2310l4 0 4 2 4-5 4-1 4-1 4-8 4 1 4-4 4-2 4-2 4-11 4-1 5 2 5 3 5-4 5-1 5-6 5 0 6-3 5-3 5-2 5-2 5-5 5 2 5-5 6-3 5 6 5-5 5 2 5 4 5-1 6-2 5-9 5 11 5-11 4 0 5-3 5-1 5 1 5-3 5-3 5 2 4-3 5-3 5-6 5 0 5-2 5-2 5 3 5 1 5-8 5-1 5 1 5-2 5-6 5 3 5-2 5-1 5 12 4 2 5-3 5 5 5 5 5 4 2 4 1 4 2 7 2 9 2 4 2 3 1-2 2 10 2 1 2 8 2 3 1 1 2 7 2-3 2 4 2 8 1 5 2 10 2 5 2 3 2 1 1 8 3 4 3 4 3 11 3-1 3 8 2 4 3 6 3 1 3 10 3 3 2 11 3-6 2 7 3 1 3 7 2 3 3 0 2 15 3 4 2-1 3 5 1-4 1-1 0-6 1-4 1-9 1-10 1-5 1 1 1-13 0-5 1-3 1-5 1-8 1-5 1-5 1-3 1-3 0-16 1 1 1 0 3-14 3-5 3-5 4-4 3 0 3-4 3-5 4-3 3-2 3-11 3-7 4-1 3 4 3-10 5 1 4-7 5 2 4-1 5-8 4 1 5-1 4-7 5-3 4-3 5 2 5-5 4-4 5-4 5-2 5 1 4-6 5 1 5-3M1762 2281l4-5 4-8 4 4 4-9 4-2 4-3 4-4 4-6 4-4 4-3 4-2 4-2 5-2 5 4 5 0 5-4 5 2 5-7 6-2 5 1 5 1 5 0 5 5 5 1 5-9 6 0 5 3 5 0 5-9 5 2 5-3 6 0 5-5 5 4 5 5 4-5 5 0 5-1 5-1 5-6 5 1 5-4 4 0 5-8 5-6 5 4 5-1 5-6 5 8 5-1 5-6 5-1 5-7 5 0 5-2 5-2 5 1 5-4 5-4 4 14 5-5 5 3 5-4 5 5 2 2 1 7 2 2 2 7 2 7 2 10 1 1 2 10 2 1 2 4 2 7 1 0 2 4 2 4 2 3 2 9 1 1 2 10 2-3 2 11 2 5 1 2 3 10 3 7 3-1 3 4 3 3 2 3 3 0 3 13 3-2 3 3 2 9 3 3 2 11 3 1 3 8 2 7 3 7 2 3 3 5 2 2 3-3 1 6 1-6 0-6 1-6 1-1 1-2 0-9 1-10 1-1 1-2 0-3 1-3 1-8 1-6 0-1 1-8 1-8 1-6 1 2 0-5 1-4 1 0 3-6 3-4 3 1 4-4 3-6 3-11 3-1 4-7 3-4 3-8 3 3 4-10 3-3 3 3 5-2 4-2 5 4 4-14 5-1 4-1 5-4 4-4 5 2 4-7 5 1 5 1 4 0 5-5 5-4 5 3 4-2 5-10 5 4M1762 2324l4-2 4-9 4-2 4 4 4-5 4-6 4-3 4-2 4-12 4-6 4 2 4-9 5 1 5-5 5 3 5-5 5 2 5 0 6-2 5 5 5-4 5 6 5-4 5 4 5 3 6-8 5 1 5 1 5-5 5 1 5-5 6 2 5-4 5-1 5-9 4 3 5-3 5-4 5-6 5-8 5-4 5 5 4 4 5-6 5 0 5-5 5 3 5-5 5 1 5-2 5-5 5-4 5-1 5 0 5-3 5 0 5 0 5-2 5 3 4 1 5 2 5-1 5 6 5-3 2 8 1 4 2 7 2 10 2 7 2 4 1 12 2-1 2 8 2 2 2 1 1 11 2 6 2 2 2 6 2 4 1 4 2-1 2 4 2 9 2 4 1 12 3-10 3 4 3 4 3 12 3 7 2 1 3 8 3 7 3 4 3 6 2 5 3 8 2 0 3 6 3 1 2 8 3 2 2 6 3-3 2 10 3 2 1-5 1-5 0-7 1-1 1-10 1-3 0-6 1-4 1-7 1-1 0-10 1-3 1-6 1-5 0-4 1-5 1 1 1-12 1 6 0-9 1-4 1-7 3-11 3 3 3 1 4-7 3-7 3-2 3-7 4-3 3-10 3 1 3-8 4 3 3-3 3-6 5 2 4-8 5-3 4-5 5-4 4-1 5-7 4 3 5 4 4 2 5-5 5-4 4 3 5-4 5-2 5 1 4-6 5-2 5-1M1762 2285l4 1 4-1 4-7 4-1 4-3 4 0 4-3 4-11 4-1 4-2 4-6 4 0 5-5 5-1 5 4 5 0 5-4 5-2 6 5 5-4 5 5 5-8 5-1 5 1 5-1 6-4 5-3 5-8 5 6 5 8 5-9 6 3 5-2 5-3 5-3 4-3 5 6 5-10 5 4 5-9 5 2 5-1 4-2 5 3 5-3 5 4 5 0 5-1 5 3 5-7 5 4 5-6 5 2 5-2 5-4 5 5 5 2 5-2 5-2 4 3 5-2 5 5 5 4 5 3 2 3 1 6 2 11 2 0 2 8 2 3 1 1 2 4 2 9 2-2 2 8 1-2 2 3 2 11 2 0 2 1 1 7 2 14 2-6 2 6 2 7 1 6 3 0 3 6 3 3 3 3 3 9 2 4 3 6 3 8 3-1 3 11 2-1 3 8 2 8 3 1 3 1 2 6 3-3 2 3 3 7 2 5 3 3 1-5 1-6 0 4 1-13 1-5 1 3 0-2 1-16 1-6 1 0 0-3 1-9 1-7 1-7 0 2 1-12 1-5 1-3 1 2 0-8 1-4 1-6 3-11 3-1 3 1 4-9 3-1 3-3 3-11 4 0 3-3 3-7 3-9 4 1 3-1 3-11 5-8 4-3 5-3 4-5 5 9 4-10 5 5 4-5 5-1 4-4 5 1 5-4 4-5 5-3 5 1 5-1 4-4 5-3 5 2M1762 2295l4-1 4-4 4-8 4 2 4-6 4-3 4-3 4-3 4 0 4-5 4-9 4-3 5-6 5-2 5-1 5 1 5-4 5 2 6-6 5 0 5-2 5-3 5-5 5 3 5-2 6-3 5 5 5 1 5 4 5-4 5-3 6 1 5-2 5 0 5-2 4-6 5 3 5-9 5 0 5 0 5 3 5-7 4 2 5-1 5 1 5-6 5 1 5-4 5-2 5 2 5-4 5-4 5 0 5 5 5-4 5-5 5 2 5 5 5 4 4-3 5 1 5 5 5-1 5 5 2 9 1 2 2 10 2 0 2 5 2 4 1 6 2 5 2 5 2 11 2 3 1 1 2 10 2-1 2 5 2 6 1 4 2 9 2 5 2 4 2 7 1 3 3 3 3 1 3 5 3 0 3 8 2 6 3 8 3 2 3 7 3 3 2 3 3 1 2 5 3 0 3 6 2 2 3 6 2 0 3 10 2 7 3 11 1-9 1-2 0-8 1-3 1-10 1-3 0-11 1-4 1-4 1-6 0-5 1-2 1 0 1-4 0-10 1-9 1-5 1-5 1 4 0-9 1-2 1-11 3-6 3-11 3 3 4-8 3 1 3-7 3-7 4 3 3-15 3-3 3-2 4-7 3-4 3-4 5-5 4 2 5-4 4-5 5 5 4-11 5-7 4 0 5-3 4-1 5-1 5-3 4 2 5-1 5-3 5-2 4 0 5 0 5-1M1762 2280l4-4 4 5 4-7 4-3 4-8 4-2 4 3 4-5 4-12 4-4 4-1 4 8 5-8 5 8 5-6 5-1 5-6 5 0 6 4 5 0 5 3 5 1 5-2 5 2 5-11 6 3 5 2 5-9 5 5 5 2 5-8 6 4 5-1 5 1 5-6 4-7 5 1 5-1 5 0 5-6 5 0 5 0 4 4 5-12 5-1 5-6 5 10 5-11 5-2 5 1 5 0 5-1 5-8 5 3 5-6 5 4 5-3 5 2 5 1 4-1 5 7 5 2 5-2 5 6 2 3 1 2 2 7 2 4 2 5 2-3 1 5 2 12 2 12 2 4 2 7 1 7 2 6 2 4 2 4 2 5 1 10 2 4 2-1 2 5 2 8 1 4 3 2 3 1 3 15 3 1 3 9 2 9 3 3 3 10 3 4 3-5 2 2 3 9 2 0 3 6 3 11 2-1 3 3 2 3 3 5 2 7 3 6 1 1 1-9 0-9 1-13 1 3 1-5 1-9 1-8 1-3 1-11 1-6 1-11 0-6 1-9 1-1 1-7 1-4 0-3 1-15 1-3 3-4 3 2 3-5 4-5 3-5 3-6 3-5 4-7 3-1 3-4 3-6 4 3 3-7 3-7 5-5 4 2 5-1 4-4 5-5 4 2 5-3 4-2 5 1 4-3 5-2 5-5 4-1 5 1 5-2 5-11 4 0 5-1 5-4M1762 2334l4-5 4-3 4-3 4-3 4 0 4 0 4-4 4-6 4-9 4 3 4-4 4-4 5 3 5-5 5-4 5 1 5-5 5 3 6-6 5 4 5-5 5 2 5-7 5 6 5-1 6 1 5-2 5-5 5-7 5-1 5 5 6-10 5 3 5-4 5 0 4 2 5-4 5 2 5-9 5-1 5-3 5-1 4-9 5 5 5 5 5-6 5 0 5 2 5-5 5 5 5-2 5-3 5-2 5 0 5-4 5 2 5-2 5 3 5-3 4 7 5-3 5 8 5 6 5-8 2 13 1 6 2 4 2 6 2 4 2 4 1 10 2 4 2-2 2 4 2-4 1 11 2 7 2 6 2 1 2 3 1 8 2 5 2 3 2 4 2 1 1 8 3 10 3 6 3-3 3 8 3 2 2 8 3 10 3 3 3 12 3 0 2 1 3 5 2-5 3 12 3-7 2 5 3 8 2 1 3 7 2 7 3 7 1-8 1-7 0-2 1-7 1-8 1 0 0-4 1-5 1-5 1-7 0 2 1-8 1-4 1-1 0-6 1-1 1-5 1-6 1-14 0-1 1-4 1-4 3-7 3-8 3 1 4-5 3-5 3-10 3-6 4-6 3 1 3-3 3-2 4-5 3-1 3-9 5 0 4-10 5-1 4-5 5-1 4-1 5-1 4-11 5 10 4-13 5 3 5-3 4 2 5 1 5-10 5 5 4-5 5-2 5 1M1762 2299l4 1 4-11 4 3 4-5 4 0 4-12 4 4 4-4 4-7 4-4 4 0 4-3 5 3 5-5 5 3 5-2 5 1 5-3 6-1 5 2 5-5 5-3 5 0 5-4 5 3 6-2 5-3 5-7 5-5 5 2 5 5 6-6 5 3 5 1 5-5 4-2 5-2 5-6 5 1 5-2 5-2 5 1 4-3 5 1 5 1 5-5 5-3 5 3 5-3 5-6 5 4 5-7 5 1 5-3 5-5 5-1 5 2 5 4 5 2 4 1 5 4 5-1 5 8 5 0 2-3 1 6 2 1 2 7 2 5 2-2 1 5 2 9 2 9 2 2 2 6 1 10 2-1 2 2 2 9 2-2 1 14 2 7 2 4 2 5 2 10 1 2 3 6 3 0 3 6 3 9 3 2 2 6 3 4 3 7 3 3 3 7 2 3 3-2 2 14 3-3 3 10 2 2 3 4 2 6 3 11 2 0 3 3 1-10 1 1 0-3 1-11 1-3 1-6 0-3 1-9 1-5 1-7 0-1 1-2 1-7 1-6 0-5 1-3 1-12 1-1 1-2 0-4 1-1 1-4 3-6 3-5 3-6 4-3 3-4 3-6 3-3 4-5 3-2 3 0 3-12 4 5 3-3 3-6 5 3 4-12 5-2 4 3 5-6 4 2 5-6 4 0 5-3 4-2 5-1 5-5 4-5 5-1 5 1 5-3 4-6 5-2 5 2" stroke="#d35a62" stroke-width="2.2" fill="none" transform="scale(.5)"/><path d="M1762 2386l3-5 4-10 3-7 4 1 3-1 4-5 3-9 4-1 3-4 4-8 3-6 5-5 4-8 5 4 4-8 5 2 5-7 4 2 5 5 5 4 4-4 5-6 4-4 5 2 5 1 5 1 5 6 5 1 5 6 5 7 5-6 5 5 5 5 5 8 5 2 5 5 5 0 5-3 5-7 5 3 5 1 5 5 5-7 5 4 5 7 5 0 5 3 5-13 4 6 4 5 4 3 4 4 4-4 4-1 4-3 4 2 4 8 4 3 5 0 4 0 5 6 4 0 5 3 5 3 4 2 5 0 5 3 4 0 5-2 4 4 5 2 5 2 5 0 5 6 5-2 5 9 5-2 5 7 5-1 5-3 5-2 5-1 5 0 5 6 5-1 5-8 5 9 5 0 5-5 5 3 5-2 5 3 5-6 5 1 5 2 5-4 5 6 5-6 5 5 5-4 5-4 5 4 5-4 5-10 5-1 5 3 5-7 5 2 5-7 5 2 6-3 5-3 5-1 5 1 5-3 5-4 5 1 5 0M1762 2371l3 0 4-1 3-2 4-5 3-8 4 1 3-7 4-10 3 2 4-5 3-1 5-3 4 3 5-7 4-3 5 1 5-5 4-9 5 6 5-7 4-4 5 2 4-8 5 6 5 1 5-1 5 1 5 1 5-5 5 5 5 1 5-2 5-1 5 7 5 0 5 1 5-1 5 3 5-9 5 5 5 6 5 3 5 5 5 0 5 3 5-5 5 0 5 4 4-3 4 3 4 8 4-1 4-1 4 7 4 3 4 8 4 2 4 6 5 12 4-2 5-1 4 1 5 5 5-3 4 2 5 2 5 6 4 6 5-4 4 3 5 3 5 6 5-4 5 8 5-7 5-1 5 8 5-8 5-1 5 1 5-4 5-3 5 3 5-9 5 2 5 1 5 2 5 2 5-5 5-3 5-4 5 4 5 0 5-8 5 7 5 3 5-3 5-2 5 0 5-4 5-5 5 9 5 1 5 2 5 3 5-13 5 3 5-7 5 6 5-6 6 2 5-9 5 3 5 10 5-2 5-3 5 1 5-9M1762 2364l3-7 4-8 3-4 4-4 3 1 4-2 3-4 4-5 3-2 4 2 3 0 5-3 4 2 5-6 4-2 5-6 5-3 4-5 5-2 5-11 4 3 5-10 4 3 5 1 5-3 5-1 5-1 5 1 5 7 5 2 5-1 5 3 5-2 5-2 5-5 5 2 5 5 5 2 5-5 5 1 5 0 5-2 5-1 5 2 5 3 5 4 5-2 5 2 4 4 4 7 4 12 4-1 4 5 4 8 4-3 4 0 4 1 4-4 5 7 4 5 5 1 4 4 5 2 5 6 4-1 5 2 5-3 4 0 5 5 4 2 5 6 5-2 5-1 5 9 5 2 5 2 5-1 5 0 5 4 5-3 5 1 5 4 5-6 5-2 5 1 5-1 5-2 5 5 5 5 5-2 5 1 5-1 5-3 5-5 5-2 5 1 5 3 5 1 5-5 5-1 5-3 5-1 5 0 5 1 5 0 5-2 5 1 5 5 5-8 5-5 6 5 5-6 5 2 5 0 5-5 5 6 5-3 5 2M1762 2349l3-3 4-6 3-1 4-8 3 3 4-5 3-5 4-2 3-4 4-6 3-5 5-3 4-1 5-4 4-3 5-5 5-5 4 2 5-1 5-3 4-5 5 4 4 1 5-3 5-3 5-1 5-2 5-5 5 4 5 2 5-2 5 10 5 1 5 3 5 1 5 1 5-5 5 3 5 3 5 1 5 5 5 0 5-5 5 6 5-2 5 2 5-3 5 2 4 1 4 10 4-6 4 10 4 5 4 3 4 7 4 5 4 0 4 5 5 4 4-4 5 3 4 6 5 3 5 3 4-2 5 9 5-1 4 1 5 2 4 2 5-2 5 7 5-4 5-3 5 0 5 9 5-1 5 2 5 5 5 2 5-6 5 0 5 0 5 2 5 1 5 1 5-10 5-3 5 7 5-2 5-6 5 7 5 1 5-5 5-3 5 0 5 1 5 2 5 0 5 2 5-1 5-5 5-6 5 0 5-1 5-7 5-2 5-1 5-5 5 3 6-1 5-7 5-3 5 1 5 4 5-3 5 1 5 1M1762 2352l3-1 4-2 3-7 4-7 3 3 4-4 3-11 4-5 3-8 4 1 3-5 5 1 4-5 5 0 4-6 5 7 5-6 4-2 5-1 5-10 4 1 5-2 4 1 5-10 5 2 5-3 5 2 5 2 5-3 5 6 5 1 5-4 5-6 5 1 5 3 5 4 5-2 5-3 5 2 5 7 5-5 5 9 5 5 5-3 5 5 5-1 5 8 5 4 4-5 4 10 4 5 4 1 4 5 4 0 4 4 4 6 4 6 4 1 5 3 4 0 5 2 4 5 5-2 5 5 4 1 5 2 5 1 4 6 5-4 4 5 5 4 5 4 5-1 5 3 5 3 5-5 5 11 5-8 5 4 5-5 5 5 5 2 5-8 5-1 5 2 5 0 5-9 5 0 5-4 5 2 5 2 5-3 5 5 5-6 5-4 5 1 5-5 5 4 5-5 5 0 5-5 5 2 5 1 5-8 5 2 5 3 5-6 5 1 5 6 5-4 6-1 5 3 5 2 5 0 5 3 5-7 5 1 5 3M1762 2390l3-1 4-4 3-7 4-3 3-2 4-10 3 2 4-2 3-6 4-7 3 6 5 1 4-4 5-8 4-2 5 2 5-7 4-4 5-4 5-6 4-1 5-2 4-7 5 0 5 2 5-1 5-3 5 1 5 1 5 3 5-9 5 0 5 4 5 5 5-3 5-2 5-6 5 9 5-2 5 4 5 4 5 3 5-1 5 7 5-5 5 1 5-4 5 6 4 4 4 9 4 3 4-2 4 0 4 11 4 6 4 1 4 7 4-1 5-3 4 4 5 5 4 2 5 10 5-8 4 3 5 4 5 2 4 4 5 4 4 5 5 2 5 10 5 2 5 4 5-5 5 2 5-2 5-2 5 5 5-4 5 0 5 1 5-1 5-2 5-5 5 5 5 0 5 2 5-11 5 1 5-4 5 0 5-3 5-1 5 3 5 1 5 1 5-4 5-1 5-5 5 7 5 0 5-4 5-3 5-1 5 3 5-6 5 3 5 9 5-8 6 3 5 2 5 0 5-2 5-3 5 6 5-5 5-1M1762 2370l3-4 4-7 3-9 4 8 3-9 4-1 3-9 4-1 3 3 4-12 3 7 5-9 4-2 5-2 4 0 5-6 5 0 4-4 5 3 5-10 4-8 5 8 4-8 5 0 5 5 5 5 5-2 5-3 5-6 5 4 5 0 5 4 5 3 5-4 5-1 5 6 5-4 5 8 5 2 5-2 5 1 5 5 5 0 5-1 5-2 5 5 5 5 5-5 4 2 4 5 4 9 4 4 4 5 4 1 4 2 4 3 4 8 4-1 5 1 4-2 5 4 4-2 5 3 5-1 4 0 5 4 5 3 4 6 5-5 4 0 5 3 5-1 5 8 5 1 5-1 5 4 5-2 5 4 5-6 5 2 5-5 5 2 5-2 5 5 5-5 5 2 5 2 5-8 5 2 5 2 5-1 5-4 5-4 5 1 5-5 5-1 5 5 5-8 5-5 5 5 5 4 5-3 5 0 5 2 5-6 5 1 5-7 5 3 5 8 5-8 6 3 5-2 5 8 5-3 5-2 5-2 5-3 5 6M1762 2341l3-2 4 0 3-3 4-4 3-3 4-8 3-15 4 0 3 2 4-3 3-7 5-1 4-6 5 2 4-4 5 0 5-4 4 3 5-8 5 4 4-6 5-3 4-1 5-4 5 2 5 1 5 5 5-6 5 4 5 4 5 2 5 5 5-8 5 8 5 1 5-3 5 1 5 0 5 3 5 7 5 1 5 3 5 4 5-4 5-1 5-9 5 5 5 5 4-5 4 10 4 5 4-3 4 1 4 15 4-12 4 3 4 5 4 0 5 3 4 0 5 0 4 4 5 5 5-5 4 7 5 4 5 4 4 6 5 0 4 3 5 0 5 13 5-11 5-2 5 3 5 3 5 2 5 3 5 5 5-6 5 7 5 2 5 3 5-6 5 0 5 3 5 1 5-1 5 4 5-7 5-1 5 4 5 5 5-10 5-2 5-1 5-2 5 1 5-2 5 2 5-2 5-5 5-3 5-1 5 4 5 2 5-10 5-5 5 1 5-1 6-5 5 1 5 2 5 0 5-3 5 0 5-4 5 8M1762 2389l3-6 4-9 3 6 4-4 3-7 4 0 3-2 4-8 3-9 4-2 3 3 5-5 4-9 5-4 4-2 5-1 5-4 4 4 5 0 5-4 4 7 5-10 4-5 5 8 5 1 5-4 5 2 5 3 5-1 5 3 5-3 5-1 5 5 5 3 5 1 5 0 5-8 5 0 5-3 5-3 5 1 5 1 5 3 5-2 5 8 5-8 5 12 5 1 4 5 4 3 4 0 4 5 4 7 4 4 4 2 4 4 4 4 4 0 5 8 4 3 5 3 4 4 5 2 5 9 4-5 5 7 5 2 4 4 5 6 4 0 5-3 5 2 5-7 5 9 5-2 5 0 5 5 5-2 5-3 5-1 5 0 5-1 5 5 5-5 5 0 5-5 5-2 5-5 5 9 5-4 5 6 5-12 5 6 5 1 5-3 5-15 5 7 5-9 5-1 5-1 5-1 5 4 5 3 5-2 5-5 5-2 5-1 5 0 5 5 5-4 6-6 5 5 5-3 5-2 5 1 5 2 5-7 5 8M1762 2372l3-13 4 3 3-3 4-2 3-13 4 8 3-7 4 1 3-10 4 3 3-5 5-5 4-4 5-6 4-3 5 7 5-16 4 3 5-8 5 0 4 2 5-5 4-3 5-5 5 5 5 4 5-2 5 4 5 0 5-2 5 2 5 6 5-3 5 1 5-2 5 0 5 3 5 10 5-4 5 3 5 6 5-5 5 2 5 1 5 1 5 3 5 2 5 4 4 1 4-2 4 4 4-1 4 5 4 7 4 3 4 4 4 3 4 4 5-8 4 1 5 9 4 1 5 4 5 9 4 0 5 4 5 3 4 0 5 6 4-2 5 10 5 2 5 0 5-1 5-1 5 0 5 1 5-6 5 6 5 1 5 0 5-10 5 6 5-4 5 0 5 1 5 0 5 2 5 0 5 1 5-12 5 5 5 2 5-7 5 0 5 2 5-5 5 3 5-8 5 0 5 3 5-4 5-1 5-5 5 1 5 4 5-1 5-8 5 6 5-7 6-4 5 2 5-1 5-3 5 0 5 1 5-4 5 5" stroke="#8a1a24" stroke-width="2.2" fill="none" transform="scale(.5)"/><path d="M2008 2204l6-4 9-7 10 0 8 17 1 4 1 5 1 6 1 6 1 7 0 8 1 8 1 9 1 9 0 9 1 9 1 10 1 10 0 10 1 9 1 10 0 9 1 10 1 9 0 8 1 8 1 8 0 7 1 6 1 6 0 5 1 4 1 3 1 2 0 1 1 0 1-2 1-3 1-3 1-5 1-6 1-7 1-8 1-8 1-8 1-10 1-9 1-10 1-10 1-10 1-10 1-10 1-10 1-9 1-9 1-8 1-8 1-7 1-6 1-6 1-4 9-15 9-1 9 4 6 2" stroke="#8a1a24" stroke-width="2.2" fill="none" transform="scale(.5)"/><path d="M2083 2187l7-11 8 17 1 4 0 5 0 5 1 7 0 6 0 7 1 8 0 8 0 9 1 8 0 10 0 9 1 9 0 10 0 9 0 10 1 9 0 10 0 9 0 9 1 8 0 9 0 8 1 7 0 7 0 7 0 6 1 5 0 4 0 4 1 3 0 2 0 1 1 0 0-1 1-3 0-4 0-4 1-6 0-6 1-8 0-8 0-8 1-9 0-10 1-10 0-9 1-11 0-10 0-10 1-10 0-9 1-9 0-9 1-9 0-7 1-7 0-7 1-5 0-4 8-17 7 7" stroke="#d35a62" stroke-width="2.2" fill="none" transform="scale(.5)"/><path d="M2076 2187l8-7 10 13 0 5 1 5 0 6 1 7 0 7 1 8 0 9 1 9 0 9 1 10 0 9 1 10 0 9 0 9 1 9 0 9 1 8 0 7 1 6 0 6 1 5 0 3 1 3 0 1 1 0 0-2 1-4 1-5 0-7 1-7 1-9 0-9 1-10 1-10 1-10 0-11 1-10 1-9 0-9 1-9 1-7 1-6 1-4 9-14 8 4" stroke="#f2a2af" stroke-width="2.2" fill="none" transform="scale(.5)"/><path d="M2032 2175l6-9 8 15 1 4 0 5 1 6 0 6 0 8 1 7 0 8 1 9 0 9 0 9 1 10 0 9 0 9 1 10 0 9 0 9 1 8 0 8 0 8 1 7 0 7 1 5 0 5 0 4 1 3 0 2 1 1 0-1 1-4 1-5 0-7 1-9 1-9 1-10 0-10 1-10 1-10 0-10 1-9 1-8 1-6 1-5 8-12 6 2" stroke="#d35a62" stroke-width="2.2" fill="none" transform="scale(.5)"/><path d="M2054 2204l9-6 10 12 0 4 1 6 1 6 0 8 1 8 1 9 0 9 1 10 0 10 1 9 1 10 0 9 1 9 0 8 1 7 0 7 1 5 1 4 0 3 1 1 1 0 0-3 1-4 1-6 1-7 1-8 0-9 1-10 1-10 1-10 1-10 1-10 0-9 1-8 1-8 1-6 1-5 10-12 9 2" stroke="#8a1a24" stroke-width="2.2" fill="none" transform="scale(.5)"/><path d="M1965 2208l7-7 7 13 1 4 1 6 0 7 1 8 0 8 1 10 0 9 0 10 1 11 0 10 1 10 0 9 1 9 0 8 1 8 0 6 1 5 0 4 0 2 1 1 0-1 1-3 0-3 1-5 0-6 1-6 0-8 1-8 0-8 1-9 0-10 1-9 0-10 1-9 0-10 1-9 0-9 1-8 0-8 1-7 0-6 1-5 0-5 8-15 7 5" stroke="#d35a62" stroke-width="2.2" fill="none" transform="scale(.5)"/><path d="M2057 2178l5-2 7-7 9-4 8 3 7 16 1 5 1 4 1 6 0 6 1 7 1 7 1 7 1 9 0 8 1 9 1 9 0 9 1 10 1 10 0 9 1 10 1 10 0 9 1 10 1 9 0 9 1 8 1 9 0 8 1 7 1 7 0 7 1 5 1 6 0 4 1 4 1 3 1 1 0 2 1 0 1-2 1-2 1-3 1-5 1-5 1-6 1-7 1-7 1-8 0-9 1-9 1-9 1-10 1-9 1-10 1-10 1-10 1-10 1-9 1-9 1-9 1-9 1-8 1-7 1-7 1-6 2-5 1-4 7-14 8-4 9 2 7 4 5 2" stroke="#f2a2af" stroke-width="2.2" fill="none" transform="scale(.5)"/><path d="M2039 2211l9-9 11 15 0 4 1 5 0 6 1 7 1 7 0 8 1 9 0 9 1 9 0 9 0 10 1 9 0 10 1 10 0 9 1 9 0 8 1 9 0 7 1 7 0 7 1 5 0 5 1 3 0 3 1 1 1-2 1-3 1-5 0-6 1-7 1-9 0-8 1-10 1-10 1-10 0-11 1-10 1-10 1-9 1-9 0-8 1-7 1-6 1-5 7-13 7 1 5 2" stroke="#d35a62" stroke-width="2.2" fill="none" transform="scale(.5)"/><path d="M2068 2182l5-4 9-4 7 14 1 4 1 6 1 6 0 8 1 8 1 8 0 10 1 9 1 10 0 10 1 10 0 10 1 10 1 9 0 9 1 8 0 8 1 7 0 5 1 5 1 4 0 2 1 1 1-1 0-2 1-3 1-5 1-5 0-7 1-7 1-8 0-9 1-9 1-10 0-10 1-9 1-10 1-10 0-9 1-9 1-9 1-8 1-7 0-7 1-5 1-4 8-15 8 2 6 3" stroke="#8a1a24" stroke-width="2.2" fill="none" transform="scale(.5)"/><path d="M1943 2194l6-3 9-3 7 12 1 4 1 6 1 6 0 8 1 8 1 8 1 9 0 9 1 10 1 9 0 10 1 9 1 8 0 8 1 7 1 7 1 5 0 5 1 3 1 1 1 0 1-2 1-5 1-6 1-7 1-9 1-9 1-10 2-10 1-10 1-10 1-9 1-8 2-6 1-5 8-11 8 0 6 1" stroke="#d35a62" stroke-width="2.2" fill="none" transform="scale(.5)"/><path d="M1984 2205l6-5 8-4 8 15 1 4 0 6 1 6 1 7 0 8 1 9 1 9 0 9 1 10 0 10 1 10 1 10 0 9 1 10 0 9 1 9 0 8 1 7 1 6 0 6 1 4 0 4 1 2 1 0 0-1 1-2 1-3 0-4 1-6 1-6 0-7 1-8 1-8 0-9 1-9 1-10 0-9 1-10 1-10 0-10 1-9 1-9 0-9 1-8 1-8 1-7 0-6 1-5 1-5 8-16 8 3 6 3" stroke="#f2a2af" stroke-width="2.2" fill="none" transform="scale(.5)"/><path d="M1989 2167l6-5 8-8 10 0 8 19 0 4 1 5 1 5 1 6 0 7 1 7 1 7 0 8 1 9 0 9 1 9 1 9 0 9 1 10 0 10 1 10 0 9 1 10 0 10 1 9 1 9 0 9 1 9 0 9 1 8 0 7 1 7 0 7 1 6 1 5 0 5 1 4 0 3 1 3 1 1 0 1 1-1 1-1 0-2 1-3 1-4 0-5 1-5 1-6 0-7 1-7 1-8 0-8 1-8 1-9 0-9 1-9 1-10 0-9 1-10 1-10 1-10 0-9 1-10 1-9 0-9 1-9 1-9 1-8 0-8 1-7 1-7 1-6 1-5 0-5 1-4 8-19 10-2 8 7 6 4" stroke="#d35a62" stroke-width="2.2" fill="none" transform="scale(.5)"/><path d="M2023 2165l5-3 7-6 9-5 8 4 7 16 1 4 0 5 1 5 1 6 1 7 1 7 0 8 1 8 1 8 0 9 1 9 1 9 0 10 1 9 1 10 0 9 1 10 1 9 0 10 1 9 1 9 0 8 1 9 1 8 0 7 1 7 1 6 0 6 1 5 1 4 0 4 1 3 1 2 0 1 1 0 1-1 1-3 1-3 1-4 1-5 1-6 1-7 1-7 0-8 1-9 1-9 1-9 1-9 1-10 1-10 1-10 1-10 1-9 1-10 1-9 1-9 1-8 1-8 1-7 1-7 1-6 1-5 1-4 7-14 9-4 8 2 7 5 5 1" stroke="#8a1a24" stroke-width="2.2" fill="none" transform="scale(.5)"/><path d="M2032 2166l7-8 8 14 0 4 1 5 0 6 1 7 0 7 1 7 0 9 0 8 1 9 0 9 0 9 1 10 0 9 0 9 1 9 0 9 0 9 1 8 0 7 1 8 0 6 0 6 1 5 0 4 0 3 1 2 1 2 0-2 1-4 1-6 1-8 0-9 1-11 1-10 1-11 1-10 0-10 1-9 1-7 1-5 8-11 7 1" stroke="#d35a62" stroke-width="2.2" fill="none" transform="scale(.5)"/><path d="M1944 2210l6-3 9-7 10 1 8 15 1 5 1 5 1 6 1 6 1 8 0 8 1 8 1 9 1 9 1 10 0 10 1 10 1 10 0 10 1 10 1 9 1 10 0 9 1 9 1 8 0 8 1 7 1 6 1 6 0 4 1 4 1 3 1 1 0 1 1-1 1-2 1-2 1-4 0-4 1-6 1-6 1-6 1-7 0-8 1-8 1-9 1-9 1-9 0-9 1-10 1-10 1-9 1-10 1-9 0-10 1-9 1-9 1-8 1-8 1-8 1-6 1-7 1-5 1-5 0-4 9-18 10-1 9 5 6 4" stroke="#f2a2af" stroke-width="2.2" fill="none" transform="scale(.5)"/><path d="M1977 2203l5-2 8-4 8 1 7 11 1 4 1 6 1 6 1 7 1 8 1 9 1 9 1 9 1 10 0 9 1 10 1 9 1 9 1 8 1 7 0 6 1 6 1 4 1 3 1 2 2-1 1-2 1-5 2-6 1-8 1-9 2-10 1-10 2-10 1-11 1-9 2-10 2-8 1-6 2-5 7-10 8-2 7 1 5 1" stroke="#d35a62" stroke-width="2.2" fill="none" transform="scale(.5)"/><path d="M2029 2166l6-3 7-7 8-5 9 4 7 17 0 4 1 4 1 6 1 6 0 6 1 7 1 8 1 8 0 8 1 9 1 9 0 9 1 10 1 9 0 10 1 9 0 10 1 10 1 9 0 10 1 9 0 9 1 9 1 8 0 8 1 7 1 8 0 6 1 6 0 5 1 5 1 4 0 3 1 3 1 1 1 1 1-1 1-3 1-3 0-4 1-4 1-6 1-6 1-7 0-7 1-8 1-8 1-8 0-9 1-9 1-10 1-9 1-10 0-10 1-10 1-9 1-10 1-9 1-9 1-9 0-9 1-8 1-8 1-7 1-7 1-6 1-6 1-5 1-4 7-16 8-5 8 4 8 5 5 2" stroke="#8a1a24" stroke-width="2.2" fill="none" transform="scale(.5)"/><path d="M1971 2210l6-3 8-4 9 1 7 12 1 4 1 5 1 7 1 7 1 7 1 9 1 8 1 10 1 9 1 9 1 10 0 9 1 9 1 9 1 8 1 8 1 7 0 6 1 5 1 4 1 3 1 2 1 0 2-3 1-4 2-6 1-7 1-9 2-9 1-10 2-11 1-10 1-10 2-10 1-9 2-8 2-6 1-5 8-10 9-2 8 1 5 1" stroke="#d35a62" stroke-width="2.2" fill="none" transform="scale(.5)"/><path d="M2015 2180l6-5 8-4 8 15 1 4 0 5 1 7 1 7 0 7 1 9 1 9 0 9 1 10 1 9 0 10 1 10 0 10 1 9 0 9 1 8 0 8 1 7 1 7 0 5 1 5 0 3 1 2 1 1 0-1 1-2 1-3 0-4 1-6 1-6 0-7 1-8 1-9 1-9 0-9 1-10 1-9 0-10 1-10 1-9 1-10 0-9 1-8 1-8 1-7 0-6 1-5 1-5 8-15 8 2 6 3" stroke="#f2a2af" stroke-width="2.2" fill="none" transform="scale(.5)"/><path d="M1939 2214l6-2 9-4 9 1 8 11 2 4 1 6 1 7 1 8 1 9 2 9 1 10 1 10 1 10 1 10 1 10 1 9 1 8 1 8 1 6 1 5 1 4 1 1 1 1 1-2 1-3 1-3 1-5 1-6 1-6 1-8 1-8 1-8 1-9 1-9 1-10 1-9 1-10 1-9 1-10 1-9 1-9 1-8 1-7 2-7 1-7 1-5 1-4 8-14 9-2 9 4 6 2" stroke="#d35a62" stroke-width="2.2" fill="none" transform="scale(.5)"/><path d="M2072 2184l5-2 7-5 8 0 7 13 1 5 1 5 1 6 1 7 1 7 1 9 0 8 1 9 1 10 1 9 0 10 1 10 1 9 1 9 0 9 1 9 1 8 0 7 1 7 1 6 1 4 0 4 1 3 1 1 1 0 1-1 1-4 1-5 1-6 1-8 1-8 2-9 1-9 1-10 1-10 1-10 1-10 1-9 2-9 1-8 1-7 1-6 2-4 7-12 8-2 7 2 6 2" stroke="#8a1a24" stroke-width="2.2" fill="none" transform="scale(.5)"/><path d="M2051 2185l7-4 10-3 9 13 1 4 1 5 0 7 1 6 1 8 1 8 1 9 0 9 1 9 1 9 1 9 0 9 1 9 1 9 1 8 0 8 1 7 1 6 1 5 0 5 1 3 1 2 1 1 2-2 1-5 2-7 1-8 2-10 1-10 2-10 1-10 2-10 2-9 1-7 2-5 9-9 10-1 7 0" stroke="#d35a62" stroke-width="2.2" fill="none" transform="scale(.5)"/><path d="M1930 2206l7-3 11-3 9 12 1 4 1 6 1 6 1 7 1 8 1 9 1 9 1 9 1 10 0 9 1 10 1 9 1 8 1 8 0 7 1 7 1 5 1 4 1 3 1 2 1-1 1-2 2-4 1-6 1-7 1-9 2-9 1-9 1-10 1-10 2-10 1-9 1-9 2-8 1-6 2-4 7-10 8-3 7 2 5 1" stroke="#f2a2af" stroke-width="2.2" fill="none" transform="scale(.5)"/><path d="M2062 2203l6-2 8-3 9 0 7 11 2 5 1 5 1 7 1 7 1 8 1 9 1 9 1 10 1 10 1 9 1 10 1 9 1 9 0 8 1 7 1 6 1 5 1 4 1 3 1 1 2-1 1-3 1-4 1-5 1-6 1-8 2-8 1-9 1-10 1-9 1-10 2-10 1-10 1-9 2-8 1-8 1-7 2-6 1-4 8-12 9-2 8 3 5 1" stroke="#d35a62" stroke-width="2.2" fill="none" transform="scale(.5)"/><path d="M1933 2179l5-2 7-5 8-4 9 3 7 14 1 4 1 5 1 5 1 7 1 6 0 8 1 8 1 8 1 9 1 9 1 9 0 9 1 9 1 10 1 9 1 9 0 9 1 8 1 9 1 7 0 8 1 6 1 6 1 6 1 4 1 4 0 3 1 2 2 1 1-2 2-3 1-5 2-7 2-8 1-9 2-10 1-10 2-10 2-11 1-10 2-10 2-8 1-8 2-6 2-5 7-9 9-4 8 1 7 2 5 0" stroke="#8a1a24" stroke-width="2.2" fill="none" transform="scale(.5)"/><path d="M2033 2187l5-2 8-5 9-3 9 3 8 13 1 4 1 5 1 6 1 6 1 7 1 8 1 8 1 9 1 9 1 9 1 10 1 9 1 10 1 10 1 9 1 9 0 9 1 8 1 8 1 8 1 7 1 6 1 5 1 4 1 4 1 3 1 1 1 0 2-1 1-3 1-5 2-5 1-7 1-8 2-8 1-9 1-9 2-10 1-10 2-10 1-10 2-9 1-9 2-8 1-8 2-7 2-5 1-5 8-10 9-4 9 1 8 3 5 0" stroke="#d35a62" stroke-width="2.2" fill="none" transform="scale(.5)"/><path d="M2177 2200l5-3 8-2 7 11 1 5 1 5 1 7 1 8 0 8 1 9 1 9 1 10 0 9 1 9 1 9 1 9 0 8 1 6 1 6 0 4 1 3 1 2 1-1 1-3 1-5 1-6 1-8 1-9 1-9 1-10 1-11 1-10 1-9 2-9 1-8 1-6 1-5 7-11 8 0 6 1" stroke="#f2a2af" stroke-width="2.2" fill="none" transform="scale(.5)"/><path d="M2249 2209l5-1 7-4 8-2 9 3 6 10 2 5 1 5 1 7 2 8 1 8 1 9 1 10 1 10 1 10 2 10 1 9 1 10 1 9 1 8 1 7 1 7 1 5 1 4 2 3 1 1 1-1 1-2 2-4 1-5 1-6 1-7 2-8 1-9 1-9 2-9 1-10 1-10 2-9 1-9 2-9 1-9 2-7 1-7 2-5 1-5 7-10 8-4 8 1 7 3 5 0" stroke="#d35a62" stroke-width="2.2" fill="none" transform="scale(.5)"/><path d="M2103 2215l6-4 7-4 7 14 1 4 1 6 0 6 1 7 1 7 0 9 1 9 0 9 1 9 0 10 1 10 0 9 1 10 0 9 1 9 1 8 0 8 1 7 0 7 1 5 0 4 1 4 0 2 1 0 1 0 0-2 1-4 0-4 1-5 1-7 0-7 1-7 0-9 1-9 1-9 0-9 1-10 1-10 0-9 1-10 1-9 0-9 1-8 1-8 1-7 0-6 1-5 1-4 7-16 8 2 5 4" stroke="#f2a2af" stroke-width="2.2" fill="none" transform="scale(.5)"/><path d="M2217 2212l6-3 9-4 9 1 8 12 1 4 1 5 1 7 1 7 1 8 1 8 1 9 1 9 1 10 1 9 0 10 1 9 1 9 1 9 1 8 1 8 1 7 0 6 1 5 1 4 1 3 1 1 2 0 1-2 1-4 1-5 2-7 1-8 1-8 1-10 2-9 1-10 1-10 2-10 1-10 2-9 1-8 2-7 1-6 2-4 8-11 9-2 8 2 6 1" stroke="#8a1a24" stroke-width="2.2" fill="none" transform="scale(.5)"/><path d="M2140 2195l5-2 8-5 9 1 7 12 1 5 1 5 1 6 1 7 1 8 1 9 1 9 1 9 1 9 1 10 1 9 0 10 1 9 1 9 1 8 1 8 1 7 0 7 1 5 1 4 1 3 1 2 1 0 2-2 1-4 1-6 2-7 1-8 2-9 1-10 1-10 2-10 1-10 2-10 1-8 2-8 1-6 2-5 8-10 8-2 8 2 6 0" stroke="#f2a2af" stroke-width="2.2" fill="none" transform="scale(.5)"/><path d="M2217 2222l5-4 8-3 7 13 1 4 1 6 1 7 1 7 0 9 1 9 1 9 0 10 1 10 1 10 0 10 1 9 1 9 0 8 1 7 0 7 1 5 1 4 1 3 0 1 1-1 1-2 1-4 0-6 1-6 1-8 1-8 1-9 0-10 1-10 1-10 1-10 1-10 1-9 1-9 1-8 1-7 0-6 1-4 8-13 8 1 5 2" stroke="#d35a62" stroke-width="2.2" fill="none" transform="scale(.5)"/><path d="M2079 2194l7-5 10-4 9 15 1 4 0 6 1 6 1 7 1 8 1 8 0 9 1 9 1 10 0 10 1 10 1 9 0 10 1 10 1 9 0 8 1 8 1 8 1 7 0 5 1 5 1 4 0 2 1 2 1 0 1-2 1-4 1-4 1-6 1-7 1-7 0-9 1-9 1-9 1-10 1-9 1-10 1-10 1-9 1-9 1-8 1-8 1-6 1-6 2-4 6-13 8-1 7 2 5 2" stroke="#f2a2af" stroke-width="2.2" fill="none" transform="scale(.5)"/><path d="M2228 2216l5-2 8-3 8 1 7 10 2 4 1 6 1 7 1 7 1 9 1 9 1 9 1 10 1 9 1 9 1 9 1 9 1 8 1 6 1 6 1 5 1 2 1 2 2-1 1-3 1-5 2-6 1-8 1-9 2-9 1-10 2-11 1-10 2-9 1-9 2-8 2-6 1-5 8-10 8-2 7 1 6 1" stroke="#8a1a24" stroke-width="2.2" fill="none" transform="scale(.5)"/><path d="M2206 2198l6-3 9-5 10 0 8 14 1 4 1 5 1 6 1 7 0 7 1 8 1 8 1 9 1 9 1 9 0 10 1 9 1 10 1 9 0 9 1 9 1 9 1 8 0 7 1 7 1 6 1 6 1 5 0 3 1 3 1 1 1 1 2-2 1-3 1-5 1-7 2-7 1-8 1-9 1-10 2-10 1-10 1-11 2-9 1-10 1-9 2-8 1-7 2-6 1-5 9-11 9-2 9 2 6 1" stroke="#f2a2af" stroke-width="2.2" fill="none" transform="scale(.5)"/><path d="M2192 2222l5-1 7-3 8-2 8 3 7 9 2 5 1 5 1 7 2 8 1 8 1 9 2 9 1 10 1 10 1 9 1 9 1 9 1 8 2 8 1 6 1 6 1 4 1 2 2 1 1 0 2-3 1-4 2-6 1-7 1-8 2-8 1-10 2-9 1-10 2-10 1-10 2-10 2-8 1-9 2-7 2-6 1-4 8-10 8-3 8 0 7 2 5 1" stroke="#d35a62" stroke-width="2.2" fill="none" transform="scale(.5)"/><path d="M2097 2221l7-1 8-4 10 1 8 10 1 5 2 6 1 7 1 8 2 9 1 9 1 10 1 10 1 10 1 9 1 10 1 8 2 8 1 7 1 6 1 5 1 3 2 1 1 0 1-3 2-4 1-6 2-6 1-8 1-9 2-9 1-9 2-10 1-9 2-9 1-9 2-8 2-7 1-6 2-5 8-10 10-2 8 2 6 0" stroke="#f2a2af" stroke-width="2.2" fill="none" transform="scale(.5)"/><path d="M2206 2191l6-3 8-6 9 1 8 14 1 4 0 5 1 6 1 7 1 7 1 8 1 9 0 9 1 9 1 9 1 10 0 10 1 9 1 10 1 9 0 9 1 9 1 8 0 8 1 7 1 6 1 5 0 5 1 4 1 2 1 1 1 0 1-1 1-3 1-5 1-6 1-6 1-8 1-9 1-9 1-9 1-10 2-10 1-10 1-10 1-9 1-9 1-9 1-7 2-7 1-6 1-4 8-13 9-1 8 2 5 2" stroke="#8a1a24" stroke-width="2.2" fill="none" transform="scale(.5)"/><path d="M2207 2209l7-4 9-4 8 14 1 4 0 6 1 6 1 7 1 8 0 9 1 9 1 9 0 10 1 10 1 10 0 10 1 9 1 10 0 9 1 8 0 8 1 6 1 6 0 5 1 4 1 3 0 1 1 0 1-2 1-4 1-5 1-6 1-8 0-8 1-9 1-9 1-10 1-10 1-10 1-10 1-10 1-9 1-9 1-7 1-7 1-6 1-5 8-13 9 1 6 2" stroke="#f2a2af" stroke-width="2.2" fill="none" transform="scale(.5)"/><path d="M2232 2190l7-7 8 13 0 5 1 5 0 7 1 7 0 8 1 8 0 9 1 9 0 10 1 10 0 9 1 10 0 9 0 9 1 9 0 8 1 7 0 6 0 5 1 5 0 3 1 1 1 0 0-2 1-4 1-6 0-7 1-9 1-9 0-10 1-11 1-10 1-10 0-10 1-9 1-8 1-6 1-5 8-12 7 2" stroke="#d35a62" stroke-width="2.2" fill="none" transform="scale(.5)"/><path d="M2113 2209l5-1 8-3 9 1 7 9 2 5 1 6 2 8 1 8 1 9 1 10 2 10 1 9 1 10 1 9 1 7 2 7 1 5 1 4 2 1 1-1 2-3 2-5 1-8 2-8 2-10 1-10 2-10 2-10 2-9 1-9 2-7 2-5 8-8 8-3 8 1 6 0" stroke="#f2a2af" stroke-width="2.2" fill="none" transform="scale(.5)"/><path d="M2137 2189l7-6 9 12 0 5 1 5 0 7 1 7 0 8 1 9 0 9 1 10 0 10 1 9 0 10 1 9 0 10 1 8 0 8 1 7 0 6 0 6 1 4 0 2 1 1 1 0 0-2 1-4 0-5 1-7 1-7 0-9 1-9 0-9 1-10 1-10 0-10 1-9 1-9 0-9 1-8 1-7 0-6 1-4 9-14 7 4" stroke="#8a1a24" stroke-width="2.2" fill="none" transform="scale(.5)"/><path d="M2131 2203l7-6 9 12 0 4 1 5 0 7 1 7 0 9 1 8 0 9 1 10 0 9 1 10 0 9 1 10 0 8 1 8 0 8 1 6 0 6 1 4 0 3 1 1 1-2 1-5 0-5 1-8 1-8 1-9 0-10 1-10 1-10 1-10 0-9 1-9 1-7 1-7 1-4 8-12 7 2" stroke="#f2a2af" stroke-width="2.2" fill="none" transform="scale(.5)"/><path d="M2200 2220l9-3 10 9 1 5 1 7 2 8 1 9 0 9 1 10 1 10 1 10 1 8 1 8 1 5 1 4 1 1 1-1 1-4 1-6 2-7 1-9 1-9 1-10 1-10 1-10 1-10 2-8 1-7 1-5 7-10 8 0 5 0" stroke="#d35a62" stroke-width="2.2" fill="none" transform="scale(.5)"/><path d="M2134 2189l6-6 9-4 8 16 1 4 1 5 0 6 1 6 1 8 0 8 1 8 0 9 1 9 1 9 0 10 1 10 0 9 1 10 0 9 1 10 0 9 1 8 0 8 1 7 0 7 1 6 1 5 0 5 1 3 0 2 1 2 1-1 0-1 1-3 1-5 1-5 0-7 1-7 1-8 1-9 0-9 1-10 1-10 1-10 0-10 1-10 1-10 1-9 1-9 1-8 0-7 1-7 1-5 1-5 8-15 9 2 6 3" stroke="#f2a2af" stroke-width="2.2" fill="none" transform="scale(.5)"/><path d="M2081 2188l5-3 7-5 9 1 6 13 1 4 1 5 1 6 1 7 1 8 1 8 0 9 1 9 1 9 1 10 0 9 1 10 1 10 0 9 1 9 1 8 1 8 0 7 1 7 1 6 0 4 1 4 1 2 1 2 1-1 1-2 1-3 1-5 1-6 1-8 1-8 1-9 1-9 1-10 1-10 1-10 1-10 1-10 1-9 2-9 1-7 1-7 1-6 1-5 7-12 9-2 7 3 5 1" stroke="#8a1a24" stroke-width="2.2" fill="none" transform="scale(.5)"/><path d="M2172 2217l5-1 7-3 8-2 8 2 7 10 2 4 1 6 2 7 1 8 1 9 1 9 2 9 1 10 1 10 1 10 2 9 1 9 1 8 1 7 1 6 2 5 1 3 1 2 2-1 2-2 1-5 2-6 2-7 2-9 1-9 2-10 2-10 2-10 2-9 2-9 2-7 2-7 2-4 7-8 8-4 8 1 7 1 5 0" stroke="#f2a2af" stroke-width="2.2" fill="none" transform="scale(.5)"/><path d="M2205 2190l6-5 8-4 8 15 1 4 1 5 0 6 1 7 1 8 0 8 1 9 1 9 0 9 1 10 0 10 1 9 0 10 1 9 1 9 0 9 1 8 0 7 1 7 0 6 1 5 1 4 0 2 1 2 1 0 1-2 1-4 0-5 1-6 1-7 1-8 1-9 1-10 1-10 1-10 1-10 0-10 1-9 1-9 1-8 1-7 1-6 1-4 8-13 9 1 6 2" stroke="#d35a62" stroke-width="2.2" fill="none" transform="scale(.5)"/><path d="M1762 2347l4-6 4 0 4-6 5-4 4-3 4 1 5-5 4 0 5-7 4-4 5-3 4-3 5-1 4-6 5-1 4-3 5-7 5 2 5-4 5 0 5 5 5-7 5-2 5-1 5 1 5 3 5 8 6-3 5-2 5 0 5 8 5-6 5 4 5 0 5 6 5-2 5 2 5 3 5-1 6 5 5 3 5 4 5-2 5 3 5-2 4 5 4 2 4 5 3 7 4 7 4 1 4 12 4 1 3-1 4 11 4-2 4 5 3 4 4 3 4 6 5-1 5-1 5-1 5 6 5-2 5 6 5 3 5-4 5-2 2-7 3 0 2-9 2 0 2-11 1-2 1-9 0-3 1-1 1-5 0-10 1-7 1-12 0-2 1-1 1-7 0-2 1-4 1-7 0 2 1-5 1-3 0-4 1-11 0-5 1-3 1-8 0-4 1-6 1-8 0-1 3-8 2-7 2-4 2-8 2-8 2 1 2-9 2-1 6 2 6-3 5 5 6-2 6 1 5 2 5-2 5 5 5 5 5 2 5 5 5 1 5 4 5 3 5 3 5 2 4-4 5 12 4 0 5 5 5 4 4 0 5 3 4 5 5-2 5-3 6 1 6 1 5 2 6-4 6 7 3-2 3 8 3-4 3 4 3 8 3 4 3 8 3 6 3 4 4-1 3 8M1762 2318l4 2 4-2 4 1 5-3 4-5 4-4 5-6 4 1 5-3 4-1 5-9 4 1 5-5 4-3 5-3 4 1 5 2 5 6 5-6 5 4 5-10 5-6 5 4 5-5 5-1 5 1 5 4 6 3 5 3 5 5 5-3 5 4 5 7 5-6 5 6 5-2 5-1 5-2 5-2 6 4 5 3 5-2 5 1 5 8 5-1 4 8 4-4 4 11 3 4 4 3 4 0 4 5 4 9 3 11 4-2 4-2 4 8 3 1 4 13 4-1 5-1 5 6 5 4 5-6 5 3 5 5 5 5 5-6 5 2 2-2 3-8 2-1 2-9 2-2 1-1 1-10 0-7 1-13 1-3 0-1 1-12 1 6 0-9 1-3 1-3 0-4 1-9 1-4 1-10 1-4 0-5 1-7 0-2 1-7 1-7 0-5 1-9 1-4 0-1 3-14 2-5 2-8 2 0 2 0 2-11 2 0 2-6 6 4 6 0 5-4 6-1 6 1 5-3 5 1 5 0 5 9 5 1 5-5 5 10 5-4 5 1 5 6 5 5 4-5 5 9 4 3 5 4 5 2 4 0 5 5 4-3 5 7 5 1 6-1 6 6 5-1 6 6 6-4 3 1 3-1 3 6 3 9 3 3 3 7 3-4 3 8 3 4 4 6 3 13M1762 2355l4 0 4-4 4-7 5-2 4-3 4-10 5 2 4-2 5-1 4-7 5 2 4-4 5-1 4-3 5-4 4-4 5 0 5-8 5 5 5-5 5-3 5-1 5-3 5 0 5 6 5-3 5 7 6 1 5-2 5 2 5-4 5 8 5 1 5-3 5 1 5 0 5 5 5-7 5 3 6-1 5 4 5 1 5 3 5 3 5 2 4 7 4-4 4 12 3 1 4 3 4 0 4 5 4 1 3 5 4 4 4 7 4 0 3 8 4 2 4 2 5 5 5 1 5 5 5 6 5-3 5-1 5 9 5 2 5 2 2-6 3-2 2-10 2-8 2 0 1-8 1-6 1-5 1-1 0-9 1-4 1-6 0-6 1-3 1-9 0-5 1-8 1-4 0-6 1-2 1-11 0-2 1-6 0-3 1-7 1-5 0-4 1-8 1 3 0-6 3-3 2-6 2-11 2 0 2-10 2-8 2-7 2-2 6 1 6 4 5-8 6 5 6-6 5 2 5 6 5 2 5 1 5-1 5 2 5 8 5-1 5 0 5 11 5-1 4 4 5-2 4 3 5 5 5 5 4 1 5 0 4-2 5 9 5-6 6 2 6-2 5 12 6-11 6 5 3 4 3 2 3 10 3 6 3 0 3 6 3 1 3 4 3 4 4 1 3 8M1762 2349l4-4 4-1 4-9 5 4 4-10 4 0 5-1 4 3 5-3 4-2 5-5 4-4 5-4 4-1 5-8 4 0 5 0 5-8 5-1 5-1 5-5 5 2 5 0 5 2 5-5 5-2 5 4 6 3 5-1 5 5 5-1 5 4 5 0 5-2 5 4 5-1 5-2 5 0 5-2 6-3 5 1 5 4 5 3 5 3 5-5 4 6 4-1 4 1 3 11 4 2 4 0 4 3 4 6 3 8 4 1 4 4 4 4 3 5 4 4 4 7 5-1 5 1 5 6 5 0 5 4 5 4 5 1 5 6 5-2 2-6 3-1 2-7 2-7 2-6 1 5 1-7 0-11 1-6 1-2 0-6 1 0 1-16 0-4 1-7 1 4 0-11 1 1 1-8 0-1 1-9 1 1 0-1 1-9 0-2 1-8 1-2 0-6 1 0 1-2 0-14 3-1 2-5 2-3 2-9 2-1 2-13 2-5 2-10 6 11 6-1 5 6 6-2 6 2 5-4 5-2 5-4 5 7 5 0 5-4 5 6 5 1 5 4 5 6 5 4 4 1 5-3 4 4 5 6 5 12 4 0 5 5 4 3 5 6 5 1 6 4 6-1 5-10 6 5 6-4 3 12 3-1 3 7 3 3 3 0 3 10 3-3 3 2 3 4 4 4 3 10M1762 2374l4-7 4 5 4-7 5-3 4-2 4-7 5-10 4-1 5 0 4-6 5 0 4-5 5-2 4-2 5-4 4-9 5 7 5-8 5 5 5-8 5 0 5 5 5-1 5-4 5 1 5 7 5-6 6-1 5 5 5-1 5-2 5 7 5-2 5 4 5 0 5-5 5 7 5-1 5 2 6-5 5 7 5-1 5-1 5 2 5-6 4 5 4 8 4 9 3 3 4 6 4 1 4 11 4-3 3 5 4 1 4 6 4 4 3 4 4 3 4 6 5 0 5 2 5-6 5 7 5-5 5 4 5 2 5 8 5-5 2-1 3-7 2-5 2-7 2-3 1-2 1-4 0-9 1-3 1-6 0-6 1-9 1 1 0-4 1-4 1-9 0-4 1-4 1-10 0-12 1 3 1-9 0-2 1-2 0-11 1-7 1-3 0-5 1 0 1-7 0-7 3 6 2-6 2-7 2-10 2-3 2-4 2-4 2-2 6-3 6 2 5 1 6 0 6 0 5 5 5-4 5 9 5 5 5 4 5-1 5 2 5 1 5 7 5 10 5-2 4 0 5 1 4 3 5-4 5 3 4 2 5 7 4-1 5-1 5 3 6-1 6 6 5 2 6-10 6 2 3 3 3 11 3-1 3 6 3 3 3 8 3 7 3 3 3 9 4 3 3 6M1762 2342l4-10 4 4 4-7 5-4 4-4 4-6 5 2 4-6 5-1 4-3 5-11 4-2 5 0 4 3 5-2 4-6 5 5 5-7 5 0 5 1 5 0 5 1 5-3 5-3 5-9 5 6 5 2 6-5 5 3 5 4 5-1 5-3 5 6 5-1 5 5 5 0 5-1 5 0 5 6 6 3 5 7 5 4 5-8 5 5 5-2 4 6 4 2 4 3 3 5 4 4 4 3 4 2 4 1 3 4 4 3 4 9 4-6 3 12 4 2 4 7 5 1 5 9 5-5 5 3 5 3 5 5 5 1 5 3 5-4 2-3 3-8 2-3 2-5 2-12 1-1 1-10 0-2 1-10 1 6 0-13 1-2 1-6 0-4 1 2 1-7 0-11 1-3 1-2 0-2 1-8 1-4 0-11 1-4 0-2 1-6 1-6 1-10 1 2 0-6 3 2 2-11 2-10 2-7 2-4 2-5 2-9 2-9 6 9 6-8 5 6 6-3 6-1 5-3 5 4 5 7 5 5 5-6 5 4 5-4 5 2 5-3 5 3 5 4 4 6 5-1 4 5 5 0 5 8 4 5 5 0 4 7 5 8 5-4 6 5 6 8 5 1 6-1 6 8 3-4 3 7 3 2 3 10 3-6 3 8 3 4 3 0 3-1 4 3 3 7" stroke="#8a1a24" stroke-width="2.2" fill="none" transform="scale(.5)"/><path d="M1762 2267l3-4 4-1 5-4 5-4 6-3 6-5 6-5 7-5 6-2 6-4 6 0 6-3 6 0 7-2 6-2 6-2 7-2 6-1 6-4 7-5 6 2 6-3 7-2 6-4 6-5 7 1 6-2 6 3 6-2 7-4 6-2 6-1 6-1 7-1 6-1 6-2 6-2 6 0 6-2 6 4 6-1 7-1 6 0 7 2 7-3 6 3 6-4 6-3 7-4 7-5 7-3 7 1 7-3 6 1 6 0 4-2 4 4 3 4 2 4 2 2 1 7 1 7 0 4 1 8 0 4 0 9 0 5 0 8 0 8 1 6 1 7 1 7 1 6 2 8 1 8 2 10 1 3 2 6 1 8 2 6 2 2 2 6 3 7 4 2 4 5 4 5 4 3 3 3 4-2 3-9 3-5 7-4 5-1 5-5 5 2 6 2 7 2 7-1 7 3 7 0 8-1 5 6 7-2 7 1 7 1 7 1 8 1 7 1 7 2 7-1 6 4 5 2 5-1 4-1" stroke="#f4a8b4" stroke-width="12" fill="none" stroke-linejoin="round" transform="scale(.5)"/><path d="M1762 2295l2-6 4-4 4-2 5-2 5-4 5-7 6-4 6-4 5-2 6-5 6 0 6-3 6-1 6 0 7-2 6-1 6-2 7-1 6-3 6 0 7-1 6 2 6-5 6 1 6-3 6-2 7-5 7 3 6-3 6-2 6-2 7-2 6-1 7-2 6-2 6-3 6-2 6-1 6-4 7 2 7-4 7-3 6-3 6-3 6 0 6-1 6 1 6 0 5-1 5 2 6 5 6 9 2 1 2 5 2 6 2 1 2 6 2 9 2 4 3 5 2 7 2 7 2 7 2 7 3 8 2 8 2 9 2 4 2 1 2 7 1 4 4 11 4 8 4 5 3 5 4 7 3 5 3 2 4 3 3 7 3 7 3 10 4 6 3 6 3 6 3 6 3 2 3-2 1-3 1-2 1-1 1-3 1-6 0-8 1-7 0-6 1-9 1-8 0-5 1-11 1-6 1-6 1-8 1-5 1-7 1-6 2-5 3-8 3-9 3-2 4-6 4-4 4-6 4-4 4-1 4-5 4-3 4-6 4-1 6-6 5-5 6 0 6-8 5-1 6 1 6-2 5-4 7-4 7-2 7-3 7 1 6-3 5-5 4 0" stroke="#d0525a" stroke-width="12" fill="none" stroke-linejoin="round" transform="scale(.5)"/><path d="M1762 2340l3-3 4-2 5-8 6-3 7-6 5-2 5-3 5-5 6-4 6-6 6-3 6-2 6 2 7-3 6-8 7-5 6-2 6 1 7 0 6-2 6 4 5 1 6 3 5 6 6 1 6 1 6 3 6 0 6 3 6 4 7-3 7 1 7-4 6-2 7 4 5 3 5 4 7 3 4 2 4 6 3 10 5 5 4 5 5 7 4 4 5 4 5 7 5 5 6 0 6 0 7 2 7 3 7 1 7 6 6 0 5-1 5-1 2 0 2-5 2-17 1-3 1-5 1-8 0-4 1-4 1-7 1-8 0-9 1-6 1-6 1-6 1-9 1-5 1-8 0-9 1-8 1-5 1-4 1-8 1-5 0-4 3-11 2-5 2-7 2-6 2-5 3-2 3-4 6 1 6-2 7 4 7 2 8 0 6 2 6 2 7-3 6 5 7 3 7 0 6 3 6 5 6 1 6 6 6 5 5 4 6 3 5 3 6 1 7 2 7 3 7-2 6 2 7 3 4 5 4 0 4 4 5 10 4 5 4 5 3 4 3 6 3 6" stroke="#7f111b" stroke-width="12" fill="none" stroke-linejoin="round" transform="scale(.5)"/></g>
<path d="M936.2 1069.1v4M936.2 1215.3v-4M1047.1 1069.1v4M1047.1 1215.3v-4M1157.9 1069.1v4M1157.9 1215.3v-4M880.8 1194.4h4M1157.9 1194.4h-4M880.8 1090h4M1157.9 1090h-4" stroke="#3a3a3a" stroke-width="1.6" fill="none"/>
<rect x="880.8" y="1069.1" width="277.1" height="146.2" fill="none" stroke="#3a3a3a" stroke-width="1.8"/>
<text x="926" y="1230.8" font-size="16" stroke="#1a1a1a" stroke-width="0.25" textLength="24.5" lengthAdjust="spacingAndGlyphs">2°E</text>
<text x="1036.5" y="1230.8" font-size="16" stroke="#1a1a1a" stroke-width="0.25" textLength="24.5" lengthAdjust="spacingAndGlyphs">4°E</text>
<text x="1146.5" y="1230.8" font-size="16" stroke="#1a1a1a" stroke-width="0.25" textLength="24.5" lengthAdjust="spacingAndGlyphs">6°E</text>
<text x="838.4" y="1096.5" font-size="16" stroke="#1a1a1a" stroke-width="0.25" textLength="41" lengthAdjust="spacingAndGlyphs">34.50</text>
<text x="838.4" y="1199.7" font-size="16" stroke="#1a1a1a" stroke-width="0.25" textLength="41" lengthAdjust="spacingAndGlyphs">34.25</text>
<rect x="853.1" y="908.4" width="214.6" height="16.4" fill="none" stroke="#111" stroke-width="3"/><path d="M854 924.8L876.3 1055.7M1068.3 924.8L1154.6 1061.7" stroke="#111" stroke-width="3.2" stroke-dasharray="15 10" fill="none"/>
<circle cx="409.7" cy="38.5" r="7" fill="#222a6c"/>
<text x="427.2" y="45.3" font-size="19.5" stroke="#1a1a1a" stroke-width="0.3" textLength="203" lengthAdjust="spacingAndGlyphs">19.08.2019-31.08.2019</text>
<circle cx="409.7" cy="65.8" r="7" fill="#2db4e9"/>
<text x="427.2" y="72.6" font-size="19.5" stroke="#1a1a1a" stroke-width="0.3" textLength="203" lengthAdjust="spacingAndGlyphs">01.09.2019-15.09.2019</text>
<circle cx="409.7" cy="92.4" r="7" fill="#5fc5b8"/>
<text x="427.2" y="99.2" font-size="19.5" stroke="#1a1a1a" stroke-width="0.3" textLength="203" lengthAdjust="spacingAndGlyphs">16.09.2019-30.09.2019</text>
<circle cx="1108.5" cy="38.5" r="7" fill="#7f111b"/>
<text x="1124.5" y="45.3" font-size="19.5" stroke="#1a1a1a" stroke-width="0.3" textLength="203.5" lengthAdjust="spacingAndGlyphs">07.10.2020-24.10.2020</text>
<circle cx="1108.5" cy="65.8" r="7" fill="#d0525a"/>
<text x="1124.5" y="72.6" font-size="19.5" stroke="#1a1a1a" stroke-width="0.3" textLength="203.5" lengthAdjust="spacingAndGlyphs">25.10.2020-24.11.2020</text>
<circle cx="1108.5" cy="92.4" r="7" fill="#f4a8b4"/>
<text x="1124.5" y="99.2" font-size="19.5" stroke="#1a1a1a" stroke-width="0.3" textLength="203.5" lengthAdjust="spacingAndGlyphs">25.11.2020-12.12.2020</text>
<text x="102" y="38" font-size="19" stroke="#1a1a1a" stroke-width="0.3" textLength="111" lengthAdjust="spacingAndGlyphs">Immingham</text>
<path d="M99 31.9V76.7 M95 71.2 L99 76.7 L103 71.2" stroke="#111" stroke-width="2.6" fill="none"/>
<text x="798.5" y="41" font-size="19" stroke="#1a1a1a" stroke-width="0.3" textLength="110.5" lengthAdjust="spacingAndGlyphs">Immingham</text>
<path d="M795.4 35.3V80 M791.4 74.5 L795.4 80 L799.4 74.5" stroke="#111" stroke-width="2.6" fill="none"/>
<text x="511" y="187" font-size="19" stroke="#1a1a1a" stroke-width="0.3" textLength="111.2" lengthAdjust="spacingAndGlyphs">Gothenburg</text>
<path d="M626.5 185.9V230 M622.5 224.5 L626.5 230 L630.5 224.5" stroke="#111" stroke-width="2.6" fill="none"/>
<text x="1110.5" y="221.7" font-size="19" stroke="#1a1a1a" stroke-width="0.3" textLength="66" lengthAdjust="spacingAndGlyphs">Esbjerg</text>
<path d="M1178.8 220.4V265.4 M1174.8 259.9 L1178.8 265.4 L1182.8 259.9" stroke="#111" stroke-width="2.6" fill="none"/>
</svg></body></html>
